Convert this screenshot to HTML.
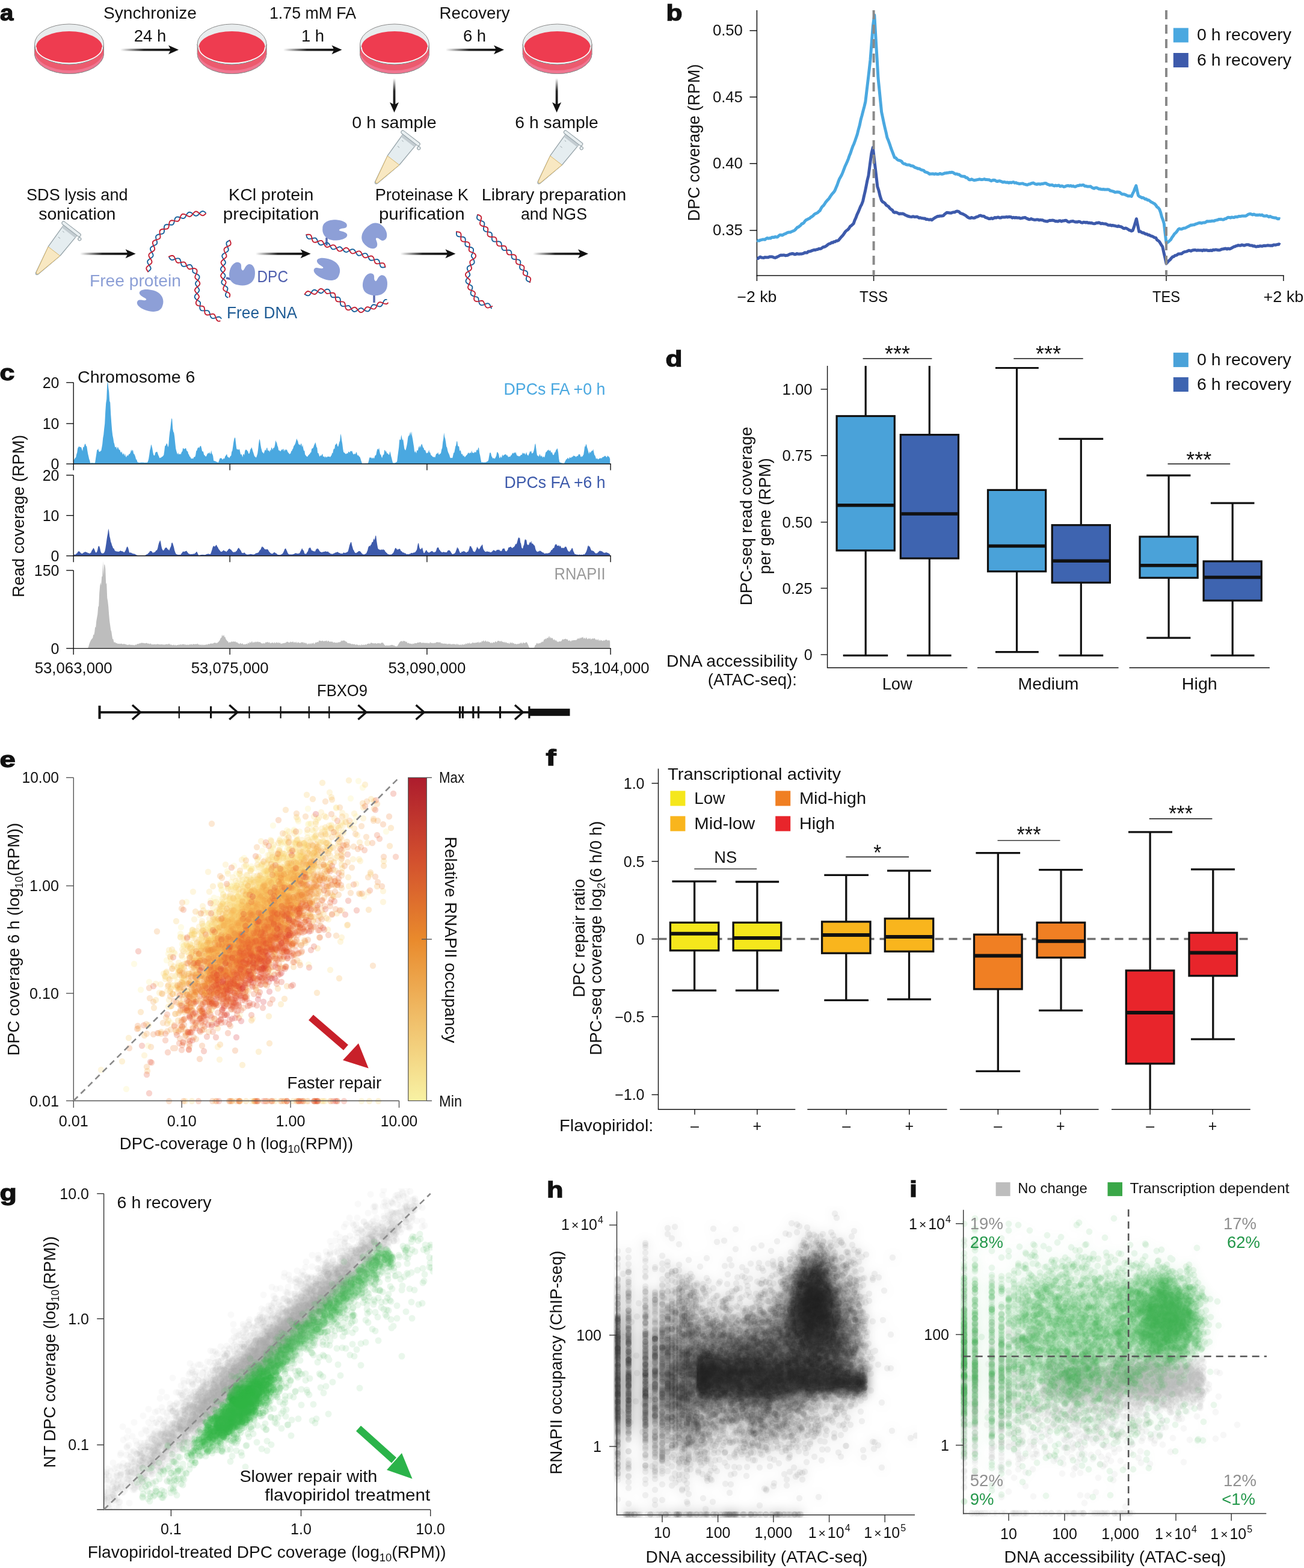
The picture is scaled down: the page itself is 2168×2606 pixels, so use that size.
<!DOCTYPE html>
<html><head><meta charset="utf-8"><title>DPC-seq figure</title>
<style>
html,body{margin:0;padding:0;background:#fff;}
svg{display:block;font-family:"Liberation Sans","DejaVu Sans",sans-serif;font-size:27px;fill:#111;}

</style>
</head><body>
<svg width="2168" height="2606" viewBox="0 0 2168 2606">
<defs>
<linearGradient id="ga" x1="0" x2="1" y1="0" y2="0"><stop offset="0" stop-color="#111" stop-opacity="0"/><stop offset="0.45" stop-color="#111" stop-opacity="0.9"/><stop offset="1" stop-color="#111"/></linearGradient>
<linearGradient id="gv" x1="0" x2="0" y1="0" y2="1"><stop offset="0" stop-color="#111" stop-opacity="0"/><stop offset="0.45" stop-color="#111" stop-opacity="0.9"/><stop offset="1" stop-color="#111"/></linearGradient>
<linearGradient id="cbar" x1="0" x2="0" y1="0" y2="1"><stop offset="0" stop-color="#ad1c2d"/><stop offset="0.25" stop-color="#d24f2e"/><stop offset="0.5" stop-color="#e98a2c"/><stop offset="0.75" stop-color="#f0bf6a"/><stop offset="1" stop-color="#f8f2a4"/></linearGradient>
<clipPath id="clipE"><rect x="115" y="1285" width="556" height="552"/></clipPath>
<clipPath id="clipG"><rect x="173" y="1975" width="546" height="534"/></clipPath>
<clipPath id="clipH"><rect x="1020" y="2005" width="505" height="518"/></clipPath>
<clipPath id="clipI"><rect x="1596" y="2005" width="514" height="516"/></clipPath>
<filter id="blur8" x="-50%" y="-50%" width="200%" height="200%"><feGaussianBlur stdDeviation="9"/></filter>
</defs>
<rect width="2168" height="2606" fill="#fff"/>
<text x="0" y="33.6" font-weight="bold" font-size="37" textLength="22.3" lengthAdjust="spacingAndGlyphs" stroke="#111" stroke-width="1.3">a</text>
<path d="M57.5 73.5 A57.5 33.5 0 0 0 172.5 73.5 L172.5 89 A57.5 33.5 0 0 1 57.5 89 Z" fill="#ec5a6e" stroke="#8a8a8a" stroke-width="1"/>
<path d="M57.5 83.5 A57.5 33.5 0 0 0 172.5 83.5 L172.5 89 A57.5 33.5 0 0 1 57.5 89 Z" fill="#f07590"/>
<path d="M57.5 89 A57.5 33.5 0 0 0 172.5 89" fill="none" stroke="#8a8a8a" stroke-width="1"/>
<ellipse cx="115" cy="73.5" rx="57.5" ry="33.5" fill="#e8eced" stroke="#8a8a8a" stroke-width="1"/>
<ellipse cx="115" cy="78.5" rx="55" ry="26.5" fill="#ee3c50"/>
<path d="M60 78.5 A55 26.5 0 0 0 170 78.5" fill="none" stroke="#fff" stroke-width="1.6"/>
<path d="M328.1 73.5 A57.5 33.5 0 0 0 443.1 73.5 L443.1 89 A57.5 33.5 0 0 1 328.1 89 Z" fill="#ec5a6e" stroke="#8a8a8a" stroke-width="1"/>
<path d="M328.1 83.5 A57.5 33.5 0 0 0 443.1 83.5 L443.1 89 A57.5 33.5 0 0 1 328.1 89 Z" fill="#f07590"/>
<path d="M328.1 89 A57.5 33.5 0 0 0 443.1 89" fill="none" stroke="#8a8a8a" stroke-width="1"/>
<ellipse cx="385.6" cy="73.5" rx="57.5" ry="33.5" fill="#e8eced" stroke="#8a8a8a" stroke-width="1"/>
<ellipse cx="385.6" cy="78.5" rx="55" ry="26.5" fill="#ee3c50"/>
<path d="M330.6 78.5 A55 26.5 0 0 0 440.6 78.5" fill="none" stroke="#fff" stroke-width="1.6"/>
<path d="M598.5 73.5 A57.5 33.5 0 0 0 713.5 73.5 L713.5 89 A57.5 33.5 0 0 1 598.5 89 Z" fill="#ec5a6e" stroke="#8a8a8a" stroke-width="1"/>
<path d="M598.5 83.5 A57.5 33.5 0 0 0 713.5 83.5 L713.5 89 A57.5 33.5 0 0 1 598.5 89 Z" fill="#f07590"/>
<path d="M598.5 89 A57.5 33.5 0 0 0 713.5 89" fill="none" stroke="#8a8a8a" stroke-width="1"/>
<ellipse cx="656" cy="73.5" rx="57.5" ry="33.5" fill="#e8eced" stroke="#8a8a8a" stroke-width="1"/>
<ellipse cx="656" cy="78.5" rx="55" ry="26.5" fill="#ee3c50"/>
<path d="M601 78.5 A55 26.5 0 0 0 711 78.5" fill="none" stroke="#fff" stroke-width="1.6"/>
<path d="M869.1 73.5 A57.5 33.5 0 0 0 984.1 73.5 L984.1 89 A57.5 33.5 0 0 1 869.1 89 Z" fill="#ec5a6e" stroke="#8a8a8a" stroke-width="1"/>
<path d="M869.1 83.5 A57.5 33.5 0 0 0 984.1 83.5 L984.1 89 A57.5 33.5 0 0 1 869.1 89 Z" fill="#f07590"/>
<path d="M869.1 89 A57.5 33.5 0 0 0 984.1 89" fill="none" stroke="#8a8a8a" stroke-width="1"/>
<ellipse cx="926.6" cy="73.5" rx="57.5" ry="33.5" fill="#e8eced" stroke="#8a8a8a" stroke-width="1"/>
<ellipse cx="926.6" cy="78.5" rx="55" ry="26.5" fill="#ee3c50"/>
<path d="M871.6 78.5 A55 26.5 0 0 0 981.6 78.5" fill="none" stroke="#fff" stroke-width="1.6"/>
<rect x="200" y="80.9" width="87" height="3.8" fill="url(#ga)"/><path d="M280 75.3 L297 82.8 L280 90.3 L284 82.8 Z" fill="#111"/>
<rect x="471" y="80.9" width="87.5" height="3.8" fill="url(#ga)"/><path d="M551.5 75.3 L568.5 82.8 L551.5 90.3 L555.5 82.8 Z" fill="#111"/>
<rect x="741" y="80.9" width="87" height="3.8" fill="url(#ga)"/><path d="M821 75.3 L838 82.8 L821 90.3 L825 82.8 Z" fill="#111"/>
<text x="249.5" y="31" text-anchor="middle" font-size="27.5" textLength="155" lengthAdjust="spacingAndGlyphs">Synchronize</text>
<text x="249.5" y="69" text-anchor="middle" font-size="27.5">24 h</text>
<text x="520" y="31" text-anchor="middle" font-size="27.5" textLength="144" lengthAdjust="spacingAndGlyphs">1.75 mM FA</text>
<text x="520" y="69" text-anchor="middle" font-size="27.5">1 h</text>
<text x="789" y="31" text-anchor="middle" font-size="27.5" textLength="117" lengthAdjust="spacingAndGlyphs">Recovery</text>
<text x="789" y="69" text-anchor="middle" font-size="27.5">6 h</text>
<rect x="653.6" y="130" width="3.8" height="47" fill="url(#gv)"/><path d="M648 170 L655.5 187 L663 170 L655.5 174 Z" fill="#111"/>
<rect x="923.7" y="130" width="3.8" height="47" fill="url(#gv)"/><path d="M918.1 170 L925.6 187 L933.1 170 L925.6 174 Z" fill="#111"/>
<text x="655.5" y="213" text-anchor="middle" font-size="27.5" textLength="140.5" lengthAdjust="spacingAndGlyphs">0 h sample</text>
<text x="925.6" y="213" text-anchor="middle" font-size="27.5" textLength="138.5" lengthAdjust="spacingAndGlyphs">6 h sample</text>
<g transform="translate(681.5 231) rotate(37.7)"><path d="M-14 1 L-12.5 44 L-2.2 92 Q0 95.5 2.2 92 L12.5 44 L14 1 Z" fill="#e5edf0" stroke="#96a3a9" stroke-width="1.3"/><path d="M-12.3 45 L12.3 45 L2 91 Q0 93.5 -2 91 Z" fill="#f8e8c2" stroke="#d6b56c" stroke-width="0.9"/><rect x="-14" y="1" width="28" height="5" fill="#c3ccd1"/><rect x="-19" y="-4.5" width="38" height="5.5" rx="2.5" fill="#e9eff1" stroke="#96a3a9" stroke-width="1.1"/><circle cx="21" cy="3" r="2.6" fill="#e9eff1" stroke="#96a3a9" stroke-width="1.1"/><path d="M-9 10 h3 M-9 22 h4" stroke="#8f9aa0" stroke-width="0.8"/></g>
<g transform="translate(952 231) rotate(37.7)"><path d="M-14 1 L-12.5 44 L-2.2 92 Q0 95.5 2.2 92 L12.5 44 L14 1 Z" fill="#e5edf0" stroke="#96a3a9" stroke-width="1.3"/><path d="M-12.3 45 L12.3 45 L2 91 Q0 93.5 -2 91 Z" fill="#f8e8c2" stroke="#d6b56c" stroke-width="0.9"/><rect x="-14" y="1" width="28" height="5" fill="#c3ccd1"/><rect x="-19" y="-4.5" width="38" height="5.5" rx="2.5" fill="#e9eff1" stroke="#96a3a9" stroke-width="1.1"/><circle cx="21" cy="3" r="2.6" fill="#e9eff1" stroke="#96a3a9" stroke-width="1.1"/><path d="M-9 10 h3 M-9 22 h4" stroke="#8f9aa0" stroke-width="0.8"/></g>
<g transform="translate(117.5 382) rotate(37.7)"><path d="M-14 1 L-12.5 44 L-2.2 92 Q0 95.5 2.2 92 L12.5 44 L14 1 Z" fill="#e5edf0" stroke="#96a3a9" stroke-width="1.3"/><path d="M-12.3 45 L12.3 45 L2 91 Q0 93.5 -2 91 Z" fill="#f8e8c2" stroke="#d6b56c" stroke-width="0.9"/><rect x="-14" y="1" width="28" height="5" fill="#c3ccd1"/><rect x="-19" y="-4.5" width="38" height="5.5" rx="2.5" fill="#e9eff1" stroke="#96a3a9" stroke-width="1.1"/><circle cx="21" cy="3" r="2.6" fill="#e9eff1" stroke="#96a3a9" stroke-width="1.1"/><path d="M-9 10 h3 M-9 22 h4" stroke="#8f9aa0" stroke-width="0.8"/></g>
<text x="128.3" y="333" text-anchor="middle" font-size="27.5" textLength="168.5" lengthAdjust="spacingAndGlyphs">SDS lysis and</text>
<text x="128.3" y="364.5" text-anchor="middle" font-size="27.5" textLength="128.3" lengthAdjust="spacingAndGlyphs">sonication</text>
<text x="450.7" y="333" text-anchor="middle" font-size="27.5" textLength="141.2" lengthAdjust="spacingAndGlyphs">KCl protein</text>
<text x="450.7" y="364.5" text-anchor="middle" font-size="27.5" textLength="159.8" lengthAdjust="spacingAndGlyphs">precipitation</text>
<text x="701.3" y="333" text-anchor="middle" font-size="27.5" textLength="155.3" lengthAdjust="spacingAndGlyphs">Proteinase K</text>
<text x="701.3" y="364.5" text-anchor="middle" font-size="27.5" textLength="142.8" lengthAdjust="spacingAndGlyphs">purification</text>
<text x="921" y="333" text-anchor="middle" font-size="27.5" textLength="240.6" lengthAdjust="spacingAndGlyphs">Library preparation</text>
<text x="921" y="364.5" text-anchor="middle" font-size="27.5" textLength="110" lengthAdjust="spacingAndGlyphs">and NGS</text>
<rect x="133" y="419.9" width="82.6" height="3.8" fill="url(#ga)"/><path d="M208.6 414.3 L225.6 421.8 L208.6 429.3 L212.6 421.8 Z" fill="#111"/>
<rect x="425" y="419.9" width="81.6" height="3.8" fill="url(#ga)"/><path d="M499.6 414.3 L516.6 421.8 L499.6 429.3 L503.6 421.8 Z" fill="#111"/>
<rect x="665.5" y="419.9" width="81.9" height="3.8" fill="url(#ga)"/><path d="M740.4 414.3 L757.4 421.8 L740.4 429.3 L744.4 421.8 Z" fill="#111"/>
<rect x="886" y="419.9" width="82" height="3.8" fill="url(#ga)"/><path d="M961 414.3 L978 421.8 L961 429.3 L965 421.8 Z" fill="#111"/>
<path d="M246.0 451.4L247.8 450.2L249.3 448.9L250.3 447.6L250.7 446.1L250.4 444.5L249.5 442.9L248.3 441.1L247.0 439.4L245.9 437.7L245.3 436.0L245.2 434.5L245.8 433.0L247.1 431.7L248.7 430.5L250.5 429.3L252.3 428.1L253.6 426.9L254.5 425.5L254.6 424.1L254.2 422.4L253.3 420.7L252.1 418.9L251.0 417.0L250.2 415.2L249.9 413.6L250.3 412.0L251.3 410.7L252.9 409.6L254.8 408.7L256.8 407.9L258.6 407.0L260.1 406.1L260.9 404.8L261.2 403.4L261.0 401.7L260.4 399.7L259.7 397.6L259.2 395.6L259.1 393.7L259.5 392.1L260.5 390.9L262.1 390.1L264.0 389.5L266.1 389.2L268.3 388.9L270.1 388.5L271.6 387.8L272.5 386.6L272.9 385.2L273.0 383.3L272.9 381.2L272.8 379.0L273.0 377.0L273.5 375.3L274.5 374.0L275.9 373.3L277.8 373.1L279.9 373.2L282.0 373.5L284.1 373.8L285.9 373.7L287.3 373.3L288.4 372.3L289.1 370.7L289.7 368.8L290.1 366.7L290.5 364.6L291.2 362.8L292.2 361.4L293.6 360.6L295.3 360.5L297.2 360.8L299.2 361.4L301.2 362.2L303.1 362.8L304.8 363.0L306.2 362.7L307.3 361.8L308.4 360.3L309.3 358.5L310.3 356.5L311.4 354.8L312.8 353.4L314.3 352.7L315.9 352.7L317.6 353.3L319.3 354.5L320.9 355.9L322.5 357.2L324.1 358.3L325.6 358.8L327.1 358.6L328.5 357.9L330.0 356.6L331.4 355.0L332.8 353.4L334.3 352.0L335.8 351.1L337.2 350.9L338.7 351.3L340.3 352.3L341.8 353.6" fill="none" stroke="#17609a" stroke-width="1.9" stroke-linecap="round"/><path d="M246.0 451.4L244.8 449.6L243.8 448.0L243.3 446.4L243.5 444.9L244.3 443.5L245.6 442.2L247.3 441.0L249.1 439.7L250.8 438.5L251.9 437.2L252.5 435.8L252.4 434.2L251.8 432.6L250.7 430.9L249.4 429.1L248.3 427.3L247.5 425.6L247.3 424.0L247.7 422.6L248.8 421.2L250.4 420.0L252.3 418.9L254.1 417.9L255.7 416.7L256.8 415.5L257.2 414.2L257.1 412.6L256.5 410.9L255.6 409.0L254.7 407.0L254.0 405.1L253.8 403.3L254.2 401.8L255.2 400.5L256.8 399.6L258.8 398.8L260.9 398.3L262.9 397.7L264.5 397.0L265.7 396.1L266.4 394.8L266.5 393.1L266.3 391.1L265.9 389.0L265.6 386.9L265.5 385.0L265.9 383.3L266.9 382.1L268.4 381.2L270.3 380.8L272.4 380.7L274.6 380.7L276.6 380.6L278.2 380.3L279.4 379.5L280.2 378.2L280.7 376.5L280.9 374.5L281.1 372.3L281.5 370.3L282.1 368.5L283.1 367.2L284.5 366.5L286.2 366.3L288.2 366.6L290.3 367.1L292.4 367.6L294.3 367.8L295.9 367.7L297.1 366.9L298.1 365.7L298.8 363.9L299.5 361.9L300.1 359.8L301.0 358.0L302.1 356.6L303.5 355.8L305.2 355.7L307.0 356.1L308.9 357.0L310.7 358.1L312.5 359.1L314.1 359.8L315.6 360.0L317.0 359.5L318.2 358.5L319.5 356.9L320.9 355.2L322.2 353.6L323.6 352.3L325.1 351.5L326.6 351.5L328.2 352.1L329.8 353.2L331.4 354.6L333.0 356.1L334.5 357.4L336.0 358.1L337.6 358.2L339.0 357.7L340.5 356.5L342.0 355.0" fill="none" stroke="#c42235" stroke-width="1.9" stroke-linecap="round"/>
<path d="M281.0 426.7L281.9 428.7L283.0 430.3L284.1 431.5L285.5 432.1L287.0 432.1L288.8 431.5L290.7 430.7L292.7 429.9L294.7 429.4L296.6 429.4L298.2 429.9L299.3 431.1L300.0 432.7L300.5 434.7L300.8 436.9L301.3 439.0L301.9 440.7L303.0 442.0L304.4 442.8L306.2 442.9L308.3 442.5L310.3 441.6L312.2 440.7L314.0 440.1L315.7 439.9L317.3 440.4L318.5 441.6L319.5 443.4L320.1 445.5L320.3 447.6L320.3 449.5L320.3 451.0L320.8 452.3L321.7 453.1L323.2 453.9L325.0 454.6L327.0 455.4L328.9 456.4L330.5 457.6L331.4 459.1L331.6 460.6L331.2 462.4L330.1 464.1L328.8 465.9L327.3 467.4L326.0 468.7L325.2 470.1L325.0 471.5L325.4 473.0L326.3 474.6L327.6 476.3L329.0 477.9L330.2 479.5L331.1 481.0L331.3 482.3L330.9 483.9L329.9 485.4L328.5 486.8L326.8 488.3L325.3 489.7L324.2 491.2L323.7 492.8L323.8 494.4L324.7 496.0L326.1 497.5L327.9 498.8L329.6 499.8L331.2 500.7L332.3 501.6L333.0 502.7L333.1 504.1L332.9 505.9L332.6 507.9L332.3 510.1L332.3 512.1L332.8 513.9L333.6 515.2L335.0 516.1L336.8 516.4L338.9 516.4L341.0 516.3L343.1 516.1L344.9 516.1L346.3 516.5L347.4 517.5L348.1 518.9L348.7 520.8L349.2 522.9L349.7 525.0L350.4 526.8L351.4 528.1L352.6 528.9L354.3 529.2L356.2 528.9L358.3 528.2L360.3 527.4L362.2 526.7L363.9 526.5L365.4 526.8L366.6 527.8L367.7 529.3" fill="none" stroke="#17609a" stroke-width="1.9" stroke-linecap="round"/><path d="M281.0 426.7L282.9 425.7L284.7 425.0L286.4 424.8L287.9 425.2L289.2 426.2L290.2 427.8L291.1 429.8L291.8 431.8L292.5 433.7L293.2 435.2L294.2 436.2L295.6 436.7L297.3 436.7L299.3 436.4L301.5 436.0L303.5 435.6L305.4 435.5L306.8 435.8L308.0 436.7L308.8 438.0L309.5 439.7L310.2 441.7L311.1 443.6L312.1 445.3L313.2 446.6L314.4 447.2L315.9 447.2L317.6 446.8L319.6 446.3L321.7 445.9L323.9 446.2L325.8 447.0L327.0 448.2L327.6 449.9L327.5 451.8L326.9 453.8L326.0 455.8L325.1 457.7L324.4 459.3L324.3 460.8L324.7 462.2L325.7 463.4L327.2 464.6L328.9 465.8L330.5 467.3L331.7 469.0L332.3 470.6L332.2 472.2L331.5 473.7L330.2 475.1L328.5 476.4L326.8 477.7L325.3 479.1L324.3 480.6L323.9 482.3L324.3 483.8L325.2 485.2L326.5 486.8L328.0 488.3L329.5 489.9L330.5 491.4L331.0 492.8L330.9 494.2L330.1 495.6L329.0 497.1L327.7 498.8L326.5 500.7L325.8 502.6L325.9 504.6L326.6 506.2L327.9 507.4L329.8 508.1L331.9 508.4L334.1 508.6L336.0 508.8L337.7 509.2L338.9 510.0L339.6 511.3L340.0 513.0L340.2 515.1L340.2 517.2L340.4 519.3L341.0 521.2L342.1 522.6L343.4 523.3L345.2 523.5L347.2 523.2L349.3 522.7L351.3 522.1L353.2 521.8L354.9 521.9L356.2 522.6L357.1 523.8L357.9 525.5L358.6 527.5L359.3 529.5L360.2 531.4L361.2 532.8L362.5 533.6L364.0 533.9L365.7 533.5" fill="none" stroke="#c42235" stroke-width="1.9" stroke-linecap="round"/>
<path d="M382.0 399.5L380.1 400.4L378.4 401.3L377.1 402.4L376.5 403.8L376.4 405.4L376.9 407.2L377.8 409.1L378.7 411.1L379.4 413.0L379.8 414.7L379.6 416.2L378.8 417.4L377.5 418.5L375.7 419.5L373.7 420.5L371.9 421.5L370.4 422.7L369.5 424.1L369.2 425.6L369.7 427.4L370.6 429.1L371.9 430.9L373.2 432.6L374.3 434.2L374.9 435.7L374.8 437.2L374.1 438.6L372.9 440.0L371.3 441.4L369.7 442.8L368.2 444.2L367.3 445.7L366.9 447.3L367.2 448.8L368.2 450.3L369.6 451.8L371.2 453.3L372.7 454.8L373.9 456.2L374.4 457.6L374.4 459.1L373.7 460.6L372.6 462.2L371.2 463.8L369.8 465.5L368.8 467.2L368.3 468.9L368.5 470.5L369.4 471.9L370.9 473.1L372.7 474.3L374.6 475.3L376.3 476.3L377.6 477.4L378.4 478.7L378.5 480.2L378.1 481.9L377.3 483.8L376.3 485.8L375.5 487.7L375.0 489.5L375.0 491.1L375.7 492.4L376.9 493.5L378.6 494.4" fill="none" stroke="#17609a" stroke-width="1.9" stroke-linecap="round"/><path d="M382.0 399.5L382.9 401.4L383.6 403.3L383.7 405.0L383.3 406.5L382.2 407.7L380.6 408.6L378.7 409.5L376.7 410.3L374.9 411.3L373.5 412.4L372.7 413.7L372.5 415.3L372.9 417.0L373.7 418.9L374.8 420.8L375.8 422.6L376.4 424.3L376.6 425.9L376.1 427.2L375.1 428.4L373.6 429.6L371.8 430.9L370.1 432.2L368.7 433.5L367.8 435.0L367.5 436.5L368.0 438.1L369.0 439.7L370.4 441.3L371.8 442.9L373.1 444.4L374.0 445.9L374.3 447.4L373.9 448.9L373.0 450.3L371.6 451.8L370.0 453.3L368.6 454.9L367.6 456.5L367.1 458.0L367.3 459.5L368.2 461.0L369.6 462.5L371.3 463.8L373.0 465.1L374.4 466.4L375.3 467.7L375.7 469.0L375.4 470.6L374.6 472.2L373.6 474.0L372.5 475.9L371.6 477.7L371.2 479.5L371.4 481.1L372.2 482.4L373.6 483.5L375.5 484.5L377.5 485.3L379.4 486.2L380.9 487.2L381.9 488.5L382.3 489.9L382.1 491.7L381.4 493.6" fill="none" stroke="#c42235" stroke-width="1.9" stroke-linecap="round"/>
<path d="M-18 -3C-18 -15 -7 -19 3 -18C12 -17 19 -12 17 -6C15 -1 8 -4 6 0C5 3 14 2 17 7C20 13 12 19 0 19C-12 19 -19 9 -18 -3Z" fill="#8d9fd7" transform="translate(250 500) rotate(-165) scale(1.2 0.95)"/>
<line x1="376" y1="462" x2="389" y2="465" stroke="#5a6bb0" stroke-width="3.5"/>
<path d="M-18 -3C-18 -15 -7 -19 3 -18C12 -17 19 -12 17 -6C15 -1 8 -4 6 0C5 3 14 2 17 7C20 13 12 19 0 19C-12 19 -19 9 -18 -3Z" fill="#8d9fd7" transform="translate(402 455.5) rotate(-80) scale(1.05 1.15)"/>
<text x="149" y="476" fill="#8c9fd6" font-size="27.5" textLength="152" lengthAdjust="spacingAndGlyphs">Free protein</text>
<text x="427.5" y="469" fill="#4f5fae" font-size="27.5" textLength="51.5" lengthAdjust="spacingAndGlyphs">DPC</text>
<text x="377" y="529" fill="#1f5c95" font-size="27.5" textLength="117" lengthAdjust="spacingAndGlyphs">Free DNA</text>
<line x1="543" y1="395" x2="543" y2="408" stroke="#5a6bb0" stroke-width="3.5"/>
<path d="M-18 -3C-18 -15 -7 -19 3 -18C12 -17 19 -12 17 -6C15 -1 8 -4 6 0C5 3 14 2 17 7C20 13 12 19 0 19C-12 19 -19 9 -18 -3Z" fill="#8d9fd7" transform="translate(557 382) rotate(0) scale(1.15 0.92)"/>
<path d="M-18 -3C-18 -15 -7 -19 3 -18C12 -17 19 -12 17 -6C15 -1 8 -4 6 0C5 3 14 2 17 7C20 13 12 19 0 19C-12 19 -19 9 -18 -3Z" fill="#8d9fd7" transform="translate(622 391) rotate(50) scale(1.0 1.15)"/>
<path d="M-18 -3C-18 -15 -7 -19 3 -18C12 -17 19 -12 17 -6C15 -1 8 -4 6 0C5 3 14 2 17 7C20 13 12 19 0 19C-12 19 -19 9 -18 -3Z" fill="#8d9fd7" transform="translate(544 448) rotate(-160) scale(1.2 0.92)"/>
<line x1="622" y1="488" x2="622" y2="503" stroke="#5a6bb0" stroke-width="3.5"/>
<path d="M-18 -3C-18 -15 -7 -19 3 -18C12 -17 19 -12 17 -6C15 -1 8 -4 6 0C5 3 14 2 17 7C20 13 12 19 0 19C-12 19 -19 9 -18 -3Z" fill="#8d9fd7" transform="translate(623 473) rotate(-80) scale(1.0 1.1)"/>
<path d="M509.4 390.3L509.8 392.4L510.3 394.3L511.2 395.7L512.4 396.7L514.0 397.1L515.9 396.9L517.9 396.5L520.0 396.0L522.0 395.6L523.7 395.5L525.1 395.9L526.2 396.9L527.1 398.4L527.8 400.2L528.6 402.3L529.4 404.2L530.5 405.8L531.8 406.8L533.2 407.2L535.0 407.0L536.8 406.2L538.7 405.3L540.6 404.3L542.5 403.6L544.1 403.4L545.6 403.9L546.8 404.9L547.9 406.5L548.8 408.4L549.7 410.4L550.7 412.2L551.8 413.5L553.1 414.3L554.7 414.4L556.5 413.9L558.4 413.0L560.3 412.0L562.1 411.0L563.8 410.4L565.3 410.3L566.6 410.8L567.8 411.9L569.0 413.4L570.3 415.1L571.6 416.8L573.0 418.1L574.5 418.9L575.9 419.1L577.4 418.7L578.9 417.8L580.7 416.6L582.5 415.4L584.4 414.5L586.1 414.1L587.6 414.3L588.9 415.1L590.1 416.6L591.1 418.4L592.1 420.3L593.1 422.1L594.2 423.6L595.5 424.5L596.9 424.7L598.6 424.4L600.5 423.6L602.4 422.6L604.3 421.7L606.2 421.1L607.8 421.1L609.3 421.6L610.4 422.8L611.4 424.5L612.2 426.5L612.9 428.6L613.7 430.4L614.7 431.7L615.9 432.5L617.3 432.8L619.1 432.6L621.2 432.1L623.3 431.5L625.3 431.1L627.1 431.0L628.6 431.5L629.8 432.6L630.5 434.1L631.1 436.1L631.4 438.3L631.8 440.3L632.4 442.1L633.3 443.5L634.6 444.3L636.3 444.5L638.2 444.3L640.3 443.9" fill="none" stroke="#17609a" stroke-width="1.9" stroke-linecap="round"/><path d="M509.4 390.3L511.5 389.8L513.5 389.6L515.1 389.8L516.4 390.6L517.4 391.9L518.0 393.6L518.5 395.7L518.9 397.8L519.5 399.8L520.4 401.4L521.6 402.4L523.2 402.8L525.0 402.7L527.0 402.0L529.0 401.2L531.0 400.4L532.7 399.9L534.3 399.9L535.6 400.5L536.8 401.8L537.7 403.5L538.7 405.4L539.6 407.4L540.6 409.0L541.8 410.2L543.2 410.7L544.8 410.7L546.6 410.1L548.5 409.2L550.4 408.2L552.3 407.4L554.0 407.1L555.5 407.3L556.8 408.1L557.9 409.5L558.9 411.3L559.9 413.3L560.9 415.1L562.1 416.5L563.5 417.4L565.1 417.6L566.8 417.1L568.6 416.1L570.3 414.7L572.0 413.4L573.6 412.3L575.2 411.8L576.7 411.9L578.2 412.8L579.6 414.2L580.8 416.0L581.9 417.9L583.0 419.5L584.2 420.8L585.5 421.4L587.1 421.4L588.8 420.8L590.7 419.9L592.6 418.8L594.4 417.9L596.2 417.4L597.8 417.4L599.1 418.1L600.3 419.4L601.3 421.2L602.2 423.2L603.1 425.1L604.1 426.7L605.3 427.8L606.6 428.3L608.3 428.3L610.1 427.7L612.0 426.9L614.1 426.1L616.0 425.5L617.8 425.5L619.3 426.0L620.4 427.2L621.3 428.9L621.9 430.9L622.3 433.0L622.9 435.0L623.6 436.6L624.7 437.7L626.0 438.3L627.8 438.4L629.8 438.1L631.9 437.6L634.0 437.2L635.9 437.1L637.5 437.4L638.7 438.3L639.5 439.8L640.0 441.6L640.5 443.7" fill="none" stroke="#c42235" stroke-width="1.9" stroke-linecap="round"/>
<path d="M506.7 489.0L508.5 490.2L510.3 491.0L511.9 491.4L513.4 491.1L514.7 490.2L515.9 488.8L517.1 487.0L518.2 485.1L519.4 483.5L520.7 482.3L522.2 481.7L523.8 481.8L525.5 482.6L527.2 483.7L528.9 485.0L530.7 486.2L532.3 487.0L533.8 487.3L535.2 486.9L536.4 486.0L537.8 484.6L539.3 483.1L541.0 481.7L542.9 480.8L544.9 480.7L546.6 481.3L547.9 482.7L548.7 484.5L549.2 486.6L549.5 488.8L549.8 490.7L550.4 492.3L551.3 493.4L552.7 494.1L554.6 494.3L556.6 494.2L558.8 494.0L560.9 493.8L562.7 494.0L564.2 494.7L565.2 496.0L565.8 497.7L565.9 499.7L565.9 501.9L565.9 504.0L566.2 505.9L566.9 507.4L568.0 508.5L569.7 509.0L571.7 509.1L573.8 508.9L576.0 508.5L577.8 508.1L579.3 508.0L580.6 508.4L581.6 509.3L582.6 510.8L583.6 512.6L584.7 514.5L585.9 516.2L587.3 517.4L588.8 518.0L590.4 517.9L592.1 517.2L593.7 515.9L595.4 514.5L597.0 513.2L598.7 512.3L600.1 511.9L601.3 512.1L602.6 512.8L604.1 513.9L605.8 515.2L607.6 516.3L609.5 517.2L611.2 517.5L612.7 517.1L614.0 516.0L615.1 514.4L616.0 512.5L616.9 510.5L617.8 508.7L618.9 507.3L620.1 506.5L621.7 506.3L623.4 506.6L625.4 507.4L627.4 508.3L629.3 509.1L631.1 509.5L632.7 509.3L634.0 508.6L635.1 507.2L636.0 505.4L636.8 503.4L637.6 501.4L638.5 499.7L639.6 498.5L641.0 497.9L642.7 497.9" fill="none" stroke="#17609a" stroke-width="1.9" stroke-linecap="round"/><path d="M506.7 489.0L507.8 487.2L509.0 485.6L510.2 484.5L511.7 484.0L513.3 484.2L515.0 485.0L516.9 486.1L518.7 487.3L520.4 488.3L522.0 488.9L523.5 489.0L524.9 488.4L526.2 487.2L527.5 485.6L528.7 483.8L529.9 482.0L531.3 480.7L532.8 480.0L534.4 480.0L536.1 480.6L537.8 481.9L539.3 483.4L540.6 485.1L541.7 486.5L542.6 487.5L543.7 488.0L545.0 487.9L546.8 487.6L548.9 487.1L551.0 486.8L553.1 486.7L554.8 487.0L556.2 487.8L557.0 489.2L557.5 491.0L557.7 493.0L557.8 495.2L558.0 497.3L558.5 499.0L559.3 500.2L560.5 501.0L562.2 501.4L564.2 501.5L566.4 501.4L568.5 501.4L570.4 501.6L571.9 502.2L572.9 503.2L573.5 504.7L573.8 506.5L574.0 508.6L574.3 510.8L575.1 512.8L576.2 514.3L577.7 515.1L579.5 515.3L581.3 514.8L583.2 513.8L585.1 512.6L586.8 511.6L588.4 510.9L589.8 510.7L591.2 511.2L592.6 512.3L593.9 513.8L595.3 515.5L596.6 517.2L597.9 518.5L599.5 519.2L601.3 519.1L603.0 518.3L604.5 516.9L605.8 515.1L606.9 513.3L608.0 511.7L609.2 510.6L610.5 510.1L612.1 510.2L613.8 510.8L615.7 511.7L617.7 512.6L619.6 513.4L621.4 513.6L622.9 513.4L624.2 512.4L625.2 510.9L626.1 509.1L626.8 507.0L627.7 505.1L628.7 503.6L629.9 502.5L631.3 502.1L633.0 502.3L634.9 502.9L636.9 503.8L638.9 504.6L640.8 505.1L642.4 505.2L643.8 504.6L644.9 503.5" fill="none" stroke="#c42235" stroke-width="1.9" stroke-linecap="round"/>
<path d="M759.1 385.3L758.9 387.5L759.0 389.4L759.4 391.1L760.4 392.3L761.8 393.0L763.7 393.4L765.8 393.5L768.0 393.6L770.0 393.8L771.7 394.4L772.9 395.3L773.6 396.8L773.8 398.6L773.7 400.6L773.5 402.8L773.3 404.9L773.5 406.7L774.0 408.2L775.1 409.2L776.7 409.8L778.6 410.2L780.7 410.6L782.8 411.0L784.7 411.6L786.1 412.6L786.9 413.9L787.1 415.7L786.8 417.7L786.1 419.7L785.2 421.7L784.3 423.3L783.8 424.8L783.8 425.9L784.3 427.0L785.3 428.4L786.5 430.0L787.6 431.9L788.4 433.9L788.7 435.8L788.3 437.4L787.4 438.6L785.8 439.6L783.9 440.3L781.8 441.0L779.8 441.8L778.2 442.8L777.1 444.1L776.7 445.8L777.0 447.5L777.9 449.4L779.0 451.2L780.1 453.1L780.9 454.8L781.3 456.3L781.1 457.6L780.3 458.9L779.1 460.2L777.6 461.6L776.1 463.3L775.0 465.1L774.5 466.8L774.7 468.5L775.5 469.9L777.0 471.2L778.8 472.2L780.8 473.1L782.7 474.0L784.2 475.0L785.1 476.2L785.4 477.6L785.2 479.4L784.5 481.3L783.7 483.3L783.0 485.3L782.6 487.2L782.8 488.8L783.5 490.1L784.8 491.2L786.7 492.0L788.7 492.6L790.8 493.1L792.7 493.5L794.1 494.2L795.0 495.0L795.5 496.4L795.7 498.1L796.0 500.2L796.4 502.3L797.0 504.3L798.0 505.9L799.3 506.9L800.9 507.2L802.7 506.9L804.7 506.3L806.7 505.4L808.7 504.7L810.4 504.3L812.0 504.4L813.3 505.2L814.4 506.5L815.3 508.3L816.1 510.3L816.9 512.3" fill="none" stroke="#17609a" stroke-width="1.9" stroke-linecap="round"/><path d="M759.1 385.3L761.3 385.4L763.2 385.7L764.8 386.3L765.8 387.4L766.4 388.9L766.6 390.8L766.4 392.9L766.3 395.1L766.2 397.2L766.5 398.9L767.3 400.2L768.6 401.1L770.4 401.5L772.4 401.8L774.6 401.9L776.7 402.1L778.5 402.7L779.8 403.6L780.6 405.0L780.9 406.7L780.7 408.8L780.3 410.9L779.9 413.0L779.7 414.9L780.0 416.5L780.8 417.7L782.1 418.5L783.8 419.2L785.8 419.9L787.8 420.7L789.6 422.0L790.7 423.5L791.1 425.3L790.7 427.2L789.4 428.9L787.7 430.3L785.7 431.3L783.9 432.1L782.5 433.1L781.6 434.2L781.3 435.7L781.5 437.4L782.1 439.4L782.8 441.5L783.5 443.4L784.0 445.2L784.0 446.6L783.4 447.8L782.3 449.0L780.6 450.1L778.7 451.2L776.8 452.2L775.3 453.5L774.2 454.9L773.9 456.6L774.4 458.3L775.5 460.1L777.0 461.6L778.7 463.0L780.2 464.2L781.3 465.4L781.8 466.7L781.7 468.2L781.1 469.8L780.2 471.7L779.2 473.7L778.4 475.6L778.0 477.4L778.3 479.0L779.1 480.3L780.5 481.4L782.4 482.2L784.5 482.9L786.5 483.7L788.2 484.5L789.4 485.7L789.9 487.1L789.9 488.7L789.4 490.6L788.8 492.6L788.2 494.8L788.1 496.8L788.5 498.6L789.6 500.0L791.2 500.8L793.3 501.1L795.4 500.9L797.5 500.4L799.5 500.0L801.2 499.8L802.6 500.2L803.7 501.2L804.6 502.8L805.4 504.7L806.1 506.7L807.0 508.7L808.0 510.2L809.2 511.2L810.7 511.6L812.4 511.4L814.3 510.7L816.3 509.8L818.3 509.1" fill="none" stroke="#c42235" stroke-width="1.9" stroke-linecap="round"/>
<path d="M794.2 356.9L793.5 358.9L793.0 360.8L793.0 362.5L793.6 363.9L794.8 365.0L796.5 365.9L798.5 366.6L800.6 367.2L802.5 367.8L804.0 368.7L805.0 369.9L805.4 371.3L805.3 373.1L804.9 375.1L804.3 377.2L804.0 379.3L803.9 381.1L804.4 382.7L805.4 383.8L806.9 384.6L808.9 385.1L811.1 385.4L813.2 385.6L815.0 386.0L816.5 386.7L817.5 387.8L817.9 389.4L818.0 391.2L817.9 393.4L817.8 395.6L817.9 397.6L818.4 399.3L819.3 400.5L820.8 401.3L822.6 401.6L824.7 401.6L826.9 401.4L828.9 401.3L830.7 401.6L832.1 402.3L833.1 403.4L833.6 405.1L833.9 407.1L834.0 409.3L834.2 411.4L834.5 413.3L835.3 414.7L836.5 415.6L838.1 416.1L840.0 416.1L842.2 415.9L844.3 415.8L846.3 415.8L848.0 416.2L849.2 417.1L850.0 418.6L850.4 420.4L850.5 422.5L850.5 424.7L850.6 426.7L851.0 428.4L851.8 429.7L853.0 430.5L854.7 431.0L856.7 431.1L858.9 431.2L861.0 431.4L862.9 431.9L864.3 432.8L865.1 434.2L865.4 435.9L865.2 437.9L864.8 440.1L864.3 442.2L864.1 444.1L864.3 445.7L865.1 447.0L866.4 448.0L868.2 448.6L870.3 449.1L872.4 449.6L874.3 450.2L875.9 451.1L876.8 452.3L877.2 453.9L877.0 455.7L876.4 457.7L875.7 459.8L875.1 461.8L874.8 463.6L875.1 465.1L876.0 466.4L877.4 467.4L879.3 468.1L881.4 468.8" fill="none" stroke="#17609a" stroke-width="1.9" stroke-linecap="round"/><path d="M794.2 356.9L796.3 357.5L798.1 358.3L799.4 359.4L800.2 360.7L800.3 362.3L800.0 364.1L799.3 366.1L798.6 368.2L798.1 370.2L798.0 372.0L798.5 373.5L799.6 374.6L801.3 375.5L803.3 376.0L805.4 376.5L807.5 376.9L809.2 377.6L810.5 378.5L811.1 379.8L811.3 381.5L811.1 383.5L810.8 385.6L810.5 387.7L810.5 389.7L811.0 391.4L811.9 392.5L813.5 393.3L815.4 393.7L817.5 393.8L819.7 393.8L821.7 393.9L823.3 394.4L824.5 395.3L825.2 396.6L825.6 398.4L825.7 400.5L825.7 402.7L825.9 404.7L826.4 406.5L827.2 407.8L828.6 408.6L830.3 408.9L832.3 408.9L834.5 408.7L836.6 408.5L838.5 408.7L840.0 409.2L841.1 410.2L841.8 411.7L842.2 413.7L842.3 415.8L842.4 418.0L842.7 419.9L843.3 421.5L844.3 422.6L845.8 423.2L847.6 423.4L849.7 423.3L851.9 423.2L854.0 423.3L855.7 423.7L857.1 424.6L857.9 425.9L858.3 427.7L858.3 429.8L858.1 432.0L857.9 434.0L858.0 435.9L858.4 437.3L859.4 438.4L860.9 439.1L862.8 439.6L865.0 439.9L867.1 440.3L869.0 441.0L870.4 441.9L871.2 443.1L871.5 444.7L871.3 446.6L870.9 448.7L870.3 450.8L869.9 452.8L869.8 454.5L870.3 455.9L871.4 457.0L873.0 457.8L875.0 458.5L877.1 459.1L879.0 459.8L880.6 460.7L881.7 461.9L882.2 463.3L882.1 465.1L881.5 467.0L880.8 469.0" fill="none" stroke="#c42235" stroke-width="1.9" stroke-linecap="round"/>
<text x="1107.5" y="33.6" font-weight="bold" font-size="37" textLength="27" lengthAdjust="spacingAndGlyphs" stroke="#111" stroke-width="1.3">b</text>
<line x1="1258.4" y1="17" x2="1258.4" y2="459" stroke="#111" stroke-width="1.5"/>
<line x1="1257.7" y1="458" x2="2134.7" y2="458" stroke="#111" stroke-width="1.5"/>
<line x1="1246.4" y1="50.9" x2="1258.4" y2="50.9" stroke="#111" stroke-width="1.5"/>
<text x="1234.9" y="59.4" text-anchor="end" font-size="25" textLength="50" lengthAdjust="spacingAndGlyphs">0.50</text>
<line x1="1246.4" y1="161.3" x2="1258.4" y2="161.3" stroke="#111" stroke-width="1.5"/>
<text x="1234.9" y="169.8" text-anchor="end" font-size="25" textLength="50" lengthAdjust="spacingAndGlyphs">0.45</text>
<line x1="1246.4" y1="271.8" x2="1258.4" y2="271.8" stroke="#111" stroke-width="1.5"/>
<text x="1234.9" y="280.3" text-anchor="end" font-size="25" textLength="50" lengthAdjust="spacingAndGlyphs">0.40</text>
<line x1="1246.4" y1="382.9" x2="1258.4" y2="382.9" stroke="#111" stroke-width="1.5"/>
<text x="1234.9" y="391.4" text-anchor="end" font-size="25" textLength="50" lengthAdjust="spacingAndGlyphs">0.35</text>
<line x1="1258.4" y1="458" x2="1258.4" y2="467" stroke="#111" stroke-width="1.5"/>
<text x="1258.4" y="502" text-anchor="middle" font-size="25" textLength="66" lengthAdjust="spacingAndGlyphs">−2 kb</text>
<line x1="1452.6" y1="458" x2="1452.6" y2="467" stroke="#111" stroke-width="1.5"/>
<text x="1452.6" y="502" text-anchor="middle" font-size="25" textLength="47" lengthAdjust="spacingAndGlyphs">TSS</text>
<line x1="1939" y1="458" x2="1939" y2="467" stroke="#111" stroke-width="1.5"/>
<text x="1939" y="502" text-anchor="middle" font-size="25" textLength="46" lengthAdjust="spacingAndGlyphs">TES</text>
<line x1="2133.9" y1="458" x2="2133.9" y2="467" stroke="#111" stroke-width="1.5"/>
<text x="2133.9" y="502" text-anchor="middle" font-size="25" textLength="67" lengthAdjust="spacingAndGlyphs">+2 kb</text>
<path d="M1258.4 429.1L1260.3 429.5L1262.2 428L1264.1 427.1L1266 428L1267.9 428.3L1269.8 428.4L1271.7 427.6L1273.6 427.8L1275.5 427.8L1277.4 427.7L1279.3 426.8L1281.2 426.8L1283.1 426.7L1285 427.2L1286.9 428.1L1288.8 428.4L1290.7 427.6L1292.5 426.9L1294.4 425.9L1296.3 424.8L1298.2 424L1300.1 424.3L1302 424.1L1303.9 423.9L1305.8 424.8L1307.7 424.4L1309.5 424.2L1311.4 423.3L1313.3 422.2L1315.2 422.1L1317.1 421.5L1319 421.8L1320.9 422.8L1322.8 422.7L1324.6 421.5L1326.5 422.1L1328.4 422.2L1330.3 422L1332.2 422.1L1334.1 421.6L1336.1 421.1L1338 419.7L1340 420L1341.9 419.9L1343.8 418L1345.8 417.9L1347.7 417.5L1349.7 416.6L1351.6 416L1353.5 415.3L1355.5 415.6L1357.4 414.7L1359.3 414.6L1361.3 413.4L1363.2 413.6L1365.2 413.1L1367.1 411.6L1369 410.5L1371 410.2L1372.9 409.3L1374.9 407.9L1376.8 406.2L1378.7 405.1L1380.7 404.7L1382.6 403.1L1384.6 403.3L1386.5 401.7L1388.4 401.7L1390.4 400.2L1392.3 400.2L1394.3 399.3L1396.2 396.8L1398.1 394.5L1400 392.5L1401.9 390.3L1403.8 387.5L1405.7 384.8L1407.6 383L1409.5 381.8L1411.4 379.7L1413.3 376.4L1415.3 375.1L1417.2 373.3L1419.1 371.6L1421 366.1L1422.9 362.2L1424.9 356.6L1426.8 352.7L1428.8 347.9L1430.7 343.1L1432.6 339.7L1434.6 334.4L1436.4 326.1L1438.3 318.2L1440.2 308.8L1442 299.6L1443.9 292L1446.4 273.1L1448.9 254.9L1451.3 245.1L1454.4 272.4L1456.6 290.6L1458.8 310L1461.1 317.1L1463.3 326.3L1465.6 333.1L1467.6 335.6L1469.6 336.5L1471.5 338.2L1473.5 341L1475.5 342.2L1477.5 343.6L1479.4 346.2L1481.4 347.9L1483.4 348.9L1485.4 352.2L1487.3 353.2L1489.3 352.8L1491.2 353.4L1493.1 354.4L1495.1 355.5L1497 355L1499 355.3L1500.9 355.1L1502.8 355.9L1504.8 357.2L1506.7 358L1508.7 359L1510.6 359.5L1512.5 360.1L1514.5 360.4L1516.4 360.2L1518.4 359.8L1520.3 360.5L1522.2 360.4L1524.2 360.1L1526.1 360.8L1528 362.2L1530 361.7L1531.9 362.5L1533.9 362.7L1535.8 363.2L1537.7 363L1539.7 364.6L1541.6 364.3L1543.6 365L1545.5 365.2L1547.4 364.7L1549.4 365.6L1551.3 364.1L1553.2 362.7L1555.1 361.4L1557 360.5L1558.9 359.5L1560.8 359.5L1562.7 358.9L1564.6 359.1L1566.6 358.8L1568.5 358.3L1570.4 356.1L1572.3 354.8L1574.2 353.3L1576.1 353.5L1577.9 353.7L1579.8 354L1581.6 354L1583.5 353.1L1585.4 352.8L1587.2 352.8L1589.1 351.7L1590.9 351L1592.8 351.3L1594.7 352.1L1596.5 354.1L1598.4 354.8L1600.3 355.4L1602.1 356.3L1604 357.4L1605.8 358.4L1607.7 360.1L1609.6 361.4L1611.4 362.3L1613.3 362.4L1615.1 361.5L1617 362.1L1618.9 362.4L1620.7 362L1622.6 360.9L1624.5 360.3L1626.3 359.9L1628.2 358.4L1630 358.1L1632.1 359.1L1634.2 359.3L1636.2 359.5L1638.3 361.4L1640.4 361.9L1642.5 362.8L1644.4 363.6L1646.3 363.4L1648.3 362.6L1650.2 363.5L1652.1 362.7L1654.1 361.5L1656 362.1L1658 361.2L1659.9 361.1L1661.8 362L1663.8 362.1L1665.7 360.9L1667.7 361L1669.6 360.9L1671.5 360.9L1673.5 360.4L1675.4 361L1677.4 360.3L1679.3 360.4L1681.2 360.7L1683.2 362.1L1685.1 361.2L1687 362.1L1689 361.5L1690.9 362L1692.9 362L1694.8 362.1L1696.7 362.9L1698.7 362.6L1700.6 362L1702.6 361.7L1704.5 361.4L1706.4 362.9L1708.4 363.5L1710.3 364.6L1712.3 364.7L1714.2 363.6L1716.1 364.3L1718.1 365L1720 365.4L1722 365.2L1723.9 364.9L1725.8 365L1727.8 365.9L1729.7 365.4L1731.6 365.7L1733.6 365.8L1735.5 367L1737.5 367.3L1739.4 367.8L1741.3 367.9L1743.3 367L1745.2 366.3L1747.2 366.4L1749.1 366.1L1751 366.2L1753 366.9L1754.9 367.7L1756.9 367.6L1758.8 368.1L1760.7 366.9L1762.7 366.8L1764.6 368L1766.6 367.1L1768.5 367.1L1770.4 366.5L1772.4 366.2L1774.3 367.7L1776.2 368.8L1778.2 368.9L1780.1 367.9L1782.1 367.7L1784 367.5L1785.9 368.3L1787.9 368.9L1789.8 368.8L1791.8 368.9L1793.7 368.2L1795.6 368.7L1797.6 369.9L1799.5 370.2L1801.5 369.2L1803.4 369.4L1805.3 370L1807.3 369.5L1809.2 370.5L1811.2 370.3L1813.1 370.7L1815 370.4L1817 371.4L1818.9 371.7L1820.8 371.5L1822.8 370.5L1824.7 370.6L1826.7 369.9L1828.6 370.6L1830.5 371.8L1832.5 371.3L1834.4 371.7L1836.4 372L1838.3 372.1L1840.2 372.9L1842.2 374L1844.1 374.3L1846.1 374.1L1848 375L1849.9 374.5L1851.9 375.1L1853.8 375.3L1855.7 375.8L1857.7 376.4L1859.6 375.6L1861.6 376.5L1863.6 376.8L1865.5 377.8L1867.5 379.3L1869.5 379.7L1871.4 379L1873.4 379.8L1875.3 381L1877.3 382.4L1879.3 383L1881.2 383.9L1883.2 383.2L1885.3 377.4L1887.3 370.7L1889.4 363.7L1891.6 374.5L1893.8 385L1895.6 384.4L1897.5 385.8L1899.3 386.9L1901.2 386.8L1903.1 388.1L1904.9 388.9L1906.8 388.9L1908.6 390.5L1910.5 390.4L1912.4 391.7L1914.2 392.4L1916.1 392.8L1918 394L1919.8 394.9L1921.7 395.2L1923.5 398.7L1925.4 399.9L1927.3 401.4L1929.1 404.2L1931 407.4L1932.8 410L1934.9 419.6L1937 428.6L1939.1 438.1L1941.2 435.6L1943.3 433.3L1945.4 431.6L1947.5 428.9L1949.6 426.7L1951.5 426.5L1953.3 424.8L1955.2 424.4L1957 423.7L1958.9 422.1L1960.8 421.9L1962.7 421.8L1964.6 421.7L1966.5 420L1968.5 418.9L1970.4 418.4L1972.3 418.1L1974.2 417.4L1976.1 416.3L1978 416.5L1979.9 417.2L1981.8 416.2L1983.7 415.8L1985.7 415.6L1987.6 415.5L1989.5 416.3L1991.5 415.7L1993.4 416L1995.4 415.9L1997.3 415.9L1999.2 416.7L2001.2 415.4L2003.1 416.2L2005.1 415.6L2007 416L2008.9 416.5L2010.9 416.5L2012.8 416L2014.8 416.6L2016.7 415.3L2018.6 415.5L2020.6 415.1L2022.5 415.1L2024.4 415.6L2026.4 415.8L2028.3 415.5L2030.3 414.6L2032.2 413.9L2034.1 413.8L2036.1 413.3L2038 413L2040 414.1L2041.9 413L2043.8 413.7L2045.8 413.2L2047.6 412.3L2049.5 411.3L2051.4 410L2053.2 409.7L2055.1 408.7L2056.9 408.4L2058.8 407.6L2060.7 408L2062.5 408.1L2064.4 406.9L2066.3 407.2L2068.2 408.1L2070.1 407.5L2072 406.8L2073.9 406.8L2075.8 406.7L2077.8 407.8L2079.7 407.9L2081.6 408L2083.5 409.1L2085.4 408.7L2087.3 409.7L2089.2 410L2091.1 409.3L2092.9 409.6L2094.8 408.7L2096.7 409.1L2098.5 409.3L2100.4 408.5L2102.2 408.2L2104.1 408.5L2106 408.1L2107.8 407.7L2109.7 407.9L2111.6 408.2L2113.4 408L2115.3 408.3L2117.1 407.1L2119 407.1L2120.9 407.2L2122.7 406.6L2124.6 406.3L2126.4 405.7L2128.3 406.9" fill="none" stroke="#3d5aab" stroke-width="5" stroke-linejoin="round"/>
<path d="M1258.4 399.5L1260.3 400.1L1262.2 400.1L1264.1 399L1266 398.6L1267.9 398.1L1269.8 398.1L1271.7 398.2L1273.6 396.7L1275.5 395.6L1277.4 396.3L1279.3 395.8L1281.2 396L1283.1 394.5L1285 394.2L1286.9 394.5L1288.8 393.5L1290.7 394L1292.6 394L1294.6 392L1296.5 390.6L1298.5 390.5L1300.4 391.1L1302.3 390L1304.3 388.9L1306.2 388.3L1308.2 387L1310.1 386.3L1312 386.1L1314 385.9L1315.9 385L1317.9 384.2L1319.8 383.5L1321.7 382.2L1323.5 380.3L1325.4 378L1327.2 377.5L1329.1 376L1331 374.6L1332.8 372.1L1334.7 371.5L1336.5 370.2L1338.4 367.3L1340.3 365.6L1342.2 364.8L1344.1 363.7L1346 363L1348 361L1349.9 360L1351.8 358.6L1353.7 356.4L1355.6 355.2L1357.5 354.4L1359.4 353.4L1361.3 351.5L1363.2 350L1365.1 346.3L1367 343.4L1369 341.8L1370.9 339.1L1372.8 336L1374.7 333.8L1376.6 331.8L1378.5 329.6L1380.4 326.6L1382.3 323.9L1384.2 321.5L1386.1 319.5L1388 316.8L1389.9 312.1L1391.8 307.7L1393.6 302.5L1395.5 297.6L1397.4 294.3L1399.2 291.1L1401.1 286.6L1402.9 281.8L1404.8 276.8L1406.7 272.7L1408.5 268.8L1410.4 264.1L1412.2 258.8L1414.1 254.3L1416 248.3L1417.8 243.3L1419.7 239.2L1421.6 234L1423.4 228.7L1425.3 223.1L1427.2 215.4L1429.2 208.3L1431.1 199L1433.1 191.8L1435 184.3L1437 176.8L1438.9 168.8L1440.9 151.8L1443 134.3L1445 117L1447 99.5L1449.2 70.6L1451.3 43.7L1453.8 25.1L1456.3 67.8L1458.2 99L1460 130.1L1461.9 148.5L1463.7 167L1465.6 185.9L1467.5 194.9L1469.3 203.8L1471.2 212.3L1473.1 220L1474.9 228.5L1477 233.5L1479.1 239.3L1481.1 245.5L1483.2 251.1L1485.3 256.5L1487.3 261.9L1489.3 262.4L1491.2 264.6L1493.1 266.1L1495.1 266.5L1497 267.2L1499 268.3L1500.9 271L1502.8 272.2L1504.8 272.3L1506.7 273.6L1508.7 274L1510.6 274L1512.5 274.3L1514.5 275.5L1516.4 275.7L1518.4 276.2L1520.3 277.9L1522.2 278.7L1524.2 279.3L1526.1 280.3L1528 280.3L1530 281.3L1531.9 282.4L1533.9 282.8L1535.8 283.3L1537.7 285.5L1539.7 286.3L1541.6 286.6L1543.6 287.8L1545.5 289.3L1547.4 289L1549.4 289.1L1551.3 288.7L1553.3 289.5L1555.2 288.7L1557.1 289.3L1559.1 289.5L1561 289.2L1562.9 288.4L1564.9 289.2L1566.8 289.3L1568.8 288.7L1570.7 287.7L1572.6 287.8L1574.6 287.3L1576.5 287.2L1578.5 286.6L1580.4 286.8L1582.5 286.3L1584.5 286.6L1586.6 288.3L1588.7 289.3L1590.7 288.9L1592.8 290L1594.7 290.1L1596.5 291.8L1598.4 292.8L1600.3 293.1L1602.1 293.3L1604 293.3L1605.8 295.3L1607.7 295.2L1609.6 297.1L1611.4 298.8L1613.4 298.7L1615.3 297.8L1617.2 298.7L1619.2 299.5L1621.1 299.4L1623.1 299L1625 298.6L1626.9 298.3L1628.9 297.8L1630.8 298.5L1632.8 298.5L1634.7 298.1L1636.6 297.6L1638.6 298.5L1640.5 298.4L1642.5 298.7L1644.4 298.7L1646.3 299.9L1648.3 300.7L1650.2 299.5L1652.1 299.3L1654.1 299.4L1656 300.9L1658 301.5L1659.9 301L1661.8 300.6L1663.8 301.3L1665.7 302.1L1667.7 302.9L1669.6 302.3L1671.5 303L1673.5 303.2L1675.4 303L1677.4 304L1679.3 303.1L1681.2 303.7L1683.2 302.9L1685.1 302.6L1687 304.1L1689 303.6L1690.9 304.5L1692.9 304.9L1694.8 305.6L1696.7 305.2L1698.7 305.1L1700.6 304.9L1702.6 306.1L1704.5 306.4L1706.4 307L1708.4 307.3L1710.3 306L1712.3 306L1714.2 305L1716.1 304.4L1718.1 304L1720 305.3L1722 306L1723.9 306.4L1725.8 305.7L1727.8 305.8L1729.7 306.2L1731.6 305.6L1733.6 305.6L1735.5 304.9L1737.5 304.5L1739.4 304.8L1741.3 306.3L1743.3 306.7L1745.2 307.8L1747.2 307.6L1749.1 307.3L1751 308.3L1753 309L1754.9 308L1756.9 308.8L1758.8 308.3L1760.7 308.1L1762.7 309.7L1764.6 309L1766.6 309.2L1768.5 310.5L1770.4 310.1L1772.4 309.2L1774.3 308.7L1776.2 308.5L1778.2 309.3L1780.1 308.5L1782.1 309.6L1784 309.1L1785.9 310L1787.9 310.3L1789.8 309.3L1791.8 308.5L1793.7 308.4L1795.6 307.6L1797.6 308.1L1799.5 307.6L1801.5 307.4L1803.4 309.3L1805.3 309.2L1807.3 309.9L1809.2 310.1L1811.2 310.1L1813.1 309.7L1815 311.3L1817 312.5L1818.9 313.3L1820.8 312.3L1822.8 311.9L1824.7 312.7L1826.7 314L1828.6 314L1830.5 314.5L1832.5 314.9L1834.4 314.5L1836.4 315L1838.3 315L1840.2 315L1842.2 314.8L1844.1 315.3L1846.1 317.1L1848 317.3L1849.9 317.9L1851.9 318.5L1853.8 319.6L1855.7 319.3L1857.7 319.1L1859.6 319.2L1861.6 319.7L1863.6 321.4L1865.5 322.7L1867.5 322.7L1869.5 323L1871.5 323.9L1873.4 324.8L1875.4 325.7L1877.4 325.8L1879.4 325.7L1881.3 326.4L1883.2 321.7L1885.1 318.1L1886.9 313.2L1888.8 308.6L1890.7 317.3L1892.5 324.9L1894.4 326.6L1896.3 327.3L1898.3 328.8L1900.2 328.6L1902.1 329.5L1904 330.9L1905.9 330.7L1907.8 332.5L1909.7 332.4L1911.6 333.9L1913.6 335.5L1915.5 336.4L1917.5 337.6L1919.6 338.7L1921.7 341L1923.7 344L1925.8 345.4L1927.9 348.3L1929.7 353.4L1931.6 360.6L1933.5 365.6L1935.3 371.6L1937.2 388.2L1939.1 404.2L1940.9 403.1L1942.8 401.7L1944.6 400L1946.5 398.3L1948.6 394.6L1950.6 391.9L1952.7 388.6L1954.8 386.8L1956.8 384.5L1958.9 381.3L1960.8 380L1962.7 380.8L1964.6 380.7L1966.5 379.9L1968.5 379.2L1970.4 379.1L1972.3 378.1L1974.2 377.1L1976.1 376.2L1978 375.2L1979.9 374L1981.8 374.2L1983.7 373.7L1985.7 373.6L1987.6 372.4L1989.5 372L1991.5 371.2L1993.4 370.5L1995.4 370.2L1997.3 371L1999.2 370.4L2001.2 369.9L2003.1 369.9L2005.1 368.9L2007 367.7L2008.9 367.9L2010.9 367.8L2012.8 367.8L2014.8 367.2L2016.7 367.3L2018.6 367.3L2020.6 366.2L2022.5 365.9L2024.4 365.5L2026.4 364.6L2028.3 364.4L2030.3 364.3L2032.2 364.9L2034.1 365.1L2036.1 363.8L2038 363.6L2040 362.2L2041.9 361.2L2043.8 361.4L2045.8 362.1L2047.7 360.9L2049.7 361.3L2051.6 361.6L2053.5 360.5L2055.5 360.5L2057.4 360.6L2059.4 359.6L2061.3 359.6L2063.2 359.4L2065.2 358.9L2067.1 359L2069 359L2071 359L2072.9 358.1L2074.9 356.6L2076.8 355.7L2078.7 355.5L2080.7 356.1L2082.6 356.9L2084.6 356.1L2086.5 356.9L2088.4 357.5L2090.4 357.2L2092.3 357.4L2094.3 356.9L2096.2 357.8L2098.1 357L2100.1 358.5L2102 359.1L2103.9 359.1L2105.9 358.5L2107.8 359.5L2109.7 360.5L2111.6 359.6L2113.4 360.5L2115.3 361.3L2117.1 361.6L2119 362L2120.9 361.9L2122.7 362.9L2124.6 363.8L2126.4 363.3L2128.3 364" fill="none" stroke="#4aa8e0" stroke-width="5" stroke-linejoin="round"/>
<line x1="1452.6" y1="17" x2="1452.6" y2="458" stroke="#8a8a8a" stroke-width="4" stroke-dasharray="15 9"/>
<line x1="1939" y1="17" x2="1939" y2="458" stroke="#8a8a8a" stroke-width="4" stroke-dasharray="15 9"/>
<rect x="1950.8" y="46.5" width="25" height="24" fill="#4aa8e0"/>
<rect x="1950.8" y="88" width="25" height="24" fill="#3d5aab"/>
<text x="1990" y="67" font-size="27.5" textLength="157" lengthAdjust="spacingAndGlyphs">0 h recovery</text>
<text x="1990" y="108.5" font-size="27.5" textLength="157" lengthAdjust="spacingAndGlyphs">6 h recovery</text>
<text x="1163" y="237" text-anchor="middle" font-size="27.5" textLength="261" lengthAdjust="spacingAndGlyphs" transform="rotate(-90 1163 237)">DPC coverage (RPM)</text>
<text x="-0.5" y="631.5" font-weight="bold" font-size="37" textLength="24.8" lengthAdjust="spacingAndGlyphs" stroke="#111" stroke-width="1.3">c</text>
<path d="M122.2 771L122.2 764.8L123.2 764L124.2 762.3L125.2 761.1L126.2 760L127.2 755.1L128.2 752.3L129.2 745.1L130.2 743.5L131.2 741.7L132.2 742.8L133.2 742.7L134.2 743.2L135.2 743.5L136.2 746.8L137.2 750.1L138.2 742.6L139.2 743.8L140.2 740.6L141.2 737.6L142.2 737.9L143.2 741.4L144.2 741.4L145.2 748.4L146.2 754.3L147.2 758.5L148.2 763L149.2 765.6L150.2 769.8L151.2 769.6L152.2 769.2L153.2 769.4L154.2 769.3L155.2 769.4L156.2 769.5L157.2 769.7L158.2 768.5L159.2 761.2L160.2 755.1L161.2 747.9L162.2 747.7L163.2 745.6L164.2 749.4L165.2 751.1L166.2 750.8L167.2 749.3L168.2 749.2L169.2 743.9L170.2 738.2L171.2 728.1L172.2 722.6L173.2 712.6L174.2 704.2L175.2 684.4L176.2 669.9L177.2 663.6L178.2 639.6L179.2 632.8L180.2 644.3L181.2 651L182.2 666.4L183.2 669L184.2 688.4L185.2 702.4L186.2 715L187.2 723.5L188.2 728.3L189.2 735.1L190.2 738L191.2 743L192.2 743.5L193.2 742.1L194.2 747.3L195.2 743.5L196.2 743.3L197.2 746.1L198.2 747.8L199.2 747.2L200.2 750.6L201.2 752.7L202.2 750L203.2 752.9L204.2 756L205.2 753.5L206.2 754L207.2 758.3L208.2 754L209.2 759.3L210.2 759.7L211.2 756.2L212.2 757.8L213.2 757L214.2 754.7L215.2 754.7L216.2 753.4L217.2 751.3L218.2 747.1L219.2 750.5L220.2 747.6L221.2 749L222.2 754.3L223.2 754.4L224.2 756.7L225.2 759.5L226.2 763.8L227.2 763.5L228.2 767.3L229.2 768.6L230.2 768.7L231.2 768.4L232.2 768.9L233.2 768.9L234.2 768.3L235.2 768.4L236.2 768.9L237.2 768.2L238.2 768.5L239.2 769L240.2 768.7L241.2 768.8L242.2 769.1L243.2 768.6L244.2 768.9L245.2 768.2L246.2 766.2L247.2 762.3L248.2 756L249.2 748.5L250.2 745L251.2 738.5L252.2 740.9L253.2 744.9L254.2 751.5L255.2 755.8L256.2 757.2L257.2 756.8L258.2 752.6L259.2 751.3L260.2 751.3L261.2 750.6L262.2 753.3L263.2 756.6L264.2 758.2L265.2 761.6L266.2 760.8L267.2 760.8L268.2 760.2L269.2 759.1L270.2 759.1L271.2 757.5L272.2 756.4L273.2 750L274.2 741.2L275.2 741L276.2 738.8L277.2 736.6L278.2 738.4L279.2 743.2L280.2 740.6L281.2 727.6L282.2 718.4L283.2 712.5L284.2 703.1L285.2 695L286.2 696.7L287.2 712.2L288.2 717.6L289.2 719.2L290.2 726.1L291.2 735.9L292.2 745.3L293.2 749.4L294.2 752.7L295.2 755.4L296.2 752L297.2 755.2L298.2 754.9L299.2 754.1L300.2 755.6L301.2 753.5L302.2 750.8L303.2 750.3L304.2 744.3L305.2 745.6L306.2 746.4L307.2 745.8L308.2 745.1L309.2 745.1L310.2 748.5L311.2 750.1L312.2 750.3L313.2 754.6L314.2 755.6L315.2 758.6L316.2 758.9L317.2 761.2L318.2 762.5L319.2 761.9L320.2 762L321.2 762.4L322.2 760L323.2 759.3L324.2 759.6L325.2 756.2L326.2 749.6L327.2 749.1L328.2 745.7L329.2 743.9L330.2 743.2L331.2 744.8L332.2 742.2L333.2 741.1L334.2 741.5L335.2 745.4L336.2 750.5L337.2 749.8L338.2 751.4L339.2 756.1L340.2 756.4L341.2 758L342.2 758.7L343.2 757.9L344.2 755.3L345.2 754.1L346.2 752.6L347.2 754L348.2 751.3L349.2 753.8L350.2 754.4L351.2 748.3L352.2 753.4L353.2 754.9L354.2 758L355.2 765.8L356.2 765.7L357.2 766.5L358.2 766.3L359.2 767.4L360.2 767.4L361.2 767.9L362.2 768.8L363.2 768.4L364.2 765.5L365.2 762.4L366.2 761.3L367.2 761.8L368.2 761.2L369.2 762.7L370.2 764.3L371.2 762L372.2 762.3L373.2 762.3L374.2 758.7L375.2 757.6L376.2 755.8L377.2 754.7L378.2 759L379.2 759.8L380.2 759.9L381.2 761.4L382.2 759.4L383.2 757.7L384.2 757.5L385.2 750.8L386.2 749.2L387.2 742.8L388.2 735.7L389.2 729.9L390.2 727.1L391.2 728L392.2 736.9L393.2 745.2L394.2 747.2L395.2 746.2L396.2 747.7L397.2 747L398.2 746.5L399.2 751.2L400.2 755.8L401.2 754.5L402.2 756.2L403.2 759.9L404.2 755.5L405.2 753.9L406.2 757L407.2 749.7L408.2 747.2L409.2 747.8L410.2 747.5L411.2 749.6L412.2 749.9L413.2 753.7L414.2 754.3L415.2 751.7L416.2 747L417.2 746.1L418.2 743.2L419.2 745.7L420.2 749.5L421.2 752.3L422.2 755.4L423.2 758.5L424.2 758.7L425.2 760.5L426.2 760.1L427.2 757L428.2 753.8L429.2 746.2L430.2 736.7L431.2 729.4L432.2 731.9L433.2 738.8L434.2 744.7L435.2 748.2L436.2 752.1L437.2 751.4L438.2 754.2L439.2 752.1L440.2 748.8L441.2 747L442.2 749.5L443.2 744.8L444.2 743.7L445.2 748.7L446.2 748.7L447.2 748.8L448.2 751.6L449.2 747.5L450.2 749.2L451.2 743.6L452.2 744.8L453.2 747.7L454.2 744.6L455.2 744.7L456.2 743.2L457.2 738.9L458.2 731.8L459.2 734.6L460.2 735.9L461.2 740.8L462.2 743L463.2 748.5L464.2 748.3L465.2 749.2L466.2 750.3L467.2 748.8L468.2 746.6L469.2 748.6L470.2 746.3L471.2 746L472.2 750.5L473.2 746.7L474.2 749.1L475.2 746.8L476.2 747.6L477.2 747.9L478.2 750.7L479.2 752.3L480.2 753L481.2 755L482.2 754.1L483.2 753.4L484.2 749.8L485.2 749.5L486.2 746.8L487.2 745.6L488.2 741.7L489.2 740.3L490.2 738.7L491.2 736.6L492.2 732.7L493.2 728.7L494.2 731.4L495.2 733.1L496.2 737.7L497.2 739L498.2 738.6L499.2 740.7L500.2 737.5L501.2 737.2L502.2 743.3L503.2 739.2L504.2 745L505.2 749.6L506.2 748.4L507.2 755.2L508.2 756.7L509.2 758.1L510.2 758.8L511.2 759.2L512.2 757L513.2 756.6L514.2 754.8L515.2 754.5L516.2 752L517.2 752.1L518.2 745.9L519.2 745.2L520.2 745L521.2 743.1L522.2 739.8L523.2 738.1L524.2 734.9L525.2 738L526.2 743.1L527.2 744L528.2 753L529.2 752.8L530.2 755.3L531.2 759.1L532.2 757.7L533.2 756.4L534.2 757.7L535.2 755.6L536.2 754.1L537.2 759.1L538.2 758.7L539.2 758.5L540.2 760.9L541.2 758.2L542.2 759.4L543.2 760.5L544.2 758.7L545.2 758.7L546.2 758.9L547.2 758.4L548.2 759.6L549.2 759.5L550.2 757.8L551.2 756.4L552.2 752.8L553.2 753.4L554.2 747.9L555.2 745.2L556.2 746.5L557.2 738.9L558.2 739.2L559.2 736.7L560.2 737.5L561.2 741.7L562.2 742.3L563.2 738.8L564.2 734.8L565.2 732.6L566.2 720.8L567.2 724.5L568.2 731.9L569.2 737.4L570.2 745.9L571.2 751.6L572.2 751.9L573.2 753.1L574.2 754.1L575.2 754.8L576.2 753.8L577.2 753.3L578.2 753.7L579.2 750.7L580.2 750.8L581.2 752.5L582.2 750.3L583.2 749.3L584.2 750.6L585.2 748.9L586.2 752.3L587.2 754.6L588.2 755.6L589.2 753.7L590.2 754.7L591.2 754.6L592.2 751L593.2 752.8L594.2 757.3L595.2 756.3L596.2 757.3L597.2 758.8L598.2 759.3L599.2 761.7L600.2 764.9L601.2 767.9L602.2 770.4L603.2 770.3L604.2 770.3L605.2 770.3L606.2 770.2L607.2 770.1L608.2 770L609.2 770L610.2 770L611.2 769.9L612.2 769.2L613.2 765.3L614.2 760.7L615.2 760L616.2 760.9L617.2 759.9L618.2 762L619.2 761.7L620.2 760L621.2 761.9L622.2 761.5L623.2 757.9L624.2 756.6L625.2 756.4L626.2 751L627.2 747L628.2 745.8L629.2 747.7L630.2 744.1L631.2 750.4L632.2 755.5L633.2 755.2L634.2 758.9L635.2 761.2L636.2 757.4L637.2 755.5L638.2 755.8L639.2 747.8L640.2 748.3L641.2 751L642.2 749.5L643.2 753.8L644.2 753L645.2 754.5L646.2 755.8L647.2 755.5L648.2 750.1L649.2 753L650.2 758.1L651.2 761.5L652.2 765.9L653.2 769.6L654.2 769.3L655.2 769.4L656.2 769.4L657.2 769L658.2 768.6L659.2 768.3L660.2 766.7L661.2 758L662.2 750.6L663.2 742.9L664.2 729.7L665.2 731.6L666.2 730.4L667.2 722.4L668.2 727.7L669.2 731.7L670.2 729.9L671.2 737.7L672.2 745.3L673.2 747.6L674.2 748.4L675.2 745.5L676.2 741.3L677.2 735.8L678.2 727.5L679.2 724.2L680.2 724.3L681.2 721.4L682.2 717.3L683.2 724.7L684.2 716.9L685.2 724.9L686.2 730.3L687.2 736.8L688.2 743L689.2 752.5L690.2 749.4L691.2 751.2L692.2 753.4L693.2 747.8L694.2 749.4L695.2 747.2L696.2 741.3L697.2 745L698.2 740.1L699.2 744L700.2 739.4L701.2 737.4L702.2 739.9L703.2 743.7L704.2 744.1L705.2 747.5L706.2 748.2L707.2 748.2L708.2 751.7L709.2 753.8L710.2 752.3L711.2 752.9L712.2 751L713.2 747.4L714.2 752.3L715.2 752L716.2 755.7L717.2 757L718.2 757.5L719.2 759.1L720.2 759.6L721.2 759.7L722.2 759.2L723.2 760.5L724.2 757.6L725.2 754.2L726.2 754.2L727.2 753.8L728.2 751.6L729.2 754.9L730.2 756L731.2 754.1L732.2 754.5L733.2 752.3L734.2 747L735.2 744.6L736.2 735L737.2 729.3L738.2 719L739.2 726L740.2 728.9L741.2 734.9L742.2 742.2L743.2 743.8L744.2 748.7L745.2 751.9L746.2 754.1L747.2 756.2L748.2 759.9L749.2 761.5L750.2 760.8L751.2 761.1L752.2 761.2L753.2 757L754.2 752.5L755.2 752.5L756.2 747.5L757.2 742L758.2 740.3L759.2 733.5L760.2 733.6L761.2 741L762.2 741.8L763.2 742.3L764.2 750L765.2 748.1L766.2 749.7L767.2 755.2L768.2 753.9L769.2 755.7L770.2 758.6L771.2 756.5L772.2 759.5L773.2 759.6L774.2 758.1L775.2 757L776.2 756.1L777.2 754.7L778.2 752.4L779.2 752.3L780.2 754.2L781.2 752.3L782.2 752.3L783.2 753.4L784.2 748.5L785.2 752.5L786.2 752.3L787.2 753.1L788.2 752.8L789.2 750.8L790.2 751.5L791.2 752.3L792.2 748.6L793.2 747.1L794.2 749L795.2 743.5L796.2 744.8L797.2 752.9L798.2 756.9L799.2 763.1L800.2 767.9L801.2 768.4L802.2 768.1L803.2 768.6L804.2 768.4L805.2 768.4L806.2 768.3L807.2 768.5L808.2 768.1L809.2 767.4L810.2 766.7L811.2 766.4L812.2 764L813.2 758L814.2 752.8L815.2 751.9L816.2 753.5L817.2 758.2L818.2 759.5L819.2 761.9L820.2 761.3L821.2 761.4L822.2 762.4L823.2 761.5L824.2 759.6L825.2 757.4L826.2 751.8L827.2 751.2L828.2 752.9L829.2 755.1L830.2 760.9L831.2 761.6L832.2 758.1L833.2 760.5L834.2 760.2L835.2 755.1L836.2 757.9L837.2 757.1L838.2 755.7L839.2 755.8L840.2 755L841.2 755L842.2 757.2L843.2 756.3L844.2 758L845.2 760.1L846.2 758.7L847.2 759.1L848.2 759.2L849.2 756.8L850.2 756.8L851.2 754.7L852.2 752.2L853.2 753.9L854.2 753L855.2 751.5L856.2 753.5L857.2 751L858.2 753.8L859.2 756.7L860.2 757.5L861.2 757.5L862.2 758.4L863.2 757.9L864.2 758.4L865.2 757.2L866.2 755.7L867.2 756.2L868.2 754.8L869.2 752.1L870.2 753.8L871.2 754L872.2 752.6L873.2 756L874.2 754.3L875.2 751.2L876.2 755.2L877.2 756.4L878.2 757.6L879.2 755.1L880.2 753.1L881.2 749.4L882.2 751.6L883.2 748.7L884.2 754.1L885.2 753.1L886.2 752.7L887.2 749.9L888.2 745.9L889.2 739L890.2 736.9L891.2 744.6L892.2 752L893.2 757.7L894.2 756.6L895.2 758.7L896.2 758.2L897.2 754.4L898.2 756.6L899.2 759.3L900.2 756.9L901.2 758.2L902.2 760.7L903.2 758.7L904.2 759L905.2 760.6L906.2 756.7L907.2 752L908.2 750.9L909.2 750.2L910.2 747.9L911.2 749.1L912.2 746.7L913.2 749.4L914.2 749.2L915.2 747.9L916.2 752.8L917.2 750.8L918.2 753.1L919.2 755.8L920.2 756.4L921.2 755.1L922.2 751.7L923.2 751.7L924.2 748.2L925.2 747.2L926.2 744.9L927.2 746.8L928.2 752.4L929.2 762.2L930.2 768L931.2 768.3L932.2 769.1L933.2 769.2L934.2 769.6L935.2 769.8L936.2 770.1L937.2 770L938.2 769.8L939.2 767.6L940.2 765.7L941.2 763.2L942.2 763.4L943.2 761.8L944.2 760.5L945.2 763L946.2 762L947.2 759.6L948.2 760.8L949.2 761.2L950.2 759.6L951.2 759.6L952.2 759.3L953.2 756.8L954.2 758.2L955.2 757.6L956.2 758L957.2 759.4L958.2 759.2L959.2 757.6L960.2 758.2L961.2 757L962.2 754.7L963.2 755.2L964.2 755L965.2 758.6L966.2 759.7L967.2 758L968.2 759.3L969.2 757.1L970.2 755.4L971.2 749.3L972.2 741.4L973.2 742.6L974.2 738L975.2 739.5L976.2 744.1L977.2 747.1L978.2 750.9L979.2 754.8L980.2 750.1L981.2 752.7L982.2 751.5L983.2 750.1L984.2 749L985.2 749.6L986.2 746.3L987.2 751.2L988.2 755.9L989.2 756.9L990.2 759.6L991.2 763.3L992.2 761.3L993.2 762.3L994.2 763.6L995.2 763L996.2 762L997.2 761.7L998.2 761.7L999.2 761L1000.2 762.3L1001.2 759.9L1002.2 759.9L1003.2 759.3L1004.2 758.9L1005.2 757.7L1006.2 757.5L1007.2 758.5L1008.2 759.9L1009.2 759.4L1010.2 757L1011.2 758.4L1012.2 759.1L1013.2 759.9L1014.2 763L1014.2 771Z" fill="#4aa8e0"/>
<path d="M122.2 923.8L122.2 921.8L123.2 921.8L124.2 921.6L125.2 921.9L126.2 920.8L127.2 920.1L128.2 919.5L129.2 917.4L130.2 916.2L131.2 916.5L132.2 916.6L133.2 917.8L134.2 919L135.2 919.7L136.2 920.1L137.2 920.1L138.2 918.8L139.2 918.6L140.2 917.7L141.2 917.2L142.2 917L143.2 918L144.2 917.7L145.2 918.2L146.2 919.4L147.2 918.8L148.2 919.7L149.2 920L150.2 918.9L151.2 918.4L152.2 916.1L153.2 914L154.2 913.1L155.2 910.4L156.2 911.7L157.2 913.8L158.2 916.6L159.2 918.5L160.2 918.3L161.2 917L162.2 914L163.2 908.8L164.2 907.3L165.2 908.1L166.2 911.3L167.2 916.1L168.2 918.4L169.2 919.6L170.2 919.7L171.2 919.4L172.2 919.5L173.2 918.2L174.2 916.5L175.2 912.1L176.2 905.4L177.2 898.6L178.2 891.8L179.2 886.5L180.2 878.5L181.2 882.7L182.2 891.2L183.2 894.9L184.2 900.6L185.2 902.7L186.2 906.5L187.2 908.4L188.2 911.4L189.2 911.2L190.2 913.5L191.2 915.8L192.2 915.4L193.2 916.7L194.2 916.1L195.2 916.9L196.2 916.6L197.2 917L198.2 916.5L199.2 916L200.2 915.1L201.2 915.8L202.2 916.1L203.2 916.2L204.2 916.5L205.2 917.3L206.2 918.1L207.2 917.2L208.2 915.7L209.2 913.8L210.2 910.7L211.2 908.4L212.2 908.8L213.2 911.1L214.2 915.1L215.2 918.9L216.2 918.1L217.2 918.7L218.2 918.6L219.2 919.5L220.2 919.8L221.2 920.3L222.2 920.2L223.2 920.8L224.2 920.6L225.2 921.4L226.2 922L227.2 922.4L228.2 922.7L229.2 923.1L230.2 923.2L231.2 923.1L232.2 923.3L233.2 923.2L234.2 923.2L235.2 923.3L236.2 923.2L237.2 923.2L238.2 923.3L239.2 923.2L240.2 923.2L241.2 922.9L242.2 922.3L243.2 921.8L244.2 921.2L245.2 921L246.2 919.7L247.2 918.7L248.2 917.9L249.2 915.8L250.2 915.7L251.2 916.1L252.2 916.2L253.2 917.5L254.2 919.2L255.2 918L256.2 918.3L257.2 917.6L258.2 917L259.2 914.9L260.2 914.7L261.2 913.7L262.2 911L263.2 906.2L264.2 902.5L265.2 900.2L266.2 897.7L267.2 900.9L268.2 907.3L269.2 911.4L270.2 913.8L271.2 915.1L272.2 914.5L273.2 913.3L274.2 911.1L275.2 910.3L276.2 910.3L277.2 910.1L278.2 912.1L279.2 913.2L280.2 913.6L281.2 914.9L282.2 912.6L283.2 909.9L284.2 907.9L285.2 902.7L286.2 901.6L287.2 903.3L288.2 906.6L289.2 910L290.2 914.8L291.2 917.5L292.2 919.9L293.2 921.1L294.2 921.6L295.2 921.7L296.2 921.9L297.2 921.9L298.2 921.7L299.2 921.9L300.2 922L301.2 920.6L302.2 919.3L303.2 918.1L304.2 916.3L305.2 917L306.2 916.7L307.2 916.7L308.2 916L309.2 916.1L310.2 915.3L311.2 917.2L312.2 918.3L313.2 919.9L314.2 920.3L315.2 920.7L316.2 921.2L317.2 921.1L318.2 920.8L319.2 921.2L320.2 920.7L321.2 920.4L322.2 920.6L323.2 920.5L324.2 919.5L325.2 919L326.2 917.3L327.2 916.7L328.2 918.8L329.2 921L330.2 922.8L331.2 922.6L332.2 922.5L333.2 922.3L334.2 922L335.2 922.1L336.2 921.7L337.2 922L338.2 921.8L339.2 922.2L340.2 922L341.2 921.9L342.2 921.7L343.2 921.1L344.2 921.1L345.2 920.6L346.2 920.4L347.2 920.6L348.2 920.9L349.2 920.9L350.2 920.5L351.2 917.4L352.2 914.4L353.2 911.1L354.2 908.2L355.2 907L356.2 908.4L357.2 908.1L358.2 907.6L359.2 905.5L360.2 906.1L361.2 908.6L362.2 909.4L363.2 911.9L364.2 913.3L365.2 914.6L366.2 915.8L367.2 917L368.2 916.9L369.2 916.5L370.2 916L371.2 914.6L372.2 914.4L373.2 915.9L374.2 915.4L375.2 916.2L376.2 917.4L377.2 915.7L378.2 915.4L379.2 913.6L380.2 912.7L381.2 911.6L382.2 912.6L383.2 913.2L384.2 913.5L385.2 915L386.2 916.3L387.2 917.3L388.2 918L389.2 917.2L390.2 917.6L391.2 917.4L392.2 916.2L393.2 916.1L394.2 913.9L395.2 912.3L396.2 910.7L397.2 910.6L398.2 912.3L399.2 913.4L400.2 914.7L401.2 916.8L402.2 919.1L403.2 919.1L404.2 919.5L405.2 918.8L406.2 918.2L407.2 918.9L408.2 920.6L409.2 921L410.2 921.6L411.2 921.7L412.2 921.5L413.2 921.4L414.2 921.5L415.2 920.9L416.2 920.8L417.2 921L418.2 921L419.2 921.2L420.2 921.5L421.2 921.6L422.2 921.5L423.2 921L424.2 920.7L425.2 919.3L426.2 919.6L427.2 919.2L428.2 918.7L429.2 918.5L430.2 917.5L431.2 915.4L432.2 914.2L433.2 913.6L434.2 910.9L435.2 908.8L436.2 908.3L437.2 909.8L438.2 909.8L439.2 911.4L440.2 912.9L441.2 912.4L442.2 913.4L443.2 912.8L444.2 912.7L445.2 913.2L446.2 914.4L447.2 916.6L448.2 917.6L449.2 918.8L450.2 919.4L451.2 920.1L452.2 920.2L453.2 920.3L454.2 919.2L455.2 918.3L456.2 918.1L457.2 918.2L458.2 919.4L459.2 919.6L460.2 920.6L461.2 921.4L462.2 922.1L463.2 922L464.2 922.1L465.2 922.2L466.2 921.9L467.2 921.6L468.2 921.3L469.2 920.4L470.2 919.5L471.2 917.8L472.2 915.6L473.2 912.7L474.2 911.8L475.2 911.4L476.2 913.9L477.2 916L478.2 918.7L479.2 920.3L480.2 921.3L481.2 921.2L482.2 921.8L483.2 921.3L484.2 921.2L485.2 921.7L486.2 921.3L487.2 921L488.2 920.9L489.2 920.2L490.2 920.1L491.2 919.5L492.2 919.1L493.2 920.1L494.2 920.2L495.2 919.8L496.2 920.2L497.2 919.6L498.2 919.4L499.2 917L500.2 915.2L501.2 913.2L502.2 910.9L503.2 913.5L504.2 914.4L505.2 916.1L506.2 919.8L507.2 920.6L508.2 920.4L509.2 920.6L510.2 918.3L511.2 917.3L512.2 915.2L513.2 911.6L514.2 911L515.2 909.8L516.2 910.5L517.2 912.4L518.2 915L519.2 914.7L520.2 915.8L521.2 915.9L522.2 916.3L523.2 916.6L524.2 916.2L525.2 913.3L526.2 913.1L527.2 910.9L528.2 912.5L529.2 912L530.2 914L531.2 915.5L532.2 916.9L533.2 916.9L534.2 918.1L535.2 917.8L536.2 917.6L537.2 917.3L538.2 917.1L539.2 916.9L540.2 916.4L541.2 916.3L542.2 916.4L543.2 917L544.2 917L545.2 916.2L546.2 917.8L547.2 918.6L548.2 919L549.2 920.1L550.2 920.4L551.2 920.3L552.2 920.9L553.2 920.6L554.2 920.1L555.2 919.7L556.2 919.2L557.2 918.6L558.2 918.3L559.2 918.3L560.2 917.3L561.2 917.5L562.2 917.7L563.2 918.7L564.2 919L565.2 919.2L566.2 919.9L567.2 919.9L568.2 919.9L569.2 920.2L570.2 919.4L571.2 918L572.2 918.7L573.2 919L574.2 918.7L575.2 918.5L576.2 918.1L577.2 917.5L578.2 917L579.2 914.2L580.2 910.3L581.2 906.1L582.2 903.3L583.2 900.9L584.2 901.3L585.2 906.5L586.2 909.7L587.2 913.5L588.2 914.6L589.2 916.9L590.2 918.6L591.2 919L592.2 919.2L593.2 918.3L594.2 917.7L595.2 917L596.2 915.9L597.2 916.1L598.2 916L599.2 916.7L600.2 917.8L601.2 919.6L602.2 920L603.2 921.2L604.2 921.3L605.2 921.4L606.2 921.3L607.2 920.5L608.2 920.3L609.2 919.2L610.2 916.8L611.2 914.5L612.2 910L613.2 908.1L614.2 906.9L615.2 908L616.2 905.6L617.2 905.3L618.2 901.5L619.2 901.1L620.2 900.3L621.2 894.6L622.2 897.8L623.2 895.4L624.2 890.3L625.2 890.6L626.2 899L627.2 905.5L628.2 911L629.2 912.7L630.2 913L631.2 913.4L632.2 914.3L633.2 913.6L634.2 913L635.2 914.3L636.2 913.3L637.2 912.7L638.2 914.4L639.2 913.6L640.2 916.2L641.2 917.3L642.2 918.6L643.2 918.9L644.2 920.6L645.2 921.2L646.2 921.3L647.2 921.6L648.2 922.1L649.2 921.3L650.2 921.7L651.2 921.3L652.2 920.3L653.2 919.4L654.2 918.2L655.2 915.7L656.2 912.9L657.2 910.7L658.2 910.7L659.2 912.1L660.2 913.6L661.2 913.3L662.2 913.3L663.2 912.3L664.2 912.3L665.2 912.4L666.2 915.2L667.2 916L668.2 916.4L669.2 917.7L670.2 918.4L671.2 917.9L672.2 919.3L673.2 919.6L674.2 919.5L675.2 920.4L676.2 921.4L677.2 920.5L678.2 921.2L679.2 921.3L680.2 920.5L681.2 920.7L682.2 920.2L683.2 919.3L684.2 918.8L685.2 919.5L686.2 919.1L687.2 918.4L688.2 918.5L689.2 917.9L690.2 917.8L691.2 916.5L692.2 915L693.2 913L694.2 907L695.2 902.6L696.2 903.6L697.2 909.6L698.2 912.5L699.2 912.7L700.2 912.4L701.2 910.6L702.2 910.5L703.2 914.8L704.2 918.3L705.2 919.4L706.2 917.9L707.2 916.6L708.2 914.5L709.2 914.3L710.2 916.5L711.2 917.4L712.2 917.9L713.2 918.8L714.2 917.8L715.2 917.4L716.2 916.8L717.2 916.3L718.2 915.8L719.2 916.3L720.2 917.7L721.2 917.5L722.2 917.9L723.2 917.3L724.2 917.3L725.2 915L726.2 911.4L727.2 909.9L728.2 909.7L729.2 910.3L730.2 913.5L731.2 914.1L732.2 916.1L733.2 916.8L734.2 917.5L735.2 918.2L736.2 917.5L737.2 917.2L738.2 917.5L739.2 917.8L740.2 917.7L741.2 917.9L742.2 918.1L743.2 917.2L744.2 915.6L745.2 914.4L746.2 914.8L747.2 914.5L748.2 915.6L749.2 916.7L750.2 918.6L751.2 920.1L752.2 921L753.2 921L754.2 920.3L755.2 920.3L756.2 919.3L757.2 917.9L758.2 915.2L759.2 912.4L760.2 908.9L761.2 911.4L762.2 911.4L763.2 914.8L764.2 917.3L765.2 919.1L766.2 919L767.2 917.4L768.2 916.6L769.2 917.3L770.2 916.3L771.2 915.6L772.2 916.8L773.2 916.7L774.2 917.7L775.2 918.5L776.2 917.4L777.2 916.9L778.2 916.8L779.2 914.5L780.2 911.6L781.2 907.3L782.2 908.1L783.2 908.1L784.2 910.7L785.2 911.7L786.2 915L787.2 916.4L788.2 916.9L789.2 917.4L790.2 916.5L791.2 914.2L792.2 912.2L793.2 908.2L794.2 910.6L795.2 911.5L796.2 913.3L797.2 911.8L798.2 910.4L799.2 907.9L800.2 907.6L801.2 905.6L802.2 905L803.2 911.4L804.2 913.8L805.2 915.2L806.2 916.5L807.2 916.9L808.2 917.3L809.2 916.3L810.2 916.4L811.2 916.7L812.2 917.3L813.2 916.6L814.2 917.7L815.2 917.8L816.2 917.8L817.2 917.6L818.2 916.5L819.2 915.8L820.2 913.8L821.2 914.9L822.2 914.7L823.2 915.4L824.2 916.2L825.2 914.7L826.2 913.7L827.2 913.8L828.2 914L829.2 913.6L830.2 913.8L831.2 915.4L832.2 915.6L833.2 916L834.2 915.4L835.2 912.7L836.2 911.6L837.2 911.9L838.2 911.1L839.2 913L840.2 916.1L841.2 916.1L842.2 916.4L843.2 915L844.2 913.7L845.2 910.2L846.2 909.8L847.2 909.4L848.2 909L849.2 908.4L850.2 909.8L851.2 910.8L852.2 910.7L853.2 909.3L854.2 909.4L855.2 908.1L856.2 906.6L857.2 903.8L858.2 904.8L859.2 903L860.2 899.6L861.2 895.5L862.2 892.7L863.2 894.5L864.2 893.4L865.2 901.6L866.2 903.6L867.2 909.7L868.2 911.5L869.2 911.6L870.2 907.4L871.2 905.3L872.2 898.6L873.2 895.7L874.2 897.7L875.2 897.1L876.2 904.1L877.2 905.7L878.2 905.5L879.2 905.4L880.2 902.6L881.2 900.5L882.2 902.7L883.2 898.8L884.2 903.4L885.2 903.2L886.2 903.7L887.2 905.4L888.2 906.2L889.2 907.5L890.2 912.2L891.2 914.9L892.2 915.9L893.2 917.6L894.2 916.4L895.2 916.4L896.2 916.5L897.2 915.1L898.2 915.8L899.2 915.7L900.2 917L901.2 917.2L902.2 918.5L903.2 918.1L904.2 919.3L905.2 920L906.2 920L907.2 919.5L908.2 919.7L909.2 919.6L910.2 919.7L911.2 919.5L912.2 918.9L913.2 919L914.2 918.1L915.2 917L916.2 914.5L917.2 914.1L918.2 913.6L919.2 911.4L920.2 910.8L921.2 910.4L922.2 907.1L923.2 904.9L924.2 904.5L925.2 904.4L926.2 907L927.2 906.7L928.2 907.6L929.2 905.8L930.2 908.7L931.2 907.1L932.2 907.7L933.2 910.7L934.2 910.7L935.2 910.3L936.2 911L937.2 910.6L938.2 910.8L939.2 908.5L940.2 908.8L941.2 908.6L942.2 910.6L943.2 913.3L944.2 915.3L945.2 916.5L946.2 916.6L947.2 916.9L948.2 915.1L949.2 914L950.2 912.1L951.2 910.6L952.2 911.9L953.2 916.1L954.2 917.8L955.2 920.2L956.2 921.2L957.2 921.1L958.2 921.6L959.2 922L960.2 921.4L961.2 921.9L962.2 922.2L963.2 921.6L964.2 921.8L965.2 922.2L966.2 921.8L967.2 921.7L968.2 922.2L969.2 921.8L970.2 921.1L971.2 921.8L972.2 920.8L973.2 919.4L974.2 917.8L975.2 915.6L976.2 912.3L977.2 907.9L978.2 906.2L979.2 908.4L980.2 907.7L981.2 910L982.2 912.7L983.2 914.6L984.2 915.6L985.2 914.7L986.2 916.3L987.2 915.7L988.2 917.7L989.2 918.4L990.2 919.8L991.2 919.4L992.2 919.4L993.2 919.3L994.2 917.8L995.2 917.6L996.2 915.7L997.2 915.7L998.2 915.3L999.2 916.2L1000.2 916L1001.2 916.5L1002.2 917.6L1003.2 918L1004.2 918.7L1005.2 918.8L1006.2 918.4L1007.2 918.3L1008.2 917.9L1009.2 918.4L1010.2 919.1L1011.2 919L1012.2 920.1L1013.2 920.7L1014.2 920.4L1014.2 923.8Z" fill="#3d5aab"/>
<path d="M122.2 1077.6L122.2 1077.6L123.2 1077.6L124.2 1077.6L125.2 1077.6L126.2 1077.6L127.2 1077.6L128.2 1077.6L129.2 1077.6L130.2 1077.6L131.2 1077.6L132.2 1077.6L133.2 1077.6L134.2 1077.6L135.2 1077.6L136.2 1077.6L137.2 1077.6L138.2 1077.6L139.2 1077.6L140.2 1077.6L141.2 1077.6L142.2 1077.6L143.2 1077.6L144.2 1077.6L145.2 1077.6L146.2 1077.1L147.2 1074.6L148.2 1071L149.2 1068.2L150.2 1065.9L151.2 1063.7L152.2 1062.4L153.2 1061.3L154.2 1060.2L155.2 1054.4L156.2 1055.6L157.2 1050.8L158.2 1042.1L159.2 1043.1L160.2 1032.5L161.2 1026.4L162.2 1021.1L163.2 1008.7L164.2 1007L165.2 985.6L166.2 973.9L167.2 968L168.2 973L169.2 958.2L170.2 957.9L171.2 932.5L172.2 956.1L173.2 938.2L174.2 938.4L175.2 945.1L176.2 970.9L177.2 968.6L178.2 993.5L179.2 999.2L180.2 1007.9L181.2 1021.5L182.2 1032.4L183.2 1039.4L184.2 1047.1L185.2 1049.6L186.2 1056.5L187.2 1062.3L188.2 1062L189.2 1066.8L190.2 1067.9L191.2 1066.9L192.2 1068.2L193.2 1069.3L194.2 1068.8L195.2 1069.5L196.2 1070.2L197.2 1069.7L198.2 1069.4L199.2 1070.4L200.2 1070L201.2 1069.5L202.2 1069.7L203.2 1070.6L204.2 1070.7L205.2 1069.7L206.2 1070.8L207.2 1070.1L208.2 1070.7L209.2 1071.1L210.2 1071.3L211.2 1071.7L212.2 1071.7L213.2 1071.7L214.2 1071.3L215.2 1071.6L216.2 1071L217.2 1071.9L218.2 1072.2L219.2 1071.2L220.2 1072.1L221.2 1072.6L222.2 1071.4L223.2 1072.7L224.2 1072.2L225.2 1071L226.2 1072L227.2 1071.2L228.2 1069.7L229.2 1070.8L230.2 1069.7L231.2 1070L232.2 1068.8L233.2 1069.8L234.2 1068.2L235.2 1068.7L236.2 1068.3L237.2 1068.8L238.2 1068.6L239.2 1069.1L240.2 1069.3L241.2 1069.1L242.2 1069.2L243.2 1068.8L244.2 1068.5L245.2 1069.3L246.2 1070.3L247.2 1068.9L248.2 1070L249.2 1070.7L250.2 1069L251.2 1070L252.2 1071.4L253.2 1070.7L254.2 1070.9L255.2 1071L256.2 1071L257.2 1070.3L258.2 1071.7L259.2 1070.2L260.2 1071.1L261.2 1071.2L262.2 1069.7L263.2 1070.8L264.2 1071.2L265.2 1070.7L266.2 1071.2L267.2 1071.1L268.2 1071.1L269.2 1070.7L270.2 1071.2L271.2 1071.3L272.2 1071.2L273.2 1071.6L274.2 1071.2L275.2 1071L276.2 1071.1L277.2 1070.6L278.2 1070.5L279.2 1071.5L280.2 1069.9L281.2 1069.6L282.2 1071.2L283.2 1071.3L284.2 1071.4L285.2 1071.5L286.2 1072L287.2 1072.5L288.2 1071.6L289.2 1071.6L290.2 1072.9L291.2 1071.3L292.2 1072.5L293.2 1072.8L294.2 1071.9L295.2 1071.8L296.2 1072.3L297.2 1071L298.2 1071.8L299.2 1071.6L300.2 1070.4L301.2 1071.5L302.2 1071.6L303.2 1070.6L304.2 1071.1L305.2 1070.8L306.2 1070.6L307.2 1071.8L308.2 1071.2L309.2 1071.2L310.2 1071.9L311.2 1071.5L312.2 1071.3L313.2 1072.1L314.2 1071.6L315.2 1070.7L316.2 1071.6L317.2 1070.7L318.2 1070.5L319.2 1071.4L320.2 1071L321.2 1070.8L322.2 1070L323.2 1070.9L324.2 1070.9L325.2 1070L326.2 1071.1L327.2 1070.4L328.2 1069.2L329.2 1071.3L330.2 1071.2L331.2 1070.4L332.2 1072.2L333.2 1072.1L334.2 1070.6L335.2 1072.3L336.2 1072.4L337.2 1070.5L338.2 1072.2L339.2 1072.2L340.2 1071.2L341.2 1071.9L342.2 1071.4L343.2 1070.5L344.2 1072.1L345.2 1070.9L346.2 1069.8L347.2 1070.8L348.2 1070.6L349.2 1069.8L350.2 1069.7L351.2 1069L352.2 1070.2L353.2 1069.2L354.2 1069.8L355.2 1068.7L356.2 1068L357.2 1068.3L358.2 1068.7L359.2 1067.9L360.2 1069.4L361.2 1068.2L362.2 1067.7L363.2 1066.8L364.2 1065.5L365.2 1064.4L366.2 1062.1L367.2 1059.9L368.2 1059.9L369.2 1054.6L370.2 1057.4L371.2 1056.7L372.2 1054.8L373.2 1059.2L374.2 1058.1L375.2 1061.6L376.2 1063.2L377.2 1064.5L378.2 1065.8L379.2 1066.1L380.2 1068.7L381.2 1067.2L382.2 1067.1L383.2 1068.3L384.2 1066.2L385.2 1066.3L386.2 1066.8L387.2 1066.4L388.2 1065.7L389.2 1066.8L390.2 1066.4L391.2 1065.8L392.2 1067.4L393.2 1067.7L394.2 1067L395.2 1068.8L396.2 1069.2L397.2 1069.4L398.2 1070.8L399.2 1068.4L400.2 1069L401.2 1070.5L402.2 1069.7L403.2 1069.1L404.2 1070.7L405.2 1071.3L406.2 1070.4L407.2 1070.9L408.2 1071L409.2 1070L410.2 1069.7L411.2 1071.3L412.2 1068.1L413.2 1069.1L414.2 1069.7L415.2 1066.5L416.2 1067.9L417.2 1068.5L418.2 1066.2L419.2 1065.8L420.2 1068.7L421.2 1067.6L422.2 1067L423.2 1068.2L424.2 1066.1L425.2 1067.2L426.2 1067.5L427.2 1065.8L428.2 1067.5L429.2 1065.9L430.2 1067.5L431.2 1066.9L432.2 1067.1L433.2 1067.7L434.2 1068.7L435.2 1069.5L436.2 1069.1L437.2 1069.9L438.2 1068.3L439.2 1069.3L440.2 1069.7L441.2 1067.6L442.2 1067.4L443.2 1068.1L444.2 1066.7L445.2 1066.9L446.2 1068.6L447.2 1067.3L448.2 1067.5L449.2 1069.5L450.2 1068.2L451.2 1069.1L452.2 1068.1L453.2 1067.6L454.2 1069.1L455.2 1069.1L456.2 1066.8L457.2 1068.9L458.2 1068.9L459.2 1066.9L460.2 1067.9L461.2 1068.9L462.2 1067.1L463.2 1068.4L464.2 1069.1L465.2 1067.5L466.2 1069.1L467.2 1070.3L468.2 1069.4L469.2 1069.4L470.2 1069.2L471.2 1068.9L472.2 1068.5L473.2 1069.1L474.2 1068L475.2 1068.5L476.2 1067.1L477.2 1066.4L478.2 1066.5L479.2 1067.4L480.2 1067.7L481.2 1067.7L482.2 1067.7L483.2 1066.1L484.2 1067.1L485.2 1067.5L486.2 1066.7L487.2 1065.8L488.2 1068.4L489.2 1066.9L490.2 1067.4L491.2 1068.5L492.2 1066.1L493.2 1068.2L494.2 1069L495.2 1066.9L496.2 1067.5L497.2 1068.8L498.2 1068.2L499.2 1068.7L500.2 1068.2L501.2 1066.8L502.2 1068L503.2 1067.4L504.2 1067.1L505.2 1069.4L506.2 1067.8L507.2 1068.3L508.2 1069.8L509.2 1068L510.2 1069.9L511.2 1071.6L512.2 1068.9L513.2 1070L514.2 1070.9L515.2 1068.4L516.2 1069.7L517.2 1070.9L518.2 1068.3L519.2 1069.4L520.2 1069.8L521.2 1067.6L522.2 1070.5L523.2 1069.9L524.2 1067.5L525.2 1067.9L526.2 1068L527.2 1066.7L528.2 1067L529.2 1067.8L530.2 1064.6L531.2 1064.8L532.2 1064.8L533.2 1065.3L534.2 1065.2L535.2 1065.5L536.2 1064.6L537.2 1065.1L538.2 1066.3L539.2 1065.5L540.2 1064.9L541.2 1065.2L542.2 1065.8L543.2 1063.8L544.2 1066.8L545.2 1065.4L546.2 1064.4L547.2 1066.2L548.2 1066.7L549.2 1066.6L550.2 1066L551.2 1067.1L552.2 1066L553.2 1066.9L554.2 1068.2L555.2 1067.4L556.2 1067.5L557.2 1068.1L558.2 1068.4L559.2 1067.4L560.2 1068.6L561.2 1068.2L562.2 1066.7L563.2 1068.2L564.2 1067.1L565.2 1067.2L566.2 1067.1L567.2 1064L568.2 1065.8L569.2 1064.5L570.2 1065.1L571.2 1064.2L572.2 1064.6L573.2 1065L574.2 1065.4L575.2 1066.8L576.2 1066.2L577.2 1068L578.2 1069L579.2 1069.2L580.2 1068.5L581.2 1069.5L582.2 1069.4L583.2 1069.6L584.2 1070.5L585.2 1070.7L586.2 1069.8L587.2 1070.9L588.2 1070.8L589.2 1070.3L590.2 1071.3L591.2 1072.1L592.2 1070.8L593.2 1071.6L594.2 1071.6L595.2 1071.5L596.2 1072.5L597.2 1072.4L598.2 1071.2L599.2 1072.4L600.2 1072.7L601.2 1070.6L602.2 1072L603.2 1072.3L604.2 1071.3L605.2 1071.8L606.2 1072.1L607.2 1071L608.2 1070.9L609.2 1071.9L610.2 1070.3L611.2 1069.9L612.2 1070.1L613.2 1069.1L614.2 1069.9L615.2 1070.3L616.2 1068.2L617.2 1068.2L618.2 1068.2L619.2 1069.6L620.2 1068.6L621.2 1069.6L622.2 1069.6L623.2 1069.1L624.2 1068.8L625.2 1069.8L626.2 1069.7L627.2 1069L628.2 1069.3L629.2 1069.3L630.2 1068.5L631.2 1069.3L632.2 1070.3L633.2 1068.5L634.2 1068.2L635.2 1068.5L636.2 1067.7L637.2 1068.8L638.2 1070.5L639.2 1071.7L640.2 1072.7L641.2 1073.1L642.2 1073.1L643.2 1072.2L644.2 1072.9L645.2 1072.9L646.2 1072.5L647.2 1073L648.2 1072.6L649.2 1072.5L650.2 1071.8L651.2 1071.9L652.2 1071.8L653.2 1072L654.2 1073.1L655.2 1072.6L656.2 1073.2L657.2 1073.9L658.2 1074L659.2 1074.5L660.2 1073.7L661.2 1073.2L662.2 1070.9L663.2 1069.3L664.2 1067.8L665.2 1066.6L666.2 1065.7L667.2 1065.7L668.2 1064.9L669.2 1066.9L670.2 1064.7L671.2 1065.4L672.2 1065.3L673.2 1065.5L674.2 1066.3L675.2 1067.6L676.2 1065.8L677.2 1068.8L678.2 1069.2L679.2 1068.1L680.2 1069.5L681.2 1069.4L682.2 1070L683.2 1069.5L684.2 1070.1L685.2 1071.1L686.2 1069.2L687.2 1069.7L688.2 1070.6L689.2 1068.6L690.2 1068.9L691.2 1069.1L692.2 1069.2L693.2 1068.6L694.2 1068.1L695.2 1067.8L696.2 1068.3L697.2 1067.5L698.2 1067.3L699.2 1067.6L700.2 1067.8L701.2 1069L702.2 1068.5L703.2 1067.8L704.2 1068.2L705.2 1069.3L706.2 1068.1L707.2 1068.5L708.2 1069.3L709.2 1068.5L710.2 1068L711.2 1069.4L712.2 1068.9L713.2 1068.3L714.2 1070L715.2 1066.8L716.2 1068.2L717.2 1069L718.2 1068.3L719.2 1068.7L720.2 1069.5L721.2 1068.2L722.2 1068.5L723.2 1069.2L724.2 1068L725.2 1067.9L726.2 1067L727.2 1066.9L728.2 1067.9L729.2 1067.1L730.2 1068L731.2 1067.4L732.2 1067.3L733.2 1069.6L734.2 1069L735.2 1069.1L736.2 1069.9L737.2 1069.4L738.2 1069.8L739.2 1069.6L740.2 1070.1L741.2 1069.8L742.2 1069.5L743.2 1071L744.2 1070.4L745.2 1069.5L746.2 1070.7L747.2 1070L748.2 1069.5L749.2 1070.7L750.2 1071.2L751.2 1070.1L752.2 1071.2L753.2 1070.1L754.2 1070.2L755.2 1071.3L756.2 1070L757.2 1070.7L758.2 1072.2L759.2 1069.8L760.2 1070.1L761.2 1072.3L762.2 1070.3L763.2 1071.6L764.2 1072.3L765.2 1070.9L766.2 1071.5L767.2 1072.5L768.2 1070L769.2 1071.5L770.2 1071.8L771.2 1070.8L772.2 1070.8L773.2 1071.5L774.2 1069.2L775.2 1069.8L776.2 1070.9L777.2 1068.6L778.2 1069.1L779.2 1070.3L780.2 1067.6L781.2 1069.5L782.2 1070L783.2 1069.1L784.2 1069.7L785.2 1068.3L786.2 1067.4L787.2 1068.6L788.2 1069L789.2 1067.8L790.2 1068.8L791.2 1068.1L792.2 1068.1L793.2 1068.1L794.2 1067.5L795.2 1066.3L796.2 1068.9L797.2 1067.7L798.2 1067.1L799.2 1067.9L800.2 1067.4L801.2 1064.8L802.2 1066.8L803.2 1065.2L804.2 1064.1L805.2 1066.7L806.2 1066L807.2 1063.9L808.2 1065.7L809.2 1067.2L810.2 1064.9L811.2 1066.9L812.2 1066.1L813.2 1067.1L814.2 1067.1L815.2 1068.6L816.2 1069L817.2 1067.2L818.2 1068.9L819.2 1068.5L820.2 1067.1L821.2 1067.4L822.2 1068.4L823.2 1066L824.2 1066.1L825.2 1067.6L826.2 1067.1L827.2 1065.3L828.2 1064.8L829.2 1065.6L830.2 1065L831.2 1066.5L832.2 1065.9L833.2 1064.6L834.2 1066.6L835.2 1066.5L836.2 1066.8L837.2 1067.1L838.2 1068.2L839.2 1065.9L840.2 1068.7L841.2 1067.2L842.2 1067.8L843.2 1068.9L844.2 1069.1L845.2 1068L846.2 1069.9L847.2 1069.7L848.2 1066.8L849.2 1068.8L850.2 1069.2L851.2 1066.8L852.2 1069.6L853.2 1068.7L854.2 1068.7L855.2 1070.4L856.2 1069.9L857.2 1070L858.2 1070.5L859.2 1071.1L860.2 1069.8L861.2 1070.6L862.2 1069.9L863.2 1069.4L864.2 1069.8L865.2 1069.3L866.2 1067.5L867.2 1068.7L868.2 1070.4L869.2 1067.9L870.2 1067.6L871.2 1069.3L872.2 1068.4L873.2 1068.8L874.2 1067.8L875.2 1067.1L876.2 1067.9L877.2 1070.1L878.2 1072L879.2 1074.5L880.2 1076.5L881.2 1076.6L882.2 1076.5L883.2 1076.5L884.2 1076.4L885.2 1076.6L886.2 1076.4L887.2 1076.6L888.2 1076.2L889.2 1073.4L890.2 1071.9L891.2 1071.6L892.2 1068.7L893.2 1068.6L894.2 1070.6L895.2 1069.6L896.2 1068.6L897.2 1069.4L898.2 1069L899.2 1067.6L900.2 1068.1L901.2 1066L902.2 1067L903.2 1066.6L904.2 1063.3L905.2 1062.4L906.2 1062.5L907.2 1060.8L908.2 1062.8L909.2 1060.2L910.2 1060.1L911.2 1061L912.2 1058.4L913.2 1056.8L914.2 1061.5L915.2 1058.2L916.2 1060.4L917.2 1060.7L918.2 1060.1L919.2 1061.5L920.2 1064.2L921.2 1062.4L922.2 1062.7L923.2 1065.6L924.2 1063.2L925.2 1064.9L926.2 1066.5L927.2 1066.3L928.2 1067.2L929.2 1066L930.2 1065.9L931.2 1066.1L932.2 1066L933.2 1065.4L934.2 1064L935.2 1062.1L936.2 1062.9L937.2 1062.7L938.2 1062.2L939.2 1062.1L940.2 1061.6L941.2 1062L942.2 1063.1L943.2 1062.1L944.2 1063.8L945.2 1065L946.2 1065.2L947.2 1063.4L948.2 1065.5L949.2 1066.2L950.2 1064.2L951.2 1064.4L952.2 1064.6L953.2 1064.1L954.2 1064.1L955.2 1064.1L956.2 1063.4L957.2 1064.3L958.2 1063.4L959.2 1063.1L960.2 1061.1L961.2 1061.7L962.2 1060.6L963.2 1062.2L964.2 1059.3L965.2 1061.2L966.2 1059.8L967.2 1059.5L968.2 1059.8L969.2 1058L970.2 1061.4L971.2 1061L972.2 1059.3L973.2 1062.3L974.2 1060.4L975.2 1058.9L976.2 1061.7L977.2 1062.5L978.2 1061L979.2 1061.1L980.2 1062.3L981.2 1060.1L982.2 1062.8L983.2 1062.3L984.2 1061.3L985.2 1061L986.2 1062L987.2 1060.8L988.2 1061.1L989.2 1061.1L990.2 1064L991.2 1061.9L992.2 1063.5L993.2 1064.3L994.2 1061.4L995.2 1063.7L996.2 1065.6L997.2 1062.7L998.2 1065.2L999.2 1063.7L1000.2 1064L1001.2 1065.1L1002.2 1065.6L1003.2 1064.1L1004.2 1064.4L1005.2 1065.1L1006.2 1063.1L1007.2 1064.1L1008.2 1062.7L1009.2 1063.5L1010.2 1064.7L1011.2 1064.8L1012.2 1063.8L1013.2 1064.2L1014.2 1066.3L1014.2 1077.6Z" fill="#bdbdbd"/>
<line x1="122.2" y1="635.8" x2="122.2" y2="771" stroke="#111" stroke-width="1.4"/>
<line x1="121.5" y1="771" x2="1015.8" y2="771" stroke="#111" stroke-width="1.4"/>
<line x1="110.2" y1="635.8" x2="122.2" y2="635.8" stroke="#111" stroke-width="1.4"/>
<text x="98.5" y="644.8" text-anchor="end" font-size="25">20</text>
<line x1="110.2" y1="704" x2="122.2" y2="704" stroke="#111" stroke-width="1.4"/>
<text x="98.5" y="713" text-anchor="end" font-size="25">10</text>
<line x1="110.2" y1="771" x2="122.2" y2="771" stroke="#111" stroke-width="1.4"/>
<text x="98.5" y="780" text-anchor="end" font-size="25">0</text>
<line x1="122.2" y1="771" x2="122.2" y2="781.5" stroke="#111" stroke-width="1.4"/>
<line x1="382.2" y1="771" x2="382.2" y2="781.5" stroke="#111" stroke-width="1.4"/>
<line x1="709.9" y1="771" x2="709.9" y2="781.5" stroke="#111" stroke-width="1.4"/>
<line x1="1015.1" y1="771" x2="1015.1" y2="781.5" stroke="#111" stroke-width="1.4"/>
<line x1="122.2" y1="789.7" x2="122.2" y2="923.8" stroke="#111" stroke-width="1.4"/>
<line x1="121.5" y1="923.8" x2="1015.8" y2="923.8" stroke="#111" stroke-width="1.4"/>
<line x1="110.2" y1="789.7" x2="122.2" y2="789.7" stroke="#111" stroke-width="1.4"/>
<text x="98.5" y="798.7" text-anchor="end" font-size="25">20</text>
<line x1="110.2" y1="856.7" x2="122.2" y2="856.7" stroke="#111" stroke-width="1.4"/>
<text x="98.5" y="865.7" text-anchor="end" font-size="25">10</text>
<line x1="110.2" y1="923.8" x2="122.2" y2="923.8" stroke="#111" stroke-width="1.4"/>
<text x="98.5" y="932.8" text-anchor="end" font-size="25">0</text>
<line x1="122.2" y1="923.8" x2="122.2" y2="934.3" stroke="#111" stroke-width="1.4"/>
<line x1="382.2" y1="923.8" x2="382.2" y2="934.3" stroke="#111" stroke-width="1.4"/>
<line x1="709.9" y1="923.8" x2="709.9" y2="934.3" stroke="#111" stroke-width="1.4"/>
<line x1="1015.1" y1="923.8" x2="1015.1" y2="934.3" stroke="#111" stroke-width="1.4"/>
<line x1="122.2" y1="948" x2="122.2" y2="1077.6" stroke="#111" stroke-width="1.4"/>
<line x1="121.5" y1="1077.6" x2="1015.8" y2="1077.6" stroke="#111" stroke-width="1.4"/>
<line x1="110.2" y1="948" x2="122.2" y2="948" stroke="#111" stroke-width="1.4"/>
<text x="98.5" y="957" text-anchor="end" font-size="25">150</text>
<line x1="110.2" y1="1077.6" x2="122.2" y2="1077.6" stroke="#111" stroke-width="1.4"/>
<text x="98.5" y="1086.6" text-anchor="end" font-size="25">0</text>
<line x1="122.2" y1="1077.6" x2="122.2" y2="1088.1" stroke="#111" stroke-width="1.4"/>
<line x1="382.2" y1="1077.6" x2="382.2" y2="1088.1" stroke="#111" stroke-width="1.4"/>
<line x1="709.9" y1="1077.6" x2="709.9" y2="1088.1" stroke="#111" stroke-width="1.4"/>
<line x1="1015.1" y1="1077.6" x2="1015.1" y2="1088.1" stroke="#111" stroke-width="1.4"/>
<text x="122.2" y="1118.6" text-anchor="middle" font-size="25" textLength="129" lengthAdjust="spacingAndGlyphs">53,063,000</text>
<text x="382.2" y="1118.6" text-anchor="middle" font-size="25" textLength="129" lengthAdjust="spacingAndGlyphs">53,075,000</text>
<text x="709.9" y="1118.6" text-anchor="middle" font-size="25" textLength="129" lengthAdjust="spacingAndGlyphs">53,090,000</text>
<text x="1015.1" y="1118.6" text-anchor="middle" font-size="25" textLength="129" lengthAdjust="spacingAndGlyphs">53,104,000</text>
<text x="129" y="636" font-size="27.5" textLength="195.5" lengthAdjust="spacingAndGlyphs">Chromosome 6</text>
<text x="1006.5" y="656.3" text-anchor="end" fill="#4aa8e0" font-size="27.5" textLength="169" lengthAdjust="spacingAndGlyphs">DPCs FA +0 h</text>
<text x="1006.5" y="810.8" text-anchor="end" fill="#3d5aab" font-size="27.5" textLength="168" lengthAdjust="spacingAndGlyphs">DPCs FA +6 h</text>
<text x="1006.5" y="963" text-anchor="end" fill="#9a9a9a" font-size="27.5" textLength="85" lengthAdjust="spacingAndGlyphs">RNAPII</text>
<text x="40.5" y="857.7" text-anchor="middle" font-size="27.5" textLength="270" lengthAdjust="spacingAndGlyphs" transform="rotate(-90 40.5 857.7)">Read coverage (RPM)</text>
<text x="569" y="1157" text-anchor="middle" font-size="27.5" textLength="84" lengthAdjust="spacingAndGlyphs">FBXO9</text>
<line x1="164.4" y1="1183.8" x2="880" y2="1183.8" stroke="#111" stroke-width="3.8"/>
<rect x="880" y="1177.8" width="67.5" height="12" fill="#111"/>
<line x1="165.5" y1="1172.8" x2="165.5" y2="1194.8" stroke="#111" stroke-width="4"/>
<line x1="297.8" y1="1173.8" x2="297.8" y2="1193.8" stroke="#111" stroke-width="2.2"/>
<line x1="350.6" y1="1173.8" x2="350.6" y2="1193.8" stroke="#111" stroke-width="3.2"/>
<line x1="414.5" y1="1173.8" x2="414.5" y2="1193.8" stroke="#111" stroke-width="2.2"/>
<line x1="466.6" y1="1173.8" x2="466.6" y2="1193.8" stroke="#111" stroke-width="2.2"/>
<line x1="513.8" y1="1173.8" x2="513.8" y2="1193.8" stroke="#111" stroke-width="2.2"/>
<line x1="547.3" y1="1173.8" x2="547.3" y2="1193.8" stroke="#111" stroke-width="2.2"/>
<line x1="764.5" y1="1173.8" x2="764.5" y2="1193.8" stroke="#111" stroke-width="3.2"/>
<line x1="769.4" y1="1173.8" x2="769.4" y2="1193.8" stroke="#111" stroke-width="3.2"/>
<line x1="786.8" y1="1173.8" x2="786.8" y2="1193.8" stroke="#111" stroke-width="3.2"/>
<line x1="795.5" y1="1173.8" x2="795.5" y2="1193.8" stroke="#111" stroke-width="3.2"/>
<line x1="831.5" y1="1173.8" x2="831.5" y2="1193.8" stroke="#111" stroke-width="3.2"/>
<line x1="879.9" y1="1173.8" x2="879.9" y2="1193.8" stroke="#111" stroke-width="3.2"/>
<path d="M220 1171.8 L233.5 1183.8 L220 1195.8" fill="none" stroke="#111" stroke-width="3.4"/>
<path d="M381.3 1171.8 L394.8 1183.8 L381.3 1195.8" fill="none" stroke="#111" stroke-width="3.4"/>
<path d="M595.4 1171.8 L608.9 1183.8 L595.4 1195.8" fill="none" stroke="#111" stroke-width="3.4"/>
<path d="M691.6 1171.8 L705.1 1183.8 L691.6 1195.8" fill="none" stroke="#111" stroke-width="3.4"/>
<path d="M856 1171.8 L869.5 1183.8 L856 1195.8" fill="none" stroke="#111" stroke-width="3.4"/>
<text x="1106.5" y="609" font-weight="bold" font-size="37" textLength="28" lengthAdjust="spacingAndGlyphs" stroke="#111" stroke-width="1.3">d</text>
<line x1="1375.6" y1="608.1" x2="1375.6" y2="1109.8" stroke="#111" stroke-width="1.4"/>
<line x1="1374.9" y1="1109.8" x2="1608.3" y2="1109.8" stroke="#111" stroke-width="1.4"/>
<line x1="1625" y1="1109.8" x2="1859.6" y2="1109.8" stroke="#111" stroke-width="1.4"/>
<line x1="1877.5" y1="1109.8" x2="2110.9" y2="1109.8" stroke="#111" stroke-width="1.4"/>
<line x1="1364.6" y1="646.9" x2="1375.6" y2="646.9" stroke="#111" stroke-width="1.4"/>
<text x="1350.6" y="655.9" text-anchor="end" font-size="25" textLength="50" lengthAdjust="spacingAndGlyphs">1.00</text>
<line x1="1364.6" y1="757.3" x2="1375.6" y2="757.3" stroke="#111" stroke-width="1.4"/>
<text x="1350.6" y="766.3" text-anchor="end" font-size="25" textLength="50" lengthAdjust="spacingAndGlyphs">0.75</text>
<line x1="1364.6" y1="867.8" x2="1375.6" y2="867.8" stroke="#111" stroke-width="1.4"/>
<text x="1350.6" y="876.8" text-anchor="end" font-size="25" textLength="50" lengthAdjust="spacingAndGlyphs">0.50</text>
<line x1="1364.6" y1="977.6" x2="1375.6" y2="977.6" stroke="#111" stroke-width="1.4"/>
<text x="1350.6" y="986.6" text-anchor="end" font-size="25" textLength="50" lengthAdjust="spacingAndGlyphs">0.25</text>
<line x1="1364.6" y1="1088" x2="1375.6" y2="1088" stroke="#111" stroke-width="1.4"/>
<text x="1350.6" y="1097" text-anchor="end" font-size="25">0</text>
<line x1="1439.2" y1="608.1" x2="1439.2" y2="691.5" stroke="#111" stroke-width="3.2"/>
<line x1="1439.2" y1="914.9" x2="1439.2" y2="1089.3" stroke="#111" stroke-width="3.2"/>
<line x1="1401.7" y1="1089.3" x2="1476.2" y2="1089.3" stroke="#111" stroke-width="3.2"/>
<rect x="1391.1" y="691.5" width="96.2" height="223.4" fill="#4aa2d9" stroke="#111" stroke-width="3.2"/>
<line x1="1391.1" y1="839.8" x2="1487.3" y2="839.8" stroke="#111" stroke-width="5.5"/>
<line x1="1545.3" y1="608.1" x2="1545.3" y2="722.6" stroke="#111" stroke-width="3.2"/>
<line x1="1545.3" y1="928" x2="1545.3" y2="1089.3" stroke="#111" stroke-width="3.2"/>
<line x1="1507.8" y1="1089.3" x2="1581.6" y2="1089.3" stroke="#111" stroke-width="3.2"/>
<rect x="1497.3" y="722.6" width="96.2" height="205.4" fill="#3e64b0" stroke="#111" stroke-width="3.2"/>
<line x1="1497.3" y1="854.1" x2="1593.4" y2="854.1" stroke="#111" stroke-width="5.5"/>
<line x1="1690.5" y1="611.5" x2="1690.5" y2="814.4" stroke="#111" stroke-width="3.2"/>
<line x1="1690.5" y1="949.7" x2="1690.5" y2="1083.7" stroke="#111" stroke-width="3.2"/>
<line x1="1654.9" y1="611.5" x2="1726.8" y2="611.5" stroke="#111" stroke-width="3.2"/>
<line x1="1654.9" y1="1083.7" x2="1726.8" y2="1083.7" stroke="#111" stroke-width="3.2"/>
<rect x="1642.5" y="814.4" width="96.2" height="135.3" fill="#4aa2d9" stroke="#111" stroke-width="3.2"/>
<line x1="1642.5" y1="907.5" x2="1738.6" y2="907.5" stroke="#111" stroke-width="5.5"/>
<line x1="1797.3" y1="729.4" x2="1797.3" y2="872.7" stroke="#111" stroke-width="3.2"/>
<line x1="1797.3" y1="968.3" x2="1797.3" y2="1089.3" stroke="#111" stroke-width="3.2"/>
<line x1="1760.3" y1="729.4" x2="1834.2" y2="729.4" stroke="#111" stroke-width="3.2"/>
<line x1="1760.3" y1="1089.3" x2="1834.2" y2="1089.3" stroke="#111" stroke-width="3.2"/>
<rect x="1749.2" y="872.7" width="96.2" height="95.6" fill="#3e64b0" stroke="#111" stroke-width="3.2"/>
<line x1="1749.2" y1="932.3" x2="1845.4" y2="932.3" stroke="#111" stroke-width="5.5"/>
<line x1="1943.1" y1="790.2" x2="1943.1" y2="892" stroke="#111" stroke-width="3.2"/>
<line x1="1943.1" y1="960.2" x2="1943.1" y2="1060.1" stroke="#111" stroke-width="3.2"/>
<line x1="1906.2" y1="790.2" x2="1979.4" y2="790.2" stroke="#111" stroke-width="3.2"/>
<line x1="1906.2" y1="1060.1" x2="1979.4" y2="1060.1" stroke="#111" stroke-width="3.2"/>
<rect x="1895" y="892" width="96.2" height="68.3" fill="#4aa2d9" stroke="#111" stroke-width="3.2"/>
<line x1="1895" y1="939.7" x2="1991.2" y2="939.7" stroke="#111" stroke-width="5.5"/>
<line x1="2049.2" y1="836.1" x2="2049.2" y2="932.9" stroke="#111" stroke-width="3.2"/>
<line x1="2049.2" y1="998.1" x2="2049.2" y2="1089.3" stroke="#111" stroke-width="3.2"/>
<line x1="2012.9" y1="836.1" x2="2085.5" y2="836.1" stroke="#111" stroke-width="3.2"/>
<line x1="2012.9" y1="1089.3" x2="2085.5" y2="1089.3" stroke="#111" stroke-width="3.2"/>
<rect x="2001.1" y="932.9" width="96.2" height="65.2" fill="#3e64b0" stroke="#111" stroke-width="3.2"/>
<line x1="2001.1" y1="959.6" x2="2097.3" y2="959.6" stroke="#111" stroke-width="5.5"/>
<line x1="1434.6" y1="596" x2="1549.4" y2="596" stroke="#111" stroke-width="1.4"/>
<text x="1492" y="601.3" text-anchor="middle" font-size="36" textLength="42" lengthAdjust="spacingAndGlyphs">***</text>
<line x1="1685.3" y1="596" x2="1800.7" y2="596" stroke="#111" stroke-width="1.4"/>
<text x="1743" y="601.3" text-anchor="middle" font-size="36" textLength="42" lengthAdjust="spacingAndGlyphs">***</text>
<line x1="1941.5" y1="771" x2="2045.2" y2="771" stroke="#111" stroke-width="1.4"/>
<text x="1993.3" y="777" text-anchor="middle" font-size="36" textLength="42" lengthAdjust="spacingAndGlyphs">***</text>
<rect x="1950.8" y="586.1" width="25" height="24" fill="#4aa2d9"/>
<rect x="1950.8" y="627" width="25" height="24" fill="#3e64b0"/>
<text x="1989.9" y="606.5" font-size="27.5" textLength="157" lengthAdjust="spacingAndGlyphs">0 h recovery</text>
<text x="1989.9" y="647.5" font-size="27.5" textLength="157" lengthAdjust="spacingAndGlyphs">6 h recovery</text>
<text x="1250" y="857.8" text-anchor="middle" font-size="27.5" textLength="297" lengthAdjust="spacingAndGlyphs" transform="rotate(-90 1250 857.8)">DPC-seq read coverage</text>
<text x="1281" y="857.8" text-anchor="middle" font-size="27.5" textLength="193" lengthAdjust="spacingAndGlyphs" transform="rotate(-90 1281 857.8)">per gene (RPM)</text>
<text x="1326" y="1107.9" text-anchor="end" font-size="27.5" textLength="218" lengthAdjust="spacingAndGlyphs">DNA accessibility</text>
<text x="1324.8" y="1138.9" text-anchor="end" font-size="27.5" textLength="148" lengthAdjust="spacingAndGlyphs">(ATAC-seq):</text>
<text x="1491.7" y="1146.4" text-anchor="middle" font-size="27.5" textLength="50" lengthAdjust="spacingAndGlyphs">Low</text>
<text x="1743" y="1146.4" text-anchor="middle" font-size="27.5" textLength="101" lengthAdjust="spacingAndGlyphs">Medium</text>
<text x="1994.3" y="1146.4" text-anchor="middle" font-size="27.5" textLength="59" lengthAdjust="spacingAndGlyphs">High</text>
<text x="-0.5" y="1274.5" font-weight="bold" font-size="37" textLength="26.3" lengthAdjust="spacingAndGlyphs" stroke="#111" stroke-width="1.3">e</text>
<g clip-path="url(#clipE)">
<g fill="none" stroke="#fbeea0" stroke-width="10.4" stroke-linecap="round" stroke-opacity="0.26"><path d="M603 1309h0m-107 56h0m32-3h0m31 17h0m-93 15h0m-9 42h0m-22 0h0m-18 9h0m4 14h0m11 3h0m14-18h0m18 12h0m5 2h0m1-1h0m16 2h0m13 4h0m39-3h0m-45 18h0m-16 4h0m-15-18h0m-1 1h0m-8 3h0m-4-3h0m-17 9h0m-17 5h0m-1-12h0m0 6h0m-21 13h0m-5-8h0m-17 28h0m23-13h0m2 9h0m6-10h0m27 15h0m6-3h0m3-2h0m1-7h0m19-2h0m10 6h0m3 7h0m-16 7h0m-11 1h0m-19 2h0m-19-2h0m-5 21h0m-2-12h0m-11 6h0m-13-9h0m-43 1h0m-1-3h0m17 31h0m7 9h0m3-2h0m35 2h0m2-22h0m31 5h0m-4 19h0m-63 13h0m-11-4h0m-2-5h0m-28 12h0m31 14h0m46 14h0m18-18h0m-26 57h0m54-7h0"/><path d="M498 1382h0m-19 7h0m-25 18h0m23 6h0m17-10h0m13 1h0m5 35h0m-35-1h0m-4-15h0m-59 20h0m26 19h0m8-17h0m24 0h0m4 10h0m1 4h0m8-11h0m23 5h0m-11 24h0m-2-8h0m-25 7h0m-1-3h0m-3 5h0m-1 4h0m-4-11h0m-6 11h0m-8-2h0m-4-16h0m-9 12h0m-3-6h0m-1 17h0m-2-1h0m-8 0h0m-3-2h0m-9 2h0m-52 14h0m30 5h0m20-3h0m2 6h0m7-19h0m0 0h0m24-1h0m53 11h0m-51 19h0m-13 14h0m-6-13h0m-13 6h0m-9 1h0m-25 5h0m-10-3h0m-7-12h0m0 4h0m-34 33h0m50-13h0m12 10h0m2 1h0m2-12h0m2 3h0m21 11h0m38-17h0m-74 24h0m-12 9h0m-16-5h0m-3 19h0m-43-14h0m-80 33h0m88-7h0m3-2h0m5-7h0m2 11h0m18-12h0m174 18h0m-211 5h0m-68 37h0m177 11h0m-127 44h0m159 130h0m80 0h0m25 0h0"/><path d="M559 1343h0m83 39h0m-128-13h0m-46 34h0m21-1h0m33 5h0m3 2h0m-23 13h0m-10 1h0m-47-2h0m-56 18h0m-11 9h0m65 3h0m6-1h0m4-8h0m10-1h0m4 11h0m1-2h0m4 18h0m-13-2h0m-13-1h0m-2 6h0m-11 5h0m-13 11h0m-10-2h0m-2-15h0m-4-1h0m-10-1h0m-3 6h0m-3 0h0m-19 4h0m-3-8h0m-12 32h0m2-10h0m6 2h0m33 0h0m8-5h0m3 10h0m1 4h0m11-3h0m52-8h0m18 11h0m9 5h0m57-18h0m-145 43h0m-20-1h0m-1-13h0m-50 28h0m42 9h0m-3 6h0m-2 11h0m-32-5h0m-22 20h0m4 25h0"/><path d="M553 1383h0m-35 8h0m-41-11h0m16 32h0m5-6h0m25 11h0m-6 5h0m-34 2h0m-29 5h0m-4 7h0m-44-10h0m12 14h0m32 23h0m3-5h0m15 0h0m5-14h0m1 16h0m6-8h0m0-6h0m7-2h0m22 17h0m-17 11h0m-21-7h0m-3 21h0m-11-21h0m-4 17h0m-22-14h0m-28 10h0m-19-12h0m1 30h0m10-6h0m9 2h0m2 17h0m8-18h0m29 19h0m0-22h0m79 1h0m-19 33h0m-51 4h0m-45-11h0m-18 3h0m-35-1h0m-4 23h0m8 2h0m18-6h0m12 5h0m-43 30h0m-25-3h0m-40 17h0m79 0h0m-68 39h0m108 64h0"/><path d="M573 1366h0m-119 44h0m98-3h0m-21 16h0m-34 8h0m-6-5h0m-8-2h0m-6 8h0m-2-1h0m-13-14h0m-3 11h0m-5 1h0m-61 23h0m16-12h0m32 14h0m30 0h0m23 3h0m5-4h0m-58 31h0m-1-6h0m-5-13h0m-28 9h0m-22-1h0m-17 26h0m10-2h0m37 4h0m7-7h0m8-2h0m5 19h0m1-20h0m28 1h0m11 3h0m130-5h0m-184 23h0m-11 6h0m-1-4h0m-3-2h0m-11 0h0m-9 10h0m-12-10h0m-18 14h0m-8 7h0m-48 18h0m19-2h0m47 4h0m0-8h0m1-10h0m11 3h0m21 9h0m61 6h0m73-16h0m-176 41h0m-37 2h0m32 4h0m-106 153h0m-36 72h0m284 20h0"/><path d="M596 1298h0m-75 83h0m-9-11h0m-19 20h0m-4-11h0m-24 31h0m44 1h0m58 19h0m-49 0h0m-22-9h0m-12 3h0m-11-5h0m-38 20h0m-23 23h0m12-19h0m4 1h0m7 10h0m24 1h0m-6 19h0m-9 11h0m0-21h0m-12 7h0m-6 15h0m-11 0h0m-8-10h0m-1-4h0m-10 10h0m-6-10h0m-3 0h0m-37 25h0m19 11h0m25-12h0m21 1h0m2-6h0m31 11h0m-48 28h0m-10-8h0m0 4h0m-20-1h0m-29 14h0m3 20h0m4-14h0m7 0h0m36 12h0m3-21h0m0 18h0m14-13h0m-42 19h0m-7 18h0m-13-12h0m-11 3h0m-32 22h0m11-3h0m41 38h0m-107 6h0m181 16h0m-43 182h0m124 0h0"/><path d="M589 1366h0m3-9h0m-103 24h0m-35-9h0m24 37h0m46-16h0m21 16h0m-4 27h0m-22 0h0m-20-10h0m-3-5h0m-5 7h0m-23-2h0m-11-2h0m-16 13h0m-42 15h0m41-4h0m3 14h0m11-2h0m9-17h0m60-2h0m-43 26h0m-27 16h0m-51-17h0m-8 5h0m-26 8h0m8 21h0m4-5h0m1 7h0m2 3h0m17-9h0m6-2h0m3 13h0m4-2h0m11 6h0m2-8h0m4-7h0m19 13h0m10-11h0m12-6h0m-35 27h0m-18-2h0m-16 5h0m-25 3h0m-1 2h0m-75 14h0m50-2h0m11 4h0m3 11h0m2-2h0m0-15h0m17 37h0m-12-10h0m-18-1h0m-19 16h0m-12-1h0m-32 7h0m32-1h0m4 11h0m16-10h0m-40 40h0"/><path d="M583 1327h0m-71 17h0m39 29h0m-40 11h0m-75 30h0m15 1h0m22-14h0m2-1h0m27 27h0m-16-3h0m-9 7h0m-17-2h0m-32 0h0m-21 32h0m31-15h0m2 17h0m3-5h0m0-11h0m3 0h0m3-6h0m4 0h0m8 4h0m6 10h0m11-14h0m2 20h0m12-9h0m11-6h0m-20 34h0m-8-14h0m-3 19h0m-14-8h0m-2 4h0m-20-13h0m-18 15h0m-39-8h0m-8 12h0m-61 12h0m58 5h0m9 6h0m12-16h0m1 1h0m30 4h0m31-7h0m6-2h0m37 9h0m22 24h0m-179 17h0m3 2h0m6-6h0m1 6h0m16 4h0m1-4h0m17-2h0m27-1h0m9 3h0m-39 22h0m-9-2h0m-64 11h0m-28 23h0m70-9h0m76 29h0"/></g>
<g fill="none" stroke="#fadc85" stroke-width="10.4" stroke-linecap="round" stroke-opacity="0.26"><path d="M556 1360h0m38 28h0m-24-6h0m-19-11h0m-9 18h0m-17-20h0m-36 16h0m-13 10h0m20 0h0m6 1h0m23 18h0m16-6h0m7 4h0m51 19h0m-59-12h0m-14-3h0m-27 13h0m-7 10h0m-39-18h0m-7 7h0m-12 10h0m-33 18h0m18-12h0m22 4h0m0-3h0m4-1h0m2 18h0m1-1h0m7-10h0m3 6h0m2-2h0m6-10h0m1 18h0m14-4h0m1-1h0m4-8h0m1 11h0m1 2h0m5-10h0m5-6h0m3-5h0m-24 33h0m-2-4h0m-1 5h0m-9-5h0m-4 10h0m-7 5h0m-8-19h0m-4 13h0m-2-6h0m-8 13h0m-5-12h0m-6 6h0m-5-8h0m-5 1h0m-3 3h0m-1 8h0m-36 14h0m17-4h0m5-3h0m2 9h0m4-2h0m2 5h0m22-9h0m1-5h0m2 13h0m7 1h0m2-3h0m0-7h0m5-3h0m4 2h0m3 1h0m5 0h0m1 7h0m0-5h0m2-8h0m1 5h0m21 1h0m42 29h0m-42 10h0m-35-7h0m-18-9h0m-10 0h0m-2 14h0m0 4h0m-2-4h0m-3-14h0m-4 13h0m-3-6h0m-2-8h0m-2 19h0m-5-15h0m-2-1h0m-1 16h0m-2-2h0m0-7h0m-8-1h0m-1 5h0m-13-13h0m-5 16h0m-36-5h0m-18 30h0m14-6h0m19-13h0m7 18h0m6-10h0m1 5h0m17 5h0m4-21h0m23 9h0m6-8h0m1-1h0m13 5h0m3 17h0m158-20h0m-179 22h0m-4 8h0m-4 15h0m-1-12h0m-10-1h0m-8 3h0m-6-4h0m-3-1h0m-4 12h0m-2-8h0m-5-9h0m-2 19h0m-15-8h0m-5-6h0m-2 0h0m33 33h0m9-10h0m43 4h0m137 17h0m-148 14h0m-62-5h0m-16 10h0m-27-16h0m-37 20h0m6 15h0m-97 128h0m230 52h0m127 0h0"/><path d="M548 1317h0m-9 39h0m22 33h0m-82 10h0m2 5h0m6-4h0m20 6h0m4-14h0m12 20h0m8-3h0m6-12h0m6 4h0m1 12h0m3 1h0m-40 10h0m-6 9h0m-13-8h0m-1 5h0m-8-9h0m-18 4h0m-52 12h0m-30 15h0m24 10h0m7-8h0m5 5h0m23-10h0m9-8h0m2 17h0m5-4h0m7-1h0m7-1h0m1 0h0m2-7h0m7 17h0m1-4h0m11-14h0m2 6h0m9 10h0m12-11h0m-17 16h0m-25 16h0m-3-7h0m-3-9h0m-4 1h0m-1 0h0m-1 6h0m-2 9h0m-10-11h0m-1-1h0m-1-2h0m0 5h0m-5 12h0m-2-12h0m-6 0h0m-4-7h0m-11 1h0m-6 9h0m-27 3h0m-12 26h0m10-8h0m10 13h0m4-2h0m9-2h0m5-12h0m2-1h0m0 19h0m1-19h0m2 11h0m4-7h0m1-3h0m1 16h0m10 1h0m3-10h0m1 8h0m3-12h0m3-4h0m0 17h0m3-17h0m3 13h0m1-2h0m1-8h0m1-2h0m3 5h0m2-10h0m0 6h0m1-1h0m17 18h0m15-6h0m4-12h0m0-3h0m14 2h0m15 38h0m-13-9h0m-70 0h0m-8-8h0m-14 5h0m-1-6h0m-3 21h0m-2-7h0m-2 9h0m-3-22h0m-2-1h0m-4 2h0m-2 17h0m-12-15h0m-4 2h0m-15-6h0m0 17h0m-12-5h0m-13-7h0m-2 1h0m-20 36h0m16 5h0m20-10h0m1 9h0m2-16h0m5 1h0m0 3h0m30-7h0m7-3h0m8 10h0m3 0h0m2 4h0m3-13h0m11 18h0m32-15h0m4 6h0m32-1h0m-105 20h0m-7 8h0m-1-11h0m-1 14h0m-3 2h0m-9-16h0m-20 6h0m-1-5h0m-5 7h0m-15 10h0m-44 13h0m42 4h0m3-4h0m3 14h0m12-8h0m62-7h0m25 17h0m-58 7h0m-10 9h0m-13 1h0m-47 4h0m8 16h0m23-6h0m-53 22h0m68 20h0m81 148h0m171 0h0"/><path d="M495 1362h0m71 10h0m-40 15h0m-92 11h0m7 6h0m46 8h0m11-11h0m6 12h0m34-14h0m30-4h0m-19 40h0m-49-13h0m-14 1h0m-22-6h0m-1 13h0m-27 6h0m-39 25h0m30 0h0m4-1h0m2 0h0m3 1h0m9-13h0m1 9h0m4 5h0m3-18h0m5 12h0m5-14h0m4 16h0m4-14h0m3 1h0m5 16h0m1 0h0m1 0h0m12-15h0m6 0h0m81 27h0m-92 0h0m-1-9h0m-21 11h0m-4 12h0m-1-2h0m-7-3h0m-2 1h0m-4-8h0m0 3h0m-5 7h0m-4-8h0m-14 7h0m-2 0h0m-3-10h0m-5 12h0m0-17h0m-1 5h0m-20-2h0m-4 1h0m-1 6h0m-30 20h0m21 1h0m1-9h0m20 6h0m3 10h0m2-14h0m13 11h0m4-15h0m8 22h0m1 0h0m1-13h0m0 7h0m2-4h0m1 9h0m2-9h0m11-12h0m8 3h0m8 19h0m10-21h0m6 18h0m156-9h0m-191 21h0m-3-5h0m-15 14h0m-9-13h0m-6 17h0m0-2h0m-1-1h0m-1 1h0m-7-5h0m-2-6h0m-16 3h0m-6-10h0m-3 3h0m-7-2h0m-5 21h0m-1-19h0m-16 1h0m6 28h0m3-8h0m5 15h0m4-2h0m2 1h0m6-2h0m11-5h0m5 3h0m4 2h0m1-3h0m4-9h0m3 6h0m2 9h0m1 4h0m0-4h0m4-9h0m2-3h0m1 1h0m8 4h0m2 10h0m1-3h0m18 1h0m5-7h0m60 16h0m-80 3h0m-12 8h0m-38-11h0m-1 4h0m-18 15h0m-2-19h0m-17 15h0m-28-7h0m65 15h0m16 15h0m26-6h0m37 20h0m-125 2h0m-49 10h0m-6-4h0m4 25h0m4 1h0m13-16h0m43 7h0m46 25h0m-39 0h0m20 97h0m-125-7h0m159 76h0m24 0h0"/><path d="M568 1367h0m3 17h0m-31-2h0m-5 1h0m-18-14h0m-52 46h0m35-13h0m6-1h0m0 9h0m6-2h0m14-14h0m3 4h0m-17 19h0m-7 1h0m-4 9h0m-8-7h0m-1-3h0m-21 6h0m-7-2h0m0-2h0m-6 0h0m-5 6h0m-23-1h0m-28 5h0m-27 8h0m-29 12h0m70-1h0m13 13h0m5-2h0m0-8h0m2 12h0m2-11h0m0 8h0m7-14h0m1 15h0m20-17h0m0 17h0m7-10h0m70-11h0m94 41h0m-131-15h0m-13 16h0m-13-4h0m-14 6h0m-18-15h0m-9 5h0m-2 4h0m-5-3h0m-5 8h0m-8 4h0m-26-5h0m-1 4h0m0-22h0m-5 29h0m8 18h0m1-14h0m6 6h0m12-12h0m1 18h0m0-4h0m6-10h0m7 16h0m1-17h0m1 7h0m6-5h0m10 12h0m9-20h0m7 1h0m12 1h0m14 37h0m-1-3h0m-9 11h0m-1-11h0m-20-6h0m-2 13h0m-11-15h0m-11 3h0m-2-1h0m-3 14h0m-1-5h0m0 8h0m-4-12h0m-4 3h0m-3-14h0m-9 15h0m-2-9h0m-1 10h0m-5-4h0m-8-7h0m-3 3h0m-8 8h0m-2 6h0m-14-4h0m-8 2h0m-8 3h0m-48 23h0m41 0h0m1-13h0m4 9h0m11 3h0m3-12h0m4 14h0m1-18h0m8 11h0m0-3h0m14 4h0m0 3h0m0-16h0m22 6h0m2 2h0m3-9h0m3 12h0m11-11h0m10 6h0m18-5h0m20 40h0m-38-8h0m0-10h0m-37 2h0m-8-4h0m-12 20h0m-2-13h0m-12 7h0m-4-2h0m-2 8h0m-42 2h0m-13-12h0m-2-11h0m-15 23h0m40 12h0m2-8h0m86 8h0m-69 18h0m-73 14h0m-3-9h0m20 23h0m23-8h0m105 60h0"/><path d="M569 1351h0m6 5h0m-28 16h0m-11 17h0m-1-12h0m-80 27h0m18-5h0m18 1h0m7 14h0m22-20h0m9 5h0m9 0h0m-13 40h0m-2-5h0m-3-7h0m-15 3h0m-28-2h0m-13-2h0m-24 4h0m-1 5h0m-9 6h0m4 0h0m7 6h0m8 6h0m5 10h0m0-10h0m14-13h0m8 12h0m3-10h0m5 1h0m1-1h0m8 9h0m20-10h0m10 25h0m-26 4h0m-5 2h0m-9 4h0m-2 3h0m-2-6h0m-3-9h0m-2 15h0m-1-1h0m-10-4h0m-4-6h0m-4-3h0m-9 16h0m-2-17h0m-2 4h0m-2 1h0m-3-1h0m-9 2h0m-5 11h0m-4 4h0m-5 2h0m-1-3h0m-1-12h0m-2 4h0m-3 10h0m-59-4h0m22 20h0m13-12h0m0-1h0m7 7h0m1 12h0m5 0h0m4-7h0m3-9h0m4 19h0m10-1h0m0-8h0m5 8h0m1-14h0m0 12h0m6-2h0m7 0h0m0 2h0m8-8h0m1 5h0m1-9h0m3-8h0m5 1h0m2 8h0m7 5h0m42-14h0m41 40h0m-77-9h0m-23 4h0m-1 6h0m-1-1h0m-8-10h0m-2 7h0m0 0h0m-5-12h0m0 21h0m-6-21h0m0 18h0m-3-13h0m0-6h0m-1 14h0m-10-12h0m0 9h0m-2-8h0m0 1h0m0 17h0m-4-11h0m-7-3h0m-3-1h0m0 5h0m-2 6h0m-2 0h0m-3-16h0m-3 10h0m-7 9h0m-2-6h0m-2 9h0m-7-12h0m-2 3h0m-2-1h0m-11 7h0m-2-5h0m-28 18h0m7 2h0m25 9h0m6-3h0m4-3h0m5-4h0m2 10h0m2-6h0m21 1h0m1 0h0m3 0h0m2 1h0m18 0h0m2-11h0m-36 28h0m-3-1h0m-5 6h0m-1-12h0m-4 14h0m0-11h0m-4 6h0m-5 5h0m0 6h0m-4-7h0m-2-13h0m-3 18h0m-3-20h0m-9 3h0m-5-1h0m-3 11h0m0-6h0m0-5h0m-12 9h0m-38 8h0m36 24h0m52-14h0m8 11h0m44-1h0m70-12h0m7 13h0m-31 10h0m-77 12h0m-18 1h0m-14-15h0m-71 2h0m-20 26h0m27 5h0m28 13h0m24-21h0m5 29h0m-69 11h0m-2 0h0m68 9h0"/><path d="M559 1342h0m-37 15h0m59 15h0m-36 15h0m-1-9h0m-70 8h0m19 11h0m22 17h0m16-10h0m6 7h0m10-13h0m24 17h0m16 13h0m-74 3h0m-4-7h0m-1 14h0m-4 0h0m-9-2h0m-13 0h0m-4-5h0m-8 4h0m0-2h0m-2 4h0m-7-3h0m-3-3h0m-26 28h0m21-6h0m2-7h0m17-5h0m2 5h0m20 17h0m5-20h0m4 11h0m3-8h0m12-1h0m94 38h0m-98-5h0m-3 5h0m-17-7h0m-14 3h0m-4-9h0m-3 7h0m-4 0h0m0 5h0m-6-2h0m-17-16h0m-1 4h0m-7 16h0m-12 3h0m0-10h0m-2 9h0m-6-17h0m-19 8h0m-2 9h0m-43 23h0m7-1h0m22-15h0m4-1h0m3 11h0m3-2h0m7 2h0m4 3h0m14-11h0m6 9h0m2-11h0m2-3h0m0 16h0m0-15h0m1 2h0m14 4h0m3 5h0m3-6h0m29 3h0m25 8h0m-17 14h0m-12 1h0m-10 0h0m0 1h0m-2-5h0m0 7h0m-5 6h0m-4-14h0m-4 0h0m-1 0h0m-14-5h0m-9 4h0m-6 8h0m-14 1h0m-1-1h0m-4 0h0m-5 9h0m0-20h0m-4-1h0m0 10h0m-2 6h0m-7 5h0m-3-17h0m-1 12h0m-11 6h0m-48 20h0m2 0h0m12-4h0m23-11h0m4 2h0m5-4h0m4 1h0m3 0h0m2 17h0m4-12h0m1 8h0m0-10h0m0 1h0m8 1h0m8-1h0m5 0h0m1-3h0m7 0h0m33 8h0m104-2h0m23 13h0m-115 18h0m-61-13h0m-7 7h0m-2-6h0m-20 17h0m0-1h0m0 1h0m-29-16h0m-3 15h0m-17 3h0m-4-15h0m-9 37h0m44-11h0m7-8h0m20 15h0m2-3h0m44-13h0m6 10h0m-46 20h0m-81 1h0m-12 21h0m7 0h0"/><path d="M534 1350h0m70 10h0m-46 22h0m-39-3h0m-39 3h0m-30 30h0m0-16h0m17 4h0m14 12h0m10-1h0m20-14h0m1 8h0m1-9h0m84 32h0m-36-5h0m-28 1h0m-10-2h0m-17 6h0m-3 9h0m0-11h0m0 12h0m-12 0h0m0-13h0m-3 9h0m-28 2h0m-4-2h0m-45 21h0m20 2h0m27-14h0m2 16h0m2-16h0m11 20h0m0-7h0m7-16h0m9 5h0m0 11h0m15-6h0m18-9h0m-52 25h0m0 14h0m-1-4h0m-2 5h0m0 5h0m0-18h0m-20 1h0m-9 13h0m-9 4h0m-8-8h0m-3-10h0m-4 16h0m-10-10h0m0 7h0m-3 5h0m-3-2h0m-20-12h0m-41 34h0m28-3h0m7-12h0m9 18h0m0-15h0m5 6h0m9 6h0m2-11h0m2 4h0m1 0h0m3 7h0m8 1h0m2-7h0m7-11h0m0 20h0m1-15h0m7-5h0m5 5h0m13 16h0m1-20h0m5 5h0m6-7h0m17 3h0m2 4h0m25-7h0m13 12h0m-70 19h0m-13 9h0m-3-7h0m-2 13h0m0-17h0m0 4h0m-3-2h0m-3-5h0m-8 11h0m-4-3h0m-19-6h0m-4-4h0m-2 17h0m-3 3h0m0 1h0m-3-6h0m-9 2h0m-3 1h0m-5-17h0m-3 7h0m-12-3h0m-10 14h0m-5 9h0m5 16h0m10-14h0m9 7h0m6 4h0m10 5h0m3 0h0m1-21h0m16 6h0m4 0h0m4 13h0m4-4h0m3-7h0m1-2h0m1 4h0m1-6h0m9-1h0m6 7h0m1-3h0m59 4h0m82 17h0m-142-2h0m-34 17h0m-9-1h0m-2-10h0m-23 1h0m-2 2h0m-1-11h0m0 21h0m-2-21h0m-1 10h0m-14 3h0m-25 3h0m-8 1h0m-19 24h0m13-2h0m32-14h0m3 7h0m2 10h0m10-19h0m21 5h0m6 3h0m5-1h0m81 2h0m-129 25h0m-26 6h0m0-12h0m-5 0h0m-9 26h0m37 11h0m55-6h0m16 6h0m-96 19h0m62 72h0m56 90h0m116 0h0"/><path d="M589 1352h0m-19 20h0m-30 8h0m-62 23h0m3-5h0m0 13h0m11-3h0m5-3h0m7 2h0m59 0h0m-49 27h0m-10-11h0m-8 8h0m-1-9h0m-5-3h0m-20 5h0m-4-3h0m-1 8h0m-17-8h0m-4 14h0m-16-8h0m-41 31h0m11-6h0m8-12h0m16 16h0m31-4h0m1 8h0m7-7h0m0-5h0m5-4h0m6-3h0m8 9h0m19-6h0m7 12h0m8-7h0m78 20h0m-115 15h0m-10-4h0m-2-5h0m-2 0h0m-1 5h0m-10-10h0m-6 7h0m-6-3h0m-2-4h0m-1 1h0m-7 0h0m-4-6h0m0 20h0m-3-18h0m-7 11h0m-3 6h0m-19-12h0m-23 14h0m-50-4h0m49 11h0m1 17h0m19-12h0m3 13h0m0-9h0m1 0h0m10-7h0m3 11h0m1 5h0m2-17h0m16 11h0m2-8h0m5-5h0m12 2h0m3 1h0m19-2h0m12 4h0m23-7h0m-10 27h0m-32 0h0m-11-4h0m-10 1h0m-6 8h0m-4 3h0m0-8h0m-7 7h0m0 0h0m-2-4h0m-2 4h0m-2-6h0m-1-5h0m-2 19h0m-7 0h0m-8-8h0m-12-6h0m-2 13h0m-9-7h0m-13 4h0m-62 29h0m20 2h0m15-5h0m13-10h0m28 6h0m0-11h0m6 14h0m5-13h0m1 5h0m8 10h0m0-2h0m11-6h0m8-7h0m1-2h0m1-2h0m26 5h0m4 4h0m31-6h0m19 9h0m5 19h0m-87 8h0m-1-3h0m-22 9h0m-1-12h0m-13 10h0m-9 3h0m-12-19h0m-14-1h0m-8 5h0m-2 7h0m-1 9h0m-21-11h0m-1 10h0m-13 23h0m67-2h0m1-18h0m18 16h0m69 22h0m-91-12h0m-21 13h0m-10 12h0m4 5h0m-23 26h0"/></g>
<g fill="none" stroke="#f9cb6a" stroke-width="10.4" stroke-linecap="round" stroke-opacity="0.26"><path d="M622 1331h0m-92 28h0m33 17h0m-12 0h0m-10-1h0m-16 14h0m23 16h0m14-3h0m49-1h0m-89 16h0m-4 18h0m-1-11h0m-3 8h0m-13-8h0m-29-5h0m-37 41h0m21-1h0m2-8h0m11-4h0m22 14h0m23-14h0m35-3h0m30 14h0m-72 19h0m-2-7h0m-4 9h0m-1 6h0m-17-15h0m-5 13h0m-2 4h0m0-13h0m-3 4h0m0 4h0m-1-10h0m0 2h0m-1-3h0m-1 6h0m-11 0h0m0 9h0m-4-3h0m-1 0h0m0-18h0m-2 10h0m-2-7h0m-7 3h0m-4 15h0m-2 1h0m-10-3h0m-5-5h0m-4 2h0m-7 3h0m-1-1h0m-2-15h0m-38 34h0m24 5h0m1 2h0m17-19h0m4 7h0m6 6h0m2 3h0m0-11h0m2 6h0m1-5h0m2-4h0m4 7h0m16 3h0m2-10h0m2 16h0m1-2h0m4-14h0m23-3h0m0 19h0m22-18h0m57 28h0m-22 1h0m-26 4h0m-23 8h0m-4-10h0m-4-2h0m-28 5h0m-16-6h0m-3 0h0m-1 8h0m0-1h0m-6 4h0m-9-14h0m-9 2h0m-6 6h0m0-8h0m-2 20h0m-1-4h0m-29 3h0m-3 3h0m11 2h0m1 6h0m1 14h0m3-4h0m1-17h0m6-1h0m1 6h0m1-4h0m10 13h0m1-14h0m3 10h0m5 0h0m10-7h0m9-3h0m1 16h0m8-13h0m4-5h0m-26 30h0m-4 9h0m-5-4h0m-3-9h0m-5 21h0m-1-10h0m-2-9h0m-6 12h0m-5 7h0m-3-20h0m-1 16h0m-1 2h0m-5-12h0m-1-2h0m-4 1h0m-7 0h0m-17 8h0m-11-1h0m-1 3h0m-11-18h0m-6 31h0m11-6h0m3 11h0m5 3h0m1-8h0m3-2h0m5-1h0m11 4h0m4 10h0m3 5h0m3-17h0m13 8h0m13-7h0m33 6h0m-32 16h0m-18 7h0m-3-9h0m-6 6h0m-7 10h0m-7-19h0m-6 17h0m-36-6h0m-5-7h0m-32 11h0m68 10h0m19 0h0m19 6h0m-64 34h0m-103 52h0"/><path d="M604 1342h0m-110 54h0m6 19h0m6-14h0m6 9h0m46 16h0m-9-4h0m-34 17h0m-31-1h0m-13-12h0m-18-2h0m-7 6h0m-1 22h0m14-3h0m1 3h0m4-9h0m18 18h0m3-8h0m10-10h0m0 8h0m1-11h0m2 19h0m8-17h0m4 5h0m4-4h0m14 2h0m34 20h0m-46 9h0m-11 0h0m-22 13h0m-2-9h0m-11 4h0m-1-8h0m-7 8h0m-7-5h0m0 4h0m-3 0h0m-19 6h0m0-5h0m-3 3h0m-7-8h0m-14 9h0m5 4h0m7 13h0m2-13h0m11 11h0m3-6h0m8 3h0m6 11h0m5-14h0m2 9h0m2-1h0m0-12h0m15 7h0m0 0h0m3 6h0m1-1h0m0-1h0m1-8h0m2 6h0m1 0h0m1 6h0m2-3h0m39 7h0m28-22h0m15 25h0m-76 15h0m-21-10h0m-8 6h0m-1-9h0m-1 15h0m-1-9h0m-27-6h0m-5 19h0m-27-13h0m-2-2h0m-5 4h0m-7-1h0m-3-2h0m-15 9h0m-4-14h0m-13 22h0m5 19h0m1-12h0m22-8h0m3 19h0m8 3h0m4-20h0m2 9h0m10 11h0m8-12h0m19-2h0m5 0h0m8-7h0m5 8h0m16 2h0m-26 15h0m-21 6h0m-8-2h0m-1-6h0m-3 15h0m-2-8h0m-2 5h0m-5-11h0m-1 15h0m-2-12h0m-10 10h0m-1-14h0m-1 7h0m-1 6h0m-11-4h0m-1-6h0m-9 5h0m-2 6h0m-10 4h0m-1-16h0m-3 17h0m-13-7h0m-21 1h0m-7 29h0m26-6h0m6 1h0m6-1h0m4 2h0m16-1h0m19-5h0m36-3h0m6 17h0m24 15h0m-81-3h0m-19 2h0m-65 23h0m21-7h0m22 12h0m28-8h0m23 1h0m89 28h0m-125-10h0m-8 20h0m-5-18h0m-45 11h0m-25-10h0m97 31h0m68 137h0m42 0h0"/><path d="M542 1358h0m47 19h0m-75 37h0m2-15h0m47-5h0m75 37h0m-96 8h0m-12-9h0m-8 7h0m-4-5h0m-37 2h0m-3-9h0m-61 37h0m11-7h0m3 8h0m31-16h0m8-5h0m3 18h0m10-10h0m5 2h0m1 6h0m5-15h0m18-1h0m5 18h0m0-12h0m23 9h0m29-14h0m-55 32h0m-11 12h0m-19-7h0m-13 1h0m-7-17h0m-2 23h0m0-20h0m-5 17h0m-2-9h0m-11 6h0m-1-2h0m-6 5h0m-8-5h0m-11 8h0m-51-15h0m8 18h0m29 9h0m3 3h0m3-4h0m7 7h0m1-13h0m4 13h0m6 1h0m2 2h0m4-5h0m0 0h0m5-7h0m1-3h0m3 3h0m0 3h0m3-3h0m3-4h0m0 7h0m2-2h0m1 8h0m0 5h0m3-18h0m1 1h0m2 12h0m4 3h0m1-4h0m5-1h0m22-9h0m5 9h0m4-11h0m-27 20h0m-10 7h0m-17 14h0m-5-21h0m-4 10h0m0 9h0m-1-16h0m-8 6h0m-5-6h0m-3 3h0m0-1h0m-1 18h0m-4-18h0m0 2h0m-12 11h0m-1 5h0m-1-2h0m-5-3h0m-4-2h0m-2-14h0m-3 17h0m-3 2h0m-5 2h0m-8-2h0m-5-3h0m-6 0h0m-21-17h0m-2 22h0m-12 13h0m33 3h0m13-8h0m0 7h0m7-2h0m2-2h0m2-5h0m4 8h0m3 9h0m0-5h0m2-12h0m10 10h0m7-5h0m17-9h0m10 11h0m1-3h0m6-9h0m12 8h0m22 1h0m33 22h0m-38 0h0m-10-7h0m-40 14h0m-13-4h0m-2 7h0m-1-5h0m-2 3h0m-6 1h0m-7-14h0m-13 1h0m-1 1h0m-9 3h0m-1 13h0m0-2h0m-1-9h0m0-1h0m-7-6h0m-9-1h0m-2 5h0m-11 9h0m-1-6h0m-3 14h0m0-6h0m-6 0h0m-20 4h0m27 3h0m1 8h0m2-7h0m17 5h0m4 8h0m1-4h0m9 11h0m3-9h0m2 1h0m13-5h0m3 0h0m3 8h0m-7 19h0m-22-11h0m-2 16h0m-9-9h0m-6-2h0m-29 5h0m-6 2h0m-14-12h0m13 38h0m33 4h0m7-18h0m4 46h0m-105 26h0m-44 60h0m116 66h0m221 0h0"/><path d="M510 1321h0m-17 37h0m32 8h0m-62 35h0m34 1h0m8 0h0m39-1h0m2 4h0m3 6h0m-25 9h0m-2 1h0m-16 8h0m-7-12h0m-18 18h0m-27 15h0m1 13h0m8-12h0m4-4h0m1 0h0m7 5h0m7-7h0m3 4h0m1-1h0m5-5h0m19 15h0m3-10h0m7-3h0m14-5h0m7 5h0m-17 20h0m-20-1h0m-2 19h0m-16-8h0m-3 1h0m-1 8h0m-2 2h0m-1-13h0m-10 13h0m-4 0h0m-6-16h0m-4 15h0m-1 2h0m-1-1h0m-3-3h0m-1-3h0m-10 2h0m-1-7h0m-23 5h0m0-15h0m-32 21h0m4 20h0m7 4h0m25 1h0m11-19h0m7-1h0m7-3h0m0 4h0m6 1h0m9 6h0m5-2h0m23 7h0m17-13h0m6 6h0m12 1h0m8 24h0m-32 0h0m-36-8h0m-1 10h0m0-10h0m-2 12h0m-15-1h0m-12 9h0m-4-15h0m-4 12h0m0 3h0m0-10h0m-4 6h0m-3-13h0m-1-5h0m-1 3h0m0-3h0m-3 22h0m-5-17h0m-1 4h0m0-9h0m0 19h0m0-12h0m-1-1h0m-8 13h0m-1-8h0m-2 12h0m-8-3h0m-2-13h0m-4 7h0m-1-2h0m-3 0h0m-2 0h0m-3 5h0m-14-1h0m0 5h0m-41 21h0m56-15h0m1 19h0m6-9h0m0-5h0m1-3h0m7 11h0m1-9h0m11 3h0m0 3h0m0 2h0m0-8h0m2 10h0m8-8h0m0-1h0m6-1h0m5-6h0m6 11h0m9-7h0m1-4h0m5 2h0m1-3h0m3 2h0m26 3h0m14 29h0m-37 1h0m-2-10h0m-44 11h0m-13-11h0m-8 6h0m0 7h0m-4-1h0m-1 10h0m-1-23h0m-2 2h0m-2 19h0m-2-7h0m-2-11h0m-8 18h0m-11-10h0m-5 0h0m-26 3h0m-31 4h0m37 17h0m21 8h0m1 0h0m7 0h0m12-19h0m4 2h0m17 18h0m-35 19h0m-10 1h0m-7-4h0m-8 11h0m-29 10h0m15 6h0m4 17h0m88 106h0m-95 60h0m149 0h0m30 0h0m10 0h0m30 0h0m87 0h0"/><path d="M617 1328h0m-66-3h0m-28 66h0m-58 6h0m20 14h0m36-5h0m47 31h0m-19-2h0m-28-12h0m-12 15h0m-11-10h0m-4 6h0m-8 2h0m-22-12h0m-9 35h0m1-4h0m6-1h0m0-13h0m0 22h0m9-12h0m0 9h0m18-20h0m5 21h0m13-17h0m1 16h0m-11 23h0m-9-7h0m-16-7h0m-30 15h0m-2-1h0m-5-2h0m-1 6h0m-4-19h0m-6-3h0m-27 13h0m-43-5h0m23 30h0m24 2h0m0-14h0m5 17h0m1-11h0m6-1h0m5 14h0m18-1h0m0-16h0m1-4h0m3 11h0m6-7h0m1 7h0m6 5h0m2-9h0m2 13h0m5-4h0m6-3h0m3-12h0m12 12h0m2-11h0m23 14h0m7-1h0m1 18h0m-47 5h0m-1-9h0m-14-1h0m-10-1h0m-1 11h0m-10 5h0m-3-5h0m0-15h0m-1 17h0m-12-1h0m-3-12h0m-1 18h0m-1-12h0m-7-6h0m-5 2h0m-5 3h0m0-4h0m-3 15h0m0 2h0m-2 0h0m-2 0h0m-1-7h0m-1 2h0m-9-1h0m-8 3h0m-76 0h0m27 15h0m34 6h0m15-15h0m5 9h0m8 11h0m1-14h0m6-2h0m0 7h0m0 10h0m1-10h0m2-10h0m4 9h0m1 7h0m9-6h0m10-12h0m1 19h0m0-10h0m7 6h0m8-3h0m-12 24h0m-2 9h0m-5-11h0m-1-7h0m-1-3h0m-8 6h0m-2-5h0m-14 12h0m-1-10h0m-1 8h0m-3 10h0m-3-3h0m-7-5h0m-1-7h0m-18 11h0m-21-8h0m-5 5h0m-25 30h0m48-10h0m16 11h0m1-11h0m10 10h0m4-16h0m2-3h0m3 4h0m11 18h0m-43 1h0m-4 1h0m-27 12h0m-25-8h0m-21 2h0m27 34h0m20 5h0m2-20h0m27 4h0m1-5h0m-28 28h0m-5-5h0m-29 29h0m337 145h0"/><path d="M536 1301h0m44-4h0m27 7h0m-82 73h0m-74 21h0m82 2h0m-21 36h0m-7-14h0m-13 12h0m-5-5h0m-24-9h0m-15 10h0m-7 30h0m31-1h0m1-3h0m11-16h0m4 13h0m25 4h0m7 1h0m13 25h0m-27-13h0m-12 17h0m-3-10h0m-3 6h0m-6-19h0m-9 14h0m-1 6h0m-4 3h0m-10-6h0m-12-10h0m-9 2h0m-1 2h0m-5 4h0m-3-2h0m0-4h0m-1 9h0m-5-16h0m-5 16h0m-16-12h0m-22 7h0m-14 34h0m25-5h0m5-16h0m2 11h0m6 8h0m2-1h0m4-2h0m0-2h0m0 2h0m13-1h0m1-13h0m10 0h0m0 8h0m4-1h0m8 9h0m2-10h0m5-10h0m1 14h0m5 6h0m0-11h0m2 10h0m5-14h0m0 15h0m2-8h0m17-7h0m9 13h0m22-7h0m-29 17h0m-23 0h0m-9-4h0m-6 7h0m-4 11h0m-3-9h0m-8 3h0m-1 1h0m-9 10h0m-2-23h0m0 0h0m-6 16h0m-10-8h0m-4 15h0m-1-1h0m-7-16h0m-6-2h0m-1 17h0m-5-4h0m-7-6h0m0-9h0m-23 32h0m6 12h0m10-2h0m3 3h0m4-12h0m16 12h0m1 0h0m1-2h0m5-13h0m1 2h0m3 7h0m3-10h0m0 1h0m5 13h0m7-13h0m7-2h0m9 2h0m12-8h0m2 9h0m9-7h0m3 13h0m42 20h0m-7-7h0m-76 2h0m-15-6h0m-2 3h0m-2 5h0m-18 5h0m0 1h0m-6 7h0m0-17h0m-2-3h0m0 17h0m-1 5h0m-1-3h0m0-18h0m-1 14h0m-1 5h0m-26-10h0m-53 35h0m28-6h0m10 7h0m11-1h0m17-12h0m11-5h0m0-4h0m9 9h0m0 0h0m8 9h0m60-9h0m-34 24h0m-36-7h0m-2 6h0m0 2h0m-7 4h0m-58 3h0m-6-18h0m10 25h0m22 0h0m8 20h0m-60 43h0m167-7h0m-89 141h0m179 0h0"/><path d="M491 1402h0m47 35h0m-9-16h0m-1-1h0m-29 3h0m-71 14h0m-18 25h0m7-15h0m4 15h0m5 1h0m3-1h0m14-15h0m10 16h0m10-3h0m12-8h0m0 0h0m1 4h0m4 5h0m10-5h0m2-1h0m5 3h0m0-4h0m6-7h0m1 4h0m15 8h0m8-3h0m12 4h0m-37 4h0m-7 19h0m-4 2h0m-1-4h0m0-1h0m-23 5h0m-3-8h0m-1-12h0m-7 3h0m0 11h0m-7 7h0m0-22h0m0 19h0m-7 0h0m-4-11h0m-2 7h0m-54 25h0m3 6h0m26-6h0m11 1h0m5 3h0m2-4h0m0-4h0m1 2h0m6 7h0m2-19h0m2 11h0m6-6h0m1 16h0m2-23h0m0 13h0m9-1h0m4-6h0m1-6h0m1 9h0m2 6h0m13-10h0m0-1h0m8 6h0m2-5h0m17 5h0m-26 18h0m-19 9h0m-10 7h0m-11-20h0m-3 0h0m-4 11h0m-5-1h0m0 13h0m-7 0h0m-6-14h0m-1-9h0m-1 22h0m-9-19h0m-2 9h0m-3 10h0m-4-6h0m-2-12h0m-1 19h0m-5-9h0m-3 0h0m-3 7h0m-46 16h0m0 10h0m27-15h0m8 13h0m7 0h0m4-5h0m1 0h0m0-6h0m5 3h0m2-1h0m5 7h0m4-15h0m1 9h0m1-3h0m3 2h0m1-7h0m15 15h0m2-6h0m2-12h0m1 7h0m2 3h0m7-11h0m0 13h0m8-10h0m17 13h0m-1 24h0m-19 0h0m-7-17h0m-5 5h0m-7-2h0m-2 14h0m-14-17h0m-3 22h0m-5-4h0m-2-12h0m-6-4h0m-10 1h0m-3 17h0m-4-15h0m-4-5h0m-5 3h0m0-2h0m-6 12h0m-3-9h0m-4 13h0m-7 0h0m8 12h0m5-4h0m1 2h0m9 9h0m8 2h0m16-9h0m1 1h0m7 3h0m-16 19h0m-2 2h0m-13-2h0m-3-2h0m-13 7h0m-7 2h0m0-5h0m-37 13h0m-7-10h0m-7 5h0m-6 0h0m-9-5h0m72 34h0m47-13h0"/><path d="M582 1372h0m-21 1h0m-52 31h0m89-4h0m-63 29h0m-13 7h0m-8 2h0m-19 0h0m-26-20h0m-24 31h0m1 11h0m12-12h0m2 10h0m2-15h0m18 2h0m12 10h0m0-9h0m1 14h0m11-11h0m28 14h0m26-16h0m58 6h0m-17 33h0m-43-16h0m-12 7h0m-6 2h0m-10-3h0m-23-9h0m-6 1h0m-3-3h0m-3 3h0m0 8h0m-3 5h0m0-1h0m-11-6h0m-6-3h0m-1-4h0m-2 4h0m-2 3h0m-1 5h0m-6-1h0m-3 7h0m-5-20h0m-13 9h0m-1-8h0m-27 13h0m-2 2h0m-18-6h0m8 33h0m10-13h0m2 11h0m6 1h0m14-13h0m11 8h0m12-7h0m1-7h0m9 5h0m1-5h0m7 17h0m0-13h0m13 12h0m6-12h0m-31 27h0m-14-7h0m-8 11h0m-5 12h0m-6-12h0m-5 8h0m-3-9h0m-3 3h0m-3 6h0m-3-3h0m-5-6h0m-5-3h0m-2-7h0m-1 22h0m0 1h0m-15-1h0m-60 18h0m15-5h0m6 12h0m15-11h0m1-7h0m3 4h0m4 7h0m0 1h0m4-15h0m5 11h0m5-11h0m1 1h0m0 6h0m4 10h0m4-19h0m1 18h0m1-1h0m5-5h0m0 2h0m1-3h0m6 1h0m3 9h0m0-21h0m7 7h0m0 9h0m3-2h0m1-1h0m7-13h0m1 7h0m1 11h0m1 2h0m6-19h0m0 12h0m0 1h0m2-8h0m35-5h0m7 14h0m50 25h0m-74 7h0m-47-18h0m-1 8h0m-19-5h0m-4 13h0m-1 0h0m-8 1h0m-1-9h0m-13 7h0m-1-7h0m-11 1h0m-1 8h0m-3-12h0m-28-1h0m2 38h0m1-11h0m12-1h0m1 3h0m17-6h0m3 2h0m5-3h0m6 1h0m10-4h0m1 7h0m12-10h0m39 1h0m46 7h0m-86 25h0m-20-3h0m-5 5h0m-7-10h0m-20 16h0m-4 1h0m-3-9h0m-26 23h0m5-6h0m23 17h0m15-12h0m20 9h0m-43 23h0m31 28h0m79 48h0m47 82h0"/></g>
<g fill="none" stroke="#f6b554" stroke-width="10.4" stroke-linecap="round" stroke-opacity="0.26"><path d="M464 1413h0m54-9h0m7-1h0m29 6h0m94-3h0m-102 12h0m-23-1h0m-11 0h0m-2 7h0m-12 14h0m-6-4h0m-27 17h0m3 11h0m32-12h0m10 12h0m30-13h0m28 1h0m-41 24h0m-17 4h0m-1-1h0m-10 10h0m-21-10h0m-4-7h0m-3-2h0m-8 16h0m-25-13h0m-22 23h0m4 12h0m10-10h0m7-1h0m2 10h0m19 1h0m6-15h0m4-1h0m1-2h0m2 22h0m3-6h0m1-8h0m5 4h0m4-5h0m9 16h0m24-6h0m2-9h0m-38 33h0m-2-15h0m-5 9h0m-7 9h0m-2-5h0m-1-9h0m-5 11h0m-2-5h0m-6 2h0m-9 3h0m-3 5h0m-4-14h0m-2 2h0m-1 7h0m-9-14h0m-1 15h0m-7 2h0m-1-1h0m-8 4h0m-5-4h0m-2-1h0m-10 1h0m-2-18h0m-12 16h0m-2 5h0m2 20h0m1-1h0m4-3h0m1-7h0m3 4h0m10-8h0m2 11h0m0 9h0m1 0h0m3-15h0m0-6h0m0 20h0m2-11h0m3 6h0m4-9h0m2 0h0m1 2h0m3-10h0m15 14h0m16-12h0m9 4h0m4-3h0m19 3h0m-15 32h0m-15-2h0m0-12h0m-12 5h0m-1 2h0m-16 4h0m-17-3h0m-6 4h0m-10-10h0m-2 13h0m-5-9h0m-3 3h0m-1-7h0m-16 21h0m-2-16h0m-4 11h0m-9-1h0m-29 15h0m26 5h0m3-11h0m4 14h0m3 1h0m7 3h0m0-6h0m1 1h0m3-3h0m14 3h0m8-2h0m0 3h0m1-11h0m0 0h0m5 14h0m30-15h0m3 18h0m7-15h0m6 13h0m38 3h0m-91 12h0m0-3h0m-19 8h0m-43-3h0m-39 7h0m-3 11h0m19 2h0m4-4h0m17 11h0m6-7h0m15-3h0m2 4h0m19-4h0m34-5h0m-29 31h0m-31-4h0m-24 11h0m-77 11h0m128 27h0m24 121h0"/><path d="M529 1413h0m49 20h0m-118 23h0m21 3h0m3-7h0m8-6h0m2 5h0m1-7h0m7 0h0m11 10h0m33-13h0m81 32h0m-70-1h0m-9 0h0m-41 4h0m-8 6h0m-7-15h0m-1 7h0m-3-7h0m-2 5h0m-8 15h0m-10-19h0m-3 1h0m-2 18h0m-7-3h0m-16-15h0m-1 4h0m-3 3h0m-7 7h0m-41 10h0m32 11h0m2 2h0m0 3h0m7-5h0m11 3h0m3-4h0m5-4h0m4 10h0m1-1h0m2-4h0m6-16h0m1 20h0m1-2h0m8-17h0m8 14h0m9 5h0m125 4h0m-78 1h0m-54 2h0m-5 18h0m-22-9h0m-5 6h0m-9-14h0m-4 4h0m-4 14h0m-2-15h0m-1 2h0m-4 14h0m-5-13h0m-2-8h0m-2 8h0m-1 0h0m-6 8h0m-8-7h0m-12-10h0m-16 17h0m-32 20h0m20-8h0m13-4h0m9 19h0m3-17h0m14 14h0m5 4h0m2-18h0m5 10h0m3 3h0m0 2h0m6-18h0m0 6h0m15 15h0m10-17h0m0 13h0m7-11h0m2-7h0m0 15h0m6-7h0m12-8h0m-13 42h0m-10-15h0m-10 4h0m-1 1h0m-4 8h0m-6-14h0m-10 12h0m-4-10h0m-6 6h0m-7-9h0m0 15h0m-4 4h0m0-4h0m-2-12h0m-10 19h0m-2-2h0m-1-4h0m-6 1h0m-4 2h0m-23 0h0m-15 16h0m10 11h0m5-10h0m7-3h0m12 13h0m4-2h0m2-7h0m1 7h0m0-19h0m2 7h0m24-5h0m28 2h0m58 17h0m-67 1h0m-31 16h0m-14 6h0m-18-22h0m-7 15h0m-2-11h0m-4-2h0m-41 23h0m0 20h0m12-21h0m6 17h0m84-16h0m67 27h0m-153 48h0m-28 4h0m-62-3h0m218 25h0"/><path d="M475 1346h0m100 20h0m-13 21h0m-10 4h0m-18-4h0m-5 20h0m26 26h0m-32 6h0m-2-6h0m-7-14h0m0 19h0m0-1h0m-115 10h0m70 8h0m15 4h0m29 2h0m-21 23h0m-13-7h0m-1-4h0m-4 10h0m-12 3h0m-14-4h0m-12-1h0m-1 2h0m-3 4h0m-10 13h0m2-7h0m4 17h0m5-7h0m1 5h0m19 3h0m1-17h0m1 14h0m12-10h0m1-7h0m10 6h0m10-6h0m7 14h0m44-13h0m-59 28h0m-11 3h0m-9-10h0m-7 17h0m-13-11h0m-6 8h0m-2 1h0m-1-10h0m-1 17h0m-1-14h0m-5 4h0m-3 4h0m-3-11h0m-2 9h0m-14-4h0m-12-2h0m-4 6h0m-15 6h0m3 21h0m3-12h0m3 15h0m12-17h0m10 9h0m6-1h0m21-8h0m4-4h0m2 0h0m5 4h0m3 0h0m0-1h0m1 4h0m5-2h0m14 1h0m1 15h0m12 2h0m4-12h0m2 15h0m-31 11h0m-33 7h0m-4-20h0m-3 2h0m-4 9h0m-2-6h0m0 8h0m-1-12h0m-3 4h0m-1-3h0m-7 20h0m-2-6h0m-3-14h0m-1 11h0m-3 4h0m-11-7h0m-11-4h0m-1 13h0m-2-3h0m-12-13h0m-9 9h0m-36 16h0m38 1h0m0 5h0m13-9h0m3 16h0m2-2h0m3-10h0m0 12h0m4-4h0m0 4h0m22-5h0m3 1h0m4 3h0m1-3h0m6 9h0m34-16h0m21-4h0m108 40h0m-169-9h0m-22-5h0m-12 17h0m-1-13h0m-14 14h0m-6-15h0m-5 11h0m-55 11h0m7 15h0m35-14h0m9-6h0m7 1h0m3 18h0m34-13h0m14-3h0m-58 42h0m-33-18h0m-42 16h0m80 10h0"/><path d="M621 1361h0m29 15h0m-127 38h0m115 25h0m-69-16h0m-19 7h0m-28 7h0m-3-18h0m0 15h0m-1-4h0m-3 6h0m-2 1h0m-35 3h0m3 17h0m3-6h0m50 0h0m14 9h0m-53 17h0m-2-10h0m-10 8h0m-9 3h0m-1-7h0m-10 13h0m-17 3h0m-3-9h0m-20 4h0m-3-2h0m5 9h0m9 12h0m17 4h0m8-11h0m21 7h0m2-4h0m6 10h0m13-18h0m42 37h0m-51 0h0m-21-3h0m-15-11h0m-1 4h0m-18 10h0m-1 3h0m-11-1h0m-16 5h0m-8-15h0m-1-2h0m-17 17h0m-29-5h0m-17 18h0m37 12h0m6-6h0m0 4h0m4-6h0m11-12h0m1 11h0m4 0h0m12-1h0m3 2h0m8 6h0m2-2h0m14-16h0m9 8h0m1 9h0m3-12h0m6-3h0m2 2h0m9 2h0m2-8h0m-22 27h0m-4 3h0m-16 1h0m-4-1h0m-10 10h0m-4 2h0m0-3h0m-2 0h0m-6-12h0m0 13h0m-11 3h0m-3 2h0m-3-11h0m-13 9h0m-1-18h0m-2 7h0m-1 8h0m-10 1h0m-13 0h0m-18-11h0m-10 20h0m12 20h0m14-15h0m16 2h0m1 4h0m4-2h0m7-7h0m10-1h0m10-3h0m4 8h0m2 12h0m4-10h0m2-9h0m5 2h0m7-1h0m-41 31h0m-8 2h0m-3-11h0m-8 1h0m-7 19h0m-6-13h0m-18-7h0m0 17h0m-5 14h0m15 0h0m6 0h0m2 4h0m5 1h0m2 1h0m3 1h0m38-3h0m6-1h0m-90 40h0m32 29h0m-75 6h0m145 113h0"/><path d="M552 1329h0m-85 131h0m11 0h0m1-2h0m10-14h0m25-2h0m11 21h0m91-13h0m-48 26h0m-80 3h0m-1-2h0m-4 3h0m-5 6h0m-7-12h0m-29 10h0m-10-3h0m-65 25h0m58-8h0m13 9h0m2-8h0m6-3h0m10 6h0m3-13h0m4 17h0m5-4h0m9 0h0m1-5h0m3 6h0m5-9h0m4-1h0m5 10h0m1 7h0m2-12h0m-14 24h0m-20 10h0m-6-20h0m-1 9h0m-7 8h0m-2-16h0m-10 14h0m-16 5h0m-8-17h0m-2 18h0m-1 0h0m-4-2h0m-7-2h0m-16-15h0m-32 35h0m12-1h0m26 4h0m0 7h0m7-22h0m3 0h0m0 22h0m6-19h0m6 15h0m3 3h0m7-1h0m7-4h0m0 0h0m1 0h0m0-2h0m0 0h0m0-9h0m3 6h0m1-3h0m6-8h0m2 2h0m1 6h0m6 4h0m15-3h0m18 15h0m-42 2h0m-4 8h0m-9-9h0m-10 13h0m-10-4h0m-3-3h0m-1 3h0m-3 12h0m-4-12h0m-3-7h0m-5 8h0m-1-11h0m-3 17h0m-1 0h0m-10-2h0m-11-7h0m-6 13h0m-13-19h0m-24 13h0m-3 0h0m6 17h0m24 12h0m0-15h0m2-6h0m0 9h0m5 2h0m0 8h0m3-4h0m6 1h0m6-10h0m9 10h0m11-4h0m1-6h0m14 4h0m2 4h0m3 4h0m2-16h0m16-1h0m3 12h0m37 10h0m-19 4h0m-56 0h0m-10 5h0m-30 1h0m-3 7h0m-2 7h0m-29-1h0m-20 14h0m6 4h0m26-2h0m10 5h0m-41 18h0m-2 27h0m17-16h0m0 0h0m-6 30h0m-8 1h0m-54 69h0m315 50h0"/><path d="M603 1335h0m-92 44h0m15 32h0m16-10h0m-5 25h0m-69 37h0m5-3h0m18-19h0m2 14h0m1 1h0m26-7h0m11 11h0m-1 9h0m-6 13h0m-4-7h0m0 10h0m-11 0h0m-2-5h0m-19 3h0m-4-17h0m-2 10h0m-21 1h0m-13-13h0m-3 3h0m-22 13h0m-20 31h0m21-6h0m6-13h0m2-2h0m5 5h0m15 3h0m2 10h0m0-6h0m4-9h0m1-1h0m2 14h0m4 1h0m3-14h0m8-4h0m5 16h0m4 1h0m3 1h0m2-1h0m3-2h0m13-9h0m13 7h0m8-10h0m-37 25h0m-17 0h0m-10-5h0m-11 12h0m-2-12h0m-1 1h0m-11 1h0m-5 11h0m-5 3h0m-6-9h0m-3 9h0m-1 1h0m0-3h0m-8-5h0m-10 10h0m-30-12h0m-8 40h0m19-9h0m3 9h0m3-14h0m5 10h0m10-5h0m2-4h0m5 10h0m0 1h0m1-13h0m0 12h0m1-12h0m1 11h0m5-2h0m2-14h0m2 10h0m1 2h0m7-5h0m2-6h0m3 2h0m1-1h0m1 7h0m5-3h0m2 3h0m5 3h0m1-6h0m2 8h0m6 5h0m2-11h0m-21 32h0m-1-10h0m-7 3h0m-5-8h0m0 9h0m-4 3h0m-2-14h0m0 14h0m-2-11h0m-5-1h0m0-4h0m-10 10h0m-11 12h0m-1-2h0m-14 1h0m-6-7h0m-1 0h0m-4 2h0m0-15h0m-3 21h0m-9-7h0m-70 15h0m48 0h0m34 8h0m12 2h0m8 6h0m1-10h0m3 10h0m4-12h0m5-4h0m26-6h0m16 3h0m-2 23h0m-25 7h0m-1-3h0m-8 5h0m-6 2h0m-1-8h0m-8 6h0m-27-10h0m-6 22h0m-9-2h0m-3-2h0m-2-9h0m-11 1h0m-48 28h0m11 4h0m1 0h0m47 0h0m4-18h0m8 6h0m56 3h0m-55 31h0m-77 28h0m88 35h0m107 94h0"/><path d="M520 1328h0m57 71h0m-63 38h0m-11-21h0m-4 17h0m-36 24h0m26 3h0m8-2h0m13 0h0m22-18h0m11 11h0m-14 34h0m-8-7h0m-15 7h0m-18-12h0m-3 0h0m-4 14h0m-8-5h0m-2 4h0m-2-13h0m-5 9h0m-1-8h0m-1 3h0m-2-3h0m-32 12h0m15 24h0m11-3h0m2 0h0m5-15h0m1 5h0m9 1h0m10 9h0m8-11h0m5 8h0m2-9h0m13 34h0m-17-7h0m-3-2h0m-7-1h0m-6 0h0m-7 2h0m-3 9h0m-10-14h0m-6 12h0m-5-9h0m-4 6h0m-4 8h0m-1-16h0m-5 15h0m-5-8h0m-2 11h0m0-7h0m-3 0h0m0-4h0m-10-7h0m-1 2h0m-3-4h0m-6 20h0m-3-14h0m-1 4h0m-6 9h0m-6-6h0m-4 30h0m1-17h0m1 10h0m0 6h0m1-8h0m2 9h0m5 1h0m2-21h0m3 7h0m2 1h0m15-3h0m2 13h0m4-1h0m2-4h0m5-7h0m3 4h0m5-12h0m1 6h0m16-4h0m13 13h0m38-10h0m76-4h0m-95 28h0m-36 9h0m-16-6h0m-11-2h0m-2 17h0m-7-21h0m-6 8h0m-1-8h0m-5 13h0m-2-12h0m-14 13h0m-3 1h0m-3-14h0m-10 12h0m-5-5h0m-1-6h0m-21 16h0m-30 21h0m14-3h0m6-12h0m9 2h0m1-1h0m42-2h0m7 17h0m7 4h0m0-11h0m3 10h0m8-12h0m2 6h0m1-4h0m0 4h0m2-13h0m5 1h0m7 2h0m0 7h0m16-4h0m-70 35h0m-9-19h0m-10 4h0m-37 6h0m-9 4h0m-18 30h0m57 2h0m22-5h0m27-14h0m20 12h0m64-8h0m50 11h0m-207 29h0m-18-11h0m-2 13h0m18 1h0m100 14h0m-178 25h0m158 109h0"/><path d="M627 1336h0m-58 21h0m53-13h0m-81 42h0m-28 20h0m31 2h0m17 9h0m-72 15h0m-57 23h0m38-2h0m1-8h0m7 14h0m3-17h0m2 7h0m1 11h0m6 2h0m17 9h0m-35 16h0m-5-12h0m-1 8h0m-13-9h0m-6 5h0m-43 2h0m-2 23h0m9 7h0m8-16h0m14 16h0m23-5h0m2-8h0m7-7h0m4 4h0m1-2h0m8 11h0m1-13h0m0 0h0m3 6h0m0-4h0m2 10h0m11-14h0m27 35h0m-23-12h0m-12 8h0m-5 14h0m-3-22h0m-18 9h0m-11 2h0m-2 6h0m-15-5h0m-4-6h0m0 1h0m-1 11h0m-2 1h0m-1-18h0m-1 20h0m-3-19h0m-6 20h0m0-22h0m-4 20h0m-3 1h0m-23-16h0m-9 1h0m-51-3h0m47 29h0m19 14h0m3-22h0m6 7h0m3 10h0m1 6h0m1-2h0m3-17h0m6 14h0m1-12h0m4-3h0m11 9h0m7 1h0m2-2h0m9-7h0m8 5h0m2 9h0m3-14h0m7 3h0m1-4h0m5 10h0m3-13h0m-24 42h0m-4 0h0m-14 3h0m-11-7h0m-9-13h0m-1 10h0m-6 0h0m-10-11h0m-11 23h0m-3-15h0m-1 2h0m-1-8h0m-5 21h0m-3-11h0m-7-3h0m-1-7h0m-4 15h0m0-7h0m-4-10h0m-38 22h0m-14 25h0m13-3h0m6-8h0m24-5h0m0-6h0m9 4h0m11 9h0m6-1h0m5-13h0m1 10h0m11 1h0m3-4h0m1 9h0m4-7h0m4 12h0m34-14h0m12 17h0m-41 14h0m-24 4h0m-26-9h0m-2 5h0m-3 2h0m-9 6h0m-2-21h0m-9 12h0m-11-3h0m-2-1h0m-1-2h0m-6 16h0m-1-5h0m-43 26h0m54-18h0m11 15h0m16 5h0m18-13h0m93 2h0m-80 18h0m-69-5h0m-8 5h0m23 44h0m-60 10h0"/></g>
<g fill="none" stroke="#f29c41" stroke-width="10.4" stroke-linecap="round" stroke-opacity="0.23"><path d="M564 1399h0m14 9h0m-50 25h0m-20-7h0m-48 0h0m-22 6h0m-69 27h0m121-10h0m29-9h0m66 2h0m-55 39h0m-23 5h0m-4-20h0m-6 20h0m-6-22h0m-7 10h0m-33-7h0m-38 38h0m38-5h0m25 5h0m3-10h0m4 11h0m0-2h0m28 5h0m3-20h0m4 13h0m2 29h0m-16-13h0m-2-1h0m-2 2h0m-16 4h0m-2-3h0m-10-5h0m-3 13h0m0-10h0m-1 1h0m-1 15h0m-5-8h0m-4 0h0m-3-5h0m-1 11h0m-5 1h0m-3-18h0m-1 7h0m-2 2h0m-8-3h0m-72 6h0m4 30h0m18-17h0m12 13h0m18 1h0m10-4h0m0-10h0m3 7h0m25 4h0m8-5h0m6 7h0m34 30h0m-26-19h0m-2 9h0m-25-7h0m-7 1h0m-7 0h0m-2 15h0m-1-20h0m-5 10h0m0 1h0m-1 6h0m-3 4h0m-2-21h0m-11 18h0m-12-1h0m-2-5h0m-2 7h0m-22 2h0m-6-10h0m-24 8h0m-5 26h0m29 0h0m11-7h0m3-7h0m19-7h0m1 19h0m4-14h0m1 7h0m2 6h0m3-14h0m1 5h0m19 4h0m2-6h0m24-8h0m-45 29h0m-9 13h0m-1 1h0m0-12h0m-13-2h0m-3 7h0m-18-4h0m-6 3h0m-14-5h0m-7 11h0m-19-9h0m-21 3h0m19 17h0m11-2h0m14-3h0m9 8h0m12-7h0m15 2h0m3 12h0m3-14h0m9 3h0m-10 42h0m-8-19h0m-18-3h0m-23 15h0m0-2h0m-14-8h0m-66 4h0m47 30h0m-58 23h0m278 112h0"/><path d="M610 1332h0m-60 45h0m-141 53h0m77 32h0m5-2h0m43-6h0m34 1h0m29 30h0m-36-15h0m-17 16h0m-18-1h0m-8 2h0m-57-3h0m-24-10h0m-19 8h0m-9 26h0m2-3h0m29-8h0m1 10h0m3 3h0m4-4h0m4-16h0m13 19h0m9-5h0m5-11h0m8 17h0m6-13h0m3 2h0m20-10h0m0 12h0m0 16h0m-1 2h0m-32-1h0m-3 13h0m-12 1h0m-5 1h0m-17-5h0m-2-12h0m-9 12h0m-10 2h0m-11-10h0m-26 30h0m5 6h0m23 3h0m17-15h0m0 13h0m5-6h0m9 0h0m5 2h0m4-5h0m20-11h0m41 7h0m-60 38h0m-6-19h0m-5-1h0m-5 5h0m-13 8h0m-1-6h0m0-4h0m-11 3h0m-5-4h0m-5 2h0m0 3h0m-3 2h0m-1 6h0m-5-2h0m-6-5h0m-7 8h0m-5-4h0m-4 0h0m0-13h0m-29 17h0m-1-11h0m-34-7h0m43 40h0m1-14h0m11 13h0m4 0h0m6-12h0m21 8h0m1 7h0m2 4h0m2-9h0m2-10h0m13 28h0m-16-1h0m-3 3h0m0-2h0m-4-2h0m-5-5h0m-6 1h0m-3 3h0m-8 1h0m-1 10h0m-12 2h0m-3-15h0m-3 10h0m-2 9h0m-17-16h0m-2 6h0m0-3h0m-30 17h0m17 10h0m1 1h0m1 3h0m7-12h0m12 14h0m14-17h0m3 11h0m5 14h0m-13 3h0m-22 29h0m-49 25h0"/><path d="M621 1364h0m-80 62h0m-36 6h0m-139 24h0m122 2h0m1-2h0m3 6h0m29-7h0m42 32h0m-51-9h0m-2 6h0m-1-4h0m-11 2h0m-44 3h0m-4-8h0m-41 10h0m49 13h0m8-1h0m6-11h0m1 2h0m15 1h0m1 6h0m8-9h0m2 0h0m1 0h0m15 2h0m17 13h0m23-13h0m-3 29h0m-50 6h0m-33-1h0m-1 8h0m-1-5h0m-11 5h0m-2-19h0m-5 7h0m0-7h0m-2 4h0m-4 12h0m-1-17h0m-1 5h0m-2 18h0m-2-1h0m-34-6h0m-38 13h0m18 18h0m1-12h0m15-1h0m4-9h0m3 14h0m8-3h0m1-4h0m5 4h0m2 8h0m8 2h0m2 1h0m1-11h0m3 8h0m5-3h0m2-15h0m6 15h0m4 6h0m0-13h0m1 1h0m9-2h0m8-1h0m6-4h0m9 6h0m-27 27h0m-27 2h0m-1-15h0m-1 3h0m-4 1h0m-3 7h0m-7 4h0m-2-2h0m-12-2h0m-5 6h0m0 5h0m-1-20h0m-1 14h0m-1-2h0m-2-4h0m-26-10h0m-3 16h0m-29 4h0m-8 5h0m7 12h0m13 5h0m5-12h0m3 17h0m13-15h0m6-6h0m4 12h0m7 8h0m0-1h0m1-13h0m20 14h0m34-17h0m-37 21h0m-19 11h0m-4 7h0m-8-13h0m-6 12h0m-1-17h0m-10 15h0m-3-17h0m-4 13h0m-2-11h0m-1 6h0m-22-8h0m-6 45h0m9-6h0m6-5h0m8-4h0m9 10h0m18-1h0m4-7h0m8-6h0m20 12h0m26-7h0m-102 17h0m0 11h0m-15 12h0m-24-23h0m36 32h0m14-8h0m14 35h0m75 115h0m31 0h0"/><path d="M508 1357h0m-81 51h0m139-16h0m1 29h0m-34-5h0m-6 6h0m-43 12h0m3 12h0m18 11h0m38 5h0m4-16h0m9 14h0m-34 14h0m-12 5h0m-9 4h0m-40-2h0m-19-1h0m-65 30h0m51-8h0m27 5h0m7-11h0m3 10h0m4 1h0m2-19h0m1 20h0m7-3h0m8 3h0m2-14h0m1 14h0m17-17h0m21-1h0m-11 23h0m-32 16h0m-3-7h0m-15 1h0m-7 5h0m-2-2h0m0 1h0m-12-10h0m-14 9h0m-6 2h0m-20-3h0m-36 1h0m26 12h0m10 15h0m0 6h0m1-21h0m3 17h0m15-1h0m1-11h0m11 16h0m2-16h0m4 15h0m12-22h0m67 5h0m9 17h0m-72 5h0m-12-3h0m0 7h0m-6 13h0m-10-20h0m-9 11h0m-3-6h0m-20 4h0m0 10h0m-2-17h0m0 8h0m-1 3h0m-5 2h0m0 2h0m-5 1h0m-16-5h0m-24 4h0m-3 1h0m-19 22h0m20 1h0m17 4h0m4-7h0m9 1h0m0-1h0m3 1h0m6-8h0m17 2h0m1-9h0m4 1h0m9 20h0m8 1h0m4-5h0m22 1h0m3-11h0m-14 19h0m-25 4h0m-13 10h0m-7-10h0m0 15h0m-5-2h0m-29-2h0m-2-16h0m-53 8h0m-17-7h0m21 44h0m9-2h0m5-15h0m3 17h0m12-9h0m1 6h0m4-13h0m5-5h0m3 19h0m3-11h0m24 5h0m12-4h0m2-5h0m17 14h0m-28 7h0m-2 11h0m-25-2h0m-30-5h0m-79 40h0m50 14h0m135 114h0m22 0h0"/><path d="M609 1391h0m-8-18h0m-249-4h0m168 36h0m21 10h0m-37 20h0m-53 1h0m10 16h0m18-2h0m68-5h0m-4 29h0m0 2h0m-17-4h0m-1-6h0m-4 0h0m-3 13h0m-15-3h0m-4 2h0m0 9h0m-55 0h0m-41 11h0m24 9h0m7 1h0m1-19h0m2 21h0m5-21h0m2 12h0m41-3h0m10 6h0m5-8h0m3 14h0m30 15h0m-1-3h0m-33-2h0m-6-7h0m-13 6h0m-14-4h0m-2-1h0m-4-1h0m-3 19h0m-6-6h0m-2-9h0m-9 8h0m-9 9h0m-3-2h0m-1-14h0m-4 17h0m-6-13h0m-1 9h0m-6-7h0m0-3h0m-7-6h0m-9 19h0m-7 10h0m11 13h0m7 2h0m25-10h0m0 6h0m1-15h0m11 4h0m6-3h0m7 15h0m6 0h0m17 23h0m-13-19h0m-18 8h0m-4 3h0m-1 8h0m-5-9h0m-3 4h0m-2 0h0m-8-6h0m-13-5h0m-2 0h0m-7 15h0m0-6h0m-2 5h0m-17-7h0m-2 0h0m-12-1h0m-7 11h0m-34 25h0m63-7h0m5 7h0m3-6h0m2-3h0m0-6h0m13 12h0m17-4h0m8-14h0m55 12h0m-32 21h0m-44-5h0m-25-1h0m-13 5h0m0-3h0m-11 0h0m-12 11h0m-51-3h0m0-4h0m-37 34h0m42-16h0m1 18h0m11-9h0m9 0h0m8 4h0m18-2h0m21-13h0m4 9h0m8-2h0m3-5h0m19-1h0m-62 27h0m-5 1h0m-26 4h0m-3 2h0m0-11h0m-46 43h0m51-13h0m-14 29h0m-64 57h0"/><path d="M565 1342h0m-24-10h0m-48 20h0m88 12h0m47 0h0m-133 91h0m12-5h0m21 4h0m11-14h0m-7 35h0m-24-5h0m-5 1h0m-8-3h0m-25 18h0m-168 24h0m1-10h0m124 10h0m15-16h0m11 15h0m40-8h0m4-12h0m29 8h0m-13 20h0m-38 5h0m-2 11h0m-8-10h0m-4 2h0m-6 2h0m-2-5h0m-6 7h0m-12-10h0m-3-1h0m-11 10h0m0-2h0m0-9h0m-4-3h0m-38 17h0m-118 17h0m129 2h0m23-5h0m9 5h0m2-10h0m1 13h0m1-6h0m6 11h0m0-20h0m6 14h0m1-3h0m7 2h0m9-15h0m6 3h0m16 8h0m11 8h0m6-15h0m16 6h0m5-8h0m44 17h0m-73 18h0m-18-4h0m-10-8h0m-10-1h0m-2 13h0m-5-6h0m-2 2h0m0-8h0m-1 2h0m-6 16h0m-11 3h0m-1-22h0m-2 1h0m-1 13h0m-2 5h0m-5-11h0m-1 4h0m-13-12h0m-7 10h0m-1 13h0m-2-7h0m-29 7h0m-3-1h0m-26 22h0m15-6h0m6 0h0m9 2h0m2 6h0m2-22h0m4 12h0m18 9h0m3 2h0m3-7h0m1-10h0m2-3h0m8 7h0m2-3h0m2 2h0m4 4h0m0-1h0m0 10h0m19-13h0m4 18h0m-11 10h0m-5-10h0m-5 4h0m0-2h0m-10 8h0m-23 2h0m-5-12h0m-18 12h0m-8-11h0m-15-1h0m8 24h0m9 8h0m6 8h0m0-19h0m6 18h0m8-10h0m20-5h0m8 17h0m-21 5h0m-17 10h0m-25 2h0m-1-2h0m-22 7h0m-26-2h0m-36-13h0m27 32h0m50 36h0m56 103h0m90 0h0"/><path d="M591 1386h0m-111 6h0m108 15h0m-110 28h0m-26 7h0m79 21h0m4-7h0m77 2h0m-63 26h0m-3-16h0m-7-4h0m-16 11h0m-35-4h0m-20-5h0m-56 6h0m2 29h0m36-5h0m4 13h0m8-14h0m7 9h0m8 1h0m4-14h0m20 17h0m2-7h0m8-8h0m-40 27h0m-1-3h0m-2 16h0m-9 1h0m-2-8h0m-6 9h0m0-16h0m-25 8h0m-7-14h0m-4 19h0m-3 2h0m-10-5h0m-30 9h0m21 16h0m29-2h0m5-12h0m3 19h0m0-21h0m8 17h0m4-9h0m9-4h0m10 2h0m14-5h0m6 14h0m6-14h0m0 29h0m-38-4h0m-5-4h0m-13 9h0m-3 7h0m-2-12h0m-3-3h0m-3 1h0m-5 17h0m-1-18h0m-3 15h0m0-12h0m-11 8h0m0-10h0m-8-2h0m-1 1h0m-8 17h0m-7-11h0m-3 16h0m-25-16h0m-26 39h0m51-4h0m5-15h0m1-3h0m12 14h0m0-7h0m3 14h0m4-1h0m2-1h0m14-18h0m3 11h0m25 7h0m9-7h0m7-6h0m-13 21h0m-36-3h0m-1 1h0m-18 16h0m-4-14h0m-11 9h0m0 0h0m-19-6h0m-7 7h0m-36 1h0m-14 14h0m17 2h0m2 5h0m44 0h0m13 0h0m1 1h0m34 2h0m-91 32h0m-2-4h0m-3-18h0m-23 29h0m18 35h0m-25-9h0"/><path d="M470 1385h0m57 23h0m7 6h0m-25 23h0m-26-20h0m-29 23h0m13 14h0m35 0h0m20-1h0m25 6h0m7-14h0m29 39h0m-143-12h0m-16 29h0m9-10h0m37 1h0m6 2h0m23 2h0m9 4h0m7-1h0m-30 36h0m-10-23h0m-9 22h0m-6-14h0m-4 1h0m0 5h0m-9 2h0m-3 4h0m-21-9h0m-26 11h0m-21 22h0m11 2h0m6-7h0m17-3h0m9-5h0m7-2h0m11 16h0m3 1h0m2-15h0m3 14h0m10-7h0m1 6h0m0-7h0m19 9h0m10-14h0m-28 26h0m-2-4h0m-5 3h0m-7 2h0m-6 9h0m-8-11h0m-14-7h0m0 11h0m-9 9h0m-2-20h0m-4 5h0m-5 4h0m-23 7h0m-37 10h0m38 19h0m4-3h0m15-7h0m5-3h0m0 10h0m2-15h0m11 12h0m13 2h0m14-4h0m8 1h0m175 5h0m-215 13h0m-8 9h0m-35-10h0m-5 9h0m0 2h0m-2-16h0m-1 16h0m-2-10h0m-1 10h0m-4-12h0m-15 7h0m-8 0h0m-25 20h0m36 5h0m16 3h0m19-2h0m1 1h0m1 5h0m7-21h0m46 8h0m-19 15h0m-63 0h0m-46 27h0m18-4h0m1 9h0m9 14h0m-57 15h0m-17 22h0m64-1h0m78 91h0"/></g>
<g fill="none" stroke="#ee7f35" stroke-width="10.4" stroke-linecap="round" stroke-opacity="0.23"><path d="M544 1448h0m12 17h0m-13 8h0m-25 4h0m-6-8h0m-42 11h0m-10 2h0m-11 15h0m1 13h0m6-4h0m2-1h0m48 2h0m-4 14h0m-7 14h0m-7-3h0m-11-5h0m-21 0h0m-1-11h0m-2 10h0m-37-8h0m-15 41h0m34-8h0m16 6h0m15-1h0m6 1h0m1-6h0m0-9h0m1 5h0m10 7h0m9-18h0m-3 29h0m-18 18h0m-13-22h0m-1 17h0m-4-16h0m-2 9h0m-13 12h0m-6-4h0m-10 4h0m-11-7h0m-7 3h0m-7-2h0m-48 2h0m-24 2h0m6 16h0m54 10h0m0-15h0m8 5h0m8-7h0m1 17h0m5-5h0m1 5h0m8-23h0m0 16h0m1 2h0m5-8h0m2 7h0m15-8h0m4 10h0m1-19h0m2 11h0m1-4h0m17-3h0m-35 21h0m-7 16h0m-2-9h0m-39 8h0m-9-6h0m-4 2h0m-38-8h0m-13 11h0m19 16h0m21 3h0m8-5h0m3 10h0m0 7h0m12-20h0m7 0h0m1 16h0m2-9h0m-3 27h0m-12-3h0m-24 1h0m-3 6h0m-9-13h0m-18 6h0m-7-7h0m-3 21h0m22 10h0m-34 15h0m-85 38h0m287 88h0"/><path d="M568 1427h0m-61 25h0m16 10h0m-58 7h0m4 37h0m4 2h0m9 2h0m6-19h0m20 10h0m2 8h0m9-10h0m-14 15h0m-6 1h0m-20 16h0m-24 4h0m-52 19h0m16 5h0m9-13h0m21-6h0m3 2h0m19-1h0m7 3h0m0 2h0m3 4h0m-2 15h0m-30 13h0m-4-13h0m-1 11h0m0 7h0m-2-6h0m-1-15h0m-8 19h0m-2-3h0m-4 0h0m-7-13h0m-3 4h0m-2 13h0m-6-10h0m-35 3h0m-18 2h0m-10 3h0m28 12h0m7-4h0m10 4h0m12 1h0m2-2h0m14-5h0m3 9h0m11-5h0m-30 36h0m-14 3h0m-14-15h0m-7-1h0m-5 13h0m-6-8h0m-13 10h0m-9-6h0m-9 3h0m-2 21h0m11-2h0m0 4h0m13-6h0m12-7h0m12 18h0m34-16h0m-1 38h0m-22-9h0m-23 5h0m-5-7h0m-41 1h0m-8 38h0m18-4h0m12-18h0m88 149h0m69 0h0"/><path d="M498 1404h0m78 0h0m43-3h0m-120 61h0m58 20h0m-38 4h0m-2-11h0m-4 9h0m-16-14h0m-41 10h0m38 8h0m2 5h0m44 13h0m-5 22h0m-12-16h0m0 0h0m-18 21h0m-10-20h0m-13 3h0m-9 14h0m0-8h0m-2-3h0m-9 15h0m-4-10h0m-32 9h0m-16 25h0m17-8h0m9 3h0m3-8h0m3 9h0m3 5h0m1-18h0m7 16h0m4-10h0m8 2h0m2-8h0m2 17h0m30-19h0m-17 42h0m-13 1h0m-4-9h0m-4-12h0m-9 13h0m-1-2h0m0-3h0m-11-8h0m-1 4h0m-5 1h0m-4 17h0m-1-9h0m-17-8h0m-13 9h0m-3-12h0m-9-1h0m-10-2h0m-8 10h0m-1-7h0m-18 41h0m25-19h0m5-1h0m2 3h0m16 3h0m1 8h0m1 1h0m3-3h0m0-7h0m3 2h0m4-4h0m10 1h0m2 8h0m25 4h0m-21 26h0m-6-7h0m0-5h0m-5 1h0m-5 6h0m-1-6h0m-7 5h0m-14-10h0m-2 5h0m-4 3h0m-3-2h0m-12 13h0m-5 0h0m-63-15h0m7 29h0m19 6h0m20-15h0m12 13h0m4-5h0m2 6h0m3 7h0m4-11h0m2 8h0m3-18h0m-65 38h0m-6 6h0m2 16h0m16 30h0m-9 4h0m-32 102h0m242 0h0"/><path d="M573 1439h0m29 46h0m-91-1h0m-12-20h0m-1 47h0m1-2h0m6-19h0m44 16h0m-51 13h0m-44 0h0m-20-1h0m-23 12h0m-2 15h0m11 7h0m0-2h0m3-2h0m8 2h0m12-13h0m8 21h0m16-3h0m2 4h0m3-11h0m8 7h0m1-5h0m8 4h0m3 17h0m-23 9h0m-7-15h0m-5-1h0m-24 5h0m-11 3h0m-8 5h0m-2-10h0m-1 12h0m-23-7h0m-4 2h0m-5-6h0m-24 24h0m13 4h0m8-5h0m28-6h0m9 4h0m7 10h0m2-10h0m20 1h0m45 9h0m-42 17h0m-54 2h0m-14-9h0m-36 16h0m-2 8h0m2 6h0m3 9h0m19-2h0m10-7h0m6 5h0m6-3h0m7 14h0m34-10h0m18-7h0m-94 27h0m-35-9h0m-15 15h0m2 27h0m59 4h0m-48 14h0m-10-9h0m-6 7h0m-69-4h0m277 120h0m7 0h0"/><path d="M463 1363h0m88-10h0m96 4h0m-75 48h0m-121 40h0m16 14h0m38-9h0m45 13h0m85 10h0m-119 9h0m-44 27h0m6-10h0m2-10h0m55 8h0m-28 35h0m-45 3h0m-72 17h0m4 3h0m10-1h0m26 4h0m16-20h0m0 20h0m5-3h0m16-3h0m3-3h0m1-6h0m16 25h0m-22-4h0m-6 13h0m-11-9h0m-4 8h0m-1-10h0m-4 7h0m-1 0h0m-9-6h0m-7-4h0m-6 20h0m-9-17h0m-4 11h0m-20-16h0m-8 4h0m-17 5h0m-1-3h0m-4 11h0m-27 26h0m29 3h0m2-11h0m15-5h0m2 9h0m20 2h0m4 5h0m4-21h0m4 2h0m11-4h0m4 19h0m9-19h0m7 13h0m32-3h0m30 10h0m-91 4h0m-6 5h0m-1 2h0m-3-5h0m-5 20h0m-1-2h0m-17-13h0m-5-3h0m-5 12h0m-5-9h0m-3 10h0m-30 2h0m-1-7h0m-31 18h0m19-3h0m41 18h0m5-20h0m5 5h0m7 16h0m2-18h0m-5 28h0m-62 29h0m4-13h0m72 25h0m-75 17h0m-9 4h0m-9-22h0m-35 15h0m81 19h0m-31 92h0"/><path d="M600 1408h0m38 16h0m-122 9h0m11 24h0m8 2h0m89-2h0m4 9h0m-83 18h0m-82-19h0m13 33h0m82 13h0m-31 1h0m-23 9h0m-5-6h0m-3-2h0m-2 6h0m-5-1h0m0 17h0m-6-23h0m-1 1h0m-2 19h0m-18-8h0m-5-11h0m-4 6h0m-2 13h0m-10 0h0m-8-8h0m-1 6h0m-24 27h0m18-7h0m10-5h0m0 13h0m18-5h0m5-13h0m4-2h0m1 5h0m22 10h0m13-12h0m6 1h0m-29 24h0m-2 0h0m-21 12h0m-12-4h0m-20 8h0m-3-20h0m-3 10h0m-12 5h0m0-5h0m0-5h0m-75 34h0m33 6h0m4-8h0m6-2h0m5-5h0m18-2h0m1 14h0m4-11h0m27 14h0m2-22h0m7 11h0m-17 20h0m-2-2h0m-8-5h0m-6 15h0m-14-11h0m-9 10h0m-3-2h0m-16 6h0m-11-10h0m-38 36h0m13-17h0m2 12h0m32 1h0m3-9h0m0 4h0m1-5h0m9 0h0m6 3h0m1 3h0m11-12h0m5 15h0m14 9h0m-32 6h0m-13-5h0m-17 8h0m-8 0h0m-25-1h0m-20 1h0m8 45h0m4 22h0m76 97h0"/><path d="M568 1413h0m27-2h0m-73 20h0m-50 22h0m59 8h0m36 10h0m-21 2h0m-61 3h0m16 26h0m26 6h0m2 22h0m-35-15h0m-2 20h0m-3-2h0m-8-6h0m-14-13h0m-2 9h0m-5-6h0m-5 17h0m0 0h0m-4-22h0m-10 21h0m0-2h0m-3 2h0m-20-12h0m-56 38h0m6-5h0m32-2h0m9-13h0m25 18h0m6-16h0m1 3h0m6 0h0m7-2h0m13 10h0m7 4h0m2-12h0m3 5h0m-9 33h0m-26-14h0m-1-6h0m-6-1h0m-3 19h0m-3-16h0m-11 16h0m-7-14h0m-22 17h0m-28 5h0m17 16h0m1 2h0m5-13h0m6 3h0m2-11h0m21 16h0m2 3h0m8-20h0m63 4h0m-44 20h0m-5 1h0m-17 17h0m-16-18h0m-19 17h0m-6-8h0m-1-8h0m-3 12h0m-1 2h0m-18 8h0m-2-14h0m-1 7h0m0 7h0m-14 8h0m10 11h0m17-13h0m30 4h0m-71 23h0m-38 0h0m32 32h0m16 8h0m-4 11h0m-104-10h0m170 125h0m105 0h0"/><path d="M637 1370h0m-157 30h0m90 5h0m-38 58h0m-10 5h0m-19 1h0m-34 6h0m6 34h0m6-12h0m27 0h0m-23 20h0m-4 5h0m-8 2h0m-4 4h0m-6-11h0m-8-1h0m-3 19h0m-17-10h0m-15-5h0m-8 36h0m12-2h0m13 3h0m12-5h0m14 5h0m32-3h0m17 8h0m-27 7h0m-10-5h0m-11 7h0m-12 8h0m-3-9h0m-15 0h0m-1-4h0m-3 12h0m-7-18h0m-6 18h0m-1-3h0m-2-5h0m0-1h0m-4 11h0m-10-4h0m-18-4h0m-44 24h0m8 3h0m3 8h0m14 0h0m18-2h0m3-10h0m7-11h0m2 17h0m0 2h0m5-1h0m12-14h0m5 6h0m1 11h0m3-11h0m11-2h0m1 6h0m32 2h0m1 2h0m-22 8h0m-3 16h0m-4 0h0m-28-12h0m-1-1h0m-1 1h0m-15 6h0m-2 11h0m-6-11h0m-3-9h0m-30 10h0m-101 21h0m75 11h0m25-19h0m2 0h0m5 17h0m15-9h0m13 11h0m4-16h0m3 13h0m14-3h0m-58 24h0m-5-4h0m-41 12h0m31 16h0m5-15h0m1 3h0m6 5h0m4-8h0m-59 62h0m3 0h0m100 4h0m-59 14h0m21 70h0m176 0h0"/></g>
<g fill="none" stroke="#e9602e" stroke-width="10.4" stroke-linecap="round" stroke-opacity="0.23"><path d="M504 1457h0m35 3h0m-37 27h0m-9 24h0m18-3h0m40-13h0m-138 33h0m15 8h0m21 20h0m38-16h0m7 8h0m21-9h0m-8 25h0m-15 16h0m-11-8h0m-13-4h0m-18 6h0m-7 9h0m-6-20h0m-4-1h0m-1 2h0m-4 0h0m-5 2h0m-37 32h0m13-1h0m3 10h0m4-23h0m8 4h0m1 12h0m19-2h0m9-8h0m4 2h0m10 1h0m8-3h0m2-1h0m-21 21h0m0 4h0m-8 6h0m-8-5h0m-10 10h0m-18-3h0m-2 4h0m-1-11h0m0 6h0m-10-5h0m0 14h0m-15-8h0m-7-9h0m-1 0h0m-4 0h0m-1 15h0m-10 0h0m-4-2h0m-17 13h0m3 7h0m29 4h0m26-1h0m11-12h0m34 0h0m8-1h0m-26 35h0m-19-4h0m-3 5h0m0-8h0m-6 6h0m-15-10h0m-1 0h0m-18 7h0m-12-1h0m-9 9h0m25 18h0m40-1h0m-45 14h0m-100 60h0m275 64h0"/><path d="M607 1340h0m20 48h0m-180 18h0m15 13h0m90 51h0m-134 29h0m97 2h0m21-5h0m-7 20h0m-15 19h0m-35-16h0m-18 7h0m-52 20h0m30-6h0m1 2h0m0 5h0m41 11h0m5-21h0m9 10h0m1-7h0m1 10h0m9-2h0m18-8h0m5 6h0m3 12h0m-51 10h0m-3 14h0m-4-15h0m-27-1h0m-5 3h0m-5 4h0m-12-9h0m-113 37h0m19-16h0m81 14h0m4-14h0m3 0h0m9 16h0m1 2h0m3-15h0m33 5h0m11 14h0m-35 17h0m-13 3h0m-11-2h0m-1 3h0m-2-7h0m-2-2h0m-3 8h0m-9-16h0m-4 14h0m-16 1h0m-81 28h0m57-2h0m5 2h0m11-3h0m1-5h0m2 2h0m3-15h0m6 6h0m20 11h0m0-2h0m4-11h0m-7 42h0m-32-1h0m-11-9h0m-48 6h0m6 17h0m18 0h0m-13 17h0m-8 9h0m2 17h0m126 95h0"/><path d="M425 1423h0m28 31h0m162 26h0m-27-10h0m-25-3h0m-95 39h0m29 4h0m52-10h0m3 20h0m-42 9h0m-1 1h0m-14-3h0m-26-8h0m-17-2h0m-3 11h0m-3-1h0m-42 0h0m4 12h0m30 16h0m7-14h0m1 1h0m12 16h0m17-6h0m5-7h0m66 9h0m-70 9h0m-1 13h0m-4-10h0m-21-4h0m-24 1h0m-9 17h0m-19-15h0m-1 7h0m2 12h0m6 15h0m2 5h0m0-20h0m4 2h0m5 11h0m8 7h0m9-4h0m4-7h0m1-6h0m9 11h0m12-5h0m30 6h0m-49 23h0m-10-14h0m-13 18h0m-9-4h0m-6 9h0m-4-13h0m-2 7h0m-27-1h0m-10-6h0m-1 8h0m-4-6h0m-15 34h0m32-20h0m0 13h0m13-14h0m24 15h0m21-14h0m31 1h0m-70 43h0m-1-18h0m-79 19h0m28 5h0m16 31h0m-14-9h0m-26 9h0m-35 34h0m24-12h0"/><path d="M561 1364h0m5 47h0m40 2h0m-68 24h0m23 34h0m-108 22h0m54 39h0m-10-14h0m0 17h0m-7-3h0m-148 21h0m80-2h0m19 0h0m20 7h0m19-17h0m23 9h0m0 0h0m4-2h0m-6 23h0m-35 2h0m-11 0h0m-2 3h0m-18 2h0m-4 0h0m-15-8h0m-7 12h0m-3-13h0m-1-1h0m-22 5h0m-54 27h0m21 7h0m29-15h0m53 2h0m29 1h0m14 11h0m3-13h0m-57 16h0m-3 12h0m-2-3h0m-1 6h0m-2 5h0m-1-14h0m-6 13h0m0-20h0m-54 27h0m15 11h0m12-11h0m7 7h0m8 8h0m0-11h0m8 4h0m47 25h0m-126 0h0m-6-1h0m-12 28h0m32-6h0m15 2h0m10-8h0m12 4h0m-99 42h0m275 101h0"/><path d="M658 1424h0m-80-4h0m-29 28h0m8 16h0m-56 4h0m-20 7h0m-25 22h0m26 12h0m32 0h0m-17 20h0m-2-2h0m-4-14h0m-123 14h0m-34-9h0m124 39h0m16-1h0m9-13h0m8 7h0m25-4h0m1 1h0m-39 21h0m-3 8h0m-4-4h0m-4-7h0m-2 11h0m-9-16h0m-18 4h0m-2 18h0m-16-16h0m-7-4h0m-1 18h0m-10-18h0m-38 8h0m-49 28h0m1-7h0m24 7h0m60 1h0m6-10h0m2 5h0m7 8h0m1-2h0m0-9h0m11 4h0m12 7h0m4-14h0m52-3h0m-63 45h0m-4-1h0m-15-3h0m-4-8h0m-53 20h0m9 2h0m7 12h0m11-1h0m19-13h0m10-3h0m10 17h0m-25 20h0m-5-6h0m-16 2h0m-6-7h0m-2-2h0m-13 10h0m-8-12h0m0 20h0m-29 2h0m2 19h0m13-18h0m2 19h0m-19 17h0m-41 2h0m39 27h0m240 85h0"/><path d="M555 1383h0m-170 59h0m178 9h0m-27 19h0m-10 2h0m-16-1h0m-34 40h0m21 0h0m68 2h0m-48 11h0m-42-11h0m-18 4h0m-2 17h0m-150-22h0m158 26h0m34-2h0m0 12h0m3 1h0m31-3h0m-29 35h0m-26-21h0m-14 20h0m-9-17h0m-3 12h0m-12-7h0m-7 15h0m-23-8h0m-21 13h0m3-3h0m3 14h0m2 2h0m2 1h0m1-15h0m4 14h0m6 0h0m8-16h0m0 6h0m10-1h0m4 2h0m5 1h0m0-6h0m51-3h0m-24 25h0m-24-1h0m-1 6h0m-21 6h0m-8 10h0m-14-13h0m-18 4h0m-5-12h0m-15 8h0m5 33h0m1-17h0m5 0h0m10 7h0m6-8h0m2 3h0m14 2h0m54 24h0m-91 9h0m-12-10h0m-34 14h0m-8 2h0m17 9h0m16 13h0m-102 6h0m59 30h0m128 96h0m42 0h0"/><path d="M492 1382h0m-50 18h0m121 60h0m-186 9h0m-27 32h0m134 3h0m11 18h0m-36 37h0m7-19h0m40 1h0m-20 30h0m-12-11h0m-2 21h0m-74 2h0m-16 19h0m13-6h0m7-3h0m20-1h0m4 1h0m8 14h0m0-22h0m6 6h0m2 40h0m-8-12h0m-2-11h0m-1 16h0m-10 1h0m-14-8h0m-2 0h0m-2-7h0m-3 19h0m-5-20h0m-3 10h0m-1 0h0m-4-3h0m-9 10h0m-7-8h0m-11 12h0m-17 12h0m48 13h0m2-17h0m5 4h0m3 13h0m2-19h0m5 5h0m-14 15h0m-21 16h0m-21-4h0m-17 29h0m5-13h0m54 2h0m-75 29h0m-16-9h0m-41 11h0m40 28h0m58 85h0m24 0h0m112 0h0"/><path d="M631 1394h0m-216 93h0m73 22h0m13 1h0m2-10h0m5 25h0m-39-9h0m-38 16h0m-74 17h0m23 8h0m48-13h0m28 7h0m43-9h0m-6 20h0m-1 4h0m-4 2h0m-15 8h0m-9-15h0m-15 17h0m-1-16h0m-6 18h0m-3-18h0m-1 4h0m-7 4h0m-7 2h0m-12-6h0m-4 3h0m-78 31h0m17-7h0m26-2h0m24 16h0m8-18h0m9 9h0m13-4h0m1-6h0m10 9h0m20 4h0m31-15h0m8-2h0m-58 26h0m-2 21h0m-16-20h0m-1-2h0m0 21h0m-9-11h0m0 0h0m-10-1h0m-12 2h0m-6 9h0m-4-3h0m-14-6h0m-14-8h0m-6 31h0m4 11h0m11-8h0m1-4h0m13 9h0m8-13h0m14 1h0m23-1h0m-12 25h0m-20 9h0m-2-12h0m-6 12h0m-7 0h0m-16 0h0m-9-7h0m-11 14h0m-58 7h0m55 7h0m10 1h0m25 6h0m1-19h0m8 4h0m2 32h0m-43-5h0m-46-6h0m40 124h0"/></g>
<g fill="none" stroke="#df432d" stroke-width="10.4" stroke-linecap="round" stroke-opacity="0.23"><path d="M402 1553h0m31 1h0m2-5h0m7 32h0m-74-20h0m60 30h0m12 16h0m6-10h0m17 23h0m-21 9h0m-4-21h0m-3 3h0m-14-3h0m-27 12h0m-11 15h0m1 12h0m9-8h0m94-2h0m-66 32h0m-25 10h0m-3-20h0m-1 10h0m-7 8h0m-13-2h0m-34 2h0m-23 11h0m9-5h0m43 11h0m27-14h0m-50 43h0m-24 6h0m77 101h0m100 0h0m64 0h0"/><path d="M458 1438h0m34 5h0m87 54h0m14 16h0m-113 13h0m-50-9h0m31 26h0m4 11h0m4 4h0m10-12h0m21-9h0m-119 37h0m-151 7h0m58 10h0m34 10h0m82-2h0m7 3h0m24-5h0m10 1h0m8 9h0m5-3h0m19-15h0m-3 21h0m-14 20h0m-23-19h0m-2 15h0m-3-15h0m-84 37h0m15-12h0m37 19h0m20-15h0m12 9h0m-83 19h0m-28 17h0m5 15h0m-9 16h0m-23 4h0m20 24h0m50 86h0m74 0h0m6 0h0"/><path d="M654 1319h0m-188 125h0m7 31h0m44 36h0m-166 7h0m109 36h0m6-5h0m21 2h0m30-11h0m5 33h0m-46 8h0m-20-10h0m-14-3h0m-10 9h0m26 30h0m27-18h0m-14 20h0m-8 0h0m-30 15h0m-6-16h0m-27 3h0m-13 17h0m0 4h0m2 3h0m1 15h0m10-6h0m30 10h0m7 21h0m-22-8h0m-28 7h0m-28-6h0m-6-6h0m-1 2h0m-15 5h0m5 18h0m8-1h0m0 2h0m31 14h0m37-15h0m-106 28h0"/><path d="M486 1414h0m53 66h0m-89 3h0m37 48h0m-176 27h0m166-1h0m60-15h0m-67 34h0m-26-1h0m-15 2h0m-20 19h0m9-8h0m22 9h0m13-8h0m25 3h0m-12 27h0m-23 2h0m-8-4h0m-21 7h0m-43 4h0m-10-8h0m-9 24h0m7-7h0m39 17h0m1-6h0m-9 19h0m-5-6h0m-53-5h0m-30 15h0m37 18h0m7 14h0m27-16h0m9 8h0m118 135h0m25 0h0"/><path d="M625 1330h0m-112 200h0m-52 14h0m22 11h0m-18 15h0m-14 8h0m-10 4h0m-5 0h0m-16 8h0m27 33h0m-16 1h0m-98-11h0m42 23h0m1 6h0m1 10h0m1-3h0m56-13h0m50 3h0m-76 18h0m-17 2h0m-14-1h0m-9 29h0m-9 37h0m93 106h0"/><path d="M624 1346h0m-72 93h0m-67-18h0m-28 54h0m41 42h0m-25 5h0m-12-3h0m-6 17h0m62 43h0m-36 3h0m-9-3h0m-10-4h0m-4 1h0m-58 5h0m-14 11h0m40 9h0m6-7h0m7 13h0m-22 13h0m-46 10h0m-9-1h0m14 15h0m45-10h0m-9 38h0m-9-10h0m-21 9h0m-15 24h0m24-3h0m-65 17h0m-90 29h0m68-6h0m12-2h0m-72 56h0m4 31h0m229 13h0"/><path d="M500 1506h0m9-2h0m65 16h0m-97-2h0m-1 4h0m-25 4h0m-46-7h0m-51 27h0m179-7h0m-56 43h0m-17-3h0m-79 0h0m60 26h0m31-15h0m-45 24h0m-36 16h0m0-3h0m-31-6h0m-105 18h0m124 6h0m39-13h0m29 0h0m21 0h0m-60 27h0m-11 11h0m-18-9h0m-54 4h0m-10 25h0m17 3h0m32 4h0m-32 16h0"/><path d="M456 1489h0m72 16h0m13 6h0m15-13h0m-74 53h0m22-7h0m35 1h0m-87 36h0m-38-6h0m28 26h0m1 4h0m5-11h0m66 14h0m-58 12h0m-15-8h0m-90 13h0m2 16h0m10 2h0m4 11h0m12-5h0m3-6h0m15-4h0m30 32h0m-17-15h0m0 4h0m-9-2h0m-13 8h0m-8-3h0m-1-6h0m-1 6h0m-7 1h0m0 4h0m-28-8h0m-32 3h0m63 36h0m-35 48h0m-89 18h0m227 65h0m95 0h0"/></g>
<g fill="none" stroke="#d22830" stroke-width="10.4" stroke-linecap="round" stroke-opacity="0.23"><path d="M375 1601h0m82 25h0m-87 52h0m31 19h0"/><path d="M421 1600h0m24-12h0m-41 53h0m44 7h0m-96 55h0m34-10h0m172 137h0"/><path d="M481 1529h0m-29 97h0"/><path d="M508 1458h0m-79 73h0m39 86h0m-98 15h0m59 29h0m-69 40h0m68 129h0"/><path d="M525 1353h0m-89 256h0"/><path d="M335 1608h0m187 222h0"/><path d="M420 1490h0m60 64h0m-30 72h0m-34 3h0m-2-15h0m-47-4h0m-7 50h0m17 27h0"/><path d="M514 1548h0m-46 19h0m-65 76h0m5-9h0m30 31h0m-45 59h0m135 106h0"/></g>
</g>
<line x1="122.3" y1="1292.4" x2="122.3" y2="1830.2" stroke="#555" stroke-width="1.4"/>
<line x1="121.6" y1="1829.5" x2="663.5" y2="1829.5" stroke="#555" stroke-width="1.4"/>
<line x1="110" y1="1292.4" x2="122.3" y2="1292.4" stroke="#555" stroke-width="1.4"/>
<text x="98" y="1301.4" text-anchor="end" font-size="25" textLength="61.5" lengthAdjust="spacingAndGlyphs">10.00</text>
<line x1="110" y1="1472.3" x2="122.3" y2="1472.3" stroke="#555" stroke-width="1.4"/>
<text x="98" y="1481.3" text-anchor="end" font-size="25" textLength="49" lengthAdjust="spacingAndGlyphs">1.00</text>
<line x1="110" y1="1650.9" x2="122.3" y2="1650.9" stroke="#555" stroke-width="1.4"/>
<text x="98" y="1659.9" text-anchor="end" font-size="25" textLength="49" lengthAdjust="spacingAndGlyphs">0.10</text>
<line x1="110" y1="1829.5" x2="122.3" y2="1829.5" stroke="#555" stroke-width="1.4"/>
<text x="98" y="1838.5" text-anchor="end" font-size="25" textLength="49" lengthAdjust="spacingAndGlyphs">0.01</text>
<line x1="122.3" y1="1829.5" x2="122.3" y2="1841" stroke="#555" stroke-width="1.4"/>
<text x="122.3" y="1871.5" text-anchor="middle" font-size="25" textLength="49" lengthAdjust="spacingAndGlyphs">0.01</text>
<line x1="302.2" y1="1829.5" x2="302.2" y2="1841" stroke="#555" stroke-width="1.4"/>
<text x="302.2" y="1871.5" text-anchor="middle" font-size="25" textLength="49" lengthAdjust="spacingAndGlyphs">0.10</text>
<line x1="483.1" y1="1829.5" x2="483.1" y2="1841" stroke="#555" stroke-width="1.4"/>
<text x="483.1" y="1871.5" text-anchor="middle" font-size="25" textLength="49" lengthAdjust="spacingAndGlyphs">1.00</text>
<line x1="663.5" y1="1829.5" x2="663.5" y2="1841" stroke="#555" stroke-width="1.4"/>
<text x="663.5" y="1871.5" text-anchor="middle" font-size="25" textLength="61.5" lengthAdjust="spacingAndGlyphs">10.00</text>
<line x1="122.3" y1="1829.5" x2="663.5" y2="1292.4" stroke="#888" stroke-width="2.6" stroke-dasharray="10 7"/>
<path d="M517 1691 L575 1741" stroke="#c8202a" stroke-width="12" fill="none"/>
<path d="M612.7 1775.5 L570 1762 L596 1734 Z" fill="#c8202a"/>
<text x="477.6" y="1809" font-size="27.5" textLength="156.6" lengthAdjust="spacingAndGlyphs">Faster repair</text>
<rect x="678.7" y="1292.4" width="30.6" height="537.1" fill="url(#cbar)" stroke="#555" stroke-width="1.2"/>
<line x1="709.3" y1="1292.4" x2="718" y2="1292.4" stroke="#555" stroke-width="1.4"/>
<line x1="701" y1="1561" x2="718" y2="1561" stroke="#555" stroke-width="1.4"/>
<line x1="709.3" y1="1829.5" x2="718" y2="1829.5" stroke="#555" stroke-width="1.4"/>
<text x="730" y="1301" font-size="25" textLength="42" lengthAdjust="spacingAndGlyphs">Max</text>
<text x="730" y="1838.5" font-size="25" textLength="38" lengthAdjust="spacingAndGlyphs">Min</text>
<text x="740" y="1562" text-anchor="middle" font-size="27.5" textLength="343" lengthAdjust="spacingAndGlyphs" transform="rotate(90 740 1562)">Relative RNAPII occupancy</text>
<text x="32" y="1561" text-anchor="middle" font-size="27.5" transform="rotate(-90 32 1561)">DPC coverage 6 h (log<tspan font-size="18" dy="6">10</tspan><tspan dy="-6">(RPM))</tspan></text>
<text x="393" y="1910" text-anchor="middle" font-size="27.5">DPC-coverage 0 h (log<tspan font-size="18" dy="6">10</tspan><tspan dy="-6">(RPM))</tspan></text>
<text x="907.5" y="1272" font-weight="bold" font-size="37" textLength="17" lengthAdjust="spacingAndGlyphs" stroke="#111" stroke-width="1.3">f</text>
<line x1="1094.5" y1="1277.5" x2="1094.5" y2="1843.7" stroke="#111" stroke-width="1.4"/>
<line x1="1093.8" y1="1843.7" x2="1322.3" y2="1843.7" stroke="#111" stroke-width="1.4"/>
<line x1="1342.3" y1="1843.7" x2="1574.5" y2="1843.7" stroke="#111" stroke-width="1.4"/>
<line x1="1595.9" y1="1843.7" x2="1826.6" y2="1843.7" stroke="#111" stroke-width="1.4"/>
<line x1="1848" y1="1843.7" x2="2078.8" y2="1843.7" stroke="#111" stroke-width="1.4"/>
<line x1="1083.5" y1="1301.8" x2="1094.5" y2="1301.8" stroke="#111" stroke-width="1.4"/>
<text x="1071.5" y="1310.8" text-anchor="end" font-size="25">1.0</text>
<line x1="1083.5" y1="1431.6" x2="1094.5" y2="1431.6" stroke="#111" stroke-width="1.4"/>
<text x="1071.5" y="1440.6" text-anchor="end" font-size="25">0.5</text>
<line x1="1083.5" y1="1560.6" x2="1094.5" y2="1560.6" stroke="#111" stroke-width="1.4"/>
<text x="1071.5" y="1569.6" text-anchor="end" font-size="25">0</text>
<line x1="1083.5" y1="1689.6" x2="1094.5" y2="1689.6" stroke="#111" stroke-width="1.4"/>
<text x="1071.5" y="1698.6" text-anchor="end" font-size="25">−0.5</text>
<line x1="1083.5" y1="1819.4" x2="1094.5" y2="1819.4" stroke="#111" stroke-width="1.4"/>
<text x="1071.5" y="1828.4" text-anchor="end" font-size="25">−1.0</text>
<line x1="1094.5" y1="1560.6" x2="2078.8" y2="1560.6" stroke="#6f6f6f" stroke-width="3.5" stroke-dasharray="14 9"/>
<line x1="1154.6" y1="1464.8" x2="1154.6" y2="1533.3" stroke="#111" stroke-width="3.3"/>
<line x1="1154.6" y1="1579.8" x2="1154.6" y2="1646.1" stroke="#111" stroke-width="3.3"/>
<line x1="1117.4" y1="1464.8" x2="1191.1" y2="1464.8" stroke="#111" stroke-width="3.3"/>
<line x1="1117.4" y1="1646.1" x2="1191.1" y2="1646.1" stroke="#111" stroke-width="3.3"/>
<rect x="1114.4" y="1533.3" width="80.4" height="46.4" fill="#f5e71c" stroke="#111" stroke-width="3.3"/>
<line x1="1114.4" y1="1551.8" x2="1194.8" y2="1551.8" stroke="#111" stroke-width="6"/>
<line x1="1258.9" y1="1465.5" x2="1258.9" y2="1533.3" stroke="#111" stroke-width="3.3"/>
<line x1="1258.9" y1="1579.8" x2="1258.9" y2="1646.1" stroke="#111" stroke-width="3.3"/>
<line x1="1222.8" y1="1465.5" x2="1295.1" y2="1465.5" stroke="#111" stroke-width="3.3"/>
<line x1="1222.8" y1="1646.1" x2="1295.1" y2="1646.1" stroke="#111" stroke-width="3.3"/>
<rect x="1219.1" y="1533.3" width="79.6" height="46.4" fill="#f5e71c" stroke="#111" stroke-width="3.3"/>
<line x1="1219.1" y1="1559.1" x2="1298.8" y2="1559.1" stroke="#111" stroke-width="6"/>
<line x1="1406.8" y1="1454.4" x2="1406.8" y2="1531.9" stroke="#111" stroke-width="3.3"/>
<line x1="1406.8" y1="1584.2" x2="1406.8" y2="1662.3" stroke="#111" stroke-width="3.3"/>
<line x1="1370.3" y1="1454.4" x2="1444" y2="1454.4" stroke="#111" stroke-width="3.3"/>
<line x1="1370.3" y1="1662.3" x2="1444" y2="1662.3" stroke="#111" stroke-width="3.3"/>
<rect x="1366.6" y="1531.9" width="80.4" height="52.3" fill="#f9b51d" stroke="#111" stroke-width="3.3"/>
<line x1="1366.6" y1="1554" x2="1446.9" y2="1554" stroke="#111" stroke-width="6"/>
<line x1="1511.5" y1="1447.1" x2="1511.5" y2="1526.7" stroke="#111" stroke-width="3.3"/>
<line x1="1511.5" y1="1581.3" x2="1511.5" y2="1660.9" stroke="#111" stroke-width="3.3"/>
<line x1="1475" y1="1447.1" x2="1547.9" y2="1447.1" stroke="#111" stroke-width="3.3"/>
<line x1="1475" y1="1660.9" x2="1547.9" y2="1660.9" stroke="#111" stroke-width="3.3"/>
<rect x="1471.3" y="1526.7" width="80.4" height="54.6" fill="#f9b51d" stroke="#111" stroke-width="3.3"/>
<line x1="1471.3" y1="1556.9" x2="1551.6" y2="1556.9" stroke="#111" stroke-width="6"/>
<line x1="1659.3" y1="1417.6" x2="1659.3" y2="1553.2" stroke="#111" stroke-width="3.3"/>
<line x1="1659.3" y1="1643.9" x2="1659.3" y2="1780.3" stroke="#111" stroke-width="3.3"/>
<line x1="1622.4" y1="1417.6" x2="1696.1" y2="1417.6" stroke="#111" stroke-width="3.3"/>
<line x1="1622.4" y1="1780.3" x2="1696.1" y2="1780.3" stroke="#111" stroke-width="3.3"/>
<rect x="1619.5" y="1553.2" width="79.6" height="90.7" fill="#f07f23" stroke="#111" stroke-width="3.3"/>
<line x1="1619.5" y1="1588.6" x2="1699.1" y2="1588.6" stroke="#111" stroke-width="6"/>
<line x1="1764" y1="1445.6" x2="1764" y2="1533.3" stroke="#111" stroke-width="3.3"/>
<line x1="1764" y1="1591.6" x2="1764" y2="1679.3" stroke="#111" stroke-width="3.3"/>
<line x1="1727.1" y1="1445.6" x2="1800.1" y2="1445.6" stroke="#111" stroke-width="3.3"/>
<line x1="1727.1" y1="1679.3" x2="1800.1" y2="1679.3" stroke="#111" stroke-width="3.3"/>
<rect x="1724.1" y="1533.3" width="79.6" height="58.2" fill="#f07f23" stroke="#111" stroke-width="3.3"/>
<line x1="1724.1" y1="1564.3" x2="1803.8" y2="1564.3" stroke="#111" stroke-width="6"/>
<line x1="1912.1" y1="1382.9" x2="1912.1" y2="1613" stroke="#111" stroke-width="3.3"/>
<line x1="1912.1" y1="1767.8" x2="1912.1" y2="1843.7" stroke="#111" stroke-width="3.3"/>
<line x1="1876" y1="1382.9" x2="1949" y2="1382.9" stroke="#111" stroke-width="3.3"/>
<rect x="1872.3" y="1613" width="79.6" height="154.8" fill="#e8252b" stroke="#111" stroke-width="3.3"/>
<line x1="1872.3" y1="1683" x2="1952" y2="1683" stroke="#111" stroke-width="6"/>
<line x1="2016.8" y1="1444.9" x2="2016.8" y2="1550.3" stroke="#111" stroke-width="3.3"/>
<line x1="2016.8" y1="1621.8" x2="2016.8" y2="1727.2" stroke="#111" stroke-width="3.3"/>
<line x1="1980" y1="1444.9" x2="2053" y2="1444.9" stroke="#111" stroke-width="3.3"/>
<line x1="1980" y1="1727.2" x2="2053" y2="1727.2" stroke="#111" stroke-width="3.3"/>
<rect x="1977" y="1550.3" width="79.6" height="71.5" fill="#e8252b" stroke="#111" stroke-width="3.3"/>
<line x1="1977" y1="1583.5" x2="2056.6" y2="1583.5" stroke="#111" stroke-width="6"/>
<line x1="1155" y1="1843.7" x2="1155" y2="1852.6" stroke="#111" stroke-width="1.4"/>
<text x="1155" y="1880" text-anchor="middle" font-size="25">–</text>
<line x1="1258.9" y1="1843.7" x2="1258.9" y2="1852.6" stroke="#111" stroke-width="1.4"/>
<text x="1258.9" y="1880" text-anchor="middle" font-size="25">+</text>
<line x1="1407.1" y1="1843.7" x2="1407.1" y2="1852.6" stroke="#111" stroke-width="1.4"/>
<text x="1407.1" y="1880" text-anchor="middle" font-size="25">–</text>
<line x1="1511.8" y1="1843.7" x2="1511.8" y2="1852.6" stroke="#111" stroke-width="1.4"/>
<text x="1511.8" y="1880" text-anchor="middle" font-size="25">+</text>
<line x1="1659.3" y1="1843.7" x2="1659.3" y2="1852.6" stroke="#111" stroke-width="1.4"/>
<text x="1659.3" y="1880" text-anchor="middle" font-size="25">–</text>
<line x1="1763.2" y1="1843.7" x2="1763.2" y2="1852.6" stroke="#111" stroke-width="1.4"/>
<text x="1763.2" y="1880" text-anchor="middle" font-size="25">+</text>
<line x1="1912.1" y1="1843.7" x2="1912.1" y2="1852.6" stroke="#111" stroke-width="1.4"/>
<text x="1912.1" y="1880" text-anchor="middle" font-size="25">–</text>
<line x1="2016.1" y1="1843.7" x2="2016.1" y2="1852.6" stroke="#111" stroke-width="1.4"/>
<text x="2016.1" y="1880" text-anchor="middle" font-size="25">+</text>
<text x="930" y="1880" font-size="27.5" textLength="156.4" lengthAdjust="spacingAndGlyphs">Flavopiridol:</text>
<line x1="1154.3" y1="1444.1" x2="1258.2" y2="1444.1" stroke="#111" stroke-width="1.4"/>
<text x="1206.2" y="1433.8" text-anchor="middle" textLength="38" lengthAdjust="spacingAndGlyphs">NS</text>
<line x1="1406.4" y1="1424.2" x2="1511.1" y2="1424.2" stroke="#111" stroke-width="1.4"/>
<text x="1458.7" y="1429.5" text-anchor="middle" font-size="36" textLength="13" lengthAdjust="spacingAndGlyphs">*</text>
<line x1="1658.5" y1="1396.9" x2="1762.5" y2="1396.9" stroke="#111" stroke-width="1.4"/>
<text x="1710.5" y="1400" text-anchor="middle" font-size="36" textLength="40" lengthAdjust="spacingAndGlyphs">***</text>
<line x1="1910.7" y1="1360.8" x2="2015.4" y2="1360.8" stroke="#111" stroke-width="1.4"/>
<text x="1963" y="1364.6" text-anchor="middle" font-size="36" textLength="40" lengthAdjust="spacingAndGlyphs">***</text>
<text x="1110" y="1295.9" font-size="27.5" textLength="288" lengthAdjust="spacingAndGlyphs">Transcriptional activity</text>
<rect x="1114.4" y="1314.4" width="25" height="25" fill="#f5e71c"/>
<text x="1154.3" y="1335.7" font-size="27.5" textLength="51" lengthAdjust="spacingAndGlyphs">Low</text>
<rect x="1114.4" y="1356.4" width="25" height="25" fill="#f9b51d"/>
<text x="1154.3" y="1377.8" font-size="27.5" textLength="101" lengthAdjust="spacingAndGlyphs">Mid-low</text>
<rect x="1289.2" y="1314.4" width="25" height="25" fill="#f07f23"/>
<text x="1329" y="1335.7" font-size="27.5" textLength="111" lengthAdjust="spacingAndGlyphs">Mid-high</text>
<rect x="1289.2" y="1356.4" width="25" height="25" fill="#e8252b"/>
<text x="1329" y="1377.8" font-size="27.5" textLength="59" lengthAdjust="spacingAndGlyphs">High</text>
<text x="971.6" y="1559.1" text-anchor="middle" font-size="27.5" textLength="197" lengthAdjust="spacingAndGlyphs" transform="rotate(-90 971.6 1559.1)">DPC repair ratio</text>
<text x="999.6" y="1559.1" text-anchor="middle" font-size="27.5" transform="rotate(-90 999.6 1559.1)">DPC-seq coverage log<tspan font-size="18" dy="6">2</tspan><tspan dy="-6">(6 h/0 h)</tspan></text>
<text x="-0.5" y="1994.5" font-weight="bold" font-size="37" textLength="28.3" lengthAdjust="spacingAndGlyphs" stroke="#111" stroke-width="1.3">g</text>
<g clip-path="url(#clipG)">
<g fill="none" stroke="#8c8c8c" stroke-width="11" stroke-linecap="round" stroke-opacity="0.055"><path d="M686 2005h0m-9 8h0m-68 24h0m51 25h0m-3-16h0m-1 9h0m-11-11h0m-3 11h0m-3-5h0m-2 4h0m-12 0h0m-6-12h0m-2 8h0m-9 5h0m-49-5h0m14 14h0m12 11h0m7 7h0m5-6h0m11 2h0m2-3h0m2 11h0m4-20h0m10 12h0m-2 15h0m-8 0h0m-5-2h0m-8 5h0m-1-2h0m-2 0h0m0 3h0m-3 12h0m-18-8h0m-1-4h0m-3 14h0m-4-8h0m-3 7h0m-2-22h0m-4 22h0m-34-2h0m-27 11h0m42 4h0m1-2h0m15 11h0m2-1h0m2-18h0m6 14h0m1-2h0m3-5h0m3-3h0m4 2h0m8 5h0m5-12h0m-17 33h0m-6-3h0m-13 4h0m-3-7h0m-5 19h0m-4-9h0m-2-6h0m-4 0h0m-2 8h0m-3-8h0m-1 8h0m-1-10h0m-1 10h0m-5 2h0m-9 5h0m-3-15h0m-5 4h0m-5 9h0m-13-2h0m-39 19h0m11 6h0m5 1h0m8 1h0m5-13h0m4 5h0m8 3h0m3-4h0m2-12h0m0 23h0m5-1h0m5-22h0m4 17h0m0 1h0m0-10h0m3-7h0m4 22h0m1-22h0m1 10h0m0 8h0m1 0h0m0-14h0m3 5h0m0 4h0m5-5h0m1 5h0m1 6h0m-8 11h0m-4 8h0m-6-13h0m-5-1h0m-10 9h0m-2 11h0m-1-14h0m-7-4h0m-2 6h0m-4 8h0m-1-11h0m0-2h0m-2 17h0m-1-3h0m-1-7h0m0 12h0m-2-4h0m0 1h0m0-1h0m-1-5h0m-2 3h0m-2 4h0m-56-12h0m10 35h0m9-1h0m1 1h0m5-15h0m0 8h0m4-3h0m4 11h0m2-3h0m9 1h0m0-3h0m3-5h0m3 5h0m0-9h0m5 5h0m4 1h0m0 10h0m1-9h0m0-5h0m1-6h0m2 10h0m3-12h0m0 20h0m1-17h0m-14 25h0m-4-2h0m-13 15h0m-1 2h0m-1-5h0m0-7h0m-1 9h0m-2-16h0m-1 10h0m-1 8h0m-4 1h0m-1-14h0m0 0h0m-2 16h0m-4-11h0m0 12h0m-1-1h0m0-15h0m-4 7h0m-3-14h0m-1 17h0m-5 6h0m-1-12h0m-19-5h0m-9 9h0m-22 29h0m1-20h0m11 15h0m4 7h0m10-8h0m1-8h0m0 6h0m12-2h0m0 7h0m2-17h0m1 20h0m0-6h0m1-5h0m3 1h0m1-6h0m7 6h0m8-1h0m4 1h0m1-8h0m2 6h0m12-2h0m-21 30h0m-7-12h0m-16 0h0m0 16h0m0-16h0m-3 15h0m-2 3h0m-1 1h0m-3 1h0m-4-15h0m-2 16h0m-3-5h0m0-5h0m-2-3h0m0-3h0m-1 14h0m-2-1h0m-5 5h0m-2-7h0m-2 3h0m-3 2h0m-2-20h0m-14 20h0m-10 0h0m-25-4h0m-2 21h0m11 9h0m15 0h0m8-14h0m5-6h0m8 19h0m2-20h0m1-1h0m1 6h0m3 13h0m2 0h0m1-18h0m6-1h0m4 19h0m1-14h0m17-6h0m-34 29h0m-10 13h0m-8-12h0m0 12h0m-3-18h0m-2 8h0m0 10h0m-7-3h0m0-7h0m-4 4h0m-3 4h0m-5-1h0m-3-11h0m-1 8h0m-14-6h0m-13 14h0m-48-6h0m26 19h0m6 12h0m10 1h0m11-5h0m1-2h0m1-15h0m6 5h0m0 16h0m8-12h0m1 11h0m3-5h0m2-6h0m10 6h0m3-5h0m2-4h0m0 7h0m-11 16h0m-3 4h0m-1-4h0m-13-1h0m-3 3h0m-2 9h0m-4-6h0m-2 4h0m-2 1h0m-7 7h0m-1-9h0m-6-2h0m0 10h0m-1-2h0m-5-13h0m-42 16h0m-6 19h0m31-16h0m7 1h0m2 16h0m9-7h0m5-1h0m9-9h0m2 5h0m4 2h0m-31 19h0m-28 5h0m-24 13h0m-32 15h0m34-7h0m8 23h0m-36 8h0m-15-5h0"/><path d="M651 1999h0m-2 26h0m3 7h0m10-16h0m17 12h0m6-4h0m-38 32h0m-10-14h0m-14 19h0m-61 12h0m46 0h0m6 5h0m9-13h0m17 9h0m-31 17h0m-5 20h0m-15-3h0m-2-20h0m-5 3h0m-4 16h0m-1-1h0m-6 4h0m-5-7h0m-16 5h0m-13-7h0m-4 6h0m-8 14h0m1 13h0m0 0h0m9 1h0m6 0h0m5-1h0m1-3h0m6-11h0m3 9h0m3 0h0m4-10h0m5-5h0m7 16h0m1-13h0m2 6h0m1-8h0m-7 21h0m-20 13h0m-1-5h0m-2-6h0m-4 18h0m-1-7h0m-14-8h0m-3 7h0m-1 0h0m-2 3h0m-4-14h0m-1 3h0m-6 16h0m0 2h0m-1-1h0m-2 0h0m-1 0h0m-2 2h0m-23-9h0m13 30h0m5-3h0m2 0h0m2-8h0m1 12h0m1-11h0m2 8h0m2-10h0m3 0h0m2 9h0m0-6h0m0-4h0m0-6h0m1 2h0m9-3h0m3 3h0m3 4h0m1-2h0m1 13h0m0-4h0m4-3h0m9-3h0m1 6h0m11-12h0m-63 22h0m-3 19h0m-5 4h0m-2-11h0m-3-3h0m-1-2h0m-2 12h0m-1 3h0m-3-1h0m-4-9h0m-7 4h0m0 7h0m0-18h0m-12 13h0m0-18h0m-35 22h0m4 12h0m10 2h0m4 11h0m12-15h0m1 6h0m4 3h0m4-16h0m1 17h0m0-7h0m1-2h0m1-6h0m0 6h0m1 11h0m1-17h0m3 8h0m7-6h0m1-5h0m0 6h0m11-6h0m10 14h0m7 0h0m-30 15h0m-4 14h0m-3-15h0m0-4h0m-4 2h0m0-1h0m-1-1h0m0 16h0m-2-2h0m-1-3h0m-1 4h0m-3-4h0m-7 2h0m-1-7h0m0 7h0m-6-5h0m0-6h0m-2 9h0m-2 5h0m-2 5h0m-1-15h0m-1-4h0m-1 12h0m-7-9h0m-1-2h0m-6 19h0m-5-20h0m-38 9h0m6 35h0m0-8h0m3 6h0m6-5h0m0-13h0m4 11h0m1-5h0m0-7h0m7 22h0m1-3h0m1-3h0m1-2h0m1-9h0m0 11h0m2-14h0m1-1h0m2 20h0m2-1h0m1-3h0m3 3h0m1-10h0m2-2h0m0-4h0m4 15h0m0-13h0m2-6h0m2 0h0m7 22h0m1-10h0m3-11h0m2 21h0m22-21h0m-49 26h0m-4 2h0m-4 14h0m-2-13h0m0 8h0m0-8h0m-4-3h0m0 1h0m-2 10h0m-2-1h0m0 5h0m-4-4h0m-1-7h0m-1 12h0m-4-1h0m0 2h0m-2-3h0m0 5h0m-1 0h0m-5-1h0m-1-13h0m-7 3h0m0-10h0m-5 2h0m-2 5h0m-16 8h0m-41 22h0m22-2h0m10 8h0m0 1h0m2-6h0m5-7h0m12 10h0m0-19h0m3 4h0m5 9h0m0 7h0m1-13h0m3-7h0m5 6h0m0 4h0m1 5h0m0-1h0m3-4h0m3-6h0m0 18h0m6-7h0m2-14h0m3 1h0m6 0h0m0 4h0m7-5h0m-30 23h0m-1 13h0m-10-4h0m-4-3h0m-4 6h0m-4 6h0m-4-10h0m-1-5h0m0-2h0m-3 15h0m-6 4h0m-7-13h0m-1-1h0m-1 10h0m-1 5h0m-3-10h0m-6 8h0m-2-9h0m-2 10h0m-1-6h0m-2 7h0m-18 7h0m2 11h0m5-5h0m1-3h0m2 11h0m1-6h0m0-2h0m19-6h0m0-4h0m3 1h0m1 11h0m3 9h0m3-15h0m8-6h0m5 1h0m-30 25h0m-4 6h0m-3-8h0m-1 9h0m-8-7h0m-11 15h0m-1 1h0m-2 1h0m-4-8h0m-1 8h0m-1-7h0m-25-5h0m-7 1h0m-6-8h0m-6 7h0m-30 10h0m5 25h0m46-10h0m32-4h0m9 0h0m5 3h0m-44 20h0m-5 0h0m-35-2h0m-23 23h0m2 11h0m4 12h0m10-7h0m22-10h0m7 4h0m-33 20h0m-2 2h0m-19 8h0"/><path d="M668 1976h0m22 20h0m-98 39h0m46-14h0m17-5h0m2 26h0m-3 2h0m-9 14h0m-4-9h0m-1-3h0m-3-6h0m-4 1h0m-1 14h0m-15 2h0m-9 2h0m-7-13h0m-25 41h0m16-6h0m0-2h0m7 5h0m7-1h0m0-15h0m9 10h0m19-7h0m-24 32h0m-4-2h0m-2-13h0m-13 16h0m-11-11h0m-2 11h0m-8-9h0m-8 11h0m-5 5h0m-15-9h0m-34 4h0m0 28h0m9-12h0m8 13h0m5 0h0m6-5h0m4-16h0m5 6h0m7 15h0m1-5h0m1-4h0m7 5h0m14 2h0m1-19h0m3-2h0m-26 28h0m0 16h0m-10-12h0m-1-2h0m-9 10h0m-4 0h0m-2 6h0m-8-4h0m-2-5h0m-3-13h0m-5 20h0m-4-14h0m-4 14h0m-7-16h0m-59 35h0m21-10h0m26 14h0m1-7h0m1 7h0m3 1h0m1-4h0m8 7h0m1-13h0m1 1h0m1 9h0m9 0h0m0 3h0m1-7h0m2-3h0m1-9h0m3 12h0m7-13h0m4-2h0m7 19h0m10-12h0m-29 16h0m0 10h0m-5 1h0m-5-6h0m0 1h0m-1-6h0m0 10h0m-2-9h0m-1 2h0m-2 11h0m0-1h0m-4 4h0m-2-8h0m-3-1h0m-2-6h0m0 19h0m-9 1h0m-2 0h0m-3-5h0m-3 6h0m-3-21h0m-7 12h0m0-12h0m-4 2h0m-12 3h0m0 16h0m-16-12h0m-40 6h0m37 26h0m15-1h0m0-9h0m3 13h0m2-6h0m8-13h0m5 9h0m4 7h0m1-9h0m2 11h0m1-19h0m1-1h0m0 15h0m0-13h0m6-2h0m1 2h0m1 9h0m3-9h0m3 13h0m8-13h0m5 7h0m-18 17h0m-9 3h0m-9 5h0m-7 4h0m-2 6h0m-3-13h0m-4-2h0m-2 5h0m0-1h0m-2 9h0m-4-7h0m-8-2h0m-3-8h0m-1 16h0m-1-8h0m0-6h0m-1 16h0m-2-7h0m-2 1h0m-2 8h0m-1-9h0m-5 9h0m-1-4h0m-12-1h0m-1-11h0m-6 12h0m-13 3h0m-17-7h0m-18 27h0m17-8h0m1 13h0m7-2h0m13-6h0m1-5h0m4 1h0m2 6h0m5-4h0m0 9h0m3-11h0m1 13h0m4-14h0m3-1h0m2 12h0m0-1h0m2 3h0m4-9h0m1-1h0m0-1h0m1 4h0m1-6h0m5 13h0m1-2h0m0-20h0m1 4h0m1-4h0m1 13h0m6 4h0m1-4h0m1-10h0m5 6h0m2 2h0m2 1h0m1-8h0m1 10h0m8-9h0m-27 28h0m-8-3h0m-4-4h0m-5 6h0m-6 14h0m-2-22h0m-4 10h0m-2 12h0m-1-15h0m0 14h0m-3-3h0m-1-13h0m0 13h0m0-3h0m-1 8h0m-4-2h0m-1-2h0m-5 2h0m0-3h0m-2-12h0m-3-1h0m-6 14h0m-16 1h0m-6 2h0m-16 24h0m6-9h0m6-1h0m14 11h0m1-8h0m2-7h0m2 13h0m5-1h0m2-11h0m0 4h0m6-10h0m0 17h0m1-18h0m1 10h0m2-4h0m2 0h0m1-8h0m3 2h0m2-1h0m5 6h0m9-5h0m-34 35h0m-8-5h0m-7-5h0m-4-2h0m0 6h0m-1-4h0m-1 6h0m0 1h0m-7 10h0m-1-16h0m0 3h0m-5 7h0m-1 0h0m-3-1h0m-2 10h0m-9-23h0m0 16h0m-4 7h0m-4-8h0m-7 3h0m-7 26h0m16-13h0m6-3h0m0 10h0m2-2h0m0 8h0m3-13h0m1 5h0m7 2h0m5-8h0m2-1h0m1-1h0m1 12h0m5-11h0m23 9h0m-50 13h0m-26 3h0m-9 17h0m-5-16h0m0 15h0m-1-12h0m-3 12h0m0-6h0m-118 30h0m83 0h0m1 1h0m0-7h0m22-4h0m4 8h0m2-3h0m21-7h0m1-6h0m1 20h0m-35 20h0m-17-16h0m-21 13h0m-7-9h0m-24 21h0m14 1h0m6-4h0m-25 36h0m-6-4h0"/><path d="M638 1978h0m33 10h0m11-8h0m-5 24h0m-1 1h0m-23-5h0m-11-5h0m10 37h0m9-1h0m1-5h0m11-1h0m-17 28h0m-2-2h0m0-10h0m-5 2h0m-6 12h0m-6-2h0m0-9h0m-1 14h0m-19-15h0m-15 11h0m-27 4h0m24 28h0m2-9h0m7-3h0m3 2h0m4 3h0m7-8h0m2-4h0m2 8h0m-3 15h0m-8 1h0m-12 19h0m-2-3h0m0 1h0m-6-1h0m-17-8h0m-3 5h0m-6-4h0m-39-9h0m-19 31h0m8 8h0m22-3h0m8 5h0m3-3h0m2-13h0m2 19h0m2-23h0m0 20h0m4-8h0m2-3h0m6 5h0m2 7h0m2-10h0m8 15h0m-8 1h0m-5 12h0m-6-14h0m-5 6h0m-8-3h0m0 13h0m-1-6h0m-10 10h0m-2-8h0m-6-6h0m-11 16h0m0-16h0m-5 2h0m-22-6h0m-14 1h0m0-1h0m-1 12h0m10 23h0m2-4h0m4 12h0m6-6h0m2-6h0m1-9h0m1 21h0m0-10h0m1-3h0m4-8h0m2 17h0m1-9h0m1 2h0m2 0h0m2 5h0m0-15h0m0 6h0m1-3h0m1 15h0m1-2h0m5-7h0m4-10h0m4 17h0m8-9h0m2 2h0m-29 33h0m-1-16h0m-5 0h0m-1 7h0m-1-9h0m-1 2h0m0 1h0m0 7h0m-1 2h0m-7-2h0m-1-8h0m-1 4h0m0-7h0m-3 11h0m-4 10h0m-1-19h0m-1 21h0m-1-18h0m-4 16h0m-1-12h0m-7 4h0m-1 10h0m-14 0h0m-6-17h0m-4 11h0m-8-6h0m-2 3h0m-10 4h0m-19 8h0m16 19h0m12-2h0m7-7h0m6 0h0m2 5h0m2-1h0m3 4h0m1-11h0m2-7h0m6 4h0m1 13h0m3 4h0m1-22h0m1 3h0m6 11h0m0-3h0m1-7h0m2 3h0m9-3h0m0 18h0m-9 10h0m-24-8h0m-7 5h0m-1 11h0m0-11h0m-1 7h0m-1-7h0m0 3h0m0-8h0m-3 11h0m-2 8h0m-1-3h0m-1-10h0m0 8h0m-3 0h0m-3-12h0m-1 10h0m-1 7h0m-3 1h0m-4-7h0m0 5h0m-1-6h0m0 8h0m-5-5h0m-4 7h0m-3-4h0m0-3h0m-5-14h0m-13 8h0m-12 0h0m-22 9h0m-11 13h0m9 10h0m25-16h0m5 4h0m1 11h0m0 0h0m3 0h0m1 5h0m5-13h0m4-6h0m0 20h0m10-10h0m0 6h0m11-15h0m2 10h0m5-10h0m1 4h0m3 3h0m22-11h0m-37 25h0m-6 0h0m-2 7h0m0 0h0m-3 3h0m-1-11h0m-2 5h0m-2 12h0m-11-6h0m-3 10h0m-4-18h0m-1 9h0m0 7h0m-3-11h0m0 6h0m-5 2h0m-1-2h0m-4 7h0m-8-16h0m-33 35h0m13 1h0m6 6h0m1-4h0m1-5h0m1-11h0m0 10h0m3-2h0m4-9h0m14 17h0m0-13h0m1 12h0m12-8h0m8 10h0m23-13h0m-31 21h0m-15-2h0m-12 5h0m0 10h0m-3-14h0m-1 10h0m-2-1h0m-10-6h0m-11 10h0m-8-13h0m-2 18h0m-6-1h0m-11-5h0m-12 6h0m-6-4h0m-29 2h0m27 20h0m0 4h0m4 3h0m4 0h0m19-11h0m0-3h0m4 4h0m0 0h0m3-5h0m10-7h0m11 0h0m2 2h0m11 3h0m-29 21h0m-11 0h0m-7-2h0m-4 16h0m-12-11h0m-2 1h0m-15 4h0m-7 3h0m0-6h0m-6 8h0m-9-2h0m-20 21h0m23 0h0m2-9h0m2 4h0m5 7h0m2-11h0m2 9h0m3-3h0m-8 30h0m-1-3h0m-5-7h0m-14 4h0m-2 0h0m-6-3h0m-37 10h0m-3 1h0m-15 2h0m42 19h0m3-12h0m30 14h0m-44 11h0m-58 13h0m21 17h0m6-3h0"/><path d="M691 2004h0m-5 8h0m-11 0h0m0-14h0m-2 9h0m-23 7h0m-4-10h0m-60 29h0m47 6h0m11-4h0m1-6h0m0-9h0m61 17h0m-51 8h0m-12 10h0m-2 2h0m-4-15h0m-1 13h0m-3 1h0m-11 3h0m-28-3h0m-75 30h0m10 0h0m61-8h0m11-13h0m27 1h0m-25 38h0m-9-9h0m-5 3h0m-5 0h0m-1-2h0m-1-5h0m-25 15h0m-11-3h0m0 6h0m-53 17h0m18-1h0m14 8h0m14-1h0m0-16h0m2 4h0m3 14h0m2-9h0m8 10h0m6-18h0m2 0h0m2 1h0m4 1h0m0 14h0m6-5h0m2-3h0m1-10h0m0 10h0m1-6h0m18-7h0m-38 36h0m-3-3h0m-5 6h0m-6-3h0m-2-8h0m-1 17h0m-4-7h0m-4 1h0m0 6h0m-14-4h0m-1-9h0m-1 14h0m-1-3h0m-1-10h0m-5 8h0m-15-2h0m-38 7h0m20 19h0m10-1h0m2 4h0m5-15h0m0 11h0m3 0h0m4 2h0m1-9h0m3-1h0m2 3h0m1-11h0m3 4h0m2 3h0m1 10h0m0-17h0m1 13h0m0-4h0m5 12h0m3-21h0m0 5h0m1 16h0m0-11h0m0-9h0m5 14h0m9-3h0m-5 26h0m-8-14h0m-12 19h0m-2-1h0m-4 0h0m-2-4h0m-2-6h0m0-7h0m-4 0h0m0 8h0m-1 14h0m0-5h0m-1-16h0m-4 11h0m-1-7h0m-1 1h0m-1 2h0m-2-7h0m-1 9h0m0 5h0m-4-1h0m-1-12h0m0 17h0m-2-5h0m-1-8h0m-1 10h0m0 2h0m-2-13h0m-3 8h0m-2 6h0m0 2h0m-13-4h0m-23-9h0m-7 3h0m-8 11h0m6 22h0m7 0h0m4 2h0m4-6h0m2-13h0m5 10h0m5-4h0m2-3h0m1 7h0m1-3h0m3 2h0m1 1h0m1 9h0m1-3h0m1-16h0m0 13h0m4-10h0m6-2h0m19-4h0m8-1h0m31 24h0m-64 8h0m-14 2h0m0-1h0m0-7h0m-2 5h0m-5 10h0m-2-9h0m0-1h0m-7 4h0m-1 7h0m-1 1h0m0 2h0m-3-10h0m-1 1h0m0-10h0m0 12h0m-2 7h0m-1 1h0m-6-6h0m0-4h0m-2-4h0m-1-8h0m-1 20h0m-5 3h0m-1-4h0m-8-14h0m-72 31h0m27 7h0m3-3h0m5-10h0m8 14h0m0 2h0m8-5h0m1-5h0m1-6h0m1 5h0m5 10h0m3-11h0m4-6h0m2 6h0m3-1h0m2 7h0m3 3h0m1-16h0m1 20h0m4-16h0m4 9h0m1 6h0m0-18h0m2 4h0m2 9h0m13-17h0m6 21h0m1-12h0m4 4h0m-21 14h0m-3 7h0m-9-10h0m-3 2h0m-5 0h0m-5-1h0m-2 0h0m-3 7h0m-2-8h0m-2 4h0m-1-1h0m0 18h0m0-7h0m0 4h0m-1-11h0m-1-4h0m-1 18h0m0-20h0m-1 22h0m-2-14h0m-5-3h0m0 12h0m-1 4h0m-2 0h0m-7 1h0m-5-10h0m-2-6h0m-6 13h0m-4-8h0m-4-7h0m-13-1h0m0-3h0m-13 6h0m-31 27h0m18-2h0m16 13h0m3-8h0m4 8h0m4-21h0m3 11h0m4 10h0m2-5h0m2 7h0m4-16h0m1-5h0m0 17h0m1-18h0m1 22h0m1-15h0m8 5h0m2 7h0m3-1h0m4-17h0m4 0h0m1 15h0m7-14h0m12 0h0m-39 28h0m-2 3h0m-3 3h0m-1 5h0m-5 4h0m-3-22h0m-2 14h0m-2 8h0m-2-21h0m0 16h0m-3-10h0m0 6h0m0 0h0m-3-2h0m-8 0h0m-1 0h0m-3 12h0m-1-12h0m-1-4h0m-7 8h0m-29-3h0m17 25h0m0 10h0m2-11h0m10-10h0m2 2h0m4 18h0m1-15h0m2 2h0m2-7h0m4 16h0m0-10h0m2 3h0m3 0h0m5 11h0m-20 25h0m-10-6h0m-2 3h0m-2-6h0m-2-1h0m0-6h0m-3-4h0m0 8h0m-2-8h0m-2 2h0m-3 16h0m-3-17h0m-13 15h0m0 1h0m-1 0h0m-3-5h0m-4 6h0m-6-10h0m-18-9h0m-42 37h0m15 7h0m24 1h0m4-21h0m31 15h0m28-8h0m-35 30h0m-14-2h0m-1-6h0m-2 4h0m0 0h0m-28 7h0m-2-17h0m-14 15h0m-8-4h0m-61 26h0m16-3h0m69-6h0m7 6h0m6 2h0m17 20h0m-53-6h0m-35 6h0m13 33h0m6-2h0"/><path d="M649 2019h0m10 13h0m3 6h0m-17 5h0m-8 4h0m-7 7h0m-7-11h0m-75 43h0m30-2h0m19 1h0m2-4h0m4-4h0m14 1h0m5-10h0m0 6h0m1-1h0m2-9h0m4 7h0m8 2h0m2-4h0m-23 19h0m-3 5h0m-19-2h0m-3 9h0m-3 2h0m0-11h0m-5 9h0m0-1h0m-3 1h0m-4 7h0m0-4h0m-13 3h0m-12-4h0m0 5h0m-5 2h0m-6-3h0m-15 19h0m13 8h0m11-5h0m9 6h0m5-19h0m2 0h0m0 9h0m0-3h0m6 13h0m3-17h0m1 3h0m11 5h0m13-8h0m9-3h0m-43 22h0m-2 14h0m-4 0h0m-5-1h0m-4-10h0m0-2h0m-2 20h0m-3-4h0m0-14h0m-2 0h0m-2-3h0m0 10h0m0-8h0m-1 11h0m0-5h0m0 15h0m-1-15h0m-3 1h0m-4 3h0m0 1h0m-6 4h0m-3-7h0m-23 10h0m-10 2h0m-1 11h0m2-3h0m5 0h0m0 4h0m4 10h0m1-11h0m2 13h0m5-7h0m3-3h0m1 6h0m2 1h0m1 3h0m1-5h0m2 6h0m0-19h0m3 7h0m6 8h0m1-12h0m4-5h0m2 5h0m0 2h0m5-5h0m-14 33h0m-12-4h0m-1-4h0m-3 16h0m-1-14h0m0 4h0m-4-4h0m-6-5h0m-1 18h0m-1 2h0m-4-14h0m-4 2h0m-1 1h0m-1 9h0m-1-5h0m-8-8h0m-2 15h0m-2-1h0m-1-11h0m-7 8h0m-1-11h0m0 9h0m-7 2h0m-1 1h0m-3 3h0m-16-17h0m-32 15h0m12 25h0m17-2h0m3 2h0m8-4h0m0-5h0m1-6h0m3 17h0m2-11h0m1-11h0m2 8h0m3-8h0m4 0h0m1 6h0m1 12h0m1-8h0m0-7h0m3 16h0m1-18h0m1-1h0m0 22h0m1-20h0m1-1h0m2 10h0m0-3h0m11 6h0m2-1h0m18-1h0m-48 13h0m-2 4h0m-1 13h0m-9-11h0m-4 4h0m0-6h0m-1 14h0m-4-10h0m-1 10h0m-1-3h0m-5-15h0m-1 21h0m-1-11h0m-2 9h0m-4-2h0m-66 27h0m23-4h0m4 3h0m5-7h0m4 5h0m2-16h0m3 11h0m1 8h0m0-4h0m2-5h0m0-5h0m2 11h0m1-2h0m4-17h0m1 20h0m1-17h0m3 6h0m5 2h0m2 4h0m3-14h0m2 16h0m2 0h0m3 4h0m1-6h0m1 5h0m4-11h0m12-3h0m1-3h0m1 4h0m-25 26h0m-2-5h0m-4 2h0m-3-5h0m-5 10h0m-8 12h0m-3-1h0m-10-4h0m-1-5h0m-10-2h0m-3-9h0m0 19h0m-1-1h0m-24 0h0m-22 21h0m12 6h0m11-5h0m4 5h0m3-20h0m0 11h0m4 2h0m0-1h0m3-12h0m3 8h0m4-7h0m2 4h0m3-6h0m6-2h0m0 5h0m0 9h0m4-8h0m2-4h0m26 5h0m-49 23h0m-1 3h0m0-7h0m-4 9h0m-6 4h0m-5 1h0m-4 5h0m-1-9h0m-5 6h0m-1-3h0m-3-13h0m-1 9h0m-45 6h0m-9 28h0m15 2h0m1-20h0m3 5h0m19 7h0m6-6h0m5-5h0m4-1h0m1 8h0m4 3h0m16-13h0m4 0h0m-28 28h0m-27 9h0m-3 8h0m-1-1h0m-4-7h0m-2-4h0m-6-6h0m-4 3h0m-3 13h0m-3 2h0m-20-14h0m-23 31h0m21-9h0m16 17h0m4-8h0m0-6h0m8 6h0m16-3h0m1-6h0m-25 28h0m-7-10h0m-15 0h0m-22 19h0m-12 1h0m0-9h0m-29 30h0m35 2h0m8 4h0m-40 7h0m-10 11h0m-10-6h0"/><path d="M686 1995h0m-1 17h0m-65 26h0m21-5h0m6-10h0m2 29h0m-2-5h0m-25 14h0m-1-14h0m-6 5h0m-21-11h0m-8 19h0m6 22h0m11-7h0m8-7h0m4 7h0m12 0h0m10-8h0m1 5h0m-26 17h0m-21 18h0m-6-1h0m-2-7h0m-11-4h0m-7 13h0m-92 8h0m38 7h0m20 11h0m7-8h0m3 8h0m3-17h0m0 11h0m1-8h0m1-2h0m10 17h0m2-6h0m0 3h0m4-10h0m2 7h0m3 5h0m2-2h0m4-17h0m4 11h0m3-10h0m9 8h0m-27 26h0m-8 6h0m-2-10h0m0 7h0m0-8h0m-1-6h0m-3 0h0m-10-3h0m-4 10h0m-1 1h0m-3-11h0m-16 12h0m-10-7h0m-11 16h0m-16 17h0m2 4h0m5 5h0m10-7h0m2 4h0m6 0h0m0 2h0m5-17h0m8 1h0m4 0h0m4 9h0m4-13h0m1 16h0m7-8h0m-9 18h0m-27 4h0m-2 2h0m-2-5h0m-3 0h0m-4-1h0m0 8h0m-2 7h0m-2 2h0m0-1h0m0-17h0m-1 3h0m-4-3h0m0-2h0m-7 14h0m-1-4h0m-11-1h0m0-3h0m-71 21h0m12 15h0m10 0h0m8-3h0m2 2h0m1 2h0m3-13h0m2 16h0m16-8h0m2-10h0m1 4h0m0 13h0m2-14h0m0-3h0m2 10h0m4 4h0m1 4h0m3-3h0m4-14h0m1 10h0m0-9h0m0 14h0m6-2h0m0-5h0m1-10h0m3 5h0m0 12h0m2-20h0m3 13h0m5 5h0m7-18h0m3 5h0m3 5h0m0-4h0m1 0h0m0-7h0m-13 26h0m-8 2h0m-13 0h0m-1-1h0m-1 8h0m-3-2h0m0 12h0m-2-12h0m0 10h0m-1-8h0m-4-3h0m0-3h0m-3 1h0m-6 16h0m-2-14h0m0-8h0m0 13h0m0 8h0m-1-8h0m-1-11h0m-4 9h0m-8 0h0m0 3h0m-1-3h0m-3-9h0m-2 20h0m0 0h0m-1 0h0m-41-5h0m-5 28h0m11-3h0m6-2h0m4 6h0m2-4h0m1-3h0m1 2h0m3 5h0m0-5h0m0 0h0m1-2h0m0-3h0m1 7h0m5-9h0m0-3h0m1 2h0m1-3h0m3-5h0m6-1h0m0 13h0m1 0h0m1 3h0m0-4h0m1-3h0m3-7h0m0 7h0m7 2h0m0-8h0m9 4h0m1-5h0m6-2h0m3 20h0m-26 8h0m-6 15h0m-15-11h0m-6 2h0m-5-7h0m0 9h0m-3-8h0m-1 12h0m-2 1h0m-1-6h0m-1-9h0m0 5h0m-1-4h0m-2 3h0m-5 6h0m-4 6h0m-3 4h0m-4-11h0m-3 0h0m-7 10h0m-30-4h0m-49 25h0m36 1h0m6 0h0m6-2h0m6 3h0m2-10h0m6 3h0m0-5h0m4-7h0m1 17h0m0-2h0m1-12h0m1 4h0m2-2h0m2 10h0m0 5h0m0-7h0m1 1h0m1 4h0m0-2h0m1-11h0m3-4h0m1 21h0m4-22h0m0 16h0m1-3h0m3 6h0m1-11h0m1 13h0m3-3h0m0-19h0m5 14h0m0-13h0m0 3h0m1 7h0m1-5h0m0 11h0m3 4h0m1-14h0m1-1h0m14-2h0m0-2h0m8 7h0m15-8h0m-47 38h0m-13 1h0m-1 5h0m0-12h0m-2 7h0m-1-9h0m-1 10h0m-3-9h0m-2 2h0m0 7h0m-5-1h0m-4-2h0m-2-13h0m-1 13h0m-1-2h0m0 3h0m-2-15h0m-4 22h0m-2-2h0m-1 2h0m-6-12h0m-13-8h0m-25 3h0m-12 42h0m28-11h0m11 2h0m0 9h0m2-3h0m1-1h0m2-8h0m8 6h0m2-5h0m1-6h0m3 0h0m0 0h0m2 1h0m3-4h0m0-2h0m-26 29h0m-12-2h0m-9 15h0m-1-5h0m-1 6h0m0-15h0m-17 4h0m-4-3h0m-11 10h0m-13 6h0m-12 3h0m11 21h0m7-11h0m11 7h0m15 3h0m1-7h0m-12 29h0m-2-19h0m-2 6h0m-67 60h0"/><path d="M671 2014h0m-5-1h0m-42-7h0m-49 28h0m82-17h0m18 0h0m-20 28h0m-15 8h0m-2 1h0m-35 7h0m-59 25h0m27 0h0m11-3h0m7 4h0m5-7h0m5 4h0m1-1h0m6-9h0m2 3h0m1 8h0m0 2h0m3-23h0m0 16h0m6-15h0m2 21h0m4 2h0m-11 6h0m-1 7h0m-2-5h0m-5 5h0m-8-12h0m-3 8h0m-1-7h0m-1 5h0m-3-2h0m-1 13h0m-2-16h0m-16 13h0m-26-6h0m-51 34h0m4-2h0m27 4h0m1 0h0m8-18h0m8 11h0m1 1h0m3 2h0m0-12h0m15-2h0m2 13h0m6-13h0m0 19h0m3-11h0m10-8h0m9-2h0m6 21h0m-10 4h0m-17 8h0m-8-10h0m-11 11h0m-1-3h0m-4 3h0m0 6h0m0 3h0m0 3h0m-6-15h0m-1 0h0m-2 9h0m-2-11h0m0 10h0m0 0h0m-9 6h0m-3-7h0m-3 7h0m0-1h0m-7-16h0m-1 14h0m-6 1h0m-7-4h0m-32-11h0m-7 17h0m-8 12h0m40-6h0m0 14h0m2-1h0m3-6h0m9 4h0m3-5h0m2 4h0m0 9h0m1-1h0m2-2h0m3-4h0m0 4h0m3-7h0m4 5h0m1-12h0m6 14h0m5-12h0m2-2h0m5 7h0m-28 22h0m-2-9h0m-3 13h0m-5 4h0m0-14h0m-1 5h0m-2 11h0m0-18h0m-4 9h0m-1-5h0m-1 5h0m-1 11h0m-3-13h0m-1 4h0m-3 2h0m0-9h0m-4 6h0m-3-2h0m0 4h0m-1 7h0m-5-5h0m-1-6h0m-1 8h0m-3-11h0m-1 6h0m-3 9h0m-9-23h0m-9 22h0m-1-21h0m-8 14h0m-2 1h0m-31 22h0m4-7h0m13 0h0m14 9h0m1-7h0m0 3h0m4 7h0m4-10h0m1 7h0m0-15h0m7 14h0m1-4h0m1-1h0m2 11h0m0-11h0m3 12h0m0-10h0m1 5h0m1-6h0m2-3h0m0 6h0m5 4h0m1-16h0m2 18h0m10-17h0m3 1h0m3 5h0m-1 25h0m-16 1h0m-9-2h0m0-8h0m-4 14h0m-6 6h0m-1-15h0m-2 9h0m-2-15h0m-1 19h0m-3 1h0m-5-8h0m-2-6h0m-2 9h0m0-7h0m-2 2h0m0 9h0m-1-18h0m-2 10h0m-1 2h0m0 0h0m-4 7h0m-1-7h0m-8 8h0m-6 1h0m-9-4h0m-34 20h0m7 9h0m17-20h0m1 9h0m0 11h0m5-10h0m5 10h0m1-7h0m1-1h0m5-10h0m1 5h0m0-3h0m1 5h0m0-7h0m3 16h0m2-9h0m9-12h0m3 5h0m2 11h0m1-4h0m9-9h0m4 1h0m1 4h0m20 31h0m-30-14h0m-1 1h0m-8 2h0m-5 4h0m-7-4h0m-11 7h0m0-9h0m-1 1h0m-1 7h0m-3-1h0m-1-5h0m-2-3h0m-1 15h0m0-8h0m-2 11h0m-1-17h0m0 3h0m-1 0h0m-1 6h0m0 5h0m-1 2h0m-4-2h0m-4-11h0m-1 1h0m-4-3h0m-5 17h0m-2-5h0m-1-8h0m-2 13h0m-4-15h0m-2 10h0m0 8h0m-4-18h0m-16 15h0m-2-5h0m-33 29h0m11 0h0m20-15h0m2 13h0m17-12h0m2 10h0m2-7h0m0-1h0m1 0h0m7 14h0m0 0h0m5-7h0m3-2h0m4 1h0m7-13h0m0 8h0m3-6h0m2 20h0m-15 1h0m-3 0h0m-6 4h0m-5 3h0m-6 2h0m0-6h0m-1 4h0m-3 6h0m-2 1h0m-11-12h0m-11 14h0m-5-2h0m-6-7h0m-21-4h0m-2 16h0m-15 1h0m-5 21h0m28-2h0m1-7h0m4 10h0m4 0h0m4-5h0m10 2h0m6-10h0m1 6h0m7-2h0m-18 30h0m-9-1h0m-2-2h0m-12 7h0m-6-4h0m-10-2h0m-54 6h0m-12 7h0m25 13h0m3-10h0m7 15h0m0-15h0m5 14h0m9-1h0m0-4h0m1-8h0m13 5h0m0 3h0m1 2h0m5-1h0m-14 19h0m-2 10h0m-10 0h0m-2-12h0m-18 7h0m-7-6h0m-5 9h0m-53 18h0m41-7h0m14-1h0m-31 22h0"/><path d="M648 1969h0m11 46h0m-10 14h0m14 8h0m18 4h0m-26 22h0m-2-16h0m-10 15h0m-11-9h0m-2 3h0m-4 3h0m-8 3h0m-5-7h0m-12-12h0m-16 36h0m22-13h0m21 2h0m16 2h0m-18 23h0m-16-4h0m-12 1h0m-9 1h0m-8 12h0m-1 8h0m-5-1h0m0-17h0m-2 11h0m-4 2h0m-4 2h0m-6 2h0m-67 15h0m43 4h0m5 3h0m6-15h0m7 16h0m7-8h0m1 1h0m1-7h0m3 10h0m1 6h0m1-3h0m0-9h0m1 3h0m1-2h0m4-12h0m5 6h0m2 9h0m7-10h0m1 0h0m-43 22h0m-1 14h0m0 0h0m0-16h0m-1 7h0m-2-6h0m-1 5h0m-1 10h0m-3-9h0m-2 5h0m0-6h0m-2 16h0m-2-10h0m-3 5h0m-1-11h0m-1-5h0m0 0h0m-3 10h0m-1 11h0m-12-9h0m-39 31h0m10 0h0m8-4h0m2-13h0m0 3h0m0 6h0m4-4h0m1 11h0m2-6h0m0-10h0m4 9h0m2 5h0m1 2h0m3 0h0m1-18h0m1-2h0m4 16h0m0-2h0m2-11h0m3 15h0m3-8h0m1 3h0m5-13h0m4 2h0m2 4h0m5 3h0m-5 35h0m-9-20h0m-2 9h0m-6-7h0m-9 8h0m-3-8h0m-3 10h0m-4-3h0m-1-6h0m0 13h0m0 4h0m-1 2h0m0-3h0m-1-14h0m0 11h0m-3 4h0m-1-17h0m-1 5h0m0 8h0m-1 2h0m-1-18h0m0 2h0m-3 12h0m-1-11h0m-9 19h0m-1-7h0m-7-4h0m-4 9h0m-33-11h0m-23 33h0m2-2h0m1-6h0m1 10h0m15 3h0m18-5h0m1-13h0m4 3h0m0-3h0m2 4h0m2 3h0m2-5h0m5 2h0m1 13h0m1-17h0m0 0h0m1 17h0m0 1h0m2-14h0m2 8h0m2 6h0m0-17h0m0-2h0m0-1h0m5 10h0m0-4h0m3-5h0m2 16h0m0-17h0m7 11h0m8 4h0m9-9h0m-15 18h0m-27-2h0m-3 2h0m-4 5h0m-3-2h0m-1 6h0m-1-7h0m-1 5h0m0 6h0m-1-5h0m-1-4h0m-1-6h0m-2 4h0m-1 7h0m-1 0h0m0-2h0m-1 3h0m-4 6h0m0-2h0m-2 1h0m-8-10h0m0-2h0m-2 12h0m0-5h0m-1-9h0m-2 9h0m-3 7h0m-2-9h0m-1 4h0m-6 0h0m-2-8h0m-5 12h0m-42 25h0m19-11h0m2 5h0m0 9h0m6-18h0m4-1h0m0 14h0m1 1h0m1 0h0m0-9h0m7 1h0m2 5h0m0 2h0m1-13h0m3 12h0m4 5h0m0-12h0m0 5h0m2 0h0m2 1h0m1-15h0m6 5h0m0-6h0m1 5h0m1 2h0m5 3h0m0-4h0m1 10h0m1-8h0m3-2h0m3-2h0m13-4h0m2 6h0m17-2h0m-68 32h0m-5 1h0m-1 2h0m-1-8h0m0 0h0m-1 1h0m-1 6h0m0-9h0m-2 0h0m-3 10h0m-1 4h0m-4 1h0m-5-5h0m-2-3h0m-1 9h0m-4-16h0m0 2h0m-4 15h0m-1 1h0m-11-4h0m-1-5h0m-1 4h0m-12-1h0m-35 21h0m31 2h0m2 0h0m1-8h0m3 1h0m2 11h0m4-18h0m1 9h0m3 10h0m2-2h0m5 4h0m6-11h0m1-7h0m0 13h0m0-3h0m0 8h0m2-3h0m4-18h0m0 5h0m1-6h0m2 4h0m0-3h0m3 9h0m1-1h0m0-3h0m2 15h0m10-10h0m-21 28h0m-7-13h0m-6 19h0m0 0h0m-6-2h0m-1 1h0m-3-19h0m-1 11h0m-1 9h0m0-6h0m-1 6h0m-1-3h0m-1-13h0m-1 7h0m0 10h0m-10-2h0m-5-11h0m0 0h0m0 8h0m-5 1h0m-4-15h0m-6 7h0m-1 11h0m-22 15h0m14 9h0m3 0h0m6-3h0m4 0h0m3-7h0m2 0h0m1 2h0m1 3h0m4-2h0m0-4h0m18-1h0m-33 24h0m-1 6h0m-1-5h0m-24 10h0m-3-14h0m-6 12h0m-1-12h0m-7 2h0m-29 31h0m4-8h0m14 8h0m8-11h0m12 15h0m8-16h0m5 9h0m-21 11h0m-3 0h0m-7 1h0m-2 3h0m-12 4h0m-6-5h0m-5 9h0m-19-2h0m2 26h0m14 10h0m3-6h0m10 6h0m11-19h0m-62 31h0m0 10h0m-12 5h0"/><path d="M636 1986h0m15 11h0m-41 40h0m2-21h0m10 19h0m1 4h0m30-22h0m2 45h0m-39-22h0m-13 8h0m-30 39h0m5-16h0m8 16h0m7-10h0m7 7h0m2-7h0m0-12h0m11 7h0m5-5h0m5 7h0m-7 18h0m-14-2h0m-14 10h0m-1 3h0m-5-15h0m-6 23h0m-5-1h0m-26-1h0m-1-3h0m-4-11h0m-12-3h0m-9 13h0m-9 27h0m6-8h0m3 6h0m1-6h0m13 4h0m3-10h0m4 14h0m3-20h0m5 14h0m7 8h0m0-11h0m1-2h0m4-3h0m2 9h0m3 1h0m3-6h0m1 4h0m1-4h0m3 1h0m2 8h0m-15 28h0m-1-9h0m-12-8h0m-4 3h0m-11-1h0m-3 7h0m-1-14h0m-1 7h0m-1 7h0m-6 6h0m-4-6h0m-2 7h0m-8-14h0m-5 10h0m-31 5h0m-10 15h0m16 7h0m1-2h0m4-18h0m18 0h0m2 21h0m4-11h0m3-1h0m0-1h0m10 6h0m6-8h0m0-7h0m8 19h0m14-18h0m22-1h0m-53 34h0m-3-6h0m-10 3h0m-1 4h0m0-4h0m-2 11h0m-2-11h0m-2 14h0m-4-6h0m-1 7h0m-4-17h0m-1-4h0m-1 16h0m-5-3h0m-2 0h0m-8 7h0m-20 0h0m-22-13h0m18 37h0m2-13h0m1 14h0m4-3h0m1-15h0m1 16h0m2-16h0m3 0h0m0 13h0m3-14h0m3 20h0m4-6h0m6-10h0m2-7h0m1 7h0m3 11h0m3-17h0m1 0h0m1 8h0m2 0h0m5 2h0m12-8h0m-30 25h0m-1-4h0m-12 9h0m-2 0h0m-5 8h0m-2-16h0m-5 17h0m-3-11h0m-1 4h0m-1-5h0m-1 5h0m-1-10h0m-1 7h0m0-6h0m0 10h0m-3 7h0m0-12h0m0 15h0m0-5h0m-2-9h0m0 1h0m-1 9h0m-2-18h0m-2 16h0m-1 4h0m0 1h0m0-13h0m-1 4h0m0 9h0m0-4h0m-1-2h0m-2 3h0m-5 0h0m-1 2h0m0 1h0m-2-4h0m-1-6h0m-2 3h0m-6 9h0m-10-8h0m-8 7h0m-17 22h0m8-16h0m1 19h0m3-1h0m8 0h0m1-18h0m3 0h0m0 2h0m3 10h0m0-11h0m2 8h0m2-8h0m0-2h0m2-2h0m2 11h0m1 11h0m2-6h0m1 5h0m0-15h0m4 11h0m2 1h0m0 4h0m0-13h0m1 7h0m6-4h0m1 5h0m3-7h0m1 2h0m2-7h0m1-6h0m2 18h0m3-5h0m2 1h0m2-8h0m6 2h0m6-5h0m-15 25h0m-20 3h0m-7-1h0m-8 7h0m-2 2h0m-3 4h0m-1 3h0m-2-1h0m0-9h0m-1 10h0m-5-9h0m0-2h0m-3 10h0m0-20h0m-1 10h0m-2-2h0m-2 2h0m0 8h0m0-13h0m-3 8h0m0-13h0m-1 8h0m-8-5h0m0 10h0m-13 4h0m-38 5h0m-53 21h0m35-9h0m34-2h0m10 10h0m6-13h0m2-4h0m9 2h0m2 9h0m2-7h0m3 14h0m1-4h0m6-16h0m1 0h0m1 10h0m30-7h0m-4 41h0m-8-17h0m-14-1h0m-3-1h0m-2 5h0m-8-3h0m-15 18h0m-1-11h0m-4 4h0m0-5h0m-8 13h0m0-6h0m-2-12h0m-1 5h0m-2 13h0m-3-2h0m-2-14h0m-2 5h0m-3 3h0m-7 7h0m-4-2h0m0-1h0m-2-5h0m-3-12h0m-1 16h0m-9 4h0m-9-8h0m-20 5h0m10 12h0m7 8h0m10 4h0m0-13h0m8 1h0m6 14h0m4-19h0m4 5h0m3-3h0m1 0h0m0 5h0m2 14h0m6-16h0m6 2h0m5 4h0m4-8h0m-15 23h0m0 12h0m-10-9h0m-10-4h0m-18 15h0m-9-6h0m0 12h0m-21-1h0m-5-3h0m-2-6h0m-4 2h0m-7 5h0m7 26h0m4-12h0m13 13h0m8-18h0m-13 25h0m-15 3h0m-26-5h0m-12 19h0m-24 16h0m35 11h0m-29-2h0"/><path d="M690 1992h0m-4 11h0m-5-1h0m0 2h0m-16-9h0m-13 20h0m-13-17h0m-20 33h0m32-4h0m16 9h0m26-7h0m-35 23h0m-39-5h0m-10-3h0m-16 5h0m-36 13h0m-8 1h0m43 18h0m1-8h0m1 12h0m10-13h0m4 5h0m13-10h0m5 4h0m2 5h0m12 1h0m8-12h0m-32 23h0m-7 1h0m-10 8h0m-9 5h0m-11 9h0m0-8h0m-9 4h0m-1-17h0m-23 14h0m-5 6h0m-27 21h0m5-6h0m10 9h0m0-11h0m17-7h0m1 19h0m1-4h0m0-14h0m7 16h0m5-20h0m3 3h0m5 13h0m1-4h0m2 5h0m0-16h0m2 10h0m2 0h0m0 1h0m6-2h0m0 4h0m3-6h0m8 6h0m29 3h0m-42 11h0m-1-5h0m-18 2h0m-2 11h0m-1-2h0m-7 10h0m-1-18h0m-2 10h0m0-3h0m-1-7h0m0 0h0m-1 14h0m-1-2h0m-2 0h0m-1 2h0m-1-11h0m-8 15h0m-6-3h0m-9-17h0m-5 16h0m-7 3h0m-5-1h0m-61 22h0m24-1h0m15-13h0m3-2h0m1 16h0m0 0h0m5 6h0m2-2h0m0 0h0m1-13h0m2 6h0m9 7h0m5 1h0m5-9h0m2 10h0m1-2h0m1-12h0m0 2h0m1-1h0m2 13h0m1-6h0m5-17h0m1 9h0m3 9h0m1-12h0m7-2h0m9-3h0m-16 32h0m-7 0h0m-11-7h0m-5 14h0m0-7h0m-2 7h0m-7 2h0m-1 1h0m0 3h0m-1-17h0m-5-1h0m-1 17h0m0-19h0m-1 8h0m0-1h0m-1 8h0m-3-6h0m-2 2h0m-1 10h0m0-6h0m-8-7h0m0-1h0m-1 7h0m-3 4h0m-4 2h0m-3-1h0m-7-5h0m-1 7h0m-15-2h0m-4-19h0m-31 15h0m33 23h0m4 5h0m2-1h0m2 3h0m2-8h0m2-5h0m6 10h0m4-14h0m1 0h0m2 14h0m5-15h0m12-4h0m5 4h0m4 10h0m-2 10h0m-4-1h0m-10 20h0m-7-6h0m-4-7h0m-2-6h0m-2 3h0m-2 8h0m-5-10h0m-1 12h0m0-2h0m-1-5h0m-2 13h0m-3-4h0m-3 2h0m-1-6h0m-2 7h0m-5-8h0m-1 0h0m-4 3h0m-11-2h0m-3-4h0m-1 8h0m-6 0h0m-3-6h0m-4 4h0m-9-11h0m-36 43h0m3-1h0m2-13h0m11 6h0m0 1h0m12-8h0m6 2h0m1 13h0m5 1h0m4-20h0m2 19h0m3-5h0m2 5h0m8-11h0m1 8h0m2 4h0m0-5h0m3-1h0m1-11h0m2 7h0m4 6h0m2-18h0m3-1h0m5 9h0m0-9h0m5 1h0m1 14h0m-33 10h0m-14-1h0m-5 3h0m-3 18h0m-2 2h0m-1-15h0m0-3h0m-1-4h0m-2 0h0m-7 11h0m-2 2h0m-6-3h0m-23 8h0m-19-15h0m-10 0h0m-45 29h0m64-4h0m0 6h0m12 6h0m1-5h0m6 9h0m2-11h0m1-1h0m2 3h0m0 10h0m1 0h0m7-10h0m2 10h0m1-20h0m3 18h0m0-20h0m2 13h0m2 1h0m1 2h0m0-9h0m2-6h0m3 8h0m2-7h0m3-1h0m4 0h0m2 5h0m10-6h0m0 14h0m-29 29h0m-1-19h0m-5 5h0m-14-2h0m-4 8h0m-1-2h0m-1 7h0m-6-3h0m-4-1h0m-7 4h0m0 0h0m-1 5h0m-6-4h0m-35-9h0m-1 1h0m-8 38h0m6 0h0m6-10h0m25 2h0m1-4h0m5-3h0m9-6h0m-22 33h0m-6 9h0m-3-20h0m-3 15h0m0 4h0m-13-1h0m-4-17h0m-4 20h0m-9-14h0m-56 23h0m6 7h0m18 7h0m5-10h0m42-10h0m11 8h0m9-2h0m-47 24h0m-7 4h0m-5 6h0m-7 1h0m-1-11h0m-4 2h0m-6-6h0m-6 21h0m-29-6h0m39 26h0m-41 8h0m-1 0h0m-15 12h0m13 13h0m4 15h0"/><path d="M696 2005h0m-36 10h0m-4-22h0m-33 20h0m-35 23h0m27-2h0m13 2h0m10-11h0m17 1h0m7 12h0m4-15h0m9 8h0m-25 11h0m-32 18h0m-52 4h0m6 3h0m8 4h0m7 15h0m4-9h0m3 3h0m3 6h0m1-1h0m12-21h0m0 2h0m0 3h0m28-5h0m-31 32h0m-3 13h0m-2-14h0m-2-7h0m-7 13h0m-1-1h0m-1-7h0m-9-3h0m-1 17h0m-2 3h0m-5-1h0m-1-4h0m0-7h0m-5 13h0m-6-3h0m-6-2h0m0 5h0m-27-3h0m-15 17h0m29 9h0m1-14h0m5-4h0m0 16h0m3 1h0m4-20h0m2 7h0m6 10h0m1-11h0m16-2h0m1-5h0m3 6h0m1 2h0m1-4h0m-16 22h0m-5-2h0m-12 9h0m-5 1h0m-4 8h0m-2-13h0m-1 9h0m-4-10h0m-1 18h0m-3-8h0m-1 7h0m-1-7h0m-12-5h0m-4-5h0m-3 8h0m-3 1h0m-55 5h0m-7 24h0m7-13h0m8-1h0m8 19h0m11-20h0m4 14h0m3-1h0m4 4h0m1 0h0m5-10h0m3 12h0m1-6h0m3-4h0m2-2h0m2-4h0m2 8h0m7-3h0m1-9h0m1-2h0m2 9h0m6-7h0m20 1h0m9-1h0m-41 22h0m-9 16h0m-6-14h0m-3 8h0m-1-1h0m-2-4h0m-4 12h0m-1-4h0m0-1h0m-4 4h0m-2 7h0m-2-1h0m0-4h0m-1-17h0m0 6h0m-2 13h0m0-7h0m-5 8h0m-4 0h0m-1 2h0m-5 0h0m-4 0h0m-7-13h0m-4-1h0m-1 10h0m-9 2h0m-14 0h0m-42-20h0m46 44h0m0-3h0m0 4h0m5 0h0m2-1h0m7 1h0m1-9h0m10-3h0m1-1h0m1 6h0m1-1h0m4-14h0m1 21h0m6-18h0m2-1h0m2 5h0m3-2h0m0 8h0m3-8h0m1-4h0m2 5h0m2-3h0m10-2h0m6 12h0m-18 16h0m-18-5h0m-2 15h0m-3-14h0m-2 15h0m-2-11h0m-3 1h0m-1 1h0m-5 13h0m-2-8h0m-1 5h0m-1-17h0m-2 12h0m0 11h0m-1-6h0m-2 6h0m-5-1h0m0-21h0m-4 21h0m-3 0h0m0-8h0m-1 8h0m-5-15h0m-7 7h0m-1 3h0m-5-10h0m-2 16h0m-41 8h0m3 14h0m6 0h0m14-16h0m3 12h0m2 4h0m1-2h0m0-1h0m3 5h0m1-1h0m8-3h0m5-7h0m1-1h0m2 11h0m1-10h0m2 6h0m1-14h0m0-1h0m1-3h0m2 13h0m4-13h0m2 16h0m6-15h0m2 20h0m3-3h0m1-16h0m7 5h0m-14 22h0m-13-4h0m-9 9h0m-4 1h0m-1-2h0m-2 13h0m-2-11h0m-1 7h0m-4-7h0m0-2h0m-2 9h0m-2-1h0m-1-9h0m-3 12h0m-4 3h0m-1-3h0m-6-11h0m-4 11h0m-2-17h0m-12 7h0m-2 5h0m-6-12h0m-20 10h0m-3-13h0m-6 20h0m5 13h0m7-7h0m8 20h0m0-3h0m13 4h0m1-17h0m2 9h0m2-6h0m2-2h0m1 5h0m2-3h0m8 9h0m0-11h0m3-1h0m0 15h0m6-20h0m1 15h0m4-15h0m23 2h0m-28 22h0m-10 1h0m-5-1h0m-1 2h0m-3 18h0m-3-14h0m-6 14h0m-4-6h0m0-15h0m-1 3h0m-1 20h0m-5-16h0m-5 4h0m-2-5h0m-1 8h0m-1-12h0m-4 6h0m-1-7h0m-2 1h0m-32 21h0m-6-4h0m1 27h0m3-22h0m7 19h0m2 3h0m8-5h0m1 1h0m1-11h0m3 8h0m8 3h0m6-2h0m4 7h0m1-7h0m4-8h0m1 4h0m3-12h0m13 20h0m-25 4h0m-30 3h0m-6 11h0m-9 1h0m-27 7h0m-45-9h0m48 26h0m4-1h0m28-4h0m12-9h0m-33 40h0m-11-12h0m-2 0h0m-2 4h0m-22-6h0m-2 14h0m-47 4h0m4 8h0m50 1h0m2-6h0m-50 39h0m-12 3h0m-11-2h0"/><path d="M689 2010h0m-13-4h0m3 33h0m-15 5h0m-3-4h0m-2 10h0m-8-9h0m-3 5h0m-4 10h0m-4 2h0m-18 5h0m-5-10h0m-5-2h0m-10 6h0m-6-8h0m-40 32h0m12-2h0m20 3h0m10-6h0m3-6h0m6 16h0m22-20h0m9 0h0m-26 31h0m-1-8h0m-1 9h0m-1-1h0m-13 1h0m-10 4h0m-7-5h0m-2 9h0m-3 4h0m-3-18h0m-6 5h0m-62 24h0m21 4h0m19 5h0m7-11h0m11-2h0m3 9h0m7-2h0m6-6h0m0 5h0m6 7h0m0-17h0m0 4h0m1-4h0m1 2h0m-18 21h0m-8 4h0m-3 17h0m-5-19h0m-10 0h0m0 7h0m-1-2h0m-1 10h0m-5-13h0m-7 15h0m-1-19h0m-1 21h0m-3-3h0m0-15h0m-4 4h0m-2 3h0m-4-8h0m-17 21h0m0-4h0m-32 28h0m23-22h0m3 5h0m0 13h0m1 1h0m7-7h0m0-9h0m3 14h0m0 1h0m4-3h0m3-6h0m5 1h0m0 0h0m10-5h0m3-1h0m4 14h0m8-5h0m5-11h0m4 1h0m-28 26h0m0 1h0m-7 2h0m-4-7h0m-2 18h0m0-15h0m-2 0h0m-2 12h0m-9 0h0m-4 3h0m-2 1h0m0-7h0m-1-4h0m0 12h0m-3 0h0m-1-13h0m-1-6h0m-1 14h0m-1-17h0m0 16h0m-1-13h0m-2 18h0m-7-8h0m-2-3h0m-5-4h0m0 11h0m-2 2h0m-5 2h0m-56 13h0m22 4h0m0-6h0m5 0h0m4 3h0m2-5h0m1 1h0m0 5h0m2 7h0m2-18h0m5 4h0m1 18h0m1-14h0m1-2h0m5 8h0m0-2h0m2-6h0m1 3h0m0-4h0m2-5h0m3 3h0m0 6h0m1 3h0m2 1h0m3-1h0m1 6h0m2-19h0m3 19h0m0-15h0m0-1h0m1 15h0m3-4h0m2-10h0m1 8h0m4-4h0m1 7h0m10 0h0m0 1h0m12-15h0m-25 23h0m-8 12h0m0-8h0m-7 2h0m-2 8h0m-2-5h0m-1 0h0m-6 0h0m-1 3h0m-1-1h0m-1 0h0m-3-3h0m-1 13h0m0-10h0m-1 6h0m-1 3h0m-7-17h0m-1 10h0m0-1h0m-2 1h0m0-4h0m-1 11h0m0-11h0m0-7h0m-3 4h0m0 15h0m-1-8h0m0-7h0m-5 10h0m0 2h0m-2 5h0m-1-18h0m0 5h0m-3-3h0m-2 14h0m-3 0h0m-6 1h0m-29-5h0m-58 28h0m26-14h0m13 16h0m4-5h0m1-6h0m28 7h0m2-1h0m1-2h0m1 4h0m3-5h0m1 1h0m2 0h0m2 3h0m3 4h0m1-13h0m2 11h0m1 1h0m3-8h0m1-13h0m0 4h0m2 1h0m3 7h0m3 8h0m3-19h0m2 14h0m2 0h0m0-6h0m4 2h0m1 6h0m3-17h0m-11 24h0m-7 5h0m-6 11h0m-4-17h0m-7 3h0m-1 8h0m-4-8h0m-1 8h0m0-8h0m-2 6h0m-1 2h0m0 0h0m-3-2h0m-4 9h0m-1 1h0m-1-19h0m-1 23h0m-1-4h0m-3-2h0m-2-2h0m-4 2h0m-2 1h0m-3 4h0m-38-8h0m-29 9h0m21 11h0m15 7h0m8 1h0m4-8h0m5 6h0m1 0h0m0-4h0m2-10h0m1 13h0m3-7h0m0-7h0m2 4h0m1 8h0m1-2h0m2 12h0m0-2h0m2-13h0m1 15h0m0-4h0m2-8h0m1-10h0m0 1h0m1 19h0m5-6h0m10-4h0m0-2h0m1-8h0m22-1h0m-54 35h0m-3-1h0m-5-4h0m-6-1h0m-1-3h0m-4 6h0m0 2h0m-3 4h0m-1 4h0m0-9h0m-1 1h0m0-9h0m-8 14h0m-3-4h0m-1-5h0m-1 15h0m-4-10h0m-1 3h0m-2-8h0m-25 41h0m1-10h0m3-11h0m7 9h0m2 9h0m4 2h0m13-16h0m1-3h0m14 8h0m10-11h0m-32 28h0m-6 19h0m-4-15h0m0 10h0m-2 5h0m-3-1h0m-7-10h0m-1 8h0m-5-19h0m-7 5h0m-44 36h0m2-12h0m4 17h0m3 0h0m11-9h0m1-4h0m4 6h0m1-5h0m2 4h0m5-15h0m2 23h0m4-4h0m23 8h0m-2 0h0m-40 2h0m-5-2h0m-16 1h0m-4 4h0m-16 14h0m-22 16h0m5 6h0m24-4h0m10-14h0m-32 27h0m-6-1h0m-10 12h0m-12 10h0m11 4h0m14 3h0"/><path d="M658 1987h0m7-2h0m37 22h0m-26 3h0m-32 3h0m9 25h0m21-7h0m4-14h0m6 13h0m-27 19h0m-15 6h0m-15-7h0m-2-1h0m-7 13h0m-6-2h0m-38 0h0m-25 23h0m35-2h0m10 8h0m5-7h0m1-8h0m4-7h0m4 10h0m2-2h0m5 5h0m1-9h0m9 9h0m2-13h0m-13 28h0m-7 0h0m-5 2h0m-11-2h0m0 3h0m-7-3h0m-1 11h0m-1-6h0m-9 11h0m-6-18h0m-2 0h0m-2 20h0m-10-14h0m-5 5h0m-52 26h0m3 2h0m30-2h0m4 2h0m2-7h0m6-2h0m6-4h0m7 18h0m1-2h0m4 2h0m3-16h0m5-1h0m2 17h0m39-20h0m-39 34h0m-10-6h0m-6-4h0m-3 3h0m-1 16h0m0-15h0m-8 3h0m-6 7h0m-1 0h0m0-8h0m-1 7h0m-4 7h0m-7-13h0m-1 3h0m-4 8h0m-5-7h0m-4-2h0m-7-10h0m-8 20h0m-23 17h0m15 6h0m11-14h0m3-4h0m1-2h0m1 1h0m3 20h0m5-22h0m0 0h0m0 0h0m1 22h0m3-11h0m5 3h0m0-1h0m9 1h0m5-6h0m5 4h0m-11 25h0m-19 4h0m0-13h0m-2 10h0m0-12h0m-3 1h0m-1-3h0m-1 3h0m-1 8h0m-1 5h0m0-4h0m0 9h0m-1-7h0m0-3h0m0-5h0m-1-6h0m-2 18h0m-3 4h0m-1-10h0m-5-3h0m0 5h0m-3-3h0m-2 12h0m-1-6h0m-1 6h0m-16-16h0m-2 14h0m-2-1h0m-2 1h0m-3-19h0m-15 10h0m-24 5h0m-3 7h0m17 20h0m0-11h0m4 12h0m3 0h0m9 0h0m5-10h0m1 0h0m8 1h0m0 7h0m1 1h0m2-3h0m3-2h0m3 2h0m1-15h0m1-1h0m0 12h0m1-7h0m1 15h0m3-13h0m2-7h0m11 9h0m13-4h0m4-5h0m7 3h0m-33 22h0m-3 11h0m-3-10h0m-8 3h0m-7 17h0m-1-19h0m-1 2h0m-2-1h0m0 8h0m-5-5h0m-5-4h0m0 8h0m-4 6h0m0 3h0m-2-18h0m-3-2h0m-4 7h0m-2-6h0m0 18h0m-2-3h0m-14 3h0m-7-4h0m-10 2h0m-23 0h0m3 18h0m2 11h0m14-1h0m0-11h0m3 4h0m0 5h0m2-1h0m0 3h0m0-16h0m2 16h0m2-2h0m0-5h0m1-14h0m1 20h0m1-11h0m3-6h0m2 5h0m1 2h0m1-10h0m1 3h0m1 9h0m4-8h0m2 13h0m1 2h0m0-17h0m2-3h0m1 7h0m4-3h0m5 17h0m4-11h0m0 4h0m6-4h0m1 9h0m6-19h0m4 15h0m10-10h0m-46 22h0m-4 1h0m-1 7h0m-2-8h0m0 1h0m-6 7h0m-3-9h0m-2 7h0m-1 0h0m-4 13h0m-1-7h0m0-8h0m-1 1h0m-2 1h0m-1 2h0m-1 10h0m0-3h0m-1-3h0m-1 7h0m-2-22h0m-4 19h0m0 1h0m-9 0h0m-6-16h0m-2 18h0m-4-9h0m-21 9h0m-26-7h0m-6-1h0m2 19h0m8 10h0m10 3h0m1-4h0m2 2h0m12-16h0m1 17h0m7-6h0m12 0h0m9-15h0m6 0h0m11 13h0m2-9h0m3-2h0m3 2h0m11-4h0m-44 25h0m-20 11h0m-1-8h0m-4 3h0m0 4h0m-2-4h0m-2 9h0m-2-15h0m-3 1h0m0 11h0m-1-3h0m-5 13h0m-4-6h0m-1 2h0m0-5h0m-1-1h0m-7 4h0m-85 19h0m44-5h0m5 6h0m19 2h0m11 4h0m2-5h0m2 9h0m0-13h0m7 11h0m0-4h0m8 1h0m4-16h0m3 7h0m8-5h0m1-3h0m-4 27h0m-14 12h0m-11-4h0m0 7h0m-8-19h0m-12 9h0m-7-3h0m-3-3h0m-4 15h0m-12-15h0m0 3h0m-4-1h0m-12 17h0m1 10h0m4 0h0m5 8h0m2-2h0m7-1h0m2 25h0m-9-3h0m-8 0h0m-5-8h0m-6-3h0m0 11h0m-121 11h0m51 22h0m8-17h0m24 20h0m11-13h0m11 7h0m10-16h0m4 14h0m4-13h0m-50 23h0m-5 11h0m-5-5h0m0 31h0m17-13h0"/><path d="M616 1985h0m60-2h0m12 21h0m-2 5h0m-16 5h0m-75-13h0m-1 23h0m63 12h0m25 2h0m-40 6h0m0 4h0m-6 7h0m-1-5h0m-16 5h0m-10-4h0m-2-5h0m-17-2h0m-48 36h0m57-11h0m14 14h0m5-12h0m12 4h0m10-9h0m0-2h0m1 4h0m-33 24h0m-1 17h0m-6 0h0m-1-4h0m-31 3h0m-1-2h0m-10 3h0m-8-1h0m-1 2h0m-3-14h0m-6 10h0m-57 23h0m11-17h0m4 22h0m31-3h0m17-11h0m4 2h0m8 2h0m1 8h0m3-18h0m3 17h0m1-7h0m9 8h0m8-1h0m-14 21h0m-7-14h0m-6 2h0m-3 10h0m-2-3h0m-1-11h0m-10 13h0m-1-5h0m0 5h0m0-5h0m-8 15h0m0 0h0m-5-7h0m-13 5h0m-7-9h0m-33 33h0m6-18h0m3 19h0m1-4h0m0 4h0m16-3h0m2-14h0m7 10h0m4-5h0m3-9h0m0 4h0m13-5h0m9 15h0m2-7h0m4-8h0m1 4h0m-30 27h0m0-1h0m-1 6h0m-12 4h0m-1-7h0m0 9h0m-5-13h0m-1 8h0m-2-13h0m-1 6h0m-1 7h0m0-2h0m-4 6h0m-4-16h0m0 2h0m-2 14h0m-2-9h0m-12 4h0m-14 11h0m-20-22h0m0 7h0m-19 5h0m-28 31h0m36 1h0m9-4h0m6-10h0m2 15h0m6-1h0m2-21h0m1 20h0m0 2h0m1-21h0m0 18h0m3-7h0m8 4h0m0-16h0m0 22h0m6-17h0m1 7h0m2 6h0m4-7h0m2 9h0m0-3h0m1 4h0m0-16h0m1 5h0m3 1h0m6-9h0m10 0h0m7 5h0m2 0h0m9-7h0m39 10h0m-71 16h0m-20 0h0m-5-1h0m-3 4h0m-3 15h0m-3-15h0m-1 12h0m-2-14h0m-1-1h0m-1 3h0m-3 12h0m-3 6h0m-9-1h0m-1-11h0m-2-2h0m0-2h0m-2 6h0m-8-13h0m-1 23h0m-6-16h0m-6-6h0m-11 12h0m-13-8h0m-23 20h0m13 5h0m0 13h0m6-17h0m6 8h0m4-1h0m4 3h0m7 9h0m1-8h0m8-3h0m9 12h0m0-13h0m0 2h0m1 10h0m0-16h0m2 3h0m2 12h0m1-16h0m0 16h0m5-18h0m3 11h0m0-8h0m1 11h0m2 0h0m2-5h0m1 11h0m4-21h0m6 3h0m0 14h0m7-4h0m10-11h0m-27 24h0m-6 3h0m-10 8h0m-5-12h0m-8 4h0m-6 10h0m0-11h0m-2 2h0m-1 14h0m-8-4h0m-4-8h0m-5-1h0m-1 3h0m-3 2h0m0-5h0m-1 6h0m-8 8h0m-6-13h0m-3 4h0m-17-12h0m-6 5h0m-11 15h0m-1-20h0m2 45h0m19-21h0m8 14h0m1 0h0m1 8h0m6-18h0m1 13h0m9-8h0m1-3h0m2 11h0m0-17h0m1 20h0m1-20h0m0 2h0m7 16h0m15-10h0m2-8h0m-24 31h0m-2-3h0m-4 18h0m-4-20h0m-1-1h0m0-1h0m-1 2h0m-4 19h0m-3 0h0m-1-15h0m-4 16h0m-7-20h0m0 15h0m0 0h0m-2-3h0m-1-5h0m-1 11h0m-2-1h0m-1-17h0m0 6h0m-17-3h0m-23-1h0m-29 25h0m10 7h0m11 7h0m6 3h0m1-15h0m1 15h0m7-1h0m0-3h0m3-14h0m4 18h0m0 0h0m1-7h0m0-3h0m4 10h0m2-7h0m3-15h0m13 7h0m12 0h0m12-3h0m18 1h0m-51 25h0m-1-5h0m-8 13h0m-6-11h0m-8 17h0m-12-10h0m-1 5h0m-7 3h0m-5-8h0m-41 26h0m5-10h0m10 6h0m13-6h0m1 15h0m7 4h0m9-11h0m3-7h0m11 17h0m-39 7h0m-3-2h0m0 5h0m-13 8h0m-7 0h0m-7 4h0m-20-5h0m-46 22h0m37-8h0m10 9h0m1-11h0m4 5h0m1-7h0m3 13h0m20-2h0m5-4h0m-65 36h0m42 7h0"/><path d="M637 2005h0m-14-1h0m-42 20h0m54 9h0m38-10h0m29 6h0m-43 30h0m-5-19h0m-14 11h0m-12-8h0m-2 10h0m-6 4h0m-2-5h0m-53 4h0m-5 24h0m7-6h0m36 6h0m16 0h0m-13 28h0m-5-1h0m-3-15h0m-2-2h0m-4 19h0m-15-8h0m-6-1h0m-14 2h0m-56 31h0m33-17h0m1 7h0m6 9h0m3-6h0m3-12h0m2 18h0m8-10h0m1 4h0m2 3h0m3-13h0m2 13h0m1-14h0m5 11h0m4-7h0m1-4h0m8 0h0m11 2h0m5-4h0m-26 23h0m-8 6h0m-19-5h0m-1 16h0m0 4h0m-7-8h0m-2 3h0m0-1h0m-12-14h0m-2 16h0m0 4h0m-4-5h0m-3-10h0m-10 16h0m-16 1h0m-12-11h0m1 26h0m9 8h0m2-4h0m8-8h0m5-6h0m5 9h0m5 1h0m1-4h0m1 2h0m0-9h0m0-3h0m0 12h0m2 5h0m0-5h0m11-5h0m5 11h0m8-16h0m4-2h0m-26 25h0m-10 1h0m0 7h0m-2 6h0m-2-9h0m-1-5h0m0 22h0m-2-6h0m-1-9h0m-4-8h0m-6 16h0m0-11h0m-2 14h0m-3-1h0m0-1h0m0 4h0m-3-11h0m-3 1h0m-2-3h0m-2-7h0m-2 14h0m-1-4h0m-2-2h0m-3 13h0m-2-11h0m-11 10h0m-19-15h0m-43 31h0m41-1h0m9-12h0m2 4h0m3 13h0m5-1h0m1 1h0m3 0h0m0-16h0m5 10h0m0-3h0m2 2h0m2 4h0m6-4h0m3-8h0m1 2h0m0-3h0m3 3h0m8-4h0m8 9h0m4-5h0m-35 26h0m-2-2h0m-4 10h0m-5-11h0m-2 14h0m-1-12h0m-1 2h0m-2 13h0m0-14h0m-1 1h0m-2-6h0m-7 17h0m-3-18h0m-1 17h0m0-13h0m-4 4h0m-3 11h0m0-5h0m-3 3h0m-7 6h0m-1-10h0m-93 26h0m22 6h0m18 2h0m1-17h0m15 3h0m11 9h0m2 1h0m2 1h0m8-5h0m0-11h0m1 4h0m0 10h0m5-6h0m1 7h0m1-14h0m1 11h0m3-8h0m4 0h0m1 2h0m1 0h0m3-1h0m0 14h0m2-3h0m1-7h0m7-7h0m3 7h0m2 11h0m-9 4h0m-15 5h0m-9 11h0m-4-11h0m-1 13h0m-1-15h0m-6 12h0m-2-7h0m0 7h0m-4-1h0m-2 4h0m-2-2h0m-4-16h0m-1 15h0m-5-16h0m0 5h0m-3 9h0m-9 2h0m-1-6h0m-15-6h0m-27 26h0m15-2h0m3 4h0m1 12h0m2-2h0m0-21h0m2 10h0m1-1h0m0 4h0m7 10h0m1-15h0m1 9h0m2-8h0m1 13h0m1-15h0m2 8h0m6-15h0m2 14h0m0-12h0m6 9h0m2-11h0m0 10h0m1-4h0m1 0h0m0-3h0m1 10h0m4-4h0m0 10h0m1-16h0m3 7h0m0-6h0m4 1h0m1 18h0m1-4h0m1-16h0m1-3h0m8 8h0m15-5h0m-44 26h0m-5 17h0m-6-19h0m-3 9h0m-1-12h0m-3 21h0m-4-5h0m-2-7h0m-1 5h0m-1 0h0m-3-12h0m-2 5h0m-3 0h0m0 15h0m-4-11h0m-6 0h0m-6 11h0m-17-6h0m-13-8h0m-28 9h0m-9 13h0m22 17h0m23-5h0m2 4h0m4 1h0m9-21h0m3 10h0m0 5h0m7-9h0m8-2h0m2-6h0m4 5h0m11-4h0m-15 23h0m-10 19h0m-4 1h0m-6 1h0m-7-14h0m-3 16h0m-1-12h0m-4 3h0m-3-4h0m-7-6h0m-5 1h0m-1 13h0m-1-12h0m-5 8h0m0-13h0m-3 15h0m-41 12h0m47 1h0m8 4h0m33-8h0m-55 43h0m-12-18h0m-7 19h0m-6 2h0m-29-11h0m-17 32h0m1-1h0m52-19h0m-73 44h0m-2-11h0m17 30h0"/><path d="M678 1972h0m-37 32h0m-12 34h0m32-7h0m3 5h0m3-15h0m-12 30h0m-1 7h0m-17 0h0m-2-8h0m-13 12h0m-2-8h0m-4-3h0m-34 3h0m-33 30h0m2-13h0m38 12h0m6-13h0m6 7h0m9 9h0m2-17h0m1 14h0m6-13h0m1-4h0m13 19h0m-11 4h0m-18 0h0m-4 17h0m-3 3h0m-1-12h0m-1 2h0m-2 6h0m-8 6h0m-2-15h0m-4 11h0m-2-18h0m-10 21h0m-58-13h0m0 35h0m29-1h0m0-16h0m17 20h0m3-20h0m2 5h0m1-7h0m0 17h0m0-15h0m1 9h0m1 5h0m1-2h0m0-12h0m0 20h0m0-23h0m4 8h0m7-6h0m25 18h0m-25 5h0m-7 10h0m-12-3h0m-9-4h0m-8 16h0m0-12h0m-2-3h0m0 18h0m-3-1h0m-2-9h0m-12-13h0m-2 2h0m-16 19h0m0-3h0m-11-4h0m-46 26h0m25-7h0m5 9h0m7-11h0m3-1h0m3 14h0m4-8h0m0-8h0m10 5h0m4 7h0m5-9h0m1-2h0m7 9h0m1-13h0m4 1h0m3 9h0m0-1h0m2-4h0m9 2h0m-8 20h0m-4 5h0m-8 8h0m-11-15h0m-1 8h0m-3-4h0m0-1h0m-3 17h0m-1 1h0m-2-3h0m0-17h0m-2 15h0m-2-8h0m-2-3h0m0 8h0m-2 1h0m-2 2h0m-3-14h0m-5 2h0m0-4h0m-2 14h0m0-3h0m-1 7h0m-5 3h0m-3-2h0m-1-1h0m-8 1h0m-37-1h0m-26 16h0m11 2h0m8-2h0m17 1h0m3 5h0m7-6h0m0 2h0m1 6h0m6 2h0m0-4h0m0 4h0m5-12h0m1 9h0m5-11h0m5 4h0m0 9h0m1-6h0m5 0h0m2 8h0m0-21h0m1 3h0m0 16h0m0-2h0m0-8h0m3-10h0m2 4h0m11 13h0m1-16h0m3 0h0m2 0h0m1 0h0m-25 34h0m-5 3h0m-1-15h0m-2 6h0m-1 0h0m-8-4h0m0 7h0m-3-1h0m0-8h0m-3 18h0m0-16h0m-3 21h0m-1-8h0m-3-12h0m-1 8h0m-1 6h0m0-14h0m-2-2h0m0 17h0m-4 0h0m-2 2h0m-9-7h0m-2 8h0m-8-15h0m-1 8h0m-1-5h0m-2 13h0m-4-2h0m-3-18h0m-4 21h0m-17 3h0m4 21h0m10 0h0m3-10h0m0 8h0m2-8h0m3-7h0m2 8h0m0-3h0m0 4h0m4-13h0m0 18h0m0-6h0m0-14h0m2 11h0m1-6h0m1-4h0m1 3h0m1 1h0m1-4h0m2 3h0m0 7h0m0 3h0m2-9h0m1 8h0m1 3h0m0-8h0m1-4h0m1 1h0m1 1h0m4 13h0m1-19h0m8 11h0m6-10h0m1-1h0m5 4h0m-24 21h0m-7 17h0m-5-14h0m-4 2h0m-1 6h0m-1-3h0m-6-8h0m-5 14h0m-1-12h0m0 4h0m-4 6h0m-3 2h0m-6-7h0m-3 12h0m-2-5h0m0-4h0m0 0h0m-2 2h0m-1-6h0m-12 11h0m-9-5h0m-12 0h0m-26-12h0m-6 41h0m20-9h0m1 13h0m7-5h0m5-9h0m1-2h0m1 17h0m13-7h0m2-3h0m1 4h0m1 3h0m2-13h0m4 4h0m1 10h0m1-5h0m9-6h0m0-4h0m1 2h0m0-5h0m6 7h0m2-10h0m2 8h0m-24 33h0m-4-11h0m-2 3h0m-6-7h0m0 11h0m-6 6h0m-1-12h0m0 5h0m-5-11h0m-2 4h0m-1 4h0m0 7h0m-2 6h0m-1-11h0m-2 1h0m-5 9h0m-4 1h0m-5-13h0m-13 12h0m0-9h0m-1-3h0m-59 27h0m13 0h0m36-2h0m7-1h0m15-2h0m2-7h0m9 14h0m2-3h0m0-8h0m5 7h0m-8 19h0m-9-3h0m-43 16h0m-1-9h0m-4 8h0m-5 3h0m-9 3h0m-35 12h0m8 4h0m4-6h0m3 14h0m6-3h0m5-16h0m10 15h0m3-16h0m2 7h0m0 13h0m3-16h0m9-1h0m1-6h0m2 25h0m-26 21h0m-3-5h0m-6-11h0m-4 16h0m-1-7h0m-1 8h0m-49-16h0m-11 16h0m2 16h0m1 4h0m21-16h0m12 0h0m17 1h0m6 0h0m3 2h0m-18 22h0m-53 12h0m14 19h0m17-11h0"/><path d="M689 2012h0m-2-19h0m-9 0h0m-17 9h0m-15 32h0m14-9h0m15 2h0m27 12h0m-63 4h0m-3 12h0m0 0h0m0-10h0m-12 5h0m-6 4h0m-29 19h0m13 10h0m4-7h0m2-7h0m3 14h0m6-15h0m9-3h0m14 8h0m6 0h0m-31 25h0m-19 6h0m-6-5h0m-3-4h0m-10 7h0m-2-7h0m-3 12h0m-15 3h0m-27-16h0m-49 32h0m45 3h0m4-2h0m3-3h0m9 10h0m1-20h0m1 5h0m7 1h0m12 15h0m4-14h0m1 7h0m3-7h0m5-6h0m3-1h0m4 14h0m9-12h0m-19 34h0m-17-5h0m-4 6h0m-4 0h0m0-3h0m-3-11h0m-2 7h0m-2 1h0m-2 4h0m-5 7h0m-1-6h0m-1-7h0m-2 2h0m-6 0h0m-1 0h0m-3 13h0m-1 0h0m-8-19h0m0 3h0m-6 16h0m-41 10h0m10 14h0m12-9h0m2 9h0m9-6h0m5-9h0m0 16h0m2-11h0m0 8h0m0-9h0m1-6h0m0 9h0m2 8h0m1-11h0m4 5h0m0-3h0m2-4h0m2 12h0m1-7h0m1-4h0m3-5h0m5 4h0m5-8h0m0 20h0m1-17h0m0 18h0m6-21h0m1-1h0m45 2h0m-63 27h0m-8 8h0m-3-7h0m0 1h0m-1-4h0m-2-1h0m0 12h0m-5-7h0m-2-3h0m-10 8h0m-1-4h0m-2-2h0m-1 3h0m-2-1h0m-1 8h0m-4-7h0m-1-6h0m-2 19h0m-1-19h0m-1 7h0m-4 6h0m-2 3h0m-5-17h0m-25 11h0m-24 34h0m3-12h0m8 9h0m14 2h0m4-6h0m1-3h0m3 5h0m4-7h0m0-7h0m3 3h0m0 9h0m1 7h0m2-5h0m0 3h0m1 1h0m2-4h0m0-2h0m1-4h0m1-10h0m1 8h0m1 9h0m2-5h0m4 4h0m0-18h0m3 3h0m2 1h0m2 16h0m6-5h0m2-8h0m4 0h0m16 3h0m-17 37h0m-3-23h0m-17 6h0m-4-5h0m-6 18h0m-1-12h0m0 15h0m-4-17h0m-1 6h0m-2 6h0m-2 4h0m-7-17h0m0-3h0m0 10h0m-1 12h0m-3-6h0m-2-16h0m-1 11h0m-1 8h0m-1-18h0m-2 14h0m0 7h0m-1-5h0m-1 3h0m-1-18h0m-1 20h0m-3-6h0m-4-4h0m-1 7h0m0 3h0m-4 0h0m-28-17h0m-12 15h0m-58 13h0m54 12h0m18 1h0m2 0h0m1-22h0m5 19h0m4-3h0m1-17h0m4 3h0m0 4h0m2-7h0m5 21h0m2-15h0m3 14h0m2-5h0m1-4h0m3-7h0m7 7h0m9-7h0m4 10h0m1-14h0m0 10h0m1 11h0m13-15h0m-28 36h0m-2-17h0m-22 9h0m-1-9h0m-6 7h0m-3 7h0m-3-8h0m-1 14h0m-2-17h0m-2 4h0m-3 6h0m-2 7h0m-5-3h0m-2 4h0m-5-6h0m-9-16h0m-1 16h0m-1 2h0m-1-15h0m-8 15h0m-31 22h0m7 0h0m1-13h0m2 7h0m12-7h0m5 9h0m3-9h0m2 6h0m2 12h0m1-5h0m1-12h0m0 14h0m2-4h0m2 4h0m1-15h0m0 11h0m0-14h0m1 0h0m2 7h0m3-3h0m1-1h0m0-1h0m4 9h0m7-3h0m3 0h0m1-4h0m8 0h0m19 2h0m2-4h0m-17 25h0m-28-3h0m-1 10h0m-5-9h0m-3 11h0m-1-2h0m-2 13h0m-11-16h0m0-3h0m-1 3h0m-6 11h0m-7 4h0m-8-13h0m-6 0h0m-3 14h0m-1-5h0m-7-8h0m-21 8h0m-15-7h0m19 26h0m12 7h0m1 0h0m9-16h0m2 9h0m6 2h0m8-4h0m0-11h0m0 18h0m9-5h0m13-13h0m-35 40h0m-24-7h0m0 0h0m-17 3h0m-4-3h0m-32 35h0m13-2h0m15-4h0m12-8h0m6-2h0m4 17h0m4-20h0m27 9h0m4-8h0m-38 37h0m-23-4h0m-23-9h0m-4 7h0m0 2h0m-61 11h0m69 6h0m-47 42h0m-3-20h0m-3 10h0m-7-7h0m-1-1h0m-1 17h0m-7 10h0"/><path d="M662 1990h0m-90 49h0m33-9h0m16-1h0m10 3h0m17 0h0m32-6h0m4-5h0m-22 19h0m-16 7h0m-19 3h0m-14-10h0m-1 18h0m-11 3h0m-14 17h0m10-14h0m8 12h0m1 6h0m6-3h0m2-5h0m16-6h0m2 12h0m14-15h0m-29 28h0m-2-5h0m-5 12h0m-6-7h0m-6-5h0m-11 17h0m-2 2h0m-1-8h0m0 6h0m-4-16h0m0 4h0m0-5h0m-1 20h0m-2-11h0m-7-7h0m-3 16h0m-8-2h0m-4 7h0m-1-16h0m0 8h0m-54 27h0m6-11h0m25 2h0m1 14h0m12-17h0m6-1h0m2 6h0m9-1h0m1 8h0m1-7h0m5-3h0m8 15h0m20-18h0m-28 28h0m-9-9h0m-1 5h0m-2-4h0m-4 7h0m-4 8h0m-1 2h0m-4-16h0m-1 17h0m-4-6h0m-1-1h0m-3-3h0m-3-3h0m0 8h0m-3 7h0m-2 1h0m-1-21h0m-2 20h0m0-12h0m-6 6h0m-42 7h0m-3 1h0m-13-17h0m-6 33h0m16 8h0m8-4h0m2-14h0m10 9h0m12 7h0m2-1h0m2-6h0m11-7h0m11 16h0m3-6h0m2-11h0m0 3h0m0-2h0m0-5h0m5 3h0m12 0h0m-19 32h0m-11-6h0m-4 4h0m-4-9h0m-8 2h0m0 13h0m-3-14h0m0 14h0m0-13h0m-3 12h0m-1-14h0m0 5h0m0 5h0m-3-9h0m-3 8h0m0 2h0m-1 7h0m-2-14h0m-4 6h0m-2 4h0m-2-14h0m-4 12h0m0 4h0m-2-15h0m-1 15h0m-4 0h0m-1 5h0m-1 0h0m-18-6h0m-14-2h0m1 27h0m11 4h0m4-16h0m0 10h0m3-1h0m1 0h0m0-11h0m4 2h0m0 5h0m2 2h0m2 4h0m2-9h0m4 0h0m1-8h0m0 23h0m1-5h0m1-17h0m6 12h0m-8 20h0m-7 6h0m-2-12h0m0 7h0m-4-8h0m-1 0h0m-2 1h0m-4 12h0m-1-3h0m-2-5h0m-2 16h0m0-12h0m-1 1h0m-1 10h0m-1-19h0m-2 14h0m-1-16h0m-3 14h0m-2-4h0m0 10h0m-2-2h0m-1-15h0m-3 2h0m-3 7h0m-1-12h0m-1 14h0m0-11h0m-1 15h0m-6-7h0m-5 3h0m-5-8h0m-24 2h0m-19 8h0m-9 25h0m1-4h0m21 8h0m11 1h0m1-3h0m2 3h0m2 0h0m12-5h0m2-15h0m3 20h0m6-18h0m2 1h0m0 10h0m0 1h0m3-4h0m2-8h0m0-3h0m3 8h0m0 0h0m8-9h0m6 19h0m7-19h0m16-1h0m26 18h0m-59 13h0m0 15h0m-14-14h0m-7 7h0m-2-5h0m-1-5h0m-3-1h0m-2 1h0m-5 4h0m-4 5h0m-2 7h0m0 1h0m-1-11h0m-1-8h0m-3-3h0m0 12h0m-1-5h0m-2 13h0m0-12h0m-5 1h0m-1-3h0m0-1h0m-6 17h0m-2-9h0m-11 7h0m-68-10h0m37 22h0m14-3h0m1 3h0m11 14h0m4-13h0m3 8h0m2 6h0m2-12h0m1-1h0m2-5h0m1 9h0m1-14h0m2 3h0m1 6h0m2-7h0m12 0h0m6 8h0m0-1h0m4-5h0m-20 23h0m-10 3h0m-2-1h0m0 17h0m0-5h0m-3-10h0m-3-7h0m-13 20h0m-2-17h0m0 0h0m-3 13h0m-1 1h0m-6-3h0m-2-8h0m-12 1h0m-10 8h0m-10 30h0m2 1h0m20-14h0m8 2h0m1 5h0m1-14h0m4 1h0m6 7h0m9-9h0m2 4h0m-44 43h0m-14-22h0m-2 5h0m-1 8h0m-7 8h0m-8 0h0m-16-5h0m-13 16h0m3 6h0m6 1h0m5-14h0m0 5h0m0-5h0m8 18h0m4-18h0m43 0h0m-43 26h0m-10-4h0m-7 6h0m-2-2h0m0 0h0m-3 14h0m-2-7h0m-5-1h0m-40 31h0m0-17h0m5 11h0m17-10h0m6 10h0m11-3h0m10-6h0m-52 55h0"/><path d="M661 1986h0m26 26h0m-7 1h0m-75 18h0m21-7h0m10 15h0m17-17h0m-5 23h0m0 4h0m-1 14h0m-2-6h0m-21-11h0m-48 32h0m20-1h0m6-6h0m5 8h0m8-5h0m2-6h0m4 1h0m-4 21h0m-14 5h0m-1 0h0m-13-7h0m-4 10h0m-4-9h0m-4 13h0m-3 8h0m-10-9h0m-2 4h0m-5-3h0m-1-1h0m-16 7h0m-49 23h0m47-19h0m10 23h0m1-8h0m5-9h0m1 15h0m2-4h0m3-14h0m1 7h0m7 9h0m1-17h0m2 5h0m12 2h0m1-6h0m-37 28h0m-5-1h0m-2 5h0m-1 2h0m-2 6h0m-3-11h0m0 0h0m-3-7h0m-3 10h0m-1-7h0m-4 13h0m0-4h0m-4 8h0m-2-10h0m-1 5h0m-1 7h0m-6-1h0m-71-6h0m29 29h0m10-20h0m15 21h0m1-15h0m1 16h0m1-4h0m4-1h0m2-5h0m3-1h0m0-8h0m3 13h0m2-10h0m3 7h0m5 2h0m2 7h0m1-16h0m0 2h0m4-9h0m4 22h0m1-10h0m11-6h0m15 3h0m-27 24h0m-4-9h0m-7 11h0m-11-10h0m-6 17h0m-3-11h0m-1 0h0m-2 10h0m0 5h0m-1-5h0m-2-5h0m0 10h0m-1-3h0m-9-9h0m-3-2h0m-14 5h0m-11-3h0m-1 0h0m-7-1h0m-1 4h0m-15 6h0m-15-1h0m18 28h0m4-19h0m3 16h0m2 3h0m3-6h0m11-7h0m1 12h0m1 2h0m0-3h0m0-11h0m3 8h0m0 2h0m2-19h0m0 22h0m1-20h0m3 8h0m3 5h0m1-14h0m2 12h0m1 6h0m1-15h0m0-3h0m1 5h0m0-1h0m5 4h0m2-3h0m0-6h0m2 8h0m10-2h0m0-6h0m-21 44h0m-13-3h0m-2-8h0m-5-8h0m-3 11h0m0-1h0m-2-3h0m-1 1h0m-3 7h0m0 2h0m-1-18h0m-2 8h0m0 12h0m-3-13h0m-1 4h0m-1 11h0m-2-22h0m0 18h0m0-14h0m-2 5h0m-1 12h0m-1-15h0m-6 9h0m-5-3h0m-5 4h0m0 7h0m-1-8h0m-1 6h0m-2-15h0m-11 1h0m-24 15h0m-2 1h0m-13 15h0m11 4h0m10-3h0m9 7h0m8-8h0m4 6h0m0-13h0m2 13h0m1-10h0m2 10h0m0-13h0m5 9h0m0-5h0m2 11h0m1-5h0m0-12h0m2-2h0m5 2h0m4 2h0m1 13h0m1-18h0m1-1h0m7 5h0m8-1h0m8 0h0m10 3h0m-29 20h0m-17 17h0m-1-19h0m-2 10h0m-2-2h0m-8 12h0m-1-15h0m-1 8h0m0-6h0m-4 13h0m-3-1h0m0-18h0m-8 2h0m0 15h0m-2-10h0m0 7h0m0 4h0m-3-11h0m-2 8h0m-1-15h0m-5-2h0m-4 6h0m-5 8h0m-7 7h0m0-13h0m-1 11h0m-19-4h0m-40 18h0m33 7h0m0-3h0m6 7h0m8-1h0m2-8h0m8-7h0m5 0h0m0 7h0m4-3h0m2 4h0m8-8h0m0-1h0m2 0h0m2-2h0m3 0h0m2 21h0m2-13h0m1-6h0m-19 24h0m-1 3h0m-2 3h0m-3-7h0m-1 5h0m-1 4h0m-3 1h0m-8-9h0m0 15h0m-1 0h0m-2-15h0m-3 6h0m-5 5h0m-3-3h0m-1-8h0m-2 16h0m0-10h0m-5-6h0m-1 14h0m-1-12h0m0 16h0m-10-11h0m-8 10h0m-3-18h0m-2 13h0m-2 1h0m0-11h0m-11 11h0m-30 20h0m21-11h0m16 12h0m4-6h0m10-6h0m4 21h0m3-9h0m0 6h0m3-9h0m3 12h0m7 0h0m5-7h0m1-7h0m6 17h0m-1 5h0m-30 13h0m-8-8h0m-3-12h0m-2 13h0m-13 7h0m-1 0h0m-4-14h0m-9-5h0m-2 14h0m0-6h0m-40 31h0m23 3h0m4-6h0m6-5h0m10 13h0m6-11h0m7-10h0m3 17h0m-38 23h0m-17 2h0m-2-3h0m-9-2h0m-47 17h0m26-2h0m10 18h0m-24 23h0m-10-5h0m-11-7h0"/><path d="M677 2012h0m-26 22h0m22-14h0m1 1h0m1 10h0m-7 12h0m-14 19h0m-6-15h0m-49-3h0m-1 35h0m25-4h0m4-6h0m4 7h0m-32 16h0m0 0h0m-14 19h0m-11-21h0m-5 5h0m-97 27h0m31-9h0m30 15h0m8-7h0m6 9h0m2 0h0m0-2h0m1-5h0m2 1h0m3 9h0m0-17h0m0 0h0m1 5h0m7 5h0m1 1h0m1 2h0m5 1h0m9 4h0m9-11h0m-11 13h0m-22 11h0m-11-8h0m-2 18h0m-1-21h0m-1 1h0m-2-1h0m-3 10h0m0-4h0m-1 17h0m-2-8h0m-5 1h0m-1 4h0m-4-7h0m-1 8h0m-5-15h0m-8-4h0m-7 21h0m-28-1h0m-26 12h0m18 11h0m5-6h0m4 3h0m2 1h0m3-2h0m2-14h0m15 10h0m2 7h0m1-9h0m4-1h0m4 8h0m1-10h0m4 5h0m5 5h0m3-12h0m4 9h0m1 7h0m1-17h0m5-1h0m11-2h0m-23 31h0m-2-9h0m-4 18h0m-13 0h0m-1-15h0m-2 12h0m-2 1h0m0-11h0m-2 4h0m-5-7h0m-2 6h0m-8 4h0m-14 1h0m-1-10h0m-18 1h0m-33 42h0m10-1h0m6-7h0m4 7h0m8-8h0m1 2h0m4-4h0m6-2h0m2-6h0m2 11h0m1 8h0m4-9h0m0 0h0m1-13h0m4 14h0m0-10h0m0 8h0m5-3h0m3 3h0m1 4h0m3-5h0m1 4h0m0-13h0m1 6h0m6 8h0m21-13h0m-31 25h0m-2-1h0m-10 8h0m-2 0h0m-10-1h0m0-5h0m0 12h0m-4-8h0m0-5h0m-1 4h0m-1 0h0m0 9h0m-1-14h0m-1 17h0m-2-15h0m-1 11h0m-2-11h0m-2 3h0m-1 8h0m-1-3h0m-2-5h0m0 4h0m-2-2h0m0 1h0m0 3h0m-3-10h0m0 15h0m0-16h0m-2 15h0m-4 0h0m0-1h0m-2-14h0m0 20h0m0-17h0m-2 2h0m-44 36h0m6 1h0m1-4h0m8-1h0m3-2h0m0 2h0m2 3h0m0-10h0m1-9h0m5 23h0m2-2h0m1 0h0m1-15h0m2-1h0m0 15h0m1-16h0m3-3h0m0 5h0m0 0h0m4 3h0m7-3h0m4 12h0m1-11h0m1 4h0m6-1h0m2-6h0m2-3h0m3 12h0m7-12h0m9 11h0m10-12h0m-39 26h0m-9 0h0m-2 0h0m-4-1h0m-4 10h0m-1-11h0m0 5h0m-2 5h0m0-7h0m-3 4h0m0 8h0m-2-5h0m-2-9h0m0 20h0m-9-17h0m0 9h0m-3-11h0m0-2h0m-4 12h0m-3-5h0m-1 15h0m-2-16h0m-2-1h0m0 3h0m-1-6h0m-4 8h0m-3 13h0m-5-2h0m-25 26h0m6-12h0m5 11h0m6 0h0m4-2h0m7 3h0m7-12h0m9 0h0m4 1h0m16-10h0m2-1h0m3 6h0m-25 19h0m-12 13h0m0-15h0m-3 15h0m-7 7h0m-4-21h0m0 5h0m-5 0h0m-4 16h0m-1 1h0m-8-11h0m-4-2h0m-4-4h0m-19 8h0m-1 7h0m-57 24h0m45-2h0m2 3h0m2-7h0m4 0h0m3 7h0m1-4h0m6-6h0m2 9h0m1-11h0m6 5h0m3-13h0m0 19h0m17-9h0m4 8h0m-23 6h0m-16-1h0m-1 14h0m-5-11h0m0-3h0m-5 2h0m-4 5h0m-12 11h0m-1-11h0m-4-4h0m-3 15h0m-7 3h0m0-4h0m-6-16h0m-2 0h0m-44 0h0m-2 26h0m33 13h0m3-13h0m3 14h0m8-7h0m4-10h0m8 17h0m6-10h0m38-1h0m-37 17h0m-13 8h0m-40 5h0m-9 9h0m-2-10h0m-5 34h0m12 0h0m11-4h0m-7 6h0"/><path d="M668 2008h0m-2-2h0m-45 0h0m19 18h0m18 11h0m4-1h0m7-9h0m7 14h0m10-17h0m-48 38h0m-4 1h0m-12-1h0m-49 14h0m0-8h0m11 10h0m12 7h0m1-8h0m7 9h0m7-9h0m1-2h0m4-8h0m13 31h0m-23-7h0m-17 19h0m-1-13h0m0 14h0m-6 1h0m-3 0h0m-11-2h0m-2-17h0m-2 16h0m-4 1h0m-6-14h0m-4 11h0m-8-6h0m-1 11h0m-61 9h0m28 11h0m5 4h0m20-10h0m1 8h0m7-2h0m6-2h0m4-15h0m1 20h0m2-3h0m5 1h0m11-10h0m13-3h0m2 3h0m9-5h0m-33 35h0m0-4h0m-11 0h0m-3-5h0m-3 13h0m-1-9h0m-7-10h0m-2 14h0m-13-5h0m-2-6h0m-1 10h0m0-7h0m-10 2h0m-2 5h0m-4-2h0m-27 0h0m-25 32h0m22-5h0m5 7h0m11-4h0m7 0h0m0 2h0m1 2h0m9-11h0m5-1h0m6-2h0m7 0h0m1 8h0m1-9h0m1 10h0m3 2h0m1-3h0m0-6h0m11-6h0m5 1h0m10 1h0m-42 31h0m-5 5h0m-8-2h0m0 1h0m-1 6h0m0-20h0m0 6h0m-3 4h0m-2-1h0m-1-5h0m-1 14h0m-5 3h0m-1 0h0m0-15h0m-1 6h0m-1-11h0m-5 11h0m-2 4h0m0 0h0m-2 3h0m0-13h0m0-1h0m-1 12h0m-1-2h0m-2 4h0m-2 2h0m-5-11h0m0 7h0m-3-15h0m-2 15h0m-8 3h0m-2-1h0m-8-6h0m-4 6h0m-6-16h0m-43 34h0m10-11h0m27 15h0m13 0h0m1-16h0m2 14h0m4-6h0m2-4h0m1 5h0m1-5h0m1 7h0m5 5h0m0-13h0m0 14h0m9-19h0m0 7h0m2 13h0m3-1h0m1-14h0m1 9h0m3-4h0m5-8h0m5 3h0m37-4h0m-1 22h0m-43 1h0m-10 1h0m-5 4h0m-1-5h0m0 17h0m-6-12h0m-1 1h0m-6-5h0m-3 10h0m0-11h0m0 2h0m-1 5h0m-2-8h0m0 3h0m-1 5h0m-3 1h0m-3 14h0m-3-19h0m-8 3h0m-4 6h0m-7 10h0m-3-3h0m-1-6h0m-2 3h0m-5-11h0m-36 0h0m23 32h0m4 7h0m2-5h0m4-3h0m5 8h0m2-13h0m1-1h0m1 3h0m1 6h0m4-7h0m2 13h0m0-2h0m2-18h0m0 16h0m9-8h0m1-8h0m1 8h0m0-10h0m0 0h0m7 1h0m1 8h0m0-7h0m4 3h0m2 6h0m-19 33h0m-11-2h0m-2-17h0m-1 1h0m0 14h0m-4-3h0m-3-4h0m-2 8h0m-2 0h0m-4-13h0m0 10h0m-3-14h0m-5 8h0m-1-4h0m-1 14h0m-1-18h0m0 7h0m-2 2h0m-9 2h0m-1 8h0m0 1h0m-8-4h0m-12-3h0m-1-4h0m-2 14h0m-1-2h0m-6-5h0m-20-3h0m-8 3h0m-14 23h0m19 3h0m8 0h0m15 1h0m5 0h0m0-8h0m1 5h0m2-3h0m1 1h0m0 8h0m1-4h0m2-1h0m2 1h0m5-9h0m6 4h0m3 3h0m2-12h0m0 17h0m1 1h0m1-8h0m0-6h0m0-2h0m10 4h0m4-4h0m1 9h0m0-13h0m17 1h0m-39 21h0m-6 9h0m-8 1h0m-2-5h0m-3-2h0m-2 14h0m-5 3h0m-3-13h0m-2 11h0m-12 1h0m-7-10h0m-2 0h0m-2 9h0m-2-10h0m-6-3h0m0-5h0m-33 40h0m5 4h0m21-17h0m1 11h0m4-11h0m1 8h0m1-1h0m3 9h0m10-17h0m3 4h0m2 5h0m7 2h0m2-6h0m15 12h0m-31 5h0m-2 10h0m-8-8h0m-4-2h0m-25 3h0m-7 1h0m-10 18h0m-2-7h0m-3-5h0m-1 11h0m-2-5h0m-52 26h0m27-2h0m39-13h0m16 3h0m5-5h0m0 4h0m27-1h0m-27 30h0m-3-6h0m-6 0h0m-5 3h0m-22-3h0m-8 2h0m-2 17h0m-5-12h0m-5 10h0m-12-15h0m-42 29h0m41 2h0m36-12h0m23 11h0m-104 35h0"/><path d="M669 1982h0m1 4h0m24 14h0m-11 6h0m-9-2h0m-9 11h0m-56 20h0m51 12h0m-11-5h0m-10 19h0m-13-19h0m-7 18h0m0-5h0m-5 3h0m-13 5h0m-24 18h0m22-4h0m4-12h0m4 6h0m7 3h0m8 3h0m-8 16h0m-16-3h0m-9-1h0m-8 11h0m-10-3h0m-6 1h0m-22 13h0m-18 20h0m26-8h0m9-7h0m16 2h0m2-4h0m1 8h0m3-3h0m5 1h0m4-7h0m-19 24h0m-1 5h0m-13 1h0m0 4h0m-3 5h0m0-10h0m0-4h0m-2-1h0m-4 0h0m-1 8h0m-1-6h0m-2 15h0m-4 1h0m-2-8h0m-3 9h0m0-2h0m-2-15h0m-1 4h0m-2-2h0m-4-2h0m-5 2h0m0-5h0m-10 11h0m-11 2h0m-12 1h0m3 21h0m3 5h0m2-14h0m0 0h0m1 2h0m2 13h0m2-12h0m4 10h0m0-3h0m0 9h0m1 1h0m0-16h0m8 9h0m1 4h0m1-11h0m4-8h0m4 2h0m2-2h0m3 16h0m2-13h0m16-2h0m-9 26h0m-31 13h0m-4-11h0m-8-4h0m0 7h0m-1 8h0m0-11h0m-1 15h0m-2-6h0m-2 3h0m-1 2h0m0-9h0m-1-9h0m-2 22h0m0-16h0m-4 14h0m-5-1h0m-5-2h0m-2-1h0m0 0h0m0-5h0m-1 11h0m-2-9h0m-2 5h0m0-4h0m-1-5h0m-1 13h0m0-5h0m-5-7h0m-3 0h0m-3-3h0m-48 23h0m4-7h0m21 21h0m17-16h0m1 16h0m1-4h0m0-7h0m2-3h0m3 16h0m0-11h0m2-7h0m2 14h0m1-5h0m1-5h0m2 13h0m2 0h0m0-2h0m4-14h0m1-4h0m0 14h0m1 4h0m1-20h0m1 17h0m2-4h0m0-1h0m3-4h0m1-7h0m2 20h0m2-12h0m1-9h0m0 5h0m1 0h0m1 7h0m9-4h0m13-1h0m-34 17h0m-2 0h0m-7 1h0m-2 3h0m-3 1h0m-2 3h0m-2 12h0m0-12h0m-3 1h0m-1-5h0m-2 3h0m-1 15h0m0 1h0m-2-7h0m0-3h0m0-4h0m-1-1h0m0 15h0m-3-7h0m0-13h0m0 3h0m-1 17h0m-1-11h0m-1-9h0m-9 16h0m0-5h0m-7 9h0m-2-2h0m-3-13h0m-22 8h0m-17 4h0m-24-6h0m20 26h0m6-4h0m8 6h0m6 2h0m0 0h0m1-4h0m3-3h0m0 9h0m2-21h0m1 3h0m1 8h0m3-6h0m1 5h0m2 2h0m3-5h0m1-2h0m1 8h0m1-7h0m1-5h0m0 14h0m3-6h0m3-9h0m5 14h0m2-11h0m0 7h0m3-1h0m7-6h0m1 6h0m22-7h0m-36 31h0m-3-10h0m-14 2h0m-1 7h0m-7 8h0m-8-16h0m-2 10h0m-1-5h0m-2-6h0m-3 5h0m-2 5h0m-3-1h0m-1-6h0m-10 13h0m-6-6h0m-5 13h0m-5-9h0m-2 6h0m-44-1h0m1 9h0m26 13h0m2-15h0m5 14h0m1 0h0m3 2h0m9-7h0m2 7h0m2-5h0m0 10h0m1-8h0m2-9h0m2 14h0m2 1h0m5-2h0m4-10h0m1 3h0m0-12h0m1 17h0m1-15h0m4 17h0m4-5h0m3 6h0m-13 12h0m-16-7h0m-16 22h0m-3-21h0m-16 13h0m-3 0h0m-4-4h0m-53 28h0m23 2h0m13 2h0m3-12h0m1 11h0m1 2h0m7-11h0m2-3h0m3 2h0m4 2h0m1 5h0m0 5h0m2-10h0m3-9h0m6 19h0m11-10h0m4-6h0m-41 25h0m-20 1h0m0 6h0m-2 8h0m-10-8h0m-17 5h0m0 25h0m0-1h0m4-8h0m5-6h0m8 5h0m2 4h0m12 3h0m1-13h0m-37 42h0m-1-12h0m-5 7h0m-4-14h0m-19 5h0m-27 31h0m5 6h0m16 3h0m2-18h0m-29 42h0m-8-13h0m-4-8h0m-9 18h0"/><path d="M676 2007h0m-10 41h0m-11-4h0m-4 7h0m-5 6h0m-2-3h0m-7 9h0m-1-15h0m-1 6h0m-7-5h0m-10 14h0m-56 20h0m9-4h0m7 1h0m13 5h0m16-12h0m8 4h0m16-13h0m5 7h0m-11 23h0m-18 8h0m-12-12h0m-3 2h0m-4 17h0m-1-18h0m-13 12h0m-7 6h0m-31 2h0m-7 23h0m1-22h0m5 23h0m6-21h0m4 20h0m2-12h0m4-7h0m5 0h0m3 20h0m2-16h0m1-5h0m9 20h0m6-18h0m10 2h0m-16 23h0m-1 0h0m-5-1h0m-5 0h0m-3 2h0m-9-6h0m-5 2h0m-1 16h0m-4 2h0m-1-1h0m-1 1h0m-2-4h0m-3-11h0m-2 18h0m0-4h0m-3-17h0m-2 8h0m-14 1h0m0 8h0m-1 0h0m-2-4h0m-4-6h0m-51-6h0m15 31h0m10 9h0m6-4h0m9-1h0m4-3h0m1 5h0m5 3h0m1-5h0m3-7h0m5 10h0m4-9h0m1-7h0m5 7h0m1 6h0m0 1h0m0-13h0m3 12h0m12 0h0m2-7h0m8-3h0m-12 25h0m-12 13h0m-6-12h0m-6 2h0m-5-5h0m0-2h0m-9 14h0m-2-15h0m-2 13h0m-1-9h0m-3-1h0m-1-2h0m-5 20h0m0-8h0m-2 9h0m0-9h0m0 5h0m-4-17h0m-1 6h0m-1 6h0m-3 0h0m-3 3h0m-1-7h0m-1 0h0m-1 1h0m-8-2h0m-9 14h0m-13 0h0m-44 24h0m35-6h0m2-14h0m7 17h0m1-15h0m1 18h0m6-10h0m14 2h0m1-14h0m7 8h0m1-6h0m0 3h0m0 5h0m4 9h0m0 3h0m5-20h0m5 1h0m3 0h0m2 13h0m-11 19h0m-1-6h0m-11 4h0m-1 0h0m-2-5h0m-2 4h0m-3-7h0m-1-1h0m0 12h0m-2-7h0m-1 9h0m-1-4h0m-1 5h0m-4-1h0m-2-7h0m-9-1h0m0-1h0m-1 3h0m0-8h0m0 14h0m-1-11h0m-2 5h0m-2 8h0m0 6h0m-4 0h0m-6-12h0m-1-1h0m-4 2h0m-2 6h0m-3-3h0m-2-4h0m-1 6h0m-27 2h0m-28-5h0m-20 23h0m36 4h0m11 5h0m3-14h0m6 8h0m3 0h0m12 1h0m5-10h0m2 11h0m1 4h0m0-13h0m2 10h0m0-12h0m4-3h0m1 15h0m3-4h0m1 4h0m4 2h0m2-20h0m5 3h0m5 8h0m6-11h0m5 8h0m1-4h0m7 10h0m27-14h0m-48 31h0m-14-5h0m-10 4h0m-2 7h0m0-1h0m-6 0h0m0-8h0m-13 12h0m-2-13h0m-7 7h0m0 1h0m-2-8h0m-6 14h0m-2 3h0m-2-12h0m-10 6h0m-14-4h0m-20 34h0m1 2h0m6-3h0m4-13h0m5 5h0m8 0h0m5 12h0m0-12h0m8 5h0m1-4h0m0-6h0m1 12h0m3-2h0m5-15h0m2 4h0m1 6h0m1-7h0m7 0h0m2-2h0m1 0h0m0 9h0m0-8h0m-6 23h0m-9 13h0m-8-15h0m-2 0h0m-4 16h0m-5 0h0m-3-12h0m0 6h0m-4-8h0m-4 12h0m-5 0h0m-1 3h0m-4-12h0m-1 7h0m-4 10h0m-43-9h0m-78 30h0m34-18h0m44 15h0m8-14h0m7 21h0m7-16h0m3-7h0m4 12h0m0-2h0m3 13h0m4-2h0m1-21h0m5 4h0m13 6h0m9-6h0m-35 24h0m-5-3h0m-1 4h0m-7 15h0m-14-5h0m-9 3h0m-6 5h0m0-16h0m-4 9h0m-4 6h0m-5-6h0m-8-1h0m-28-4h0m-2 32h0m5-6h0m28-7h0m17 8h0m2-3h0m30-6h0m-38 33h0m-10-2h0m-5-12h0m-8 17h0m-21 5h0m-54 4h0m12 0h0m11 21h0m44-17h0m7 6h0m-34 20h0m-9 10h0"/></g>
<g fill="none" stroke="#2eb446" stroke-width="11" stroke-linecap="round" stroke-opacity="0.1"><path d="M687 2060h0m-74 24h0m16-13h0m13 16h0m2-1h0m35-3h0m2 1h0m3-20h0m-7 36h0m-32 0h0m-3-7h0m-1 0h0m-2-2h0m-1 6h0m-3-8h0m-5 16h0m-1 2h0m-1 0h0m-2-1h0m-2-11h0m-9 4h0m-39 31h0m15 3h0m3-10h0m6-4h0m1-6h0m1 11h0m3 5h0m1-15h0m0 6h0m11 9h0m3-14h0m4 4h0m-22 18h0m-9 3h0m-4 5h0m-4 2h0m-3-4h0m-3 15h0m-1 0h0m-7-16h0m-15 11h0m-9 5h0m-14-1h0m6 24h0m5-9h0m7-3h0m1 13h0m4-16h0m2 15h0m90-20h0m27 19h0m-85 15h0m-50-3h0m0 1h0m0 14h0m-5-10h0m-1 6h0m-5-2h0m-6 1h0m-2-11h0m-4 9h0m-1-14h0m-2 13h0m-2 4h0m-8-2h0m-3 0h0m-7 3h0m-1-1h0m-13 22h0m6 5h0m11-3h0m4 0h0m4-6h0m3 0h0m49-9h0m62-3h0m-37 43h0m-7-11h0m-76-8h0m0 6h0m-9-1h0m-12 5h0m-2 0h0m-6 1h0m-7 1h0m0 7h0m-5-12h0m-8 1h0m-28 29h0m19 4h0m1-14h0m3 9h0m2 4h0m11-11h0m1-6h0m2 5h0m7-4h0m0 11h0m4-4h0m4-6h0m77 39h0m-45-3h0m-59-12h0m-1 18h0m-9 1h0m0-21h0m-5 20h0m-1 3h0m-1-3h0m-2-14h0m-7 11h0m-21-1h0m-20 26h0m2 3h0m0 0h0m2 1h0m2 0h0m3-1h0m5 2h0m1-9h0m5-3h0m1 7h0m2-2h0m1-3h0m2-2h0m1 5h0m2-2h0m2-11h0m1 10h0m6-3h0m23 1h0m71 3h0m-117 16h0m-47 25h0m37-3h0m16 7h0m54-6h0m-43 31h0m-33-3h0m-2 7h0m-25 0h0m-75 12h0m79 6h0m-116 60h0m43-22h0m0 16h0m3 13h0m-19 12h0m-14-2h0"/><path d="M628 2086h0m13-1h0m4-6h0m62-10h0m4 1h0m4 29h0m-41-10h0m-29 5h0m-2-4h0m-12 11h0m-6-12h0m-16 4h0m-1 17h0m-9-4h0m-10 20h0m5-12h0m12 20h0m26 11h0m-25 0h0m-7-3h0m-8 6h0m-1-5h0m-6-7h0m-7 1h0m-1 17h0m-4-10h0m0 4h0m-5 3h0m-56 29h0m5 2h0m23-7h0m2-4h0m17 7h0m4-6h0m1-2h0m8-7h0m51 0h0m18 0h0m-63 29h0m-16 11h0m-13-2h0m-8-3h0m-11-2h0m-8-11h0m-1 13h0m-4 0h0m-1-10h0m-7 13h0m-1-6h0m-9 17h0m2 12h0m0 1h0m7 0h0m27-13h0m10 0h0m-53 40h0m-4-7h0m-16-5h0m-7 4h0m-2 0h0m0 6h0m-3 5h0m-44 22h0m17-1h0m9-11h0m16 9h0m0-5h0m3-8h0m3 9h0m3-6h0m61 0h0m38 22h0m-108-6h0m-2 13h0m-6-3h0m-8 2h0m-6-5h0m-1-2h0m-3 18h0m-3-20h0m-8-2h0m-3 10h0m-2 8h0m-2-10h0m-1-5h0m-3 16h0m-26 6h0m2 4h0m2 14h0m1-6h0m3 2h0m1 7h0m8-5h0m1-3h0m6 5h0m7-5h0m0 0h0m2 0h0m6-14h0m9 14h0m50 1h0m-33 22h0m-29 6h0m-2-17h0m-17 7h0m-6-5h0m-1-2h0m-2-1h0m-3 17h0m-1-19h0m44 25h0m6 19h0m-45 27h0m-31 0h0m-18-23h0m-38 21h0m-7 25h0m109 16h0m-104 0h0m0-5h0m-8 8h0m-29 5h0m15 16h0m15-4h0"/><path d="M622 2078h0m3-8h0m5 12h0m7 2h0m33-13h0m24 40h0m-91-21h0m-2 15h0m-31 24h0m8-7h0m1 8h0m18-6h0m1-11h0m3 16h0m2-11h0m0 17h0m4-15h0m1 4h0m6 0h0m11 0h0m20 2h0m27-4h0m5-6h0m63-2h0m-135 42h0m-21-8h0m-4-1h0m-20 2h0m-40 32h0m12 0h0m2-2h0m13-11h0m2 7h0m5-8h0m3 16h0m0-5h0m7-4h0m2-8h0m1 8h0m0-6h0m4-3h0m3-4h0m12 27h0m-21-1h0m-32 0h0m-4-3h0m0 8h0m-8 9h0m-7 3h0m-1-13h0m0 6h0m-10 21h0m11 4h0m2 7h0m10-20h0m44 12h0m-27 14h0m-53 17h0m-12-13h0m-2 3h0m-2 7h0m-61 25h0m11-5h0m9 7h0m4 2h0m13-19h0m1 13h0m7-13h0m4 9h0m8-2h0m-24 16h0m-1-1h0m-17 15h0m-5 4h0m-4-1h0m-4 4h0m-15-4h0m-4 1h0m-7 26h0m3 1h0m5-6h0m4-11h0m1 11h0m2-8h0m0 5h0m0-7h0m2-5h0m1 9h0m1-11h0m12 0h0m15 3h0m39 19h0m-32 20h0m-16-6h0m-4 5h0m-8-15h0m-8 19h0m-3-14h0m-2 1h0m-1-4h0m-6-3h0m-4 2h0m-3-3h0m-45 24h0m47 37h0m-13-12h0m-53 21h0m-1 17h0m3 2h0m28-13h0m9 6h0m31 1h0m-100 21h0m-56 31h0m27-11h0m1 6h0m36 8h0m9-17h0m-64 42h0"/><path d="M633 2083h0m8 1h0m7 1h0m27-7h0m42-5h0m11 23h0m-6 15h0m-70-22h0m-2 2h0m-18 6h0m-10-9h0m-5 13h0m-10-1h0m-19 35h0m0-4h0m5-8h0m2-1h0m14 1h0m5 4h0m3 4h0m8-7h0m95-11h0m-84 34h0m-48 5h0m-15-2h0m-14 4h0m-2 3h0m-21 6h0m4 6h0m8 4h0m0 2h0m3 6h0m4-6h0m5-9h0m5 3h0m14 2h0m81-1h0m42-4h0m-48 38h0m-3 3h0m-10-22h0m-83 8h0m-2-7h0m-25 16h0m-30 3h0m-5 0h0m-10-4h0m-7 24h0m4-12h0m1 5h0m3 10h0m2-6h0m1 0h0m5 7h0m3-12h0m0 6h0m5 3h0m6-11h0m15 6h0m3-12h0m13 5h0m28-5h0m-8 32h0m-54-8h0m-23 4h0m-6 5h0m-5 8h0m-23-8h0m-26 30h0m17 4h0m13-3h0m0-8h0m2 4h0m9 1h0m2 1h0m2-8h0m21 3h0m-26 26h0m-9-1h0m-4-6h0m-2-5h0m-1 20h0m-8-18h0m-4 13h0m-2-3h0m-3-1h0m-1-2h0m-3 3h0m-1-2h0m-13 9h0m0-11h0m-6 13h0m-14-11h0m-8 33h0m7-11h0m3-3h0m3-2h0m4 13h0m1 6h0m0-12h0m3-6h0m1 9h0m2 3h0m2-13h0m4-3h0m6 5h0m3 9h0m5 0h0m7-7h0m23 10h0m53-7h0m-103 19h0m-5-2h0m-5-1h0m-7-1h0m-2 1h0m-3 3h0m-2 25h0m27 6h0m7 11h0m67-15h0m-106 19h0m-55 40h0m0-12h0m86-5h0"/><path d="M630 2074h0m2-2h0m2 5h0m19 23h0m-1-1h0m-2-10h0m-10 4h0m-12-5h0m-1 7h0m-2-4h0m-8 17h0m-3-4h0m-2 6h0m-27 17h0m8-2h0m1 2h0m5 3h0m7 5h0m14-17h0m119 15h0m-108 10h0m-3 1h0m-28-6h0m-10 1h0m-5 8h0m-3-3h0m-3 1h0m-1 1h0m-1 0h0m-1 12h0m-4-6h0m0-13h0m0 20h0m-14-11h0m-17 29h0m2-3h0m2 3h0m1-6h0m10 6h0m2-15h0m7 20h0m0-2h0m8-4h0m0-8h0m16-4h0m25 16h0m32-2h0m4 15h0m-95 1h0m-3 3h0m-6-4h0m-1 5h0m-1-12h0m-4 0h0m-3 15h0m-7 5h0m-8-11h0m-27 3h0m-18 19h0m1 9h0m5-12h0m0 12h0m2 2h0m6 2h0m0-9h0m2 1h0m1 1h0m12-13h0m11 5h0m16-1h0m91-2h0m-118 26h0m-1-4h0m-3 6h0m-3 10h0m-4-16h0m-6 1h0m-2 3h0m0 4h0m-7-6h0m-1 7h0m-2 0h0m-2-4h0m0 16h0m-1-5h0m-3-6h0m-47 34h0m10-3h0m4-2h0m1-14h0m3 13h0m1 5h0m2-4h0m2-10h0m3 8h0m11-2h0m9-7h0m1-3h0m0 17h0m4-13h0m-10 18h0m-7 10h0m-6 2h0m-2-8h0m-1-1h0m-10 5h0m-3-3h0m-2 7h0m-2-4h0m-6 6h0m-5 2h0m-5-7h0m-2 0h0m-4 2h0m-1 10h0m-2-7h0m-1 5h0m-25 22h0m5 3h0m1 2h0m1-2h0m4 1h0m3 1h0m0-7h0m1 0h0m1-2h0m5 5h0m4-16h0m10 5h0m122 3h0m-70 34h0m-20-17h0m-36 8h0m-4-3h0m-3-9h0m-9 6h0m-1-5h0m-2 0h0m-18 9h0m-16 29h0m-55 41h0m31-4h0m-45 26h0m-31 32h0m31-2h0m-31 14h0"/><path d="M627 2082h0m63-2h0m-12 11h0m-14-2h0m-10 0h0m-3 3h0m0 12h0m-1-2h0m-11 0h0m-1-4h0m-8 11h0m-4-13h0m-4 2h0m-8 24h0m0 11h0m21-20h0m10 0h0m36 29h0m-52 15h0m-25-1h0m-9-20h0m-8 4h0m-4 6h0m-12 12h0m-3-5h0m-23 0h0m-20 14h0m1 10h0m16-11h0m6 1h0m10 5h0m14-1h0m4 14h0m-23 10h0m-4-9h0m-10 16h0m-1-11h0m-9 6h0m-1 1h0m-7 0h0m-6 5h0m-42 27h0m14-15h0m5 5h0m1 8h0m3-8h0m4 10h0m6-5h0m7-10h0m1-2h0m1 9h0m0 5h0m6-19h0m6 1h0m-8 40h0m-35-17h0m0 5h0m-1 6h0m-4 4h0m0 7h0m-1-5h0m-1-15h0m-2 1h0m-10-3h0m-16 18h0m-24 14h0m2 2h0m3 6h0m14-13h0m6 10h0m8 6h0m0-1h0m0-2h0m3-14h0m13-2h0m1 9h0m2-7h0m2-2h0m-20 25h0m-2 5h0m-17-6h0m-3 1h0m-5 22h0m-3-19h0m-3 10h0m-1-8h0m-2 1h0m-1 15h0m-2-9h0m-1-2h0m-10-11h0m-23 38h0m1 5h0m2-1h0m3 0h0m12 0h0m3-8h0m4 2h0m4 11h0m1-16h0m3-5h0m3 10h0m2 3h0m-18 16h0m-3-3h0m-2 1h0m-1-5h0m-1 22h0m-4-17h0m-2 1h0m-38 9h0m-1 30h0m30-17h0m0 3h0m67-3h0m-39 27h0m-17 12h0m-56-11h0m5 24h0m-20 19h0m-10-3h0m-63 16h0m-4 1h0m47 20h0m6-3h0m-12 16h0m-28 5h0"/><path d="M622 2064h0m8 21h0m16 2h0m28-6h0m-31 10h0m-7-2h0m-1 2h0m-2 7h0m-1-5h0m-5-2h0m-3 12h0m0-9h0m-7 0h0m-5 4h0m-16 13h0m-20 16h0m13 4h0m6-8h0m4 1h0m5 4h0m14-12h0m5 19h0m2-8h0m3-13h0m17 6h0m13 0h0m5-2h0m26 26h0m-98 5h0m-5 9h0m-7-2h0m0-6h0m-2 4h0m-13-3h0m-2 7h0m-24 24h0m11-22h0m3 13h0m0 8h0m8-16h0m4-1h0m7-3h0m33 4h0m7 18h0m13-2h0m19 7h0m-84 12h0m-3-15h0m-16 1h0m-9 16h0m-3 2h0m-2-12h0m-4 14h0m-3-20h0m0 17h0m-1-18h0m0 17h0m-13 5h0m-13-3h0m-30 18h0m10-5h0m6 14h0m1-1h0m14-15h0m36-6h0m44 5h0m-90 29h0m-4 2h0m0 9h0m-2-18h0m-6 15h0m-2-1h0m-4 1h0m-1-15h0m-14 14h0m-17 17h0m1 11h0m5-15h0m4 8h0m2-2h0m2 2h0m0-5h0m4-6h0m0 13h0m8-11h0m1 4h0m14 13h0m-16 3h0m-15 5h0m-17 2h0m-2 4h0m-7-6h0m-1 0h0m-29 40h0m2-16h0m0 14h0m2-6h0m2 3h0m0-18h0m5 9h0m2 6h0m2 1h0m0 6h0m1-17h0m1 10h0m1-7h0m1 15h0m2-17h0m4 5h0m9-3h0m30 4h0m-48 23h0m-4 1h0m-5-12h0m0 6h0m-4-5h0m-2-1h0m-1 0h0m-26 37h0m42-3h0m11 12h0m7-5h0m47 5h0m-79 19h0m-17-4h0m-1-10h0m-10 2h0m-35 27h0m118 3h0m-145 33h0m-27-1h0m-44 21h0m56-16h0m20 1h0m-38 34h0m-21-5h0m-8 11h0"/><path d="M663 2086h0m9-11h0m5-3h0m-24 22h0m-1-4h0m-3 11h0m-9-12h0m-11-1h0m-9 19h0m-7-4h0m-13 3h0m-17 27h0m3 0h0m11-16h0m3 16h0m3-18h0m6 3h0m8-6h0m5 1h0m14 2h0m21 6h0m12 16h0m-1 7h0m-66 5h0m-9 6h0m-7-1h0m-3-13h0m-13 9h0m-4 7h0m0-17h0m-8 18h0m-4-11h0m-17 32h0m4-13h0m2 3h0m1 0h0m3 9h0m2-12h0m7 11h0m2 3h0m8-18h0m1 0h0m20 24h0m-37 2h0m-11 6h0m-2 1h0m-1 0h0m-1-2h0m-7 4h0m0-6h0m-25 15h0m-10-7h0m-29 28h0m18 1h0m10 2h0m4-3h0m3-7h0m0-1h0m1 0h0m0-8h0m1 13h0m3 5h0m2-7h0m1-3h0m16-7h0m28-2h0m5 10h0m-67 35h0m0-19h0m-4-2h0m-1 3h0m-13 15h0m-3-9h0m0 7h0m-24 0h0m-10 20h0m16 8h0m1-5h0m1-12h0m9 0h0m10 7h0m5 7h0m2-15h0m-23 20h0m-8 8h0m-4 13h0m0-18h0m-12 19h0m-11-5h0m-2 4h0m-6-1h0m-5-12h0m-5 4h0m-17-5h0m-8 22h0m11 9h0m25-2h0m9-4h0m3-2h0m9-4h0m4 8h0m4-6h0m14 10h0m142-11h0m-97 28h0m-88-2h0m-10-4h0m-5 5h0m-6-4h0m-3 11h0m-24 32h0m7 1h0m23-20h0m83 14h0m6 18h0m-90 2h0m-6-6h0m-52 14h0m-50 21h0m24-11h0m20 10h0m2 2h0m13-6h0m38-3h0m3 11h0m65-19h0m-133 30h0m-2 3h0m-27 11h0m0-16h0m-8 8h0m-7 8h0m-30 15h0m10 5h0m55-17h0m-52 37h0"/><path d="M686 2055h0m-56 20h0m8 11h0m3-2h0m63-7h0m31 9h0m-18 21h0m-55-5h0m-12-5h0m-3-7h0m-11 15h0m-19-13h0m0 5h0m-11 4h0m-41 33h0m3 1h0m15-6h0m1 1h0m1-2h0m12-3h0m25-6h0m-9 31h0m-7-9h0m-1-1h0m-8-3h0m-8 17h0m-19-9h0m-4 8h0m-32 17h0m3 6h0m7 6h0m4-19h0m14 0h0m0 17h0m3-16h0m12 13h0m10-4h0m8-4h0m17-7h0m9 6h0m-9 30h0m-60-12h0m-12 9h0m-1-8h0m-1 13h0m0-11h0m-4 8h0m-6-1h0m-2-2h0m-12 7h0m-3-4h0m-9 7h0m-5-2h0m-22 19h0m14-1h0m1-2h0m2-8h0m4 1h0m0 11h0m2-4h0m4-7h0m16 0h0m1 12h0m58-10h0m9 2h0m-49 20h0m0 17h0m-17-16h0m-11-3h0m-14 0h0m-9 21h0m-4-16h0m-2 17h0m-4-18h0m-1 7h0m-3 10h0m-1-17h0m0 7h0m-43 27h0m0 1h0m3-2h0m14 5h0m6-9h0m1 4h0m2-7h0m14-2h0m2 2h0m1-1h0m2-6h0m0 20h0m10-20h0m-4 34h0m-21-2h0m-10 11h0m-2-13h0m-11 8h0m0-11h0m-2 14h0m-5-5h0m-9-8h0m-2 10h0m-18-2h0m-18 23h0m7 11h0m8 0h0m3 0h0m3-11h0m3 6h0m2-11h0m0-5h0m1 9h0m1-1h0m3 3h0m1-10h0m34 2h0m18 1h0m-49 22h0m-9 5h0m-8-6h0m-9 0h0m-27 43h0m16-5h0m36-8h0m13 9h0m13-3h0m-87 24h0m-22-2h0m-20 9h0m58 16h0m-138 41h0m52 20h0m-19 10h0m-15 3h0"/><path d="M699 2059h0m-72 23h0m20 1h0m2 13h0m-22-3h0m-3 11h0m-10 2h0m0-5h0m-1 0h0m-9 4h0m-25 21h0m0-5h0m9-2h0m1 6h0m1 10h0m6-11h0m4 8h0m6-11h0m18 13h0m81-5h0m-56 9h0m-61 0h0m-8 3h0m-4 18h0m-9-9h0m-16 4h0m-1 9h0m0 12h0m3-6h0m5-6h0m2 6h0m1 8h0m2-9h0m8 5h0m14 8h0m37-21h0m-61 37h0m-19-9h0m-2-4h0m-5 22h0m-14-12h0m-2-1h0m-2 14h0m-8-1h0m-1 1h0m-5-23h0m-8 20h0m-10 26h0m1-7h0m2 8h0m22-21h0m5 0h0m1 6h0m0 6h0m9-3h0m3 1h0m101 8h0m-29 5h0m-106 13h0m-4-2h0m-22 10h0m-3-6h0m0 1h0m-1-13h0m-7-1h0m-14 13h0m-27 10h0m17 14h0m10 6h0m7-16h0m6 12h0m0-3h0m5-1h0m5-14h0m5 5h0m5 2h0m10-5h0m59-2h0m2 4h0m-64 36h0m-3 6h0m-31-13h0m-3 4h0m-1 7h0m-2-9h0m-2-5h0m-1-1h0m-3 4h0m0 1h0m-1 12h0m-16-19h0m-38 37h0m2 3h0m3 4h0m4-5h0m1-8h0m1 2h0m2-7h0m3 6h0m1 2h0m2-5h0m1 7h0m2-13h0m1 9h0m3-8h0m1 1h0m6-3h0m1 2h0m0-3h0m2 2h0m10-1h0m82 5h0m11 24h0m-50 11h0m-66-3h0m-1-10h0m-1 5h0m-7-3h0m-3 0h0m-10 29h0m74 1h0m69-6h0m-177 25h0m-9 15h0m-6 6h0m12-3h0m7 14h0m-57 30h0m-3 4h0"/><path d="M695 2062h0m-59 20h0m2 2h0m7-2h0m3 1h0m3 3h0m1 16h0m-14-8h0m-7 10h0m-2-1h0m-1-6h0m-3 3h0m-1-8h0m-6 16h0m0-5h0m-39 28h0m6-13h0m0 16h0m19-22h0m2 16h0m25 3h0m-23 8h0m-13 7h0m-9-4h0m0-1h0m-8 15h0m-3-13h0m-3 7h0m-6 8h0m0-12h0m-7 13h0m-29 21h0m29-7h0m22-9h0m26-4h0m43 3h0m-64 24h0m-30 5h0m-8-7h0m-8 13h0m-13-13h0m-4 16h0m-3 5h0m-6 0h0m-3-5h0m-38 24h0m21-8h0m4 12h0m12-2h0m9-3h0m5 1h0m9-3h0m-34 11h0m-16 12h0m-6-6h0m-2-3h0m-7 13h0m-11 1h0m-15 4h0m-11 15h0m6-5h0m2 15h0m4-2h0m2 0h0m1-17h0m2-2h0m3 20h0m2-11h0m7 7h0m1-11h0m0 2h0m1-5h0m3 10h0m1-6h0m2 9h0m10-5h0m7-7h0m11 17h0m-32 24h0m-9-22h0m-1 22h0m-13-9h0m-3 3h0m-7-10h0m-1 7h0m-1-11h0m-1 9h0m-3 11h0m-9-2h0m-1 1h0m-5-14h0m-16 15h0m-2 1h0m-6 24h0m2-2h0m2-5h0m3 4h0m3 3h0m2-3h0m2-19h0m3 8h0m8 7h0m0-8h0m6 5h0m10 3h0m38-8h0m-59 22h0m-4 7h0m-2 2h0m0-5h0m-2-7h0m-2-1h0m-2 1h0m-2 1h0m-3-4h0m-28 26h0m19 4h0m18-5h0m52 2h0m-23 42h0m-107 23h0m4-10h0m8 1h0m14 2h0m89-5h0m-131 49h0"/><path d="M684 2059h0m30 31h0m-65-2h0m-4 4h0m-4 1h0m-18 10h0m-9 6h0m-16 2h0m-23 22h0m6 0h0m9 1h0m9-11h0m8-3h0m10-2h0m5-3h0m0 19h0m-20 9h0m-15-5h0m-2 1h0m-1 0h0m-8 18h0m-1-7h0m-4 8h0m-4 1h0m-45 9h0m4 7h0m8-13h0m10 15h0m2-6h0m2-5h0m1 17h0m5-4h0m7-15h0m5-2h0m4 1h0m64 1h0m50 0h0m-24 27h0m-76 8h0m-46-9h0m-11 15h0m-5-3h0m-2-8h0m-1 7h0m-7-2h0m-23 31h0m16-2h0m1-2h0m4-3h0m9-4h0m2 12h0m4-21h0m9 4h0m11 6h0m4 8h0m44 15h0m-71-11h0m-8 8h0m-29 7h0m-5-8h0m-5 12h0m-8-1h0m0 2h0m-2 2h0m-3 0h0m-34 22h0m5-2h0m10-8h0m13 0h0m16-10h0m19 23h0m8-18h0m-41 36h0m0-17h0m-14 0h0m-1 12h0m-13-4h0m-1-2h0m0 13h0m-1-14h0m-5 15h0m0-17h0m-25 14h0m-15 22h0m1 1h0m4-2h0m2 2h0m0-11h0m1 3h0m2-2h0m2-4h0m1 15h0m5 4h0m15-17h0m4 3h0m1-1h0m1 0h0m111-4h0m-78 35h0m-18 7h0m-24-2h0m-14-11h0m-2-1h0m-2-5h0m-4 3h0m-5 14h0m-28 3h0m28 15h0m9 9h0m48 3h0m-147 45h0m72-9h0m6-7h0m4 4h0m-100 53h0m-5 17h0"/><path d="M698 2051h0m-8 5h0m-60 13h0m12 18h0m6-2h0m68-16h0m5 22h0m-72 3h0m-2 11h0m-5 3h0m-6-18h0m0 18h0m-8-10h0m-8-8h0m0 21h0m-48-14h0m-1 36h0m28-19h0m0-2h0m11 5h0m16 10h0m0-9h0m-2 26h0m-10 12h0m-24-3h0m-7-16h0m-2 11h0m0-10h0m-6 9h0m0-4h0m-3 12h0m-4-9h0m0-4h0m-3 11h0m-6-10h0m-1 13h0m-40 25h0m23-20h0m1 5h0m13 12h0m5-10h0m0-7h0m3 1h0m8 20h0m0-8h0m4-4h0m3-3h0m32 1h0m0 8h0m24-3h0m9 4h0m-35 17h0m-28 9h0m-8 4h0m-24-19h0m-12-2h0m-8 14h0m-40 6h0m-2 7h0m13 8h0m2-4h0m3-5h0m7-3h0m7 13h0m1-10h0m25 1h0m64 18h0m-87 21h0m-5-9h0m-18-10h0m-8 15h0m0-9h0m-5-1h0m-11 13h0m-6-2h0m-1 4h0m-2 0h0m-2-6h0m-7 32h0m1-7h0m1 4h0m4-8h0m0 1h0m9-5h0m31 20h0m-59 3h0m-1-5h0m-4 1h0m-3 3h0m-2 12h0m-4 4h0m0-6h0m-1 3h0m-2-5h0m-1 5h0m-1-13h0m-1 13h0m-2-19h0m-11 10h0m-4 5h0m-3-3h0m-1-12h0m-19 37h0m4 0h0m1 6h0m2-6h0m0-12h0m1 8h0m0 7h0m0 3h0m1 3h0m4-22h0m0 12h0m4-2h0m1 11h0m0-4h0m2 0h0m4-4h0m1 0h0m1-6h0m1-2h0m0 3h0m3 0h0m2 10h0m9-1h0m50-1h0m68-16h0m-117 43h0m-31-16h0m-3 18h0m24 10h0m-28 36h0m-81 14h0m64-1h0m-46 23h0m-87 9h0m67 28h0"/><path d="M645 2080h0m5 26h0m-11-12h0m-6-3h0m-5 3h0m-3 4h0m0 5h0m-2 5h0m-9-13h0m-1 9h0m-2 4h0m-5-4h0m-11 24h0m8-5h0m3 0h0m1-9h0m0 16h0m3-9h0m21-3h0m35 8h0m-55 22h0m-9-1h0m-16-2h0m-3-7h0m-2 14h0m-4-12h0m-6 18h0m-1-22h0m-8 10h0m-3 9h0m-4-2h0m0-4h0m-2-3h0m-3 5h0m-8 5h0m-1 17h0m12-2h0m2 6h0m8-8h0m1-6h0m-3 22h0m-10 4h0m-11-2h0m-4 5h0m-13 6h0m-30 3h0m-17 28h0m10-4h0m8-1h0m6-12h0m14 17h0m5-14h0m5 0h0m9-1h0m4 16h0m131 24h0m-158-11h0m-19 3h0m-1-9h0m-1 8h0m-4-11h0m-3 4h0m-3 3h0m0 5h0m-5 3h0m-2 4h0m-1-4h0m-1-15h0m-2 16h0m-1-8h0m-13 0h0m-1 5h0m-36 26h0m27 4h0m3-6h0m3 4h0m1-6h0m7 3h0m0-4h0m4-11h0m7 9h0m12-10h0m4 3h0m1 6h0m11 14h0m103-10h0m-67 16h0m-18 6h0m-75-4h0m-4 2h0m-1 11h0m-4-7h0m-6 2h0m-27-8h0m-12 35h0m0-9h0m2 8h0m6-5h0m1-4h0m3-6h0m3 9h0m4 10h0m0 0h0m6-1h0m2-15h0m2 18h0m2-15h0m2-4h0m1 7h0m23-9h0m4 1h0m24 27h0m-25 4h0m-24-10h0m-8 6h0m-11 14h0m0-13h0m-10-3h0m-2-4h0m-1 1h0m-7 11h0m-12 1h0m-9 20h0m13-4h0m2 4h0m3 13h0m20-16h0m119 3h0m-188 31h0m-33 10h0m111 1h0m-87 32h0m-22 6h0m-5 5h0m-49 21h0m60-8h0m-12 26h0m-25-8h0m-31 6h0"/><path d="M634 2086h0m8-9h0m11 15h0m-6 14h0m-1-12h0m-3 2h0m-7-4h0m-3 8h0m-6-12h0m-4 3h0m0 16h0m-1-11h0m-2 10h0m-2 1h0m-14-19h0m-3 23h0m-5 0h0m-13 21h0m2 2h0m12-3h0m1-2h0m0 1h0m1-17h0m47 38h0m-44-2h0m-4-1h0m-3-6h0m-16 5h0m-9-5h0m0 6h0m-7 8h0m-3-17h0m-27 41h0m10 2h0m0 0h0m1-11h0m5-2h0m13 7h0m2 1h0m1-14h0m8-2h0m65 15h0m-10 13h0m-54 1h0m-27-5h0m-15-1h0m-13 5h0m-10 13h0m-4 5h0m-7-1h0m-28 18h0m11 7h0m6-2h0m0-3h0m4 3h0m2-7h0m1 9h0m7-5h0m0-8h0m2-6h0m5 3h0m0 10h0m2-4h0m8-8h0m8-3h0m3 5h0m9 0h0m48 19h0m-63 2h0m-5 12h0m-6-7h0m-5-8h0m-16 9h0m-8-1h0m-3-5h0m-5 12h0m-2-2h0m-2 0h0m-3-4h0m-1 1h0m-3-7h0m-5 18h0m-7-2h0m-32 23h0m17-9h0m2 11h0m3-3h0m2-16h0m9 3h0m6 9h0m4-14h0m3 4h0m2-2h0m2 8h0m92 2h0m-63 15h0m-23 16h0m-27-12h0m-14-5h0m-6 1h0m-4-3h0m-13 19h0m-21 4h0m-9 19h0m1-12h0m1 5h0m2 4h0m6-1h0m1-6h0m0-2h0m2-3h0m4 17h0m3-13h0m4-5h0m0-2h0m0 16h0m0-8h0m1 2h0m0-8h0m3 0h0m4 4h0m21 0h0m56 3h0m10-4h0m-57 23h0m-100 31h0m10-5h0m14 11h0m66-15h0m41 0h0m21 4h0m-54 18h0m-123 43h0m23 1h0m-93 75h0"/><path d="M630 2083h0m7 0h0m4 3h0m4-3h0m58 25h0m-48-1h0m-8-18h0m-1 7h0m-14 6h0m-5 3h0m-4-3h0m-1 8h0m-9-9h0m-61 33h0m15-9h0m9 10h0m13-13h0m12 5h0m7-13h0m7 10h0m9 1h0m55-7h0m5-3h0m-86 23h0m-2 9h0m0 5h0m-5-16h0m-7 22h0m-14-1h0m-8 2h0m-1 0h0m-34 21h0m5-12h0m19 10h0m2-8h0m4 4h0m8-14h0m0 21h0m22-7h0m98 17h0m-96-5h0m-37 6h0m-1 1h0m-8 7h0m-3-16h0m-6 19h0m-17 0h0m-10-4h0m-2 2h0m-19 30h0m2 0h0m1-8h0m7-9h0m3 5h0m1 9h0m0-2h0m3-4h0m4 2h0m4-11h0m6 0h0m8-1h0m3-2h0m36-1h0m27 0h0m-73 23h0m-10 3h0m-11 4h0m-14 7h0m-1-3h0m-1-8h0m-7 5h0m0 3h0m-7 1h0m-6 10h0m-8-13h0m-8 37h0m2-6h0m4 2h0m0-2h0m1-4h0m4 1h0m16 3h0m5-13h0m-23 27h0m-7 5h0m-3 3h0m-5-13h0m-11 1h0m0 3h0m-3 11h0m-4-5h0m-1 1h0m-1 11h0m-1-3h0m0-20h0m-4 8h0m-21 13h0m-9 16h0m1 7h0m5-9h0m0-4h0m2 15h0m10-20h0m3 1h0m2 19h0m2-18h0m2 6h0m2-6h0m19 0h0m59 4h0m-74 22h0m-5 6h0m-17-2h0m-10 7h0m4 7h0m14 0h0m-14 32h0m-37-5h0m-29 31h0m12 9h0m67 0h0m-19 10h0m-96 0h0m-8 12h0m11 38h0m-6 2h0"/><path d="M617 2081h0m21 3h0m36-6h0m35-3h0m5 31h0m-68-7h0m-6-5h0m-13 5h0m-8-3h0m-9 12h0m-12 17h0m0-9h0m3 15h0m7-6h0m6-10h0m7 3h0m2 4h0m83-4h0m-75 27h0m-30 6h0m-5-8h0m-15 12h0m-3-11h0m-1-2h0m-1 0h0m-5 11h0m-2-12h0m-6-2h0m-32 27h0m0 14h0m12-12h0m2 8h0m3-14h0m3 9h0m12-5h0m2 16h0m2 8h0m-14 14h0m-3-14h0m-1-3h0m-18 10h0m-5 9h0m-4-2h0m-6-10h0m0 12h0m-1-5h0m0-9h0m-2 13h0m-1 0h0m-7 0h0m-23-10h0m3 29h0m4 5h0m17-18h0m3-2h0m2 6h0m4 0h0m7 6h0m0-8h0m2 2h0m45 25h0m-75-8h0m-2 6h0m-10 7h0m-1-12h0m-2 14h0m-1 8h0m-3-4h0m0-14h0m-7 6h0m-9 5h0m-6 2h0m-20 27h0m8-16h0m2 18h0m1-11h0m6 10h0m0 1h0m2-6h0m1-12h0m1-5h0m4 12h0m3-3h0m2 1h0m30 20h0m-35-5h0m-18 12h0m-9-13h0m-4 9h0m-1 12h0m-1-11h0m-1 0h0m-3 5h0m-2 5h0m-1-6h0m-5 8h0m-2-11h0m-9 8h0m-9 4h0m-8 21h0m2 3h0m2 0h0m0-8h0m5-12h0m0 10h0m3 9h0m1-3h0m0-12h0m1 3h0m3 5h0m2-12h0m1 18h0m3-21h0m7 16h0m3-15h0m4 0h0m5 20h0m61-3h0m-12 21h0m-65-12h0m-3 3h0m-14 0h0m-51 37h0m117-5h0m2-10h0m62 9h0m-134 32h0m-19-11h0m-47 3h0m-45 13h0m39 13h0m49-12h0m-52 39h0m-19 2h0m-32-13h0m-12 8h0m30 18h0m8 11h0m-19 21h0m-12-11h0"/><path d="M624 2086h0m11-10h0m75 4h0m-59 10h0m-1 1h0m-5 1h0m-3 7h0m-15-8h0m-1 0h0m-2 16h0m-5 4h0m0-17h0m-1 7h0m-12 6h0m-19 27h0m2-7h0m2 0h0m8 1h0m2-5h0m7 3h0m3-14h0m115 0h0m-150 45h0m-3-12h0m-1 0h0m-1 10h0m0-7h0m-49 34h0m22-4h0m6-13h0m0 15h0m3-13h0m1 6h0m2 10h0m4-15h0m136 0h0m-138 20h0m-3 5h0m-11-7h0m0 9h0m-1-3h0m-18 14h0m-3-13h0m-1 2h0m-16 0h0m-7 11h0m-16 17h0m6-10h0m3 12h0m13-11h0m0 7h0m5-9h0m18 1h0m3-3h0m0-2h0m9 46h0m-38-21h0m-1 8h0m-2-8h0m-10 7h0m-5 14h0m0-11h0m-1 2h0m-1 2h0m-4-8h0m-18 12h0m-1 1h0m-32 15h0m11 9h0m3 3h0m2-2h0m0-14h0m4 6h0m2 6h0m0 1h0m0 3h0m0-5h0m5-14h0m3 6h0m4 7h0m3-14h0m5-1h0m9 2h0m6 14h0m54 14h0m-42 1h0m-43-8h0m-3 9h0m-6 6h0m-4-2h0m-6-12h0m-2 12h0m0-10h0m-3 2h0m-1 12h0m-2 3h0m-4-16h0m-1 11h0m-3 0h0m-11 0h0m-5 4h0m-16 12h0m6-1h0m0 5h0m0-6h0m4 1h0m1-1h0m1 3h0m1-4h0m7 16h0m2-6h0m0-2h0m1 7h0m6-20h0m8 9h0m43 17h0m-47 2h0m-21 6h0m-4-7h0m-1-1h0m-5-2h0m-3 37h0m38-7h0m15-6h0m42 16h0m-35 27h0m-23-12h0m-34 8h0m-59 2h0m-10 24h0m-26 41h0m-19 27h0"/><path d="M643 2076h0m42 1h0m-37 20h0m-4 3h0m-11 4h0m-4 0h0m0 1h0m-2-15h0m-47 37h0m9-2h0m6 3h0m1-6h0m0-8h0m1 6h0m0 9h0m0-16h0m3 1h0m3 0h0m7 3h0m17 1h0m28-6h0m48 20h0m-106 12h0m-3 10h0m-1 1h0m-1-5h0m-7-8h0m0 6h0m-6-11h0m-3 8h0m-2 4h0m-4 8h0m-40 22h0m8-6h0m12 0h0m2-1h0m2-3h0m2-7h0m12 20h0m1-1h0m18 4h0m-48 12h0m-1-1h0m0-1h0m-1-9h0m-6 19h0m-13-16h0m-8 15h0m-43 18h0m4 9h0m11-2h0m10-2h0m2-7h0m3-4h0m2 7h0m2 6h0m2-13h0m9 6h0m1-5h0m29 7h0m-37 17h0m-12 12h0m-1-12h0m-6-6h0m-7 8h0m-3-7h0m0 10h0m-1-1h0m-3 8h0m-3-16h0m-6 18h0m-6 0h0m-32 23h0m17-2h0m6-2h0m2-18h0m2 3h0m1 19h0m5-14h0m1 12h0m2 2h0m4-12h0m1-5h0m2-5h0m21 4h0m42-4h0m-23 27h0m-39 20h0m-19-14h0m-13-1h0m-12 11h0m-4-6h0m-4-8h0m-1 0h0m0 13h0m-4-5h0m-17-5h0m-22 24h0m10 7h0m2-12h0m4 11h0m0-10h0m0 12h0m4-14h0m1 9h0m4 10h0m2-1h0m3 0h0m1-9h0m5-10h0m4 12h0m0-8h0m12 6h0m0-2h0m121 37h0m-109-6h0m-25-14h0m-9 7h0m-1 25h0m-40 28h0m-2-7h0m-13 11h0m-3-1h0m-10 14h0m-99 50h0m13 11h0m41-14h0m-39 28h0m-14-8h0"/><path d="M641 2084h0m1 0h0m35-10h0m-41 32h0m-9-8h0m-3-1h0m-4 2h0m-3 7h0m-23 3h0m-10 16h0m0 7h0m12-3h0m9-14h0m3 17h0m3-1h0m6-11h0m1-7h0m10 12h0m24 17h0m-8 15h0m-23-15h0m-2-4h0m-28 11h0m-5 0h0m-5 7h0m-4-7h0m-15 8h0m-30 18h0m1 8h0m4-7h0m2 5h0m0-8h0m11 1h0m1-14h0m6 13h0m8 4h0m8-2h0m10-12h0m3 33h0m-15 2h0m-2 5h0m-6-1h0m-21-6h0m-2-5h0m-3 11h0m-1-6h0m-13-6h0m-3 13h0m-2 1h0m-6-1h0m-2-4h0m-5 7h0m-46 20h0m9-11h0m11 15h0m22-19h0m1 8h0m2 6h0m20 2h0m1-16h0m4-2h0m12 5h0m48 40h0m-41-18h0m-49-4h0m-15 17h0m-14-10h0m-2 16h0m-3-1h0m-3 0h0m-1-7h0m-5 4h0m-24 23h0m5 1h0m7-2h0m4 2h0m1-6h0m2-9h0m1 4h0m2-4h0m0 10h0m3-10h0m3 10h0m4-7h0m5-2h0m8 1h0m54 21h0m-64 16h0m-21-17h0m-2 2h0m-1 9h0m-4-5h0m-5 1h0m-2 11h0m-5-12h0m-2 5h0m-3 7h0m0-4h0m0-8h0m-1 11h0m-2-4h0m-36 27h0m1-2h0m4-6h0m1 11h0m1-11h0m1 1h0m4-7h0m0 11h0m2 6h0m0-6h0m1 7h0m0-18h0m3 17h0m1-18h0m3 18h0m6-5h0m3-12h0m15-4h0m1 4h0m30 11h0m14 12h0m-24-3h0m-12 20h0m-42-19h0m0 1h0m-2-2h0m-3 1h0m-4-1h0m-39 37h0m35 7h0m2 27h0m-20-22h0m-2 7h0m-41 15h0m79 15h0m-129 31h0m-1 0h0m0 5h0m-34 37h0"/></g>
<g fill="none" stroke="#2eb446" stroke-width="11" stroke-linecap="round" stroke-opacity="0.15"><path d="M446 2286h0m0 1h0m-2-4h0m-8 12h0m-1 1h0m-3 4h0m-3 2h0m-8-1h0m-33 26h0m10-4h0m1-6h0m3 5h0m7 5h0m1-6h0m1-14h0m0-3h0m2 22h0m3-2h0m0 1h0m1-9h0m3 3h0m2 2h0m0 4h0m2-9h0m1-4h0m4 4h0m1-12h0m0 18h0m0-2h0m2-15h0m1 6h0m1 12h0m2-3h0m7 0h0m7-6h0m5-6h0m-29 27h0m-1-5h0m-1 7h0m-7-3h0m0-2h0m-1 1h0m0 4h0m-1-7h0m-3 8h0m0 3h0m0 4h0m-2-15h0m0 12h0m0-12h0m-4 7h0m-1 11h0m-2-9h0m-2 8h0m0-5h0m-3-13h0m0 8h0m0-5h0m-3 1h0m-1 18h0m0-13h0m0 5h0m-1-4h0m-1 4h0m-1-6h0m-1-1h0m-1 10h0m-3 0h0m-1-7h0m-3 9h0m0 2h0m-3-17h0m-2 16h0m0-15h0m0 8h0m-1-13h0m-6 22h0m-2-2h0m-20 15h0m10-2h0m3-4h0m7 5h0m2 6h0m0-15h0m2 1h0m0 13h0m1 4h0m0-17h0m1-3h0m1 8h0m0-1h0m3 14h0m1-16h0m0 2h0m1 5h0m2 8h0m0-1h0m0-3h0m2-16h0m1 10h0m1 5h0m0-1h0m0 1h0m1-11h0m4 10h0m2 1h0m0-2h0m3-13h0m9 1h0m1 12h0m1-12h0m-31 37h0m0-4h0m-4-9h0m-4 0h0m-5 0h0m-1 1h0m-4 9h0m-20 2h0m-7 1h0m1 15h0m0 15h0m5-17h0"/><path d="M437 2278h0m11-5h0m14 6h0m1-10h0m-18 27h0m-7-9h0m-5 9h0m-11-7h0m-4 7h0m-20 18h0m5 13h0m0-7h0m1 3h0m1-7h0m9-5h0m4 7h0m3 4h0m4 2h0m0 3h0m2-22h0m2 1h0m2 19h0m2-12h0m2 0h0m7 10h0m12-9h0m4-1h0m8-6h0m-24 28h0m-15-6h0m-1 0h0m-1 9h0m-5-10h0m-4 5h0m-2-5h0m-1 18h0m0-8h0m-1 3h0m-1 6h0m-3-16h0m0 9h0m-4 1h0m-1 0h0m-1-8h0m0 0h0m-4 18h0m-1-6h0m-2-1h0m-2 1h0m0-12h0m-2 16h0m-1-19h0m-2 21h0m0-23h0m-1 0h0m-1 6h0m-1 3h0m-1-3h0m-1 11h0m-1-11h0m-1 6h0m-5 0h0m-2-2h0m-6 13h0m-4-5h0m-12 29h0m1-13h0m2-2h0m3-6h0m1 17h0m3-14h0m3 16h0m1 1h0m2-3h0m1 0h0m0-3h0m2-1h0m2-6h0m1 0h0m0 13h0m1-10h0m1-1h0m0 12h0m1-21h0m1 15h0m0-9h0m0 5h0m2-2h0m1-5h0m0 12h0m0-11h0m0 5h0m0-9h0m1 5h0m0-2h0m1-2h0m2 18h0m0-21h0m2 8h0m0 6h0m0 4h0m5-13h0m2 1h0m2 8h0m3-11h0m-21 31h0m-12-2h0m-3 0h0m-1-5h0m-5 3h0m0 3h0m-1-10h0m-4 10h0m-2 10h0m0-20h0m-7 14h0m-5 6h0m-14 1h0m-1 8h0"/><path d="M464 2291h0m-8 2h0m-9-8h0m-4 16h0m-2-7h0m0 6h0m-1-1h0m-3-3h0m-4 6h0m-4-9h0m-4 9h0m-30 12h0m2-5h0m1 6h0m3 8h0m0-10h0m2 11h0m0-6h0m8-5h0m1-4h0m2 16h0m0-13h0m0 8h0m0 6h0m0-16h0m4 0h0m2 15h0m0-11h0m1 10h0m3-5h0m2 4h0m2-15h0m3 8h0m2-3h0m5-2h0m0-5h0m1 3h0m-6 27h0m-9-8h0m-3 1h0m-3 8h0m0-9h0m0 10h0m-4-5h0m-2 0h0m-1 4h0m-1-8h0m0 19h0m-1-11h0m-3 4h0m0-1h0m-1-8h0m-1 4h0m-4-3h0m-1 15h0m-1-6h0m0-6h0m-2 0h0m-1 14h0m-1-16h0m0 6h0m-1-5h0m0-2h0m-2 16h0m0-5h0m0 7h0m-1-20h0m-1 18h0m0-1h0m-3-4h0m-1-8h0m0 11h0m-1 0h0m-5-1h0m-2-5h0m-4 4h0m-6 1h0m-20 26h0m14-17h0m1 12h0m0-1h0m2 7h0m4-15h0m0 11h0m2-14h0m0 11h0m1 8h0m0-16h0m0 5h0m0 12h0m7-2h0m7-20h0m0 18h0m0-14h0m1 13h0m2-12h0m1 13h0m0-15h0m1 3h0m3-5h0m1 17h0m7-16h0m5-2h0m4 0h0m-34 24h0m-2 4h0m-4 8h0m-2-6h0m-2 14h0m-7-8h0m-1-4h0m-1 1h0m-1 5h0m-6-5h0m-1 4h0m-23 9h0m18 15h0m4-5h0"/><path d="M451 2300h0m-1-10h0m-2 0h0m-3 13h0m-9-1h0m-4-20h0m-24 14h0m-24 26h0m6 0h0m2 4h0m1-5h0m4-7h0m9 10h0m1-12h0m0-7h0m1 11h0m1-12h0m2 0h0m3 9h0m1 11h0m2-17h0m0 20h0m0-5h0m1-2h0m0-7h0m2 11h0m3-7h0m2-2h0m2 5h0m7-14h0m2 4h0m10 0h0m11-1h0m6 4h0m2-7h0m-36 28h0m-1-3h0m-2 0h0m-5 1h0m-2 11h0m-3-13h0m-1 9h0m-2-6h0m-1-3h0m0 7h0m0-2h0m0-5h0m-1 3h0m-1-2h0m0 18h0m0-21h0m-4 3h0m-1 5h0m-1 4h0m-1-5h0m-4 0h0m-1 13h0m0-2h0m0 5h0m-1-3h0m-2 1h0m0-16h0m-1 11h0m-1 1h0m0 4h0m0-16h0m-2 13h0m-1-17h0m-1-1h0m-1 20h0m-2 3h0m0-10h0m-3-4h0m-1 14h0m-3-2h0m-1-7h0m-1 2h0m0 5h0m-1 0h0m0 1h0m-3-13h0m-3-1h0m0 15h0m-1-8h0m-24 29h0m0-3h0m1 5h0m7-8h0m4 1h0m2-2h0m3 3h0m1-9h0m2 14h0m0 2h0m2-12h0m2 12h0m2-22h0m1 14h0m1 3h0m1-3h0m1-2h0m1 6h0m0-3h0m1-13h0m0 2h0m0 5h0m1-6h0m1 10h0m0 0h0m0-9h0m0 8h0m1 9h0m1-4h0m0-9h0m0-3h0m1-6h0m0 4h0m0 0h0m2 18h0m0-21h0m1 16h0m3 2h0m0 3h0m2-14h0m2-4h0m0-3h0m1-1h0m1 16h0m3-14h0m3-1h0m2 13h0m2-5h0m1-7h0m18 6h0m-23 21h0m-14-3h0m-7 2h0m-7 8h0m-1-5h0m-4 2h0m-12-5h0m-2-2h0m-14 14h0m-7 9h0"/><path d="M439 2302h0m-18-8h0m-39 29h0m20 0h0m3 3h0m2-8h0m1 8h0m0-3h0m0 0h0m2-4h0m0 1h0m5 2h0m3-2h0m1-9h0m2-4h0m0 16h0m0-4h0m5 5h0m3-19h0m0 10h0m2-2h0m9-1h0m5-2h0m5 13h0m-9 22h0m-7-12h0m-3 16h0m-6-21h0m-6 4h0m-1 14h0m-1-16h0m-2-2h0m-3 18h0m-5-5h0m0 0h0m-1-12h0m-1 22h0m0-2h0m-3-18h0m0 10h0m0 5h0m-1-6h0m-1 6h0m0 3h0m-1-2h0m-1-11h0m-1 1h0m0-8h0m-1 18h0m-1-13h0m0 7h0m-2 6h0m-1-12h0m-1 5h0m-2-2h0m0 12h0m-1-20h0m-1 17h0m-1 1h0m-2-5h0m-4 8h0m0-6h0m-1-8h0m-9 10h0m-2 3h0m-7-1h0m-2-1h0m-16 17h0m5 3h0m10 0h0m0 5h0m1-3h0m0 3h0m2-15h0m2-2h0m3 17h0m0 1h0m2-1h0m0-10h0m0-7h0m5 7h0m5-7h0m0 14h0m1-7h0m5 5h0m1-10h0m2 5h0m2 0h0m0-1h0m6 1h0m7-7h0m7-4h0m2 4h0m6 2h0m-37 21h0m-6 3h0m-4-6h0m-2 12h0m-1-11h0m-1 14h0m-8-13h0m-3 0h0m-2 15h0m-8-9h0m-9 14h0m-3-22h0"/><path d="M474 2283h0m-22 11h0m-5 6h0m-18-3h0m-1 4h0m-1-4h0m-8-7h0m-27 34h0m0 0h0m7-3h0m3 2h0m3-6h0m0 4h0m8 1h0m0 3h0m1-16h0m2 15h0m1-2h0m0 0h0m0-12h0m3 7h0m1-5h0m1 12h0m0-3h0m2-7h0m0 2h0m0-4h0m2 12h0m1-6h0m5 0h0m3 1h0m1 2h0m1-8h0m5-8h0m2 8h0m3-1h0m-25 27h0m-5-1h0m0-8h0m-1 5h0m-1 10h0m-1-13h0m0-1h0m-1 11h0m0-12h0m-1 8h0m-1 13h0m-2-6h0m-1-11h0m-3 5h0m0-6h0m-1-2h0m0-2h0m-1 12h0m-1 8h0m0-14h0m-1-7h0m-1 4h0m0 6h0m-1-2h0m-4 6h0m0-2h0m0 5h0m-1-3h0m-2 8h0m0-4h0m-1-12h0m-1 16h0m-1-8h0m-2 0h0m0 7h0m0-3h0m-5-9h0m-1 7h0m-1 5h0m-4-8h0m0 7h0m-2-3h0m-3-6h0m-1 0h0m-29 24h0m5 7h0m3-4h0m11 3h0m1-17h0m1 21h0m0-9h0m1 5h0m0-1h0m3 3h0m2-16h0m1-3h0m2 21h0m2-6h0m2-7h0m1 9h0m1 3h0m1-19h0m2 7h0m5 4h0m0-5h0m2-6h0m0 6h0m2-6h0m1-1h0m1 12h0m2-6h0m1 1h0m0-5h0m1-1h0m0 13h0m0-13h0m1 20h0m2-18h0m1-1h0m0 17h0m1-16h0m0 1h0m2 0h0m0 5h0m1-4h0m5 3h0m-19 24h0m-1-6h0m-11 11h0m0-13h0m-2 18h0m-3-17h0m-1 17h0m-10 2h0m-13-13h0m-7 2h0m-2 3h0m7 23h0"/><path d="M463 2290h0m-25 11h0m-1-17h0m-46 40h0m1-17h0m1 3h0m14 16h0m1-8h0m1 2h0m2-3h0m1-10h0m0 16h0m0-1h0m1-7h0m1-8h0m1 14h0m1-10h0m2 11h0m1-7h0m1 5h0m1-13h0m4 11h0m0-4h0m1 9h0m4-6h0m2 2h0m1 5h0m3-7h0m1 5h0m2-2h0m4 0h0m2 7h0m1-19h0m4-4h0m1 6h0m-11 22h0m-18-4h0m-1 10h0m0 8h0m-3 3h0m-2-21h0m-1 12h0m-1 7h0m-1-7h0m-1-6h0m0 12h0m0-8h0m-2 7h0m-2 3h0m-1-15h0m-2 7h0m0-6h0m0 17h0m0-7h0m-1-15h0m-1 14h0m-2-10h0m-1 5h0m-1 4h0m0 6h0m-1-15h0m0 9h0m0-14h0m-1 17h0m0-8h0m-1 13h0m-2-16h0m-2 16h0m0-5h0m-3 4h0m-1-9h0m0-4h0m0-4h0m0-4h0m-4 15h0m-2-13h0m-1 21h0m-1-3h0m-1-10h0m-2 9h0m0-5h0m-2 1h0m-7-9h0m-17 26h0m11 13h0m1-12h0m2 5h0m4 8h0m0-21h0m1 21h0m8-3h0m0-2h0m2 1h0m0-15h0m1 16h0m0-4h0m0-13h0m1 12h0m1 2h0m1-12h0m0 4h0m0 4h0m2 9h0m0-18h0m0 6h0m3 0h0m1 12h0m0-16h0m1-4h0m0 2h0m1 3h0m2-3h0m1 3h0m1 2h0m3-8h0m2 7h0m0-4h0m2 8h0m2-11h0m0 4h0m3 4h0m0-4h0m1 8h0m-17 26h0m-8 4h0m-15-10h0m-2 15h0m-11-20h0m-10 7h0m-3 3h0m-2-7h0m-23 36h0m25-9h0m10-4h0m-34 22h0"/><path d="M442 2292h0m-18 8h0m-8-1h0m-2-3h0m-11 11h0m3 8h0m3 7h0m0 5h0m1-17h0m0-3h0m1 16h0m3-6h0m10 2h0m3-3h0m4 4h0m1-16h0m7 1h0m3 2h0m13-1h0m20 0h0m-34 30h0m-12-8h0m-4 23h0m-2-9h0m-2-6h0m-6-8h0m-1 2h0m0 4h0m0 5h0m-1 11h0m0-15h0m-1 5h0m-1-7h0m-1-4h0m-4 3h0m0 11h0m0-6h0m-2 1h0m-1-4h0m-1 8h0m-1 2h0m-2-7h0m-1 1h0m-2 9h0m0-1h0m-1-13h0m-2 9h0m-1-14h0m0 21h0m0 1h0m-1-5h0m0-6h0m0 5h0m0 7h0m0-13h0m-1 9h0m0-11h0m-1 12h0m-1-11h0m-1 11h0m-1 1h0m-1 1h0m0-15h0m-1 5h0m-2 3h0m0 1h0m-1 1h0m-1 4h0m-1-20h0m0 21h0m-1-14h0m-2 15h0m-3-1h0m-4-2h0m-17 10h0m6 4h0m3 6h0m1-3h0m2-9h0m2 13h0m3-8h0m1 12h0m3-9h0m0 4h0m0-4h0m0-12h0m1 5h0m1 6h0m1 3h0m0-2h0m1 9h0m0 2h0m0-10h0m1 7h0m0-14h0m2 4h0m0-5h0m0 7h0m1-6h0m0 15h0m0-13h0m1 4h0m0-9h0m7 0h0m3 14h0m6 1h0m4-7h0m0-1h0m1-7h0m10-3h0m-34 28h0m-3-2h0m-8 4h0m-3-5h0m-11 5h0m-5-1h0m-1 8h0m-1-5h0m-16 9h0m5 21h0m2-5h0m2-8h0m2-1h0m-17 31h0"/><path d="M459 2284h0m-3 2h0m-4-2h0m-7 17h0m-11-3h0m-1-1h0m-48 28h0m9-16h0m7 13h0m3-16h0m7 13h0m2-5h0m0 9h0m3-12h0m0 7h0m2-11h0m0 9h0m1-3h0m1 8h0m3 4h0m3-17h0m1 19h0m1-10h0m1-4h0m2-4h0m7 17h0m4-16h0m3-1h0m5 4h0m-19 28h0m-1-11h0m-3 1h0m-1 3h0m-1 13h0m-2-9h0m-3-4h0m-2 1h0m-1-5h0m0 3h0m-1 12h0m-2-12h0m0 11h0m-1 4h0m0-11h0m0 3h0m-1 4h0m-1 0h0m-1-5h0m-3 4h0m-3 2h0m-1-5h0m0 2h0m-1 4h0m-5-2h0m0 0h0m0 0h0m-1-8h0m0 1h0m0-9h0m-3 12h0m-1 6h0m0 5h0m-2-14h0m0 12h0m0-11h0m-1 11h0m-4 0h0m-2 0h0m-12 0h0m0-3h0m-17 22h0m2-10h0m3 15h0m1-8h0m0 10h0m5-4h0m2-13h0m1 14h0m2-15h0m1 4h0m1 12h0m5-17h0m0 2h0m1 13h0m1-11h0m0 4h0m1 1h0m1-11h0m1 10h0m0 0h0m0-4h0m1-8h0m2 13h0m3 3h0m3-14h0m0 1h0m1 4h0m4-2h0m0-4h0m2 10h0m13-4h0m-36 17h0m-3 12h0m-2-11h0m-8 3h0m-1-3h0m-10-1h0m-3 8h0m-7-3h0m-7 0h0m-1 17h0m-4-1h0m2 8h0"/><path d="M463 2277h0m6-7h0m-9 11h0m-5 12h0m-6 6h0m-2-5h0m-8 1h0m-1 4h0m-4 3h0m-7-5h0m-2-6h0m-40 34h0m14-10h0m1 10h0m2-3h0m1-13h0m0 6h0m2 3h0m1 9h0m0-8h0m3-7h0m2 15h0m0-16h0m5 10h0m0 4h0m0-17h0m3 1h0m0 10h0m1 5h0m5-16h0m0 1h0m1 10h0m4-8h0m1-3h0m1 0h0m1 5h0m5-6h0m1-2h0m4 8h0m-14 32h0m-3-16h0m-5 11h0m-2-7h0m0 8h0m0 3h0m-2-7h0m-1 2h0m0 2h0m-3-3h0m-4-10h0m0 18h0m-3 1h0m-1-18h0m0 6h0m0 15h0m-1-21h0m-2 14h0m0-14h0m-1 3h0m0 4h0m0 11h0m0-4h0m-1 4h0m0-15h0m-2 0h0m-1 15h0m0 2h0m0-11h0m-1 10h0m0-8h0m-1 5h0m0 6h0m0-5h0m-1-5h0m-2 4h0m-2 1h0m0 5h0m0-22h0m0 9h0m-2 11h0m0-18h0m-2 10h0m0 5h0m-2 3h0m0-7h0m0-8h0m-1 8h0m-3 1h0m0-6h0m-1-2h0m-28 39h0m8-3h0m1-18h0m8 4h0m2 8h0m0-11h0m0 1h0m1-3h0m1 13h0m2-4h0m0-8h0m1 14h0m0 6h0m2-21h0m1 21h0m3 2h0m1-11h0m0 1h0m1-12h0m2 15h0m2-12h0m2 6h0m2 10h0m3-20h0m3 0h0m3 12h0m7 0h0m15-10h0m-40 26h0m-17 0h0m-4-3h0m-3 7h0m-4-8h0m-1 4h0m-2 2h0m0 0h0m-2 7h0m14 13h0"/><path d="M464 2245h0m-10 48h0m-4 2h0m0 6h0m-8-10h0m-8-4h0m-1 16h0m-5-3h0m-12-5h0m-1 0h0m-35 32h0m7-7h0m18 7h0m2-14h0m5 5h0m1 9h0m1 0h0m1-6h0m0-9h0m1 1h0m1 10h0m1-11h0m3-8h0m1 11h0m0-4h0m1 0h0m1 1h0m2-4h0m2 11h0m1-3h0m4-9h0m5 2h0m0 8h0m23 5h0m-14 7h0m-8 2h0m-1 4h0m-16-1h0m-4 4h0m-4 6h0m0-12h0m-1 3h0m-1-2h0m-1 7h0m-1-9h0m-2 5h0m0 10h0m-1-12h0m-1 8h0m0-7h0m0-4h0m-2 14h0m0 0h0m-1-6h0m0 9h0m-1 0h0m-2-3h0m0-15h0m0 8h0m-3 0h0m0 8h0m-2-17h0m0 19h0m0 1h0m-4-9h0m0-5h0m0-5h0m0-2h0m-2 23h0m0 0h0m0-22h0m-2 7h0m0 8h0m-3-2h0m-3 5h0m0-2h0m-1 6h0m-2-1h0m-35 25h0m8-5h0m1 3h0m4-2h0m2-15h0m0-1h0m0 4h0m2 12h0m1-1h0m2 2h0m2 2h0m0-10h0m1-6h0m2 3h0m1 8h0m1-11h0m0 6h0m1-10h0m2 4h0m0-2h0m3 12h0m0-8h0m1 3h0m0-4h0m2 13h0m1-11h0m0-3h0m2-1h0m0 2h0m1 3h0m1-5h0m0 0h0m2-5h0m1 2h0m0 10h0m1 7h0m2-1h0m2-12h0m0-2h0m1 8h0m4-3h0m5 13h0m3-13h0m1-6h0m2 10h0m-10 12h0m-2 14h0m-16-12h0m-4 0h0m0 0h0m-15 3h0m-1-3h0m-1 5h0m-1 10h0m-6-3h0m-1-7h0m-4-4h0m0 4h0m-7 12h0m-11 16h0"/><path d="M483 2294h0m-15-2h0m-26 11h0m-2-1h0m-1-7h0m-6 6h0m-4-1h0m-48 27h0m17-5h0m1 3h0m2-3h0m1 1h0m4-8h0m5-3h0m3 8h0m1-4h0m1 11h0m0-3h0m1-15h0m2 10h0m2 8h0m2-2h0m7-1h0m1-2h0m4 4h0m7-3h0m-3 6h0m-7 20h0m-7-18h0m-1 20h0m0-8h0m-1-9h0m-4 4h0m0-1h0m-1 2h0m0-5h0m-1-2h0m-1 14h0m-1 0h0m0 2h0m-3 1h0m0-12h0m-2-8h0m-1 12h0m0 9h0m-1-3h0m0-11h0m-1 11h0m-1-1h0m-1-6h0m0 11h0m-1-4h0m0 2h0m-1-10h0m0-9h0m-2 14h0m-1 5h0m-1 1h0m0-14h0m-1 7h0m0 1h0m-1-13h0m-2 20h0m-2-15h0m-1 10h0m-2-18h0m0 5h0m0-4h0m-1 8h0m-2 5h0m0 7h0m0-13h0m-1 12h0m0-3h0m0 5h0m0-19h0m-3 4h0m-1 2h0m-2 9h0m0-1h0m0 6h0m-1-5h0m-10-4h0m-19 16h0m6 9h0m2 5h0m0-7h0m2-5h0m1 13h0m2-3h0m1 1h0m4-13h0m2 12h0m1-8h0m1 10h0m1 2h0m2-9h0m1-5h0m5 10h0m0-9h0m1 13h0m0-15h0m1-5h0m0 19h0m1-18h0m0 6h0m2-2h0m1 8h0m0 0h0m0-2h0m2-11h0m3 5h0m0-7h0m1 9h0m1 9h0m1-1h0m0-14h0m1-2h0m0 3h0m1 2h0m1-6h0m0 4h0m4-4h0m0 0h0m6 2h0m1 13h0m3-10h0m-39 21h0m-3 0h0m-4 1h0m-1 4h0m0-1h0m-6 4h0m-6 11h0m-2-21h0m-2 13h0m-11 8h0m-8-18h0m-14 35h0m26-11h0m2 7h0m5-3h0"/><path d="M435 2279h0m25 23h0m-16-1h0m-8-9h0m-2-11h0m-7 16h0m-5 6h0m-23 24h0m3 0h0m9-8h0m0 3h0m2-13h0m0 16h0m3-13h0m2 13h0m0-4h0m2-8h0m0-2h0m0 14h0m1-16h0m0 16h0m0-10h0m1 3h0m0 2h0m0-5h0m1 7h0m0-4h0m0-7h0m4 2h0m0 1h0m3 0h0m3 1h0m3-4h0m6 5h0m3-9h0m1 3h0m0-5h0m0 4h0m1 12h0m3-16h0m10 4h0m-29 23h0m-6-3h0m-3 15h0m-3-16h0m-1 4h0m-3 1h0m0-3h0m-1 16h0m-4-10h0m-1-1h0m0 7h0m-1-3h0m-1 2h0m0-5h0m0 5h0m-1-12h0m0 22h0m0-7h0m-1 2h0m-1 3h0m0-16h0m-3 9h0m-1 1h0m-1-7h0m0 15h0m0-13h0m-1-6h0m-2 8h0m0 3h0m-1-1h0m0 2h0m-3 6h0m0-11h0m0-5h0m-1-3h0m-1 10h0m-1-3h0m-1 0h0m0-5h0m0 9h0m0 4h0m-2-17h0m-2 22h0m-3-13h0m-6 13h0m0-9h0m-2 3h0m-14-2h0m-14 26h0m15 4h0m11-3h0m0-13h0m1 2h0m1 1h0m1 6h0m2 0h0m1 7h0m2-13h0m2 9h0m1-8h0m0 6h0m1-11h0m2 3h0m2 10h0m1 0h0m1-6h0m0-2h0m2-9h0m0 4h0m2-1h0m1 4h0m2 3h0m0-9h0m1 6h0m2-2h0m1-2h0m2 3h0m9 2h0m-25 16h0m-1 1h0m-8 3h0m-10-4h0m-8 9h0m-1-2h0m-3-3h0m-2 9h0m-3-11h0m-2 11h0m0 1h0m-5-13h0m-4 4h0"/><path d="M432 2279h0m47-16h0m-19 22h0m-5 6h0m-5-1h0m-7 11h0m-29-1h0m0 3h0m-24 21h0m7-3h0m1 2h0m2 1h0m2-5h0m2 6h0m4-8h0m3 2h0m1-3h0m1 8h0m1 2h0m3-8h0m3-6h0m1 9h0m1-3h0m1-2h0m5 3h0m2 0h0m0-2h0m0-6h0m6 3h0m2 5h0m8-9h0m-19 18h0m-3 13h0m-1-2h0m-1-10h0m-1 17h0m-5-12h0m-1 14h0m-6-12h0m-1 8h0m0-3h0m0 2h0m-1 4h0m-2-13h0m-1 13h0m-1-1h0m0-9h0m-1 2h0m-1 9h0m-2-12h0m-1-3h0m0 8h0m-1 1h0m0-2h0m-1-3h0m0 5h0m0-7h0m-3 10h0m-1-4h0m0-6h0m0 1h0m0-6h0m-1 4h0m0-2h0m-1-1h0m0 15h0m0-13h0m-3 1h0m0 11h0m-2-2h0m0-9h0m-6 14h0m-1 1h0m-18-20h0m-6 32h0m1 14h0m7-14h0m0 8h0m1 2h0m1-1h0m1 5h0m1-14h0m1 3h0m0-6h0m4-3h0m2-2h0m0 9h0m3-2h0m0 9h0m2-16h0m0-1h0m0 0h0m0 14h0m1-11h0m1 6h0m1 1h0m1 7h0m1-13h0m2 4h0m1 2h0m1-4h0m0-2h0m1-4h0m1 14h0m1-13h0m1-1h0m1 4h0m3 9h0m2-12h0m2 6h0m2-7h0m0 11h0m4-3h0m1-5h0m3 5h0m8 12h0m-44 11h0m-3 7h0m0-8h0m-1 10h0m-3-14h0m-6 8h0m-3-9h0m0 2h0m-1 8h0m-7-6h0m-4 0h0m-3 12h0m-8-1h0m-13 20h0m48-1h0"/><path d="M449 2264h0m7 11h0m-3 28h0m-2-19h0m-6 6h0m-1-3h0m-1 14h0m-4 2h0m-4-9h0m0 6h0m-6-1h0m-4-5h0m-3 6h0m-33 27h0m7-1h0m4 1h0m2-10h0m1 5h0m0-3h0m1-9h0m0 5h0m3 12h0m1-2h0m4 0h0m4-10h0m2 1h0m1 7h0m1-2h0m1 3h0m3-16h0m0-1h0m1 20h0m5-6h0m0-14h0m0-3h0m1 11h0m13 0h0m-8 15h0m-11 4h0m-2-5h0m-1 6h0m0 5h0m-1-11h0m-2 20h0m-1-4h0m0-6h0m-2-8h0m0 0h0m-1 7h0m-2-9h0m-1 10h0m-2-5h0m0 3h0m-1 8h0m-2-2h0m-2-5h0m0-1h0m-2 10h0m0-15h0m0 7h0m-1-8h0m0 8h0m0-3h0m0-4h0m0-2h0m-1 19h0m-2-15h0m-1 16h0m0-21h0m-1 13h0m0 4h0m-1-14h0m-2 1h0m-1 13h0m-4 0h0m-7-2h0m-1 3h0m0 1h0m-3 2h0m-7-15h0m0 16h0m-6 18h0m0-5h0m0-7h0m4 7h0m1-4h0m3-8h0m0 22h0m0-9h0m2-11h0m2 18h0m2-14h0m1 17h0m0-8h0m0-14h0m1 0h0m0 12h0m1 6h0m0-8h0m4-9h0m4 4h0m0 1h0m0 5h0m1 0h0m2-4h0m2-2h0m1-3h0m1-2h0m1-1h0m0 6h0m2-4h0m1 5h0m9-5h0m0 1h0m4 1h0m-37 20h0m-3 4h0m-8-3h0m0 4h0m-7-4h0m0 11h0m-2-9h0m-7 6h0m0-4h0m-4 4h0m0-9h0m-3 8h0m-3 11h0m8 5h0"/><path d="M466 2275h0m0-7h0m-28 31h0m-4-7h0m-2 10h0m-4 0h0m0-8h0m-1 9h0m-8-2h0m-28 24h0m6 1h0m3-12h0m4 5h0m5 5h0m1 1h0m4-4h0m2-7h0m1 12h0m2-8h0m3-5h0m2 2h0m0 11h0m6-16h0m0 11h0m0-6h0m1-1h0m2 0h0m0 10h0m1-8h0m1 2h0m0-3h0m2-9h0m5 5h0m13-1h0m-25 19h0m-3 3h0m-3 17h0m0-5h0m-7-12h0m0 2h0m-2 12h0m0 1h0m0 0h0m-1-16h0m-1 14h0m-4-12h0m0 6h0m-2 7h0m0-18h0m-2 14h0m0 2h0m0-2h0m0 9h0m-3-14h0m0 2h0m-1 6h0m0-13h0m0 14h0m-3 1h0m-1-11h0m-1 2h0m-1-4h0m-1 2h0m0-8h0m-1 21h0m-1 1h0m0-4h0m-3-8h0m-3 9h0m-1-2h0m-2-11h0m-1 16h0m0-6h0m-1 1h0m-1-8h0m-12 7h0m-19 11h0m0 18h0m10 1h0m2-7h0m0-10h0m2 6h0m2 1h0m3 1h0m0 4h0m1-2h0m0 7h0m4-9h0m0 5h0m0 1h0m0-11h0m4-7h0m1 19h0m0-5h0m0-7h0m1-4h0m0 8h0m1 0h0m0-1h0m1-8h0m1 3h0m2 10h0m3 6h0m0-21h0m0 0h0m1 18h0m0-10h0m4 1h0m2-2h0m1-2h0m2 3h0m1 1h0m5-8h0m0 9h0m6-11h0m6 10h0m2-10h0m-33 26h0m-1 3h0m-5-2h0m-6 7h0m-2-1h0m-3-2h0m0 3h0m0-5h0m-3-2h0m-1 1h0m-8-1h0m-8 0h0m-1 13h0m-3-12h0m-16 18h0m-15 17h0m14-4h0m15-9h0"/><path d="M456 2299h0m-4-3h0m-2-7h0m-14 4h0m-40 21h0m1 10h0m0 2h0m1-9h0m4-5h0m6 3h0m0 5h0m2 6h0m0-8h0m2 5h0m2 1h0m2-1h0m1-15h0m1 13h0m2-12h0m0 17h0m1-1h0m0-19h0m0 17h0m1-9h0m2-9h0m0 17h0m1-17h0m3 18h0m0-5h0m2 7h0m3-18h0m3 1h0m1-2h0m5 3h0m13 1h0m-29 23h0m-2-3h0m-2 8h0m-3 0h0m0-5h0m0 8h0m-1-7h0m-1 1h0m-1-6h0m-3 20h0m-1-10h0m-2 8h0m-3-11h0m-2 0h0m-1-6h0m-2 6h0m0 6h0m-1 5h0m0-1h0m-1-1h0m0 0h0m-1-8h0m0 4h0m-1-9h0m-1 6h0m-1 8h0m0-4h0m0 5h0m-1-2h0m-1-8h0m-2-1h0m-2-1h0m-1 9h0m-1-2h0m-4 5h0m0-6h0m0-4h0m-1 13h0m-1-2h0m-1 3h0m-8-5h0m-9 0h0m-18 23h0m6-11h0m9 11h0m1 1h0m1 2h0m1-1h0m0-7h0m2 4h0m3-10h0m1 9h0m0-4h0m2 10h0m1-10h0m0 2h0m3-12h0m2 22h0m1-19h0m1 15h0m0-12h0m1 2h0m1 8h0m2-4h0m1-11h0m2-1h0m0 7h0m0-7h0m2-1h0m1 7h0m0-5h0m0 6h0m0-5h0m4-3h0m1 0h0m0 6h0m2 5h0m0-10h0m2 4h0m2-3h0m0 5h0m1-4h0m2 2h0m1 16h0m1-21h0m1 3h0m-9 22h0m-16-1h0m-7 7h0m-6 5h0m-1-6h0m-2 5h0m-1 0h0m-1-8h0m-2-2h0m0-1h0m-6 15h0m-4-4h0"/><path d="M445 2277h0m20 17h0m-15 0h0m-12-3h0m-9 0h0m-2 12h0m-4-20h0m-24 19h0m-7 24h0m7 1h0m1-2h0m1 2h0m2-12h0m1 9h0m1 1h0m0-9h0m1-1h0m1 12h0m2-1h0m4-7h0m1-2h0m2 10h0m0-4h0m2-4h0m1-4h0m4-10h0m2 16h0m0 1h0m1-4h0m1-3h0m1 1h0m4-3h0m4-6h0m7 11h0m0 9h0m7-14h0m-18 17h0m-4-2h0m-2 10h0m-3-5h0m-1-4h0m-2 4h0m-2 14h0m-3-12h0m-1 10h0m-2-17h0m-1 9h0m-1 1h0m-3-7h0m0 15h0m0-15h0m-1 1h0m-2 6h0m-1 8h0m0-5h0m-1 2h0m-1-9h0m0 14h0m0-15h0m-3 2h0m0 0h0m-1 7h0m0-6h0m-2 13h0m-2-2h0m0-14h0m-2 14h0m-2-8h0m-2 11h0m-1-17h0m-5 12h0m-1 3h0m-3 0h0m-1-2h0m-33 18h0m6-4h0m6 2h0m3 11h0m2-17h0m0 10h0m0 6h0m2-7h0m2-8h0m1 6h0m0 12h0m1-10h0m3-10h0m0 15h0m3 0h0m2-4h0m1-9h0m0 10h0m2-12h0m3-2h0m1 13h0m3-11h0m0 9h0m1-10h0m2-1h0m0 0h0m4 12h0m0-12h0m0 7h0m0-6h0m3 10h0m1 7h0m2-6h0m2-7h0m0-1h0m1 4h0m0 7h0m2 2h0m1-2h0m-9 16h0m-23-3h0m-3-5h0m-3 6h0m-8 3h0m-2-6h0m-4 19h0m-3-6h0m-3 1h0m-4-12h0m0 18h0m-1-10h0m-4 2h0m-1 1h0m-12 0h0"/><path d="M452 2282h0m-5 15h0m-2-2h0m-3-6h0m-3 9h0m-2-13h0m-7-5h0m-35 47h0m3 0h0m7-2h0m1-1h0m0 1h0m1 1h0m4-19h0m1 20h0m4-4h0m0-4h0m0-6h0m1 2h0m1 3h0m4 7h0m0-7h0m0-3h0m0 9h0m1-1h0m0 0h0m4-12h0m4 5h0m2-4h0m1 1h0m1-6h0m0 6h0m7 10h0m-23 17h0m-1 5h0m-1 3h0m-1-16h0m-1 3h0m-6 7h0m-1-10h0m0 18h0m-1-2h0m-1-20h0m-1 17h0m0-4h0m-1 3h0m0-16h0m0 20h0m-3-7h0m0-6h0m-1-3h0m0 0h0m-1 8h0m0-4h0m-3 11h0m-2-12h0m-1-4h0m-2 15h0m0-2h0m0-1h0m0 7h0m-1-9h0m-1-8h0m0 4h0m-2 4h0m0-9h0m-1 3h0m-3 7h0m0-2h0m-4 5h0m0-7h0m-3 3h0m-1 7h0m-1-3h0m-32 28h0m16-17h0m1 4h0m1 6h0m0 7h0m1-16h0m2 3h0m1 0h0m1-1h0m2 9h0m3-12h0m1 11h0m2 5h0m0-12h0m1 11h0m1-5h0m0-5h0m1-7h0m2 17h0m1-4h0m0-6h0m1-9h0m3 9h0m1 8h0m0-12h0m0-2h0m1 6h0m1-6h0m0 9h0m0-7h0m1 13h0m3-1h0m0-16h0m1 12h0m3-11h0m1 2h0m3 4h0m3 4h0m1-6h0m6-3h0m0-2h0m5 3h0m-28 26h0m-8 1h0m-9 2h0m-1-8h0m-2 4h0m-3-2h0m-1 16h0m-6-3h0m-5-11h0m-4 12h0m-9-5h0m-26 32h0m25-18h0m18 0h0"/><path d="M448 2296h0m-1-1h0m0-7h0m-7 15h0m-9-8h0m-3-1h0m-9 4h0m-10 2h0m-15 18h0m5 8h0m1-6h0m1-11h0m2 10h0m5 6h0m3-4h0m7 6h0m1-7h0m4-1h0m1-9h0m1 0h0m1 14h0m1-6h0m1-2h0m1 8h0m1-6h0m1-11h0m1 16h0m1-1h0m14-3h0m-14 13h0m-4-3h0m-1 3h0m-8-4h0m-3 11h0m-1-2h0m-2 1h0m-1 4h0m-1 1h0m-1-6h0m0-8h0m-1 12h0m-1 2h0m-2 6h0m-1-9h0m0-3h0m-2-3h0m-2 7h0m-1-10h0m0 2h0m-4 4h0m-1 2h0m-1 7h0m-1-13h0m-1 4h0m0 2h0m-2 0h0m-1-2h0m0-9h0m-2 16h0m0 7h0m-1-22h0m-6 20h0m0-4h0m-2 6h0m-2 0h0m-1-5h0m-31 27h0m4 0h0m8-17h0m3 17h0m4-9h0m1-3h0m1 8h0m3-3h0m2-8h0m0 7h0m2 2h0m1-4h0m1-10h0m1 20h0m1-13h0m0 14h0m0-19h0m3 8h0m1 9h0m1-20h0m2 2h0m0-1h0m1 16h0m3 4h0m1-19h0m4 3h0m0 2h0m6-5h0m17 2h0m-35 23h0m-11 7h0m-3 4h0m-4 6h0m-5-6h0m-6-14h0m-1 13h0m-2-6h0m-4-7h0m-3 18h0m-15 12h0m19-6h0m2 11h0m5 0h0m3-9h0m0-2h0m5 5h0"/></g>
</g>
<line x1="172.6" y1="1983.8" x2="172.6" y2="2509.7" stroke="#333" stroke-width="1.4"/>
<line x1="161.2" y1="2509" x2="715.7" y2="2509" stroke="#333" stroke-width="1.4"/>
<line x1="161.2" y1="1983.8" x2="172.6" y2="1983.8" stroke="#333" stroke-width="1.4"/>
<text x="148" y="1992.8" text-anchor="end" font-size="25">10.0</text>
<line x1="161.2" y1="2191.7" x2="172.6" y2="2191.7" stroke="#333" stroke-width="1.4"/>
<text x="148" y="2200.7" text-anchor="end" font-size="25">1.0</text>
<line x1="161.2" y1="2401.4" x2="172.6" y2="2401.4" stroke="#333" stroke-width="1.4"/>
<text x="148" y="2410.4" text-anchor="end" font-size="25">0.1</text>
<line x1="284.4" y1="2509" x2="284.4" y2="2520" stroke="#333" stroke-width="1.4"/>
<text x="284.4" y="2550" text-anchor="middle" font-size="25">0.1</text>
<line x1="500.5" y1="2509" x2="500.5" y2="2520" stroke="#333" stroke-width="1.4"/>
<text x="500.5" y="2550" text-anchor="middle" font-size="25">1.0</text>
<line x1="715.7" y1="2509" x2="715.7" y2="2520" stroke="#333" stroke-width="1.4"/>
<text x="715.7" y="2550" text-anchor="middle" font-size="25">10.0</text>
<line x1="172.6" y1="2509" x2="715.7" y2="1983.8" stroke="#8a8a8a" stroke-width="2.6" stroke-dasharray="10 7"/>
<text x="194.6" y="2007.6" font-size="27.5" textLength="157" lengthAdjust="spacingAndGlyphs">6 h recovery</text>
<path d="M596 2374 L655 2427" stroke="#2bb34a" stroke-width="12" fill="none"/>
<path d="M685.5 2457.8 L643 2443 L668 2415 Z" fill="#2bb34a"/>
<text x="627.4" y="2463" text-anchor="end" font-size="27.5" textLength="229" lengthAdjust="spacingAndGlyphs">Slower repair with</text>
<text x="715.3" y="2494" text-anchor="end" font-size="27.5" textLength="275" lengthAdjust="spacingAndGlyphs">flavopiridol treatment</text>
<text x="443.7" y="2589" text-anchor="middle" font-size="27.5" textLength="596" lengthAdjust="spacingAndGlyphs">Flavopiridol-treated DPC coverage (log<tspan font-size="18" dy="6">10</tspan><tspan dy="-6">(RPM))</tspan></text>
<text x="92" y="2247" text-anchor="middle" font-size="27.5" transform="rotate(-90 92 2247)">NT DPC coverage (log<tspan font-size="18" dy="6">10</tspan><tspan dy="-6">(RPM))</tspan></text>
<text x="909" y="1990" font-weight="bold" font-size="37" textLength="27.5" lengthAdjust="spacingAndGlyphs" stroke="#111" stroke-width="1.3">h</text>
<g clip-path="url(#clipH)">
<g fill="none" stroke="#1a1a1a" stroke-width="10.4" stroke-linecap="round" stroke-opacity="0.058" id="hd"><path d="M1416 2055h0m-70-3h0m12 35h0m24 5h0m-14 8h0m-6 7h0m-10-1h0m-5 1h0m-3-7h0m-4 11h0m-13-1h0m-198 12h0m5 7h0m139 2h0m57-12h0m11-2h0m7 6h0m6-2h0m6 9h0m2-18h0m3 2h0m8 5h0m12 1h0m13 15h0m3-15h0m2 12h0m21 5h0m0 18h0m-29-11h0m-7 15h0m-18-12h0m0-2h0m-1-5h0m-2 9h0m-11-3h0m-3-5h0m0 9h0m-1 4h0m-20-15h0m-9 8h0m-278 7h0m84 9h0m28-2h0m28 16h0m103 5h0m14-5h0m17-11h0m4 4h0m9-3h0m7 9h0m0 5h0m2-10h0m4 6h0m0 1h0m4-8h0m2-4h0m7 9h0m1 6h0m1 0h0m1-16h0m1 9h0m2-7h0m1 3h0m0 0h0m3-8h0m2 16h0m1-13h0m4 2h0m19-6h0m0 5h0m47 22h0m-18 10h0m-3 7h0m-9-1h0m-4-7h0m-14 6h0m-17-19h0m-4 3h0m-4-2h0m-1 4h0m0 8h0m-4-13h0m0 12h0m-1 1h0m-1 7h0m-2-20h0m-1 20h0m-2 0h0m-3 1h0m-1-2h0m0 0h0m-5-18h0m-4 8h0m-2 1h0m-4-6h0m-4-2h0m0 15h0m-4-16h0m-3 2h0m-2-1h0m-1 9h0m-2-7h0m-14-1h0m-2 15h0m-37-18h0m-5 15h0m-67-14h0m-8 20h0m-13-16h0m-52 16h0m-13-17h0m-9 11h0m-28 6h0m-46 1h0m0 16h0m18-14h0m56 14h0m9-11h0m0-1h0m13 12h0m28-7h0m17 2h0m5 3h0m9 7h0m5-12h0m24 4h0m29-2h0m7 6h0m3 4h0m50-12h0m29 5h0m8-2h0m2 3h0m14 1h0m4-14h0m0 3h0m2 16h0m2-16h0m4 7h0m4-3h0m4-5h0m3 2h0m39 1h0m16 20h0m-8 4h0m-33 10h0m-3-1h0m-11 2h0m-9-4h0m-7-7h0m-5 10h0m0-10h0m-8-2h0m-9 17h0m-10-10h0m-6 2h0m-1 7h0m-8-17h0m-26 5h0m-2 3h0m-11-7h0m-12 3h0m0 11h0m-8 4h0m-11-14h0m-28-3h0m-5-2h0m0 2h0m-18-1h0m-1 16h0m-19-5h0m-13-3h0m-5 7h0m0-7h0m-9 7h0m-44-4h0m-74-14h0m0 10h0m0 7h0m18 27h0m28-2h0m0-11h0m0 8h0m28-1h0m0-11h0m16 14h0m12-16h0m19 19h0m0 3h0m9-23h0m4 4h0m2 14h0m1-9h0m2-2h0m0-5h0m17 4h0m4 16h0m14-10h0m2-7h0m23 17h0m2-6h0m9 2h0m1-12h0m6 2h0m6 14h0m9-17h0m2 0h0m5 12h0m0 6h0m1-3h0m6 2h0m7-4h0m6 3h0m11-6h0m1-3h0m8-12h0m4 16h0m18 6h0m6 1h0m1-22h0m0 14h0m2-4h0m5-1h0m0-8h0m5 18h0m2-9h0m2 9h0m3-4h0m8 4h0m10-11h0m3-9h0m4 7h0m4 1h0m6 10h0m8-2h0m1-12h0m0 17h0m10-21h0m19 21h0m10 19h0m-4-11h0m-2 5h0m-6 3h0m-8 6h0m-7-18h0m-1 6h0m0-7h0m-2 6h0m-7 0h0m0 12h0m-2 4h0m-6-12h0m0 11h0m-5 2h0m-2-6h0m-6-13h0m-1-1h0m-1 10h0m-10-10h0m-3 2h0m-5 9h0m-1 1h0m-2-3h0m-6 3h0m-7-14h0m-1 4h0m-14 0h0m-6 4h0m-6 5h0m-3-11h0m-7 2h0m-6 5h0m-9-5h0m-4-3h0m-5 7h0m-3 4h0m0-13h0m-3 13h0m-15-6h0m-2 11h0m-19 1h0m-2-19h0m-8 22h0m-1-14h0m-2 5h0m-1-3h0m0-9h0m-4 19h0m-5-9h0m-1 2h0m-1-10h0m-7-2h0m-3 1h0m-7 7h0m-4 14h0m0-6h0m-4 6h0m-3 0h0m-1-22h0m-6 6h0m-2 1h0m-3 7h0m-2-7h0m-4-6h0m-2 15h0m0-1h0m-4-10h0m-40 8h0m0-12h0m-22 2h0m-28 16h0m0-15h0m-46 41h0m0-3h0m18-19h0m0 3h0m56 1h0m0 4h0m0 1h0m9-5h0m7 10h0m12-10h0m5 0h0m8 17h0m9-4h0m3 2h0m13-17h0m4 1h0m0 8h0m1-1h0m20 7h0m15-4h0m9-10h0m6 4h0m1 15h0m4-11h0m4-3h0m13 9h0m8-2h0m12 4h0m1-8h0m2-2h0m3 0h0m0 8h0m5-12h0m19-3h0m12 6h0m43-6h0m12 4h0m19-6h0m0 3h0m4 2h0m1-3h0m25 2h0m7 13h0m1-14h0m21-1h0m-24 31h0m-49-1h0m-14-6h0m-24 7h0m-22 10h0m-27-16h0m-2 7h0m-44-9h0m-13 19h0m-66-20h0m-9 4h0m-11 10h0m-17-13h0m-28 13h0m-62 4h0m83 12h0m24-1h0m11 9h0m58-4h0m39-10h0m172 16h0m-62 20h0m-87 3h0m-9-9h0m-66-6h0m-3 5h0m-6 14h0m-80-5h0m0-2h0m-56-6h0m28 41h0m69-22h0m17 12h0m16-4h0m179 12h0m-74 3h0m-235 10h0m84 25h0m-86 58h0m98 0h0m36 0h0m138 0h0"/><path d="M1316 2033h0m104 13h0m-56 9h0m-14 27h0m10-17h0m60 12h0m-55 24h0m-9 8h0m-8-20h0m-247 11h0m16 14h0m7 5h0m191-4h0m21 6h0m6 12h0m2-15h0m2-5h0m4 10h0m9 7h0m3-11h0m5-1h0m3 7h0m23 22h0m-4 4h0m-10-10h0m-5 13h0m-2-9h0m-2 3h0m-3 9h0m-7-12h0m-1-3h0m-6 8h0m0 1h0m-3 0h0m-2-7h0m-7 10h0m-1-2h0m-2 6h0m0-4h0m-10-6h0m-2 9h0m-7-19h0m-32 11h0m-119 10h0m-23-4h0m-11-10h0m-107-4h0m0 39h0m90-13h0m0 14h0m160-18h0m15 4h0m10-2h0m30 2h0m7 15h0m2-1h0m3-10h0m11 3h0m0-10h0m1-2h0m0 5h0m1 14h0m3 0h0m1 0h0m1-15h0m2-6h0m2 10h0m1-9h0m1 5h0m4 0h0m2 8h0m9-11h0m15 1h0m-16 28h0m-10-5h0m-5 10h0m-2 7h0m-6-9h0m-9-2h0m-4 0h0m0-3h0m-2 7h0m-1 5h0m-4-10h0m-1 15h0m-1-19h0m-6 9h0m-1-5h0m-1-8h0m-5 23h0m-14-8h0m-8 7h0m-3-13h0m-2 4h0m-28-12h0m-76 16h0m-22 4h0m-29-3h0m-4-14h0m-93 19h0m-18-10h0m0-10h0m18 31h0m28 12h0m16-5h0m0 5h0m56-7h0m12 0h0m4 8h0m24-13h0m34 5h0m9 6h0m0-2h0m27-3h0m6 6h0m15-18h0m4 19h0m18-19h0m13 0h0m5 16h0m6-9h0m1 7h0m4-5h0m13 10h0m0-12h0m5 6h0m0-11h0m3-1h0m1 4h0m0-3h0m0-3h0m5 16h0m1-7h0m4 4h0m16-13h0m3 14h0m3-12h0m9 6h0m3 12h0m4-22h0m7 14h0m7 4h0m5-12h0m26-1h0m-42 27h0m-5-1h0m-3-6h0m-6 0h0m-5 17h0m-2-19h0m-7 8h0m-5 15h0m-2-10h0m-5 9h0m-3-3h0m-10-4h0m-1 1h0m-16-10h0m-7-1h0m-3-5h0m-5 12h0m-9 4h0m-1-10h0m-24 16h0m-26-17h0m-4 12h0m-1 4h0m-5-18h0m-13 18h0m-8-2h0m-5-5h0m-12-9h0m-10 7h0m-4-12h0m-18 3h0m-7 19h0m-20-9h0m-10 3h0m-28-9h0m0-2h0m-9 8h0m0-10h0m-74 31h0m0-1h0m18 1h0m28 2h0m16 9h0m0-12h0m0 1h0m21 11h0m7 1h0m12 1h0m9-7h0m10-3h0m6 2h0m9-15h0m5 21h0m1-1h0m0-7h0m8 3h0m2-15h0m0 0h0m14 15h0m3-4h0m7-6h0m5 0h0m3 5h0m3 10h0m1-3h0m5 4h0m4-9h0m7-11h0m0 14h0m3-5h0m1 7h0m1-16h0m7 20h0m1-7h0m1-6h0m2 6h0m6-9h0m2 2h0m12 14h0m3-16h0m9 13h0m2 1h0m17-4h0m12-12h0m12 19h0m11-1h0m1-15h0m1-2h0m4 5h0m2-5h0m8 0h0m0 7h0m8 5h0m2 0h0m5-9h0m2 10h0m4-9h0m2-9h0m6 12h0m8-2h0m4 11h0m6-4h0m2-11h0m18 14h0m2-10h0m3 12h0m17 11h0m-8-8h0m-7 22h0m-5-10h0m0 2h0m-3-6h0m-15 11h0m-8-2h0m-7-6h0m-4 10h0m-7-19h0m-15 2h0m-2 10h0m-5-12h0m-5 0h0m-8 19h0m0-3h0m-4-8h0m-3-5h0m-4-5h0m-3 1h0m-7 9h0m-5 7h0m0-1h0m-4 1h0m-2-13h0m-1 5h0m-4 3h0m-6-8h0m-1 8h0m-12-12h0m-1 20h0m-8-3h0m-2-5h0m0 2h0m-2-7h0m-6 5h0m0-11h0m-5 7h0m-3 1h0m-10 7h0m-11-16h0m-19-1h0m-3 13h0m-2 5h0m-5 0h0m-2-9h0m0-8h0m-2 0h0m-5 17h0m-10-12h0m-11 0h0m-2 14h0m-1-9h0m-1-11h0m-4 10h0m-1 8h0m-3-12h0m0 10h0m-7-3h0m0 1h0m-9-1h0m-3-1h0m-7 0h0m-37-3h0m-12 11h0m-44-9h0m0-5h0m0 4h0m-18 0h0m0 6h0m0-7h0m0 27h0m0-10h0m18 15h0m0-16h0m28 16h0m16-5h0m0-10h0m12 4h0m22 12h0m11-13h0m0 4h0m8-2h0m0 6h0m20-13h0m1 23h0m3-23h0m11 4h0m3-2h0m1 12h0m1-3h0m3-9h0m6 8h0m2-10h0m3 7h0m3 4h0m0-4h0m5 0h0m4 9h0m4-14h0m1 15h0m4-14h0m11 7h0m3-5h0m0-4h0m1 21h0m2-10h0m0 2h0m2-7h0m9 5h0m9-11h0m20 16h0m9 1h0m5-18h0m14 0h0m1 1h0m3 14h0m3-10h0m27 3h0m4 1h0m28-5h0m2 4h0m4-7h0m2 11h0m7-9h0m1-1h0m8-2h0m11 18h0m15 5h0m10-16h0m2-7h0m1 15h0m-159 13h0m-25-2h0m-6 8h0m-34 4h0m-6 1h0m-37-5h0m-22 0h0m-32-3h0m-21 3h0m-16 4h0m-46-8h0m0 16h0m0-13h0m0 18h0m0 18h0m0-20h0m0 2h0m18 7h0m28-3h0m0 12h0m37-16h0m7 7h0m25 10h0m12 3h0m70-14h0m1-6h0m7 1h0m10-4h0m2 7h0m21 7h0m42 4h0m24 3h0m52-12h0m-153 23h0m-51-4h0m-37 19h0m0-20h0m-69-3h0m16 46h0m82-2h0m0-7h0m106-1h0m8-5h0m-79 59h0m7 15h0m-124 12h0m123 24h0m62 0h0"/><path d="M1368 2081h0m31-16h0m-36 42h0m-3 4h0m-2-5h0m-248 13h0m32 14h0m148-15h0m39 12h0m11-16h0m6 10h0m1-12h0m3 7h0m3 2h0m8 2h0m6-4h0m55 9h0m-35 25h0m-9-7h0m-1 8h0m-9-5h0m-4 8h0m-1-3h0m-1-14h0m-2 11h0m-1-1h0m-4 6h0m-12-9h0m-4 11h0m-1-7h0m-8-9h0m0 13h0m-3 4h0m-14-20h0m-16 19h0m-36-2h0m-31-15h0m-61 3h0m-52 7h0m-72 5h0m44 4h0m12 2h0m0 3h0m33-2h0m0 11h0m73-9h0m112 17h0m0-3h0m0-7h0m8-3h0m0 5h0m1-12h0m11 4h0m1 11h0m7-8h0m0 4h0m1-5h0m1 12h0m5-3h0m4-7h0m2 13h0m4-5h0m15 2h0m45 24h0m-2-11h0m-8-3h0m-16 6h0m-14 7h0m-4-1h0m-7-6h0m-7 3h0m-1-7h0m-3 11h0m-1-10h0m0 3h0m-2-11h0m-2-1h0m-1 8h0m0 5h0m-1-8h0m-3 17h0m-1-21h0m-4 19h0m-1-20h0m-1 21h0m-3-18h0m-4 13h0m-14-9h0m0-6h0m-2 3h0m-1 19h0m-3-6h0m0-13h0m-4 3h0m-1 12h0m-3-1h0m-2 2h0m-2-15h0m-2 7h0m-44 1h0m-8-11h0m-7 20h0m-8-10h0m-15 9h0m-15-12h0m-43 14h0m-26-11h0m-93-4h0m-18 32h0m0-11h0m0 17h0m46 0h0m28-2h0m0-11h0m47-4h0m21 8h0m23 0h0m20 8h0m12-2h0m11-9h0m7-2h0m5 13h0m11-5h0m4-15h0m15 21h0m2-13h0m8 2h0m6 8h0m9-3h0m14-9h0m1-2h0m5 11h0m4-7h0m4 2h0m4-4h0m1-1h0m0 15h0m3-20h0m1 10h0m3-10h0m8 14h0m9-1h0m10 5h0m7-16h0m2 1h0m8 11h0m25-1h0m15 26h0m-18 5h0m-14-12h0m-6-5h0m-8 11h0m-1 0h0m0-15h0m-6 0h0m-16 13h0m-2-1h0m-1 6h0m-7-1h0m-9-14h0m-4 1h0m-13-1h0m-13-3h0m-8 23h0m-30-16h0m-7 6h0m-19 5h0m-10-8h0m-5-7h0m-10 19h0m-1-1h0m-20-19h0m-2 21h0m-8 0h0m-7-9h0m-1 5h0m-9 0h0m-1-11h0m-1 15h0m-27-10h0m-4-4h0m-4 4h0m-11 8h0m-6-18h0m-7 7h0m-21 4h0m-16-2h0m-28 2h0m-18-2h0m18 15h0m28 15h0m22 5h0m6-21h0m9 0h0m0 11h0m7 4h0m17-4h0m8-9h0m12 0h0m3 6h0m7-10h0m2 22h0m0-14h0m10-8h0m1 14h0m1-2h0m2 8h0m5-11h0m1 2h0m2 10h0m2-2h0m5-7h0m6 5h0m9-9h0m5 10h0m14 0h0m3-14h0m8 1h0m12 0h0m9 8h0m4-12h0m3 9h0m13-8h0m6 17h0m2 0h0m1 0h0m1-15h0m5 14h0m3 1h0m0 2h0m3-10h0m13-2h0m23 10h0m10-15h0m1 10h0m10 7h0m9-4h0m11-8h0m1 3h0m9-12h0m1 21h0m8-17h0m36 18h0m1-16h0m-6 40h0m-3-17h0m-9 2h0m0 11h0m-4-8h0m-7 8h0m-9 5h0m-3-17h0m-5 6h0m-4 0h0m-1 6h0m-7-9h0m-5 0h0m-2 3h0m-2 8h0m-7-2h0m-5-12h0m0 8h0m-4-6h0m-2 9h0m-7-8h0m0 10h0m0 4h0m-5-9h0m-3-2h0m-1-8h0m0 4h0m-2 7h0m-3 1h0m-2-9h0m-3-6h0m-2 6h0m-5 15h0m-4-2h0m-4-14h0m-2 5h0m-2 7h0m-3-2h0m-5 3h0m-1-17h0m-8 5h0m-1 9h0m-6 7h0m-5-10h0m-1-8h0m-5 12h0m-6-9h0m-8 1h0m-5-7h0m-2 12h0m-7-12h0m-25 18h0m-1-17h0m-5 3h0m-3-4h0m0-2h0m0 3h0m-2 1h0m-5-3h0m-7-1h0m-2 13h0m-3 2h0m-20-7h0m-1 3h0m-2 7h0m0-8h0m0-9h0m-1 17h0m-2-15h0m-6 20h0m0-13h0m-3-7h0m-3 0h0m-6 0h0m-35 2h0m0 15h0m-37-14h0m0 0h0m0 9h0m-28-11h0m0 1h0m-18 10h0m0-1h0m0 8h0m0 2h0m0 4h0m18 15h0m28-6h0m16 10h0m0-1h0m12-20h0m0 21h0m0-12h0m9-3h0m7 2h0m6-6h0m4-2h0m7 17h0m7 1h0m4-6h0m9-13h0m10 2h0m5-1h0m4-1h0m4 19h0m19-1h0m3-10h0m1 1h0m5-1h0m1 1h0m17 5h0m3-10h0m5 14h0m1-10h0m5 3h0m14 1h0m2-2h0m3 4h0m4-13h0m7-1h0m3 12h0m9-3h0m2-7h0m18 9h0m2-10h0m20-1h0m7 1h0m16 1h0m2 11h0m6-8h0m7-5h0m1-1h0m4 5h0m5-2h0m23 10h0m6-3h0m27-4h0m3-3h0m9 0h0m-113 22h0m-5 6h0m-28-5h0m-20 18h0m-25-16h0m0 0h0m-3-1h0m-19 20h0m-10-16h0m-34 10h0m-10-1h0m-6-5h0m-5 9h0m-11-15h0m-10 11h0m-4 7h0m-42-14h0m-3-1h0m0 1h0m-16 8h0m0-9h0m-28 10h0m-18-13h0m18 33h0m28-9h0m56 13h0m25-4h0m14 2h0m13-5h0m0-4h0m9 14h0m17-16h0m64-5h0m10 9h0m104 3h0m-80 23h0m-68-2h0m-32 5h0m-24 3h0m-1-8h0m-79 1h0m0-10h0m-12 19h0m-62 20h0m46 4h0m50-13h0m6 13h0m123-17h0m-104 40h0m-108 75h0m9 0h0m43 0h0m29 0h0m4 0h0m48 0h0m131 0h0m7 0h0"/><path d="M1331 2082h0m21-7h0m74 6h0m58 9h0m-77 12h0m-26-7h0m-12 6h0m0 10h0m-11-6h0m-19-5h0m-4 10h0m-308-9h0m232 29h0m70 4h0m18-2h0m10-3h0m3 0h0m0 5h0m1-7h0m4 8h0m4-14h0m1 13h0m9-19h0m3 18h0m2-3h0m8 2h0m53 18h0m-43-1h0m-18 8h0m-3 0h0m-1-15h0m-4 9h0m-9-2h0m-4-7h0m-2 17h0m0-4h0m-3-2h0m-3-13h0m-6 15h0m-2-3h0m0 6h0m-1-14h0m-5-2h0m-12 15h0m-5-3h0m-5-2h0m-6-13h0m-15 14h0m-144-8h0m-81 8h0m16 7h0m28 17h0m25 5h0m9-16h0m140 17h0m3-15h0m20 6h0m16-3h0m5 5h0m1-11h0m1-1h0m1 1h0m2-5h0m2 20h0m1-12h0m0 11h0m0-9h0m4-4h0m2 5h0m2-6h0m2-4h0m1-1h0m0 9h0m3 3h0m4-7h0m3 15h0m31 2h0m23-7h0m-18 27h0m-7-3h0m-5 0h0m-8-1h0m-1-12h0m-1-2h0m-3 10h0m-3 2h0m-1 5h0m-4-10h0m-1 8h0m-3-14h0m-4 1h0m-1 6h0m-6-1h0m-3-5h0m-3 17h0m-2-1h0m-3-5h0m0 7h0m0-7h0m-3 4h0m-2-6h0m0-3h0m-3 0h0m-13 3h0m-14 8h0m-12-18h0m-40 14h0m-30 0h0m-49-8h0m-24-2h0m-41 5h0m0-2h0m-9 7h0m0 0h0m-28-11h0m-14 0h0m-32 35h0m18 3h0m28-9h0m16 13h0m40-17h0m76 17h0m23-20h0m3 8h0m7 2h0m2-5h0m1-1h0m6 8h0m9 3h0m3 6h0m12-21h0m3 19h0m10-16h0m30 9h0m18 8h0m3-20h0m0 7h0m11 11h0m4-19h0m16 13h0m7-14h0m11 13h0m5 8h0m-7 18h0m-4 3h0m0-15h0m-15-3h0m-10 3h0m0 17h0m-22 0h0m-6-19h0m-2 16h0m-3-2h0m-7-7h0m-7-4h0m-23 16h0m-4-17h0m-4 18h0m-13-19h0m-10 10h0m0-3h0m-24 6h0m-5 4h0m-7-9h0m-19 0h0m-4 12h0m-17-5h0m-4 2h0m-1-4h0m-3 7h0m-4-19h0m0 5h0m-13-7h0m-28 6h0m0 9h0m-6 4h0m-7-12h0m-9-2h0m0 13h0m-12-11h0m-62 12h0m18 22h0m44 1h0m12 3h0m0-19h0m0-2h0m9 12h0m35-7h0m26 15h0m5-17h0m7 11h0m4 3h0m3 3h0m2-17h0m2-1h0m1 15h0m6 2h0m15-3h0m6-1h0m4 6h0m0-21h0m1 7h0m0 1h0m0 10h0m3-13h0m1 1h0m13-3h0m1-1h0m1 18h0m0-6h0m3-6h0m5-5h0m3 5h0m2-5h0m14 19h0m7-5h0m8-8h0m5 6h0m1 7h0m1-6h0m10 5h0m11-6h0m10-2h0m7 3h0m0 3h0m0-16h0m8 12h0m5-1h0m4 1h0m4 6h0m4-3h0m26-1h0m8-18h0m4 22h0m5-18h0m13 13h0m16-12h0m5 25h0m-9 12h0m-2-11h0m-1 3h0m-8 2h0m-6-10h0m-1 17h0m-4 4h0m-12-6h0m0-4h0m-7 1h0m-4 0h0m-8 1h0m-1 8h0m-7-14h0m0 12h0m0-1h0m-4-6h0m0-2h0m-3 3h0m-4-14h0m-7 15h0m-1-1h0m-3-7h0m-6-1h0m-2 10h0m-4 2h0m-4-3h0m-3-10h0m-1-4h0m-12 1h0m-2-1h0m-6 20h0m-5-8h0m-4-2h0m-3-9h0m-1 11h0m-6-11h0m-1 4h0m-17 11h0m-1 4h0m-9-4h0m-6-6h0m-6-9h0m-11-1h0m-1 6h0m0 10h0m-5 3h0m-13-16h0m-1 13h0m0-16h0m-8 12h0m-6 0h0m-5 0h0m-14 7h0m-1 2h0m0-17h0m-1 12h0m-5-4h0m-3-13h0m-6 2h0m-15 7h0m-4 11h0m-3-17h0m-4 19h0m-9-17h0m-28-4h0m0 15h0m-28-12h0m0 11h0m-28-8h0m0 12h0m-18-16h0m0 1h0m0 30h0m18-10h0m28 10h0m16 11h0m0-21h0m28 10h0m6 5h0m11-5h0m23-5h0m14 11h0m3-17h0m2 0h0m4 17h0m25-8h0m1-8h0m11 19h0m17-18h0m17-1h0m32 20h0m4-6h0m5 2h0m3-5h0m8 3h0m7-6h0m5 0h0m29-3h0m0 3h0m0-5h0m25 0h0m19 3h0m30-3h0m7-1h0m23 4h0m-55 28h0m-104 11h0m-10-7h0m-30 6h0m-15-17h0m-17 14h0m-25 1h0m-35-15h0m-9 8h0m-14-9h0m-33 18h0m-12-7h0m-16-6h0m-46 5h0m18 31h0m0 0h0m0-13h0m78 3h0m15-10h0m13 11h0m33 4h0m38-6h0m11 7h0m14-13h0m12 4h0m47 2h0m35-2h0m32 26h0m-97 0h0m-13-4h0m-4 8h0m-121 2h0m-49-1h0m0-6h0m-16 33h0m28 5h0m16-19h0m116 10h0m80 9h0m-131 22h0m-53-12h0m-28-7h0m-28 41h0m261-7h0m-200 16h0m-92 42h0m60 0h0m5 0h0m112 0h0"/><path d="M1385 2091h0m-1 14h0m-13-9h0m-9 11h0m-1-16h0m-5-3h0m-6 23h0m-8-14h0m-5 13h0m-27-1h0m-135-18h0m-102 1h0m0 14h0m-28-5h0m114 32h0m50 1h0m115-3h0m14 0h0m3-10h0m9 12h0m7-17h0m4 1h0m3 13h0m1 3h0m13-4h0m27-14h0m18 19h0m7 5h0m-41 10h0m0 10h0m-1-14h0m-3 5h0m-2 9h0m-18-14h0m-7 0h0m0 4h0m-1 9h0m-7-6h0m0-16h0m-4 11h0m-2 9h0m-1-6h0m-1 4h0m0-18h0m-4 23h0m-2-20h0m-2 20h0m-6-17h0m0 6h0m-205-1h0m-19 10h0m-15-10h0m-62-11h0m0 19h0m74 23h0m22 0h0m6-13h0m9 7h0m0 1h0m7 1h0m12 0h0m122 1h0m15 6h0m18 1h0m16-11h0m2 9h0m1 3h0m1-12h0m3-2h0m2 13h0m0-9h0m0 1h0m2-1h0m3-11h0m2 14h0m8-13h0m3 12h0m2-1h0m0 4h0m1-16h0m5 18h0m4-9h0m1-2h0m2 9h0m3-7h0m10-4h0m1-5h0m2 5h0m1-1h0m3 1h0m13 27h0m-7 3h0m-11-8h0m-5-3h0m-1-1h0m-4 17h0m-3 4h0m-6-2h0m-1-17h0m-9-3h0m0 16h0m-9 2h0m-3-9h0m-1 10h0m-2-9h0m-5-6h0m0-4h0m-11 14h0m-3 4h0m-6 2h0m-1-14h0m-6 12h0m-14 3h0m-10-18h0m-7 11h0m-75-10h0m-22 17h0m-66-8h0m-14-8h0m-28-4h0m0 13h0m0-11h0m-46 8h0m0 33h0m46 2h0m16 1h0m21-5h0m7-14h0m12 0h0m5 9h0m17-9h0m32 18h0m54-9h0m15 10h0m2-4h0m3-11h0m4 14h0m36-7h0m1-13h0m2 14h0m6 7h0m14-16h0m3 0h0m8 15h0m10-20h0m18 4h0m9 0h0m8-4h0m8 16h0m1 4h0m37 1h0m4-15h0m-7 33h0m-8-8h0m-14 3h0m-14-1h0m-9 12h0m-2-23h0m-11 20h0m-17-18h0m-5 2h0m-2 9h0m-6 1h0m-21 7h0m-9-9h0m-3 8h0m-1-14h0m-17 2h0m-6 9h0m-2 3h0m-33-7h0m-8-6h0m-9-7h0m-1 4h0m-10 18h0m-10-1h0m-27 0h0m-6-4h0m0-2h0m-6-7h0m-1 14h0m-13 0h0m-6-3h0m-25-19h0m0 22h0m-28 1h0m-44-7h0m-18-7h0m18 20h0m28 14h0m0-2h0m65 4h0m0-12h0m0 11h0m7-4h0m3-13h0m1 5h0m3 14h0m10-6h0m3 6h0m1-18h0m0 11h0m2 4h0m0 0h0m4-4h0m1-10h0m4 10h0m5-5h0m4 5h0m2-1h0m4-14h0m6 8h0m0 12h0m1-2h0m5-1h0m2-2h0m4-2h0m17 5h0m2-7h0m1 12h0m5-18h0m1-2h0m0 15h0m0-9h0m10-3h0m14 15h0m2 0h0m9-4h0m7-3h0m13-8h0m3 9h0m1-5h0m2 3h0m13 2h0m1-6h0m9-7h0m1 2h0m1-2h0m5 18h0m9-3h0m9 6h0m2-4h0m10-2h0m6-16h0m5 16h0m3-16h0m12 7h0m6-8h0m10 20h0m12-9h0m2 1h0m7 2h0m14 22h0m-1-8h0m-1 9h0m-1 1h0m-1 9h0m-1-8h0m-16 6h0m0-6h0m-10-2h0m-4-5h0m-2 13h0m-19-9h0m0 10h0m-4-11h0m-5-5h0m-10 13h0m-7-1h0m-2-16h0m-1 6h0m0-6h0m-3 8h0m-6 2h0m-2-7h0m-4-2h0m-2 17h0m-8-2h0m-7-10h0m-3-6h0m-5 6h0m-16-1h0m-5 1h0m-16 9h0m-1 4h0m-5-7h0m-1 7h0m0-14h0m-3 12h0m0 0h0m-12-17h0m-2 3h0m-2-1h0m-1 16h0m0 0h0m-5 2h0m-8-22h0m-2 9h0m-4 12h0m-2-20h0m-2 20h0m0-5h0m-10-6h0m-2 3h0m-1 6h0m-2-4h0m-4-6h0m-1-4h0m-1 7h0m-7-7h0m0 7h0m0 7h0m-7-11h0m-2 9h0m-8 3h0m-1-20h0m-3 12h0m0 0h0m-1 8h0m-1-19h0m-4 7h0m-3 12h0m-1-5h0m-9-11h0m-20 16h0m-17-12h0m-7 10h0m-9-7h0m-56-7h0m-18-2h0m0 20h0m0 0h0m0-10h0m0-5h0m0 25h0m0-3h0m18 5h0m28 5h0m16-14h0m0 4h0m28 11h0m12-2h0m0-7h0m5 13h0m8-6h0m15-9h0m4-1h0m7 18h0m18-6h0m5-7h0m3 12h0m5-10h0m2-7h0m1-2h0m5 5h0m20-5h0m7 1h0m17-3h0m0 8h0m3 3h0m11-3h0m2 2h0m13-8h0m2 2h0m10 0h0m6 8h0m4 7h0m13-13h0m3-4h0m20 15h0m11-9h0m4-8h0m8 8h0m22-4h0m22 4h0m5-5h0m2 1h0m25 2h0m-110 36h0m-23 2h0m-3-16h0m-13 17h0m-9-9h0m-3-4h0m-2 11h0m-19-8h0m-4 7h0m-10-9h0m-44-4h0m-4-4h0m-17 1h0m-7 8h0m-21 0h0m-4 2h0m-21 1h0m-13-6h0m0 13h0m-9-5h0m0 5h0m0 2h0m-4-5h0m-8-5h0m-62 5h0m0 5h0m62 24h0m0-14h0m12 8h0m9 7h0m7-6h0m42-17h0m0 12h0m15 2h0m20-5h0m10 9h0m15-6h0m17-10h0m18 11h0m26-7h0m50 12h0m-49 11h0m-45 12h0m-17 3h0m-16 2h0m-34-11h0m-46 1h0m-6 6h0m-7-17h0m-65 15h0m28 26h0m28-18h0m0 15h0m22-12h0m83 10h0m32-1h0m86-7h0m16 10h0m-313 23h0m54 79h0m32 0h0m35 0h0m66 0h0m23 0h0"/><path d="M1341 2072h0m34 15h0m17 24h0m-9-18h0m-14-5h0m-1 2h0m-5 3h0m-13 12h0m-10-13h0m-295 39h0m28-8h0m61 8h0m193-5h0m1-1h0m0-6h0m10 13h0m1-6h0m22 7h0m1-21h0m6 11h0m9-10h0m40 25h0m-12 5h0m-28 9h0m-1-5h0m-2 3h0m-9-5h0m-3 1h0m-1 2h0m-2 7h0m-1 3h0m-14-12h0m-7 7h0m-15-10h0m-13-6h0m-3 4h0m-147 12h0m-30 1h0m0-9h0m-28 1h0m-74 10h0m0-1h0m46 18h0m16-7h0m21 10h0m35-11h0m33 12h0m49-4h0m31-8h0m33 8h0m13 2h0m17-1h0m6-10h0m1 11h0m12-8h0m0 15h0m4-10h0m2-11h0m1 2h0m2 17h0m0 1h0m4-4h0m0-13h0m5-4h0m6 8h0m0 14h0m3-19h0m2 1h0m2 3h0m2 4h0m2-9h0m3 20h0m0-13h0m15 9h0m18 3h0m28 11h0m-6-2h0m-1 5h0m-20-4h0m-20-2h0m-1 17h0m-7-13h0m-4 12h0m-2-9h0m-4-8h0m-1 1h0m-7 16h0m-3-9h0m-2-4h0m-3 13h0m-2-16h0m-4 7h0m-2 2h0m-3-12h0m-3 1h0m-1 13h0m-4 6h0m-8-21h0m-2 13h0m-10 1h0m-40-3h0m-20 9h0m-15-8h0m-127-3h0m-44-5h0m0-1h0m-46 34h0m46-1h0m16 4h0m34 6h0m15-7h0m7 2h0m29-4h0m53 9h0m9-16h0m46-4h0m5 4h0m7-6h0m8 11h0m6-3h0m4-5h0m10-1h0m5 0h0m2 15h0m9-12h0m0-2h0m5 9h0m7-3h0m7 2h0m3-3h0m2-8h0m4 21h0m1-22h0m2 16h0m5-9h0m4 7h0m4-8h0m9 5h0m27 9h0m23-7h0m-11 15h0m-8 7h0m-12-8h0m-19 20h0m-6-3h0m-1-7h0m-1 1h0m-3-11h0m-1 0h0m-14 11h0m-7-6h0m-2 8h0m-3 1h0m-1-10h0m-6-2h0m-10 10h0m0-14h0m-1 15h0m-8 3h0m-6-4h0m-10-9h0m0 13h0m-3 0h0m0-2h0m-8 0h0m-5-10h0m-6-6h0m-10 15h0m-19-2h0m-8-6h0m-13-7h0m-1 6h0m-24 6h0m-13 8h0m-3-9h0m-16 6h0m-155-13h0m0 13h0m0 19h0m18-9h0m0 0h0m0 4h0m0 6h0m28-4h0m0-10h0m16 1h0m0 0h0m34 8h0m0 11h0m19-15h0m20-4h0m0 15h0m2 5h0m0 2h0m1-6h0m5-3h0m1-12h0m2 7h0m11 7h0m7 1h0m6-7h0m0-1h0m7 9h0m1 3h0m5-7h0m2-7h0m11 11h0m2-6h0m1-2h0m2-8h0m2 6h0m11-6h0m0 0h0m0 1h0m1 0h0m4 14h0m9-16h0m2 13h0m26 6h0m5 0h0m8 2h0m1-1h0m4-15h0m0-6h0m13 23h0m4-19h0m1 17h0m4-15h0m1 17h0m3-14h0m4 11h0m11 3h0m7-21h0m1 6h0m2-3h0m11 1h0m6 5h0m3-6h0m19 15h0m4-1h0m0-6h0m0-5h0m9 7h0m9-3h0m21 29h0m-1 1h0m-2 0h0m-4-5h0m-1 10h0m0-21h0m-6 8h0m-6 9h0m-12-14h0m-2 9h0m-2 8h0m-4-4h0m-2-9h0m-3 14h0m-2-4h0m0 3h0m-1-15h0m-11 13h0m-4 2h0m-3-5h0m-2-16h0m-11 15h0m-2-11h0m-10 15h0m-4-7h0m0-6h0m-2 11h0m-7-13h0m-11 3h0m-5 9h0m-1 2h0m-1-11h0m0 14h0m0-21h0m-6 15h0m-14-7h0m-5-7h0m-9 6h0m0-5h0m-2 9h0m-1 9h0m-7-16h0m0 14h0m-7 2h0m-6-20h0m-1 8h0m-7 7h0m0-13h0m-2 1h0m-4 6h0m-6-8h0m0 12h0m-4 9h0m-5-7h0m-1 0h0m-4-11h0m0 9h0m-9 0h0m-14 6h0m-4-5h0m-2-13h0m-3 13h0m-14-5h0m-5-10h0m-7 23h0m-4-17h0m-2-1h0m-9 0h0m-3-1h0m-56 0h0m0-1h0m0 18h0m-16-1h0m-46 5h0m0 8h0m18 3h0m55 6h0m1-4h0m9-13h0m7-1h0m0 10h0m12 13h0m9 0h0m4-22h0m6 8h0m17 0h0m0 0h0m0 13h0m7-14h0m3 14h0m2-16h0m4-5h0m2 4h0m2 18h0m11-16h0m22 6h0m10 6h0m3-17h0m2 12h0m2-4h0m8 9h0m11-18h0m7 0h0m12 13h0m5-11h0m0 13h0m25 3h0m10-7h0m0-8h0m57 1h0m7-1h0m9 0h0m1 0h0m25 6h0m17-6h0m4-4h0m5 2h0m-66 37h0m-5 3h0m-52-13h0m-25 18h0m-12-8h0m-1 2h0m-13 5h0m-29-16h0m-90 17h0m-44-5h0m-28-18h0m0 5h0m-28 7h0m0 5h0m0 7h0m30 16h0m14-14h0m0 4h0m28 4h0m12-9h0m5 14h0m54-3h0m7-3h0m51-7h0m1 20h0m9-22h0m40 23h0m64-6h0m-6 9h0m-81 15h0m-104-1h0m-3-8h0m0 10h0m-18-14h0m-3 12h0m0-2h0m-16-2h0m0 9h0m-102 19h0m62-13h0m45 5h0m0 1h0m11 12h0m12-5h0m150-10h0m8-1h0m92-2h0m-120 23h0m-121 9h0m-12-10h0m-109 16h0m289 7h0m-290 69h0"/><path d="M1122 2039h0m266-22h0m-6 31h0m-5 54h0m-7-10h0m-16 7h0m-56 2h0m-12 1h0m-241 13h0m229 15h0m46 4h0m30-10h0m0 4h0m6-8h0m8-5h0m8 20h0m24-15h0m20 1h0m5-9h0m-27 26h0m-15 0h0m-4 7h0m-8 2h0m-12 4h0m-3-1h0m-2-4h0m0 10h0m-1-10h0m-1 9h0m-179-13h0m-15-6h0m-6 16h0m-14 3h0m-45-3h0m174 22h0m54-1h0m10 0h0m1 5h0m1-9h0m3 2h0m4-10h0m3 22h0m3-5h0m3 4h0m1-5h0m1 1h0m9-16h0m0 14h0m7-5h0m0-4h0m1-5h0m14 17h0m0-12h0m3 0h0m1 4h0m0-9h0m54 34h0m-9-1h0m-17 3h0m-11-5h0m-5-9h0m-13 1h0m-4 17h0m-1-13h0m-1 12h0m-2-6h0m-4 7h0m-6-15h0m0 13h0m-4 1h0m-2-13h0m-1-4h0m-5 12h0m0 2h0m-1 7h0m-1-21h0m-1 2h0m-7 0h0m-2 3h0m-7 5h0m-3 9h0m-1-14h0m-9 2h0m-1 1h0m-5-5h0m-3 13h0m-1-3h0m-19 9h0m-41 0h0m-11-18h0m-7 17h0m-27-7h0m-8 6h0m-11-1h0m-37-13h0m-14 0h0m-17 1h0m0 2h0m-16 1h0m-74 37h0m0-3h0m18-19h0m0-1h0m44 17h0m21-14h0m32 4h0m54 11h0m5-6h0m2-12h0m7 22h0m4-1h0m26-12h0m13 13h0m4-19h0m14 19h0m3-19h0m8 16h0m19-12h0m6 10h0m4-14h0m4 10h0m5-10h0m16 17h0m2-20h0m19 9h0m15-1h0m0 13h0m5-8h0m12-2h0m18-8h0m26 43h0m-18-11h0m-12 2h0m-6 8h0m-1-12h0m-14 2h0m-5 2h0m-1-4h0m-16-3h0m-1 17h0m-2-6h0m-7 0h0m-12-14h0m-4 7h0m-2-7h0m-1 7h0m-45 11h0m-1-20h0m-10 0h0m-2 12h0m-2 8h0m-24-16h0m-1 0h0m-1-2h0m-3 5h0m-5-3h0m-14 9h0m-9-7h0m-39 4h0m-27-3h0m-3 4h0m0 5h0m-2 3h0m-9 0h0m-33 1h0m-12-7h0m-16-12h0m-28 21h0m0-9h0m0-4h0m-18 16h0m18 7h0m65-3h0m13 11h0m6 0h0m5-9h0m25-2h0m3 15h0m5-2h0m9-18h0m10 12h0m4-6h0m9 3h0m4-1h0m16 6h0m1-14h0m7 1h0m5 7h0m3 12h0m1-9h0m4 0h0m0-11h0m2 20h0m9-15h0m8 14h0m2-5h0m1 1h0m10 1h0m1 6h0m1-14h0m3 13h0m6 0h0m8-12h0m1-4h0m10 11h0m3 4h0m6-21h0m9 1h0m3 9h0m3 12h0m3-7h0m4-3h0m9-8h0m9 2h0m1 10h0m6-9h0m0 8h0m7-2h0m7-12h0m5 18h0m3-8h0m8 7h0m10-9h0m40 32h0m0-2h0m-7-11h0m-4 14h0m-3-3h0m0-2h0m-11 9h0m-4-20h0m-2 20h0m-3-8h0m-1 9h0m-2-1h0m-4-12h0m-2-7h0m-4-1h0m-3-2h0m-4 4h0m-2-3h0m0 2h0m-1 7h0m-7 1h0m-1-5h0m-3-1h0m-3 4h0m-8-9h0m-2 1h0m-2 1h0m-1 21h0m-4-21h0m-6 15h0m-4-17h0m-7 11h0m-3-9h0m0 20h0m-6-16h0m-2 9h0m-1-9h0m-3 5h0m-10-10h0m-14 13h0m-13-1h0m-3-5h0m-10 11h0m-5 3h0m-5-20h0m-7 18h0m-6-17h0m-1-2h0m0 8h0m-2-6h0m-7 12h0m-8 0h0m-1 2h0m-3-4h0m-2 9h0m-3-18h0m-3 0h0m-1 8h0m-2-3h0m-10 0h0m-2-9h0m-2 19h0m-8-6h0m-2-1h0m-1-3h0m-3-4h0m-1 4h0m-4 0h0m-4-6h0m0 16h0m-3-7h0m-4-6h0m-1 3h0m-3 5h0m0-8h0m0 13h0m-10-7h0m-12-6h0m-8 12h0m0-16h0m-45 4h0m-16 12h0m-46 6h0m0 0h0m0 14h0m53 9h0m9-16h0m0 16h0m49-16h0m0-7h0m7 20h0m17-11h0m2 3h0m3-6h0m4-6h0m12 10h0m1-10h0m14 23h0m2-21h0m3 3h0m1 5h0m17-4h0m4 15h0m10-17h0m7-1h0m8 10h0m2 0h0m4 9h0m3-22h0m5 14h0m1-5h0m10 2h0m0 5h0m1-12h0m4-2h0m0 7h0m2 0h0m14-5h0m0 0h0m2 2h0m3-4h0m6 21h0m19-23h0m2 1h0m14-1h0m7 11h0m7-8h0m3 4h0m8 4h0m5-10h0m40 2h0m5 1h0m2 0h0m0-2h0m-68 37h0m-15 8h0m-22 0h0m-18-5h0m-26-3h0m-13 8h0m-8-22h0m-13 9h0m-5-1h0m-15-9h0m-32 1h0m-8 16h0m-5-10h0m-3-2h0m-45 4h0m-6-4h0m-28-1h0m-16-1h0m-46 9h0m0-10h0m0 22h0m18 22h0m56-18h0m16 13h0m6-17h0m19 10h0m0 6h0m15-2h0m57-7h0m36-7h0m6 5h0m37 18h0m0-21h0m11 1h0m7 0h0m45 14h0m-14 17h0m-56 2h0m-241-6h0m0 8h0m-18 30h0m118 3h0m46-23h0m42 17h0m40-7h0m2-8h0m92 7h0m-104 30h0m-118-14h0m-118 15h0m84 77h0m182 0h0"/><path d="M1292 2063h0m44 2h0m27 29h0m-3 7h0m-11 9h0m-17-8h0m-2 5h0m-44-2h0m-185 5h0m0 0h0m-74-18h0m0 34h0m298 9h0m0-6h0m8-8h0m0 14h0m12-11h0m74 8h0m1-5h0m5 21h0m-36-4h0m-13 6h0m-5 6h0m-5-13h0m-2 2h0m-4-4h0m-10 3h0m0 2h0m-4 0h0m-7 2h0m-7 10h0m-5-7h0m-5 3h0m-50-9h0m-27 3h0m-2-4h0m-18-2h0m-9 16h0m-171-20h0m-18 37h0m46 2h0m0 0h0m65-10h0m4-5h0m46 21h0m20-6h0m38 6h0m10-23h0m30 16h0m7 1h0m0 2h0m1-8h0m43 10h0m2-16h0m1 7h0m0 6h0m6 4h0m3-9h0m2 10h0m5-18h0m3 8h0m2-4h0m1-9h0m5 23h0m2-16h0m3 11h0m8 3h0m5-16h0m8 7h0m36-2h0m4 37h0m-15-2h0m-14-5h0m-20-15h0m-10 14h0m-3 3h0m-2-18h0m-1 0h0m-1 0h0m-1 18h0m-10-11h0m-3-5h0m-3 11h0m-1-10h0m-25 12h0m-3-4h0m-10 10h0m-3-1h0m-8 0h0m-10-19h0m-14 12h0m-4 1h0m-1-14h0m-98 19h0m-1-9h0m-15 13h0m-6-4h0m-9-11h0m-97 3h0m-18 26h0m0 7h0m0-3h0m18-5h0m65 7h0m0-16h0m7 14h0m44-9h0m19 9h0m70-1h0m5 0h0m3-13h0m22 12h0m30-4h0m13-3h0m18 10h0m2-8h0m3-5h0m1-1h0m3 14h0m2-8h0m1 6h0m6-6h0m4-8h0m7-1h0m1 22h0m1-9h0m5-11h0m2-1h0m6 17h0m0-3h0m14 3h0m5 3h0m10-20h0m12 20h0m1 15h0m-12-2h0m0 10h0m-6-7h0m-2 0h0m-14-5h0m-7 2h0m-3-5h0m-9 17h0m-7-9h0m-9-13h0m-8 6h0m-3 7h0m-1-12h0m-11 17h0m-3-18h0m0 8h0m-2-1h0m-3 9h0m-10-9h0m-12-7h0m-13 19h0m-9 1h0m-1-11h0m-20 11h0m-5-2h0m0 4h0m-12-1h0m0-14h0m-9 2h0m-5 5h0m-12-5h0m0 5h0m-6-6h0m-1 9h0m-10-7h0m-16 0h0m-20-9h0m-12 16h0m-3-4h0m-9-8h0m0 7h0m-4-10h0m-21 15h0m-7-3h0m0-11h0m-21 17h0m-62-18h0m0 18h0m0 19h0m18-2h0m0-7h0m0-2h0m28 18h0m0-10h0m16-13h0m28 13h0m0 0h0m21 1h0m0-4h0m4 7h0m6-6h0m16-9h0m0 17h0m17-5h0m2 2h0m2-14h0m15 20h0m4-14h0m3 8h0m0 3h0m1-4h0m3-5h0m1 8h0m2-13h0m9-1h0m3-2h0m0 7h0m9 14h0m4-22h0m10 4h0m8-2h0m2 13h0m5 4h0m0-4h0m7-9h0m1 15h0m2 1h0m10-18h0m10 12h0m5-4h0m10-5h0m5-7h0m1 17h0m5 4h0m4 1h0m22-22h0m1 1h0m0 13h0m7-12h0m8 19h0m0-10h0m2 11h0m1-11h0m4 3h0m14 4h0m3-14h0m9 10h0m15-4h0m4 2h0m2 10h0m22 15h0m-1-2h0m-7-3h0m-1 6h0m-9-3h0m-14 9h0m-6-4h0m-6 2h0m0-8h0m-9-4h0m-1 12h0m0 3h0m-2-17h0m-4 18h0m-2-22h0m-6 17h0m-1-5h0m-1-7h0m-7-4h0m0-2h0m-2 22h0m-1-14h0m-5 7h0m-7-11h0m0 9h0m-4 9h0m0-22h0m-17 11h0m-3 12h0m0-23h0m-4 5h0m0-2h0m-3 7h0m-1-6h0m-1 11h0m0-14h0m-3 13h0m-14-7h0m-6 12h0m-3-18h0m-1 7h0m-2-2h0m-2 0h0m-1-1h0m-3 12h0m-3-6h0m-4 7h0m0-15h0m0 17h0m-9-10h0m-15-6h0m0 7h0m-5 1h0m-6 11h0m-4-12h0m-5-8h0m-2 15h0m-4-18h0m-9 10h0m0-10h0m-4 9h0m0 5h0m-1-10h0m-6 0h0m-2 18h0m-3-1h0m-2-19h0m-3 10h0m-5-7h0m-4 1h0m-2 7h0m-2 4h0m0 6h0m0-4h0m-2-17h0m0 9h0m-1 0h0m0 0h0m0-4h0m-3 5h0m-4 0h0m0 10h0m-3-14h0m0 7h0m0-11h0m-2 11h0m0-5h0m-12 13h0m-17-17h0m-14-3h0m-3-2h0m0 17h0m-16-12h0m-12 0h0m-16 8h0m0-10h0m-28 9h0m0-2h0m-18 6h0m0 12h0m18-4h0m56 11h0m0 1h0m9-2h0m7-7h0m0 12h0m6-1h0m11 4h0m4-15h0m0 16h0m12-9h0m12-10h0m1 6h0m1-5h0m1 2h0m4-2h0m2 1h0m2 0h0m6 13h0m2-14h0m1 8h0m10 5h0m10-5h0m11-3h0m3 1h0m9 5h0m6 0h0m2-8h0m7-4h0m23 0h0m2 14h0m14-4h0m7-10h0m30 11h0m3 0h0m12 2h0m8-9h0m6 13h0m1-18h0m3 18h0m2-17h0m20 8h0m0-4h0m3 17h0m30-11h0m15-10h0m5 0h0m3 1h0m1 6h0m5-7h0m-36 29h0m-75 0h0m-42-5h0m0 7h0m-6 8h0m-20 1h0m-16 2h0m-3-4h0m-32 4h0m-10-17h0m-29 13h0m-10-15h0m-3 11h0m-17-6h0m-17 4h0m-7 1h0m-65-10h0m-18 20h0m0 16h0m46-1h0m16-1h0m65 7h0m13-8h0m12 8h0m42-11h0m47 5h0m12-11h0m76 15h0m2-9h0m156 32h0m-139-12h0m-32 7h0m-25 8h0m-2-7h0m-62-9h0m-57 10h0m-26-4h0m-17-4h0m-127 22h0m167 13h0m19 8h0m10 0h0m41-6h0m-76 24h0m-78-8h0m-83 2h0m0 20h0m266 63h0"/><path d="M1306 2050h0m-233 23h0m286 14h0m10-23h0m9 21h0m24-16h0m8 13h0m-42 27h0m-15-12h0m-11 9h0m-42 4h0m-33-2h0m-194 13h0m44-8h0m31 4h0m131 15h0m40-9h0m1 10h0m21-12h0m2-6h0m18 7h0m0-10h0m2 18h0m30 16h0m-12-6h0m-13 17h0m-2 1h0m-1 1h0m-3-10h0m-1 10h0m-5 0h0m-1-23h0m-4 3h0m-12-3h0m-2 17h0m-3-9h0m-1 12h0m-2-10h0m-4 4h0m-1-14h0m0 13h0m-3-2h0m-3-11h0m-5 13h0m-14 5h0m-77-11h0m-114 3h0m-65 22h0m17-2h0m76 0h0m0-6h0m7 18h0m6 4h0m3-22h0m26 8h0m19 3h0m5 2h0m77 3h0m34 5h0m4-15h0m2 14h0m7 0h0m0-14h0m7-3h0m0 0h0m6 17h0m0-15h0m4 16h0m7-12h0m4 6h0m3-9h0m3 16h0m3-16h0m0-5h0m4 11h0m5-8h0m6 3h0m21-7h0m1 21h0m4-2h0m1-8h0m7 3h0m15-14h0m-5 26h0m-2 6h0m-44 9h0m-5-7h0m-7 4h0m0-10h0m-1-4h0m-2 5h0m-11-1h0m-8-2h0m-2 7h0m-3-9h0m-3 9h0m-12 3h0m-7 3h0m-1 3h0m0-18h0m-6 10h0m-2 3h0m-66-6h0m-19-2h0m-18 12h0m-19-9h0m-11-1h0m-27 5h0m-3 2h0m-7-5h0m-4-5h0m-89 7h0m0 28h0m44 2h0m12-15h0m9-1h0m28 10h0m44 0h0m7-10h0m2 19h0m4-6h0m17 7h0m34-5h0m21 7h0m21-11h0m4 4h0m4-8h0m18 6h0m12-6h0m1 2h0m4-2h0m6 7h0m1 5h0m1-17h0m1 14h0m4-4h0m3-11h0m2-1h0m1 20h0m0 0h0m7-9h0m2 11h0m0-1h0m2-13h0m1-8h0m2 10h0m3 9h0m7-20h0m9 20h0m10-2h0m8-7h0m1 11h0m4-7h0m3-3h0m1 35h0m-15-19h0m-1 18h0m-6-20h0m-1 6h0m-11 9h0m-15-4h0m-3-10h0m-2-1h0m-6 8h0m-2 2h0m-15 0h0m0-11h0m-1 11h0m-3 10h0m-1-3h0m-11-5h0m-4 5h0m-1 2h0m-11-1h0m-5-6h0m-13-1h0m-5-5h0m-2 12h0m-3-9h0m-10-8h0m-2 0h0m-33 10h0m-17 7h0m-3-3h0m-39-14h0m-27 4h0m-8 1h0m-17-3h0m-2 1h0m-5 13h0m-37-15h0m-46 0h0m0 3h0m0-3h0m0 32h0m18-8h0m44-1h0m0 5h0m0 0h0m21-3h0m32 10h0m12-8h0m10-2h0m0 11h0m3-12h0m5 6h0m4 8h0m2 1h0m2-6h0m2-3h0m1 9h0m7-16h0m1 5h0m8 14h0m1-15h0m0 13h0m14-3h0m0 0h0m6 3h0m2 1h0m3-17h0m5 0h0m1 19h0m6-19h0m2 16h0m5-2h0m1 1h0m7 1h0m5-8h0m1-3h0m4 12h0m1-15h0m16 9h0m3-4h0m2 10h0m8-21h0m1 16h0m8-13h0m9 12h0m8-7h0m4 11h0m2 2h0m2-15h0m2 0h0m14 15h0m7-7h0m0-14h0m26 21h0m4-15h0m10-3h0m8 9h0m3 10h0m14-8h0m25 24h0m-2-3h0m-8 8h0m-2 0h0m-6 1h0m-1-20h0m-4 9h0m-3 2h0m-2-1h0m-1 9h0m-5 1h0m-2 2h0m-3-16h0m-14 0h0m0-2h0m-1 4h0m-2 11h0m-4-10h0m-6-5h0m-2 13h0m0-13h0m-6 12h0m-3-12h0m0-1h0m-5-1h0m-2 12h0m-1-12h0m0 7h0m-1 1h0m-9-8h0m-5 0h0m-4 16h0m-4-14h0m-7 18h0m-5-17h0m-2 0h0m-4-5h0m-10 1h0m-10 14h0m-15-2h0m0-11h0m0 9h0m-1 9h0m-6-4h0m-1-3h0m-4-10h0m-8 12h0m-8 1h0m0-2h0m-4 5h0m-13-13h0m0-3h0m-2 13h0m-12 5h0m-2 0h0m-2-13h0m-3-6h0m-18 7h0m-9-8h0m-13 10h0m-3-8h0m0 16h0m-1 2h0m-11 2h0m-12-4h0m-11 3h0m-17-19h0m-28-3h0m-62 19h0m0-8h0m0 29h0m0 6h0m46-14h0m0-2h0m28 13h0m9-16h0m13 7h0m11 3h0m0-2h0m14 12h0m1-15h0m17-5h0m3 5h0m12 6h0m5-2h0m3 8h0m23-1h0m3 4h0m10-2h0m6-9h0m14 5h0m4-12h0m1 4h0m4 12h0m3-20h0m7 0h0m16 16h0m8 2h0m19-8h0m2-6h0m7 5h0m2-9h0m9 5h0m2 10h0m13-6h0m5 5h0m1-5h0m29-9h0m4 7h0m8-6h0m26 2h0m10 0h0m10 0h0m-4 38h0m-46-8h0m-26 1h0m-48 1h0m-33 7h0m-33 1h0m-10-14h0m-1-4h0m-38 14h0m-8-5h0m-7-5h0m-10 11h0m-12 3h0m-11-2h0m-5 0h0m-14-10h0m-12 5h0m-72-13h0m-18 16h0m83 12h0m80 11h0m20-15h0m28 5h0m10 12h0m55 1h0m35-7h0m8-4h0m-31 29h0m-81-9h0m-133-2h0m-12 20h0m0-17h0m-16 4h0m-46 10h0m18 18h0m44 5h0m12 3h0m0-9h0m37 2h0m37 15h0m-58 41h0m6-5h0m52-7h0m27 60h0"/><path d="M1368 2051h0m-15 1h0m-280 17h0m266-2h0m22 8h0m3-2h0m31 22h0m-14 8h0m-5-1h0m-13 1h0m-253 25h0m223 4h0m4-20h0m17 18h0m0-17h0m13 7h0m2 14h0m17-6h0m49 8h0m-21 4h0m-35-4h0m-6 17h0m-2-11h0m-8 12h0m-11 3h0m-10-6h0m0 6h0m-1-9h0m-1 10h0m-4 0h0m-12-8h0m-7-4h0m0 3h0m-2 5h0m-29 4h0m-2-11h0m-23 7h0m-132-3h0m-56-9h0m-28 41h0m78-10h0m139-12h0m50 22h0m8-1h0m9-20h0m9 19h0m1-18h0m1 2h0m1 13h0m0 2h0m1 0h0m1 1h0m1-6h0m1-9h0m6 5h0m4 11h0m1-9h0m0-11h0m0 3h0m1 11h0m4 6h0m1-9h0m4 5h0m0-4h0m1 5h0m3-3h0m3-10h0m7 0h0m2 10h0m6 7h0m6-16h0m25 38h0m-39-12h0m-2-8h0m-8 13h0m-2-11h0m-1 19h0m-7-16h0m-1 10h0m-1-11h0m-5 0h0m-6 8h0m-4-13h0m-2 2h0m-1 21h0m-4-14h0m-3-2h0m-9-1h0m-3 6h0m-32 2h0m-11-5h0m-109 0h0m-3 2h0m-7 5h0m-17 6h0m0-2h0m-32 1h0m-83 0h0m0-19h0m0 8h0m0 4h0m74 30h0m16-13h0m50 0h0m1-7h0m5 17h0m32-10h0m7 5h0m6 1h0m13 2h0m57 2h0m9-13h0m18-4h0m11 8h0m13-4h0m2 4h0m1-4h0m3-1h0m1 17h0m0-16h0m4 0h0m0 14h0m2 2h0m17-1h0m5 1h0m0-13h0m0 4h0m3 2h0m6-3h0m2 11h0m16-14h0m0 9h0m9-2h0m9-11h0m1 11h0m35 23h0m-4 2h0m-47-1h0m-7-14h0m-3 23h0m-7-8h0m-8-3h0m-14 0h0m0-6h0m-9 5h0m-4 9h0m-6 2h0m0-15h0m-4 14h0m-1-9h0m-7-7h0m-7 12h0m-6 5h0m-15-22h0m-21 23h0m-5-1h0m-1-20h0m-11 6h0m-25 12h0m-6-2h0m-5-8h0m-2 7h0m-6 4h0m-4 1h0m-20-17h0m-9 2h0m-9-2h0m-25 12h0m-6 5h0m-6-22h0m0 9h0m-35-1h0m-9-2h0m-12 3h0m-44 6h0m-18 1h0m0 27h0m0-6h0m18 1h0m56-7h0m22 13h0m6-7h0m9 2h0m13 2h0m17-5h0m2 0h0m0 3h0m4 3h0m1 5h0m1-18h0m3 4h0m4 10h0m2-13h0m0 3h0m0-8h0m3 1h0m1 8h0m2-9h0m2 17h0m3-10h0m3 12h0m1-5h0m2 6h0m0-13h0m20 4h0m3 2h0m2 7h0m8-16h0m5 18h0m2-2h0m5-9h0m10-6h0m6 10h0m1-5h0m15 4h0m8 8h0m5-20h0m11 5h0m14 13h0m12 2h0m7-4h0m5-1h0m0-12h0m0-1h0m8 12h0m8-14h0m2 2h0m3 6h0m17 4h0m6 5h0m1-20h0m3 3h0m3 12h0m7-8h0m0 8h0m1-6h0m32 9h0m4 24h0m0-7h0m-7 2h0m-6 4h0m-2-11h0m-1 13h0m-5-4h0m-3 2h0m-4-8h0m-5 3h0m-1 3h0m-6-14h0m-4 1h0m0 20h0m-1-2h0m-2-4h0m-7-7h0m-9-2h0m-6 6h0m-14-3h0m-2 2h0m-2 7h0m-4 3h0m-6-6h0m-1 6h0m-7 1h0m-3-4h0m-5 2h0m-4-15h0m-13 15h0m-3-18h0m-5-2h0m-13 5h0m-6 17h0m-2 0h0m-16-9h0m0-12h0m-1 20h0m-5-15h0m-11 6h0m0-3h0m0-2h0m-7 12h0m0-19h0m-2 9h0m-7 9h0m-3-12h0m-1 6h0m-8 7h0m-9-17h0m-1 4h0m0-7h0m0 16h0m-17 4h0m-8 2h0m0-16h0m-6-1h0m0 2h0m-6 2h0m-2-4h0m-3 0h0m-1 5h0m-2 4h0m-16 5h0m0-14h0m-7 18h0m0-11h0m-21-4h0m-7-4h0m-9-4h0m0 2h0m-12 9h0m-16 5h0m0-14h0m-28 1h0m-18 18h0m0 14h0m0 0h0m18-2h0m0 8h0m28-6h0m37 4h0m0 6h0m13-16h0m15 13h0m10-17h0m13 4h0m5 6h0m2-1h0m1 6h0m0-1h0m0-7h0m13-8h0m5 3h0m4 16h0m2-16h0m9 4h0m6 11h0m2-13h0m0 12h0m7 4h0m14-17h0m20 5h0m0 0h0m4-1h0m5 14h0m5-22h0m3 12h0m5-3h0m4-2h0m2-7h0m8 20h0m2-12h0m2-4h0m3 14h0m6-15h0m5-2h0m19 11h0m7-7h0m11-4h0m2 5h0m3 7h0m7-12h0m0 21h0m28-1h0m48-16h0m-97 19h0m-9 4h0m-10 2h0m-21 17h0m-19-12h0m-12 10h0m-22-15h0m-1 8h0m-3 6h0m-82-7h0m0-5h0m-20 1h0m-5 14h0m-6-20h0m-78 0h0m0 7h0m-18-8h0m74 33h0m9-4h0m7 13h0m6-16h0m36 8h0m12 9h0m60-1h0m25-17h0m8 20h0m1-14h0m7 10h0m94-4h0m-62 12h0m-29 14h0m-20 5h0m-22-21h0m-67 17h0m-37-4h0m-102 12h0m46 3h0m0 2h0m165-7h0m29 5h0m-78 22h0m-100 31h0m53 7h0m162-15h0m-133 67h0m111 0h0"/><path d="M1345 2071h0m4 14h0m13 17h0m-15 8h0m-14-13h0m-6-7h0m-117 28h0m31 12h0m6-5h0m78-9h0m4 3h0m3 11h0m6-15h0m3 5h0m7 5h0m4-12h0m0-1h0m5 20h0m15-20h0m0 15h0m4-15h0m9 4h0m25 20h0m-36 22h0m-10-8h0m-2 8h0m-10-15h0m-1 1h0m-1-8h0m-4 5h0m-2 9h0m0-14h0m-1 21h0m-3-18h0m-8 17h0m-2 3h0m-4-3h0m-5-14h0m-5 8h0m-289 27h0m0-10h0m132 14h0m47-21h0m103 12h0m9-3h0m3-8h0m1 18h0m0-9h0m4-7h0m5 20h0m5-6h0m3 5h0m2-1h0m3-13h0m2-8h0m2 6h0m3 16h0m4-8h0m0 3h0m12 5h0m0-19h0m3 5h0m0 11h0m3-11h0m6-4h0m23-1h0m14 41h0m-6-9h0m-18 1h0m-1 10h0m-4-2h0m-10-3h0m0-16h0m-9-1h0m-3 13h0m0 1h0m-5-5h0m-8-6h0m0 10h0m-3-13h0m-4 20h0m-2 0h0m0-8h0m-2-10h0m0 15h0m-7-6h0m-1 4h0m-2-7h0m-1-1h0m-2 13h0m-9 0h0m-2-9h0m-1-9h0m-5 4h0m-43 7h0m-26-8h0m-5 11h0m-34 4h0m-52 1h0m-106-21h0m-18 16h0m62 23h0m21-2h0m44 5h0m5-16h0m3 8h0m7 2h0m32 5h0m25 4h0m14 0h0m32 0h0m1-10h0m13-3h0m25 6h0m14-4h0m2 4h0m2 7h0m11-1h0m1-19h0m3 4h0m4 14h0m1-13h0m5 7h0m1 1h0m3 7h0m1-14h0m3 2h0m2 14h0m2-15h0m6 7h0m10-11h0m4 0h0m0 1h0m13 7h0m18-6h0m4 2h0m1-2h0m17 1h0m-9 24h0m-8 2h0m-5 6h0m-7-12h0m-9 9h0m-2-11h0m-6 12h0m-2-8h0m-5 13h0m-9-9h0m-6 2h0m-13 2h0m-10-8h0m0 12h0m-2 2h0m-7-14h0m-3 17h0m-3-8h0m-19 1h0m-5-6h0m-11 9h0m-18 2h0m-17-3h0m-9-13h0m-2 13h0m0 4h0m-5 1h0m-1-1h0m-1-9h0m-14 9h0m-2-21h0m-10 4h0m-8-1h0m-18 18h0m-2-4h0m-2-3h0m-17-12h0m-5 21h0m0-9h0m-22 3h0m-22-9h0m0 0h0m-22-2h0m-12 8h0m-62-9h0m0 23h0m0 0h0m18-1h0m72 12h0m6 3h0m11-8h0m0-8h0m4 21h0m4-4h0m6-6h0m6-3h0m14 4h0m6 8h0m9-1h0m1-15h0m11 15h0m8-21h0m8 15h0m0 2h0m0-15h0m1 20h0m2-7h0m4 2h0m9-11h0m7-3h0m10 20h0m10-14h0m1-9h0m4 13h0m2-9h0m2 18h0m7-12h0m11 6h0m6-11h0m1 15h0m5-3h0m6-10h0m2 9h0m1-12h0m0 15h0m1 3h0m5-6h0m8-13h0m1 8h0m23-5h0m1-4h0m19 7h0m5-3h0m6 9h0m7-13h0m6 20h0m9-12h0m2-6h0m5 18h0m0-7h0m19 7h0m19 3h0m-1 16h0m-2-11h0m-1 11h0m-5 5h0m-6-10h0m0 8h0m-1 2h0m-9-12h0m-1-8h0m-3 15h0m0-15h0m-3 14h0m-1-1h0m-4 0h0m-7 1h0m0 2h0m-15 5h0m-1-9h0m-3 5h0m-17-10h0m-2 4h0m-5-2h0m-13-11h0m-2 16h0m0 4h0m-2-10h0m-1 12h0m-5-6h0m-1-4h0m-4 9h0m0-15h0m-2 5h0m-4 9h0m-2-9h0m-10-11h0m-4 21h0m-1-9h0m-1 11h0m-1-1h0m-1-13h0m0 9h0m-1-5h0m-8-13h0m-2 0h0m-2 15h0m-1-12h0m-4-2h0m-1 6h0m-7 16h0m-11-7h0m-4-1h0m-7-2h0m-1-8h0m-6-5h0m-3 11h0m-15 0h0m-1 0h0m-1-11h0m0 4h0m0 9h0m-2 5h0m-5-2h0m-7 7h0m-1-12h0m-3 3h0m-3-12h0m-3 4h0m-1-2h0m-4-2h0m-3-1h0m0 2h0m-1 5h0m-7-6h0m-2 4h0m-8-6h0m-6 12h0m-3 4h0m-1 2h0m-24-14h0m-4-2h0m-5 17h0m0-7h0m-1 11h0m-5-13h0m-50-8h0m0 17h0m-28-8h0m-18-1h0m0 15h0m0 2h0m0 17h0m0-2h0m18-12h0m0 17h0m28-18h0m37 12h0m7 1h0m25-10h0m9 5h0m0-8h0m0-3h0m17 5h0m7-3h0m3 19h0m1-16h0m2 12h0m8-15h0m12 16h0m8 0h0m4-3h0m11-4h0m1-11h0m7 8h0m2 8h0m5-4h0m1-10h0m8 17h0m6-13h0m2 7h0m9 6h0m2-19h0m5 15h0m1-10h0m3 7h0m13-12h0m3 8h0m42-9h0m10 2h0m9 3h0m5 9h0m0 5h0m7-17h0m6-2h0m51 0h0m0 10h0m-100 13h0m-47 21h0m-9-1h0m-1-1h0m-16-17h0m-1-1h0m-12 20h0m-1-18h0m-14-3h0m-5 15h0m-15 3h0m-1 2h0m-13 2h0m-5-14h0m-8 10h0m-17 2h0m0-20h0m-28 10h0m-12 1h0m0 6h0m-28 3h0m-62 12h0m46-8h0m50 0h0m90 4h0m35 8h0m2-2h0m77-1h0m81 0h0m-37 35h0m-7-1h0m-191-9h0m-20 7h0m-30 4h0m-13-11h0m-9 1h0m-28 3h0m-46-14h0m62 30h0m56 9h0m21-3h0m22-2h0m118 1h0m-101 20h0m-76 8h0m-12-2h0m-16-11h0m-56 6h0m77 17h0m1 4h0m46 37h0m-114 27h0m118-9h0m18 9h0m44 0h0m3 0h0m11 0h0m78 0h0"/><path d="M1186 2042h0m168 45h0m32 23h0m-11-3h0m-24-18h0m-3 6h0m-13 16h0m-246-5h0m179 21h0m48 3h0m7 2h0m14-6h0m1-6h0m7-8h0m0 19h0m13-9h0m8 4h0m30 8h0m-11 8h0m-11 1h0m-4 3h0m-2 13h0m-6-18h0m0 12h0m0 2h0m-4-1h0m-1-6h0m-9-4h0m-1 6h0m-1 7h0m-1-21h0m-4 13h0m0-3h0m-9 13h0m0-20h0m0 9h0m-2-7h0m-3-4h0m-7 5h0m-110 16h0m-62-5h0m-19-11h0m-6 1h0m-50 3h0m16 16h0m12 6h0m56 3h0m7-11h0m77 14h0m24-4h0m30 3h0m24-4h0m0-1h0m3 13h0m6-2h0m4-15h0m3 13h0m11 6h0m0-20h0m5 18h0m1-14h0m3 8h0m0 5h0m6-9h0m7-6h0m2-5h0m3 7h0m0 4h0m2 1h0m0-7h0m3 8h0m19 6h0m13-3h0m3-16h0m18 19h0m-30 19h0m-4 9h0m-3-1h0m-12-15h0m-12-3h0m0 15h0m-9-19h0m-3 2h0m-2-1h0m-1 19h0m-6-10h0m-7 7h0m-3-1h0m-5-9h0m-7 12h0m-3-17h0m-6 13h0m-76-3h0m-15-10h0m-20 10h0m-22 1h0m-9 4h0m-12-3h0m-30-12h0m-17 1h0m-7 6h0m-83 12h0m0 15h0m0-2h0m18 12h0m28-18h0m16 10h0m56-4h0m6 10h0m10-18h0m23 10h0m15-2h0m15-7h0m9 3h0m8 12h0m11-4h0m1-8h0m6 8h0m3-8h0m0-2h0m13 14h0m13-11h0m22 12h0m33 3h0m8-4h0m2-3h0m1 3h0m27 5h0m1-5h0m2 3h0m11-7h0m1-9h0m6 9h0m11-2h0m9-11h0m6 22h0m29 24h0m-37-17h0m-16 9h0m-2 0h0m-23 1h0m-4 0h0m-9-1h0m-2 8h0m-3-18h0m-4 0h0m-1 3h0m-1-2h0m-6-6h0m-9 3h0m-10-1h0m-33 6h0m-2 10h0m-9 1h0m-27 0h0m-5 4h0m-29-2h0m-11-17h0m-15-1h0m-12 18h0m-14 2h0m-6-9h0m-6-14h0m-3 6h0m-6 13h0m-13-12h0m-12-3h0m-72 2h0m-18 4h0m0 20h0m0-2h0m0 13h0m0-3h0m0-11h0m18 3h0m28 7h0m44-3h0m34 12h0m3-11h0m9 11h0m1-14h0m2 3h0m10 1h0m2 1h0m4-9h0m37 18h0m21-21h0m0 20h0m0-11h0m4 7h0m3-17h0m6 21h0m5-6h0m2-13h0m4 15h0m9 3h0m8-12h0m2 8h0m5-15h0m4 12h0m1 4h0m4-6h0m2-7h0m2 15h0m1 4h0m2-1h0m5-15h0m0-1h0m4 16h0m8-5h0m7 2h0m7-2h0m4 3h0m6-15h0m3 2h0m7 11h0m6-5h0m2-12h0m4 22h0m5-4h0m19-1h0m13-3h0m33 2h0m6 3h0m-10 26h0m-1-14h0m-2 7h0m-1-3h0m-2-3h0m-1 11h0m-10-1h0m0-4h0m-2-2h0m-1-5h0m-1-7h0m-3 7h0m-23 0h0m-9 13h0m-4-7h0m-1 5h0m-5-4h0m-7-8h0m-2 2h0m-4 5h0m-2 0h0m-6-5h0m0-9h0m-4 21h0m-1 1h0m-3-13h0m-1 14h0m-7-5h0m-2 3h0m-1-2h0m-3-9h0m-3-8h0m-1 10h0m-2 2h0m-2-7h0m-1 4h0m-1-5h0m-6 10h0m-9-1h0m-1-8h0m-18 12h0m-3-2h0m-1 3h0m-1-6h0m-7 1h0m0-1h0m-4-11h0m-1 3h0m-5 1h0m-3 10h0m0-11h0m-4-6h0m-5 2h0m0 13h0m-2 0h0m-8-15h0m-20 12h0m-1-3h0m-2-1h0m-7 7h0m-7-14h0m0 0h0m-1 14h0m-1-3h0m-2 4h0m-6 7h0m-1-21h0m-4 11h0m-1 2h0m-1-4h0m-10-4h0m-1 8h0m-3-9h0m-2 14h0m0-1h0m-3-11h0m0 15h0m-1-4h0m-5-9h0m-9-7h0m-14 11h0m-17 2h0m-7-6h0m0 5h0m-6 3h0m-59-11h0m0 15h0m-18-21h0m0 7h0m0-8h0m0 41h0m0-2h0m46 3h0m16-11h0m28-2h0m0 2h0m6 0h0m15 14h0m26-4h0m0-15h0m2 6h0m7 1h0m5 1h0m14-9h0m7 17h0m5-6h0m14 4h0m7-9h0m2-3h0m22 2h0m9-6h0m0 21h0m13-7h0m1-2h0m7 5h0m7-10h0m3-2h0m1 14h0m2-8h0m4 10h0m2 2h0m6-6h0m6-15h0m2 5h0m10-5h0m6 5h0m10 6h0m40 2h0m17-1h0m29-2h0m1-5h0m13-6h0m-134 43h0m-3-1h0m0 3h0m-15-2h0m-8-6h0m-24-7h0m-1-4h0m-22 7h0m-1 1h0m-14 5h0m-41 0h0m-30 2h0m0-18h0m-7 0h0m-28 11h0m-65 4h0m-18 5h0m0 11h0m18-7h0m0 10h0m0-10h0m3 12h0m41-12h0m40 7h0m5 11h0m10-14h0m27 15h0m40-9h0m39 3h0m17 2h0m10 5h0m1-4h0m11 3h0m26-16h0m95 1h0m-97 31h0m-155-11h0m-7 12h0m-3-10h0m-31 11h0m17 24h0m65-4h0m199 12h0m-371 18h0m62 13h0m185 23h0m-185 1h0m36 41h0m25 0h0m146 0h0"/><path d="M1335 2069h0m73 37h0m-55-10h0m-7-1h0m-11-5h0m-12 8h0m-110-5h0m-140 3h0m153 27h0m126-9h0m4 10h0m4-3h0m1 3h0m9 9h0m14 2h0m33 22h0m-17-11h0m-13-9h0m-5 19h0m-5-8h0m-1-2h0m-4 2h0m0 5h0m-17-14h0m-3 18h0m-4-13h0m-2-8h0m-6 18h0m-3-14h0m-9-1h0m-10 14h0m-22 0h0m-165-13h0m-8 9h0m-50-2h0m-28 31h0m44-6h0m21 9h0m32 2h0m9-5h0m100-5h0m33-5h0m4 3h0m0 11h0m24-10h0m1 3h0m6 4h0m4-2h0m4-11h0m9-5h0m0 7h0m1 5h0m2-11h0m1 17h0m3-11h0m2 15h0m0-23h0m2 12h0m1-1h0m3 11h0m4-19h0m2 19h0m0-2h0m2-8h0m1 4h0m0-10h0m2-2h0m1 7h0m5-1h0m2 10h0m0 1h0m8 0h0m2-20h0m15 21h0m11-2h0m6-2h0m9 4h0m11 7h0m-9 16h0m-2-14h0m-16-3h0m-6 0h0m-1 6h0m-4 2h0m-2 0h0m-4-11h0m-2 19h0m-3-4h0m-7-4h0m-8-9h0m-9 18h0m-6-6h0m-6-10h0m0 11h0m-9-6h0m0 13h0m-2-1h0m-8-9h0m-8-9h0m-2 2h0m-2-2h0m-6 4h0m-9 5h0m-58-9h0m-86 0h0m-68 19h0m0-7h0m-16-9h0m-46 3h0m0 3h0m124 31h0m19-7h0m12 10h0m5-3h0m10-17h0m1 11h0m3 7h0m1-14h0m12 4h0m1-7h0m2 5h0m1 10h0m11-1h0m43-3h0m0-10h0m22-5h0m1 13h0m10-1h0m6 11h0m8-20h0m4 0h0m2 10h0m6-5h0m12 14h0m2-11h0m2-10h0m8-1h0m10 0h0m0 6h0m7 0h0m1 15h0m4-10h0m3-6h0m0 12h0m3-11h0m1 8h0m10-9h0m2-1h0m25 28h0m-3 3h0m-27 3h0m-26-12h0m-3 2h0m-5-3h0m-37 10h0m-1-5h0m-2-4h0m-2 3h0m-8 14h0m-17-8h0m-14 2h0m-2-2h0m-9 5h0m-5-13h0m-2 7h0m-4 12h0m-9-7h0m0-10h0m-14-4h0m-12 12h0m-7 6h0m-4-2h0m-14 3h0m-15 2h0m-1-22h0m-19 6h0m-14 13h0m-3-18h0m-13 13h0m-19 2h0m-9-9h0m0 2h0m-12-1h0m-44 11h0m0-4h0m-18 0h0m0 2h0m0 29h0m0-1h0m0-21h0m0 0h0m18 17h0m0-6h0m0 11h0m56-11h0m0-8h0m9 5h0m13 12h0m0-19h0m6 7h0m0 11h0m10-11h0m24-3h0m6 14h0m2-8h0m0-7h0m4 18h0m3-11h0m0 3h0m1 9h0m1-23h0m6 12h0m5 9h0m4-14h0m2 13h0m0-6h0m1-14h0m2 14h0m4-5h0m2-4h0m1 13h0m1 4h0m7-12h0m19 12h0m1-6h0m5-8h0m6-4h0m2 17h0m3-1h0m9-14h0m7 17h0m16 0h0m5 0h0m2-12h0m11-11h0m14 23h0m3-14h0m4 2h0m7 7h0m6-10h0m3-8h0m1 4h0m2 14h0m2-13h0m1 15h0m3-1h0m4-3h0m1-4h0m7-11h0m9 15h0m1 7h0m6 0h0m4-9h0m4 4h0m7 2h0m3-5h0m4-15h0m3 22h0m0-15h0m8-3h0m1 19h0m22-8h0m8 6h0m-2 12h0m-1 8h0m-3 2h0m0 2h0m-6-2h0m-9 2h0m-12-14h0m-12 9h0m-3 4h0m0-1h0m-4 2h0m0-3h0m-10-11h0m-4-4h0m-2 8h0m0-7h0m-12 16h0m-11-16h0m-1 1h0m-3 15h0m-9 1h0m0-19h0m-6 17h0m0 3h0m0-15h0m-1 10h0m0-4h0m0-9h0m-5 8h0m0 3h0m-17 5h0m-5-6h0m-1 2h0m-1-4h0m-1-9h0m-4 0h0m-2 3h0m-3 9h0m-1 2h0m-4-17h0m-2 19h0m-4-10h0m-3-9h0m-1 4h0m-5 11h0m-2-10h0m-1 10h0m-3-7h0m-7 14h0m-3-1h0m-5-15h0m-4 4h0m-5-7h0m-2 9h0m-3-7h0m-4 13h0m-3 0h0m-2-14h0m-3 9h0m0-13h0m-3 22h0m-9-22h0m-1 22h0m-2-19h0m-3 20h0m-1-4h0m-4-1h0m-1 3h0m-3 2h0m-9-22h0m-1 14h0m-2-1h0m-1-7h0m0 12h0m-1-11h0m0 15h0m-1-3h0m-8-15h0m-2 10h0m-3-13h0m-1 0h0m-1 7h0m-1 8h0m-1 6h0m0-19h0m-15 5h0m-31-8h0m-16 22h0m-74-12h0m18 13h0m0 23h0m28-18h0m0 11h0m17 6h0m11-22h0m16 23h0m25-11h0m3-6h0m0-6h0m3 9h0m18-7h0m1 13h0m5-14h0m7-1h0m8 18h0m4 0h0m7-18h0m8 8h0m2 3h0m6 7h0m3-16h0m26 7h0m2-2h0m1 9h0m8-15h0m1 11h0m3-6h0m13 10h0m4-5h0m8 0h0m42-3h0m2 8h0m26-3h0m3 7h0m20-19h0m8 0h0m3 0h0m7-1h0m8 15h0m9-9h0m4 24h0m-79 15h0m-3-11h0m-6 7h0m-13-5h0m-64 11h0m-10-20h0m-18 13h0m-5-11h0m-9-5h0m-13 15h0m-4-2h0m-5 1h0m-6 6h0m-33-2h0m-5-17h0m-8 22h0m-24-18h0m-9-2h0m0 8h0m0-2h0m-12 7h0m-44-6h0m-18-9h0m0 29h0m0 4h0m18 5h0m100-3h0m10-10h0m6 7h0m8 5h0m10-10h0m40 4h0m13-3h0m29 1h0m24 7h0m19-2h0m11 3h0m7 4h0m2 3h0m25-2h0m174 15h0m-332-3h0m-23 10h0m-79 1h0m-62-15h0m0 29h0m96-7h0m101 12h0m-15 24h0m-108 8h0m-74-4h0m0-9h0m18 22h0m100 29h0m-63 34h0m82 0h0m44 0h0"/><path d="M1363 2074h0m12 8h0m-90 14h0m-240 15h0m124 23h0m151-7h0m15 7h0m2-3h0m1-15h0m11 4h0m3 10h0m1 4h0m0 0h0m10-5h0m4 3h0m5-4h0m7-14h0m34 10h0m16 3h0m-6 9h0m-46 10h0m-2 10h0m-1-8h0m-2 7h0m-3-18h0m-2 0h0m-9 3h0m-3 5h0m-2 11h0m-1-18h0m-6 10h0m-2 8h0m-1-19h0m-6 16h0m-9 2h0m0-13h0m-4 1h0m-3-1h0m-100 4h0m-5 8h0m-74-3h0m-69 10h0m0 2h0m65 11h0m16-3h0m56 12h0m109-23h0m9 19h0m2-9h0m0-4h0m6-5h0m2 3h0m3 1h0m5 15h0m1 1h0m0 1h0m3-9h0m2 2h0m1 7h0m1-11h0m5-6h0m0-4h0m2 22h0m6-23h0m8 10h0m4-10h0m2 10h0m13 0h0m5 0h0m1 6h0m4 1h0m19 17h0m-14 11h0m-10-21h0m-4 23h0m-7-11h0m-1 10h0m-1-8h0m0 1h0m-5-13h0m-5 12h0m-2-3h0m-3 3h0m-1 5h0m-1-18h0m-6 11h0m-1-7h0m-1 0h0m-1-2h0m-5-2h0m-1 19h0m0 0h0m-5-14h0m-4-4h0m-1 0h0m-1 5h0m0-7h0m-1 13h0m0-11h0m-1 20h0m-7-2h0m-8-20h0m-2 10h0m-2-9h0m-2 13h0m-12 7h0m-4-19h0m-21 13h0m-17 4h0m0-9h0m-60-4h0m-30 8h0m-47 9h0m-40-8h0m-13-11h0m-49 32h0m0 2h0m0 7h0m18 1h0m28-14h0m37 15h0m19-11h0m0 11h0m16-19h0m91 16h0m9-3h0m4-7h0m20 0h0m10-8h0m4 2h0m3 19h0m0-23h0m25 21h0m13-4h0m1-14h0m6 7h0m3 12h0m0-20h0m6 15h0m2-12h0m1 6h0m3 6h0m1-2h0m2-6h0m1-2h0m7 4h0m2 3h0m2 9h0m3-5h0m1-5h0m5-5h0m3 4h0m2-2h0m3 2h0m10 7h0m2-3h0m7 2h0m1 2h0m10 1h0m1-15h0m31 24h0m-20 11h0m-3-2h0m-5 7h0m-36-9h0m-6-6h0m-8-1h0m-5 8h0m-2-4h0m-10 5h0m-7-3h0m-19-12h0m-8 3h0m-5 19h0m-1-15h0m-4 5h0m-3-10h0m-6 9h0m-12-8h0m-24 1h0m-39 2h0m-9 16h0m-13-13h0m-9 2h0m-5 11h0m-13-5h0m0-12h0m-4 6h0m-3-4h0m-7 12h0m-16-9h0m-4 2h0m-5-5h0m-19 14h0m-9-13h0m-28 8h0m-28-16h0m-18 15h0m0 11h0m46 0h0m0 20h0m28-6h0m0-9h0m0-2h0m16 15h0m0-12h0m0 7h0m25-14h0m15 22h0m0-19h0m11 12h0m6 7h0m0-23h0m6 23h0m3-13h0m6 5h0m4-9h0m2 12h0m2 4h0m1-2h0m21-7h0m6-7h0m3 2h0m5 13h0m22-9h0m9 11h0m5-6h0m0 6h0m0-21h0m1-1h0m1 3h0m18 16h0m11-9h0m1 7h0m2 0h0m0 5h0m0-23h0m5 23h0m1-8h0m2 5h0m13-11h0m20-6h0m7 6h0m6-8h0m4 15h0m1-14h0m1 0h0m23 19h0m20-12h0m10 14h0m9-18h0m-14 29h0m-1-10h0m-2 3h0m-1 12h0m-2-8h0m-1-6h0m-7 1h0m-6 9h0m-17-2h0m0 11h0m-5-11h0m-3 7h0m-1-7h0m-2 2h0m-2 12h0m-6-13h0m-7 10h0m-2-2h0m-7-3h0m-1-4h0m-6-10h0m-4 4h0m-9 7h0m-2 11h0m-1-4h0m-4-8h0m-6-11h0m-3 15h0m-8-10h0m0 9h0m-7 8h0m-4-9h0m-3-12h0m-6 18h0m-1-5h0m-2-11h0m-1 14h0m-13-10h0m0-6h0m-2 3h0m-3 14h0m-11-6h0m0 7h0m-3 3h0m-6-5h0m-9-17h0m-1 15h0m-6-15h0m-4 22h0m-8-20h0m-4-1h0m-8 21h0m-2-17h0m-2 1h0m-6 17h0m-16-8h0m-3 1h0m-1-8h0m-15-5h0m-25 16h0m0-19h0m0 18h0m0-15h0m-8-2h0m-5 18h0m0 1h0m-21-5h0m-16-13h0m-28 14h0m-18 5h0m0 21h0m0-9h0m18-1h0m28 15h0m0-7h0m0 1h0m9-16h0m7 16h0m12-11h0m9 16h0m7-9h0m6-6h0m6 10h0m16 0h0m2 1h0m15-16h0m5 9h0m7 10h0m1-10h0m1 7h0m6-8h0m12 13h0m1-6h0m3-12h0m0 1h0m9 2h0m5 1h0m0 1h0m3-3h0m9-4h0m0-1h0m9 19h0m4-11h0m2-10h0m0 16h0m6-6h0m0-6h0m12-4h0m19 1h0m18 7h0m7 3h0m0-10h0m5 3h0m2-2h0m13 12h0m7-10h0m4 4h0m6-6h0m0 0h0m5-2h0m6 16h0m29-8h0m21 2h0m28-2h0m3-4h0m-68 29h0m-23 3h0m-8-11h0m-6 2h0m-18 8h0m-13 2h0m-13-10h0m-27 1h0m-32 12h0m-4-11h0m-11-5h0m-4 5h0m-2 4h0m-10 10h0m-11-7h0m-51-1h0m-6-3h0m-6-5h0m-16-2h0m0 1h0m-28 10h0m-46 2h0m0 24h0m0-12h0m18 8h0m28 6h0m16-15h0m12 5h0m36-6h0m20 12h0m9-7h0m98 5h0m69 2h0m62 5h0m-144 30h0m-162-9h0m-16 3h0m274 7h0m-6 30h0m-180-4h0m-116 73h0m203 18h0m73 0h0"/><path d="M1312 2052h0m25 29h0m103 4h0m-71 17h0m-8 7h0m-1 0h0m-1 1h0m-1-20h0m-30-1h0m-211 39h0m6-16h0m190 11h0m4 1h0m18-3h0m7-7h0m1 20h0m1-16h0m2 12h0m1-18h0m7 8h0m8 14h0m7-14h0m9 14h0m13-12h0m33 7h0m-27 25h0m-16-12h0m-6 0h0m-2-1h0m0 5h0m-1 13h0m-1-9h0m0 1h0m0 7h0m-1-11h0m-6-3h0m-4 4h0m-3-9h0m-1 10h0m0-13h0m-6 1h0m-1 22h0m-2-3h0m-14-6h0m-7-12h0m-7 14h0m-3 4h0m-28-4h0m-17-5h0m-41 11h0m-88-19h0m-8 8h0m-6 21h0m1-5h0m73 5h0m0 4h0m115-10h0m3 21h0m6-23h0m5 7h0m1 6h0m1-1h0m5 10h0m0-21h0m3 3h0m1 16h0m1 3h0m1-7h0m1 3h0m0-3h0m2 0h0m0-15h0m0 1h0m2 18h0m1-8h0m2 3h0m1 4h0m7-15h0m1 17h0m1-7h0m4 5h0m5-4h0m3-9h0m3 15h0m1-7h0m5 7h0m2-7h0m0 1h0m6-15h0m15 7h0m9 10h0m10-16h0m26 35h0m-54 0h0m-6-11h0m-6 20h0m-4-11h0m0 2h0m-10 11h0m-5-16h0m0-3h0m-1 8h0m0 0h0m-3-4h0m-1 0h0m-7 7h0m-1-5h0m-2 0h0m0-10h0m-2 5h0m-1 3h0m-9 13h0m0-7h0m0-2h0m-3-7h0m-8 7h0m-3-1h0m-2 4h0m-4-4h0m-12 2h0m-2 5h0m-2-6h0m0 7h0m-17-11h0m-74 9h0m-16 3h0m-11-5h0m-43-4h0m0-8h0m-115-1h0m0 28h0m46 15h0m16 0h0m0-4h0m49-9h0m7-1h0m6-4h0m32 10h0m4-6h0m7 6h0m12 0h0m11 0h0m3-6h0m14 6h0m9-2h0m16 11h0m19-17h0m3-1h0m28 9h0m11-8h0m1 3h0m4 9h0m1 5h0m4-13h0m14 1h0m6-6h0m16 7h0m2 6h0m9 6h0m1-9h0m28 2h0m23 2h0m6 6h0m-17 20h0m-18-10h0m0-7h0m-3 4h0m-3-2h0m-15-1h0m-7 18h0m-3-22h0m-1 12h0m-24-2h0m-28 4h0m-1 2h0m-35 4h0m-8-12h0m-26 15h0m-2-20h0m-1 11h0m-6-14h0m-9 17h0m-21-3h0m-10 1h0m-1 8h0m-23-23h0m-1 13h0m-4-4h0m-3 10h0m-4-11h0m-23-2h0m0-4h0m-4 11h0m-17 10h0m-7-6h0m-21 4h0m0-18h0m-44 7h0m0-9h0m28 34h0m37 7h0m19 0h0m0-11h0m0 1h0m28 1h0m6 8h0m2 6h0m5-11h0m6 4h0m2-9h0m3 9h0m1-12h0m0 10h0m2-8h0m4 12h0m2 5h0m12-5h0m1-17h0m4 21h0m2-16h0m2 11h0m2-14h0m37 18h0m9-5h0m10-10h0m1-4h0m1-2h0m7 16h0m2 1h0m9-11h0m4 11h0m9-7h0m7-7h0m7 2h0m1 2h0m7-1h0m3-6h0m1 0h0m9 3h0m3 11h0m2 7h0m2-9h0m8-5h0m1 16h0m14-4h0m12-13h0m1 6h0m29 10h0m1-21h0m12 14h0m12 26h0m-1-11h0m-8 5h0m-3-5h0m-21 7h0m-1-9h0m0 6h0m-3 0h0m-9 12h0m-25-4h0m-2-10h0m0-6h0m-1 10h0m0 7h0m-9-16h0m-2 5h0m-1-5h0m-9 4h0m-1 15h0m-2-11h0m0 9h0m-12-5h0m-2 2h0m0 5h0m-8-8h0m-11-1h0m-10-10h0m-1 13h0m-7 0h0m-5 3h0m-2-8h0m-7-10h0m-6 17h0m-12 3h0m-14-5h0m-1-13h0m-3-1h0m-2 15h0m-2 0h0m-2-14h0m-6 15h0m-2-10h0m-3 11h0m-3-4h0m-2-13h0m-2 7h0m-3 8h0m-5-5h0m0-11h0m-19 9h0m-1-7h0m0 16h0m-1-16h0m-7 19h0m-6-9h0m-1 3h0m-1-4h0m-2-12h0m0 7h0m-3 8h0m-1-14h0m-15 20h0m-17 1h0m-40-2h0m-44 2h0m-18-10h0m0 2h0m0 24h0m18 8h0m28-1h0m0-12h0m0 10h0m16-19h0m21 12h0m7 6h0m0-18h0m12 19h0m5-12h0m10 3h0m7 3h0m15-7h0m6 2h0m10-7h0m15-1h0m8 11h0m2-6h0m11-3h0m3-1h0m7 1h0m1 12h0m0 0h0m20-4h0m2-7h0m1 9h0m6-5h0m1-6h0m4 0h0m7 2h0m0 0h0m1 17h0m9-16h0m5 6h0m9 0h0m7-7h0m5-3h0m20 23h0m16-20h0m17 13h0m2-15h0m8 4h0m0 8h0m7-10h0m5 2h0m26-4h0m15 10h0m4-11h0m-101 39h0m-16-6h0m-31 8h0m-4-2h0m-42-13h0m-17 5h0m-7-2h0m-33 1h0m-21 13h0m-44-8h0m0 0h0m-9 12h0m-28-22h0m-3 4h0m-43 0h0m0-1h0m0 21h0m0 6h0m46 2h0m0 4h0m0-13h0m37 20h0m7-16h0m6 4h0m25-4h0m55 18h0m2-10h0m49-1h0m35-4h0m3 14h0m8-18h0m4 4h0m100-7h0m-114 43h0m-25-5h0m-9-8h0m-127 8h0m-6-8h0m15 26h0m19-3h0m72 34h0m-95-15h0m-107 9h0m149 28h0m132 8h0m-263 48h0m9 0h0m5 0h0"/><path d="M1358 2084h0m20-9h0m25 28h0m-24 2h0m-4-10h0m-22 10h0m-10-1h0m-45-11h0m-209 16h0m-62-18h0m9 26h0m87 14h0m0-19h0m158 12h0m17 6h0m28-1h0m3-14h0m3 18h0m15 2h0m4-17h0m0 7h0m1-10h0m5 17h0m4 0h0m23-1h0m4-15h0m11-3h0m5 22h0m47-8h0m-30 18h0m-26-3h0m-3 6h0m-5-6h0m-4 4h0m-10-4h0m-4 6h0m-1 2h0m-3 0h0m-2 3h0m-8 6h0m-1-5h0m-17-18h0m-6 4h0m-3 9h0m0-3h0m-12 6h0m-99-6h0m-11 13h0m-77-18h0m-102-4h0m90 26h0m17 1h0m62 11h0m69 7h0m37-10h0m12 6h0m7-12h0m7 8h0m2 3h0m3 5h0m4-17h0m2-5h0m3 6h0m3 14h0m6-11h0m5 13h0m2-12h0m2 1h0m2-4h0m1 2h0m6 13h0m1-12h0m1-7h0m3 16h0m6-2h0m0-6h0m1-2h0m6-1h0m26 9h0m6 5h0m7 15h0m-24 2h0m-6 1h0m-7-16h0m-8 9h0m-3 13h0m-2-19h0m0 10h0m-10-2h0m-2-11h0m0 9h0m-4-6h0m-1 4h0m0 16h0m0-23h0m-3 7h0m-1 0h0m-2 13h0m-3-12h0m0 4h0m-1 1h0m-7 6h0m-7-8h0m-1 5h0m-2-10h0m-6 1h0m-11-6h0m-5 13h0m-3-6h0m-4-5h0m-9-2h0m-113 14h0m-20 7h0m-116-12h0m-18 32h0m46-9h0m28 3h0m9-1h0m0 12h0m19-17h0m9 3h0m4-8h0m12 22h0m31-14h0m21-1h0m5 2h0m13-2h0m14 15h0m5-17h0m27 11h0m2-10h0m7 2h0m1 6h0m14-13h0m40 3h0m2 10h0m7-5h0m9-7h0m1 3h0m6 5h0m11-1h0m8-1h0m18 13h0m18-1h0m3-8h0m3-12h0m5 29h0m-1 0h0m-5 6h0m-17 11h0m-3-10h0m-17-3h0m-8-6h0m-14 19h0m0-23h0m-15 23h0m-17-2h0m-7-1h0m-9-3h0m-2-1h0m-7 5h0m-7-13h0m-4 2h0m-9-4h0m-16-2h0m-11 10h0m0-6h0m-3 15h0m-10-18h0m-1 2h0m-17 15h0m-4-22h0m-2 17h0m-4 4h0m-6-11h0m-8-6h0m-4 16h0m-22-14h0m-27 6h0m-2 5h0m-23-8h0m0 8h0m-6-10h0m-11-2h0m-61 15h0m-18-7h0m18 23h0m72-9h0m0 6h0m0-4h0m21 17h0m0-17h0m4 5h0m12 12h0m5-8h0m5 7h0m4-1h0m3-3h0m1-4h0m3 7h0m7-8h0m0 2h0m4-14h0m3 18h0m0-13h0m11-2h0m0 3h0m10 14h0m5-16h0m6 19h0m17-7h0m4 4h0m15-5h0m1 7h0m7-11h0m3 5h0m2-9h0m0 3h0m9-3h0m9 3h0m1-10h0m8 13h0m8 3h0m17-11h0m1 13h0m17 5h0m9-2h0m8 2h0m11-13h0m1 6h0m2-5h0m8 3h0m28-14h0m1 5h0m7 6h0m23 12h0m-7 18h0m-4 0h0m-3-4h0m-1 10h0m0-11h0m-15 11h0m-6-5h0m-5 2h0m-1-4h0m-1 6h0m-7-4h0m-6-5h0m-1-10h0m-3 10h0m-20 9h0m-4-15h0m-2 0h0m-16-5h0m-4 13h0m-1-10h0m-3-4h0m-8 14h0m-1 4h0m-2-10h0m-3-7h0m0-2h0m0 8h0m-19 7h0m-1 3h0m-1-5h0m-6 4h0m-2-4h0m-2-4h0m-3 7h0m-14 1h0m-5-15h0m-8 16h0m-9-9h0m0-2h0m-1 15h0m-2-13h0m-10-1h0m-2 11h0m-11-18h0m-6 8h0m-2-9h0m-2 7h0m-8 8h0m-5-9h0m0 2h0m-4 5h0m-6 9h0m-2-1h0m-6-12h0m-2 3h0m-7 7h0m-2-12h0m-1 0h0m0 1h0m-4 0h0m0 10h0m-23-3h0m-4-9h0m-17 3h0m-28 11h0m0 3h0m-44-2h0m0-14h0m-18 7h0m0 22h0m18-8h0m28-2h0m44 9h0m0-8h0m12 16h0m5-4h0m8 6h0m20-21h0m0 4h0m1 3h0m3 8h0m5-2h0m2 2h0m13-4h0m11-7h0m6 14h0m0 5h0m2-12h0m16 9h0m2-17h0m5 12h0m3-14h0m4 1h0m2 2h0m5 11h0m2-13h0m8 10h0m3 1h0m3-10h0m1-1h0m2 0h0m2 14h0m6-15h0m1-1h0m4 10h0m0-10h0m2 11h0m2-1h0m5 2h0m1 0h0m2-11h0m3 5h0m3 5h0m1-2h0m4 0h0m10-3h0m10 6h0m6-8h0m6 0h0m8 0h0m2 0h0m13 7h0m2 3h0m1-13h0m0 2h0m9 6h0m20-9h0m2 6h0m9-2h0m27-1h0m-17 34h0m-49 3h0m-25-11h0m-12 7h0m-15-1h0m-1 5h0m-3-1h0m-6-7h0m-16 3h0m-2 3h0m-21-12h0m-8 16h0m-14-4h0m-19-6h0m-1-8h0m-59 9h0m-16-5h0m-7 5h0m-2 1h0m-40-2h0m-62 0h0m0 11h0m0-4h0m0 14h0m74 13h0m0 3h0m22-8h0m19-2h0m3-8h0m9 6h0m7 8h0m12-4h0m36-6h0m30-1h0m5 5h0m24-5h0m25 2h0m16-8h0m2 2h0m17 8h0m0 6h0m0-4h0m-11 22h0m-37-7h0m-26 3h0m-7-2h0m-34 18h0m-45-8h0m-26 8h0m-25-22h0m-16 25h0m147 14h0m212-13h0m-205 25h0m-59-1h0m-73 0h0m-22 3h0m-74-4h0m73 92h0m31 0h0m54-21h0m24 21h0m82 0h0"/><path d="M1389 2087h0m19 23h0m-22-1h0m-28-6h0m-2-6h0m-2 10h0m-5-6h0m-2-7h0m-109 29h0m87 6h0m8-6h0m2 11h0m3-20h0m8 14h0m0 3h0m1 2h0m3-17h0m3-2h0m1 6h0m7 11h0m6-16h0m0 8h0m6-11h0m2 14h0m35 22h0m-27-6h0m-2 10h0m-4-15h0m-8 20h0m-5-12h0m-6-3h0m-1 11h0m0-2h0m-1-10h0m-1-4h0m-4 5h0m0-4h0m0 8h0m-3 8h0m-1-12h0m-2 3h0m0 11h0m-1 2h0m-6-13h0m-1-9h0m-29 6h0m-198 5h0m-65 1h0m0 31h0m44-14h0m40 17h0m55-5h0m4-16h0m119 12h0m6-4h0m5-8h0m5 9h0m2 6h0m18-1h0m3-11h0m5-3h0m2 9h0m14 7h0m2-6h0m2 3h0m0-5h0m4 14h0m3-14h0m5-3h0m3 12h0m4-7h0m3-10h0m31 3h0m-12 37h0m-5-14h0m-10-1h0m-4 19h0m-3-1h0m-4-6h0m-1-10h0m-7 12h0m-1-1h0m-5-9h0m-6 1h0m-3 9h0m-1 7h0m-14-1h0m-1-17h0m-2 10h0m-10-3h0m-2-7h0m-9 8h0m-1 5h0m-2-1h0m-5-17h0m-6 13h0m-18 2h0m-41-10h0m-3 10h0m-29-11h0m-2 9h0m-1 3h0m-2-3h0m-66 5h0m-14-6h0m0-8h0m-11 5h0m-13 2h0m-9-11h0m-74 8h0m0 37h0m0-6h0m0-12h0m62 9h0m12-9h0m0 10h0m0-13h0m44 8h0m6-2h0m35 17h0m41 0h0m27-22h0m4 2h0m1 18h0m9-1h0m30-1h0m6-1h0m8-10h0m0 5h0m12 4h0m2-12h0m8 1h0m13 14h0m4-7h0m11-6h0m7 12h0m3-11h0m2 6h0m2-5h0m9 11h0m0-8h0m15 2h0m2-14h0m21 5h0m58 5h0m-63 37h0m-8-19h0m-8 14h0m-8-14h0m-1 15h0m-13-15h0m-7 9h0m-3 3h0m-7-14h0m-14 13h0m-15-3h0m-24 9h0m-9-1h0m-39-7h0m-2-12h0m-33 14h0m-3-9h0m-1 13h0m-32 1h0m-1-10h0m-48 10h0m-4 0h0m-4-4h0m-45-8h0m-16-5h0m-46 17h0m0-10h0m0 12h0m0 16h0m0 8h0m46-19h0m16 17h0m12 0h0m9-17h0m24-2h0m14 11h0m11 5h0m4 6h0m0-16h0m6 13h0m0-15h0m2 13h0m0 1h0m0-6h0m10 6h0m4-9h0m1-3h0m0 9h0m1-13h0m11 14h0m1-16h0m0 16h0m2-8h0m9 8h0m9 1h0m20-1h0m1-4h0m10 3h0m4-10h0m2 2h0m1 8h0m14 7h0m5-15h0m13 14h0m25-12h0m2 11h0m11-8h0m0 5h0m6-18h0m5 22h0m9-13h0m0 0h0m3 10h0m5-6h0m2-1h0m6 8h0m2-17h0m0 18h0m4-7h0m2-14h0m2 5h0m0-4h0m2 18h0m3 2h0m34-20h0m23 30h0m-2 12h0m-3-5h0m-1 5h0m0-13h0m-7 7h0m-10 9h0m-3-20h0m-5 13h0m0-10h0m-4 6h0m-2 10h0m-7-10h0m-6 8h0m0-12h0m-4-6h0m-1-1h0m-7 20h0m-13-4h0m-1 7h0m-5-5h0m-6-14h0m-3 16h0m-3-17h0m-3 17h0m-4 1h0m-5-11h0m-5-9h0m-5 5h0m-2-3h0m-2 20h0m-3-4h0m-3-9h0m-12 3h0m-2 1h0m-8 3h0m-2-7h0m-5 13h0m-9-8h0m-3 4h0m-5-4h0m-2 7h0m-7-9h0m-3-2h0m-1-10h0m-1 0h0m-1 0h0m-6 2h0m-2-3h0m-8 0h0m-1 0h0m-1 13h0m-3-6h0m-2 8h0m-2 0h0m-6-7h0m-3 6h0m-3 4h0m-5-3h0m0-11h0m-1 0h0m0-3h0m-3 7h0m-3 2h0m-9-1h0m-1 2h0m0-3h0m-1 6h0m-3-13h0m-6 15h0m-1-5h0m-1 6h0m-2-16h0m-1 8h0m0 2h0m-1-6h0m-2 12h0m-4-16h0m0-1h0m0 10h0m-3 0h0m-2 12h0m-53-15h0m0 3h0m-37-3h0m-46-4h0m0-2h0m0 10h0m18 22h0m0 9h0m0-7h0m28-1h0m0-1h0m16-5h0m12 8h0m16-12h0m6 14h0m6-12h0m0-1h0m19-1h0m3 14h0m11-10h0m14 2h0m6 9h0m6 4h0m11-6h0m14-9h0m3 9h0m3-4h0m8 12h0m4-11h0m23 3h0m3-9h0m2 0h0m3-3h0m3 9h0m21 10h0m3-13h0m6 12h0m9-12h0m0 0h0m11-2h0m3 14h0m16-5h0m1-13h0m2 1h0m14 14h0m7-13h0m22 8h0m1-7h0m4 3h0m3-6h0m11 2h0m0 4h0m0 1h0m18 11h0m7-10h0m-25 25h0m-77 3h0m-4-7h0m-38 5h0m-36-5h0m-10 9h0m-5-6h0m-4 5h0m-8-5h0m-15 7h0m-68-16h0m-24 19h0m-65-13h0m44 30h0m2 7h0m32-6h0m15 10h0m0-3h0m7-3h0m111-11h0m5 2h0m11 11h0m33-18h0m6 20h0m14-18h0m8 20h0m31-6h0m-54 19h0m-14-5h0m-2 4h0m-71-9h0m-57 3h0m-5-4h0m-32 21h0m0-16h0m-28 16h0m-28-2h0m0 8h0m36 9h0m1 32h0m-9-18h0m-74 19h0m0 4h0m156 10h0m-8 57h0m36 0h0m78 0h0"/><path d="M1110 2041h0m172 38h0m119 26h0m-10 1h0m-8-9h0m-9 14h0m-39-17h0m-119 9h0m-68 22h0m161-9h0m20 16h0m5 3h0m14-8h0m4 3h0m6 5h0m3-9h0m3-4h0m3 4h0m3 7h0m43 0h0m41-16h0m-31 34h0m-10-1h0m-4-2h0m-5 5h0m-18-5h0m-7 8h0m-7 0h0m-3-2h0m-4 4h0m-10-11h0m-5-7h0m-3 8h0m-1 10h0m-1-3h0m-2-5h0m-1 3h0m-4-10h0m-2-1h0m-1 1h0m0 7h0m0-14h0m-1 20h0m-10 2h0m-2-4h0m-2-16h0m-15 3h0m-119 17h0m-32-3h0m-3-10h0m-22-3h0m106 37h0m53-5h0m27 6h0m15-9h0m0-4h0m0-6h0m4 2h0m1 7h0m4 12h0m2-1h0m0-1h0m22-3h0m1-3h0m1 0h0m0-3h0m0 0h0m0 5h0m1-9h0m3 2h0m1 1h0m1 10h0m6-10h0m3 2h0m2-3h0m1 1h0m1-4h0m2 3h0m7 1h0m3-4h0m42 37h0m-37 0h0m-22-3h0m-3-1h0m-2-13h0m-11 4h0m-2 14h0m-2-6h0m-2 7h0m-3-7h0m-5-13h0m-1 10h0m-1-6h0m0 15h0m0-2h0m-9-9h0m-5 13h0m-48-10h0m-3-6h0m-8 2h0m-99 6h0m-14 7h0m-7-18h0m-25 19h0m-19-18h0m-83 4h0m0 39h0m0-13h0m0 0h0m18-9h0m28 22h0m28-23h0m16 1h0m0 19h0m6-5h0m11-7h0m23 2h0m12 3h0m29-9h0m16 17h0m42-8h0m17 5h0m3 3h0m6 1h0m44-14h0m4 5h0m5 0h0m0-8h0m6 15h0m2-16h0m1 0h0m3 1h0m2-4h0m14 18h0m2-1h0m13-15h0m8 12h0m10 5h0m18-9h0m15-8h0m14 36h0m-33-15h0m-18 5h0m-9 6h0m-5-10h0m-4 22h0m-15-19h0m-6 15h0m-4-6h0m-1-1h0m-22 11h0m-8-8h0m-23-4h0m-10-6h0m-4 11h0m-1 3h0m-10 3h0m-37-19h0m-24 0h0m-7 4h0m-12 12h0m-6-12h0m-17 5h0m-57 1h0m-21-5h0m0 14h0m-16-16h0m-46 2h0m0 21h0m0-4h0m0 16h0m0-13h0m18 5h0m28-9h0m37 22h0m7-4h0m12 4h0m11-17h0m21 7h0m5 11h0m2-15h0m4-8h0m11 22h0m7-10h0m0 10h0m7-6h0m12-8h0m0 14h0m2 0h0m4 1h0m8 0h0m0-15h0m1 9h0m7-1h0m3 2h0m2-8h0m2 0h0m8 0h0m1 5h0m17-1h0m3-1h0m2-1h0m11-8h0m32 18h0m2-13h0m3-3h0m7-6h0m0 14h0m2 3h0m8 2h0m1-9h0m2-10h0m7 7h0m7 0h0m7 5h0m2-10h0m41 13h0m2 4h0m23 22h0m-1-9h0m0 8h0m-1-3h0m-4-4h0m-12-9h0m-15 21h0m-1-10h0m-1 8h0m-3-8h0m-1 6h0m-10-15h0m-5 13h0m-2 4h0m-1-18h0m-2 20h0m-2-6h0m-11-7h0m-10 10h0m-1 2h0m0-19h0m-5 9h0m-1 6h0m-5-7h0m0 3h0m-1-5h0m-13 5h0m-2 7h0m-5-11h0m-9 12h0m-1-12h0m-3-2h0m-4 0h0m-6 9h0m0-14h0m-2 9h0m-12 4h0m-7 3h0m-1-2h0m-2-3h0m-4 11h0m-1-1h0m-1-9h0m-9 2h0m-7 3h0m0-18h0m-1 0h0m-3 6h0m-3-2h0m-13-2h0m-1 14h0m-4-5h0m-19 4h0m-6 0h0m-1-5h0m-8 6h0m-1 2h0m-5-17h0m-4 12h0m-10 1h0m0-13h0m-4 8h0m-21-2h0m-9 6h0m0 10h0m-6-14h0m-6-9h0m-7 20h0m0-18h0m-9 7h0m-56 6h0m-18 0h0m0-2h0m0 18h0m18 4h0m0 5h0m28-9h0m16 4h0m12 12h0m0-11h0m0-4h0m9 13h0m13-7h0m6 5h0m16-5h0m3-10h0m3 10h0m13 3h0m9-15h0m1 14h0m1-12h0m1 18h0m22-8h0m19-5h0m9-9h0m4 6h0m0-2h0m1 5h0m7-6h0m11 4h0m6-7h0m4 8h0m8 5h0m10 7h0m12-18h0m0 21h0m34-13h0m15 6h0m5-13h0m7 6h0m2-8h0m30 3h0m3-2h0m1 20h0m9-21h0m-20 29h0m-40 16h0m-46 0h0m-12 1h0m-3-20h0m-10-1h0m-13 13h0m-2-2h0m-10 4h0m-49 5h0m-9-14h0m-13 4h0m-39 9h0m0-12h0m-12 6h0m-28 4h0m0-2h0m0-5h0m-44 9h0m-18-19h0m0 9h0m74 25h0m22 11h0m22-16h0m24-1h0m62 1h0m34-5h0m10 16h0m11-17h0m33 12h0m68 25h0m-136-12h0m-20 16h0m-6-17h0m-18 19h0m-48-14h0m-21 13h0m-37-12h0m-28 9h0m-46-8h0m90 23h0m70 8h0m80 3h0m31-17h0m-150 33h0m-6-4h0m-69 10h0m95 10h0m-128 67h0m128 0h0m37 0h0m8 0h0m11 0h0m89 0h0m17 0h0"/><path d="M1377 2108h0m-12-11h0m-6-5h0m-9 3h0m-7-4h0m-82 16h0m-216 28h0m97-6h0m188 6h0m1-6h0m4 5h0m4-15h0m11 8h0m2 6h0m0-14h0m8 3h0m2 9h0m1-14h0m1-3h0m0 6h0m6 10h0m1-16h0m5 17h0m32 3h0m26-9h0m-13 34h0m-26-19h0m-3 10h0m-11 1h0m-3 2h0m0-14h0m-1 13h0m-3-2h0m-1 8h0m-1-10h0m-5 9h0m-5-9h0m0 0h0m-2-5h0m-1 16h0m0-4h0m-5 2h0m-2-20h0m0 17h0m-1-2h0m-4-13h0m-1 8h0m0-6h0m-14 4h0m-1 2h0m-2 12h0m-1-11h0m0 6h0m-19 4h0m-3-14h0m-8 6h0m-197-2h0m37 28h0m19-13h0m60 11h0m96 3h0m15 4h0m2 1h0m8-11h0m2 10h0m2 0h0m8-17h0m0 5h0m2-2h0m1 10h0m1-4h0m0-11h0m1 2h0m1 13h0m4 4h0m1-11h0m3 7h0m3-10h0m2 5h0m0 3h0m9 5h0m2-19h0m13 20h0m23-17h0m5 17h0m7-10h0m-22 18h0m-15 6h0m-1 1h0m-3-9h0m-1 19h0m-8-15h0m-1-3h0m-3 5h0m-2 11h0m-17-15h0m-2 4h0m0 10h0m-2-18h0m-4 1h0m-8 19h0m-2-8h0m-4 7h0m0 0h0m-1 1h0m-9-19h0m-5 20h0m-34 1h0m-103-6h0m-8-16h0m-16 4h0m-6 1h0m-9 12h0m-19-15h0m-22 14h0m-56-15h0m0 15h0m0 4h0m-18 11h0m0-4h0m62 3h0m0 6h0m0 3h0m12 2h0m16-2h0m6-2h0m6 2h0m1-14h0m4 16h0m67-4h0m42 2h0m17-6h0m32 4h0m4-3h0m12-11h0m3 9h0m4 3h0m7-10h0m15 12h0m1-11h0m2 0h0m5 0h0m2 12h0m3-7h0m6 14h0m7-8h0m20-14h0m3 1h0m6 18h0m16 0h0m4-5h0m26 18h0m-16 0h0m-11 10h0m-7 3h0m-1-19h0m-11-2h0m-3 19h0m-9-12h0m-4-1h0m-9 15h0m-5-20h0m-10 10h0m-6-11h0m-1 3h0m-16 9h0m-1 10h0m-2-18h0m-5-1h0m-1-2h0m-19 3h0m-8 19h0m-9-8h0m-4 8h0m-18-5h0m-11-8h0m-13 3h0m-4-5h0m-9 10h0m-16-2h0m-12 5h0m-1 2h0m-1-2h0m-5-1h0m-4 0h0m-11 0h0m0-14h0m-16-3h0m-2 17h0m-12-1h0m-11 0h0m-45 1h0m0-15h0m0 17h0m-44-2h0m-18-10h0m0 33h0m0-11h0m0 5h0m62-9h0m34 12h0m15 1h0m24-5h0m1-1h0m2-5h0m3 2h0m1 4h0m1 7h0m5-3h0m7 7h0m6-18h0m2 7h0m6-10h0m3 1h0m2 16h0m4-2h0m1-1h0m2-11h0m4 8h0m1 8h0m7-13h0m2 9h0m7-9h0m1 15h0m6-12h0m8 0h0m1 0h0m2 11h0m5-11h0m3-7h0m6-4h0m6 1h0m2 17h0m1 3h0m5 2h0m7-17h0m12 13h0m7-10h0m1-4h0m4 3h0m6 6h0m4-13h0m1 5h0m1 17h0m5-2h0m3-18h0m1 17h0m3-19h0m2 4h0m3 10h0m8-7h0m2 2h0m33 13h0m1-13h0m5 6h0m6-8h0m19-1h0m3 2h0m2-1h0m13 12h0m7-15h0m-4 40h0m-3-11h0m-15 7h0m-5 3h0m-6-4h0m-3-6h0m-11 10h0m-5-6h0m-14-5h0m-7 9h0m-1 2h0m-5 2h0m-1-5h0m-1-16h0m-12 2h0m0-1h0m-1 21h0m0-9h0m0 9h0m-3-23h0m0 21h0m-3-10h0m-6-11h0m-3 9h0m-2 4h0m-7-2h0m-1-1h0m-2-7h0m-3 7h0m-5-10h0m-5 17h0m-4-9h0m-5 0h0m-3 15h0m-4-9h0m-2 8h0m-4-18h0m0-2h0m-4 19h0m-2-8h0m-1 3h0m-4 2h0m0-14h0m-9 14h0m-6-15h0m-1 8h0m-14 8h0m-1-16h0m-2 3h0m-1-3h0m-4 5h0m-6-5h0m0 11h0m-1-13h0m-1 16h0m-10-3h0m-4-10h0m-6 12h0m-4-9h0m-5 10h0m-1 5h0m-6-1h0m-5-20h0m-3 0h0m-2 4h0m-5 2h0m-2 3h0m-1-9h0m0 9h0m-1 3h0m-1 1h0m-1-13h0m-1 8h0m0 14h0m-21-17h0m-32 14h0m-9-4h0m-12-10h0m-16 5h0m-28 8h0m0-5h0m-18-4h0m0-2h0m0 20h0m18 8h0m28-7h0m44 11h0m28 3h0m6-18h0m5 4h0m12 2h0m0 9h0m7-12h0m1 11h0m15-8h0m2-3h0m2-1h0m8 0h0m7-1h0m18-2h0m1 7h0m5-6h0m11 11h0m4 8h0m2-8h0m10 7h0m3-19h0m0 8h0m4 6h0m3 4h0m1-13h0m5 12h0m3-12h0m1 18h0m5 0h0m1-16h0m0-1h0m8 6h0m1 3h0m5-5h0m3-9h0m4 11h0m6 7h0m3-7h0m13-12h0m55 6h0m6 1h0m-1 39h0m-56-20h0m-6 14h0m-23-12h0m-4 3h0m-2 15h0m-6-6h0m-1 7h0m-1-20h0m-18 5h0m-16-6h0m-6 4h0m-10 11h0m-1-8h0m-10 13h0m-22-4h0m-15-12h0m-76 7h0m-28-7h0m-44-1h0m-18 7h0m0 23h0m46 7h0m56-12h0m13 11h0m6-17h0m3 7h0m51-1h0m24 0h0m38 10h0m69 4h0m45-12h0m27 15h0m-156 5h0m-88-1h0m-134 0h0m0 7h0m107 19h0m30 1h0m2 10h0m129 16h0m-15 5h0m28 22h0m-37 15h0m-142 43h0m173 0h0"/><path d="M1362 2069h0m38 21h0m-34 4h0m-12-1h0m-15 12h0m-197 16h0m173 0h0m10-5h0m3 4h0m6-8h0m2 20h0m5 3h0m9-1h0m0-2h0m1 2h0m0-20h0m10 18h0m0-7h0m2-8h0m10-2h0m78 9h0m-73 22h0m-10 4h0m-7 0h0m-4 4h0m0-8h0m-7 9h0m-1-10h0m-3 5h0m-2 8h0m-3-2h0m-3-10h0m-12 8h0m-7-2h0m-1-2h0m-54 6h0m-105-20h0m-2 21h0m-3-2h0m-65-2h0m-62 6h0m90 17h0m6 3h0m19-9h0m145-10h0m37 23h0m4-22h0m7 11h0m1-7h0m6 17h0m5-7h0m1-3h0m2 8h0m0-16h0m5 3h0m1-6h0m3 11h0m2 7h0m6-7h0m3 7h0m0-8h0m0-10h0m2 19h0m11-4h0m8-16h0m4 6h0m9 8h0m16 8h0m3 8h0m-17 4h0m-8 10h0m-8-10h0m-1 4h0m-3-3h0m-9-10h0m0 1h0m-1 13h0m-2 6h0m-1-15h0m-3 14h0m-7-7h0m-2 2h0m-6 0h0m-3-14h0m-2 5h0m-2 3h0m0 12h0m-1-1h0m-5-16h0m-7 8h0m-8 9h0m-26-18h0m-8 7h0m-1 10h0m0-14h0m-7 9h0m-27-14h0m-68 2h0m-52 14h0m-15 4h0m-78-1h0m0 24h0m44-2h0m34-11h0m11 7h0m14-5h0m26 8h0m38-4h0m27-9h0m14 17h0m11-19h0m39 12h0m2 6h0m20-7h0m8-6h0m9 3h0m6-10h0m0 5h0m9 10h0m4 3h0m1-2h0m16-6h0m3 4h0m1-7h0m0-2h0m5 3h0m5 12h0m1-3h0m19 4h0m14 0h0m18 4h0m-27 14h0m-13 4h0m-2-8h0m-2 4h0m-3 3h0m-4-17h0m-4 3h0m-15 12h0m-6-9h0m-15-7h0m0 22h0m-4-16h0m-1 4h0m-9-3h0m-7-3h0m-10 0h0m-1-1h0m-4 9h0m0 6h0m-5 1h0m-2 3h0m-8-15h0m-3-2h0m-9-2h0m-15 11h0m-10 8h0m-9-8h0m-2 1h0m-13-4h0m0 2h0m0 3h0m-4-6h0m-2-4h0m-12 0h0m-13-2h0m-4-3h0m-3 16h0m-31-4h0m-21-4h0m0 12h0m-34-11h0m-7 10h0m-9-12h0m-56 6h0m-18-10h0m0 9h0m18 18h0m28 13h0m28-12h0m0 0h0m9-8h0m14 12h0m40-1h0m1 12h0m11-1h0m13-7h0m2 4h0m19 0h0m3 2h0m5-17h0m7 10h0m9-7h0m3 4h0m3-2h0m1-1h0m9 9h0m6-5h0m4 7h0m0 2h0m23-16h0m9-5h0m0 13h0m4-6h0m14 4h0m3 12h0m5-18h0m2 13h0m3-1h0m4-16h0m2 20h0m16 2h0m2-14h0m5 10h0m2-16h0m8 7h0m1-8h0m2 2h0m11 2h0m9 7h0m2-4h0m1 11h0m13-18h0m7 8h0m4 9h0m21 7h0m-1 17h0m-5 3h0m-4 0h0m-8-8h0m-12-1h0m-2-5h0m-1 15h0m-1-9h0m0 7h0m-2-9h0m-6 4h0m-5-2h0m0-3h0m0-6h0m-11-3h0m-8 15h0m-3 5h0m-5-12h0m0 7h0m-1-17h0m-10 1h0m-3 16h0m-3-15h0m-5 9h0m-1-10h0m-5-1h0m-8 1h0m-3 15h0m-4-2h0m-2-13h0m-13 8h0m-4-2h0m-8-1h0m-2 0h0m-6 11h0m-5-7h0m-7-4h0m-6 3h0m0 0h0m-4-7h0m0 17h0m-3 0h0m-8 3h0m0-10h0m-3 3h0m-1-9h0m-3-5h0m-3 10h0m-2-3h0m-5-5h0m-10-2h0m-8 12h0m-1 6h0m-4-14h0m-5-3h0m0 11h0m0-13h0m-4 20h0m-2 0h0m-2-5h0m-2-13h0m-6 15h0m-16-17h0m-1 1h0m0 14h0m0-5h0m-1 10h0m-2-2h0m-3-3h0m-7-11h0m-9 8h0m-6-2h0m-25 1h0m0-3h0m-7 8h0m-65-5h0m-18 0h0m0 3h0m0 18h0m90-5h0m0 19h0m12-13h0m5 7h0m23-15h0m0 14h0m12-14h0m0 6h0m1-7h0m6 3h0m0 20h0m3-7h0m12 3h0m2-2h0m2-16h0m5-1h0m3 1h0m10 2h0m5 13h0m17-7h0m5 4h0m0-3h0m5-7h0m5 14h0m2-11h0m7-4h0m1 13h0m15-1h0m4 2h0m5-12h0m0 8h0m6-6h0m2 4h0m6 0h0m6-5h0m2-4h0m16 2h0m2 0h0m20 2h0m1 8h0m0 5h0m1-11h0m1 1h0m4-5h0m2 3h0m2 14h0m10-14h0m12 3h0m4-3h0m10 3h0m5 5h0m1-11h0m13 13h0m4-9h0m13-2h0m1-2h0m8 0h0m-159 32h0m-19-8h0m-1 6h0m-26 0h0m-7 4h0m-13-10h0m-9 6h0m-9-3h0m-8 11h0m-5-17h0m-9 8h0m-14 2h0m0-3h0m-12 7h0m-7-4h0m-4 7h0m-11-12h0m-13-4h0m0 3h0m-21 18h0m-16-11h0m-28 11h0m0-22h0m-18 27h0m0 2h0m18 5h0m78 10h0m0-19h0m15 0h0m4 13h0m0-9h0m9 12h0m6 4h0m7-19h0m19-1h0m3 13h0m3-14h0m5 21h0m2-10h0m16 1h0m4-8h0m27 4h0m2 0h0m47-5h0m25 9h0m-51 30h0m-5-15h0m-36 2h0m-28-4h0m-38 13h0m-5 5h0m0-10h0m-3-3h0m-8 16h0m-5-4h0m-15-15h0m-50 18h0m-28-16h0m203 33h0m16-4h0m202 29h0m-324-7h0m-4 2h0m-49 13h0m-44-10h0m176 12h0m-132 52h0m53-5h0m94 21h0m13 0h0m0 0h0m5 0h0m30 0h0"/><path d="M1223 2076h0m148 11h0m5 16h0m-3 6h0m-6-6h0m-4 3h0m-6-7h0m-3 4h0m-6-11h0m-45 18h0m-276-3h0m274 28h0m29 0h0m2-11h0m0-10h0m1 3h0m7 7h0m11-5h0m4-4h0m5 9h0m27-3h0m6 22h0m-14 8h0m-4-4h0m-2 5h0m-8-6h0m-1 8h0m-1-1h0m-1-1h0m-4-1h0m-3-15h0m-1 3h0m-2 6h0m0 4h0m0 0h0m-2 4h0m0 2h0m-1-16h0m-2 4h0m-1 12h0m-1-18h0m-5 11h0m-3-12h0m-7 20h0m-19 1h0m-54-7h0m-45 8h0m-64-9h0m-9-11h0m-112 21h0m274 21h0m13-3h0m4 1h0m0-3h0m8-6h0m10 3h0m1-8h0m0 8h0m1-6h0m1 6h0m0-12h0m16 9h0m5 0h0m2-7h0m5-2h0m17 6h0m44 4h0m17-8h0m-15 36h0m-32-10h0m-2 0h0m-6 14h0m-10-17h0m0 1h0m-4 16h0m-4-16h0m-2 14h0m-1-10h0m-1 3h0m-6 0h0m-5 14h0m-5-17h0m-3 8h0m-4-8h0m-2 4h0m0 10h0m-1 2h0m-6-8h0m-2-9h0m-1 6h0m-1-9h0m-9 14h0m-8-12h0m-1 18h0m-1-10h0m-5 6h0m-45-9h0m-19-4h0m-106 15h0m-15-20h0m-78 7h0m0 16h0m0-16h0m-18 0h0m0 30h0m46-3h0m3-2h0m13 4h0m12-5h0m9 9h0m32-3h0m48-3h0m5 1h0m61-6h0m3 17h0m25-1h0m5 1h0m1-22h0m19 23h0m1-11h0m14 1h0m1-1h0m4-1h0m2-7h0m10 10h0m0 0h0m8-8h0m1-6h0m0 20h0m3 2h0m1-5h0m2-1h0m1-10h0m3-3h0m2 19h0m2-2h0m0-11h0m4-9h0m5 12h0m1 1h0m6 10h0m8-1h0m2-10h0m4 8h0m18-12h0m24-5h0m-14 36h0m-3 6h0m-31-4h0m-1-7h0m-18-5h0m-3 15h0m-4-8h0m-12-4h0m-14 0h0m-4-7h0m-10 20h0m-2-19h0m-1 1h0m-1 10h0m-29-1h0m-22 3h0m-6 2h0m-5 1h0m-4 2h0m0 2h0m-4-22h0m-6 2h0m-15 9h0m-2-7h0m-5 19h0m-14-3h0m-14-1h0m-10-17h0m-1 19h0m-4-4h0m-1 6h0m-1-12h0m-5 0h0m-28 11h0m0-5h0m-32-9h0m-21 8h0m-16-4h0m-28-12h0m-18 15h0m0 26h0m90-11h0m0 1h0m0-1h0m12 7h0m0-5h0m0-8h0m5 14h0m11 0h0m6 7h0m11 0h0m2-20h0m1 19h0m1-4h0m1 1h0m2-9h0m2 5h0m15 4h0m4-8h0m6-5h0m1 9h0m11 2h0m1-12h0m0 13h0m9 1h0m10 3h0m15-11h0m6 14h0m3-18h0m5 14h0m2-18h0m3 6h0m5-2h0m1 9h0m2 6h0m2-4h0m4-3h0m0-6h0m21 8h0m9-14h0m4 3h0m3 14h0m12-5h0m2 0h0m2-11h0m10 16h0m0-16h0m3 4h0m2 6h0m10 0h0m2 4h0m1-1h0m10-11h0m6 15h0m13 4h0m0-11h0m1-5h0m3 15h0m0-18h0m32-4h0m10 15h0m7-5h0m-5 29h0m-5-3h0m-2 6h0m-2-13h0m-13 9h0m-2 6h0m-7-17h0m-11-1h0m-5 0h0m-1 6h0m-1 10h0m-5-16h0m0 21h0m-2-13h0m-2 2h0m-12 11h0m-4-10h0m-2-13h0m-18 22h0m-1-2h0m0-1h0m-1-13h0m-1-3h0m-4 17h0m-4-8h0m-2 0h0m-7-3h0m-1-8h0m-5 1h0m0 1h0m-3 7h0m0 12h0m-3 0h0m-7-19h0m-8 20h0m-10-19h0m0 11h0m-6 2h0m0-17h0m-2 10h0m-4-10h0m-11 2h0m-6 16h0m-1-16h0m-1 5h0m-3 12h0m-1-14h0m-4 9h0m-3-1h0m-7-11h0m-3 4h0m-1-3h0m-1 16h0m-3-17h0m-5 5h0m-9 11h0m0-7h0m-4-10h0m-5 9h0m-5-9h0m-2 7h0m-1 5h0m0-6h0m-3 5h0m-6-5h0m0 13h0m-3-9h0m-4 12h0m-2-21h0m0-2h0m-2 19h0m0 0h0m-1-3h0m-2-4h0m-2 5h0m-5-7h0m-1-10h0m0 4h0m-19 1h0m-3 3h0m-13-3h0m-6 7h0m-22-11h0m0 15h0m-56-16h0m-18 22h0m0 20h0m46-10h0m16-4h0m43 15h0m10-8h0m0 11h0m33-22h0m3 8h0m7 8h0m1 0h0m1-9h0m12 11h0m6-5h0m5-2h0m5-9h0m3 3h0m10 8h0m8 4h0m1 1h0m4-7h0m16 0h0m8-11h0m12 22h0m6-19h0m1 15h0m3-17h0m1 8h0m2-2h0m17-6h0m1-1h0m4 6h0m34-6h0m7 9h0m10-6h0m8 16h0m2-14h0m7-5h0m5 0h0m12 1h0m13 0h0m26 3h0m-45 42h0m-43-8h0m-13-8h0m-17 12h0m-42-11h0m-8 9h0m-22-3h0m-2-5h0m-4 6h0m-7-6h0m-10-3h0m-4 11h0m-3-15h0m-19 7h0m-36-3h0m-10 17h0m-28-20h0m-6 7h0m-8-9h0m-23 12h0m-41-6h0m0 8h0m0-9h0m-18 2h0m18 21h0m0 5h0m28-1h0m28 5h0m9-10h0m7-1h0m6 19h0m6-9h0m9-7h0m13 16h0m28-21h0m71 3h0m1 7h0m20 7h0m6-2h0m25 1h0m7-4h0m9-7h0m43 17h0m90 22h0m-93-17h0m-24 0h0m-33 3h0m-10 14h0m-72-12h0m-74-8h0m-44 10h0m-12-6h0m0-2h0m-44 0h0m-18 35h0m74-3h0m16 12h0m124-16h0m31-1h0m-138 46h0m4 9h0m148 10h0m-205 47h0m47 0h0m18 0h0m71 0h0m44 0h0m2-15h0m41 15h0m16 0h0"/><path d="M1428 2079h0m-14 24h0m-38-12h0m-1 8h0m-9-7h0m0 8h0m-17 0h0m-18 3h0m-54-3h0m-232-10h0m56 36h0m50-4h0m150 12h0m23-11h0m8 12h0m0-14h0m1-6h0m1 14h0m6 0h0m9 1h0m9-17h0m1 15h0m8 4h0m46-8h0m7 24h0m-3-4h0m-42-3h0m-3 12h0m0 0h0m-3-4h0m-5-10h0m-2 10h0m-2 1h0m-3 7h0m-5-15h0m-5 9h0m-2-3h0m-3-9h0m-4 15h0m-2-5h0m-5-12h0m-8 12h0m-2-6h0m-9 5h0m-69-11h0m-52 17h0m-20-6h0m-23 11h0m-38-2h0m-37 22h0m37-5h0m24 2h0m78 4h0m52-2h0m34-6h0m4-11h0m10 7h0m3 0h0m5 14h0m3-6h0m2 1h0m0-3h0m6-3h0m1 4h0m0 7h0m2-19h0m2 5h0m3 8h0m2-12h0m5 11h0m3-7h0m7 14h0m7-10h0m4-9h0m1 7h0m2-8h0m1 15h0m1-6h0m2 3h0m14 5h0m3-7h0m3 5h0m7-16h0m2 18h0m14-11h0m-30 21h0m-2 8h0m-15 0h0m-12-8h0m-3 10h0m-6 7h0m-6-9h0m-2 6h0m-1-5h0m-1 5h0m-1-4h0m-8 5h0m-12-8h0m-3 9h0m-14-18h0m-32 15h0m-4 3h0m-16-9h0m-39-3h0m-2-4h0m-29 2h0m-13 2h0m-5 9h0m-44 3h0m-7-15h0m-37 15h0m-28-8h0m0 5h0m-18 1h0m9 19h0m9 4h0m56-1h0m16 3h0m6 1h0m6-14h0m0 5h0m13-8h0m12-3h0m22 20h0m12-7h0m10-3h0m10 1h0m7 0h0m19 9h0m27-14h0m12 14h0m27-12h0m11-4h0m5 15h0m6-20h0m11 20h0m7-19h0m1 5h0m2 6h0m1 8h0m1-8h0m17-10h0m0 8h0m3-6h0m5 1h0m14 11h0m0-8h0m2 6h0m13-7h0m20 13h0m18-20h0m-1 39h0m-28-1h0m-5 2h0m-7 0h0m-11-9h0m-6 9h0m-4 1h0m-4 4h0m-1-3h0m0-11h0m-1 2h0m-29 3h0m-4-7h0m-1 11h0m-7 5h0m-3-10h0m-1 4h0m-17 0h0m-19-2h0m-29-12h0m-1 22h0m-11-8h0m-14-6h0m-14-8h0m-21 11h0m-23 7h0m-5 2h0m-19-11h0m0 13h0m-78-4h0m-46 5h0m62 15h0m53-11h0m6 17h0m16-7h0m11 2h0m3-2h0m0-6h0m0-3h0m5 2h0m2 6h0m5-10h0m0 18h0m1-8h0m8 9h0m1-10h0m0 10h0m3-17h0m7 13h0m0-14h0m2 8h0m5-12h0m3 19h0m1-9h0m14 2h0m0 8h0m11 3h0m0-2h0m3-14h0m10-5h0m21 7h0m2-1h0m11-7h0m4 11h0m3 1h0m3 9h0m0-4h0m9-5h0m11 8h0m1-8h0m2 4h0m9-6h0m6 8h0m17 2h0m9-2h0m5-5h0m7-6h0m8-2h0m3 1h0m8 1h0m6 1h0m8 0h0m4-3h0m22 12h0m-3 19h0m-11 3h0m0-4h0m-8 6h0m-1-12h0m-13 8h0m-1 8h0m-1-13h0m-3 2h0m0 6h0m0-8h0m-1-2h0m-2 0h0m-2 2h0m-8-2h0m-3 3h0m-4 8h0m-5-7h0m-12 11h0m-3-13h0m0 3h0m0 8h0m-1-5h0m-3 2h0m0-11h0m-3 1h0m0 7h0m-2 1h0m0 0h0m-1-5h0m-8 9h0m-5-16h0m-2 7h0m0 12h0m-5-17h0m0 3h0m-1 12h0m-9 0h0m-1-4h0m-2-4h0m-6 2h0m-1 3h0m-1-7h0m-1 8h0m-1-5h0m-14 3h0m-15 0h0m-21-15h0m-3 2h0m-3 16h0m-2-17h0m-4 6h0m0 15h0m-3-14h0m0 14h0m-11-3h0m-2-2h0m-10-14h0m-4 3h0m-3 7h0m-11-1h0m-2-10h0m-7-3h0m-5 9h0m-5-9h0m0 7h0m-3 15h0m-3-4h0m-6 0h0m-1-15h0m-1-3h0m-2 7h0m-1 4h0m-1 10h0m-38 0h0m0-13h0m-6-1h0m-28 15h0m-44-6h0m0-5h0m0-2h0m0 13h0m-18-6h0m0 0h0m0 20h0m0 3h0m18 2h0m0-1h0m28-5h0m0-11h0m16 21h0m21-15h0m28-4h0m25 13h0m6-13h0m1 7h0m32 6h0m5-12h0m1 11h0m3-3h0m6-7h0m16-3h0m2 20h0m4-8h0m1 4h0m3-6h0m1-9h0m4 14h0m4-10h0m4-5h0m2 2h0m6 0h0m12 5h0m3 9h0m1 5h0m14-18h0m0 6h0m40-7h0m6-1h0m28 4h0m0-4h0m27 0h0m1 1h0m18 1h0m0 4h0m-81 27h0m-1 8h0m-61-19h0m-25 3h0m-2 2h0m-29 0h0m-30 6h0m-19-11h0m-3 4h0m-6 2h0m-28-6h0m-28 9h0m-12 6h0m-16-14h0m0 15h0m-46-9h0m0 0h0m0 17h0m18 5h0m0 16h0m56-1h0m0-7h0m4-6h0m5-2h0m32 8h0m12-5h0m34-8h0m62 0h0m45 18h0m82-13h0m56 5h0m50 16h0m-129 9h0m-31-11h0m-51 9h0m-135-4h0m-3 11h0m-24-12h0m-65-2h0m123 23h0m152 38h0m-99-1h0m-76-13h0m-56 14h0m18 78h0m16 0h0m35 0h0m69 0h0m46 0h0"/><path d="M1315 2081h0m45-12h0m31 0h0m28 25h0m-12 7h0m-52 1h0m-18-5h0m-24-4h0m-168 1h0m-16 8h0m-102 25h0m90-10h0m182-2h0m3 13h0m27-6h0m2 8h0m10-7h0m6 12h0m1-18h0m5 14h0m14 3h0m1-15h0m0 4h0m0-4h0m6 9h0m3 1h0m0 1h0m31-2h0m5 6h0m8 10h0m-46 1h0m0 6h0m0-7h0m-2 4h0m-3 3h0m-5 0h0m0-13h0m-2 12h0m-1-8h0m-2 11h0m-6-1h0m-2 2h0m-5-10h0m-1-8h0m0 7h0m-4 4h0m-2-1h0m-5 8h0m-2-16h0m-4 11h0m-96 7h0m-59-2h0m-32 1h0m-8 1h0m-89 4h0m28 13h0m3 7h0m13-5h0m98-6h0m61 6h0m47-3h0m13-7h0m0 9h0m5 0h0m6-5h0m20-2h0m1 15h0m3-4h0m5-17h0m4 9h0m2 7h0m2-2h0m3-14h0m1 15h0m1-3h0m3-13h0m10 13h0m3 1h0m0 8h0m1-13h0m7-9h0m1 9h0m3 13h0m18-16h0m9-3h0m1 16h0m22 17h0m-28 3h0m-15-8h0m-4 6h0m-4 0h0m-2 6h0m-14-17h0m-9 5h0m0 5h0m-2 5h0m-2-1h0m-4 4h0m-5-20h0m-3 14h0m-5 1h0m-3-3h0m0 3h0m-1 1h0m-2-6h0m-3-8h0m-4 18h0m-3-7h0m-1 5h0m-4 3h0m0-2h0m-4-18h0m0 22h0m-5-1h0m-3 1h0m-17-10h0m-15-8h0m-21 14h0m-30-8h0m-78 9h0m-59-10h0m-16 28h0m0-8h0m16-4h0m12 6h0m9 11h0m28-3h0m19-13h0m110 8h0m3 12h0m15-1h0m1-2h0m1-14h0m6-1h0m1 1h0m4 10h0m12-3h0m9-10h0m3 20h0m12-18h0m1 1h0m2 10h0m6-16h0m1 16h0m4-11h0m1 18h0m0-10h0m1 9h0m4-10h0m2 9h0m3-17h0m4 11h0m3-7h0m7 1h0m2 6h0m7-7h0m7-5h0m9 16h0m4-13h0m1 15h0m6-9h0m13 17h0m-2-1h0m-29 9h0m0-6h0m-9 3h0m-2 4h0m-2 0h0m-7-1h0m-4-2h0m0 0h0m-11-4h0m-2 0h0m-5 15h0m-3-16h0m-13 14h0m-7-3h0m-16-10h0m-1 13h0m-6-20h0m-4 20h0m-11-12h0m-14-6h0m-1 10h0m-3-8h0m-25 15h0m-16-3h0m-7-2h0m-9 1h0m-5 8h0m-11-6h0m-21 0h0m-10-2h0m-4 1h0m-3 4h0m-2 0h0m-6-17h0m-3 4h0m0-3h0m-3 7h0m-11 10h0m-5-10h0m-40 12h0m-16-2h0m-46-7h0m0 23h0m0-8h0m18 18h0m78-14h0m15 13h0m0-12h0m4-8h0m3 14h0m9-11h0m13 17h0m1 0h0m14-8h0m7 9h0m5-8h0m13-6h0m6-6h0m5 14h0m2 0h0m4 0h0m2-10h0m1 8h0m6-3h0m1 11h0m3-6h0m17-5h0m1 11h0m3 0h0m3 0h0m0-19h0m3 7h0m9-9h0m3 9h0m4 6h0m0-6h0m2 11h0m5-1h0m10 1h0m12-15h0m16-4h0m2 4h0m14 5h0m1-11h0m0 7h0m1-6h0m15 20h0m2-13h0m5-4h0m30 16h0m5-3h0m5-3h0m1-11h0m33 37h0m-12 2h0m-1 1h0m-25 3h0m-1-7h0m-6-4h0m-1 9h0m-1-5h0m-1 4h0m-3-19h0m-10 15h0m-7 0h0m-4-10h0m0 14h0m-2-4h0m0 7h0m-1-11h0m0 7h0m-17-13h0m-14 7h0m-6-3h0m-9-7h0m-3 0h0m-4 5h0m-1 2h0m-9 6h0m0 6h0m-2-20h0m-1-2h0m-2 16h0m-8 5h0m-3-13h0m-6 6h0m-9-7h0m-1 16h0m-17-9h0m0-12h0m-2 21h0m0-4h0m-8 3h0m-15-4h0m-3 5h0m-1-4h0m-10-17h0m-1 10h0m-9 5h0m-1-6h0m-1-1h0m-3 4h0m-1-13h0m0 17h0m-5 4h0m-2-17h0m-4 16h0m-3-8h0m-2-10h0m-10 4h0m-2 13h0m0-9h0m-1 5h0m0-3h0m-2 9h0m-2-13h0m0-7h0m-2 16h0m-8-9h0m-3 12h0m-9 2h0m-8-21h0m-5-2h0m-6 17h0m-6-2h0m-7 8h0m0-14h0m0 7h0m0-2h0m-9 7h0m-74-12h0m0-4h0m0 31h0m0-10h0m46 4h0m28-4h0m0 16h0m33-9h0m4 0h0m3 0h0m1 12h0m26-14h0m1 0h0m1-3h0m1 14h0m3-17h0m9 2h0m4 4h0m6-7h0m6 14h0m2-3h0m7 11h0m11-17h0m2 18h0m2-23h0m1 3h0m0 8h0m3-3h0m35-3h0m9-4h0m5 2h0m0 20h0m1-21h0m5 0h0m9 2h0m7-2h0m9 2h0m15 5h0m2 6h0m5-7h0m22 0h0m1-5h0m7 0h0m14 19h0m4-16h0m12-6h0m4 3h0m11 4h0m0 15h0m6-12h0m14-5h0m10-4h0m-144 37h0m-6 1h0m-4 0h0m-10-15h0m-13 7h0m-2-4h0m-36 16h0m-3-14h0m-8 10h0m-5-11h0m-5 5h0m-27 5h0m-20-5h0m-4 11h0m-5-18h0m0 4h0m-13 0h0m-56 17h0m-46-22h0m0 1h0m0 17h0m0 17h0m46 3h0m0 3h0m61-13h0m14 9h0m3 4h0m6-3h0m24-1h0m5 6h0m17-4h0m51-1h0m14-12h0m16 10h0m8 3h0m2-5h0m5 10h0m1-3h0m49-12h0m38 24h0m-60 1h0m-84 3h0m-21-5h0m-11 9h0m-5-8h0m0 2h0m-13 12h0m-104-10h0m-62-10h0m93 42h0m110-11h0m83 11h0m63-9h0m-215 38h0m-19-16h0m-13-6h0m0 4h0m-40 16h0m12 22h0m28-16h0m13 3h0m37-4h0m-45 27h0m12 40h0m51 0h0m98 0h0m1 0h0m13 0h0"/><path d="M1325 2035h0m4 46h0m26 1h0m10 4h0m1 19h0m-32 5h0m-11-8h0m-8 1h0m-1-5h0m-16 7h0m-188 15h0m124 1h0m7-9h0m83 2h0m5 12h0m1 8h0m3-21h0m13 0h0m5 18h0m5 1h0m8 1h0m5-9h0m1-5h0m1 8h0m2 7h0m7-4h0m5-2h0m0 4h0m19-16h0m-8 21h0m-7 15h0m-8 7h0m-2 0h0m-6-16h0m-3 7h0m-3 8h0m-3 1h0m-8-7h0m-4-4h0m-1 1h0m-1-6h0m-1 3h0m-2 11h0m-4 0h0m-2-4h0m-15-1h0m-31-1h0m-29-2h0m-115 0h0m-106 0h0m28 21h0m37 3h0m13 9h0m6-13h0m155 10h0m29-2h0m2-15h0m10 10h0m7 6h0m9-2h0m2-15h0m4 17h0m8-11h0m3 6h0m2 2h0m1 3h0m3-8h0m5 12h0m4-8h0m7-5h0m0-3h0m10 12h0m9 1h0m35 1h0m0 17h0m-13-3h0m-18 1h0m-2 8h0m-14-2h0m-3-11h0m-4 1h0m-2 10h0m-3-1h0m-3-11h0m-2 4h0m-7 2h0m-2-5h0m0-4h0m-6 0h0m0 21h0m-4-3h0m-1 1h0m-2-13h0m-7 10h0m-3-18h0m-7 21h0m-1-11h0m-4-6h0m-1 0h0m-3 4h0m-11 0h0m-3-2h0m-32 6h0m-21-6h0m-9 10h0m-1-7h0m-60 7h0m-47-13h0m-65 12h0m0-9h0m-46 10h0m0-6h0m18 16h0m89 7h0m0 4h0m14 3h0m3-12h0m3 1h0m18-1h0m3 13h0m15-1h0m33-2h0m29-2h0m14 9h0m11-8h0m30-12h0m6 9h0m7-5h0m9 4h0m2-2h0m12 0h0m4 6h0m3-2h0m3 0h0m2-11h0m10 10h0m3-4h0m7 0h0m2 11h0m9 0h0m11-3h0m4 6h0m22-13h0m7 6h0m-10 34h0m-5-21h0m-9 14h0m-10-12h0m-2-1h0m-1 14h0m0-15h0m-4 13h0m-26-6h0m-9 6h0m-1-14h0m-3 6h0m-2 7h0m-1-13h0m-4 19h0m-8-12h0m-12 1h0m-8-5h0m-14 17h0m-18-16h0m-4 6h0m-17 10h0m-6-20h0m-15 20h0m-10-19h0m0 7h0m-1 1h0m-4 11h0m0-18h0m-3 4h0m-38 15h0m-4-1h0m-3 2h0m-11-3h0m-38-3h0m-12-14h0m-7 19h0m-21-4h0m-16-4h0m-28-12h0m-18 14h0m0-2h0m0-7h0m46 26h0m16-2h0m0 2h0m56 3h0m6-3h0m14 12h0m4-9h0m4 10h0m0-2h0m2-14h0m4 16h0m0-15h0m2-3h0m5 8h0m6 10h0m2-2h0m19-15h0m1 12h0m3 3h0m2 2h0m2-8h0m1 4h0m1-6h0m10-1h0m5 11h0m20 1h0m1-22h0m10 18h0m13-1h0m2-4h0m8 3h0m5 2h0m1 4h0m2-20h0m7 6h0m35-2h0m5 15h0m1-4h0m3 2h0m9 1h0m0-20h0m0 11h0m1-6h0m7 7h0m8-6h0m0 13h0m4-11h0m7-5h0m1 13h0m1-7h0m3-9h0m0 16h0m9-12h0m16 8h0m14-10h0m44 15h0m-27 9h0m-16-1h0m-4 19h0m-2-16h0m0 17h0m0-13h0m-3 12h0m-2-12h0m-3-7h0m-3 9h0m0 5h0m-2 1h0m-9-4h0m-5 7h0m-5-1h0m0-4h0m0-2h0m-6 7h0m-15-2h0m-1-10h0m-1-2h0m-4-5h0m-2 4h0m-13 8h0m-5 7h0m-1-3h0m-3-4h0m-3-10h0m-3 0h0m-7 4h0m-15-3h0m-3 19h0m0-8h0m-2 5h0m-11-14h0m-1 11h0m-4-2h0m-4-7h0m-3 4h0m-3-10h0m-2-1h0m0 3h0m-2-3h0m-4 16h0m-3-9h0m-3 5h0m-3 10h0m-11-21h0m-12 5h0m-1 14h0m-2-11h0m-2-4h0m-2-3h0m-3-1h0m-3 8h0m0-4h0m-3 16h0m-3-15h0m-14-3h0m-2 4h0m-1-4h0m-8 6h0m-3-2h0m-3 10h0m-4-16h0m-2 16h0m-1 5h0m-4-17h0m-3 15h0m-3-5h0m-6-6h0m-7 8h0m-1-18h0m-6 20h0m-12-11h0m-3 8h0m-4-8h0m0 3h0m-15 5h0m-13-13h0m-21 6h0m0-1h0m-16-7h0m0 0h0m-28 5h0m0 5h0m-18-6h0m0 21h0m0 4h0m18 14h0m0-13h0m0 6h0m28 5h0m0-3h0m16 5h0m12-16h0m0-1h0m22-1h0m0-1h0m6 19h0m5-7h0m27 7h0m5-5h0m2-8h0m1-6h0m0 3h0m1-5h0m1 0h0m5 1h0m1 6h0m8 2h0m7 6h0m7-2h0m1-13h0m29 3h0m4-1h0m7 13h0m12-10h0m3 10h0m3 5h0m6-16h0m1 1h0m2-5h0m2 7h0m3-1h0m5 0h0m9-6h0m2 15h0m4-9h0m0 16h0m10-19h0m2 6h0m6-1h0m8 3h0m2-3h0m2 9h0m41-10h0m5 12h0m38-19h0m5 10h0m4-5h0m-162 30h0m-28-3h0m-10-5h0m-49 6h0m-1 6h0m-6-11h0m-5-1h0m-12 15h0m-8-7h0m-11 4h0m-34 5h0m-16-11h0m0 8h0m-28 0h0m-18-15h0m0 14h0m0-1h0m0 13h0m62-2h0m34 20h0m31-21h0m12 17h0m34-10h0m38-7h0m31 22h0m7-23h0m16 0h0m50 4h0m-14 21h0m-9 4h0m-3-2h0m-12 9h0m-3-12h0m-48 8h0m-20-1h0m-37 9h0m-21-15h0m-6 12h0m-12-2h0m-13 2h0m-36 5h0m-19-14h0m-16 10h0m0-2h0m0-7h0m-46 13h0m0-2h0m111 11h0m136 3h0m132-3h0m-305 21h0m0 4h0m47 89h0m72 0h0m72 0h0"/><path d="M1369 2063h0m-324 15h0m325-5h0m2 22h0m-30-5h0m-232 7h0m205 30h0m11-12h0m21 14h0m2-5h0m3-3h0m2-6h0m2 14h0m2 0h0m3-12h0m2 11h0m1 3h0m14-10h0m1 11h0m0-7h0m12-4h0m27 34h0m-9 4h0m-38 0h0m-3-17h0m-5 13h0m-1-5h0m-12-1h0m-3 10h0m-1-14h0m-1 14h0m-2-9h0m-3-14h0m-1 18h0m-3 4h0m-59-4h0m-30 1h0m-130-10h0m-16-8h0m-28 21h0m-46-3h0m141 27h0m40-13h0m31 10h0m13-5h0m56-5h0m4-2h0m13 8h0m6-11h0m3 9h0m15 5h0m1-1h0m7-17h0m2 13h0m1 3h0m1-12h0m7 17h0m13-19h0m9 6h0m4 10h0m39-13h0m-34 31h0m-1 10h0m-7-9h0m-3-9h0m-2 13h0m-6 1h0m-6-5h0m-3-7h0m-1-5h0m-3 4h0m-14 18h0m-2-2h0m-4-2h0m-1 1h0m-1-7h0m-3 8h0m-4-18h0m-2 6h0m0-1h0m-3-7h0m-1 22h0m-4-15h0m-1 9h0m-2-13h0m-6 11h0m-19-3h0m-31 2h0m-15-2h0m-27 7h0m-2-3h0m-28-1h0m-49 2h0m-14 2h0m-24-12h0m-9-2h0m-12-5h0m-62 7h0m18 38h0m56-2h0m0-10h0m16 6h0m6-2h0m0 8h0m6-1h0m5-12h0m11-4h0m28 5h0m0 4h0m42 4h0m14-9h0m4 6h0m32 4h0m7-10h0m6-3h0m4 11h0m1 4h0m23-9h0m9 9h0m16-11h0m11 11h0m3-18h0m8 21h0m4-2h0m0-19h0m3 14h0m4-8h0m3 1h0m11 9h0m10-9h0m5 2h0m13 9h0m19-11h0m-15 26h0m-11 0h0m-1-3h0m-6 5h0m-13-13h0m-1 21h0m0-12h0m-4-1h0m-4 6h0m-1 0h0m-7 6h0m-3-6h0m-18-12h0m-2 13h0m-7-13h0m-8 7h0m-3-7h0m-30 14h0m-3 6h0m0-17h0m-12 12h0m-24 3h0m-5-10h0m-2 5h0m-5-4h0m-4 2h0m-1 6h0m-31-5h0m-13 8h0m-15-4h0m-13 5h0m-2-5h0m-4-18h0m-6 5h0m-15 15h0m-47-16h0m-44-2h0m-18 15h0m0-14h0m0 31h0m0 12h0m0-14h0m18 2h0m0-6h0m78 3h0m22 2h0m0 1h0m0-6h0m9-4h0m10 15h0m10 3h0m7 5h0m14-14h0m2 13h0m1-14h0m10 5h0m16-6h0m2 16h0m8-17h0m16 8h0m2 0h0m6-4h0m4 9h0m15-10h0m2 2h0m7 3h0m5-7h0m8 4h0m11 2h0m6 4h0m5-9h0m14 4h0m3 6h0m10-2h0m2-2h0m0-13h0m4 10h0m11-6h0m2 18h0m1-23h0m7 12h0m0-1h0m11 7h0m8-4h0m40 2h0m-2 24h0m0 6h0m-4-6h0m-2-16h0m-8 22h0m-6-2h0m-2 0h0m0 3h0m-1-1h0m-4-13h0m-25 12h0m-7-3h0m-4 1h0m-4-12h0m-2-2h0m-2 17h0m-11-1h0m-1 2h0m-10-10h0m-1 5h0m-15-9h0m-13 10h0m-12-3h0m-5-4h0m-3-8h0m-8 19h0m-3-13h0m-8 9h0m-4-3h0m-2-1h0m-14 4h0m-7-6h0m-2 10h0m-3-4h0m-9-14h0m0 16h0m-2-12h0m-19-3h0m0 16h0m0-7h0m-1 5h0m-5-19h0m-3 15h0m-5 4h0m-1 1h0m-5-5h0m0-9h0m-1-7h0m-4 14h0m-1-10h0m-1 13h0m-1-6h0m-1 11h0m-5-6h0m-5-7h0m0 12h0m-2-3h0m-2-17h0m-1 12h0m0 0h0m0-11h0m-3-2h0m-3 22h0m-21-3h0m-4-13h0m-5 17h0m-12-17h0m-7-2h0m0-2h0m-9 3h0m-12 15h0m0-19h0m-16 9h0m-28-8h0m0 20h0m-18 5h0m0 16h0m46-4h0m28 5h0m9-14h0m0 6h0m7 1h0m12-4h0m19 12h0m23-11h0m5 13h0m4-23h0m4 12h0m4-9h0m1-3h0m3 2h0m7 4h0m1 13h0m9-13h0m9-6h0m3 8h0m4-6h0m2 11h0m9-2h0m6 2h0m1-4h0m2 4h0m10-7h0m1 16h0m2-8h0m9-3h0m3-11h0m8 0h0m2 17h0m23 5h0m0-22h0m5 20h0m2-14h0m33 2h0m11-5h0m17 3h0m12-5h0m6 9h0m2-1h0m15-7h0m3-2h0m9 2h0m3 17h0m8-7h0m8-5h0m-47 28h0m-37-6h0m-5 7h0m-7-11h0m-17 13h0m-11 1h0m-17-7h0m-2 1h0m-16-5h0m-7 16h0m-9-11h0m-21 14h0m-19-7h0m-26-7h0m-11-1h0m-19 3h0m-15-8h0m-13 9h0m-9 0h0m-12 10h0m-16-2h0m-28-7h0m0 3h0m0 3h0m0-11h0m0 9h0m-16-16h0m-12 22h0m28 10h0m16 5h0m12-3h0m0 5h0m58-6h0m30 12h0m75-1h0m2 1h0m53 20h0m-73-17h0m-101 11h0m-118-9h0m74 28h0m147-3h0m80 8h0m2 35h0m-78-20h0m-110 18h0m-58-8h0m-57 12h0m149 5h0m-34 20h0m-41 19h0m-74-1h0m98 25h0m74 0h0m123 0h0m9 0h0"/><path d="M1396 2062h0m-130 8h0m144 18h0m-23 0h0m-18 3h0m-3 9h0m-3 9h0m-2-2h0m-2 4h0m-5 0h0m-179 13h0m141-2h0m27 11h0m4-7h0m8-2h0m1-1h0m0-5h0m3 0h0m1 14h0m2-16h0m10-1h0m31 8h0m10 7h0m-34 18h0m-14 5h0m-2 6h0m-2-15h0m-11 4h0m-4 3h0m0-7h0m-3 1h0m-4-9h0m-1 0h0m-7 7h0m-3-1h0m-180 12h0m-47-5h0m-28-1h0m-28 14h0m28 10h0m16 10h0m12-14h0m60 4h0m135 11h0m6-4h0m23-3h0m4-2h0m4 9h0m2-18h0m0 13h0m3 0h0m0-4h0m3-7h0m1 6h0m1-2h0m6-10h0m6 17h0m3-7h0m0-11h0m2 7h0m1-2h0m4 14h0m3-5h0m3 7h0m1-11h0m1 0h0m11 0h0m3-8h0m1 15h0m9-12h0m27 40h0m-31-16h0m-12 15h0m-4-15h0m-2 5h0m-1 10h0m-7-16h0m-1 4h0m-2-7h0m-5 19h0m0-17h0m-5 8h0m-2-10h0m-3 7h0m0-4h0m-5 3h0m0-1h0m-1 11h0m-1-6h0m-2-11h0m-9 11h0m-10 6h0m-2 6h0m-16-3h0m-18-1h0m-25-11h0m-12-8h0m-45 18h0m-25 0h0m-40-15h0m-4 8h0m-107-3h0m0 36h0m74-17h0m50 6h0m6 0h0m4-6h0m22 14h0m3 1h0m34 0h0m14 1h0m32-1h0m1-13h0m9 15h0m2 0h0m0-15h0m4-4h0m7 6h0m23 16h0m5 0h0m4-10h0m13 6h0m10-3h0m5 2h0m3-12h0m0-6h0m4 15h0m4-5h0m2 10h0m2 0h0m7-5h0m0-4h0m2-11h0m19 7h0m37 8h0m-29 20h0m-15-4h0m-1 7h0m-10 4h0m-17-6h0m-3 10h0m-3-21h0m0 21h0m-2-22h0m-9 14h0m-3-13h0m0 20h0m-1-21h0m-6 14h0m-3 0h0m-3-5h0m-7 4h0m-21 4h0m-3-6h0m-1 0h0m-16 3h0m-6 2h0m-4 7h0m-4-10h0m-9-7h0m-12 15h0m-17-11h0m-5-6h0m0 18h0m-7-3h0m-1-1h0m-9-11h0m-8 1h0m-13 1h0m-6 14h0m-1-2h0m-8-5h0m-3 3h0m-12-12h0m-6 1h0m-7 11h0m-9-11h0m-12 5h0m-7 2h0m-9 3h0m-12 3h0m-44-11h0m-18-1h0m0 6h0m0 9h0m18 14h0m28-10h0m0 15h0m0-17h0m28 10h0m41 10h0m3-1h0m18-1h0m1 3h0m0-2h0m4-7h0m1 1h0m8-10h0m8-5h0m3 19h0m0-13h0m7 5h0m0 6h0m4-10h0m1-5h0m3 16h0m3 1h0m4-9h0m2 13h0m2-6h0m2-15h0m8 10h0m2 8h0m0 3h0m16-11h0m1 7h0m6-4h0m4 4h0m1 0h0m4-10h0m1 14h0m9-12h0m0 5h0m0-12h0m20 5h0m19 2h0m5-8h0m10 2h0m2 0h0m2 12h0m12-7h0m6 11h0m8-19h0m4 21h0m13-6h0m24 4h0m19-5h0m11 25h0m-13-16h0m-2 17h0m-16-4h0m-5 8h0m-3-20h0m-6 7h0m-7-6h0m-4-2h0m-31 8h0m0 13h0m-7-2h0m-4 3h0m-7-17h0m-18 12h0m-3-13h0m-2-5h0m-7 18h0m-6 5h0m-5-2h0m-2-15h0m-10 15h0m-1-12h0m-33-8h0m-1 0h0m-1 9h0m-4-4h0m-1 3h0m-10 0h0m0 6h0m-4 4h0m-1-16h0m-5-1h0m-4 8h0m-3 6h0m-2 6h0m-1-7h0m-17 4h0m-1-16h0m-6 3h0m-6 17h0m-1-19h0m-25 12h0m-4-9h0m-45-3h0m-16 2h0m-28 17h0m-18 1h0m46 17h0m0-7h0m50 8h0m0-16h0m0 7h0m47 8h0m6 0h0m3-9h0m1-6h0m7 7h0m8 10h0m11-3h0m7-11h0m3 6h0m11 3h0m5-9h0m30 1h0m2 1h0m12-2h0m7 15h0m9-17h0m5 6h0m0-1h0m3-1h0m4 0h0m0 13h0m1-11h0m8-8h0m1 1h0m1 13h0m10-15h0m15 0h0m17 10h0m5-1h0m17 0h0m26-7h0m28 4h0m1 1h0m0-2h0m2-1h0m2 8h0m-35 31h0m-87-2h0m-54-11h0m-10 0h0m-55-1h0m-16 5h0m-15-7h0m-56 4h0m-21 9h0m-16 5h0m-46-20h0m0 19h0m0 20h0m0-14h0m46 13h0m37 8h0m0-12h0m28-10h0m6 4h0m56 7h0m65-6h0m3 15h0m104-14h0m14-5h0m-25 23h0m-91 1h0m-4 3h0m-64 3h0m-23 5h0m-18-9h0m-10 14h0m-6-4h0m-72-4h0m-46 30h0m175-14h0m103 4h0m2 4h0m-132 15h0m148 29h0m-277 63h0m189 0h0"/><path d="M1358 2062h0m-241-4h0m223 16h0m82 27h0m-23-11h0m-39 18h0m-31 2h0m21 10h0m3 10h0m5-1h0m16 5h0m13-10h0m36-10h0m-17 45h0m-8-1h0m-1-14h0m-9 13h0m0-14h0m0 6h0m-2-13h0m-1 22h0m-19-14h0m-3 9h0m0-17h0m-2 12h0m-1-1h0m-11-3h0m-3-7h0m0-1h0m-4 14h0m-1 8h0m-6-6h0m-2-13h0m0 18h0m-3-21h0m-11 23h0m-3-15h0m-1-5h0m-35 6h0m-107-6h0m-128 6h0m28 17h0m0 0h0m44 18h0m12-3h0m85 0h0m56 5h0m18-22h0m19 22h0m6-7h0m4-7h0m5 1h0m9-3h0m4-4h0m3 5h0m2 11h0m8-13h0m0 0h0m5 1h0m4 1h0m1-4h0m2-2h0m7 12h0m4 5h0m1-1h0m5-16h0m35 12h0m15 32h0m-17-10h0m-3-10h0m-11 5h0m-1 14h0m-2-2h0m-1-11h0m-1 15h0m-9-7h0m0-8h0m-9-5h0m-1 1h0m-2 2h0m-11 17h0m-1-21h0m-3 21h0m-1-12h0m-3-2h0m-1 6h0m-4 6h0m-1-8h0m-2 0h0m-2-4h0m-3 4h0m-1-11h0m0 6h0m-1-2h0m-4 5h0m-7-8h0m-43 18h0m-16-6h0m-23-9h0m-82 5h0m-88-9h0m-46 20h0m0 19h0m18 5h0m44-3h0m62 3h0m15-12h0m5-8h0m24 20h0m18-1h0m12 0h0m31 3h0m1-4h0m3-9h0m27-9h0m7 22h0m5-7h0m1-4h0m7 6h0m3-11h0m11-7h0m14 22h0m6 0h0m9-22h0m6 7h0m2-7h0m7 22h0m1-20h0m6 18h0m0-13h0m1 14h0m3-10h0m1-9h0m3 14h0m1 0h0m1-5h0m8-5h0m2 16h0m7-17h0m0 12h0m25 17h0m0 1h0m-15-4h0m-3-5h0m-19 0h0m-20 11h0m-1-1h0m-12 11h0m-7-4h0m-1-13h0m-5 2h0m-1 1h0m-4-6h0m-7 15h0m-13-11h0m-20 16h0m-1-22h0m-3 15h0m-1-10h0m-6 6h0m-4 6h0m-1-18h0m-6 10h0m-1 10h0m-3-19h0m-6 22h0m-11-4h0m-12-12h0m-3 0h0m-6 14h0m-16 0h0m-3-14h0m-12 4h0m-18-8h0m-41 10h0m0 7h0m0-10h0m-25 5h0m-7 1h0m-9-13h0m0 7h0m-12 6h0m-44 2h0m-18 0h0m0 8h0m0 6h0m0 13h0m0 2h0m0-14h0m62-5h0m0 3h0m40 10h0m33 0h0m2 3h0m2 3h0m2-11h0m18 11h0m0-3h0m1 0h0m29 3h0m10-14h0m2-4h0m1 0h0m3 4h0m3 7h0m5 7h0m0-11h0m4-9h0m9 8h0m4 9h0m11 2h0m9-7h0m3-8h0m9 5h0m4 2h0m6-9h0m2 8h0m5 10h0m10 0h0m2-21h0m8 5h0m1-5h0m1 21h0m1-2h0m1-6h0m10 2h0m8 2h0m0-10h0m1 0h0m3 13h0m2-13h0m19-3h0m5 3h0m6 7h0m12-13h0m46 0h0m-6 37h0m-7 7h0m-19-14h0m-2 11h0m-4-2h0m-8-17h0m-4 17h0m-2 4h0m-1-2h0m-11-12h0m-1 0h0m-4 8h0m-4-4h0m-4 7h0m-4-11h0m0 0h0m-1-7h0m-2 17h0m-7 4h0m-3-9h0m-5-5h0m-6 8h0m0-1h0m-4-7h0m-6 7h0m-5-3h0m0-11h0m0 13h0m-5 1h0m-15 2h0m-4-15h0m-3 17h0m-3-6h0m-2 9h0m-1-19h0m-13 8h0m-7 9h0m-1-4h0m-1-8h0m-1-1h0m-3 0h0m-1 12h0m-1 0h0m-5-13h0m-3-6h0m0 22h0m-4-21h0m-2 17h0m-1-1h0m-3-4h0m-1 2h0m0-14h0m-1 22h0m-3-19h0m-4 19h0m-5-23h0m-15 3h0m0 3h0m-5 14h0m-2-17h0m-6 15h0m-3-9h0m-4 14h0m0-19h0m-1 6h0m-6-8h0m-9 15h0m0-6h0m-1 10h0m0-7h0m-2 5h0m-1-17h0m-3 13h0m-3-10h0m0-2h0m0 9h0m-2 5h0m-3-4h0m-4 5h0m-26 5h0m-23-4h0m-9-18h0m0 11h0m-12-10h0m-16 15h0m0-13h0m-46 9h0m0-12h0m0 40h0m46-15h0m28 10h0m0 5h0m9-14h0m0 6h0m6-2h0m13 8h0m0 2h0m5-6h0m4-1h0m26 4h0m0-4h0m2 0h0m1-2h0m2-3h0m9-4h0m1 15h0m9-11h0m6 10h0m1-8h0m6-3h0m13 8h0m13 9h0m16-6h0m8-10h0m3 15h0m1-10h0m0 0h0m5-4h0m1-1h0m5 0h0m2 8h0m4-9h0m3 0h0m0 16h0m4-11h0m18-9h0m22 11h0m3-5h0m8 5h0m9 11h0m2-3h0m15-9h0m5-2h0m12 10h0m0-5h0m2-7h0m24 11h0m8-8h0m30-7h0m-24 31h0m-14 5h0m-39-14h0m-28 8h0m-4-4h0m-58-1h0m-16 8h0m-27 6h0m-10-2h0m-35 5h0m-9-11h0m-31-4h0m-8 18h0m-5-18h0m0-4h0m-28 10h0m-12 0h0m-16-6h0m-28 13h0m0-11h0m0-5h0m-18 16h0m0 21h0m18-14h0m0 13h0m44-14h0m21 17h0m32-3h0m19-2h0m5-8h0m14 16h0m3-19h0m28 9h0m8-6h0m5 7h0m1-4h0m4-6h0m32 14h0m45-10h0m18 10h0m77 2h0m-52 11h0m-66 4h0m-32 14h0m-72-12h0m-28 11h0m-41-20h0m-21 12h0m0 13h0m12 19h0m0 0h0m9 2h0m0-10h0m28 9h0m7-4h0m37-13h0m94 4h0m-32 15h0m-101 75h0m72 18h0m7 0h0m34 0h0"/><path d="M1344 2049h0m-1 6h0m-270 11h0m277 1h0m19 15h0m9 20h0m0 5h0m-38 1h0m0-3h0m0 6h0m-195 16h0m153 4h0m21 1h0m18-10h0m10 3h0m1 2h0m2-8h0m4-5h0m4 2h0m3 8h0m4 9h0m1-3h0m7-13h0m15 12h0m82 16h0m-32 11h0m-64-19h0m0 21h0m-5-2h0m-3 0h0m-6 3h0m-1-18h0m-7 10h0m0 0h0m-1 3h0m-8-18h0m-2 10h0m-26 1h0m-33-3h0m-109 6h0m-44 7h0m-102-5h0m46 18h0m37 11h0m7-1h0m90-7h0m62 7h0m12-1h0m12-15h0m11 2h0m6 1h0m4 13h0m1-3h0m15 6h0m1-4h0m3-1h0m3-15h0m7-1h0m2 15h0m1-14h0m2 7h0m2 2h0m2-10h0m1 8h0m6-7h0m6 2h0m2 16h0m0-6h0m2 6h0m1-18h0m1 13h0m3-15h0m29 18h0m-16 22h0m-2 6h0m-11-1h0m-3-15h0m-8 6h0m0 4h0m-3 4h0m-1 1h0m-2-16h0m0 10h0m-4-4h0m-1-9h0m-3 9h0m-1 8h0m-3-7h0m-2 3h0m-6-6h0m-26-8h0m-23 1h0m-12 15h0m-25-14h0m-11 3h0m-8 7h0m-95-3h0m-65-6h0m-46-1h0m0 23h0m0 15h0m0 0h0m18-9h0m0 2h0m0-8h0m44 1h0m21 11h0m28-4h0m13 3h0m28-7h0m34 12h0m40-4h0m20 6h0m21-1h0m15-19h0m1 22h0m0-14h0m9 8h0m14-4h0m1 7h0m6-16h0m14 18h0m5-19h0m5 11h0m3 3h0m1-17h0m6 21h0m6-1h0m2-13h0m9 12h0m5-8h0m3 2h0m22-2h0m-6 30h0m-1-7h0m-1-1h0m-4 8h0m-2-15h0m-12 4h0m-5-5h0m-2 2h0m-2 13h0m-6-11h0m-12 9h0m-11-9h0m-2 14h0m-36 4h0m-35-14h0m-16 12h0m-17-10h0m-53-5h0m-15 11h0m-1-4h0m-21-13h0m-4 5h0m-3 3h0m-12 6h0m-13 3h0m-6-7h0m0 13h0m-6-7h0m-7-3h0m-21 9h0m-44-21h0m-18 7h0m0 34h0m0 1h0m46 3h0m16 1h0m12-14h0m9 13h0m35-15h0m17 7h0m1 0h0m2-7h0m1 14h0m0-3h0m1-9h0m1 8h0m8-16h0m1 2h0m1 4h0m8 9h0m3 7h0m9-18h0m10 12h0m2-4h0m1 4h0m14-16h0m3 0h0m14 14h0m2 5h0m10-11h0m9 7h0m1-1h0m1 0h0m0 1h0m4-3h0m7 4h0m7 4h0m5-4h0m1-12h0m12 11h0m7 1h0m9-16h0m2 18h0m4 0h0m2 4h0m0-3h0m1-4h0m2-13h0m1 16h0m5 1h0m2-10h0m1-8h0m7 2h0m9 4h0m8-2h0m6 8h0m0-6h0m3-5h0m0-1h0m9 12h0m1-4h0m7 1h0m23 7h0m6-13h0m10 31h0m-3 11h0m-3-1h0m0-13h0m-9 6h0m-2-7h0m-4-4h0m-1 17h0m-4-11h0m-7-3h0m-2 6h0m-6-6h0m-6 12h0m-5-8h0m-3-11h0m-15 2h0m-1 6h0m-6 8h0m-2 3h0m-12-7h0m-4 5h0m-2 6h0m-4-11h0m-6-4h0m-3 1h0m-1 1h0m-3-4h0m-2 2h0m-5 7h0m-1 1h0m-1-1h0m-4 6h0m-1-17h0m-3 2h0m-3 6h0m-1 7h0m-4 3h0m-1-18h0m0 9h0m-6-3h0m-1 2h0m-3 10h0m-15-14h0m-10 9h0m-3-5h0m-16-10h0m-4 1h0m-1 15h0m-8-5h0m-1 8h0m-2-18h0m-2 8h0m-3-3h0m-13 9h0m-1-11h0m-4-3h0m-3 16h0m-2 4h0m-5-7h0m-1-15h0m-3 1h0m0 4h0m-1 15h0m0-17h0m-1 4h0m-1 5h0m0 1h0m-5-4h0m-20-6h0m-41-4h0m-37 6h0m0 15h0m-28-6h0m0 2h0m-18 16h0m46 12h0m28-8h0m0-2h0m9-11h0m0 4h0m24-2h0m4 14h0m19 3h0m8-16h0m5-2h0m19 4h0m2-1h0m5 0h0m0 5h0m8-1h0m2-8h0m4 1h0m2 1h0m6 3h0m3-5h0m2 12h0m6 5h0m1 5h0m0-20h0m21 8h0m15-10h0m7 8h0m15 1h0m6-2h0m6-7h0m5 20h0m3-3h0m1 4h0m37-6h0m4-15h0m7 0h0m6 0h0m30 12h0m3-12h0m10 14h0m2-9h0m11-3h0m6 7h0m2 5h0m-23 12h0m-3 3h0m-91-2h0m-31 1h0m-22-4h0m-35 0h0m-25 11h0m-2 6h0m-21-4h0m-4-8h0m-11 0h0m-30 13h0m-6-13h0m-22 1h0m-28 3h0m-46-7h0m0 28h0m18 13h0m28-16h0m16 11h0m70 3h0m7-14h0m12 0h0m1 1h0m65-2h0m57 14h0m153 29h0m-107 0h0m-34-17h0m-60 3h0m-16 13h0m-14-3h0m-9 4h0m-66-12h0m-75-8h0m-46 20h0m0 22h0m62-8h0m0-6h0m12 12h0m16-15h0m31-1h0m77 9h0m68-3h0m-129 18h0m-5 92h0m15 0h0"/><path d="M1398 2061h0m-41-6h0m-10 3h0m20 12h0m32-5h0m29 32h0m-91 1h0m-1 9h0m-15-18h0m-59 10h0m-133 12h0m175 17h0m31 1h0m4-4h0m12-5h0m12-7h0m13 21h0m1-10h0m21 1h0m2-6h0m-9 35h0m-4-4h0m-7-2h0m-3-2h0m-18 9h0m-2-6h0m-3-6h0m-2 5h0m-1-7h0m0 1h0m0 14h0m-3-9h0m-1-9h0m-2 21h0m-1-8h0m-1-8h0m0 1h0m-1-6h0m0 21h0m-7-9h0m-5 0h0m-30-12h0m-35 14h0m-54-2h0m-43-9h0m-123 15h0m65 15h0m56 10h0m34-18h0m112-1h0m11 13h0m5-1h0m10-6h0m2 4h0m1-4h0m1-2h0m1-3h0m5 15h0m0-4h0m2-13h0m5 12h0m5-11h0m4 3h0m20 7h0m11 0h0m20-12h0m12 40h0m-9 0h0m-12-11h0m-6 15h0m0 3h0m-4-18h0m-16-2h0m-2 19h0m-3-1h0m-4-8h0m-1 6h0m-1-16h0m-1 20h0m-6-3h0m-10-5h0m-2 1h0m-2-2h0m-14 4h0m-2 5h0m-1-2h0m-15-17h0m-5 7h0m-5-1h0m-47 5h0m-81 0h0m-36-7h0m-8 11h0m-89-15h0m-18-1h0m0 26h0m0 17h0m0-8h0m18-7h0m0 7h0m28 2h0m28-10h0m16-5h0m34 10h0m46-1h0m19 1h0m5 2h0m2 2h0m8-11h0m15 17h0m0-2h0m27-7h0m10 4h0m4-4h0m1 4h0m1-16h0m1 16h0m14 5h0m0 1h0m11-19h0m2 17h0m12-16h0m2 7h0m10-7h0m5 9h0m0-11h0m2 4h0m11-1h0m3 1h0m1 3h0m3 9h0m1-18h0m3 5h0m0 13h0m0-7h0m2 1h0m0-4h0m3 1h0m1 7h0m3-5h0m11-4h0m4-5h0m8 3h0m2 7h0m1-11h0m6 11h0m4-10h0m-11 34h0m-1 3h0m-5-11h0m0 1h0m-4-5h0m-13 21h0m-6 0h0m-10-17h0m-27 2h0m-9 3h0m-14 3h0m-1-6h0m-26-3h0m-9 20h0m-17 0h0m-4-6h0m-15-3h0m0 3h0m-3-10h0m-1 15h0m-7-10h0m-9-10h0m-4 11h0m-15 5h0m-18-2h0m-3-10h0m-7 8h0m0 0h0m-15-2h0m-13 3h0m0 0h0m-19-7h0m-6-8h0m-13 11h0m-9 8h0m-28 1h0m0 2h0m-15-1h0m-13-10h0m0 3h0m-18-5h0m0-4h0m0 15h0m0 12h0m62 10h0m12-1h0m0-3h0m0 2h0m16 4h0m6-2h0m6-18h0m5 22h0m17-7h0m3 8h0m3-12h0m4 4h0m1-1h0m1-10h0m0-1h0m5-1h0m1 16h0m9 4h0m1-12h0m1 7h0m4-15h0m0 18h0m8-2h0m18-17h0m6 8h0m3 9h0m2 2h0m0-2h0m8-15h0m2 13h0m1 4h0m1 0h0m1-4h0m0-9h0m12-1h0m3 1h0m10 8h0m1 3h0m2-12h0m6 14h0m5-14h0m2 4h0m20 6h0m3 5h0m12-12h0m13-7h0m26 15h0m13 5h0m15-9h0m9-11h0m1 1h0m1 17h0m11-6h0m4 9h0m28 0h0m50-5h0m-59 9h0m-3 10h0m-6-13h0m-7 16h0m0-16h0m-4 13h0m-2-9h0m-2 18h0m-4-1h0m-1-21h0m-7 12h0m-3-12h0m-6 15h0m-8-10h0m-5 6h0m-5 9h0m0-3h0m0-17h0m-16 12h0m-1-9h0m-1 7h0m-3 13h0m-1-11h0m-4 0h0m-6 3h0m-1 7h0m-8-11h0m-3-3h0m0 2h0m-1-9h0m-19 14h0m-1 2h0m-7-8h0m-1 12h0m-5-5h0m-10-15h0m-2 6h0m0 9h0m0-14h0m-3 8h0m-6 4h0m-2-9h0m-4-3h0m-3 2h0m-22 11h0m-3-8h0m-5 4h0m-6 12h0m-6-21h0m-15 5h0m-7 11h0m-7-15h0m-3 0h0m-2 13h0m-4-16h0m-2 14h0m-1-13h0m-4 15h0m-12-11h0m-4 10h0m-10-2h0m-4-12h0m-17 0h0m-7 6h0m-21-5h0m0 11h0m-16-8h0m0 15h0m-28-7h0m-18-9h0m0-2h0m0 22h0m0 14h0m0-5h0m46 2h0m28 6h0m9-14h0m0 1h0m7-2h0m6 16h0m6 0h0m1-13h0m4 2h0m4 8h0m24-4h0m9-9h0m5 12h0m2-5h0m14 5h0m13 1h0m13-14h0m12 0h0m0 18h0m3 0h0m2 0h0m6-2h0m3 6h0m1-22h0m0 10h0m2 9h0m1-20h0m0 16h0m12-12h0m4 14h0m5-16h0m11 15h0m1-14h0m4 19h0m7-20h0m9 6h0m2-4h0m7 9h0m1 1h0m1-3h0m1-6h0m16-5h0m10 0h0m3 4h0m0 8h0m0-11h0m23 3h0m22 6h0m5 5h0m2-15h0m13 12h0m24-3h0m6-9h0m-49 35h0m-31 12h0m-15-13h0m-59-1h0m-4-4h0m-2-3h0m-6 10h0m-8-10h0m-9 4h0m-10-4h0m-10 12h0m-66-11h0m-4-1h0m-26-2h0m-21 1h0m-16 10h0m-56-5h0m0 9h0m-13 3h0m-5-2h0m0-5h0m0 2h0m0 21h0m0 8h0m0-11h0m18 4h0m28-10h0m16 3h0m21 3h0m7-3h0m25 9h0m15-10h0m2 13h0m27 1h0m21-13h0m44 6h0m3-8h0m10 6h0m37 6h0m13 9h0m43 7h0m-20 6h0m-70 8h0m-4-15h0m-18 0h0m-74 16h0m-26-9h0m-72 7h0m-46 8h0m62 12h0m21-8h0m133 11h0m123 9h0m-55-3h0m-238 11h0m-28 5h0m28 19h0m44-2h0m212 33h0m-256-5h0m103 32h0m30 0h0m17 0h0m74 0h0"/><path d="M1129 2068h0m208 3h0m43-6h0m-5 31h0m0 15h0m-9-10h0m-11 8h0m-19-3h0m-4-2h0m-198 19h0m0 12h0m173-1h0m15-13h0m3 13h0m28-3h0m2-8h0m1 12h0m4-4h0m4 0h0m7-14h0m12 3h0m37 28h0m-47-9h0m0 1h0m-1 4h0m-11 7h0m-3-7h0m-11-2h0m-3 2h0m-17 12h0m-2-13h0m-8-1h0m-45 9h0m-171 2h0m-74 13h0m74 10h0m56-8h0m46-6h0m27 3h0m37 16h0m42-19h0m9 3h0m2 11h0m1-8h0m10 8h0m6-5h0m1 12h0m2-22h0m2 20h0m2 1h0m1-10h0m4-10h0m2 17h0m0-10h0m2 10h0m1 4h0m0-19h0m1 0h0m1-1h0m2-1h0m3 10h0m6 2h0m2-14h0m1 22h0m1 1h0m1-15h0m3-5h0m9 7h0m9 13h0m30-3h0m6 10h0m-10-1h0m-46 17h0m-1-20h0m-2 14h0m0-11h0m-1-2h0m-5 13h0m-2 5h0m0 1h0m0-3h0m-4-10h0m-1-4h0m-3 7h0m-26-10h0m-2 7h0m-13 9h0m-1-9h0m-3 9h0m-1-2h0m-6-16h0m-15 22h0m-18-10h0m-2 9h0m-39-11h0m-13 7h0m-58 5h0m-9-5h0m-3-8h0m-11 0h0m-45 4h0m-16 3h0m-23-3h0m-5-6h0m-18 27h0m46 1h0m56 12h0m13-13h0m3 0h0m12-9h0m2 5h0m2-2h0m12 18h0m35-10h0m22 4h0m29-3h0m4 9h0m6-15h0m14 3h0m10-10h0m5 6h0m18-6h0m2 17h0m15-13h0m1 13h0m5 0h0m4-7h0m2-1h0m1 1h0m1-8h0m14 5h0m0 7h0m0-11h0m6 7h0m4 13h0m0-15h0m3-8h0m0 12h0m3-11h0m1 2h0m27-3h0m9 4h0m-23 20h0m-27 23h0m0-16h0m-3 12h0m-4-16h0m-1 15h0m-2 2h0m-9-17h0m-8 1h0m-1-1h0m-6 3h0m-10 8h0m-10 7h0m-18-14h0m-10 8h0m-6-8h0m-38 4h0m-3-5h0m-4 14h0m-4-11h0m-33 2h0m-7-8h0m-4 16h0m-1-7h0m-11 10h0m0-14h0m-26 14h0m-11 1h0m0-7h0m-17-8h0m-7 9h0m-5-12h0m-4-5h0m-28 13h0m0-1h0m0-7h0m0-4h0m-28 8h0m0 20h0m44 7h0m45 7h0m11-1h0m19 3h0m5-10h0m4-5h0m5 8h0m7 4h0m2-4h0m8 7h0m15-4h0m1 6h0m11-15h0m4-2h0m8 9h0m1-9h0m1 10h0m4-11h0m1 6h0m5-5h0m7 8h0m6 6h0m2-12h0m6 11h0m1 4h0m0 0h0m1-16h0m1 14h0m0-14h0m3 14h0m1-18h0m5 8h0m8-8h0m11 20h0m5-10h0m6 1h0m4-5h0m10 14h0m3-12h0m8-7h0m1 5h0m0 9h0m1 0h0m7-5h0m6 10h0m0-21h0m9 7h0m6 11h0m10 2h0m17-17h0m11 8h0m1 7h0m1-2h0m5-8h0m8 13h0m24-13h0m-2 35h0m-8-3h0m-3-1h0m-13 1h0m-2-8h0m-4 8h0m-3 0h0m-6-1h0m-6-9h0m0 7h0m-8 4h0m-2-11h0m-1 15h0m-14-10h0m-1-12h0m-3 17h0m-11 0h0m-5-3h0m-10 4h0m-10-15h0m-2 17h0m-2-9h0m-3 4h0m0-15h0m-5 14h0m-2-10h0m0-3h0m-1 4h0m-1 6h0m0 6h0m-9-2h0m-3-4h0m-33-9h0m-9 3h0m-1-6h0m-1 0h0m0 22h0m-3-22h0m-7 20h0m-1-8h0m-1-10h0m-4-2h0m-4 19h0m-2-9h0m0 2h0m-2-4h0m-4-7h0m-9 11h0m-4-6h0m-7 2h0m0 8h0m-4 2h0m-1 1h0m-4 2h0m-1-12h0m-5 2h0m-5-7h0m-2-3h0m-1 3h0m-3 3h0m-9 5h0m-2-3h0m-1-8h0m-1 1h0m-4 16h0m0-6h0m-1-5h0m-2-4h0m-4 8h0m-11-6h0m-3 8h0m-11 7h0m-11 3h0m-6-10h0m-7 5h0m-9-2h0m-56-4h0m0-8h0m-18 1h0m0 2h0m18 30h0m28-1h0m0-3h0m0 0h0m0 0h0m0-7h0m16 1h0m12 11h0m16-12h0m0 3h0m6-2h0m31 3h0m10 9h0m4-13h0m4 7h0m0-8h0m3 6h0m1-5h0m1 3h0m11 16h0m7-21h0m4 5h0m8 2h0m13 10h0m1-2h0m3-1h0m17-4h0m1-3h0m9-6h0m5 13h0m5-1h0m1-3h0m2-8h0m3-1h0m4 4h0m2-1h0m7 3h0m7 2h0m6-9h0m2 0h0m5 2h0m18-1h0m4-1h0m12 1h0m5 2h0m5-2h0m7 4h0m2-4h0m1 5h0m23 8h0m3 8h0m15-14h0m18-5h0m9 6h0m9 15h0m-42 2h0m-34 8h0m-18-5h0m-1 16h0m-9-3h0m-11-17h0m-44 1h0m-9 1h0m-77 20h0m-11-22h0m-6 6h0m-31 4h0m-15-6h0m0 7h0m-96 10h0m0-17h0m74 21h0m16 2h0m37 8h0m63-4h0m74 0h0m47-1h0m33-2h0m-185 38h0m-41-4h0m-56-4h0m-62 9h0m96 5h0m35 3h0m93 1h0m67-5h0m20 46h0m-174-16h0m-119-3h0m99 90h0m61 0h0m85 0h0"/><path d="M1386 2105h0m-25-5h0m-23-2h0m-5 12h0m-20-17h0m-44 19h0m17 21h0m14-17h0m1-4h0m9 12h0m13 6h0m7-14h0m5 15h0m3-6h0m20 4h0m0-1h0m5-3h0m29-3h0m-13 18h0m-2 4h0m-1 13h0m0-19h0m-1 17h0m-7-11h0m0-7h0m-2 10h0m-2-6h0m-2 8h0m-1 2h0m-2-10h0m-1 17h0m-1-15h0m-2 1h0m-3 14h0m0-5h0m-9-15h0m-1 15h0m-3-13h0m0 4h0m-1-6h0m0 10h0m-4-7h0m-2 7h0m-3-7h0m-2 7h0m-193-2h0m0 0h0m-107-7h0m0 33h0m0-3h0m96-3h0m15 9h0m0 5h0m144-4h0m12-15h0m22 12h0m15-10h0m1 17h0m0-9h0m5-10h0m1 15h0m1-10h0m3-4h0m15 2h0m0-3h0m0 5h0m2 1h0m6 12h0m10 0h0m1-18h0m7 15h0m2-6h0m5 7h0m5-4h0m35 5h0m-38 14h0m-10 1h0m-1 4h0m0 4h0m-5-12h0m-3-4h0m-9 4h0m-5 13h0m-5-7h0m-6-6h0m-9 1h0m-2 3h0m-1 7h0m0-12h0m-6 0h0m-7 9h0m-73-13h0m-12 15h0m-20-10h0m-1 13h0m-1-10h0m-2 6h0m-23-4h0m-49 8h0m-41 2h0m0-7h0m-28-1h0m-46 4h0m0 13h0m0 8h0m0 1h0m46 3h0m0-10h0m16 11h0m21-18h0m0 12h0m7-10h0m17 19h0m25-6h0m27-3h0m1-6h0m12 17h0m3-5h0m1-8h0m27-7h0m39-1h0m5 5h0m1-3h0m10-2h0m11-1h0m2 16h0m5-1h0m22-11h0m12 6h0m1 6h0m1-5h0m0-8h0m7-4h0m1 9h0m12-8h0m0 20h0m14-3h0m11-1h0m9-2h0m4-2h0m-8 32h0m-8-19h0m-15 20h0m-5-12h0m-13 8h0m-2-14h0m-1 5h0m-3-6h0m-16 16h0m-9-11h0m-1 13h0m-34-17h0m-3 17h0m-12-5h0m-14-4h0m-1 5h0m-16-4h0m-10 10h0m-9-22h0m-11 14h0m-25 7h0m-5-5h0m-7 4h0m-3-3h0m-3 3h0m0-9h0m-29-1h0m-11 2h0m-5-11h0m-1-2h0m-44 6h0m-46-6h0m0 0h0m0 26h0m18 3h0m0 2h0m28 5h0m0 9h0m16 2h0m12-8h0m22 6h0m6-11h0m5-4h0m0 9h0m8 4h0m21-15h0m3 10h0m3 2h0m3 6h0m0-10h0m3 4h0m4 0h0m3 4h0m3-13h0m3 7h0m4 3h0m3-5h0m3 8h0m8-4h0m1-8h0m0 0h0m2-2h0m1 1h0m1 10h0m1-3h0m2 2h0m5-6h0m3 2h0m7 9h0m0-9h0m3 4h0m10 7h0m5-7h0m5 2h0m3-7h0m7 12h0m3-3h0m7-14h0m1 10h0m1 6h0m5 0h0m0-7h0m1 4h0m21 2h0m9-2h0m5 4h0m4-11h0m4-3h0m18-5h0m16-2h0m18 12h0m1-11h0m1 3h0m5 17h0m43-17h0m35 6h0m-23 18h0m0 9h0m-6 1h0m-4 3h0m-7-7h0m-12 8h0m-1-5h0m-4 0h0m-3-1h0m-1 6h0m-1 3h0m-2-2h0m-4-6h0m-1-5h0m-3 13h0m-2-4h0m0-9h0m-1 11h0m-7-21h0m-8 15h0m-1 4h0m-2-4h0m-3 2h0m-8 0h0m-7-15h0m-1 1h0m-3 7h0m-5 13h0m-2 0h0m-1-6h0m0-4h0m-7 8h0m-5 0h0m-6-3h0m-3-5h0m0 5h0m-1-15h0m0 10h0m-16-5h0m-2 11h0m-20-11h0m-3-2h0m-3 9h0m-1-4h0m-7-2h0m-2 4h0m-7-4h0m-3-9h0m-2 3h0m-5-3h0m-9 15h0m0-8h0m-1 9h0m-1-1h0m-7-2h0m-2 1h0m-1 3h0m-1 1h0m0 4h0m0-17h0m-6-4h0m-1 13h0m0-12h0m-3 4h0m-25 13h0m-14-12h0m-1 13h0m-7-16h0m-1 1h0m-2 18h0m0-13h0m-1-5h0m-4 3h0m-3 12h0m-12-19h0m-9 19h0m-16-5h0m-1-15h0m-6 12h0m-37-8h0m-28 4h0m-18-8h0m0 15h0m0-12h0m0 36h0m18 1h0m0 3h0m0-15h0m0 10h0m28 3h0m61-13h0m14 7h0m1 10h0m13-21h0m2 6h0m8 2h0m5-8h0m14 11h0m2-10h0m6 0h0m7 6h0m0-7h0m10 14h0m6 3h0m9-13h0m1 18h0m1-16h0m0 7h0m29 6h0m1-16h0m29 4h0m1-5h0m0 16h0m8-4h0m1-11h0m8-3h0m2 2h0m1 1h0m8 4h0m7-7h0m4 4h0m2 1h0m1 14h0m7-13h0m18-4h0m27 6h0m29-6h0m3 8h0m19 9h0m-50 22h0m-39 1h0m-56-7h0m-11-8h0m-8 8h0m-11 2h0m-8-13h0m-5 12h0m-7-8h0m-51 8h0m-5-11h0m-21 7h0m-2-1h0m-19 5h0m-11 5h0m-11-11h0m0 9h0m-6 2h0m-44 5h0m-46 21h0m0-10h0m46 2h0m0 0h0m16-10h0m22-1h0m6 2h0m12 19h0m32-2h0m32-18h0m24 8h0m75 10h0m3 3h0m59-15h0m5-4h0m39 30h0m-54-6h0m-193 17h0m-106-3h0m-18-11h0m90 20h0m277 12h0m-305 29h0m185 34h0m-209 40h0m11 0h0m110 0h0m140 0h0"/><path d="M1388 2060h0m-165-17h0m-150 39h0m246 4h0m45-7h0m68 31h0m-38-5h0m-39-3h0m-177 27h0m88 4h0m55-20h0m9 22h0m9-1h0m3-12h0m0 1h0m4 12h0m0-9h0m5-5h0m5-2h0m0 14h0m2-13h0m2 9h0m6 2h0m12-7h0m83-1h0m-58 27h0m-11 1h0m-10 7h0m-1-11h0m0 2h0m-9-4h0m-4 7h0m-2-6h0m-10 3h0m0 10h0m-4-2h0m-1-18h0m-2 2h0m0 7h0m0 11h0m-5-9h0m-2-2h0m-14-10h0m-24 12h0m-23-12h0m-192 41h0m0-11h0m28 3h0m6 10h0m27-12h0m140 9h0m5-13h0m28-4h0m2 14h0m5 6h0m0-20h0m13 3h0m1 18h0m0 1h0m4-15h0m0 8h0m1-5h0m1-4h0m1 7h0m0-9h0m0 6h0m1 10h0m5 1h0m5-7h0m4 7h0m1-19h0m3 19h0m5-19h0m3 19h0m5-13h0m7-9h0m3 21h0m14-17h0m6 19h0m22-1h0m-28 23h0m-16-11h0m-18 7h0m0-11h0m-2 14h0m-3 1h0m-3-18h0m-3 8h0m-1-1h0m-10-10h0m-2 11h0m-2 7h0m-3-14h0m-55 2h0m-17 4h0m-5-3h0m-32 4h0m-106 5h0m-6 4h0m-13-16h0m-65 2h0m-18 6h0m0 22h0m0-1h0m18 2h0m0 1h0m56-7h0m9 14h0m35-18h0m12 7h0m9 13h0m22-18h0m25 18h0m3-21h0m37 12h0m1 6h0m29 3h0m12-3h0m0-12h0m11 16h0m17-9h0m1-3h0m6-9h0m1 4h0m7 0h0m5 9h0m3 3h0m4-6h0m0 10h0m1-19h0m0 13h0m5 1h0m13-3h0m3 0h0m0-9h0m2 9h0m11-2h0m1-11h0m17 9h0m15 2h0m0 12h0m0-21h0m8 14h0m8-1h0m-2 29h0m-13-20h0m-3 23h0m-5-4h0m-18-16h0m-4 7h0m-1 2h0m-3 8h0m-5-19h0m-4 20h0m-2-12h0m0-2h0m-6-6h0m-40 17h0m-2-2h0m-4-4h0m-2 2h0m-5-4h0m-14-2h0m-12-5h0m-19 3h0m-8-6h0m-7 3h0m-3 11h0m0-10h0m-3 1h0m-7 7h0m-17 7h0m-15-5h0m-26 1h0m-13 3h0m-3-2h0m-51-6h0m-7 13h0m0-5h0m-9-6h0m-12 6h0m-44-18h0m-18 21h0m0 3h0m0 4h0m46 4h0m0-5h0m16 19h0m0-13h0m12-9h0m6 13h0m10 2h0m21 8h0m21-15h0m2 15h0m2-12h0m1-8h0m2 19h0m2-7h0m6 0h0m1-5h0m12 0h0m7-6h0m5 5h0m16 13h0m1-13h0m2 3h0m2-3h0m1 6h0m7-9h0m11 3h0m2-4h0m0 14h0m17 4h0m3-6h0m5 2h0m3-2h0m5 2h0m13-4h0m5 5h0m2-4h0m14-11h0m2 2h0m2 10h0m1 4h0m38-4h0m3 4h0m1-8h0m1-6h0m18 13h0m3-6h0m6-2h0m6-5h0m5 8h0m2 0h0m10 8h0m24 15h0m-4-10h0m-1 17h0m-16-17h0m-5 11h0m-7 1h0m-2-12h0m-5 16h0m-1-12h0m-3 8h0m-6 5h0m-2-21h0m-1 17h0m-17-15h0m-2 9h0m-14-7h0m-1 5h0m-11 6h0m-1-2h0m-2-2h0m-2 3h0m-4-5h0m-5-6h0m-13 11h0m-3-7h0m-8 10h0m-2-10h0m-5 3h0m0-3h0m-4-3h0m-1-3h0m-6 1h0m-1 21h0m0-6h0m-14 2h0m-6-6h0m-6 4h0m-3-14h0m-10 6h0m-8-6h0m-10 8h0m-4-11h0m-2 2h0m-5-2h0m-1 20h0m-8-13h0m-11 3h0m-9-1h0m-1 2h0m0-3h0m-2 11h0m0 4h0m-1-21h0m0 1h0m-2 12h0m-4 8h0m0-23h0m-1 2h0m-1-1h0m-1 2h0m0 6h0m-1 4h0m-10-7h0m-20 7h0m-11-5h0m-6-4h0m-7 12h0m0-15h0m-37 8h0m-28 13h0m0-21h0m0 0h0m-18 13h0m0-13h0m0 0h0m0 19h0m0 18h0m0-1h0m18-13h0m0 12h0m65-6h0m28 3h0m7 4h0m14 6h0m6-18h0m1 0h0m2 13h0m2-3h0m3-11h0m16 4h0m2 17h0m7-1h0m0-2h0m2-14h0m2 13h0m34-15h0m5 5h0m6-2h0m7 10h0m5-11h0m13-1h0m8 18h0m1-18h0m3 7h0m4 5h0m4-15h0m3 16h0m3 0h0m11-11h0m1 1h0m30 7h0m2 1h0m2-4h0m8-7h0m17 14h0m14-13h0m2 7h0m25 4h0m0-15h0m25 9h0m31 18h0m-70 13h0m-82-8h0m-4 9h0m-39-12h0m-5 2h0m-31 6h0m-2-12h0m-30 4h0m-1-5h0m-13 23h0m-10-15h0m-31-6h0m-19 3h0m-19 10h0m-9 5h0m-12-19h0m-44 39h0m28 1h0m44-14h0m40 0h0m18 12h0m33-15h0m16 0h0m46 3h0m46 0h0m34-1h0m-1 23h0m-16-1h0m-46 6h0m-37 0h0m-7 8h0m-4 5h0m-116-1h0m-22 4h0m-12-10h0m-16-2h0m-46 9h0m0-14h0m111 20h0m190 1h0m10 5h0m-167 17h0m-33 6h0m43 28h0m34 9h0m26-14h0m-187 64h0m2 0h0m29 0h0m10 0h0m96 0h0m31 0h0"/><path d="M1337 2061h0m-227-10h0m-83 28h0m315 2h0m28 3h0m39-4h0m10 19h0m-30-6h0m-1 16h0m-16 1h0m-18-2h0m-15-4h0m-2-3h0m-103 5h0m-161 7h0m151 20h0m60-13h0m21 14h0m40-20h0m3 9h0m0-1h0m12-3h0m4 5h0m2-3h0m4 10h0m1 3h0m9-18h0m51 39h0m-35 0h0m-9-7h0m-6 7h0m-6-17h0m-11 15h0m0 5h0m-2-19h0m-4-1h0m0 4h0m-1 16h0m-1-21h0m-4 0h0m-4 15h0m-3 0h0m0-1h0m0-1h0m-4 2h0m-1 7h0m0-2h0m-13 2h0m-148-14h0m-25 2h0m-53 20h0m9 3h0m96 6h0m19-5h0m37 8h0m3-1h0m4 3h0m29-3h0m4 0h0m14-13h0m3 13h0m0 3h0m3-14h0m5-2h0m7-3h0m1 18h0m1-10h0m3-3h0m1 0h0m2 1h0m2 10h0m2 5h0m5-13h0m7 13h0m5-12h0m2-11h0m4 11h0m7 0h0m4 6h0m0 1h0m4-2h0m0-3h0m13-2h0m24-2h0m6-1h0m-37 37h0m-8-9h0m-5 3h0m-1 5h0m0 1h0m0-17h0m-3 16h0m-1 2h0m-6-14h0m-6 0h0m-1 2h0m0 3h0m-2-12h0m-1 13h0m0 2h0m-1-14h0m-3 20h0m0-17h0m-7 8h0m-2-9h0m-2 18h0m-17-2h0m-6 2h0m-1-15h0m-19-6h0m0 21h0m-1-20h0m-6 16h0m-13-7h0m-19 7h0m-1-13h0m-58 10h0m-4 6h0m-1 1h0m-61-20h0m0 19h0m-107 1h0m0-8h0m0 30h0m0-3h0m18-8h0m78 9h0m25 0h0m36-6h0m9-8h0m13 12h0m11-4h0m3 2h0m32-13h0m14 8h0m14 4h0m3 6h0m7 0h0m4-11h0m0 4h0m1 11h0m13-8h0m15-10h0m5-2h0m1 4h0m2 16h0m5-22h0m4 5h0m0-5h0m4 10h0m1-3h0m1 10h0m2 1h0m3-5h0m13 5h0m0-12h0m3 11h0m0-16h0m4 14h0m10 0h0m5 2h0m2-9h0m17-2h0m22 18h0m-14 21h0m-1-7h0m-9-10h0m-32-2h0m-3 1h0m-10 7h0m-9 1h0m-2-7h0m-15 18h0m-2-13h0m-8 13h0m-1-2h0m-17-8h0m-4 0h0m-7-10h0m-6 15h0m-4-8h0m-7 5h0m-6-6h0m-5 6h0m-2-13h0m-9 14h0m-3-1h0m-2 4h0m-7-18h0m-4 18h0m-8-11h0m-13 11h0m-30-13h0m-3 2h0m-32 2h0m-4 3h0m-10 3h0m-15-13h0m-96-2h0m0 39h0m0 1h0m18-14h0m28 9h0m37-2h0m13-2h0m19 3h0m6-5h0m6 7h0m5 1h0m2 9h0m6-20h0m1 11h0m8 7h0m1-1h0m1-1h0m9 3h0m1-18h0m0 2h0m4 9h0m2 7h0m3 0h0m9-17h0m9 12h0m0 5h0m20-7h0m1 6h0m1-10h0m3 10h0m0-20h0m2 7h0m2 12h0m1 1h0m1-13h0m5-6h0m5 11h0m2 7h0m5-2h0m6-4h0m0 6h0m0-17h0m4 8h0m3 10h0m2-7h0m15-3h0m1 8h0m1-13h0m6 13h0m12 0h0m4-6h0m1-3h0m6-1h0m0 6h0m2 8h0m2-16h0m1 14h0m6-2h0m5-14h0m5-3h0m5 14h0m4-4h0m5-2h0m2-2h0m12 1h0m1 10h0m0-13h0m5 2h0m14 13h0m1-9h0m44 23h0m-1 5h0m-5-1h0m-15 3h0m-1 0h0m-1-6h0m-15 9h0m-2-4h0m-3 3h0m-1-4h0m-14-9h0m-4 16h0m-9-23h0m-2 19h0m-3-14h0m-17-5h0m-5 17h0m-12-6h0m-4 3h0m-2 8h0m-1-6h0m-11-5h0m-1-9h0m-8 16h0m-1-11h0m-2 8h0m-1 6h0m-1-14h0m-2 7h0m-3 0h0m-3-12h0m-1 9h0m-6-2h0m-4 7h0m-36-11h0m-16 5h0m-5-4h0m-24 1h0m-8-5h0m-1 8h0m-4-2h0m-1 0h0m0-2h0m-1-5h0m0 12h0m-2-1h0m-1 11h0m-2-2h0m-5-12h0m-3 4h0m-2 4h0m-9-12h0m-12 11h0m-16-15h0m-6 4h0m-6 16h0m-28-1h0m-16-4h0m-28 0h0m0-11h0m-18 34h0m0 6h0m18 2h0m28-10h0m0 1h0m16-13h0m12 19h0m22-17h0m0 10h0m44-13h0m1 4h0m5 9h0m4-13h0m1 1h0m17 12h0m5-7h0m0 4h0m4 6h0m1-7h0m29-8h0m2 22h0m2-22h0m7 1h0m11 1h0m6 0h0m5 12h0m8-9h0m7 2h0m11 10h0m3 3h0m1-6h0m1 6h0m2-6h0m2-1h0m7-3h0m5 5h0m2 5h0m4-14h0m4-7h0m12 0h0m1 22h0m4-2h0m5-16h0m26 13h0m50-5h0m-111 20h0m-46 12h0m-37 2h0m-2-18h0m0 2h0m-59-6h0m-22 0h0m-35 5h0m-37 15h0m-46-13h0m0 40h0m0 0h0m18-18h0m28 7h0m37-3h0m19 2h0m19-11h0m3 7h0m3 13h0m7-1h0m15-17h0m26 3h0m12 8h0m14 3h0m25-1h0m43-1h0m8 0h0m61-6h0m-4 22h0m-58 8h0m-13-3h0m-8-11h0m0 13h0m-43 10h0m-8-1h0m-60 1h0m0-2h0m-33-21h0m-7 0h0m-2 9h0m-12 9h0m-7 0h0m-37-16h0m28 40h0m44-18h0m19 17h0m57 2h0m39-19h0m-187 36h0m-46 13h0m28 68h0m85 0h0m124 0h0"/><path d="M1329 2038h0m62-14h0m-34 41h0m-1 33h0m-1 13h0m-4-2h0m-6-11h0m-4 8h0m-1-9h0m-11-4h0m-30 8h0m-189 2h0m-9 32h0m165-1h0m39-12h0m35 12h0m17-22h0m3 16h0m10-16h0m4 7h0m4 2h0m17-3h0m42 6h0m-47 20h0m-8 13h0m-6-20h0m-2 15h0m-5 2h0m-3-16h0m-2 16h0m-1 4h0m-2-2h0m-4 2h0m-2-15h0m0 10h0m-8 3h0m0-1h0m-2-6h0m0 2h0m-1 6h0m-3-16h0m-1 7h0m-9 2h0m-2 5h0m-4 2h0m-17-9h0m-263 2h0m0 13h0m0 15h0m124 2h0m120 2h0m32-5h0m9-6h0m0-1h0m6 2h0m2 6h0m8-2h0m3-15h0m0 4h0m12 12h0m1-9h0m13 6h0m2-7h0m3-2h0m24 7h0m8-2h0m-3 15h0m-4 21h0m-2-14h0m-6 0h0m-7 14h0m-12-14h0m-2 9h0m-10-5h0m-8-5h0m-2 10h0m-4-13h0m-2 9h0m-4 4h0m-5-3h0m-9-8h0m-4 3h0m-18-8h0m-54 15h0m-15 2h0m-35 3h0m-19 0h0m-8-18h0m-50-2h0m-102 4h0m0 14h0m46 15h0m56-9h0m19 12h0m31 2h0m4-6h0m14 0h0m3 2h0m17-8h0m14-3h0m10 1h0m36 15h0m29-7h0m2-8h0m1 7h0m11 11h0m6-7h0m1-9h0m4-2h0m10 10h0m0 6h0m2-3h0m5-5h0m1 3h0m10-1h0m2-1h0m17 5h0m4-6h0m50 15h0m-26 10h0m-15 9h0m-3-7h0m-12 11h0m-8-11h0m-6 11h0m-16-22h0m-7 6h0m-22 13h0m-5-14h0m-5-4h0m-9 6h0m-14 5h0m-3-9h0m-6-3h0m-2 4h0m0 15h0m-46-19h0m-8 3h0m-2 10h0m-13-11h0m-10 20h0m-15-1h0m-1 0h0m-9-17h0m-5 0h0m-10 8h0m-3 10h0m-22-3h0m-19-20h0m0 6h0m-21 5h0m0 7h0m-16-1h0m0-11h0m-46 12h0m0-6h0m0-3h0m0 2h0m18 35h0m0-22h0m28 18h0m0-15h0m16 14h0m12-2h0m0-4h0m11 6h0m17-2h0m16 0h0m0-7h0m3 13h0m16-3h0m3 4h0m3 1h0m5-1h0m4-1h0m0-17h0m5 10h0m12 3h0m12-6h0m20-1h0m5-8h0m0 17h0m4-5h0m0 8h0m4-12h0m0 4h0m4-10h0m3 18h0m13-16h0m11 4h0m13-4h0m2 0h0m1-2h0m1 10h0m0-10h0m5 16h0m0-7h0m5 7h0m3-15h0m0 9h0m4-9h0m2 1h0m0 1h0m9 5h0m14 4h0m5 6h0m18-20h0m4 1h0m4-1h0m13 13h0m7-5h0m35 8h0m-8 18h0m0-3h0m-4-5h0m-1 15h0m0-16h0m-1 16h0m-6-4h0m-8-8h0m-1 12h0m-6-18h0m-12 18h0m-1-1h0m-10-16h0m-1 11h0m-6-9h0m-4 10h0m-2 6h0m-6-10h0m-8 12h0m-18-4h0m-3-9h0m-3 6h0m-2-5h0m-1-5h0m0 17h0m-2-9h0m-15-9h0m-4 3h0m-1-7h0m-13 17h0m-4 4h0m-3-2h0m-3-7h0m-1-4h0m-6-3h0m-6 12h0m-3-3h0m-5-13h0m-1 0h0m-6 3h0m-5 15h0m-2 2h0m-2-21h0m-4 18h0m-8-15h0m-3 13h0m-3-10h0m-4 17h0m0-12h0m-2 6h0m-1-13h0m-4 19h0m-5-18h0m-4-1h0m-2 14h0m-5-17h0m-12 12h0m-2-8h0m-1 6h0m-14 8h0m-7-3h0m-13-16h0m-6 20h0m-22-16h0m-12 11h0m0-15h0m0 15h0m-16-5h0m-46-9h0m0-1h0m0 37h0m0 2h0m0-13h0m74 7h0m37-5h0m0 10h0m33-11h0m12 15h0m6-1h0m16-12h0m4-5h0m2 3h0m1 1h0m3-4h0m15 8h0m29-1h0m0-3h0m3 10h0m1-13h0m8 6h0m3-2h0m0 1h0m1 11h0m2-10h0m7-1h0m1-5h0m8 1h0m7 11h0m7-4h0m16 0h0m12 0h0m6 8h0m1 3h0m2-12h0m8 12h0m6-12h0m36-2h0m5-4h0m10 9h0m24-10h0m-120 38h0m-44-8h0m-79-1h0m-5 16h0m-28-7h0m-15-13h0m-8 12h0m-33-9h0m-12 0h0m-44-3h0m0 15h0m0-6h0m-18 15h0m62 1h0m12-1h0m16 8h0m0-7h0m6 3h0m22-3h0m16 19h0m0-17h0m4-2h0m13 6h0m4 3h0m35 8h0m29-14h0m25 2h0m19-1h0m1 12h0m48-18h0m-12 39h0m-36-7h0m-51-9h0m-11 1h0m-12 21h0m-56-15h0m-116 29h0m44 2h0m56-13h0m16 17h0m0-18h0m28 3h0m16 11h0m57-10h0m31 0h0m142 6h0m-362 36h0m145 71h0m55 0h0"/><path d="M1385 2053h0m-132 22h0m100 8h0m54-2h0m8 16h0m-26-2h0m-20 3h0m-36-6h0m-128 12h0m-160 26h0m218 3h0m59-1h0m9-10h0m3 9h0m8-2h0m7-11h0m0-1h0m5 4h0m0 13h0m1-1h0m1-3h0m1-8h0m1 5h0m4 4h0m6-19h0m38 30h0m-6 2h0m-12 8h0m-10 7h0m-5-1h0m-2-9h0m-1 7h0m-1 3h0m-3-11h0m-1 10h0m-2-19h0m-3 8h0m-1 5h0m-2 6h0m-1-17h0m-1 0h0m-1 3h0m-1 0h0m-5-1h0m-4 15h0m-2-1h0m-6-21h0m-32 10h0m-35 5h0m-76 2h0m-36-6h0m-9-6h0m-47 15h0m-12 0h0m-62 11h0m18 12h0m0-5h0m56 7h0m41-19h0m22 13h0m12 3h0m26-15h0m36 19h0m62-10h0m7 9h0m13-17h0m13 15h0m7-1h0m3-17h0m2 15h0m0 2h0m4-3h0m1-15h0m7 20h0m0-3h0m1-2h0m2 1h0m2-15h0m3 15h0m0-14h0m7 17h0m4-4h0m2 2h0m3-8h0m1 14h0m9-15h0m8-1h0m12-1h0m3 13h0m18 23h0m-10-8h0m-36 13h0m-1-13h0m0 10h0m-8 0h0m-1-2h0m-2-11h0m-4-6h0m-2 11h0m-4-5h0m-6 2h0m-2-1h0m-1 4h0m-4 7h0m-2-8h0m-1 2h0m-8 5h0m0-5h0m-3-2h0m-7 4h0m0-10h0m-2 13h0m-3-18h0m-2 21h0m-9-1h0m-27-8h0m-39 2h0m-24 0h0m-24 4h0m-15-6h0m-47-10h0m-15 10h0m-13 9h0m-9-19h0m-74 30h0m0 6h0m0 7h0m107-21h0m4 10h0m27 12h0m17-16h0m10-4h0m11 10h0m21 9h0m25-4h0m2-16h0m4 6h0m45 8h0m1-11h0m3 16h0m6-14h0m9 9h0m0-6h0m11 8h0m1-1h0m7 1h0m1-10h0m19 1h0m3 11h0m3-9h0m3-2h0m1 6h0m5-3h0m0-7h0m16-1h0m15 9h0m35 16h0m-3 1h0m-16 11h0m-13 1h0m-8 0h0m-1-10h0m-17 1h0m-17-2h0m0 8h0m-7-6h0m-1 14h0m0 1h0m-7-16h0m-1-7h0m-2 6h0m-7 12h0m-6 2h0m-5-15h0m-16 7h0m-12 1h0m-5-8h0m-3 16h0m-2-15h0m0-4h0m-4 9h0m-5 8h0m-5-10h0m-6 2h0m-2 1h0m-3-11h0m-4 11h0m-5-5h0m-10-5h0m0 7h0m-4 12h0m-10-12h0m-19 13h0m-7-6h0m-7 2h0m-15-3h0m-27 7h0m-23-19h0m-33 6h0m-28 0h0m-28-5h0m0 16h0m-18 1h0m0-19h0m0 35h0m74 5h0m16-4h0m6-3h0m11-4h0m0-4h0m0-3h0m7 6h0m1-1h0m6 14h0m3 0h0m1-8h0m6 12h0m3-13h0m3-4h0m1 1h0m1-2h0m2 14h0m1-18h0m16 14h0m0 4h0m6-13h0m11-3h0m12 15h0m2-15h0m2 1h0m5 18h0m9-15h0m7 1h0m3-6h0m6 20h0m11-21h0m4 12h0m3-4h0m0-4h0m1 18h0m2-4h0m3-2h0m2 2h0m4-8h0m4 4h0m2 4h0m3-18h0m2 16h0m2 0h0m23 4h0m0-16h0m6 16h0m6-19h0m7 13h0m8-7h0m10 3h0m8-6h0m7 12h0m2 1h0m2-8h0m4-7h0m7 17h0m2 1h0m4-4h0m25 1h0m6-6h0m17 19h0m-2 13h0m-7-8h0m0 4h0m-4-13h0m-1-2h0m-5 3h0m-2 11h0m-21-2h0m-8-11h0m-2 20h0m-4-10h0m-11-8h0m-3 19h0m-2-16h0m0-6h0m-2 2h0m-7 8h0m-2 4h0m-2 7h0m-2-1h0m-3-20h0m-4 1h0m-10 21h0m-2-5h0m-10 0h0m-4-16h0m-3 7h0m-2 11h0m-13-20h0m-1 7h0m-1 1h0m-3 8h0m0 3h0m-2-6h0m-14-11h0m-7 9h0m-2-11h0m-3 2h0m-5 1h0m-5 19h0m-3-11h0m-5-2h0m-4 0h0m-6 11h0m-9-7h0m-3-13h0m-1 12h0m-7-8h0m-3 9h0m-2 4h0m-4 6h0m-2-17h0m-2 2h0m-2 15h0m-1-15h0m-9 6h0m-7-9h0m-3-3h0m0 9h0m-3-3h0m-2 14h0m0-14h0m-4-6h0m-1 14h0m-2 1h0m-5-7h0m0 9h0m0-3h0m-13-9h0m0 15h0m-13-15h0m-4 16h0m-24-18h0m-9 8h0m-12-4h0m-16 1h0m-28-9h0m-18 4h0m0 0h0m0 32h0m61-5h0m46-5h0m6 2h0m2 5h0m3 1h0m3-7h0m16 9h0m2-6h0m6 2h0m7-8h0m4 6h0m1 4h0m9-7h0m15 7h0m5 2h0m1-6h0m6-4h0m0 0h0m7 2h0m4 13h0m5-2h0m3-16h0m0 8h0m3-5h0m34 8h0m5 1h0m3 10h0m7-10h0m5-2h0m2-5h0m5-2h0m11 2h0m2 17h0m5-14h0m1 0h0m3-5h0m5-1h0m28 1h0m19 1h0m8-3h0m5-1h0m23 8h0m8 8h0m1-12h0m2 6h0m15-8h0m-118 25h0m-17 2h0m-38 3h0m-23-5h0m-2 6h0m-38 7h0m-32-16h0m-33 10h0m-37-3h0m0 12h0m-28-9h0m0 7h0m-28-4h0m-18 0h0m18 25h0m28-11h0m56 11h0m65 6h0m7-10h0m47-5h0m15 2h0m46 7h0m46 9h0m32 13h0m-129 1h0m-4-13h0m-17 5h0m-55-5h0m-3 4h0m-31 18h0m-6-12h0m-4-10h0m-65 9h0m-46 26h0m62 10h0m56-17h0m76 12h0m15-10h0m107 0h0m110 2h0m-271 25h0m-4-8h0m-133 38h0m17 54h0m37 0h0m7 0h0m19 0h0m32 0h0m52 0h0m75 0h0"/><path d="M1332 2070h0m9 2h0m24 15h0m16-15h0m46 13h0m6 4h0m-22 8h0m-5 11h0m-23-8h0m-45 10h0m-174-5h0m-119 9h0m275 7h0m8 0h0m4 13h0m2-18h0m11 4h0m4 0h0m7 15h0m5-20h0m13 9h0m35 22h0m-4-9h0m-15 21h0m-11-10h0m-3-9h0m-1 2h0m0 14h0m-1-10h0m-2 13h0m-13-10h0m0 10h0m-1-3h0m-1-6h0m-7 5h0m-1 4h0m0-22h0m-3 5h0m-3-1h0m-1 18h0m-3 0h0m-2-3h0m-3-16h0m-2 18h0m-8-11h0m-297 30h0m0-10h0m90-5h0m17 14h0m34-1h0m68 0h0m20-3h0m22 12h0m42-23h0m21 10h0m1-6h0m1 10h0m0 2h0m0-2h0m4-5h0m6 3h0m2 5h0m2 5h0m6-2h0m18-16h0m10 16h0m2-1h0m17 1h0m10 13h0m-26-4h0m0 6h0m-24 2h0m-2-8h0m-1 5h0m-6-1h0m-9 10h0m-9-14h0m-1 9h0m-1-7h0m-2 1h0m-14 13h0m-5 1h0m0-8h0m-4 8h0m0 1h0m-2-22h0m-3 3h0m-17 2h0m-16 8h0m0-14h0m0 18h0m-16 4h0m-19-15h0m-38 1h0m-13 1h0m-11 14h0m-52-11h0m-6-1h0m-50 3h0m-28-11h0m0 16h0m-18-10h0m0-3h0m0 19h0m18 6h0m0 7h0m72 0h0m0 1h0m6-12h0m42 9h0m11-4h0m65 7h0m29-6h0m12 11h0m15-8h0m7-9h0m10 20h0m1-12h0m4-11h0m10 11h0m0-11h0m1 21h0m11-16h0m5-5h0m6 4h0m4 8h0m1-2h0m1 0h0m3-10h0m4 7h0m6-4h0m5 15h0m1 5h0m4-23h0m3 23h0m2-18h0m0 3h0m15 4h0m6 0h0m0 10h0m0 2h0m-2 18h0m0-3h0m-8-14h0m-1 15h0m-6-3h0m-7 2h0m-23-4h0m-10-9h0m-11 2h0m-11 6h0m-5 7h0m0-15h0m-25 20h0m-50-15h0m-6 3h0m0 4h0m0-2h0m-7-4h0m-2 11h0m-27-7h0m-5-3h0m-1-9h0m-13 0h0m-7 17h0m-57-8h0m-22 3h0m-12-5h0m0 1h0m0 13h0m-62-14h0m0 31h0m46-14h0m16 23h0m0-21h0m12 8h0m37 3h0m0 6h0m10 2h0m16-8h0m2-4h0m8 11h0m8-5h0m9 5h0m6-13h0m1 7h0m9 1h0m15-2h0m11-10h0m3 1h0m10 14h0m1 4h0m10 0h0m0-5h0m0-3h0m4 0h0m8 1h0m2 8h0m18-15h0m0 9h0m9-8h0m11 5h0m6 6h0m4-19h0m5 7h0m0 6h0m1-4h0m23 0h0m7 2h0m5 2h0m1-1h0m1-10h0m21 0h0m4-2h0m4 0h0m31 17h0m15-4h0m10 2h0m3-14h0m-14 41h0m-8 0h0m-1 2h0m-2-4h0m-6-5h0m-9 10h0m-1-3h0m-1-10h0m-8 6h0m-9 3h0m-4-4h0m0-11h0m-2 9h0m-4 0h0m-2 4h0m-5-8h0m-5-1h0m-3 12h0m-2-15h0m-9 19h0m-2-1h0m-6-4h0m-6-3h0m-1-13h0m-3 18h0m-2-18h0m-1 2h0m-2 9h0m-3 9h0m0-5h0m0-15h0m-1 7h0m-18-5h0m-1 3h0m-4 6h0m-9 1h0m0-12h0m-12 5h0m-1 1h0m0-5h0m-1 14h0m-1 0h0m-6-8h0m-5 13h0m-5-18h0m-7 1h0m-2 5h0m-7-8h0m-7 1h0m-6 19h0m-5-14h0m-2-3h0m-3-4h0m-7 15h0m-4-15h0m-2 5h0m-7 9h0m-1 7h0m-2-9h0m-2-11h0m-9 11h0m-2 10h0m-1-4h0m-3 3h0m-1-20h0m-4 19h0m-9-16h0m-2 9h0m-7 9h0m-6-20h0m-47 0h0m-9 10h0m-42-11h0m-14 21h0m0-14h0m0 8h0m-18 3h0m0 12h0m46 8h0m0 4h0m28-6h0m22-9h0m16-4h0m23 6h0m0 2h0m1-4h0m12 9h0m23-11h0m0 11h0m10-13h0m2 15h0m5-14h0m16-2h0m3 3h0m6 9h0m1 8h0m5-7h0m3-8h0m1 2h0m2-5h0m20 6h0m11-2h0m2 3h0m12 7h0m11-8h0m3 11h0m7 4h0m42-21h0m10 9h0m1-7h0m6 6h0m25-8h0m4 15h0m3-17h0m5 3h0m6 7h0m0-8h0m13 3h0m-72 22h0m-16 4h0m0 0h0m-4 4h0m-3 0h0m-20-4h0m-31 14h0m-1-17h0m-16 14h0m-6-13h0m-56 14h0m-19-19h0m-33 0h0m-11 16h0m-12 5h0m-4-2h0m-12-1h0m0-11h0m-7 2h0m-37 11h0m-46-17h0m0 43h0m0-5h0m74-12h0m33 13h0m8-3h0m30-6h0m17-5h0m0 0h0m66 12h0m13 0h0m2 0h0m110-14h0m-95 24h0m-11 12h0m-103-7h0m-12 13h0m-2 2h0m-23-13h0m-17 4h0m-7-3h0m-9 6h0m-56-9h0m-18 20h0m145 11h0m81 0h0m59-7h0m1 39h0m-142-15h0m-26-4h0m-44 22h0m52 68h0m93 0h0m9 0h0m74 0h0m3 0h0"/><path d="M1101 2087h0m256-4h0m15-5h0m10-8h0m6 12h0m21 25h0m-4-3h0m-18-13h0m-20 9h0m-4-8h0m-5 2h0m-1 12h0m-17-11h0m-4-3h0m-23 14h0m-286 25h0m0-6h0m18-11h0m0 12h0m261-1h0m0 7h0m31-17h0m4 17h0m3-7h0m2 3h0m9-4h0m4 2h0m12 1h0m0-2h0m2-5h0m4-4h0m0 13h0m1-13h0m16-1h0m14 38h0m-2 5h0m-15-11h0m-4 10h0m-11-7h0m-3-9h0m-5 17h0m-1 1h0m-5-21h0m-6 19h0m-2-1h0m-2-14h0m-3 12h0m-3-14h0m-6 6h0m-1 13h0m-3-13h0m-2 11h0m-7-4h0m-3 3h0m-2-5h0m-18 5h0m-156-20h0m-19 22h0m-19-21h0m-37 1h0m-28 16h0m-18-7h0m0 25h0m62-12h0m84 19h0m90-2h0m13-15h0m31 13h0m14-15h0m5 6h0m0 4h0m3-1h0m5-4h0m3 5h0m0-7h0m3 7h0m3 8h0m3-16h0m1 18h0m3 1h0m3 1h0m1-9h0m0 1h0m9-6h0m0 12h0m0-14h0m6-5h0m2 22h0m4-19h0m2 17h0m4-7h0m58-9h0m29 29h0m-62 3h0m-13 4h0m-2-1h0m-6-13h0m-1 0h0m-1 13h0m-2-5h0m-2 9h0m-2 0h0m-2-4h0m0-11h0m-4 10h0m-3 2h0m-2-13h0m-2 4h0m-1 1h0m0 6h0m-2-5h0m-6-10h0m-1 21h0m-1 2h0m-4-3h0m-6-4h0m-9-11h0m-1-5h0m0 10h0m-2 12h0m-7-19h0m-3 0h0m0 9h0m-6-1h0m-10 1h0m-54-1h0m-63 0h0m-2 10h0m-29-9h0m-6-12h0m-3 8h0m-3 3h0m-35 11h0m-65 19h0m0-9h0m44-7h0m40 7h0m19 3h0m13 8h0m41-13h0m24 11h0m16 2h0m12-15h0m1 12h0m2-1h0m37 8h0m9-12h0m11 6h0m7-15h0m4-1h0m5-1h0m5 4h0m1 7h0m3 7h0m2-18h0m2 18h0m8-6h0m2-4h0m6 0h0m6 10h0m11 5h0m3 0h0m4 0h0m20-4h0m2 3h0m4-3h0m8 22h0m0-8h0m-13 9h0m-3-17h0m-21 2h0m-8 2h0m-8 7h0m-7-12h0m-15 20h0m-2-2h0m0-10h0m-15 5h0m-11 0h0m-1 5h0m-2-16h0m-14 16h0m-21 1h0m-38-17h0m-9 1h0m-1 6h0m-10-4h0m-20 8h0m-3 8h0m0-7h0m-10-7h0m-7 11h0m-5-4h0m-12-7h0m-23 11h0m0-4h0m0 1h0m-5 1h0m-4 2h0m-28-10h0m-28 11h0m-28-5h0m0-13h0m-18 8h0m0 5h0m18 14h0m28 6h0m0-9h0m16-1h0m34 18h0m6-17h0m9 14h0m19 6h0m5-12h0m1 13h0m1 0h0m1-3h0m2-3h0m1-8h0m3 4h0m4-9h0m1 20h0m1-4h0m2-9h0m3 4h0m2-4h0m6 6h0m2 2h0m2-16h0m10 21h0m3-18h0m3 15h0m12-2h0m4-9h0m1-1h0m7-3h0m2 18h0m5-11h0m2-1h0m0 2h0m9 6h0m2 2h0m6-2h0m4 1h0m1-9h0m13-10h0m0 15h0m3 6h0m8-15h0m8 0h0m1 2h0m8 9h0m1 3h0m1-13h0m18 8h0m1-8h0m3-8h0m5 10h0m0 4h0m4-2h0m0-9h0m5 9h0m1-6h0m1 17h0m18-21h0m24 12h0m4 1h0m12-5h0m27 7h0m8 15h0m-1-3h0m-10 6h0m0-5h0m-3 12h0m-6-1h0m-2-8h0m-2 9h0m-2 1h0m-2-4h0m-2 8h0m-1-16h0m-3-5h0m0 16h0m-2-10h0m-15-5h0m-2 12h0m-3-3h0m0 2h0m-7 8h0m0-17h0m-10 9h0m-2 6h0m-3-4h0m-4-14h0m-6 12h0m-4-14h0m0 2h0m-10 6h0m-3 4h0m-2 4h0m-1-2h0m-3-8h0m-4-2h0m-1-1h0m-5-2h0m-6 21h0m-1-5h0m-2-1h0m-8-8h0m-4-8h0m-3 10h0m-4 8h0m-12-10h0m-5-8h0m-3 11h0m-1 10h0m-1 2h0m-2-18h0m-3 5h0m-7-4h0m-4 10h0m-7-3h0m-10-9h0m-1 17h0m-4-17h0m-2 6h0m-8 8h0m-4 0h0m-8-15h0m-1-3h0m0 5h0m-2 12h0m-26-11h0m-3 16h0m-1-22h0m-9 20h0m-1-20h0m-1 11h0m0 9h0m-2-6h0m-45-2h0m0-2h0m-28-5h0m-16-3h0m0 0h0m-28 6h0m-18 21h0m0-5h0m74 23h0m9-22h0m13 22h0m22-11h0m6 0h0m6 11h0m6-21h0m13-2h0m16 2h0m2 15h0m10-3h0m8-13h0m19 13h0m2-14h0m14 17h0m0 2h0m2-19h0m8 3h0m4 14h0m2-15h0m4 9h0m0 12h0m5-14h0m4 6h0m4 1h0m1-3h0m3 3h0m15 7h0m1-23h0m16 3h0m35 4h0m21-4h0m9-2h0m8 9h0m1 0h0m6 5h0m19-13h0m5 9h0m6-3h0m6-3h0m1-5h0m3 3h0m-110 22h0m-17 4h0m-11 2h0m-14 4h0m-1 6h0m-96-13h0m-49 12h0m-9-12h0m-28 0h0m-56 0h0m0 5h0m-18 0h0m18 30h0m0-6h0m26-5h0m30 3h0m0 9h0m16-7h0m6 1h0m11-1h0m0-1h0m11-1h0m6 1h0m8 6h0m41-4h0m12-10h0m18 23h0m1-22h0m52 9h0m25 9h0m35-3h0m16-6h0m-40 22h0m-30 0h0m-13-6h0m-23 6h0m-226-3h0m0 8h0m46 20h0m28-1h0m16-2h0m21 17h0m16-17h0m146 7h0m136 9h0m-302 2h0m-45 9h0m-16 3h0m253 15h0m-276 66h0m57 0h0m21 0h0m93 0h0m4 0h0m23 0h0m74 0h0"/><path d="M1342 2040h0m-10 37h0m33-1h0m22 32h0m-28-4h0m-1-13h0m-1 19h0m-8-2h0m-16-10h0m-85 2h0m-51 30h0m124-9h0m2-4h0m25 5h0m1-10h0m3 7h0m5-1h0m9 11h0m0-16h0m0 9h0m4-4h0m0 14h0m4-12h0m15 4h0m36 1h0m-40 33h0m-1-17h0m-1 14h0m-3 4h0m-3-11h0m-3-6h0m-1 17h0m0-19h0m-2 19h0m-7-10h0m-1 0h0m-1 3h0m-6-10h0m-3-2h0m-5 18h0m0-13h0m-2-4h0m-1 13h0m-4-2h0m0-14h0m-10 0h0m-17 3h0m-21 15h0m-155-16h0m-21 28h0m63-5h0m82 7h0m5-6h0m19 17h0m33-21h0m0 20h0m7-6h0m5-13h0m0 18h0m3-14h0m6 4h0m3-5h0m0 1h0m1 3h0m1 4h0m1-3h0m0 8h0m2 4h0m0-2h0m1-10h0m3 9h0m0-16h0m1 7h0m2-8h0m3 19h0m0-7h0m0 8h0m4-3h0m0 4h0m2-6h0m1-16h0m1 22h0m3-10h0m4 4h0m5 4h0m11-4h0m26-15h0m3 31h0m-16 5h0m-9-9h0m-4 13h0m-9-3h0m-7-11h0m-1 18h0m-1-3h0m0 0h0m-4-1h0m-1 2h0m-6-11h0m0 15h0m-3-18h0m-7-2h0m-1 14h0m0 6h0m-2-6h0m-6-2h0m-8-10h0m-2 13h0m-1 1h0m-4-13h0m-3 8h0m-3-9h0m-24 11h0m-16 5h0m-25-5h0m-27-5h0m-11-5h0m-13 17h0m-26 0h0m-24-6h0m-6 1h0m-14-1h0m-61-14h0m-46 8h0m0 1h0m102 32h0m13 0h0m12-9h0m17 7h0m2 3h0m8-11h0m2-10h0m2 16h0m7 5h0m32-20h0m20 2h0m2-2h0m4 13h0m3 3h0m13-15h0m2 4h0m28 1h0m13 3h0m11 8h0m8 3h0m10-10h0m2 2h0m3 8h0m3-18h0m5 1h0m5-2h0m5 9h0m7 3h0m10 1h0m1-12h0m1-1h0m4-2h0m9 2h0m6 0h0m20 45h0m-2-7h0m-2-3h0m-6 6h0m-7-14h0m-14 16h0m-16-5h0m-10 6h0m-2-10h0m-4 4h0m-12 2h0m0-5h0m-3 7h0m-2-7h0m-26-13h0m-1 3h0m-12 3h0m-6 11h0m-26-8h0m-1-7h0m-8 13h0m-2 7h0m-15-15h0m-20 16h0m-1 0h0m-12-15h0m-1 11h0m-5-19h0m-14 4h0m-7 13h0m-6-3h0m-19-14h0m-23 0h0m-11 8h0m-13 12h0m0-3h0m-9 6h0m-74-23h0m18 24h0m0 12h0m65-11h0m47 6h0m10 14h0m1 1h0m0 1h0m2-8h0m2 1h0m1 6h0m2 0h0m1-18h0m1 9h0m2 2h0m1 3h0m1-11h0m1 1h0m0 4h0m4 10h0m6-8h0m12-2h0m15-9h0m5 4h0m14 14h0m4-1h0m5-7h0m1 4h0m11-2h0m4-7h0m1-8h0m1 0h0m15 0h0m9 19h0m4-3h0m0 1h0m18-1h0m0-5h0m1 9h0m5-16h0m4 17h0m0-17h0m7 16h0m9-4h0m1-12h0m18 17h0m1 1h0m3-6h0m19-8h0m5-5h0m12 15h0m18-4h0m18-6h0m5 22h0m-4 14h0m-5-7h0m-3 1h0m-1 3h0m-2-2h0m-9 7h0m-7-7h0m-2-15h0m-11 12h0m0-2h0m-2 11h0m-1-4h0m-3-12h0m-6 13h0m-2-2h0m-5-3h0m0 2h0m-5 8h0m-4-14h0m-2 1h0m-4 7h0m-1-6h0m-7 6h0m-12-7h0m-4 0h0m-2 0h0m-1-6h0m-10-1h0m-1-1h0m-11 15h0m-1-5h0m-15 6h0m-2 2h0m-3 1h0m-15 2h0m-4-8h0m-1-14h0m-5 1h0m-7 7h0m0 12h0m-9-3h0m-1-16h0m-10-2h0m-1 13h0m0-5h0m-4 0h0m0 0h0m-8 6h0m-1 6h0m-1-1h0m-1-17h0m-3 15h0m0 6h0m-3-14h0m0-7h0m-1 9h0m-1 2h0m-18-2h0m-3 0h0m-1 3h0m-7-14h0m-2 10h0m-1 13h0m0-12h0m-5 10h0m0-5h0m-5-5h0m-3-5h0m-1 5h0m-1 4h0m-1-2h0m-1-10h0m-2 15h0m-1-9h0m-16 10h0m0-15h0m-22 12h0m-6 7h0m-7-1h0m0-8h0m-21 4h0m0-5h0m0-1h0m-44 7h0m-18 0h0m0-4h0m0 4h0m0 28h0m54-7h0m20-8h0m9-4h0m19-2h0m0 20h0m9-4h0m4-8h0m3-2h0m5-1h0m5 0h0m17-2h0m12 6h0m4 1h0m4-4h0m18 8h0m23-15h0m1 19h0m3-9h0m1 4h0m14-12h0m3-2h0m12 9h0m9 6h0m12-14h0m2 10h0m12-3h0m6 13h0m1-9h0m4-9h0m1-1h0m11 5h0m7-3h0m3 17h0m2 1h0m5-23h0m0 4h0m7 3h0m0 12h0m5-5h0m0-14h0m10 2h0m2 5h0m0-3h0m10 0h0m6-4h0m21 7h0m2-7h0m14 1h0m3 29h0m-93 3h0m-33 2h0m-13 12h0m-11 0h0m-9-19h0m-28 3h0m-1 6h0m-11 9h0m-53-17h0m-11 0h0m-5 14h0m-16 0h0m-111-5h0m18 13h0m0 4h0m28 0h0m16-6h0m21 2h0m0 8h0m19 11h0m16-16h0m3 16h0m9-20h0m4 12h0m56-4h0m8-1h0m23 9h0m125 5h0m-49 19h0m-40-14h0m-31 1h0m-58 11h0m-47 5h0m-25-8h0m-96 8h0m0-12h0m62 22h0m157-5h0m15 0h0m-234 58h0m260 5h0m-153 52h0m31 0h0m0 0h0m21 0h0m4 0h0"/><path d="M1325 2048h0m-133 16h0m193 14h0m32-9h0m-15 34h0m-40 4h0m-10-11h0m-1 2h0m-3 6h0m-12-11h0m-14 17h0m-27-2h0m-166 24h0m180-3h0m14-8h0m8 9h0m1-7h0m2 3h0m4 1h0m0-10h0m9 13h0m11-9h0m5 4h0m7 10h0m2-20h0m41 19h0m-10 7h0m-24 15h0m-1-6h0m-5-12h0m-7 4h0m-2 11h0m-1-11h0m-5 2h0m0 10h0m-2-13h0m-1 18h0m-1-9h0m-1-6h0m-1 10h0m-4 1h0m-4-13h0m0 14h0m-2-10h0m-3-5h0m-2 0h0m-2 7h0m-4 2h0m0-10h0m-2 0h0m-12 8h0m-6-7h0m-70 11h0m-140 2h0m-12-5h0m-44 2h0m0-4h0m-18-3h0m0 18h0m115 21h0m9-8h0m128-12h0m9 7h0m3 6h0m22 2h0m4-18h0m2 1h0m1 8h0m3 11h0m1-2h0m5-3h0m2-12h0m0 7h0m4 4h0m1-9h0m2 8h0m5-6h0m1 9h0m1-12h0m6 9h0m8-4h0m2-5h0m8 8h0m3-12h0m2 15h0m32-4h0m8 4h0m10 8h0m-13 16h0m-4-14h0m-14 5h0m-6 8h0m-6-7h0m0 4h0m-4-9h0m-1 7h0m-5 2h0m-7-7h0m-12-3h0m-10 22h0m-1-23h0m0 3h0m-2 0h0m-2-1h0m-6 1h0m-4 12h0m-1-6h0m0-8h0m-5 18h0m-4-19h0m-16 3h0m-6 9h0m-21-9h0m-37 7h0m-44 3h0m-24-11h0m-24 18h0m-7-9h0m-21 2h0m-90-3h0m0 21h0m0 3h0m18 12h0m0-11h0m28 6h0m0 6h0m0-18h0m16 12h0m12-15h0m9 5h0m0 8h0m28-3h0m0 8h0m10-7h0m9 1h0m2-5h0m5 7h0m29 4h0m10-10h0m13 3h0m15 3h0m14-11h0m8 6h0m17-6h0m5 6h0m39 3h0m0-9h0m5-1h0m2-2h0m1 7h0m6-1h0m2-6h0m3 21h0m4-18h0m1 0h0m14 12h0m1 5h0m5-4h0m10-17h0m9 10h0m2-9h0m5-2h0m11 20h0m25-14h0m7 1h0m8 21h0m-12 5h0m-4 6h0m-3-6h0m-25 8h0m-3 4h0m-14-6h0m-5-12h0m-5-3h0m-2 9h0m-6 12h0m-20-2h0m0-3h0m-1-14h0m-9 15h0m-7-7h0m-13-5h0m-10 10h0m-5-9h0m-1-4h0m-2-1h0m-4 10h0m-3-10h0m-15 6h0m-3 10h0m-3-9h0m-5-1h0m-7 16h0m-19-8h0m-31-2h0m-14-5h0m-2 3h0m-11 8h0m-29 1h0m-19-7h0m-6 9h0m-7 0h0m-9-14h0m-28 15h0m0-6h0m0-7h0m-46-3h0m0 5h0m0 23h0m46 2h0m16 9h0m34-19h0m6 8h0m5 9h0m8-14h0m0 3h0m12 5h0m7 1h0m7 4h0m9-15h0m3 19h0m2-20h0m6 7h0m3 6h0m6-1h0m8-2h0m7-9h0m2 13h0m4 6h0m0-3h0m7-6h0m1 1h0m1-10h0m11 15h0m1-12h0m2 12h0m0 1h0m3-12h0m21-6h0m23 20h0m17-15h0m0 7h0m8-7h0m2 11h0m3-15h0m10 14h0m18 1h0m0-18h0m11 19h0m5-18h0m8 21h0m4-1h0m14-5h0m19-12h0m5 0h0m17 3h0m6 31h0m-2 0h0m-1-4h0m-5 2h0m0-7h0m-1 9h0m-7-1h0m-5 1h0m-5 2h0m-2-3h0m-3-7h0m-5 2h0m-10 8h0m-1 5h0m-4-22h0m-5 23h0m0-17h0m-5-1h0m-11 18h0m-4-16h0m-2 5h0m0 3h0m-5 4h0m-6-8h0m0 1h0m-1 6h0m-4-14h0m-2 12h0m-2-4h0m-10 5h0m-3-6h0m-1-3h0m-2 9h0m-5-16h0m-11 5h0m-4 0h0m-3-4h0m-7 1h0m-5 0h0m-1 11h0m-7 9h0m0-1h0m-12-12h0m-8 2h0m-4-12h0m-7 15h0m-11-14h0m-2 18h0m-2-7h0m-1 0h0m-1 10h0m-24-15h0m-4 0h0m-3 11h0m0-14h0m-2 1h0m-1 10h0m-6-2h0m-11-5h0m0-2h0m-1-5h0m-4 14h0m0 2h0m-1-9h0m-4 5h0m-2 9h0m-1 1h0m-3-13h0m-34-7h0m0 7h0m-6 0h0m-6 4h0m0 5h0m0-9h0m-7-1h0m0-8h0m-9 2h0m-12 19h0m-16-22h0m-46 22h0m0-16h0m0 41h0m18 0h0m28-22h0m0 16h0m16-2h0m0-12h0m0 3h0m12 12h0m9 0h0m0-18h0m0 22h0m13-17h0m11 15h0m19-10h0m1 5h0m4-12h0m1 7h0m7 3h0m1-10h0m6 3h0m1-4h0m2 15h0m3-1h0m4-11h0m8-4h0m3 2h0m25 2h0m4 0h0m2 16h0m1-18h0m18 1h0m26 4h0m3 14h0m0-10h0m17-9h0m5 7h0m0 8h0m3 3h0m1-19h0m8 3h0m11 4h0m20 3h0m8-8h0m3-3h0m1 4h0m2 0h0m0 0h0m19-2h0m35 2h0m2-4h0m12-1h0m8 14h0m2-3h0m7 3h0m-48 23h0m-14-4h0m-45 3h0m-53-11h0m-13 11h0m-10-10h0m-32 3h0m-28-3h0m-105 10h0m-16 7h0m0-17h0m-28 20h0m0-14h0m0 21h0m28 2h0m0 10h0m50-15h0m6 13h0m0-10h0m5 7h0m23-9h0m4 20h0m105-3h0m43-10h0m34 7h0m-5 30h0m-84-8h0m-2-13h0m-8 18h0m-21-1h0m-10-1h0m-14-17h0m-21 7h0m-5 15h0m-5-16h0m-100-3h0m-41 21h0m0 14h0m0 8h0m111-16h0m28-6h0m10 14h0m9-14h0m20 14h0m37 23h0m-100 4h0m-13-12h0m-102 2h0m188 19h0m-166 66h0m137 0h0m27 0h0m52 0h0"/><path d="M1204 2062h0m163 8h0m-19 36h0m-18 1h0m-7 3h0m-128 23h0m101-21h0m26 20h0m2-11h0m5 6h0m8-11h0m3 7h0m3 11h0m9-18h0m5 2h0m4 14h0m68 23h0m-39-11h0m-8 4h0m-15 6h0m-8 2h0m-2-19h0m0 0h0m-2 22h0m-8-21h0m-1 16h0m-1-3h0m-5-7h0m-3 7h0m-15 5h0m-56 1h0m-80-16h0m-141 36h0m78 5h0m22 0h0m57-9h0m4 1h0m34 3h0m7 5h0m52-11h0m18-8h0m2 15h0m2-15h0m4 8h0m2 0h0m0 8h0m8-11h0m1-7h0m0 20h0m1-5h0m2-5h0m2-3h0m3-6h0m2 16h0m2-5h0m1-9h0m1 4h0m2 0h0m0-3h0m3 9h0m2-3h0m2 4h0m0-8h0m7 4h0m5-5h0m5-5h0m16 9h0m2-5h0m32 2h0m6 15h0m-22 24h0m-3-3h0m-17-5h0m-3-6h0m-3 13h0m-3-9h0m-4-7h0m-11 1h0m-1-3h0m-3 3h0m-3 11h0m0-9h0m0 6h0m-2-8h0m-13 6h0m-3 0h0m-1-9h0m-1 15h0m-6-12h0m-35 14h0m-6-18h0m-8 17h0m-30-7h0m-5 4h0m-29 5h0m-72-20h0m-38 7h0m-21 0h0m-16 7h0m-46 11h0m0 16h0m18-1h0m28-4h0m44-13h0m12 20h0m22-13h0m42-6h0m4 16h0m2-1h0m4 3h0m1-10h0m3 14h0m5-19h0m40 16h0m34-14h0m5 5h0m1 5h0m3-5h0m1-10h0m34 6h0m10-6h0m0 15h0m3-8h0m2 2h0m7-3h0m5 12h0m11 2h0m1-11h0m8-2h0m5 14h0m2-13h0m16-2h0m6 11h0m3-18h0m13 30h0m-10 9h0m-21-12h0m-7 18h0m-8-12h0m0 9h0m-3 5h0m-19-20h0m-2 3h0m-2 14h0m-1-16h0m-5-2h0m-1 4h0m-7-2h0m-4 7h0m-9-11h0m-10 2h0m-3 12h0m-10 3h0m-10-3h0m-16-2h0m-2 0h0m-3-4h0m-8-1h0m-16-3h0m-25 5h0m-43 8h0m-9-10h0m-11-1h0m0-6h0m-15 15h0m0 2h0m-4 4h0m-9-18h0m-40 8h0m0-1h0m-16 4h0m-46-5h0m0 14h0m0 24h0m0-10h0m18-3h0m56 8h0m9-1h0m13-16h0m11 22h0m4-8h0m10 1h0m15 2h0m3-18h0m0 7h0m0-6h0m1 19h0m8 1h0m1-17h0m5 9h0m3-7h0m2 14h0m8 1h0m2-1h0m1 1h0m3 2h0m16-1h0m3-5h0m1-8h0m0 13h0m0-2h0m5-20h0m1 13h0m6-5h0m1-2h0m4 13h0m1-4h0m1 7h0m6-22h0m2 14h0m5-11h0m1 1h0m6 13h0m2 2h0m1 4h0m1-12h0m4 4h0m5-15h0m11 7h0m6 7h0m2 7h0m2 0h0m2 2h0m1-6h0m7-5h0m0-5h0m3 3h0m2-5h0m3 9h0m5 7h0m0-5h0m3 5h0m6-6h0m0-13h0m8 6h0m3 12h0m17 2h0m17-2h0m0-5h0m5-2h0m9 3h0m2 3h0m8-2h0m1-3h0m7-1h0m24 8h0m4-4h0m15 2h0m-11 22h0m-22-14h0m-1 14h0m0-6h0m-3-9h0m-7 0h0m-1 6h0m0 13h0m-1-5h0m-4 0h0m-1 5h0m-1-9h0m-3 6h0m0-16h0m-5 4h0m-1 7h0m-6 6h0m-8-13h0m-5-2h0m-1-1h0m-3 3h0m-4-5h0m-2 10h0m-2-9h0m-8 11h0m0-12h0m-6 0h0m0 4h0m-4 6h0m-3-1h0m0-1h0m-3 10h0m-7-15h0m-6 4h0m-2 14h0m0-5h0m0-14h0m-4-3h0m-1 3h0m-3 3h0m-2 7h0m-3-5h0m-1-6h0m-2 15h0m-13 1h0m-3-16h0m-1 19h0m-8-12h0m-6 4h0m-1 7h0m-9 1h0m-6-7h0m-2 9h0m-6-10h0m-10 10h0m-3-16h0m-3 6h0m-1 0h0m-1 9h0m-10-6h0m-10 0h0m-5-11h0m-1-1h0m-4 8h0m-1 1h0m-3 7h0m-5 0h0m-1-10h0m-1-4h0m-2 12h0m-1-7h0m-1 2h0m-3-4h0m0-3h0m-2-1h0m-6 14h0m0-7h0m-5 11h0m-16-20h0m-6-3h0m-19 1h0m0 0h0m0 11h0m0-9h0m-6 14h0m-7-15h0m-21 4h0m-44 8h0m-18 32h0m18-7h0m28-10h0m37 9h0m19 3h0m5 1h0m4 3h0m28-5h0m0-15h0m0 5h0m2 9h0m5 2h0m7-7h0m1-8h0m1-1h0m8 11h0m6-2h0m0 3h0m22-9h0m0 13h0m6-8h0m41-6h0m1 9h0m2 4h0m7-7h0m1 2h0m11-10h0m10 3h0m2 0h0m3 18h0m7-14h0m4 10h0m0-12h0m12-5h0m5 18h0m1-15h0m4-1h0m8 6h0m23 2h0m2 6h0m8-15h0m2 3h0m3-2h0m16 10h0m-46 13h0m-28 3h0m-1 11h0m-18-4h0m-37-3h0m-10-3h0m0 11h0m-38-17h0m-5 11h0m-30-11h0m-30 14h0m-31-7h0m-6 0h0m-7 4h0m0 2h0m0-2h0m-37-6h0m-28 12h0m0-8h0m-18 3h0m46 33h0m37-2h0m0-2h0m7-7h0m28-8h0m0 4h0m16 15h0m99-18h0m24 15h0m49 3h0m70-6h0m-120 20h0m-1 10h0m-13-15h0m-67-4h0m-57 20h0m-11-20h0m-7 7h0m-26-3h0m0 32h0m0 3h0m0 4h0m135-15h0m24-3h0m52-3h0m-120 45h0m-31-1h0m-60-4h0m-74-15h0m18 28h0m316 35h0m-316-15h0m84 44h0"/></g>
<use href="#hd" filter="url(#blur8)"/>
</g>
<line x1="1025.5" y1="2013.3" x2="1025.5" y2="2518.5" stroke="#333" stroke-width="1.4"/>
<line x1="1025" y1="2517.8" x2="1521" y2="2517.8" stroke="#333" stroke-width="1.4"/>
<line x1="1013" y1="2036" x2="1025.5" y2="2036" stroke="#333" stroke-width="1.4"/>
<text x="968" y="2043.5" text-anchor="middle" font-size="25">1<tspan font-size="21" dx="3" dy="-1">×</tspan><tspan dx="3" dy="1">10</tspan><tspan font-size="16" dx="1" dy="-11">4</tspan></text>
<line x1="1013" y1="2219" x2="1025.5" y2="2219" stroke="#333" stroke-width="1.4"/>
<text x="1000" y="2228" text-anchor="end" font-size="25">100</text>
<line x1="1013" y1="2404" x2="1025.5" y2="2404" stroke="#333" stroke-width="1.4"/>
<text x="1000" y="2413" text-anchor="end" font-size="25">1</text>
<line x1="1101" y1="2517.8" x2="1101" y2="2530" stroke="#333" stroke-width="1.4"/>
<text x="1101" y="2555.8" text-anchor="middle" font-size="25">10</text>
<line x1="1193.6" y1="2517.8" x2="1193.6" y2="2530" stroke="#333" stroke-width="1.4"/>
<text x="1193.6" y="2555.8" text-anchor="middle" font-size="25">100</text>
<line x1="1285.9" y1="2517.8" x2="1285.9" y2="2530" stroke="#333" stroke-width="1.4"/>
<text x="1285.9" y="2555.8" text-anchor="middle" font-size="25">1,000</text>
<line x1="1378.6" y1="2517.8" x2="1378.6" y2="2530" stroke="#333" stroke-width="1.4"/>
<text x="1378.6" y="2555.8" text-anchor="middle" font-size="25">1<tspan font-size="21" dx="3" dy="-1">×</tspan><tspan dx="3" dy="1">10</tspan><tspan font-size="16" dx="1" dy="-11">4</tspan></text>
<line x1="1471.2" y1="2517.8" x2="1471.2" y2="2530" stroke="#333" stroke-width="1.4"/>
<text x="1471.2" y="2555.8" text-anchor="middle" font-size="25">1<tspan font-size="21" dx="3" dy="-1">×</tspan><tspan dx="3" dy="1">10</tspan><tspan font-size="16" dx="1" dy="-11">5</tspan></text>
<text x="1258" y="2596.7" text-anchor="middle" font-size="27.5" textLength="369" lengthAdjust="spacingAndGlyphs">DNA accessibility (ATAC-seq)</text>
<text x="934" y="2264.6" text-anchor="middle" font-size="27.5" textLength="372" lengthAdjust="spacingAndGlyphs" transform="rotate(-90 934 2264.6)">RNAPII occupancy (ChIP-seq)</text>
<text x="1512" y="1989" font-weight="bold" font-size="37" textLength="13" lengthAdjust="spacingAndGlyphs" stroke="#111" stroke-width="1.3">i</text>
<g clip-path="url(#clipI)">
<g fill="none" stroke="#b4b4b4" stroke-width="10.8" stroke-linecap="round" stroke-opacity="0.1"><path d="M1603 2178h0m243 24h0m-181 4h0m-44-6h0m0 0h0m-18-3h0m0 34h0m18-14h0m72-4h0m35 15h0m25-8h0m237 35h0m-26-7h0m-78 5h0m-10-4h0m-31 4h0m-38-4h0m-57 3h0m-50-14h0m-7 7h0m-16-11h0m-56-1h0m-18 21h0m0 19h0m18-12h0m0 10h0m54 1h0m2-15h0m9 5h0m8 14h0m11-17h0m40 19h0m8 0h0m2-9h0m29-3h0m1-9h0m2 20h0m1 1h0m0-2h0m16-5h0m0 7h0m1-7h0m14 6h0m6-3h0m21-5h0m5 1h0m29 3h0m9-15h0m14 13h0m3 0h0m3-7h0m5-7h0m3 10h0m2 8h0m1-1h0m10 0h0m8-6h0m1 6h0m1 1h0m2-11h0m16 2h0m0 5h0m2-1h0m2 1h0m5-5h0m3 6h0m11 4h0m9-12h0m1 15h0m10-15h0m-4 31h0m0 0h0m-2-15h0m-3 21h0m-2-21h0m-11 4h0m0-3h0m-4 8h0m0 11h0m0 3h0m-2-9h0m-5-6h0m-1 14h0m-1-2h0m-5-10h0m0-9h0m-2 18h0m-1-3h0m-1-4h0m0-2h0m-5 12h0m0-19h0m-1 7h0m0 1h0m-7 4h0m-2 2h0m-2-2h0m-4 3h0m-5-10h0m-3 14h0m-1-15h0m-2 2h0m-1-5h0m-2-4h0m-2 19h0m-4-14h0m0 17h0m-8-15h0m-5 3h0m0-9h0m-1 18h0m0-13h0m-5-1h0m-1 12h0m-3-3h0m-1 2h0m0 6h0m-2-17h0m-1 12h0m-1-15h0m0-1h0m-1 4h0m-4 6h0m-6-1h0m-3-10h0m-8 16h0m-1-10h0m-4 0h0m-5 10h0m-3-3h0m-1-11h0m-2 7h0m-1 12h0m-2-12h0m-2-6h0m-6 3h0m-2 13h0m-8-9h0m-10 5h0m-4 5h0m-7-1h0m-5-14h0m-1 6h0m-1 10h0m-2-20h0m-2 2h0m-8 0h0m-9-2h0m-1 17h0m-5-18h0m0 11h0m-12-1h0m-3 0h0m-1 0h0m-17 4h0m-41 9h0m-51-2h0m0-7h0m0-2h0m-28-2h0m-18 36h0m0-4h0m0-13h0m0 5h0m18 4h0m0-14h0m28 9h0m0 11h0m16-18h0m12 15h0m23 3h0m74 2h0m3-13h0m15 5h0m1 8h0m5-20h0m2 17h0m5-14h0m10 6h0m2-1h0m3 9h0m1-19h0m4 0h0m2 11h0m5-3h0m7 6h0m2-9h0m15 4h0m3-6h0m1 10h0m2-12h0m6 1h0m5 3h0m3 0h0m4 12h0m0-14h0m2 10h0m6-13h0m5 6h0m1 12h0m3-2h0m2-2h0m0-3h0m2 4h0m1-6h0m4 1h0m2 7h0m1-14h0m2 6h0m2 10h0m6-3h0m5-8h0m2 5h0m2-11h0m4 6h0m1-8h0m6 5h0m4 5h0m3-6h0m0 7h0m4-4h0m2 10h0m0-3h0m2-13h0m4 6h0m5 3h0m2 6h0m6-12h0m1 14h0m4-7h0m8 11h0m4-15h0m4 1h0m1 10h0m2 15h0m-32 1h0m-27-1h0m-65-8h0m-2 7h0m-6-7h0m-4 0h0m-2 17h0m-21 1h0m-3-5h0m-7 8h0m-4-4h0m-4-2h0m-1-14h0m-3 2h0m-28 12h0m-16-11h0m-29 6h0m-21 3h0m-2-1h0m-3 0h0m-5 8h0m-17-12h0m-28 5h0m-16 4h0m-28 0h0m0-16h0m0 3h0m-18 38h0m0 0h0m46-18h0m16 6h0m0-1h0m73 0h0m4 15h0m25-17h0m5-2h0m76 1h0m6-2h0m16 1h0m50 40h0m-20-4h0m-41-4h0m-37-10h0m-53 16h0m-76-3h0m-44-4h0m-28 6h0m0-5h0m-18 37h0m46-13h0m69 12h0m1-18h0m95 14h0m58 20h0m-167 9h0m-81 68h0m60 0h0m117 0h0m28 0h0m3 0h0"/><path d="M1621 2161h0m-18 58h0m0 12h0m46-19h0m160 16h0m147-16h0m-6 34h0m-1-9h0m-16 16h0m-77-20h0m-4 18h0m-85 3h0m-43-13h0m-35 14h0m-68-9h0m-18-2h0m0-3h0m0 13h0m0 19h0m0-2h0m62-10h0m49 3h0m35 10h0m7-4h0m21-5h0m12-4h0m3 18h0m25-5h0m5 0h0m2-3h0m2 8h0m1-6h0m1-17h0m3 20h0m5-20h0m4 20h0m6-4h0m8-7h0m8-9h0m11 23h0m2-11h0m2-3h0m2 8h0m3-2h0m3 5h0m3-3h0m10 0h0m1-2h0m8-3h0m1 0h0m3 7h0m1 1h0m0 1h0m3-8h0m7 1h0m2 8h0m1-16h0m7 12h0m6-6h0m1 10h0m0-1h0m2-14h0m12 15h0m1-3h0m3-17h0m4 16h0m1 0h0m1-10h0m0 3h0m14 4h0m0-8h0m1 13h0m3 1h0m0-5h0m11 6h0m0 0h0m6-1h0m2 12h0m0 3h0m-10-5h0m0 6h0m-2-10h0m0 12h0m-1-6h0m-2 14h0m-2-21h0m-2 16h0m0-12h0m-11-2h0m-1 13h0m-3 1h0m0-14h0m0 2h0m-2 4h0m0 2h0m-3-4h0m-1-5h0m0 18h0m-5-6h0m-1 0h0m-1-7h0m-2 14h0m-3-15h0m-6 10h0m0-16h0m0 3h0m-1 2h0m-2 5h0m-2 1h0m-2 7h0m-2-15h0m-4 16h0m-1-11h0m-5 1h0m-2 3h0m-1-2h0m-5-1h0m-2 8h0m0-12h0m-3 10h0m0-15h0m-2 18h0m-1-8h0m0 2h0m-2 5h0m-3-9h0m-1-5h0m-9 9h0m-8 0h0m0-6h0m-1 4h0m-7 12h0m-2-17h0m-2 0h0m-5 9h0m-2-1h0m-2 4h0m-1-8h0m0-6h0m-4 19h0m-2-7h0m-2-7h0m-6 9h0m-2-14h0m-2 10h0m-11 0h0m-6 1h0m-1 0h0m0-7h0m-3 12h0m-1 1h0m-1-4h0m-1-16h0m-7 16h0m-1-10h0m-9 6h0m-11 9h0m-2-22h0m-17 1h0m-1 21h0m-5-9h0m-5-8h0m-4 18h0m0-18h0m-3-3h0m-4 8h0m-7 7h0m-11-1h0m-23 4h0m-24-1h0m-37-8h0m-46 20h0m0 14h0m0-10h0m0-1h0m0-3h0m0 9h0m46-16h0m0 22h0m28-17h0m0 1h0m0-1h0m57 2h0m8 1h0m11 12h0m1-18h0m2 2h0m16 3h0m9 10h0m0-12h0m1 4h0m19 1h0m3 12h0m1-13h0m1-4h0m10 3h0m2-4h0m5 5h0m6 12h0m7-7h0m2 9h0m1-8h0m2-1h0m3-9h0m0 3h0m3-4h0m4-2h0m4 2h0m8-3h0m12 22h0m5-23h0m1 0h0m4 20h0m10-11h0m3-2h0m1 10h0m2-7h0m2-3h0m1-1h0m0 14h0m12-12h0m7 15h0m2-22h0m6 5h0m3 9h0m4-3h0m3-4h0m2-7h0m1 9h0m6-4h0m3 2h0m5 6h0m4-3h0m5-9h0m4 9h0m0-8h0m9 3h0m1-4h0m2 6h0m4 10h0m2-15h0m5-3h0m7 11h0m-79 15h0m-4 14h0m-24 7h0m-3-14h0m-1 1h0m-11 13h0m-23-23h0m-15 18h0m-6-9h0m-8 12h0m-6-9h0m-29 10h0m-4-7h0m-33 1h0m-14 7h0m-20-6h0m-100-9h0m0-4h0m0 13h0m-18-14h0m0 1h0m0 39h0m72-15h0m11 7h0m23-9h0m21 2h0m33 5h0m7 8h0m1-11h0m13 9h0m23-3h0m4-3h0m7-4h0m11 13h0m3-8h0m2 0h0m16 2h0m28 3h0m28-1h0m8 23h0m-49-11h0m-5-2h0m-2 7h0m-52 4h0m-141 6h0m-62-3h0m0-10h0m0 25h0m0 7h0m18 0h0m32-8h0m24 1h0m33 3h0m4-5h0m90-1h0m27 19h0m115-8h0m-253 20h0m-90 21h0m0 17h0m102-1h0m79-19h0m-119 37h0m-34 27h0m117 0h0m24 0h0m80 0h0m23 0h0"/><path d="M1603 2132h0m0 19h0m46 9h0m16 41h0m-16-4h0m-46-4h0m0 38h0m18-20h0m56 5h0m16 7h0m22-15h0m96 16h0m67-10h0m-74 32h0m-19 8h0m-83-14h0m-9-8h0m-14 19h0m-30-16h0m-28 16h0m-18 0h0m0 19h0m0 1h0m0 8h0m0-12h0m18 10h0m28-7h0m0 9h0m0-3h0m28-4h0m0-5h0m0 12h0m0-11h0m21 8h0m16-19h0m13 5h0m42 16h0m17-2h0m2 3h0m5-17h0m12 12h0m5-6h0m12 11h0m3-10h0m13 5h0m5 5h0m13-3h0m7-1h0m15-3h0m11 5h0m2 2h0m3-9h0m4 0h0m1-2h0m3 4h0m0 2h0m1-8h0m1 4h0m1-5h0m5 1h0m4 9h0m7-5h0m2-12h0m12 19h0m10-10h0m0 8h0m7-4h0m2-11h0m1 2h0m3 0h0m2-4h0m1 16h0m5 0h0m8-4h0m22-5h0m2-3h0m8 37h0m-4-6h0m-2-2h0m-10-1h0m-2 1h0m-1 7h0m-1-13h0m-8 12h0m-2 2h0m-8 4h0m-4-22h0m-2 16h0m-2-12h0m-1 5h0m-4-3h0m-3 13h0m0-3h0m-1-5h0m-3 9h0m-1-5h0m-5-9h0m-2 5h0m-4-7h0m-3 9h0m-1 7h0m-1-16h0m-1 10h0m0-10h0m0 10h0m0 1h0m-7-16h0m-1 21h0m-3-5h0m-3 5h0m-1-20h0m-4 3h0m-4 17h0m-2-8h0m-2 4h0m0-5h0m-1 3h0m-1-2h0m-2 8h0m-12-5h0m0-10h0m0 7h0m-1-12h0m-1 21h0m-5-20h0m-1 13h0m0-9h0m-1 14h0m-5-10h0m0 1h0m-1-10h0m-2 12h0m-3-13h0m-5 11h0m-1-2h0m-6 13h0m0-21h0m0 4h0m-10 11h0m0 3h0m-2 1h0m-13-1h0m-4 2h0m-3-19h0m-1 1h0m-3 6h0m-2-9h0m-1 10h0m-12 2h0m-1 11h0m-3-7h0m-5 0h0m-4 2h0m0 3h0m-2-2h0m-7-5h0m-5-1h0m-13-2h0m-11 11h0m-17-20h0m-36 8h0m0 4h0m-23 9h0m0-10h0m-56-2h0m0 7h0m0 3h0m-18-14h0m0 6h0m0-4h0m0 23h0m18 9h0m0-6h0m0-3h0m28 8h0m0-6h0m16 0h0m21-2h0m7-8h0m17 19h0m4-16h0m1 7h0m15 5h0m7-15h0m10 11h0m1-7h0m3-3h0m0 17h0m7-8h0m3-6h0m12 19h0m0-21h0m13 6h0m7 13h0m3-21h0m9 1h0m1 1h0m1 10h0m1-4h0m13 13h0m5-19h0m18 0h0m2 0h0m2 4h0m4 7h0m11-3h0m1-2h0m0 9h0m20-14h0m3 4h0m2-5h0m2 1h0m2 3h0m0-5h0m0 18h0m6-16h0m3 3h0m0 1h0m5-5h0m1 15h0m0-13h0m1 12h0m3-10h0m2-4h0m1-1h0m5 5h0m3 1h0m8-4h0m6 4h0m0-7h0m2 4h0m2 13h0m1 2h0m10-14h0m3 0h0m1 18h0m2-9h0m11-12h0m6-2h0m2 3h0m5 3h0m3 2h0m0 6h0m8-12h0m1-1h0m2 12h0m1-11h0m-3 33h0m-16-8h0m-10-2h0m-13 1h0m-12 8h0m-12-8h0m-20-2h0m-41 11h0m-7-2h0m-2 6h0m-1-14h0m-7 3h0m0-1h0m-12-3h0m-30 16h0m0-8h0m-34-1h0m0 8h0m-3-10h0m-21-5h0m-10 18h0m-34-7h0m-60-7h0m-28 0h0m0 18h0m0-10h0m-18 7h0m0-14h0m0 19h0m0 13h0m0-6h0m0 0h0m0-7h0m0 2h0m62 21h0m4-22h0m8 0h0m6 22h0m17-20h0m65 16h0m9 3h0m11-11h0m19-10h0m52 7h0m4-8h0m51 12h0m146 4h0m-159 27h0m-46-9h0m-25-3h0m-88 1h0m-9-8h0m-15 2h0m-112 30h0m18 14h0m72-4h0m76-12h0m29 15h0m84-20h0m-35 27h0m-51-4h0m-103 18h0m-30-4h0m-43 77h0m63 0h0m118 0h0m40 0h0m16 0h0m6 0h0"/><path d="M1603 2116h0m74 34h0m-74 5h0m46 42h0m-46 16h0m0 12h0m18-9h0m72 13h0m145-2h0m11-3h0m67-14h0m20 35h0m-15 9h0m-10-6h0m-61 5h0m-53-14h0m-56-6h0m-1 22h0m-16-13h0m-31-5h0m-28-2h0m-62 12h0m0 27h0m0-2h0m46-16h0m65 4h0m36-1h0m11 2h0m45-1h0m19-2h0m1 17h0m7-11h0m2-1h0m10 4h0m5 2h0m12 6h0m2-2h0m30-12h0m3 16h0m11-9h0m0 10h0m0 1h0m8-4h0m8 3h0m8-4h0m7-2h0m1 4h0m2-17h0m3-1h0m9 1h0m3 16h0m6 2h0m1-7h0m2 1h0m6 7h0m4-10h0m3 10h0m1-3h0m16 19h0m-1-10h0m-4 1h0m-2 16h0m0-18h0m-1 4h0m0 15h0m-2-3h0m-5-4h0m-2-15h0m-4 23h0m-3-17h0m-2-5h0m-7 8h0m-1 11h0m-1-7h0m-4-9h0m0 16h0m0-11h0m-1 12h0m-1-10h0m-7 7h0m-1 5h0m0-1h0m-4-21h0m-1 7h0m0 15h0m-3-21h0m-5 5h0m-2 8h0m-2 3h0m-2-10h0m-1 6h0m-2-9h0m-1 9h0m-1 5h0m-1-4h0m-7-2h0m-1 1h0m-2-4h0m-3 1h0m-2 5h0m0-4h0m-2 7h0m-1-17h0m0 11h0m-2 1h0m-1-6h0m-1 1h0m0-1h0m-2 13h0m-3-5h0m-1-3h0m-4-10h0m-2 2h0m-3 10h0m-3-4h0m-2 11h0m-1-14h0m-2 15h0m-2-20h0m-1 0h0m-1 0h0m-3 5h0m-2-2h0m-1 10h0m-5-9h0m-1 6h0m-8-8h0m-1 6h0m-1 5h0m-1-1h0m-12-6h0m0 4h0m-13 9h0m-8-3h0m-10 0h0m0-11h0m-6-6h0m-5 9h0m-3 3h0m-18-11h0m-1 2h0m-4-1h0m-4 15h0m-6-4h0m-2 5h0m-6-12h0m-3 12h0m-9-14h0m-3 16h0m-60 1h0m-12-17h0m-16 8h0m0-2h0m-28 0h0m0 8h0m-18 22h0m0-7h0m0 5h0m0-12h0m18 16h0m0-10h0m56 4h0m70 0h0m5-10h0m2-2h0m8 6h0m2 5h0m1-12h0m0 1h0m1 6h0m7-7h0m8 16h0m3-17h0m1 22h0m2 0h0m24-19h0m2 6h0m6 9h0m3-10h0m6-7h0m2 5h0m9 12h0m5-8h0m3 3h0m11-6h0m4 13h0m4-19h0m2 5h0m2 5h0m10 9h0m5-20h0m6 18h0m1-11h0m9 2h0m3-4h0m0 4h0m3 7h0m5-1h0m5-15h0m2 4h0m4 9h0m3 4h0m1-15h0m2 9h0m1 2h0m0-10h0m2 6h0m2-6h0m30 9h0m4-8h0m1 4h0m3-8h0m2 19h0m0-1h0m6-17h0m4 7h0m5-5h0m11 11h0m-16 14h0m-23-3h0m-24 5h0m-19-4h0m-19-1h0m-1 4h0m-1-3h0m-16-1h0m-26 4h0m-9-2h0m-51 13h0m-17 4h0m-4-16h0m0 18h0m-20-9h0m-1-3h0m-9-4h0m-4 7h0m-15 1h0m-19-2h0m-41 5h0m0 2h0m0-8h0m-44 1h0m0-3h0m-18 11h0m0 22h0m18 4h0m0-10h0m28 7h0m80-5h0m26 5h0m46-10h0m34-1h0m3-8h0m3 14h0m4 9h0m22-6h0m16-13h0m151 29h0m-115 14h0m-60-10h0m0-10h0m-76 5h0m-62 5h0m-3 0h0m-32-6h0m-9 2h0m-12 12h0m0-17h0m-16 18h0m-28-16h0m0-2h0m-18 22h0m18 1h0m0 12h0m28 0h0m0-1h0m44-8h0m51 13h0m28-13h0m-169 40h0m12 69h0m9 0h0m134 0h0m3 0h0m37 0h0m73-11h0"/><path d="M1621 2216h0m56-8h0m0 6h0m37 15h0m234 19h0m-4-6h0m-8 10h0m-7 0h0m-23-1h0m-4-5h0m-14 8h0m-27-12h0m-52 7h0m-160 2h0m0-5h0m-46 2h0m0 17h0m46 7h0m0-13h0m28 8h0m68-1h0m0-6h0m1 15h0m19 4h0m2-15h0m4 4h0m2 0h0m9-5h0m40 6h0m9 8h0m27-17h0m5 12h0m9-3h0m12 2h0m0 7h0m6-6h0m1-14h0m2 21h0m1-7h0m5-1h0m5 3h0m4-11h0m5 8h0m1 5h0m7-6h0m1 5h0m1 2h0m5-1h0m2 3h0m1-4h0m3-2h0m0 4h0m1-11h0m1 13h0m9-7h0m3 0h0m0 5h0m1-3h0m2 1h0m0-12h0m1 5h0m12 1h0m0-1h0m9 6h0m6-1h0m1-10h0m21 10h0m-5 12h0m-6 1h0m-3 1h0m0 5h0m-4-10h0m0 13h0m-1-8h0m0 5h0m-1 9h0m-2-14h0m-2 12h0m-10 1h0m-4-20h0m-6 16h0m-7-6h0m-1 11h0m-4-21h0m-1 21h0m-3 0h0m0-20h0m-4 9h0m-1-2h0m-1 10h0m-4-15h0m-1 10h0m-1 6h0m-6-12h0m-1 2h0m-4 8h0m-4-13h0m0-3h0m0 0h0m-1 2h0m-1 13h0m-1-5h0m-1 7h0m-1-5h0m-1-10h0m0-1h0m-1 13h0m-2 3h0m-1-14h0m-1 9h0m-1-8h0m-1 6h0m-1 2h0m-2 0h0m-1 1h0m-1 4h0m-1 3h0m-2 0h0m0 0h0m-1-10h0m-3-5h0m-1 16h0m-2 1h0m-1-20h0m-4 15h0m0-7h0m-2 9h0m0-16h0m-4 2h0m-2-5h0m-5 7h0m-17 4h0m-4 11h0m-3-2h0m-5-3h0m-1 2h0m-3-19h0m-1 21h0m-9-6h0m-5 0h0m0 0h0m-2-6h0m-23-5h0m-6-5h0m-11 10h0m-7-4h0m-13 11h0m-1 5h0m-2-2h0m-11-12h0m-1 1h0m-6 1h0m0 10h0m-5 2h0m-14-11h0m-15 8h0m-10-18h0m-7 11h0m-21-7h0m-44 10h0m-18-14h0m0 10h0m0 34h0m0 0h0m0-18h0m18 3h0m0-6h0m28 4h0m28 9h0m41 1h0m6-7h0m10-3h0m0 8h0m2-5h0m1 5h0m23-4h0m3 4h0m8 3h0m2-5h0m8 11h0m3-3h0m2-4h0m7 2h0m6-1h0m17 6h0m4-9h0m6-7h0m4-3h0m11 4h0m1 8h0m5 9h0m4-20h0m3 3h0m2 6h0m4 2h0m0-12h0m4 11h0m5-3h0m5-3h0m12-1h0m1-4h0m3 6h0m3 9h0m0-8h0m4 2h0m2-10h0m3 3h0m4 17h0m0-18h0m4-1h0m2 19h0m0-18h0m4 8h0m1 10h0m0-13h0m4 2h0m2-4h0m2 9h0m3-12h0m6 2h0m2-5h0m0 0h0m4 0h0m1 18h0m2-9h0m5 13h0m5-22h0m3 0h0m1 1h0m17 4h0m1 0h0m0 8h0m1 4h0m2-3h0m1-14h0m0 14h0m10-14h0m9 8h0m-2 28h0m0-3h0m-41-9h0m-10 15h0m-11-14h0m-14 0h0m-25 12h0m-7-7h0m-1 9h0m-2-11h0m-2-2h0m-1 0h0m-7 14h0m-23-11h0m-7 12h0m-20-13h0m-27 16h0m-30-19h0m-38 20h0m-6-14h0m-47 8h0m-12-13h0m0-2h0m-16 5h0m-28 6h0m-18-11h0m0 22h0m0 4h0m18 9h0m0-6h0m40 9h0m4-1h0m49 6h0m45-12h0m25-6h0m2 0h0m4-1h0m14 21h0m7 2h0m74-15h0m136 31h0m-115-12h0m-33 16h0m-9-8h0m-33 3h0m-47 9h0m-63-18h0m-23 17h0m-95 19h0m46 5h0m44-7h0m1-15h0m141 2h0m2 32h0m-216 15h0m44 21h0m188-20h0m-31 30h0m-219-7h0m83 42h0m178 0h0m14 0h0"/><path d="M1603 2109h0m18 97h0m-18-19h0m18 43h0m44-1h0m49 1h0m0-12h0m203 37h0m-6-3h0m-64 3h0m-53-17h0m-1 0h0m-128 6h0m-16 9h0m-46 20h0m0-5h0m18 5h0m0 6h0m0-14h0m44 12h0m0-1h0m12-20h0m0 1h0m56 15h0m4 1h0m4 1h0m2 0h0m31-11h0m0 12h0m6 0h0m7 2h0m8-11h0m9 3h0m1 1h0m5-13h0m5 20h0m1-1h0m3-1h0m4-5h0m21 3h0m8-4h0m3-5h0m9 1h0m2 8h0m0-15h0m5 1h0m5 14h0m4 6h0m8-4h0m0 1h0m9-8h0m3 10h0m3-11h0m4 7h0m9-11h0m9 12h0m2-7h0m3 6h0m7 0h0m6-7h0m11-4h0m0 13h0m5-8h0m42 20h0m-3-1h0m-1 6h0m0 7h0m-6-19h0m-10 9h0m-3 0h0m-1-4h0m-7 9h0m-6-14h0m-3 9h0m-1 6h0m0 4h0m-1-6h0m-3 6h0m-1-19h0m-2 3h0m-1 19h0m-1-13h0m-2-3h0m-1-4h0m0 4h0m-4 11h0m0-8h0m-1 0h0m-4 3h0m-1-2h0m-7-5h0m-2 13h0m-9-7h0m-4-7h0m0 14h0m-1-14h0m-6 16h0m-2 2h0m-1-12h0m-1-4h0m-1 4h0m0-3h0m-3-2h0m-10-6h0m0 18h0m-1-3h0m-1-15h0m-2 16h0m-1 1h0m-1-14h0m-7 7h0m-5 0h0m0 1h0m-1 8h0m-3-18h0m-2 21h0m-3-3h0m0 0h0m-1 3h0m-1-11h0m-5 11h0m-2-7h0m-4-11h0m-7 19h0m-5-12h0m-1 2h0m-9 1h0m-1-6h0m0 14h0m-1-15h0m-3-1h0m0 17h0m-2-22h0m0 1h0m-1 14h0m-6-12h0m0 13h0m-20-17h0m-1 6h0m-14 4h0m-1-8h0m0 10h0m-4 1h0m-1-9h0m-8 3h0m-2 10h0m-6-10h0m-3 4h0m-14 6h0m-8 5h0m-28-21h0m-19 3h0m-65 10h0m0-8h0m0 17h0m-18-14h0m0 22h0m18 1h0m0-8h0m44 21h0m0-18h0m68 2h0m3 14h0m4-1h0m5-7h0m3 3h0m3-10h0m3 5h0m2 7h0m6 6h0m4-20h0m22 14h0m0-6h0m12-2h0m1 9h0m6 1h0m13-5h0m4-1h0m9 8h0m6-12h0m2 13h0m2-17h0m4-1h0m0 6h0m13 7h0m7-7h0m12-8h0m4 6h0m1-4h0m2-1h0m7 12h0m5-11h0m4 5h0m9-2h0m2 8h0m1 0h0m3-14h0m3 1h0m1 21h0m4-9h0m1 0h0m7-8h0m9 0h0m5-3h0m0 17h0m5-6h0m4-4h0m7 6h0m1-15h0m3 3h0m3 10h0m7-11h0m14 20h0m4 1h0m2-10h0m-34 19h0m-14 10h0m-1-13h0m-1 2h0m-14 1h0m-16-8h0m-27 14h0m-1-11h0m-9 2h0m-30-3h0m-1 17h0m-7-13h0m-21 4h0m-18-1h0m-5-3h0m-1-5h0m-1 20h0m-46 2h0m-45-9h0m-12-11h0m-7-3h0m-21 11h0m-44-4h0m-18 5h0m0 1h0m18 15h0m0 12h0m0-13h0m28 8h0m16-8h0m28 6h0m34 4h0m22-1h0m10-5h0m76 10h0m8-17h0m3 20h0m112-19h0m-30 35h0m-95 1h0m-87 5h0m-81-18h0m-62 4h0m0-1h0m171 35h0m69 5h0m40-19h0m-66 25h0m-100 17h0m-52-15h0m-44 18h0m-18-12h0m193 52h0m-147 30h0m3 0h0m86 0h0m10 0h0m84 0h0"/><path d="M1649 2129h0m-28 41h0m72-9h0m-72 37h0m-18 33h0m97-1h0m21-18h0m229 41h0m-34 1h0m-2-22h0m-22 9h0m-16 14h0m-4-7h0m-9-12h0m-27 15h0m-33 4h0m-30-6h0m-7 2h0m-42 3h0m-103-10h0m0 9h0m-18 13h0m18 13h0m0-19h0m44 6h0m12 11h0m112-21h0m11 14h0m5 7h0m0-11h0m1-7h0m2 17h0m2-19h0m4 20h0m4-18h0m11 18h0m5 1h0m5-1h0m5-6h0m1 8h0m11-7h0m7-15h0m7 14h0m4-1h0m1-3h0m4-4h0m1 1h0m3 11h0m4-2h0m7-5h0m5 11h0m9-1h0m1-8h0m4 9h0m1 0h0m2-8h0m6 5h0m1-6h0m13 1h0m0-4h0m7 9h0m4-6h0m15-2h0m2 1h0m4 10h0m7-10h0m1 9h0m19 0h0m4-19h0m2 36h0m-1-13h0m-2 19h0m-5-4h0m-3 3h0m-8-7h0m-5-5h0m-8 2h0m-3-10h0m-2 19h0m0-10h0m-2 4h0m-2-3h0m-4 9h0m-1 3h0m-5-16h0m-2 1h0m0 13h0m0-14h0m-3 2h0m0 12h0m0-7h0m0-1h0m-2 6h0m-1-16h0m-1 4h0m-3 12h0m-3-4h0m-5-8h0m-3 17h0m0-9h0m-1-14h0m-2 6h0m-2 5h0m0 1h0m-2-11h0m-6 5h0m-1 15h0m0-10h0m-1-6h0m0 4h0m-3 2h0m0 7h0m-2 3h0m0-17h0m-5 9h0m-1 6h0m-1-18h0m0 0h0m0 5h0m-1-2h0m0 19h0m-1-18h0m-1 1h0m-5 13h0m0-7h0m-1 9h0m-2-9h0m-4-3h0m-2-2h0m-2 10h0m-2-16h0m0 7h0m-3 7h0m0-13h0m-1-1h0m0 22h0m-2 0h0m-1-15h0m0 5h0m-1 3h0m-4 6h0m-11-7h0m-2-1h0m0 8h0m-16-7h0m0-2h0m-1 6h0m-7-6h0m-7-4h0m-6 5h0m-18-11h0m-8 11h0m-11 7h0m-5-15h0m-4 5h0m-4 4h0m0 7h0m-1-16h0m-6 7h0m-26 2h0m-13 3h0m-13-10h0m-5 2h0m-38 7h0m-16-11h0m0-3h0m0 1h0m-28 5h0m0-9h0m-18 18h0m0 3h0m0 1h0m0-15h0m0 9h0m0 25h0m0-7h0m0-8h0m0-1h0m18 2h0m0 5h0m0-4h0m0 1h0m28 13h0m16-12h0m0-1h0m12 14h0m16-7h0m12-4h0m1-1h0m28 0h0m2 13h0m12-7h0m6 0h0m4-3h0m2-3h0m2 6h0m6 2h0m14-12h0m22 0h0m0 0h0m20 8h0m2-7h0m5 0h0m5 18h0m6-13h0m3-5h0m2 15h0m1-5h0m7-9h0m3-4h0m0 12h0m6-4h0m3-7h0m13 14h0m3-9h0m3 10h0m0-10h0m1-7h0m2 20h0m12-9h0m4 5h0m2-11h0m0-3h0m11 6h0m6 8h0m3-13h0m3-2h0m2 5h0m1-1h0m1 10h0m8-5h0m1 1h0m2-9h0m1 8h0m3 4h0m5-14h0m8 11h0m3 2h0m13-8h0m5 0h0m1 2h0m6 1h0m8 0h0m-1 17h0m-38 17h0m-17-18h0m-8 1h0m-10 11h0m-45 2h0m-20-12h0m-18 13h0m-8-13h0m-20 2h0m-15 6h0m-11-7h0m-17 19h0m-8-1h0m-3-1h0m-17 1h0m-8-17h0m-3 5h0m-1-8h0m-11 18h0m-26 4h0m-16 0h0m-12-4h0m-44 3h0m-18-1h0m0 14h0m46-2h0m131-5h0m8 0h0m5 6h0m28 10h0m5 1h0m1 2h0m15-20h0m126 19h0m-154 18h0m-102 4h0m-11-10h0m-38-7h0m-14-3h0m-46 24h0m0 23h0m0-9h0m18-13h0m28 6h0m16-3h0m0 11h0m71-8h0m102-2h0m6-2h0m89-2h0m-99 36h0m-5-4h0m-40 6h0m7 9h0m55 12h0m-111 55h0m97 0h0m16 0h0m16 0h0m14 0h0"/><path d="M1603 2162h0m97 10h0m-97 32h0m0 20h0m46-2h0m16 1h0m0 4h0m12-1h0m9-8h0m40-1h0m9 6h0m127 7h0m112 9h0m-19 12h0m-27-1h0m-55-16h0m-4 7h0m-45 14h0m-5-19h0m-3 0h0m-41 13h0m-10 4h0m-72-1h0m-44-16h0m0 19h0m-46-16h0m0-3h0m0 18h0m0 22h0m62-17h0m40 10h0m68 10h0m19-5h0m3 0h0m8-4h0m6 4h0m7 2h0m3-9h0m3-10h0m9 18h0m7 0h0m18-13h0m15 9h0m14-5h0m2 11h0m4-5h0m2-4h0m1 8h0m0-2h0m4 1h0m4 0h0m12-11h0m0-2h0m1 13h0m2-19h0m4 20h0m3-10h0m0 12h0m11-10h0m2-6h0m0 16h0m1-2h0m7-19h0m4 16h0m1-3h0m13-12h0m5 0h0m4 14h0m4-10h0m2 10h0m5-1h0m7-10h0m2 1h0m7-5h0m2 15h0m-7 15h0m-3-1h0m0 3h0m-3 3h0m-2 4h0m-2 4h0m0-14h0m-3 12h0m-1-9h0m-3-3h0m-4-3h0m-3 16h0m-5-12h0m-1 10h0m-1 0h0m-2 4h0m-3-14h0m0 3h0m-1 13h0m-7-6h0m-1 1h0m-2-2h0m-7-2h0m-3 3h0m-1 6h0m-2-1h0m-2-10h0m-1-5h0m0-4h0m-4 11h0m0 5h0m0 4h0m-6-9h0m-1-2h0m-1-12h0m0 12h0m0-2h0m-2-5h0m-7 16h0m-3-13h0m0 3h0m-1 0h0m-3-1h0m0 8h0m-4-16h0m-6 14h0m-3-15h0m-3 20h0m-3-11h0m-1-5h0m-5 15h0m-3-12h0m0 8h0m-5-15h0m0 11h0m-5-9h0m-1 13h0m-1 7h0m-2-22h0m0 3h0m-1 4h0m-1-6h0m-16 1h0m0 18h0m-1-1h0m-3-19h0m-1 0h0m0 4h0m-10 0h0m-6 4h0m-3-5h0m-8 8h0m-1-10h0m-5 11h0m-7 7h0m-4-11h0m-5 12h0m-1 0h0m-12-7h0m-10-2h0m0 3h0m-5 1h0m-2 2h0m-4 0h0m-8 1h0m-1-10h0m-17-6h0m-7 9h0m-6-9h0m-30 0h0m0-3h0m-21 11h0m0-8h0m-44-1h0m-18 12h0m0 7h0m0 2h0m0-12h0m0 19h0m0-5h0m18 21h0m28-4h0m28-9h0m0 6h0m0-10h0m23-4h0m4 17h0m1-7h0m41-1h0m36 9h0m1-1h0m0-11h0m4-3h0m5 8h0m5 1h0m0 8h0m0-4h0m3-14h0m4 11h0m2-14h0m8 23h0m6-20h0m7 14h0m2 4h0m4-6h0m3-4h0m4-8h0m21 2h0m1 10h0m10 3h0m2-14h0m1 14h0m7-9h0m14 2h0m4 3h0m0 2h0m1-11h0m9 6h0m1-9h0m0 12h0m1-4h0m1-7h0m3 6h0m7 6h0m1-9h0m0-1h0m2 11h0m1-14h0m8 14h0m2-4h0m6-8h0m1-2h0m2 9h0m1-5h0m4 8h0m4-10h0m1 0h0m2 7h0m6-3h0m2 4h0m4-2h0m3-2h0m5-5h0m5 17h0m3-17h0m6 6h0m7 12h0m0-12h0m22 34h0m-26-14h0m-36 6h0m-8-9h0m-4-1h0m-21 7h0m-9-2h0m-12 6h0m-3-5h0m-5 5h0m-2-9h0m-8 4h0m-30 5h0m-12 11h0m-16-19h0m-4-4h0m-2 4h0m-4-1h0m-40 13h0m-19-2h0m-6-1h0m-1-6h0m-1-5h0m-10 3h0m-18 9h0m-11-11h0m-23-3h0m-13 5h0m-74 8h0m0-4h0m0-5h0m0 28h0m0 10h0m0 5h0m0-14h0m62 3h0m12 1h0m23-5h0m10 4h0m41 4h0m30-8h0m12 9h0m19-9h0m13 12h0m48-19h0m14 16h0m26 22h0m-68-10h0m-71 8h0m-88-8h0m-65 16h0m-18-5h0m0 29h0m0-4h0m46-11h0m37-6h0m14 0h0m5 20h0m89-3h0m32-3h0m54 1h0m-94 26h0m-165-10h0m-18 33h0m18-10h0m68 61h0m17 0h0m79 0h0m39 0h0m44 0h0"/><path d="M1603 2157h0m18 28h0m-18 42h0m0-2h0m255-1h0m52 24h0m-20 5h0m-34-8h0m-26 0h0m-68 0h0m-20 10h0m-77-12h0m-16 8h0m0 2h0m-28-19h0m0 4h0m-18 2h0m18 26h0m28-3h0m37 3h0m53 11h0m4-6h0m5-1h0m15 7h0m0-21h0m8 1h0m7 17h0m1-16h0m31 4h0m41-2h0m14 13h0m10-4h0m1 6h0m0-12h0m8 12h0m2-11h0m6 15h0m4-12h0m0 8h0m3 3h0m2 1h0m1-3h0m3-4h0m12-12h0m6 5h0m1 10h0m1-8h0m1 9h0m1-3h0m2 4h0m1-2h0m12 1h0m12 2h0m28 0h0m10-9h0m36 13h0m-31 6h0m-1 11h0m-4-14h0m-4 4h0m-5-1h0m-4 7h0m-1 2h0m0 1h0m-1-8h0m-2-8h0m-6 6h0m-4 15h0m-7-16h0m-1-2h0m-1 16h0m-1-2h0m-4-12h0m-2 16h0m-2-3h0m-1-1h0m-1-14h0m-1 17h0m0 1h0m-2-9h0m0-9h0m-1 18h0m0-6h0m0-12h0m-1-1h0m-1 13h0m-4-9h0m0 13h0m-1-12h0m-1 14h0m0-15h0m-4 8h0m-4-6h0m0 6h0m-2 0h0m-1 4h0m-1 2h0m-4-15h0m-2-7h0m-3 18h0m-2 4h0m0-8h0m-1 6h0m-2-4h0m0-15h0m-3 8h0m0 9h0m-3-2h0m-5 7h0m-9-8h0m0-4h0m0-6h0m-1 15h0m-1 1h0m-1 1h0m-1-13h0m-1 1h0m-4-1h0m-1 8h0m-3-14h0m-3 4h0m-2 11h0m0-10h0m-2 13h0m-4 2h0m-1-15h0m-1 1h0m-2-4h0m-2 9h0m-8-10h0m-5 14h0m-7-11h0m-1 3h0m-8 2h0m-9 6h0m-2-16h0m-2 17h0m-12-2h0m-6-16h0m-1 15h0m-2-5h0m-5 10h0m-1-4h0m-1-2h0m0 8h0m-8-5h0m-2-13h0m-5 11h0m-7-8h0m-4-8h0m-5 6h0m-1 3h0m-7 2h0m0-7h0m-45 17h0m-10-20h0m0 11h0m0 11h0m-28-6h0m-16 5h0m0-5h0m0-10h0m-46 4h0m0 11h0m0 24h0m46-9h0m0-3h0m0 11h0m28 1h0m0-21h0m23 8h0m37-9h0m3 9h0m6 5h0m14-5h0m1 8h0m9-6h0m7 9h0m3-3h0m5-15h0m1 9h0m6-1h0m3 11h0m6-14h0m5 6h0m4 7h0m5-8h0m4 10h0m2-14h0m1 3h0m3-11h0m7 21h0m4-9h0m1 11h0m2-9h0m1-5h0m3 2h0m0 7h0m7-13h0m1 8h0m15 4h0m0-10h0m4-4h0m1 13h0m4-6h0m2-7h0m2 13h0m5-7h0m8-6h0m2 15h0m5 3h0m1-11h0m3-1h0m2-3h0m1 1h0m2 4h0m5-2h0m5 1h0m5-7h0m2 1h0m5-2h0m7 10h0m5-1h0m5 11h0m1-16h0m4 3h0m12-4h0m2-5h0m5 0h0m3 3h0m1 3h0m4 15h0m16-3h0m2-1h0m2-10h0m-15 19h0m-15 5h0m-69-2h0m-5-4h0m-8 3h0m-37-3h0m-7 12h0m0 2h0m-13 0h0m-8-5h0m-24-9h0m-4 6h0m-8 7h0m-3-1h0m-17 9h0m-9-12h0m-12-9h0m-2 6h0m-13 5h0m-22 1h0m-22-7h0m-37-3h0m0 5h0m-28-1h0m0-6h0m0 17h0m-6-13h0m6 28h0m0 12h0m44-4h0m81 4h0m5-14h0m80 3h0m7 2h0m15 0h0m26-8h0m1 15h0m1 4h0m11-4h0m11-10h0m6-1h0m23 13h0m1-12h0m57-7h0m-61 30h0m-38-4h0m-67 14h0m-131-18h0m-44 14h0m0-13h0m0 16h0m-46 1h0m0-10h0m46 18h0m75 15h0m61-11h0m12 1h0m38-5h0m17 6h0m-159 17h0m-28 17h0m-62 1h0m62 16h0"/><path d="M1603 2154h0m90 36h0m-16 11h0m-74 8h0m18 4h0m28 16h0m312 18h0m-6 8h0m-100-2h0m-58-17h0m-1 19h0m-10-15h0m-137 8h0m-28-9h0m-18 3h0m0 1h0m0 8h0m0 2h0m0 9h0m18 14h0m0-2h0m0 4h0m22-11h0m52 1h0m48-1h0m9-4h0m10 7h0m11 7h0m19-5h0m13 0h0m11-11h0m21 18h0m5 0h0m6-2h0m4-7h0m9 7h0m0-9h0m7-8h0m15 0h0m2 13h0m33 0h0m5-5h0m12-7h0m5 6h0m3-9h0m6 21h0m8-3h0m2 3h0m3-1h0m2-19h0m0 16h0m9 0h0m10-6h0m5 8h0m7-3h0m5 18h0m-1 7h0m-4-18h0m-5 21h0m0-12h0m-3 2h0m-5-6h0m-1 11h0m-2 5h0m-2 1h0m0-9h0m0 0h0m0 0h0m-1 4h0m-3-1h0m-2 2h0m-6-3h0m-1-10h0m-1 7h0m-3-13h0m-3 1h0m-1 20h0m-3 1h0m-1-7h0m-4-10h0m-1 2h0m-11-6h0m-1 15h0m-3 3h0m-1-7h0m-1 10h0m-2-13h0m-1 2h0m-2 10h0m0-6h0m-1-1h0m-1 0h0m-3-8h0m-1-2h0m0 8h0m-1-9h0m-7 16h0m-1-5h0m0 9h0m-2 0h0m0-18h0m-1 6h0m-3 9h0m-2-15h0m-2-1h0m0 12h0m-2 7h0m0-3h0m-1-2h0m-2-8h0m-1 5h0m0 1h0m-1-6h0m-9 1h0m-1 7h0m0-17h0m-3 3h0m0 16h0m0-14h0m-2 2h0m-3-1h0m0 10h0m-2-12h0m0 2h0m-1 11h0m-1-12h0m-1 16h0m0-17h0m-1 13h0m-1-15h0m-4 12h0m-5-12h0m-6 15h0m-2-16h0m-2 19h0m-7-8h0m-6-11h0m-5 20h0m-17-15h0m0 6h0m0-7h0m-2-2h0m-6 8h0m-9 11h0m-2-3h0m-1 1h0m-10-7h0m-3-3h0m0 11h0m-2-2h0m-1-20h0m-4 4h0m-1-4h0m-1 6h0m-2 13h0m-15-19h0m-1 12h0m-2 6h0m-42-1h0m-33 0h0m-56-7h0m-18 2h0m0-1h0m0 13h0m18 19h0m0 2h0m0-2h0m129-7h0m7-9h0m19 0h0m6-3h0m12 23h0m17-16h0m12 1h0m9 15h0m1-1h0m7-21h0m9-1h0m1 9h0m0-9h0m2 23h0m6-16h0m7 12h0m0-11h0m0-3h0m2 0h0m7 1h0m6 10h0m1-3h0m4-12h0m1 7h0m0 11h0m8-6h0m3-13h0m7 4h0m7 10h0m2-13h0m3 15h0m2-15h0m6 6h0m2-3h0m2-4h0m3 2h0m2 9h0m10 9h0m0-3h0m9-4h0m1-11h0m9 13h0m4-8h0m1-1h0m1 14h0m2-19h0m5 20h0m7-12h0m1-7h0m7 12h0m4-14h0m1 3h0m-48 41h0m-1-19h0m-10 6h0m-17-6h0m-6 4h0m-8 18h0m-4-20h0m-31 2h0m-8 9h0m-5-10h0m-2-1h0m-3 11h0m-10-11h0m-4 7h0m-22 0h0m-28-10h0m-52 21h0m-15-8h0m-21 8h0m-35-15h0m-23 12h0m-39-2h0m0 16h0m0 2h0m62-9h0m77 7h0m31-6h0m15 12h0m35-4h0m28 13h0m29-6h0m5 0h0m5-7h0m3 3h0m45 7h0m18-15h0m9 1h0m-96 25h0m-62-7h0m-1 13h0m-108-10h0m-21 18h0m-12 0h0m-62 20h0m18-2h0m28 3h0m16 4h0m0-3h0m87 9h0m-66 28h0m32 31h0m-91 28h0m159 0h0m4 0h0m29 0h0m7 0h0"/><path d="M1665 2142h0m-62 2h0m0 17h0m0 16h0m46-4h0m16 0h0m62 33h0m-124 15h0m0 0h0m0-3h0m0 3h0m0-13h0m83 14h0m52 9h0m193-1h0m-129 24h0m-16-7h0m-17 5h0m-31-3h0m-139 24h0m22-15h0m0 21h0m28-20h0m16 4h0m35-2h0m48 6h0m2 7h0m14-10h0m15 13h0m3-8h0m4-8h0m8 6h0m18 8h0m5-7h0m14 11h0m0-4h0m19-16h0m10 15h0m9-17h0m3 3h0m8 6h0m0-9h0m2 1h0m2 10h0m4-2h0m1 11h0m5-6h0m8 8h0m3-2h0m4-11h0m1-6h0m4 9h0m2-4h0m2 11h0m7-12h0m0 7h0m5-10h0m1 9h0m2 6h0m8 1h0m0-21h0m0 14h0m2 9h0m7-17h0m22 10h0m7-5h0m11 8h0m7 20h0m-7-7h0m-3 5h0m-7 2h0m-4-6h0m-1 9h0m-6 5h0m-2-4h0m-3-12h0m-1-5h0m-3 14h0m-5-5h0m0 5h0m-3 1h0m0-6h0m-1-6h0m-1 8h0m-1 2h0m-6-7h0m0 0h0m0 13h0m-2 1h0m-4-15h0m-2 3h0m0 4h0m-4-1h0m-2-5h0m-3 0h0m-3 0h0m-5-6h0m-1 5h0m-2 6h0m-1 5h0m-3-1h0m-4-12h0m-2 10h0m-7-12h0m-2 19h0m-6-9h0m-1-9h0m-1 18h0m0-14h0m0 13h0m-1-9h0m-1-4h0m-1 7h0m-1 6h0m0-12h0m-6 0h0m-3 6h0m-2-12h0m-1 3h0m0-3h0m0 5h0m-2 15h0m0-21h0m-2-1h0m-6 21h0m0-8h0m-13-4h0m-3-6h0m-1 11h0m-2 2h0m-13-7h0m-1-10h0m-3 10h0m-12 1h0m-10 9h0m-5-14h0m-3 4h0m0-4h0m-2-4h0m-2 15h0m-6 2h0m0 0h0m-5 2h0m-3-8h0m-2 9h0m-35-21h0m-64 22h0m-12-4h0m-16-4h0m0-6h0m0 11h0m-28-5h0m0-10h0m-18 24h0m0 3h0m18 0h0m0-8h0m28 14h0m0-9h0m16 13h0m0 5h0m12-5h0m0 4h0m9 1h0m16-21h0m9 5h0m19 4h0m26-8h0m1 2h0m3-1h0m10 14h0m2-7h0m9-8h0m3 18h0m9-6h0m3-2h0m12 3h0m6 7h0m1-22h0m5 3h0m4 1h0m1 1h0m8-2h0m2 5h0m7 4h0m13-10h0m3 17h0m0-1h0m5 0h0m6-16h0m4 4h0m5-5h0m3 2h0m2-1h0m1 12h0m7-8h0m5 5h0m10-9h0m1 16h0m1-1h0m3-6h0m1-1h0m3 5h0m5-7h0m7-4h0m1 14h0m1 1h0m0-12h0m5-1h0m5 4h0m5 5h0m2-6h0m0-8h0m1-2h0m9 11h0m5-4h0m1-3h0m2 10h0m6-12h0m20 18h0m1-17h0m19 1h0m-92 22h0m-13 20h0m-8-12h0m-6 13h0m-10-16h0m-1 8h0m-9-11h0m-14 5h0m-15-5h0m-3 9h0m-33 0h0m-6-1h0m-23 10h0m-6-12h0m-18-1h0m-25 5h0m-35 3h0m-7-9h0m-21 9h0m0-2h0m-44-7h0m-18 2h0m0 34h0m0-12h0m18 14h0m44-1h0m35-21h0m5 4h0m11-1h0m41-3h0m36 18h0m1-7h0m34-8h0m14 16h0m51 3h0m-74 17h0m-1 7h0m-1-6h0m-23 0h0m-1-14h0m-18-1h0m-45 5h0m-49 2h0m-78 12h0m0 5h0m18 8h0m65-9h0m51 2h0m66 14h0m72-10h0m-35 19h0m-49 5h0m-114 0h0m-74 2h0m223 24h0m-149 23h0m10 36h0m3 0h0m12 0h0m15 0h0m68 0h0m11 0h0m25 0h0"/><path d="M1603 2141h0m46 64h0m-28-12h0m-18 10h0m18 24h0m0-7h0m28 11h0m0-7h0m44 4h0m5 2h0m2-1h0m5 2h0m5-19h0m144 5h0m85 28h0m-45 2h0m-28 5h0m-5-7h0m-48 9h0m-8-1h0m-87-10h0m-32-11h0m-21 1h0m-62 21h0m0 13h0m0 1h0m18 1h0m0-8h0m28 6h0m85 1h0m31-1h0m6 10h0m0-9h0m7 9h0m4 1h0m5-7h0m4-8h0m9-4h0m1 18h0m6-15h0m10 3h0m2-7h0m1 21h0m16-23h0m4 23h0m18-12h0m1-2h0m5 4h0m15 6h0m1-4h0m0-2h0m2 2h0m1-2h0m1 8h0m8 2h0m4-3h0m0-14h0m3 17h0m3-15h0m5 7h0m4 0h0m4-10h0m2 5h0m5 9h0m6 4h0m3-19h0m0 14h0m3-1h0m4 2h0m0-6h0m2-6h0m3 16h0m0-8h0m3 1h0m5 7h0m6-2h0m16-1h0m8-5h0m3-12h0m1 19h0m6-7h0m10 8h0m-2 10h0m0 1h0m-7-3h0m-3-4h0m0 14h0m-1-5h0m0 5h0m-1-4h0m0-5h0m-5-5h0m0 7h0m-2-2h0m-10 6h0m0 2h0m-5-16h0m-1 21h0m0-4h0m-5 2h0m-3-12h0m0-7h0m-1 17h0m-6-11h0m-3-3h0m-5 6h0m-1-7h0m0 17h0m-1-12h0m0 0h0m-4-5h0m-3 20h0m-4-15h0m0 6h0m-1 7h0m-1-4h0m0-12h0m-1 0h0m-2 10h0m-1-4h0m-1-4h0m-1 0h0m0-5h0m-1 15h0m-2 7h0m-3-3h0m-1 0h0m-1-5h0m-3-5h0m-1 1h0m-3 10h0m-1-11h0m0-4h0m-4 11h0m0-8h0m-1-1h0m-1 2h0m-1 4h0m-2-7h0m-1 12h0m0-3h0m-1-10h0m-2-1h0m-3 16h0m0-15h0m-6 14h0m-2-3h0m-1-10h0m-3 0h0m-2 6h0m-1 6h0m-2-16h0m-5 9h0m-1-4h0m-2 6h0m-6-11h0m-1 18h0m-3-6h0m-5-3h0m-1-10h0m-8 14h0m-5-3h0m-7 10h0m-8-17h0m-3 6h0m-7-2h0m-6 3h0m-3 9h0m-5-5h0m-6 3h0m-11-13h0m-6 3h0m-5 11h0m-1 1h0m0-4h0m-4 0h0m-11-2h0m-3-2h0m-1-3h0m-18-1h0m-26 6h0m-38-9h0m-44 4h0m-18 4h0m0-9h0m0 30h0m0-10h0m18 19h0m28-11h0m88 5h0m0-3h0m3-11h0m6 4h0m20 2h0m1-5h0m3 5h0m21 10h0m7-2h0m5-8h0m5 6h0m6-10h0m7 7h0m4 1h0m8-4h0m3 0h0m4 11h0m2-10h0m4-6h0m1 10h0m1 3h0m0-9h0m6 4h0m8-2h0m1-6h0m1 8h0m4-10h0m9 9h0m4 13h0m1-16h0m14 6h0m0-6h0m4-3h0m5 0h0m1 11h0m2 2h0m5-7h0m3-6h0m1 2h0m5 14h0m1-18h0m0 12h0m2-12h0m0 0h0m6 17h0m8-13h0m1 0h0m2 6h0m1-7h0m5 8h0m2-5h0m5-4h0m6 5h0m6 12h0m8-11h0m9-5h0m16 11h0m-46 12h0m-9 16h0m-2-10h0m-5-7h0m-5 4h0m-39-6h0m-9 5h0m-4-5h0m-1 15h0m-6-11h0m-12 15h0m-12-10h0m-2-4h0m-1-1h0m-62 5h0m-3 8h0m-19-3h0m-6 4h0m-39-3h0m-25-9h0m-44 8h0m-28-2h0m0-12h0m0 19h0m-18-19h0m0 11h0m0 22h0m62 12h0m94-16h0m30-1h0m135 16h0m8-11h0m46 32h0m-28-3h0m-30-7h0m-21-3h0m-44 14h0m-16-6h0m-16 3h0m-25-8h0m-19 9h0m-8 2h0m-28-8h0m-43 8h0m-51-6h0m-28 0h0m-18 14h0m46 20h0m28-18h0m9 7h0m96 11h0m-117 22h0m-33 71h0m6 0h0m19 0h0m42 0h0m4 0h0m23 0h0m76 0h0m40 0h0m32 0h0"/><path d="M1603 2178h0m159 18h0m-113 6h0m-46 11h0m46-2h0m56 10h0m84-8h0m109 11h0m97 12h0m-39 8h0m-33 9h0m-18 0h0m-15 2h0m-41-11h0m-20-1h0m-15 12h0m-26-1h0m-139-12h0m-46 6h0m0 4h0m0 10h0m18-6h0m44 3h0m81 8h0m18 5h0m17-7h0m31 4h0m7 4h0m29 2h0m5 2h0m2-16h0m3 8h0m3 5h0m5-10h0m10 11h0m3 3h0m6 0h0m4-16h0m13 7h0m0 7h0m5-2h0m0-9h0m2 7h0m5-2h0m1 6h0m4-4h0m0 7h0m0-5h0m2-3h0m1 8h0m3-5h0m5-15h0m4 19h0m9-9h0m1-8h0m2 15h0m7-17h0m9 20h0m3 0h0m4-2h0m22 3h0m-3 21h0m-4-21h0m-2 19h0m-3 4h0m-7 0h0m-2 0h0m-2-5h0m-8-1h0m-1 0h0m-3-5h0m-3 6h0m-4-8h0m-1 2h0m-6 8h0m-2-2h0m-2 0h0m0-16h0m-1 13h0m-1-1h0m-2-4h0m-1 13h0m-3-12h0m-1-1h0m-1-10h0m-2 3h0m-2 2h0m-1 14h0m0-10h0m-1-9h0m-1 10h0m-1 10h0m-1 0h0m-1-2h0m-1-11h0m0-3h0m0 9h0m0-12h0m-2 17h0m-2-4h0m-1-12h0m-3 11h0m-2 1h0m0 4h0m-2-11h0m-2-2h0m-1-5h0m-2 11h0m-3-11h0m-1 22h0m0-4h0m-5-6h0m-1 8h0m-1-9h0m-3 5h0m-1-13h0m-1 15h0m-1-3h0m0 0h0m-1-9h0m-2-2h0m-1 9h0m-3 5h0m-2-15h0m-3 7h0m-1 11h0m-3-6h0m-8-10h0m-2 9h0m-3 5h0m-1-17h0m-3 8h0m-7-6h0m0 1h0m-1 5h0m-5 4h0m-3-11h0m-7 14h0m-7-4h0m-5 6h0m-1-6h0m0-6h0m-8 14h0m-13-4h0m-5-12h0m-6 5h0m-2-4h0m-2 7h0m-14 4h0m-6 5h0m-3-1h0m-8 1h0m-4-17h0m-50 11h0m-28 0h0m-16 2h0m0 0h0m-26-3h0m-2 3h0m0 0h0m-18 28h0m0-6h0m18-15h0m0 2h0m55 19h0m10-11h0m7-10h0m0 1h0m12 20h0m47-5h0m2-17h0m2 9h0m1 14h0m3-17h0m6 0h0m3 9h0m10 2h0m2-13h0m6 10h0m1-2h0m1 7h0m6-19h0m10 23h0m8-8h0m0-8h0m1 0h0m1-6h0m1 21h0m0-18h0m4-1h0m2-2h0m7 20h0m5-15h0m3 13h0m3-6h0m2 1h0m6-9h0m3-5h0m1 5h0m9 12h0m3-6h0m13 11h0m4-13h0m3 5h0m0-1h0m0-5h0m1 4h0m2-4h0m3 1h0m5 13h0m4-17h0m10 0h0m1 0h0m1-3h0m1 1h0m1 5h0m2 1h0m3 0h0m1 14h0m2-22h0m4 11h0m0 2h0m0 0h0m3-5h0m8 14h0m3-2h0m2-9h0m3 11h0m3-21h0m1 18h0m3-7h0m1-6h0m7 2h0m3-5h0m16 8h0m15-11h0m0 0h0m2 13h0m-34 32h0m-12-14h0m-8-1h0m-12-4h0m0 13h0m-20-16h0m-5 6h0m-3 16h0m-8-19h0m-24 10h0m-1-8h0m-9 14h0m-7 3h0m-4-6h0m-10 2h0m-19-3h0m-12 1h0m-27-16h0m-13 3h0m-18 17h0m-6-5h0m-78 4h0m0-16h0m-16 8h0m0 3h0m-28-5h0m-18 30h0m18 3h0m20-2h0m24 2h0m0-17h0m40 0h0m17 8h0m34 7h0m33-7h0m61 10h0m17-9h0m1-8h0m31 18h0m-25 13h0m-67 5h0m-10 6h0m-10-10h0m-57 10h0m-65 1h0m-44-14h0m0-1h0m-18 4h0m173 15h0m192 29h0m-56 3h0m-216-9h0m-31 11h0m-16-11h0m-28 34h0m28 7h0m159 21h0m-113 29h0m37 0h0m71-17h0m11 17h0m44 0h0"/><path d="M1621 2148h0m0 78h0m0 0h0m56-10h0m0-3h0m9 14h0m7-10h0m286 28h0m-57 3h0m0-4h0m-23 11h0m-30-18h0m-42-4h0m-1 13h0m-19 0h0m-130 6h0m-56-20h0m-18 20h0m18 26h0m0 1h0m44-9h0m87-7h0m1 6h0m5 9h0m7-3h0m23-1h0m11 3h0m4-16h0m10 12h0m19-14h0m5 4h0m3 15h0m17-7h0m4 1h0m3-14h0m2 15h0m3-3h0m25 0h0m2 4h0m3-7h0m11 4h0m0 3h0m2 1h0m2-8h0m10-7h0m7 16h0m3-8h0m1 9h0m7-12h0m1-8h0m19 19h0m10-3h0m3 4h0m16 2h0m19 22h0m-14-15h0m-1 1h0m-4 15h0m-4-18h0m-10 4h0m-4 0h0m-1 2h0m-4-1h0m-3 2h0m-2-9h0m0 1h0m-4 9h0m-3-8h0m-4 4h0m-2 4h0m0-7h0m-2 12h0m-2 0h0m0-12h0m-5 4h0m-3 3h0m-1 2h0m-2-6h0m-1-6h0m-3 2h0m-3 18h0m-3-3h0m0-19h0m-3 11h0m0-1h0m0-8h0m-2 7h0m-2-8h0m-1 8h0m0 8h0m0-10h0m-2-6h0m-1 11h0m-3 5h0m-1-10h0m-3 1h0m-3 14h0m0-21h0m-5 11h0m-12 4h0m-2-3h0m-5-9h0m-1 5h0m-3-5h0m0-1h0m-3 11h0m0-12h0m-3 3h0m-3 0h0m0 10h0m-1 0h0m-1 3h0m-6-4h0m-3-8h0m-1 5h0m-3 5h0m-3 5h0m-7-17h0m-16 2h0m-3 2h0m-7 4h0m0-1h0m-1-4h0m-1 9h0m-4-5h0m-1 1h0m-2 3h0m-4-6h0m-1 0h0m-3-2h0m-1 13h0m-5-17h0m-1 10h0m-9-5h0m-10-8h0m-1 15h0m-5-12h0m-12 18h0m-6-8h0m-2 1h0m-61-9h0m0-2h0m-21-2h0m-16 14h0m-28 0h0m0-14h0m-18 20h0m0-10h0m0 21h0m0 3h0m0-1h0m46-1h0m0-2h0m16 0h0m69 13h0m1-12h0m5 6h0m8 1h0m16 7h0m6-15h0m1-2h0m1-1h0m9 13h0m5-16h0m2 1h0m7 3h0m5 4h0m1 5h0m1 4h0m3-12h0m2-5h0m8 2h0m26 5h0m4-7h0m3 2h0m7 2h0m2-3h0m2-2h0m3 13h0m25 1h0m4 2h0m8-4h0m5-5h0m1 11h0m2-17h0m3 6h0m1 11h0m2-16h0m3 17h0m2-9h0m5 12h0m3-4h0m4-7h0m1-1h0m8 4h0m1-13h0m7 2h0m2 5h0m3-3h0m3 13h0m4-9h0m2 5h0m0 0h0m6 8h0m2-4h0m15-9h0m3-1h0m5-8h0m7 9h0m7-1h0m-26 26h0m-7-6h0m-34 9h0m-5-12h0m-7 10h0m-83-11h0m-2 21h0m-7-6h0m-2-15h0m-29 2h0m-11 4h0m-7-3h0m-5 15h0m-6-8h0m-43 1h0m-12 5h0m-5-3h0m-66-6h0m0-3h0m-28 11h0m0 3h0m0-3h0m-18 7h0m0 15h0m18 1h0m0-8h0m44 9h0m89-11h0m45 6h0m7 14h0m-27 9h0m-58 9h0m-72-12h0m0-3h0m74 33h0m48-6h0m11 3h0m71 5h0m8-6h0m36 23h0m-140-6h0m-57-1h0m-79 3h0m-18 30h0m163-8h0m-100 66h0m27 0h0m80 0h0m9 0h0m97 0h0"/><path d="M1621 2138h0m-18 37h0m124-2h0m-41 26h0m-83 28h0m81 0h0m16-3h0m14-8h0m252 38h0m-6-15h0m-9 1h0m-71 13h0m-32 1h0m-7 1h0m-53-13h0m-1 9h0m-110-13h0m-12-6h0m-16 12h0m-28 0h0m-18-10h0m0 17h0m18 22h0m0-5h0m0 11h0m0-8h0m28 1h0m16-15h0m12 15h0m9-2h0m0-7h0m19 4h0m46-3h0m3 14h0m11-8h0m7-8h0m0-1h0m9 5h0m23 10h0m0-18h0m14 4h0m8 16h0m4-2h0m19-13h0m5 2h0m2 5h0m0 3h0m1 1h0m14-11h0m9 16h0m4-19h0m4 8h0m5 7h0m8-12h0m0 0h0m3 13h0m0-15h0m3 10h0m1-2h0m11 7h0m0-4h0m2 3h0m6 2h0m11-4h0m4 5h0m1-3h0m4 0h0m3-3h0m8 4h0m12-3h0m8 0h0m8-10h0m3 9h0m34 8h0m-24 17h0m-3-1h0m-1-4h0m-4-7h0m-4 15h0m-3-12h0m-2-5h0m-2 13h0m-1 7h0m0-8h0m-3 0h0m-3 6h0m-1-8h0m-19-7h0m-5 3h0m-3 3h0m0 9h0m-1-6h0m-6-9h0m0 0h0m-3 1h0m-3 4h0m-6 8h0m-4 2h0m-3-20h0m-2-1h0m-13 0h0m-4 14h0m-3-10h0m-10 1h0m-1 7h0m-1 11h0m-8-4h0m-5-11h0m-1 13h0m-2-5h0m0-14h0m-1 2h0m-2 12h0m-4-2h0m0-3h0m-1 3h0m-6-14h0m0 21h0m-4-3h0m-4 4h0m-5-17h0m-8-1h0m-16 1h0m-4 0h0m-22 9h0m0-7h0m-3 0h0m-2 3h0m-8-5h0m-2 0h0m-3-5h0m0 12h0m-3-10h0m-3 8h0m-8-8h0m-6 16h0m-1 0h0m-8-7h0m-5-8h0m-1 5h0m-39-6h0m-51 1h0m-28 2h0m0 15h0m-18-17h0m0 20h0m0 9h0m0 0h0m62 5h0m45-10h0m1 3h0m8-6h0m18 7h0m6 1h0m3-7h0m5 8h0m5 3h0m9 0h0m14-4h0m7 8h0m9-5h0m3 3h0m3-8h0m11 13h0m4 1h0m3 0h0m1-1h0m9-16h0m7 3h0m3 14h0m5-9h0m10-3h0m1 1h0m4 7h0m0 0h0m9-16h0m0 17h0m3 1h0m5-2h0m0 4h0m1-11h0m1 5h0m5-5h0m3-5h0m2 10h0m1-2h0m3-9h0m2 9h0m4 0h0m5-12h0m1 22h0m7-14h0m3 0h0m3 8h0m3-13h0m1 4h0m1 1h0m1 5h0m3-1h0m8-8h0m3 3h0m1-4h0m3 6h0m0 0h0m0-2h0m4 8h0m0-11h0m1 5h0m0-8h0m8 0h0m2 6h0m3 15h0m2-9h0m1-5h0m6-4h0m1-4h0m6 12h0m0-8h0m7 8h0m4-10h0m1 9h0m5 4h0m2-8h0m32 10h0m-71 17h0m-24-5h0m-8 15h0m-27-6h0m-1-14h0m-2 5h0m-4 14h0m-20-12h0m-19 12h0m-4-19h0m-17 12h0m-7 6h0m-7-13h0m-1 10h0m-4-13h0m-2 2h0m-16 8h0m-6 10h0m-1-12h0m-2 5h0m-8 8h0m-4-16h0m-10 10h0m0-1h0m-47-12h0m-9 3h0m-10-2h0m-46-5h0m-28 18h0m0-3h0m-18 3h0m0-9h0m0 29h0m0-13h0m62 12h0m143-12h0m1 21h0m67-2h0m6-20h0m78 7h0m-165 37h0m-6-16h0m-22-2h0m-102 10h0m-62 35h0m62-23h0m123 1h0m10 6h0m98 5h0m-33 16h0m-95 5h0m-1-9h0m-146 28h0m-18 62h0m13 1h0m55 0h0m116 0h0m66 0h0m13 0h0"/><path d="M1603 2064h0m102 99h0m-40 22h0m-44 19h0m-18 23h0m171-10h0m159 13h0m-55 18h0m-9 2h0m-16-15h0m-68 18h0m-75 1h0m-107-1h0m0-8h0m0 21h0m0 3h0m0-1h0m0 1h0m18 5h0m28-17h0m0 4h0m16 12h0m12 3h0m23 2h0m40-2h0m3-16h0m2 15h0m13-5h0m2-1h0m6 2h0m12-11h0m11 14h0m11 3h0m3-7h0m1 8h0m41-12h0m3 8h0m1-1h0m9 1h0m1-1h0m6-6h0m2 10h0m5-12h0m23 14h0m9-5h0m3 5h0m2-19h0m0 10h0m3 3h0m2-9h0m3 13h0m2 2h0m5-22h0m7 13h0m7 0h0m7-3h0m0 7h0m2 0h0m10-2h0m1 3h0m8-3h0m6 5h0m6 2h0m3-2h0m16 23h0m-4-7h0m-6-3h0m-2 0h0m-3 0h0m-2 10h0m-1-18h0m-5 2h0m-9 2h0m-2 14h0m-8-13h0m-2 10h0m-1 4h0m-2-11h0m-5 0h0m0 10h0m-1-3h0m-1-4h0m-4-9h0m-6 13h0m-8-8h0m-1 4h0m-1 1h0m-4 3h0m0-12h0m-1 13h0m-1-9h0m-1 9h0m-1 3h0m-1 1h0m0-3h0m-2 2h0m-5 1h0m-5-11h0m-2-10h0m0 16h0m-2-1h0m-3-11h0m-2 0h0m-1-2h0m-1-2h0m-5 10h0m-2-7h0m-2 18h0m-2-20h0m-1 11h0m-1 4h0m-3-6h0m-6-10h0m-9 21h0m-5-21h0m-1 5h0m-9 13h0m-1 4h0m-1-9h0m-5 0h0m0-7h0m-1 11h0m-1-1h0m-2 1h0m0-2h0m-3-10h0m0 11h0m0-14h0m-1 12h0m-1-6h0m-22-9h0m-2 17h0m-1-13h0m-4 8h0m-6-10h0m0 1h0m-1 8h0m-2 5h0m-5-4h0m-12-1h0m-11-11h0m-2 12h0m-1 9h0m0-4h0m-5 3h0m-4-19h0m-85 8h0m-17-2h0m0 21h0m28 15h0m9-5h0m29-12h0m5 21h0m27-20h0m25 14h0m1-8h0m1-5h0m9 18h0m5-17h0m2 10h0m1-12h0m0 8h0m11-1h0m2 2h0m9-12h0m10 1h0m16 13h0m8-8h0m6 13h0m9-4h0m3-14h0m15 13h0m1-5h0m7 3h0m7-3h0m2 10h0m13-15h0m5 19h0m3-3h0m1-19h0m3 3h0m5 2h0m2 16h0m1-15h0m0 14h0m4-5h0m4-2h0m2-10h0m4 10h0m1 0h0m2 0h0m6-2h0m4-9h0m1 8h0m1 7h0m2 2h0m1-8h0m8-8h0m10-2h0m4 20h0m2-22h0m2 22h0m13-21h0m3 5h0m-31 36h0m-26-7h0m-3-9h0m-11 4h0m-13 6h0m0 6h0m-21-14h0m-25 2h0m-16-1h0m-8 8h0m-8-9h0m-1 1h0m-18 6h0m-14 6h0m-5-17h0m-15 5h0m-25 12h0m-78-8h0m-8 11h0m-1-16h0m-28 7h0m0-2h0m-28 8h0m0-16h0m0 19h0m-18-16h0m0 15h0m0 9h0m18 9h0m0-12h0m28 6h0m16 15h0m0-12h0m12-8h0m9 3h0m5 16h0m9-9h0m41 11h0m7-23h0m30 8h0m5 12h0m38-15h0m3 16h0m8-7h0m51 13h0m-3 17h0m-57-12h0m-6-3h0m-5 4h0m-10 2h0m-137-9h0m-44 13h0m0-9h0m-18 30h0m62-6h0m0-6h0m51 17h0m3-16h0m2 15h0m18-2h0m154 9h0m-216 24h0m-56-6h0m-18 4h0m33 70h0m6 0h0m65 0h0m55 0h0m15 0h0m58 0h0"/></g>
<g fill="none" stroke="#3cb44a" stroke-width="10.8" stroke-linecap="round" stroke-opacity="0.1" id="idg"><path d="M1603 2034h0m74 11h0m-56 27h0m356 37h0m-81-5h0m-15 4h0m-56-4h0m-49-10h0m-173 10h0m0 20h0m74-4h0m67-7h0m11 13h0m33 0h0m9 8h0m2-6h0m22 3h0m84-8h0m2 4h0m27 8h0m16-12h0m55 36h0m-7-6h0m-19 1h0m-11-1h0m-8-2h0m-1 1h0m-11 0h0m-5 0h0m-3 1h0m-1-13h0m-8 11h0m-1-4h0m-6-1h0m-1 7h0m-21-7h0m-6 1h0m-4 7h0m-11-3h0m-18 3h0m-9-3h0m-6-2h0m-37 4h0m-4-16h0m-7 11h0m-5 5h0m-2-1h0m-55-3h0m-135 1h0m0 18h0m97 10h0m13-17h0m13 4h0m4-4h0m33 18h0m16-17h0m15 6h0m1 3h0m19-11h0m5 12h0m30-1h0m16-6h0m12 13h0m9-6h0m1-12h0m9 14h0m13 1h0m0 2h0m6 1h0m14-8h0m2 9h0m0-3h0m1-10h0m3 17h0m6-21h0m3-1h0m2 3h0m2 11h0m0 8h0m1-15h0m2 7h0m1-4h0m2 6h0m7-2h0m4 2h0m11 3h0m2-7h0m11 31h0m-20-6h0m-2-9h0m-8 12h0m-1 1h0m-2 1h0m-2-13h0m-4-5h0m-2 0h0m-6 8h0m-1-9h0m0 17h0m-1 3h0m-1-2h0m-3 2h0m-2-2h0m-1-2h0m0 1h0m-1-5h0m0-6h0m-3 2h0m-1-8h0m0 14h0m-4-13h0m-1 17h0m-2-16h0m-6 5h0m-3 13h0m-5-8h0m-6-1h0m-7 7h0m-11 3h0m-3-20h0m-3 0h0m-1 1h0m-15 8h0m-21 8h0m-17-3h0m0-12h0m-31 20h0m-5-1h0m-5-13h0m-5 0h0m-10-7h0m-8 19h0m-3 0h0m-9-10h0m-24 9h0m-12-8h0m-6 6h0m-40-17h0m-16 17h0m-28-12h0m0-4h0m-18 20h0m0 19h0m0 2h0m18-17h0m28 5h0m49 12h0m7-2h0m19-6h0m16 2h0m0-2h0m3 1h0m8-9h0m28 10h0m9-12h0m0 9h0m4 8h0m14 3h0m4-4h0m0-1h0m7-7h0m6-8h0m14 10h0m23-2h0m6-5h0m9 13h0m5-3h0m6-1h0m0-3h0m1 7h0m3-17h0m5 6h0m2 9h0m1 8h0m17-10h0m1 2h0m3-7h0m14-7h0m1 0h0m3 22h0m4-12h0m5-5h0m1 14h0m4-10h0m1-6h0m1 11h0m12-12h0m3 10h0m15 5h0m20 4h0m-32 8h0m-28 15h0m-3-12h0m-6-3h0m0 4h0m-3-9h0m-4 3h0m-5-3h0m-5 14h0m-1-1h0m-5-8h0m-12 7h0m-10-4h0m-16-4h0m-14-4h0m-30 18h0m-15 3h0m-10-7h0m-13-5h0m-4 2h0m-7 4h0m-20 2h0m-10-10h0m-7-8h0m-27 21h0m-1-6h0m-2-8h0m-17 13h0m-19-13h0m-74 11h0m18 20h0m56 5h0m9-15h0m7 8h0m27 1h0m25 3h0m20-15h0m18 19h0m5 3h0m9-14h0m5-8h0m4 19h0m7-8h0m42-3h0m74 1h0m5 0h0m10-10h0m28 14h0m-83 31h0m-11-11h0m-27-7h0m-37 9h0m-21 3h0m-43-15h0m-12 15h0m-5-14h0m-3 13h0m-81-12h0m-46 17h0m0-18h0m0 34h0m0 9h0m0-16h0m46 12h0m16-11h0m0 11h0m0-4h0m12-4h0m33 0h0m33 14h0m184-21h0m-97 37h0m-165-3h0m-16 10h0m-28-15h0m-15-1h0m15 29h0m169-3h0m19 4h0m79 7h0m-38 14h0m-93-6h0m-108 5h0m-28 7h0m135 22h0"/><path d="M1852 2025h0m-231 38h0m269 43h0m-7-3h0m-41-5h0m-49-10h0m-28 17h0m-17-8h0m-127 13h0m132 20h0m10 0h0m9-14h0m45 19h0m28-14h0m30 12h0m17-3h0m30-4h0m11 2h0m4 0h0m0 1h0m47 14h0m-26-1h0m0-1h0m-12 7h0m-11 10h0m-6-10h0m-2 7h0m-5 1h0m-24-16h0m-20 0h0m-13 4h0m-27-8h0m-19 16h0m-68-16h0m-11 11h0m-2-9h0m-8 11h0m-13-12h0m-9 0h0m-31 19h0m0 0h0m-28-19h0m-46 14h0m0-12h0m18 43h0m0-15h0m74 15h0m29-11h0m30 0h0m2-11h0m12 20h0m39-6h0m15-1h0m45 3h0m1-10h0m6-3h0m31 5h0m4 3h0m1 3h0m5 2h0m8-5h0m4 6h0m3 2h0m2-9h0m1-3h0m11 0h0m1 4h0m13 3h0m0 4h0m0 1h0m2-2h0m6 0h0m2-8h0m0-2h0m6 9h0m30-14h0m-5 40h0m-14-6h0m-9-4h0m-3-8h0m-2 20h0m0-12h0m-8 0h0m-1 8h0m-1-3h0m-4-4h0m-4 7h0m-1 5h0m-6-11h0m-1-9h0m-2 2h0m-1 2h0m-5 11h0m-2 6h0m0-4h0m-2-14h0m0-1h0m-5 14h0m-4-17h0m-1 18h0m-4-6h0m-3-8h0m-5 14h0m0-15h0m-1-2h0m0 12h0m0 7h0m-1-16h0m-4 13h0m-3 6h0m-4-7h0m-19-1h0m-13-8h0m-10 6h0m-2-6h0m-2 9h0m-17-15h0m-15 21h0m-7 1h0m-3-10h0m0 1h0m-13 9h0m-18-4h0m-15-1h0m-161-13h0m0 30h0m18-2h0m28 13h0m16-3h0m28-13h0m0 0h0m46 7h0m31 2h0m5-13h0m15 7h0m27-9h0m14 15h0m3-13h0m3 17h0m8-7h0m41 10h0m8-16h0m10-3h0m1 7h0m4 1h0m6 1h0m1 0h0m3 9h0m3-1h0m2-10h0m5 1h0m2 3h0m0-9h0m8 5h0m1 3h0m2-5h0m0 5h0m3 6h0m9-14h0m6 18h0m3-7h0m2-13h0m2 17h0m4-18h0m8 16h0m10 9h0m-11 0h0m-5 0h0m-11 5h0m-7-7h0m-3 15h0m-8 3h0m-18-4h0m-6-7h0m-4 0h0m0 4h0m-6 4h0m-37-12h0m-4 7h0m-5-7h0m-29 10h0m-3 4h0m-10-8h0m-12 4h0m-7-4h0m-9-1h0m-46 11h0m0-2h0m0-3h0m-26-4h0m-4 6h0m-10-7h0m-22 9h0m-37-6h0m-28 34h0m65-4h0m5-12h0m9 9h0m24-10h0m7 16h0m23-16h0m13 9h0m20-13h0m2-2h0m12 7h0m4-1h0m15-3h0m13 16h0m31-8h0m7 12h0m12-7h0m38-14h0m2 10h0m33-8h0m-108 33h0m-85-4h0m-65-7h0m-21 17h0m-7-4h0m-49-7h0m-18 8h0m0-10h0m0 22h0m0 13h0m0 2h0m0-9h0m18 6h0m0 2h0m0-3h0m28 3h0m28-4h0m32 0h0m13-2h0m21-2h0m87 10h0m-60 8h0m-167-1h0m46 27h0m28 14h0m64-11h0m71-2h0m45 26h0m-192 3h0m0 17h0m-16 64h0"/><path d="M1693 2036h0m-72 37h0m160 0h0m23-4h0m170 41h0m-34-8h0m-137-6h0m-182 30h0m65 8h0m80-16h0m35 3h0m2-7h0m27 11h0m22-5h0m50 15h0m27-5h0m1-7h0m10-4h0m4 8h0m8 1h0m2-12h0m1 1h0m14 15h0m-12 5h0m-1 21h0m-11-6h0m-1-11h0m-7 11h0m-1-6h0m-2 9h0m-5 4h0m-1-13h0m-8 9h0m-8 2h0m-5-3h0m-7 1h0m-16-12h0m-7 4h0m-84-10h0m-19 8h0m-6 12h0m-60-3h0m-31 4h0m-56-15h0m-18 21h0m18-1h0m0-3h0m28 16h0m62-14h0m25 13h0m42-2h0m11 8h0m4-3h0m6-16h0m1 8h0m2 2h0m29 1h0m31 6h0m24-6h0m5 3h0m8 1h0m2-2h0m3-3h0m3 1h0m1-9h0m2 6h0m0 6h0m6-8h0m6 14h0m2-6h0m3-2h0m5-12h0m0 20h0m1-18h0m2 6h0m4 9h0m1-12h0m3 7h0m8 4h0m3 5h0m1-10h0m6-11h0m1 18h0m1 3h0m4-15h0m10 12h0m3 3h0m7-11h0m1 0h0m-3 12h0m-6 6h0m-2 11h0m-11-5h0m-2-11h0m0 13h0m-1-7h0m-5 13h0m0-6h0m-2 6h0m-3-20h0m0 11h0m-1 10h0m-1-20h0m-2 7h0m0 10h0m-1 3h0m-5-11h0m-1 13h0m-1-23h0m-1 10h0m-1 8h0m-1-7h0m0-1h0m-5 0h0m-2 0h0m-2-7h0m-4 8h0m-1 2h0m-1-11h0m-6 18h0m-4-13h0m-3-3h0m-9 9h0m-1 3h0m-2 3h0m-6-15h0m-13 1h0m-2 3h0m-8-2h0m-3 1h0m-1 9h0m-4 1h0m-5-1h0m-6 2h0m-6-8h0m-23 6h0m-19 1h0m-14-15h0m-8 13h0m-24 4h0m0-11h0m-31 5h0m-7 10h0m-8-22h0m-15 11h0m-74-5h0m-18 3h0m0 18h0m18-2h0m0 4h0m0 6h0m0 6h0m28-12h0m16 1h0m45 11h0m1-17h0m7 17h0m4-3h0m4-2h0m19-5h0m24 7h0m11 1h0m20-7h0m11 14h0m12-9h0m36-1h0m1-6h0m3 1h0m18 15h0m9-19h0m3-2h0m19 9h0m0 2h0m8 9h0m9-8h0m0 4h0m7-12h0m0 2h0m2-1h0m1-6h0m1 21h0m0-2h0m1-18h0m2-2h0m0 2h0m5 9h0m1-8h0m3 18h0m0-5h0m0 7h0m1-15h0m0 0h0m9-2h0m1 1h0m10-6h0m16 2h0m-16 37h0m-19-12h0m-4 19h0m-8-23h0m-9 1h0m-16 8h0m-4-8h0m0 10h0m-22 1h0m-15-2h0m-3-6h0m-7 6h0m-17 8h0m-3-2h0m-4-8h0m-12 4h0m-10-2h0m-3 5h0m-15-8h0m-1-4h0m-8 16h0m-18-9h0m0 12h0m-10-8h0m-37 0h0m-11-6h0m-24 0h0m-28 1h0m-62 8h0m0 15h0m0 2h0m18 4h0m0-2h0m0 10h0m44-1h0m21-8h0m87-6h0m1-7h0m6 16h0m2-6h0m6 5h0m9 5h0m10-2h0m10-10h0m7 6h0m13-10h0m9 0h0m7 18h0m38-6h0m4 4h0m-14 14h0m-23-9h0m-19 16h0m-13-10h0m-9-3h0m-6 15h0m-21 4h0m-10-2h0m-23-3h0m-57 2h0m-5-9h0m-18 11h0m-12 0h0m0-5h0m-44-14h0m0 2h0m0-3h0m56 44h0m99 0h0m32-19h0m20 18h0m139 12h0m-146 4h0m-3 5h0m-16 2h0m-16 2h0m-86-9h0m-21-5h0m-58-4h0m-18 12h0m0 1h0m187 12h0m123 7h0m-32 33h0m-4-6h0m-47-11h0m-181 7h0m90 36h0m145-5h0m-219 31h0m152 39h0"/><path d="M1706 2084h0m98 24h0m-183-6h0m28 17h0m74 15h0m24-22h0m27 5h0m7 10h0m21 7h0m27-9h0m29-3h0m46 1h0m23-3h0m48 8h0m12 9h0m-1 0h0m-12 10h0m-2 3h0m-1-12h0m-9 5h0m-15 9h0m-2-3h0m-5-12h0m-3 21h0m-3-2h0m-1-20h0m-4 15h0m-9 5h0m-2-6h0m-4-5h0m-4 12h0m-2-1h0m0-20h0m-10 2h0m-7 11h0m-1-11h0m-15-1h0m0 2h0m-2 0h0m-86 6h0m-14 4h0m-19 9h0m-54-4h0m-14-13h0m0 12h0m-65-11h0m-18 34h0m0 6h0m83-12h0m32-7h0m44 8h0m7 2h0m39-7h0m2 8h0m38-8h0m51 8h0m2-8h0m1-6h0m0 11h0m2 9h0m1-19h0m1 15h0m1-6h0m1 7h0m3 0h0m1-9h0m4 2h0m1-4h0m5 7h0m2 6h0m4 4h0m5-11h0m2 11h0m1-12h0m2-1h0m9 0h0m2 9h0m0-12h0m1 15h0m0-6h0m12-14h0m4 15h0m3 6h0m1-10h0m3 7h0m1-6h0m10 4h0m8 23h0m-13-17h0m-4 23h0m-9-19h0m-4 10h0m-1 4h0m-2-2h0m-1 5h0m-1-17h0m-2 15h0m-3-5h0m-4 5h0m-1-1h0m-1-3h0m-7-5h0m-2 0h0m-1 5h0m-1-4h0m-1 12h0m-11-11h0m-1 1h0m-1-4h0m-10-8h0m-1 6h0m-31-6h0m-9 5h0m-7 2h0m-58 6h0m-18-10h0m-2 18h0m-2-8h0m-4-9h0m-11 11h0m-36 5h0m-6-6h0m-6-12h0m-20 6h0m-9-3h0m-5 11h0m-37-4h0m-28 2h0m0-7h0m-18 1h0m0 38h0m0-13h0m18 10h0m0-6h0m28 8h0m0-19h0m62 9h0m9-11h0m10 19h0m26-6h0m26-4h0m15-5h0m23 5h0m0-5h0m4-1h0m30-4h0m1 6h0m5 14h0m14-16h0m17 5h0m7 3h0m4 10h0m3-2h0m2 2h0m4 1h0m3-16h0m4 8h0m2-2h0m0 2h0m4-4h0m4 0h0m0 12h0m7-10h0m0-4h0m3-7h0m1 14h0m1-16h0m3 8h0m3 0h0m1-6h0m5 17h0m1-14h0m3 5h0m10 2h0m5-9h0m1-3h0m5 10h0m3-5h0m9-5h0m22 22h0m-5 3h0m-33 15h0m-8 4h0m-4-8h0m-2 6h0m-6-6h0m-14 7h0m-4 4h0m-5-21h0m-1 12h0m-7-7h0m-12-3h0m0 12h0m-2-11h0m-5 15h0m-84-1h0m-14-3h0m-15-16h0m-3 15h0m-14-3h0m-5-11h0m-33 11h0m-2 11h0m-17-17h0m-5 12h0m-62-3h0m-28 1h0m-18-8h0m0-6h0m0 39h0m74 2h0m0-16h0m9 17h0m72-4h0m7-9h0m8 14h0m20-18h0m17 17h0m82-7h0m12 6h0m36-9h0m12-2h0m17 29h0m-43-5h0m-31-1h0m-55 16h0m-47-20h0m-8 13h0m-9 3h0m-3-11h0m-19-4h0m-44 17h0m-10 0h0m-79-5h0m-18 7h0m0-22h0m0 25h0m18 18h0m28-17h0m44-2h0m5 14h0m46-15h0m10 1h0m21 11h0m12 9h0m5-9h0m50-1h0m6 4h0m23-2h0m17-11h0m83 39h0m-238-3h0m-13-10h0m-99 1h0m-18-1h0m18 35h0m28 6h0m16-20h0m119 3h0m-11 28h0m-152 10h0m-18 27h0m196 15h0"/><path d="M1811 2047h0m-190 31h0m97-10h0m129 21h0m-107 16h0m-27-16h0m-8 13h0m-84 2h0m-18 20h0m140 3h0m37-3h0m25 2h0m14-1h0m22-7h0m2-2h0m74 12h0m8-12h0m14 13h0m28-4h0m12 17h0m-11 13h0m-5-6h0m-1-1h0m-2 10h0m-3-2h0m-9 2h0m-3-11h0m-2-4h0m-7-2h0m-7 2h0m-1 2h0m-5-7h0m-5 21h0m-8-18h0m-5-5h0m-10 17h0m-7-6h0m-3 5h0m-5-2h0m-7 0h0m-17 9h0m-15-19h0m-37 9h0m-8 9h0m-42-3h0m-9-17h0m-23 8h0m-73-6h0m28 33h0m32-2h0m6 0h0m23-9h0m29 14h0m8 4h0m4-20h0m2 15h0m2 1h0m1-4h0m30-2h0m27 9h0m26-18h0m23 1h0m1 8h0m5 12h0m3-1h0m2-3h0m0-6h0m2-8h0m8 18h0m1-18h0m1 15h0m2-19h0m6 22h0m8-13h0m3 3h0m0-12h0m1 5h0m4 16h0m1-20h0m0 6h0m2-7h0m0 2h0m2 12h0m1-5h0m1 3h0m5-8h0m5 4h0m1 6h0m4 7h0m3-13h0m9 6h0m3-12h0m1 14h0m1-11h0m0 9h0m2 6h0m5 1h0m22-3h0m-18 18h0m-1 9h0m-1 1h0m-4-11h0m-4-9h0m-5 8h0m-5 6h0m-4 0h0m-2-6h0m0 7h0m-1 0h0m-2-4h0m-1 4h0m0-11h0m-3 3h0m-3-2h0m-1-4h0m0 11h0m-1-1h0m-6 7h0m-4 3h0m-5-3h0m-1-10h0m-5 3h0m0 8h0m-2-13h0m-8-2h0m-2-2h0m-1 14h0m-11-12h0m-1 16h0m-16-4h0m0-5h0m-3-13h0m-1 20h0m-25-20h0m-34 12h0m-12-6h0m-12 7h0m-11-10h0m-1-2h0m-1 0h0m-1 9h0m-12-9h0m-5 12h0m-7 0h0m-16-10h0m-13 12h0m-3 0h0m-81-8h0m-46-7h0m0 30h0m0 6h0m62 3h0m21 3h0m10-17h0m33 1h0m18 17h0m2-3h0m22 1h0m17 1h0m18-7h0m10-3h0m8 5h0m4 0h0m18 10h0m10-6h0m7-13h0m20 12h0m3 1h0m2-7h0m5 2h0m10 4h0m2-2h0m7-6h0m1 10h0m2 2h0m0-14h0m1 4h0m5 1h0m3 9h0m0-14h0m6-3h0m3 8h0m2-10h0m1 22h0m0-20h0m0 18h0m1-20h0m0-1h0m9 6h0m4 0h0m3 1h0m1 1h0m2 12h0m5 0h0m3-20h0m16 16h0m0-10h0m6 13h0m13 13h0m-9 1h0m-3-9h0m-5 16h0m-17-8h0m-15 2h0m-17-2h0m-3-7h0m-36 7h0m-1-6h0m0 0h0m-8 0h0m-4-1h0m-11 17h0m-9-16h0m-1 19h0m-31-7h0m-4-8h0m-11 5h0m-12 1h0m-5 11h0m0-14h0m-7-3h0m-16 11h0m-26-16h0m-7 17h0m-2-18h0m-15 14h0m-6 3h0m-25-7h0m-16-4h0m-12 0h0m0-2h0m-44-2h0m-18 9h0m0-8h0m0 26h0m18 4h0m44-6h0m12 15h0m9-13h0m34 6h0m3 11h0m35-6h0m3-16h0m8 9h0m4 5h0m15-6h0m24 13h0m9-13h0m3 13h0m19-16h0m13 10h0m23 4h0m27-16h0m-12 27h0m-11-2h0m-3 15h0m-10-1h0m-20-13h0m-62 15h0m-1-12h0m-6 1h0m-3 6h0m-19-5h0m-15-6h0m-44 1h0m-23 13h0m-12-15h0m0 8h0m-16-3h0m-46-8h0m0 4h0m0 35h0m0-7h0m99-8h0m16 20h0m59-12h0m109 2h0m11-8h0m73 28h0m-11 14h0m-111 3h0m-30-22h0m-25 6h0m-2-2h0m-21 18h0m-70-9h0m-7 3h0m-28-16h0m-16 20h0m-46-8h0m0-11h0m0 38h0m18-11h0m152-4h0m107 21h0m27-14h0m-20 16h0m-162 0h0m-30 17h0m50 27h0"/><path d="M1712 2045h0m8 36h0m205 15h0m-51 5h0m-20-7h0m-28-2h0m-59 12h0m-41-1h0m-105 5h0m-18 25h0m62-7h0m56 6h0m19 3h0m110-4h0m16-6h0m64 6h0m33-6h0m35 25h0m-24 0h0m-1-9h0m-2 16h0m-13-2h0m-2-7h0m-18-11h0m-3 16h0m-2-3h0m-6-3h0m-7 2h0m-1-1h0m-3 11h0m-7-10h0m-22-2h0m-7-4h0m-16-7h0m-2 14h0m0-7h0m-2 6h0m-6 5h0m-5 2h0m-19-4h0m0-2h0m-28 5h0m-7-17h0m-37 3h0m-12 11h0m-6-10h0m-15-6h0m-1 22h0m-2 1h0m-119-13h0m0 21h0m0 0h0m74 3h0m0-7h0m0 2h0m59-4h0m24 13h0m3 6h0m22-6h0m5-5h0m3 4h0m13 7h0m18-16h0m7 19h0m3-14h0m19 7h0m10-10h0m1 0h0m13 8h0m6 6h0m4-18h0m5 15h0m4-12h0m0 14h0m2-10h0m10 10h0m2-6h0m3 7h0m0-2h0m12 0h0m2-9h0m1-7h0m1 18h0m2 2h0m0-5h0m1 5h0m0 1h0m5-11h0m1 8h0m5-8h0m5-3h0m1 7h0m9-3h0m1-12h0m5 18h0m1-17h0m4 1h0m5 4h0m15-5h0m7 21h0m2-2h0m-9 12h0m0-7h0m-15-1h0m-7 15h0m-1-7h0m0 6h0m-1-12h0m-6 20h0m-2-13h0m-1 12h0m-1-16h0m0-1h0m-3-4h0m-1 8h0m-6 3h0m-1 8h0m0-14h0m-2 13h0m-1-12h0m-1-6h0m-4 15h0m-2 6h0m-2-2h0m-4-2h0m-1-18h0m-4 20h0m-1-9h0m0 6h0m-2 3h0m-2-20h0m-1 15h0m-1 5h0m-9-9h0m-14-11h0m-9 5h0m-1-3h0m0 1h0m-2 14h0m-16 6h0m-21-3h0m-21-16h0m-24 14h0m-12 4h0m-54-4h0m-23-17h0m-25 10h0m-82-7h0m0 10h0m0 33h0m0-13h0m18 5h0m56-1h0m22 5h0m15 2h0m20-18h0m6 8h0m14-4h0m3 8h0m5 4h0m18-17h0m7 4h0m17 4h0m2 2h0m10 9h0m2-21h0m19 4h0m12 10h0m6-8h0m7 8h0m8 5h0m14-13h0m1 5h0m9 1h0m1-2h0m0 11h0m8-9h0m3-8h0m3 7h0m1 4h0m5-2h0m0 5h0m23-15h0m0 15h0m4-4h0m9-11h0m0 3h0m4-1h0m13-2h0m1 0h0m8 8h0m7 5h0m6 4h0m2-2h0m-24 15h0m-5 4h0m0-10h0m-17 5h0m-6 13h0m-11-7h0m-9-12h0m-3 13h0m-2-6h0m-21 5h0m-45-5h0m-6-4h0m-2 6h0m-1 12h0m-22-14h0m-2-5h0m-41-4h0m-17 17h0m-1 4h0m-36-2h0m-7-11h0m-28 3h0m-21-11h0m-44 17h0m0 5h0m-18-13h0m0 3h0m18 20h0m56 14h0m9-7h0m0-13h0m16 5h0m8-4h0m5 6h0m1-3h0m6-5h0m33 4h0m4 1h0m3 10h0m34 6h0m20-16h0m4-4h0m35 15h0m10-6h0m3-10h0m53 10h0m35 4h0m-89 17h0m-11 13h0m-13 0h0m-30 1h0m-3-15h0m-45-3h0m-12 19h0m-104-20h0m-28 0h0m0 11h0m28 12h0m0 0h0m28 5h0m9 12h0m7-17h0m16 13h0m1 6h0m60-14h0m57 9h0m63 3h0m45 2h0m-85 8h0m-39 10h0m-41-9h0m-15 8h0m-90-1h0m-44-7h0m0-4h0m0 0h0m-9 38h0m293 0h0m-56 16h0m-17-2h0m-64-6h0m-119 9h0m-46 5h0m196 27h0m-15 10h0"/><path d="M1794 2032h0m-74 55h0m98-3h0m105-5h0m-79 20h0m-26-11h0m-35 18h0m-106-18h0m-74 37h0m18 9h0m113-5h0m37 1h0m26 5h0m23-10h0m2 10h0m28 0h0m9-17h0m29 3h0m11 12h0m77-5h0m2 11h0m-3-2h0m-10 18h0m-1-3h0m-4 1h0m-2-1h0m-12 6h0m-3-3h0m-3-1h0m-4-6h0m-16 3h0m-3-8h0m-12 11h0m-3-3h0m-12-3h0m-23-7h0m-8 9h0m-3-1h0m-6 5h0m-43-13h0m-32 9h0m-35-11h0m-2 18h0m-4-11h0m0-7h0m-8 14h0m-24-14h0m-2-1h0m-14 17h0m-9 3h0m-28-1h0m-46-2h0m127 25h0m25-15h0m3-1h0m60 10h0m42-4h0m25 9h0m11-4h0m3-2h0m10-3h0m4-4h0m2 10h0m3 7h0m1-12h0m1-5h0m1-1h0m0 14h0m4-6h0m1 6h0m3-7h0m10-10h0m2 7h0m5 13h0m4-19h0m2 16h0m2-1h0m2-8h0m5 2h0m6-1h0m6 3h0m4 7h0m-4 17h0m-2 4h0m-6 1h0m-9-10h0m0 10h0m-4-14h0m0 6h0m-2 4h0m-4-4h0m-1 7h0m-9-9h0m-9 5h0m-1-6h0m-1-8h0m-2 8h0m-3-3h0m-1 13h0m-5-15h0m-2 14h0m-4-6h0m-3-4h0m0-1h0m-1 2h0m-6 8h0m-20-4h0m-8 9h0m-9-4h0m-32 4h0m-7 1h0m-10-3h0m-14 1h0m-17-10h0m-2 3h0m-1 7h0m-1-14h0m-1-2h0m-5 18h0m-47-15h0m-19 3h0m-102-4h0m0-3h0m0 42h0m0-2h0m0-11h0m18 15h0m84-2h0m5-17h0m10 11h0m31-2h0m7-8h0m4 1h0m12 8h0m3 8h0m1-5h0m15-9h0m19 15h0m9-8h0m0-14h0m5 4h0m5 17h0m21-18h0m10 1h0m6 6h0m2-1h0m7 11h0m2-12h0m4 6h0m4-12h0m4 15h0m6-11h0m8 2h0m12 13h0m8-13h0m0 5h0m0 2h0m7 0h0m2-1h0m5-4h0m5-6h0m2 10h0m9-9h0m2 0h0m13-4h0m2 20h0m2 0h0m14-8h0m3 19h0m-32 1h0m-11 12h0m-4 0h0m-5-15h0m-11-4h0m-2 10h0m-1-3h0m-24-7h0m-31 11h0m-5-8h0m-3-5h0m-7 8h0m0 4h0m-11-12h0m-29 16h0m-1-17h0m-29 19h0m-13-5h0m-20 2h0m-8-3h0m-11-5h0m-18-4h0m-5 10h0m-45 6h0m-62 3h0m0-4h0m0 15h0m18-2h0m28 10h0m0-8h0m16 7h0m0-16h0m12 14h0m38-4h0m22 4h0m7-9h0m4 9h0m2-1h0m7 0h0m11-4h0m13-8h0m38 11h0m7-9h0m30 13h0m16-13h0m1-4h0m0 10h0m15-8h0m6 21h0m32-22h0m42 29h0m-20 0h0m-17 6h0m-43-7h0m-2 14h0m-9-11h0m-46-4h0m-43 17h0m-8-7h0m-4-9h0m0 11h0m-83-16h0m-20 23h0m-24-20h0m-46 1h0m0 3h0m0 17h0m0 16h0m0-15h0m0 21h0m121-5h0m27-11h0m14-4h0m86 5h0m5 17h0m-179 7h0m-28 2h0m-46 13h0m74 16h0m205-6h0m-279 23h0m157 17h0m107 43h0m-218 34h0"/><path d="M1665 2058h0m199 26h0m68 24h0m-95-1h0m-88 2h0m-27-20h0m-119 18h0m126 14h0m29 3h0m57-7h0m5-3h0m5 16h0m14-17h0m18 20h0m41-5h0m13 3h0m13-1h0m10-2h0m4 2h0m2 0h0m4-2h0m14 24h0m-1-7h0m-15 11h0m-3-8h0m-1-6h0m-12 7h0m-3 10h0m-3 0h0m-5-18h0m-2 9h0m0 1h0m-10 2h0m-11 1h0m-9-14h0m-42 16h0m-19-1h0m-66-19h0m-3 17h0m-2 1h0m-5 0h0m-18-8h0m-19 12h0m0-10h0m-1 4h0m-4-10h0m-3 7h0m-52 6h0m-28-17h0m-18 21h0m18 20h0m0-1h0m56-7h0m0-11h0m28 9h0m3-6h0m12 1h0m7 5h0m21-1h0m5 12h0m6-10h0m39 8h0m10 0h0m5-5h0m22-13h0m22 10h0m5 13h0m3-16h0m2 10h0m28 6h0m4-19h0m6 11h0m1-10h0m1 16h0m5-20h0m4 21h0m0-2h0m3-5h0m1 6h0m12 0h0m4-9h0m2-11h0m1 19h0m5-7h0m2 6h0m1-14h0m3 14h0m2-9h0m8 2h0m2 11h0m0 0h0m8-5h0m7-18h0m4 2h0m0 20h0m7 16h0m-7-12h0m-8 19h0m-6-8h0m0-11h0m-2 1h0m-1 20h0m-5-18h0m-2 12h0m-1-16h0m-1 6h0m-6 2h0m-2 14h0m-1-3h0m-1 0h0m0-11h0m-4 7h0m0-9h0m-4-5h0m-3 9h0m-1-4h0m-2 11h0m-3-5h0m-4-12h0m-2 12h0m-3 3h0m-1-13h0m-1 0h0m-3 15h0m-3 3h0m-4-17h0m-1 15h0m-4-14h0m-1-4h0m-10 15h0m-4-2h0m-8-10h0m-24 11h0m-19-9h0m-17 9h0m-19-4h0m-1 11h0m-4-9h0m-21 7h0m-15-4h0m-7-5h0m-2 8h0m-23-19h0m-4 23h0m-4-13h0m-20 1h0m-22 5h0m-12 6h0m0-14h0m-44 8h0m0-9h0m-18 6h0m0-6h0m0 14h0m84 26h0m14-10h0m8 6h0m2-11h0m1 7h0m6-6h0m38-2h0m1 15h0m2-7h0m12-6h0m7 0h0m17 8h0m4-4h0m13-9h0m10 16h0m7-7h0m30 6h0m0-1h0m5-6h0m24 1h0m0 2h0m14 6h0m0-1h0m19-8h0m11-5h0m6-6h0m1 16h0m0-12h0m2-3h0m1-2h0m17 7h0m1 6h0m3-7h0m2 3h0m1 11h0m1-17h0m5 19h0m4-15h0m1 7h0m1-2h0m4 8h0m9 0h0m-30 26h0m-9-19h0m-11 15h0m-1-14h0m-4 1h0m-2 2h0m-7-5h0m-10 15h0m-8-1h0m-14-14h0m-51 18h0m-7-4h0m-1-3h0m-8 7h0m-2-16h0m-17 15h0m-49-16h0m-3 8h0m0-2h0m-4-9h0m-3 4h0m-3 4h0m-21 1h0m-5-9h0m-118 12h0m0 12h0m0 9h0m97 12h0m17-6h0m22 2h0m61-10h0m10 8h0m2 3h0m8-18h0m37 17h0m27-16h0m18 0h0m36 4h0m10 4h0m26 3h0m-13 30h0m-29 4h0m-70-17h0m-17 15h0m-58-16h0m-15-2h0m-3 19h0m-92-18h0m0 11h0m-11-3h0m-1 6h0m-16-11h0m0 10h0m-46-11h0m0 25h0m62 11h0m28-4h0m8 9h0m136-18h0m22 18h0m-256 16h0m156 18h0m41 9h0m2-9h0m83 10h0m107 22h0m-170-1h0m-145-9h0m-56 6h0m-18 7h0"/><path d="M1764 2056h0m173 51h0m-152-3h0m-83 24h0m186 6h0m20-9h0m3-2h0m2-11h0m6 10h0m4 12h0m18-7h0m13 6h0m8-20h0m36 34h0m-34 8h0m-13-17h0m-1 20h0m-2-6h0m0-5h0m-8 2h0m-1-4h0m-3 13h0m-5-2h0m-14-10h0m-4 9h0m-18-8h0m-28 10h0m-10-18h0m-8 3h0m-5 14h0m-4-16h0m0-3h0m-9 22h0m-3-19h0m-7 0h0m-10 9h0m-46 3h0m-5 6h0m-23-20h0m-12 12h0m-39 1h0m0 8h0m-83 16h0m46-3h0m0 5h0m44-1h0m7 6h0m19-6h0m9-11h0m18 17h0m15-21h0m18 19h0m25-2h0m47-1h0m16-1h0m12-9h0m8 3h0m4 8h0m20 5h0m2-3h0m1-8h0m6 4h0m2-6h0m3-6h0m3 14h0m4-7h0m1-9h0m6 7h0m3 14h0m2-6h0m0 5h0m3 1h0m2-15h0m2 5h0m3 4h0m4-14h0m2-1h0m5 12h0m2-4h0m2-7h0m55 0h0m-27 29h0m-20 15h0m-1-1h0m-1-17h0m-3 9h0m-3-12h0m0 19h0m-2-9h0m-5 8h0m-5-11h0m-2 12h0m-5-12h0m-1-5h0m-4 13h0m-2 4h0m-6-8h0m-3-2h0m-1 9h0m-5-11h0m0 3h0m-2-5h0m-1-5h0m-1 0h0m-1 20h0m-1-8h0m-1-8h0m-2 4h0m-1 5h0m-1-6h0m-1-9h0m-16 18h0m-1-10h0m-30 9h0m-3-12h0m-14-2h0m-19 15h0m-11-9h0m-2 9h0m-8 3h0m-2-20h0m-3 14h0m-25-10h0m-15-3h0m-5 6h0m-25-3h0m-4 0h0m-4 11h0m-24-16h0m-10 5h0m-46 9h0m0 1h0m-46 2h0m0 29h0m0-11h0m0 4h0m96 0h0m6 6h0m11-9h0m24 5h0m3-2h0m56-5h0m5-8h0m4 21h0m43-16h0m18 10h0m1-15h0m4-1h0m2 1h0m24-2h0m9 16h0m3-2h0m2-7h0m3-4h0m3 19h0m3-3h0m1-16h0m4 14h0m11-4h0m3 6h0m2-15h0m1-3h0m0 13h0m1 2h0m2-10h0m3 15h0m5-3h0m4-5h0m19-3h0m14-2h0m-19 34h0m-6-11h0m-13 0h0m-1 3h0m-37-4h0m-11-6h0m-50 17h0m-26-11h0m-68-5h0m-9 12h0m-25-7h0m-9 10h0m-42-14h0m-56 44h0m0-16h0m0 5h0m130-10h0m32 21h0m25-2h0m6-17h0m12 18h0m35-13h0m1-3h0m48 12h0m23-15h0m15 14h0m23-15h0m8 1h0m-61 44h0m-22-15h0m-22-1h0m-48 10h0m-3 1h0m-2-16h0m-9 10h0m-24 6h0m-4-13h0m-50 0h0m-5 10h0m-20 3h0m-106-9h0m0 23h0m0 4h0m18-5h0m28-3h0m0 18h0m134-17h0m91 5h0m38 11h0m106 11h0m-226-2h0m-127 15h0m-23 8h0m7 5h0m16 10h0m144-16h0m119-1h0m2 12h0m61 28h0m-110-11h0m-48 18h0m-70 30h0m83 27h0m0 27h0"/><path d="M1603 2083h0m210 28h0m-1-20h0m-41 16h0m-70-2h0m-8-2h0m-72 0h0m110 29h0m9-13h0m130 12h0m33-4h0m3 7h0m15-11h0m12-2h0m4 14h0m1-3h0m19-9h0m-4 33h0m0 0h0m0-4h0m-1 2h0m-8-2h0m-2-10h0m-1 12h0m0 2h0m0 1h0m-2-13h0m-5 1h0m-5 1h0m-1-6h0m-2 6h0m-29 8h0m-1 5h0m-6-11h0m-10 2h0m-1-5h0m-11-5h0m-26 19h0m-4-15h0m-44 13h0m-34-2h0m-20-12h0m-15 9h0m-32-5h0m-16-2h0m-12-5h0m0 10h0m-16 4h0m63 21h0m32-5h0m16 2h0m26-7h0m2 10h0m19 0h0m16-4h0m13 12h0m6-1h0m11-8h0m30-8h0m6 16h0m3-6h0m11 7h0m1-11h0m1-10h0m7 14h0m3 0h0m1-16h0m0 21h0m3 0h0m4-1h0m1-6h0m6-2h0m0 9h0m1-20h0m1 2h0m1 18h0m0-17h0m3 19h0m0-9h0m3-11h0m1-3h0m2 0h0m6 4h0m9-1h0m5 9h0m7 1h0m0 7h0m7-1h0m0-12h0m12 13h0m11 23h0m-8-13h0m-4 14h0m-8-11h0m-1-2h0m-2 7h0m-7-5h0m-4-3h0m0 14h0m-2-20h0m-5 3h0m-2 17h0m-2-17h0m-3 6h0m-2-2h0m-1-5h0m-1 19h0m0-11h0m-2 2h0m-2-11h0m0 7h0m-1 5h0m-1 8h0m-1-6h0m-1-3h0m-1 11h0m-1-2h0m-3-15h0m-1 12h0m-1-4h0m-1 7h0m-2-10h0m0-8h0m-2 14h0m-2-7h0m-1 5h0m0 6h0m-2-7h0m0-14h0m0 16h0m-2-15h0m-3 4h0m-2 7h0m-2-5h0m-2-1h0m-1 11h0m-1-10h0m-6-2h0m-5 3h0m-1-2h0m-19 7h0m-10 7h0m-34-10h0m-11 11h0m-18-17h0m-2 1h0m-1 16h0m-10-4h0m-27-8h0m-7 4h0m-1-5h0m-3 10h0m-5-14h0m-49 15h0m-7-12h0m-7-1h0m-21 15h0m-44-20h0m-18 18h0m0 8h0m0 0h0m81 17h0m16-2h0m0-3h0m11 7h0m20-17h0m4 3h0m4 14h0m8-13h0m7 13h0m5-5h0m18-10h0m1 15h0m5-14h0m38 15h0m30-5h0m6-11h0m5-7h0m2 17h0m1-3h0m6-1h0m21-11h0m6 13h0m3-13h0m6 0h0m6 21h0m2-17h0m6 13h0m10-13h0m8-6h0m1 15h0m1-14h0m0 19h0m2-19h0m0 10h0m1-2h0m14-7h0m0-1h0m4 9h0m6-10h0m0 0h0m12 2h0m9 11h0m4 5h0m3-16h0m-10 30h0m-17-6h0m-10 5h0m-4 1h0m-7-1h0m-20 3h0m0-5h0m-22 9h0m-6-9h0m0 13h0m-10-6h0m-19 3h0m-12-10h0m-25 12h0m-2-6h0m-3 6h0m-15-10h0m-15 12h0m-29-11h0m-34 3h0m-21-6h0m-5 4h0m-33-6h0m-56 8h0m-18 9h0m18 23h0m28-19h0m16 1h0m0 3h0m12 1h0m27 17h0m14-3h0m56 3h0m1-4h0m12-12h0m34 17h0m38-11h0m15 9h0m1-5h0m6-9h0m11 13h0m9 1h0m17-13h0m3 13h0m5-6h0m13-14h0m3 16h0m70 7h0m-125 0h0m-14 2h0m-5 12h0m-4-1h0m-49-7h0m-10 17h0m-6-16h0m-17 6h0m-50-4h0m-55 0h0m-56 4h0m0 7h0m0-20h0m0 8h0m-18-2h0m0 3h0m0 34h0m0-19h0m18 12h0m0 6h0m56 2h0m26-2h0m50-6h0m0 7h0m52-15h0m5 1h0m93 16h0m-177 21h0m-3-13h0m-102 4h0m-18 12h0m18 14h0m84-11h0m109 7h0m-128 32h0m-83-14h0m83 32h0m68-6h0m-151 92h0"/><path d="M1788 2078h0m91-9h0m55 36h0m-135 2h0m-150 0h0m-46-8h0m111 20h0m35 16h0m145-12h0m16-8h0m16 13h0m8-3h0m19 4h0m39 28h0m-9-18h0m-5 16h0m-14-1h0m0-13h0m-9 13h0m-3-8h0m-1 3h0m-5 9h0m-14-21h0m0 18h0m-1-9h0m-5 13h0m0-6h0m-21 5h0m-10-8h0m-10 7h0m-2-8h0m-61 9h0m-20-1h0m-15-20h0m-20 5h0m-7-1h0m-7 17h0m-86-15h0m-18 4h0m-46-4h0m18 27h0m28 1h0m0-2h0m26 4h0m2-12h0m42 12h0m51-5h0m4 12h0m0-16h0m1-2h0m13-2h0m22 9h0m31 5h0m15-3h0m22 12h0m19-7h0m1 0h0m1 4h0m5 2h0m1-3h0m7-9h0m6 2h0m1 8h0m0 1h0m0-5h0m1 6h0m16-8h0m1 1h0m2-6h0m5 9h0m2-6h0m1 10h0m2-3h0m3-8h0m2-2h0m2 13h0m3-4h0m3 2h0m11-19h0m1 20h0m2 1h0m1-6h0m1-6h0m12 34h0m-12-10h0m-9-4h0m-3 15h0m-1-18h0m-2-2h0m-10 9h0m-1 3h0m-1-6h0m-6-1h0m0 17h0m-3-17h0m0 5h0m-5-9h0m-2-2h0m0 15h0m-1 4h0m0-12h0m-1 5h0m-3 7h0m-1-15h0m-1 0h0m-1-1h0m-1 5h0m-2-4h0m0 15h0m-1 0h0m-3-15h0m-1 8h0m-2 5h0m-1-1h0m-8-9h0m-2 7h0m-12-12h0m-19 1h0m-17 20h0m-37-7h0m-8-16h0m-14 6h0m-24 7h0m-11 9h0m-20-8h0m-1-7h0m-9 14h0m-19-1h0m-10 2h0m-5-18h0m-97-4h0m0 42h0m0-12h0m0-5h0m0 10h0m18 12h0m28-23h0m0 14h0m37-10h0m8 14h0m46-12h0m67 14h0m4-13h0m5-1h0m6-4h0m5 13h0m10 5h0m11-6h0m2-5h0m16 13h0m31-13h0m5 6h0m0-4h0m1-3h0m10-2h0m2-2h0m2-1h0m0 0h0m10 6h0m5-8h0m3 22h0m4-13h0m13-1h0m7 1h0m5-4h0m5 3h0m1-7h0m5 18h0m2-10h0m4 6h0m16 19h0m-11-6h0m-16-1h0m-9 17h0m-10-14h0m-10 3h0m-9-9h0m-3 6h0m-18-3h0m-48 2h0m-30 4h0m-14-9h0m-2 1h0m-43 12h0m-18-5h0m0-6h0m-4 18h0m-30-7h0m-8-6h0m-49-3h0m-44 2h0m-18 21h0m62 14h0m98-4h0m2 1h0m9 7h0m3-22h0m14 5h0m7 12h0m4-5h0m8 3h0m6-3h0m6 3h0m0-6h0m52 5h0m54 1h0m6 6h0m12-20h0m-30 38h0m-24-15h0m-5 14h0m-34-2h0m-3-8h0m-6 0h0m-40-1h0m-12 9h0m-5-3h0m-6-2h0m-17-4h0m-10 7h0m-22 1h0m-16 5h0m-113-9h0m0 2h0m0 16h0m18 15h0m0-15h0m65 10h0m7 3h0m25-11h0m66 10h0m3-3h0m20-6h0m185 2h0m-83 31h0m-89-13h0m-21 8h0m-31 10h0m-27-16h0m-34 1h0m-14 14h0m-44 24h0m0-11h0m16-5h0m87 13h0m11 7h0m85 1h0m153-11h0m-73 23h0m-182-7h0m-125 14h0m116 12h0m217 7h0m-48 14h0m-285 19h0"/><path d="M1735 2071h0m125 12h0m130-9h0m-92 27h0m-127-11h0m-16 4h0m-18 12h0m-134 22h0m46 3h0m28-4h0m9-15h0m30 9h0m7 6h0m1 3h0m48-8h0m49 6h0m10-5h0m41 7h0m9-1h0m32-11h0m5 17h0m13-7h0m12 6h0m0-21h0m3 12h0m29-6h0m18 37h0m-16-16h0m-22-2h0m-9 21h0m-5-5h0m0 1h0m-1-4h0m-2 3h0m-2-1h0m-4-8h0m-4-2h0m-9 16h0m-8-6h0m-14-5h0m-14-2h0m-4 7h0m-5-14h0m-40 12h0m-6-8h0m-14 3h0m-3 6h0m-9-1h0m-23 0h0m-16 7h0m-51-15h0m-63 6h0m-28-9h0m-18 14h0m74 26h0m26-6h0m2-8h0m6 15h0m8-3h0m14-4h0m4 8h0m3 0h0m3-21h0m29 6h0m34-4h0m46 11h0m2 8h0m1-15h0m21-5h0m3 7h0m23 12h0m10-11h0m2 9h0m3-9h0m7 1h0m0 7h0m8-4h0m1 2h0m4-13h0m3 9h0m1 0h0m5-7h0m0 2h0m2 16h0m0-13h0m1 4h0m1 5h0m1-1h0m1-6h0m2 11h0m3-2h0m0 1h0m3-20h0m1 3h0m3 18h0m23 6h0m-5 17h0m-5-1h0m-4-17h0m-3 1h0m-1-3h0m-2 13h0m-12-8h0m-2 8h0m0-4h0m-1-2h0m-1 2h0m-2 4h0m-2 1h0m0 0h0m-2-10h0m-2-5h0m-7 6h0m-2-7h0m0 23h0m-2-3h0m-1-1h0m-2-5h0m-6 0h0m-2-8h0m-1 15h0m-3-6h0m-4-6h0m0 13h0m0-2h0m-1-20h0m-2 2h0m0-2h0m-1 19h0m0-5h0m0 5h0m-33-17h0m-9 21h0m-15-21h0m-22 5h0m-5-1h0m-5-6h0m-15 5h0m-2 4h0m-8-3h0m-11 16h0m-12-12h0m0-1h0m-12-5h0m-3-3h0m-12 13h0m-2-8h0m-6-3h0m-1 4h0m-26 4h0m-24 9h0m-65-18h0m0-2h0m-18 16h0m0 28h0m0 3h0m0-2h0m18-2h0m0-15h0m28 7h0m16 0h0m35 2h0m18-2h0m6-3h0m8 14h0m21-10h0m13-9h0m1 9h0m16-8h0m21 1h0m9-1h0m14 16h0m8-7h0m4-5h0m21 0h0m15 3h0m24 0h0m0 6h0m2 0h0m4-11h0m13 6h0m3-11h0m4 5h0m12 13h0m2-14h0m3 11h0m2-9h0m1-3h0m24-2h0m15 7h0m7 4h0m5 5h0m-10 7h0m-3 16h0m-2-3h0m-5 4h0m-12-8h0m-14 0h0m-6-8h0m-3 10h0m-5 1h0m-4-7h0m-4 7h0m-7-13h0m-6 10h0m-1-9h0m-16 0h0m-9 18h0m-1 0h0m-8-17h0m-9 15h0m-3-8h0m-40 4h0m0-7h0m-19 0h0m-1 11h0m0-16h0m-41 5h0m-19 2h0m-3 0h0m0 7h0m-15-2h0m-37-8h0m-28-3h0m0 15h0m-62-11h0m0 32h0m0-14h0m18 6h0m0 11h0m0-17h0m0 9h0m44 14h0m0-2h0m12-13h0m9 7h0m44-5h0m23 13h0m14-3h0m13-17h0m0 14h0m4-17h0m41 0h0m19 16h0m14-5h0m9-8h0m40 4h0m23 16h0m-22 9h0m-82 9h0m-30 1h0m-5-11h0m-12 12h0m-40-13h0m-53 4h0m0 11h0m-1 0h0m-36-17h0m-28-4h0m0 6h0m-18 38h0m0-11h0m74 3h0m68 7h0m31-10h0m2-2h0m16-6h0m130 7h0m-153 39h0m-6-23h0m-100 18h0m-44-17h0m0 13h0m-18-10h0m0 3h0m18 30h0m97 7h0m222-11h0m-80 23h0m-3 3h0m-157 9h0m-79 27h0m72-23h0"/><path d="M1837 2057h0m-121 29h0m95 7h0m-12 12h0m-13-4h0m-183 33h0m107-10h0m27-2h0m105 7h0m84 1h0m47-17h0m-2 28h0m-11 11h0m-1-1h0m0 0h0m0 7h0m-10-19h0m-11 15h0m-1 1h0m-3-9h0m-3 7h0m-3-8h0m-7-5h0m-5 0h0m-2 12h0m-33 6h0m-15-21h0m-15 5h0m-3-1h0m-28 1h0m-22 16h0m-70 0h0m-23-7h0m-56-3h0m0 8h0m-46 22h0m18 0h0m0-18h0m28 3h0m0 11h0m0 8h0m28-22h0m10 7h0m6 2h0m8-3h0m6-5h0m13 10h0m6 12h0m7-5h0m12-3h0m28 0h0m15 0h0m4 3h0m7-9h0m11 4h0m9-3h0m6-2h0m1 12h0m21-17h0m3 8h0m4 8h0m18-9h0m23 11h0m5-5h0m0 4h0m0-15h0m9 11h0m1-8h0m12 2h0m4-8h0m0 21h0m6-18h0m3 8h0m0 7h0m1-12h0m0 1h0m2 7h0m1 7h0m3-17h0m1 15h0m3-5h0m1-9h0m3-5h0m1 16h0m6 3h0m2-11h0m2 7h0m3-3h0m1 5h0m0-17h0m6 0h0m1 21h0m5-22h0m2 2h0m24 25h0m-18 18h0m-2-15h0m-5 11h0m-2-16h0m-9 18h0m-5-9h0m-1 1h0m-1 10h0m0-1h0m-3-11h0m-1 13h0m-1-16h0m-1-6h0m-1 6h0m-1 14h0m-5-8h0m0-3h0m-1 12h0m-1-10h0m-3 3h0m-7 2h0m-9-3h0m-4-6h0m-4 11h0m-27-19h0m-20 15h0m-17-15h0m-1 21h0m-2-5h0m-14-8h0m-4-5h0m-5 6h0m-4-8h0m-19 3h0m-21 4h0m-27-4h0m-2 0h0m-8 3h0m-10 12h0m-11-19h0m-1 0h0m-45 11h0m-31 8h0m-46 3h0m18 20h0m28-3h0m0-5h0m16-10h0m0 4h0m21 16h0m14-5h0m5 7h0m13-3h0m36-3h0m33 6h0m34-6h0m3-12h0m1-2h0m1 13h0m9-2h0m5-12h0m2 2h0m17 9h0m2 1h0m2 4h0m19-5h0m21 2h0m8 3h0m4-16h0m2 3h0m1-1h0m4 20h0m3-15h0m10 0h0m4 5h0m2 5h0m4 2h0m0-15h0m1 7h0m2-4h0m2 13h0m3-7h0m3-8h0m6 17h0m14-12h0m5-9h0m13 6h0m-7 16h0m-13 12h0m-5-1h0m-11-6h0m-2-2h0m-30 18h0m-8-7h0m-3-2h0m-12-12h0m-2 5h0m-6 17h0m-18-16h0m-2 4h0m-6 13h0m-12-19h0m-13 9h0m-18 0h0m-15-6h0m-8 16h0m-3-9h0m-2 6h0m-26 1h0m-9-8h0m-17-9h0m0-3h0m-1 14h0m-20 6h0m-5-14h0m-10-2h0m-1-5h0m-4 12h0m-5 2h0m-23 8h0m-74 0h0m0-4h0m46 27h0m0-6h0m44-3h0m12-3h0m25 3h0m6 8h0m7-7h0m49 7h0m10-12h0m1 3h0m3-9h0m15-1h0m2 8h0m4 1h0m38 4h0m4-6h0m4 1h0m19 4h0m14 6h0m9-18h0m14 0h0m28 15h0m-21 11h0m-64 4h0m-6 4h0m-5 1h0m-34 2h0m-23-8h0m-4-4h0m-26 8h0m-5-8h0m-40 15h0m-19-10h0m-7 6h0m-82 10h0m0-17h0m-18 25h0m0-1h0m0-3h0m0 10h0m136-6h0m26 0h0m14 7h0m15 0h0m55-13h0m-3 37h0m-23-13h0m-88 9h0m-58 10h0m-12-3h0m12 10h0m0-1h0m41-1h0m15 16h0m24-12h0m14 6h0m136-11h0m-304 62h0m151 6h0m38-19h0m26 21h0m27 23h0"/><path d="M1741 2053h0m-120-11h0m174 36h0m189 33h0m-118-3h0m-26-20h0m-88 11h0m-131-6h0m28 40h0m61-3h0m1-14h0m39 1h0m5 11h0m13-6h0m127 7h0m10 0h0m11-4h0m11 0h0m3 3h0m10 5h0m5-7h0m44 24h0m-12-4h0m-15-2h0m-31 3h0m0 1h0m-4-6h0m-1 6h0m-3-11h0m0-1h0m0 14h0m-30 8h0m-37-18h0m-17 12h0m-2 0h0m-19-1h0m-44-12h0m-34 20h0m-9-8h0m0-10h0m-7 12h0m-24 3h0m-2-14h0m-77 37h0m0 3h0m28-5h0m16-5h0m34-7h0m2-5h0m7 14h0m2-5h0m61-3h0m47 12h0m18-7h0m8 9h0m6-15h0m10 10h0m1-7h0m16 4h0m0 9h0m1-20h0m14 19h0m2-12h0m16 6h0m0-13h0m4 4h0m1 3h0m1-8h0m2 18h0m2-8h0m5-9h0m2 20h0m7 1h0m1-22h0m7 13h0m6 1h0m1 4h0m1-12h0m1 3h0m0 4h0m1-7h0m2 9h0m3-13h0m4 20h0m2-6h0m13-14h0m4 20h0m-2 6h0m-11 18h0m-2-10h0m0-4h0m-1 11h0m-5-12h0m-4 8h0m-2 1h0m-3-10h0m-4 6h0m0-3h0m-3-9h0m-4 2h0m-3 18h0m-1-13h0m-3 11h0m-2-13h0m-2 17h0m-1-2h0m-1 1h0m-2-1h0m-3 3h0m-1-12h0m-1-3h0m-2-4h0m-4 19h0m-3-14h0m-1 11h0m-1 0h0m-7-3h0m-16-9h0m-18-1h0m-23 14h0m-4-1h0m-25-6h0m-4-7h0m-17 7h0m-22-5h0m-16 11h0m-38-18h0m-18 14h0m-2-3h0m-12-11h0m-83 22h0m46 21h0m54-3h0m43-8h0m36-4h0m71 2h0m0-8h0m5 6h0m16 17h0m24-13h0m3 6h0m8-15h0m5 13h0m1 0h0m12-10h0m6-2h0m2 14h0m6 7h0m4-2h0m0-5h0m1-16h0m15 8h0m5 7h0m10-7h0m3-3h0m9 17h0m20-16h0m-16 24h0m-19 0h0m-13 7h0m-34-10h0m-3 11h0m-3-9h0m-6-1h0m-1-2h0m-8 3h0m-1-3h0m-1 9h0m-20-10h0m-24 4h0m-10-5h0m-3 10h0m-46 8h0m-7-12h0m-38 6h0m-12-4h0m-15 2h0m-4 7h0m-23-17h0m-24 21h0m-56-3h0m-18 4h0m0-19h0m0 22h0m0 16h0m18 3h0m56-15h0m12 14h0m22-13h0m4 4h0m13-4h0m16 1h0m45 2h0m6-3h0m56 16h0m44-16h0m8-5h0m45 6h0m1-7h0m11 0h0m7 4h0m-72 40h0m-30-1h0m-52-2h0m-4-10h0m-7 8h0m-8-1h0m-5-1h0m-4-4h0m-13 2h0m-1-10h0m-9 7h0m-11 1h0m-5 13h0m-14-6h0m-55-16h0m-12 2h0m-44 16h0m-18-11h0m0 4h0m0 24h0m0-5h0m0 17h0m0-17h0m46 6h0m28 0h0m37-12h0m43 23h0m13-10h0m42-7h0m49-1h0m-110 38h0m-9-10h0m-65-5h0m-12-2h0m-44 16h0m-18 1h0m87 13h0m132 12h0m5-19h0m5 4h0m78 9h0m-102 13h0m-5 18h0m-138-3h0"/><path d="M1621 2025h0m28 46h0m0 8h0m28 0h0m227-12h0m3 38h0m-1-1h0m-6-10h0m-118 7h0m-28 3h0m-5-10h0m-44 14h0m-12-8h0m-28-10h0m-44 38h0m64 3h0m44-16h0m20 7h0m14-3h0m14 13h0m64 1h0m33-14h0m33 15h0m2-1h0m12-16h0m14 14h0m3-2h0m28-5h0m34 30h0m-11 4h0m-4 1h0m-19-11h0m-2 10h0m-14-4h0m-11 0h0m-4 4h0m-1-13h0m0 9h0m-3-10h0m0 2h0m-6-9h0m0 20h0m-14-18h0m-14 18h0m-4-2h0m-12-11h0m-5 12h0m-1-6h0m-8 0h0m-3-5h0m0 10h0m-22-9h0m-48 4h0m-16 8h0m-31-20h0m-5 9h0m-7-7h0m-49-1h0m-21 4h0m-62 34h0m18-7h0m96 0h0m25 11h0m0-4h0m15-8h0m63 13h0m9-8h0m24 8h0m1-19h0m5-3h0m15 2h0m25 18h0m2-20h0m11 17h0m3-9h0m7 1h0m6 7h0m2-2h0m2 2h0m4 5h0m1 2h0m3-7h0m2 3h0m1-6h0m1-2h0m5-10h0m0 3h0m3 1h0m4-1h0m0 9h0m2 6h0m3-18h0m10 13h0m3-8h0m2-6h0m19 33h0m-12 0h0m-1 0h0m-6-8h0m-4 12h0m-1-12h0m-4 18h0m-4-17h0m-4 10h0m-3-7h0m-8 6h0m-13 1h0m-2-11h0m-3 4h0m-3 18h0m0 0h0m-3-13h0m-3-7h0m-1 10h0m-2-9h0m0-1h0m0 11h0m-8-12h0m-1 18h0m-6-17h0m-1-2h0m-1 9h0m-28-8h0m-4 10h0m-1-2h0m-5-6h0m-5-1h0m-14-2h0m-23 13h0m-3-8h0m-14-4h0m-23 3h0m-1 17h0m-2-12h0m-14 0h0m-8 1h0m-10 10h0m-17-21h0m-5 14h0m-20-9h0m-83 13h0m0 5h0m-18-23h0m0 46h0m29-8h0m45-1h0m39-3h0m7 7h0m0 4h0m8 1h0m0-10h0m20-11h0m78-1h0m17 13h0m15 7h0m1-15h0m3 13h0m35-1h0m1-11h0m7 5h0m10 2h0m6-6h0m3 16h0m2-4h0m11 4h0m1-7h0m1 5h0m2-20h0m1 11h0m2-5h0m4 2h0m1-7h0m2 5h0m7-4h0m9 38h0m-5-13h0m-11-4h0m-13 9h0m-13-5h0m-8 13h0m-12-4h0m-8 2h0m-5-9h0m-5 4h0m-6 5h0m-42-9h0m-37-2h0m-5 15h0m-23 1h0m-2-12h0m-3-5h0m-6 6h0m-7 10h0m-27-10h0m-14 2h0m-18-4h0m-35 7h0m0-13h0m0 3h0m0 5h0m-16 5h0m-28-4h0m-18 5h0m0-1h0m0 27h0m0-15h0m18 11h0m44 4h0m48-9h0m14 10h0m19-1h0m2-7h0m10 13h0m20-1h0m57-13h0m33-8h0m33 16h0m43-12h0m-69 39h0m-32-8h0m-16-2h0m-4-4h0m-2 6h0m-3-3h0m-15-2h0m-5 8h0m-2 3h0m-11-17h0m-10 13h0m-75-13h0m-34 7h0m-1 7h0m0-1h0m-44-6h0m0 15h0m-18 14h0m0-7h0m0 17h0m164-19h0m28-4h0m30 21h0m17-21h0m91 2h0m-93 23h0m-147 9h0m-16 12h0m-28-18h0m0 15h0m-46-16h0m0 14h0m0 16h0m107 5h0m109 1h0m7-4h0m51 3h0m-58 12h0m-133 4h0m-37 17h0m-46 9h0m207 34h0"/><path d="M1790 2036h0m-169 34h0m185-2h0m80 15h0m-129 25h0m-154 25h0m0-5h0m0 2h0m18 4h0m44-13h0m136 4h0m23 9h0m31-7h0m4-12h0m7 13h0m0-12h0m25 4h0m10-3h0m10 10h0m39-14h0m29 6h0m33 40h0m-22-20h0m-28 14h0m-3-13h0m-3 18h0m0-1h0m-4-1h0m-5-4h0m0-13h0m-14-2h0m-3 16h0m-4-10h0m-4 9h0m-6-8h0m-13 6h0m-7 4h0m-1-3h0m-1 3h0m-13-6h0m-7-6h0m-2 0h0m-9 9h0m-2 4h0m-24-10h0m-5 9h0m0-7h0m-29 8h0m-15 0h0m-3 0h0m-37-10h0m-29 0h0m-2 2h0m-8 8h0m-16 4h0m-90 20h0m46-2h0m105-7h0m60 4h0m27-11h0m6 7h0m5 1h0m8-8h0m8 8h0m2-10h0m5 15h0m1-11h0m2 14h0m9-15h0m2 6h0m4 7h0m0-9h0m8-5h0m6 4h0m5-3h0m1 19h0m3-11h0m1-7h0m0 14h0m5-17h0m1 13h0m2-15h0m0 9h0m5 0h0m4-8h0m3 6h0m2-2h0m2-2h0m1 10h0m2 7h0m2-3h0m4-8h0m7 14h0m8-1h0m6-4h0m0 3h0m10-15h0m-1 38h0m-1-19h0m-1 3h0m-2 8h0m-4-9h0m0 12h0m-2-7h0m-4 15h0m-2-22h0m-2 13h0m-1 2h0m0 6h0m-5-22h0m-1 19h0m-1-4h0m-4 7h0m-1 1h0m-2-13h0m-3-8h0m-2 16h0m0-13h0m0 1h0m-1 0h0m0 11h0m-2-13h0m-8-4h0m-1 19h0m0-11h0m-1 7h0m-1-13h0m-1 11h0m-1-3h0m-1 0h0m-6 11h0m0-7h0m0 4h0m0-7h0m-2 11h0m0-18h0m-5 2h0m-2 17h0m-20-14h0m0-6h0m-9 5h0m-6 12h0m-7-14h0m-38 4h0m0 9h0m0-3h0m-27-9h0m-25 6h0m-10 6h0m-10-12h0m-21-5h0m-10 12h0m-13-1h0m-26-5h0m-39-6h0m-46 7h0m18 18h0m44 15h0m59-16h0m0 6h0m16 8h0m36-12h0m12 5h0m20 3h0m8-2h0m49 1h0m6-6h0m32 4h0m3 11h0m7-9h0m3-9h0m2 17h0m18-6h0m1 9h0m1-7h0m3-15h0m1 23h0m2-11h0m1-3h0m1-8h0m3 9h0m3 7h0m9-16h0m8 5h0m2 7h0m27 21h0m-30 4h0m-23-8h0m-5 8h0m-1-3h0m-9-2h0m-9 5h0m-45-5h0m-25 7h0m-2-8h0m-13-8h0m-5 11h0m-16-6h0m-9 16h0m-7-2h0m-5-17h0m-19 12h0m-19 0h0m-51-12h0m-56 21h0m-28-12h0m-18 3h0m0 7h0m0-8h0m0-8h0m0 20h0m0 2h0m0 10h0m46-10h0m0 7h0m57-9h0m1 15h0m13 3h0m5-7h0m4 4h0m41-14h0m9 20h0m5-16h0m55-5h0m12 1h0m11 1h0m0 20h0m53-21h0m27 3h0m6-2h0m22 11h0m-55 13h0m-33 11h0m-60-11h0m-12-3h0m-61 12h0m-34 11h0m-1-13h0m-3-10h0m-34 13h0m-66-2h0m-8 9h0m46 11h0m16 12h0m0 2h0m81-21h0m15 15h0m2 4h0m112-15h0m47 32h0m-59-2h0m-1-7h0m-26 2h0m-31 12h0m-58-9h0m-47 0h0m-51 10h0m0 0h0m-46-8h0m0 15h0m46 9h0m37 11h0m198-8h0m-191 32h0m-28 12h0m21-1h0m-9 25h0m-28 2h0m-46 61h0"/><path d="M1695 2072h0m277 33h0m-23-12h0m-3-2h0m-152 16h0m-173 26h0m72-18h0m67 7h0m18 10h0m0-18h0m108 15h0m2 3h0m1 2h0m8-9h0m12 6h0m28-11h0m2 0h0m12 14h0m43 24h0m-23 0h0m-14-7h0m-1-8h0m-2 16h0m-1-10h0m-13 4h0m-3-4h0m-10 1h0m-3-6h0m-7-8h0m-14 14h0m-15-5h0m-7-8h0m-9 21h0m-42-8h0m-1-11h0m-11 11h0m-20-8h0m-14 15h0m-15-3h0m-7-12h0m-5 12h0m-10-4h0m-17-6h0m-37 6h0m-28-4h0m-16 10h0m-28-13h0m-18 29h0m118-3h0m3 11h0m19 2h0m10-14h0m6 7h0m2-7h0m62-7h0m5 3h0m12 13h0m23 2h0m15-15h0m8 2h0m1 14h0m8-1h0m8-12h0m1-6h0m3 3h0m0 3h0m2 15h0m7-8h0m0 7h0m1-20h0m1 8h0m1 12h0m3 1h0m11-17h0m0 8h0m2-7h0m3-3h0m4 15h0m6-15h0m0 19h0m0-21h0m5 9h0m1 2h0m1 10h0m0-7h0m1-7h0m8 1h0m5 14h0m2-8h0m2 7h0m7 0h0m10-15h0m0 4h0m5-3h0m18 21h0m-10 5h0m-14 3h0m-3-6h0m-9 2h0m-3 0h0m-10 14h0m-3-22h0m-1 9h0m-7 12h0m-2 1h0m-2-7h0m-1-15h0m0 0h0m-1 7h0m-2-6h0m-1 0h0m0-1h0m-1 4h0m-1-1h0m0-4h0m-2 17h0m-5-2h0m0-11h0m-1-1h0m-1 0h0m-1 10h0m-3-5h0m-7 1h0m0 4h0m-6-2h0m-6 12h0m-1-4h0m-2-8h0m-2 2h0m0 7h0m-12 3h0m-5-22h0m-23 13h0m-45 3h0m-17-5h0m-3 11h0m-30-9h0m-1-7h0m-11 14h0m-14-13h0m-9 2h0m-4 6h0m-12-15h0m-18 6h0m-80 9h0m0-4h0m0 3h0m-18 0h0m90 29h0m25-19h0m6 3h0m13 12h0m52-9h0m12 6h0m3 5h0m6-16h0m16 12h0m4 1h0m15-2h0m16-3h0m25 11h0m3-18h0m10 20h0m3-14h0m10-5h0m1 5h0m1-3h0m3-6h0m1 11h0m7-4h0m2 9h0m1-14h0m4 0h0m2 7h0m3 10h0m1-17h0m1 20h0m0-1h0m1-13h0m2 3h0m4-4h0m4 9h0m1-15h0m0 15h0m1-6h0m4-5h0m3 12h0m1 3h0m13-5h0m17-12h0m11 6h0m-31 28h0m-4 3h0m-10-14h0m-3 4h0m-6-2h0m-13 0h0m-8 2h0m-11 7h0m-3 7h0m-1-16h0m-5 5h0m-4 2h0m-7 11h0m-17-13h0m-15 1h0m-19-7h0m-12-3h0m-11 16h0m-2-14h0m-19 1h0m-18 4h0m-27 14h0m-16-2h0m-5-1h0m-29-2h0m-28-7h0m-12 6h0m-44 1h0m0 1h0m-18-8h0m0-5h0m0 27h0m0 3h0m62 13h0m32-7h0m89-5h0m38-3h0m2-5h0m29 17h0m4 3h0m8-10h0m67-3h0m12-6h0m5 2h0m-70 25h0m-5 5h0m-17 9h0m-39-1h0m-1-7h0m-25-4h0m-9-1h0m-4 7h0m-15-13h0m-7 17h0m-19-3h0m-30-15h0m-61 0h0m-28 6h0m0 3h0m-18-4h0m18 33h0m28-15h0m16 23h0m94-11h0m23-5h0m20-3h0m13 2h0m18-1h0m-61 23h0m-16 1h0m-28 10h0m-28-13h0m-79 1h0m0 22h0m44 17h0m28-6h0m17-11h0m128 1h0m-145 23h0m-72 40h0m132 1h0m-104 22h0m0-9h0m51 32h0m10-15h0"/><path d="M1603 2070h0m155-5h0m81 17h0m66-13h0m26 8h0m-133 13h0m-21 13h0m-4 7h0m-170 0h0m286 21h0m12-16h0m16 18h0m2 2h0m13-3h0m1-18h0m11 18h0m41-13h0m-13 35h0m-1-17h0m-10 9h0m-15-2h0m-8-3h0m-5 15h0m-5-1h0m-5 2h0m-1-15h0m-3-5h0m-3 5h0m-5 16h0m-3 0h0m-15-16h0m-2 5h0m-3 6h0m-12-1h0m-15 2h0m-11 1h0m-3 0h0m-28 3h0m-7 1h0m-14-23h0m-22 11h0m-53 1h0m-120 11h0m18 5h0m77-4h0m52 3h0m2 12h0m8-14h0m9 18h0m13-8h0m5-3h0m4 1h0m1 2h0m0-8h0m3 10h0m25-9h0m20 14h0m7-2h0m3 5h0m20-7h0m21-9h0m13 8h0m2-7h0m5 7h0m0-6h0m5 15h0m1-8h0m5-10h0m4-2h0m3 12h0m3 7h0m1-9h0m5-6h0m3 2h0m3 12h0m0-13h0m0 7h0m4-3h0m1 2h0m3 8h0m3-15h0m5 5h0m11 6h0m2-9h0m2 12h0m8-16h0m0 18h0m5-5h0m22 25h0m-26-4h0m-3-3h0m-11-8h0m-6 1h0m-3 7h0m0-6h0m-2 0h0m-4-2h0m-3 20h0m-1-8h0m-7-15h0m0 20h0m-1-8h0m-1-8h0m0 5h0m-1 4h0m0-3h0m-2 1h0m-1-10h0m-6 0h0m-2 22h0m-6-16h0m-2-2h0m-2 0h0m-2 15h0m-3 3h0m-4-11h0m-4 7h0m-3-1h0m-1-5h0m0 3h0m-1-2h0m-2 0h0m-36 9h0m-3-2h0m-17-19h0m-1 6h0m-15 7h0m-10-8h0m-15-5h0m-4 0h0m-2-2h0m-4 10h0m-16 6h0m-5 3h0m-30-10h0m-37-7h0m0 8h0m-102 7h0m0 15h0m0 0h0m114 8h0m1-3h0m4 4h0m23 6h0m5-1h0m20-15h0m44 2h0m2-7h0m2 6h0m9 1h0m2-6h0m5 5h0m2-8h0m3 5h0m1 5h0m33-8h0m33 0h0m5 9h0m1 2h0m6 5h0m3-11h0m4 6h0m2-11h0m0 6h0m2-4h0m2 11h0m0-5h0m1 5h0m0-9h0m14 3h0m0 11h0m6-14h0m2 0h0m1 3h0m2 12h0m16-2h0m0 6h0m-10 12h0m-21-12h0m-17-1h0m-1 13h0m-2-7h0m-8 7h0m-48 2h0m-14 0h0m-5-15h0m-18 8h0m-18 2h0m-2 0h0m-23-9h0m-8 8h0m-3 3h0m-14-3h0m-3-2h0m-8-4h0m-6 11h0m-10-14h0m-33 17h0m-80-17h0m-18 36h0m0-5h0m18 9h0m0-8h0m0 12h0m0-20h0m0 14h0m28 7h0m16-14h0m21 4h0m10-7h0m21-2h0m1 19h0m3 1h0m19-15h0m6-4h0m0 18h0m20-12h0m21 13h0m5-3h0m14 4h0m8-18h0m1 3h0m67-1h0m24 0h0m7-7h0m16 33h0m-2 5h0m-87-5h0m-2-7h0m-6 21h0m-4-9h0m-9-11h0m-7 4h0m-5 3h0m-1-9h0m-14 1h0m-9 7h0m-7-8h0m-2 21h0m-7-11h0m-13 1h0m-9 7h0m-5-5h0m-47-3h0m-7 6h0m-35-17h0m-30 14h0m-18-6h0m0 18h0m49 15h0m53-15h0m6 18h0m68-15h0m10-3h0m11 9h0m28 11h0m28-20h0m67 24h0m-89 17h0m-70 3h0m-46-13h0m-25-1h0m-28 9h0m0-11h0m-44 10h0m173 8h0m160 16h0m-96 28h0m-6 3h0m-41-20h0m-162 10h0m56 27h0m124 18h0m-164 50h0"/><path d="M1621 2045h0m84 37h0m199 6h0m-96 13h0m-85-1h0m-6 0h0m-114-10h0m62 44h0m21-17h0m9 18h0m60-6h0m65-1h0m0-3h0m18 8h0m55 0h0m19-12h0m27-5h0m6 15h0m3-18h0m53 43h0m-2-15h0m-16 11h0m-6 5h0m-5-12h0m-12 2h0m-4-2h0m-2 13h0m-7-11h0m-11 2h0m-2-13h0m-1 16h0m-1 0h0m-3 1h0m-13 3h0m-3-18h0m-6-1h0m-5 13h0m-9 7h0m-66-12h0m-4 9h0m-5-4h0m-35-6h0m-21 8h0m-141-4h0m-18-3h0m46 31h0m16 7h0m40-6h0m25-6h0m2 11h0m7-5h0m21 2h0m20-5h0m31-4h0m32 5h0m52-1h0m3 8h0m2-16h0m3 7h0m10 4h0m2-16h0m1 22h0m2-3h0m0-8h0m10 3h0m6-6h0m7-9h0m2 14h0m2-3h0m2-9h0m12 16h0m1-9h0m5 12h0m3 0h0m6-21h0m2 23h0m3 0h0m1-13h0m11 8h0m-9 21h0m-4-4h0m-17-3h0m-3 9h0m-1-1h0m-2-11h0m-2 8h0m-7 3h0m-1 2h0m-2-7h0m-1 9h0m-2-3h0m-4-9h0m-5 15h0m-7-6h0m-5 5h0m-2-15h0m0 6h0m-5-9h0m-2 13h0m0-5h0m-1 9h0m-3-15h0m-2 4h0m-1 1h0m-1 8h0m-2-4h0m-2-5h0m-3 8h0m-3-11h0m-4 10h0m-1 6h0m-1-15h0m-59 13h0m-3-6h0m-1-11h0m-10 2h0m-18 17h0m-1-7h0m-5-3h0m-12-1h0m-8-2h0m0-10h0m-1 9h0m-35-1h0m-1-7h0m-11 9h0m0-3h0m-4-1h0m-9-2h0m-2-1h0m-13 13h0m-7 6h0m-9-15h0m-12 1h0m-62 8h0m0 30h0m18-2h0m89-1h0m33 1h0m2-17h0m5 16h0m2-14h0m8 3h0m6 0h0m25 15h0m13-18h0m1 9h0m15 0h0m10-5h0m3-8h0m5 16h0m18-13h0m2 2h0m5 14h0m8-11h0m2 5h0m15 5h0m2-19h0m4 12h0m5 0h0m0 6h0m4-3h0m1-11h0m2 15h0m2-12h0m0 8h0m9 8h0m5-23h0m2 2h0m0 20h0m1-18h0m0 0h0m9 15h0m1 3h0m0-17h0m19-3h0m1 10h0m2-11h0m4 6h0m1-3h0m4 14h0m4-16h0m3 19h0m3-9h0m12-8h0m5 10h0m2-2h0m-1 14h0m-23 2h0m-23-4h0m-1 9h0m0-4h0m-12 4h0m-5-5h0m-5 8h0m-9 0h0m-18 1h0m-7-11h0m-38 8h0m-17 6h0m-5 0h0m-22-4h0m-4 4h0m-26 2h0m-38 1h0m-9-7h0m-23-3h0m-18-4h0m-5 14h0m-21-16h0m-16 4h0m-46 7h0m0 19h0m0 7h0m0-10h0m0 1h0m0-1h0m18-5h0m28 22h0m16-4h0m0-6h0m31-1h0m22-3h0m23 2h0m10 0h0m23 8h0m8-13h0m21 9h0m2 2h0m1 2h0m4-2h0m13-11h0m26 9h0m6-5h0m69 3h0m36-10h0m-54 37h0m-32-16h0m-62 9h0m-19 6h0m-18-7h0m-9-6h0m-6 4h0m-83-2h0m-12 5h0m0 14h0m-16-9h0m-28-10h0m-18 5h0m0 27h0m18-1h0m0-6h0m44 18h0m21-22h0m24 18h0m11 0h0m23-13h0m39 8h0m6-14h0m25 12h0m14 0h0m94 9h0m-71 22h0m-61-11h0m-88 0h0m-99 15h0m0 17h0m161-7h0m9 13h0m77-17h0m44 4h0m-3 21h0m-205 8h0m-37-3h0m-28 17h0m289 36h0m-107-14h0m-138 13h0"/><path d="M1603 2061h0m18 8h0m99 1h0m175 37h0m-10-4h0m-264 10h0m65 14h0m28-1h0m83 7h0m14-12h0m59-9h0m20 11h0m41 11h0m1-11h0m30-1h0m25 5h0m-4 22h0m-3-8h0m-2-2h0m-5 20h0m-1-6h0m-14 3h0m-7 0h0m-10-16h0m-4 12h0m-4-4h0m-4 4h0m-6-7h0m-2 2h0m-4-3h0m-25 3h0m-20-4h0m0 7h0m-28-4h0m-16-7h0m-54 4h0m-5-3h0m-2 8h0m-7 7h0m-22-8h0m-73-8h0m-44 18h0m28 24h0m28 2h0m28 0h0m15-8h0m5-8h0m2 1h0m2 15h0m1-9h0m26-11h0m3 13h0m9-1h0m0-5h0m3-4h0m10 1h0m37 6h0m57-12h0m2 9h0m8 1h0m6-8h0m9 20h0m8-3h0m7-8h0m0 6h0m5 5h0m3-16h0m6 16h0m0-15h0m1 9h0m1-3h0m2-1h0m5 0h0m2 7h0m0 0h0m0 0h0m4-1h0m4 4h0m5-15h0m1-4h0m1 6h0m0 7h0m0-11h0m0 10h0m1-12h0m1 19h0m7-21h0m4 4h0m6 11h0m2-12h0m4-3h0m11 9h0m5-4h0m9 31h0m-7-5h0m-4-5h0m0 4h0m-5-7h0m-13 21h0m-5-4h0m-2-14h0m-8 9h0m-6-4h0m-1 3h0m-10-2h0m-2-9h0m0 1h0m0 17h0m-2-17h0m-3 3h0m-5-2h0m-1 15h0m-6-2h0m-5 1h0m0-10h0m-1 16h0m-6-17h0m-2 9h0m-9-5h0m0 1h0m-1 6h0m-17-8h0m-21-7h0m-22 16h0m-12 4h0m0 1h0m-2-14h0m-2 4h0m-31-10h0m-2 4h0m-9 14h0m-18-1h0m-4-9h0m-38-9h0m-18-2h0m-2 2h0m-38-2h0m0 7h0m0 8h0m-16-6h0m-28 9h0m0-1h0m0-10h0m0 10h0m-18 5h0m0-7h0m0 32h0m46-20h0m16 1h0m28 9h0m6 3h0m20-4h0m5 3h0m19 2h0m7-1h0m15-8h0m23 11h0m1-6h0m1-3h0m13 9h0m2-8h0m50 2h0m3-4h0m6-8h0m8 7h0m24 13h0m6-20h0m1 6h0m8 9h0m0-4h0m1-10h0m6 16h0m4-1h0m16 2h0m2-10h0m2 12h0m1-7h0m3-7h0m3 8h0m1-8h0m1-4h0m1-2h0m2 4h0m0 7h0m3-4h0m2 8h0m14-16h0m3 18h0m10-4h0m2 29h0m-20-16h0m-9 12h0m-11-9h0m-13-3h0m-1 6h0m-6-1h0m-58 4h0m-2-2h0m-28-10h0m-37 13h0m0 3h0m-32-6h0m-57 6h0m-7-13h0m-7 10h0m-36 3h0m-15 7h0m-28-19h0m-18 36h0m0-6h0m18 6h0m0-6h0m28 2h0m37 4h0m9-16h0m10 8h0m24-6h0m3 15h0m2-7h0m4-2h0m8-6h0m7 21h0m11-22h0m19 19h0m6 2h0m3 0h0m10-19h0m1 6h0m5-7h0m12 8h0m4 12h0m11-6h0m5 2h0m31 3h0m26 0h0m11-17h0m32 7h0m6-9h0m23 5h0m-85 18h0m-20 14h0m-6-9h0m-12 9h0m-18-10h0m-36-1h0m-4 1h0m-10 3h0m-31 12h0m-2-15h0m-4 3h0m-92 15h0m-28-6h0m0-6h0m-18-6h0m0 30h0m18-6h0m44-2h0m12 14h0m51-5h0m49 2h0m29-5h0m0 1h0m-19 28h0m-110 1h0m-28 21h0m216 16h0m-172 1h0m-28 6h0m-62 17h0m304 11h0m-23 27h0"/><path d="M1677 2034h0m67 42h0m233 26h0m-53 1h0m-6 8h0m-58-3h0m-43-15h0m-11 12h0m-16-7h0m-18 7h0m-66 3h0m-57 15h0m142-8h0m36 8h0m11-1h0m64 11h0m8-1h0m30-8h0m4-8h0m5 13h0m43 3h0m-12 23h0m-1-16h0m-4 12h0m-22-10h0m-5 11h0m0 7h0m-11-2h0m-6-5h0m-1-13h0m-1 16h0m-1-7h0m-9-7h0m-15 7h0m-1 7h0m-9 3h0m-34-2h0m-5-11h0m-21 2h0m-24-7h0m-40-1h0m-33 3h0m-4 14h0m-9-17h0m-7 4h0m-12 2h0m0 2h0m-56 0h0m-28 36h0m55-4h0m17-19h0m43 19h0m1 0h0m25-2h0m24-8h0m7 12h0m27-1h0m5-4h0m36-8h0m24-3h0m3 15h0m0 1h0m14-16h0m1-1h0m4 17h0m7-11h0m12-9h0m0 5h0m1-1h0m8-2h0m4 18h0m9-20h0m2 22h0m1-10h0m5 1h0m2-14h0m1 12h0m8 1h0m3 2h0m2-1h0m2 3h0m2-3h0m1-3h0m11-4h0m9 28h0m-16-2h0m-3-9h0m-5 15h0m0 0h0m-4-1h0m-1 9h0m0-3h0m-4 1h0m-1-7h0m-6-1h0m-1-8h0m-1-2h0m0-1h0m-6 14h0m-2-3h0m0-13h0m-7 9h0m-2-4h0m-4 18h0m-11-17h0m-6 14h0m0-6h0m-7-7h0m-18 14h0m-2-6h0m-14 8h0m-8-19h0m-27 8h0m-39-2h0m-3-10h0m-14 1h0m-26 2h0m-4 9h0m-5 0h0m-5 4h0m-17-16h0m0 20h0m-5-17h0m-4-1h0m-16 1h0m-10 15h0m-28 5h0m0-4h0m-62 20h0m18 7h0m0-14h0m92-8h0m22 0h0m44 10h0m13 4h0m1-12h0m46 7h0m3-7h0m16 7h0m13 11h0m5-19h0m11 7h0m6-8h0m2 8h0m5-2h0m8 5h0m0-2h0m10-3h0m2 6h0m1-4h0m3 3h0m0-10h0m5 17h0m5-11h0m2 5h0m4-2h0m4-10h0m0 21h0m2-1h0m10-9h0m2 5h0m0-13h0m0 13h0m0-6h0m9-3h0m2-1h0m0-4h0m1 16h0m-4 28h0m-14-9h0m-11-6h0m-4 0h0m-14 8h0m-6-12h0m-10 2h0m-24 16h0m-10-6h0m-10-12h0m-60-3h0m-9 6h0m-1 11h0m-42-7h0m-58-7h0m-44 8h0m0 11h0m-28-8h0m-18-7h0m0 3h0m0-4h0m0 30h0m46-1h0m0-1h0m28-2h0m23 9h0m45-1h0m1-12h0m6 0h0m26 5h0m4-2h0m3 16h0m10-5h0m1-11h0m14 11h0m40 4h0m26-13h0m54 7h0m6 29h0m-24-17h0m-20 1h0m-3 10h0m-2-1h0m-8-3h0m-1 12h0m-27-18h0m-2 14h0m-13-15h0m-1-1h0m-7 3h0m-13-1h0m-25-3h0m-8 8h0m-12-7h0m-52 18h0m-8-10h0m-61-5h0m-28 15h0m28 12h0m16-5h0m12 1h0m9 11h0m19-15h0m31 4h0m9 6h0m9-9h0m12 11h0m8 3h0m18-12h0m6 1h0m10 3h0m24 4h0m27-7h0m10 3h0m-13 24h0m-82-8h0m-45 1h0m-8 4h0m-35 11h0m-37-8h0m-46 0h0m46 27h0m0-4h0m16 7h0m12 0h0m48-7h0m78 0h0m197 35h0m-222-8h0m-157 31h0"/><path d="M1870 2099h0m-82 11h0m-22-14h0m-63 12h0m-100 12h0m116 4h0m19 6h0m7-3h0m28 6h0m1-9h0m81-10h0m74 14h0m47 14h0m-13 17h0m-11-10h0m-5 8h0m-4-19h0m0 20h0m-5-9h0m-3-12h0m-8 22h0m-13-6h0m-13-13h0m-8 5h0m-22 0h0m-8 9h0m-3-7h0m-14-11h0m-1 1h0m-32 0h0m-27 0h0m-3 15h0m-6-13h0m-30 10h0m-15 6h0m-3-1h0m-35-13h0m-29 5h0m-16-4h0m-28 7h0m-18 32h0m18-20h0m44 7h0m21 8h0m14 7h0m11-22h0m18 12h0m4-12h0m1 16h0m31 0h0m5-5h0m26 10h0m6-5h0m1 2h0m8-8h0m55 2h0m8-7h0m2 17h0m5-18h0m7 9h0m9-8h0m0 15h0m3-7h0m13-5h0m1 1h0m1-4h0m1 13h0m3 1h0m2-12h0m6 2h0m7 13h0m4-18h0m1 12h0m2-13h0m0 9h0m2 3h0m2 1h0m2-10h0m1-1h0m3 3h0m11 1h0m0-3h0m3 6h0m0-13h0m0 21h0m0-5h0m1-14h0m0 9h0m12 9h0m7-13h0m-6 35h0m-4-13h0m-2 3h0m-4 4h0m-2 1h0m-3 7h0m-2 2h0m-5-15h0m-2 13h0m-1-4h0m-2 2h0m0-10h0m-1 14h0m0-20h0m-4 5h0m-6-6h0m-2 10h0m-1-4h0m-2 12h0m-4 0h0m-2-19h0m-2 23h0m0-10h0m-10 2h0m-5-13h0m-5 7h0m-3 9h0m-7 0h0m-2 4h0m-12-11h0m-19 6h0m-6-7h0m-14-10h0m-3 9h0m-15-4h0m-1 8h0m-10 0h0m-6 7h0m-9-13h0m-6 11h0m-42-4h0m-29-14h0m-11 9h0m-8-9h0m-12 12h0m-10 7h0m-6-14h0m0 8h0m-56 9h0m0-14h0m-18-1h0m18 19h0m86 7h0m27-6h0m10 7h0m3-1h0m2 3h0m29 6h0m5-7h0m19 12h0m32-16h0m1 3h0m3-2h0m1-1h0m29 10h0m7-16h0m4 17h0m13-13h0m8-4h0m5 7h0m4 8h0m9-16h0m6 7h0m5 5h0m3 2h0m1-10h0m2-2h0m3 3h0m4-1h0m11-4h0m1 11h0m2 5h0m0-14h0m7 4h0m9 12h0m6-10h0m15 17h0m-28 20h0m-10-15h0m-24 14h0m-5-12h0m-2-4h0m-6-2h0m-13 8h0m-13 10h0m-29 1h0m-14-6h0m-35 3h0m-4 2h0m-35 1h0m-12-19h0m-1 10h0m-33 10h0m-18-19h0m-25 14h0m-21-14h0m0 19h0m-62 16h0m0 0h0m62-1h0m0 10h0m0-13h0m35 11h0m0-5h0m89-1h0m11 0h0m1-2h0m12-10h0m11 15h0m4-14h0m41 14h0m13 2h0m21-9h0m42-8h0m8 16h0m19 3h0m-12 11h0m-37-9h0m-35 1h0m-13 13h0m-78 9h0m-47-10h0m-1 3h0m-49-14h0m-35 8h0m0-6h0m-16 0h0m0 12h0m-28-3h0m-18-9h0m46 21h0m0 13h0m28 8h0m102-5h0m1-16h0m18 15h0m28 3h0m26-11h0m22 1h0m-71 19h0m-13 0h0m-65-4h0m-11 4h0m-37 11h0m-74-12h0m90 25h0m7 7h0m53-9h0m172 19h0m-167 8h0m-26 7h0m-13 8h0m-116 20h0m171-10h0m-50 25h0"/><path d="M1941 2109h0m-12-3h0m-40-6h0m-13-3h0m-72-8h0m-52 46h0m24-3h0m32-8h0m86-10h0m1 8h0m24-10h0m19 18h0m5-9h0m6 2h0m37 20h0m-12 13h0m-8-8h0m-5-3h0m-5 2h0m-1-4h0m-9 10h0m-1-2h0m-1-2h0m-1-9h0m-6 18h0m-1-4h0m0-14h0m-1 17h0m0-11h0m-1 6h0m-2 0h0m-4-3h0m-16 6h0m-4 3h0m-6-3h0m-6-5h0m-14 3h0m-4-4h0m-1 4h0m-22-10h0m-55 9h0m-12 7h0m-56-3h0m-8-8h0m-75-10h0m-28 5h0m-18-5h0m0 5h0m46 37h0m16-8h0m65-12h0m1 6h0m30 4h0m6 11h0m4-20h0m2 9h0m3 5h0m0 6h0m9-13h0m8-2h0m16 7h0m48 1h0m6-10h0m17 3h0m13 0h0m7 12h0m14 0h0m0-14h0m0 12h0m4-3h0m1-1h0m4-8h0m8 13h0m2-2h0m1-4h0m2-1h0m5-6h0m0 14h0m5-3h0m4-9h0m0-6h0m2 18h0m2 1h0m1 1h0m2-21h0m1 4h0m1 12h0m2-10h0m6 17h0m4-7h0m3 7h0m52 20h0m-32-6h0m-5-11h0m-3 4h0m-12 0h0m0 9h0m-1 5h0m-2-17h0m-5 14h0m-1-12h0m0 4h0m0 1h0m0 10h0m-4-6h0m-3-12h0m-4 4h0m-2 4h0m-1 4h0m-4 9h0m-5-9h0m-1-10h0m0-4h0m-3 5h0m-1 5h0m0 4h0m-6-5h0m-2-8h0m-2 7h0m-1 4h0m-1 5h0m-3 2h0m0 0h0m-1-7h0m-6-5h0m-8 0h0m0-2h0m-2 6h0m-3-2h0m-17 12h0m-1-16h0m-9 16h0m-3-17h0m-2 9h0m-5 1h0m-68-13h0m-5 12h0m-10-13h0m-34 16h0m-6-14h0m-23 19h0m-1-10h0m-12 12h0m-1-9h0m-28 1h0m-12-6h0m-62 16h0m18 22h0m44-1h0m0-12h0m25 13h0m15-7h0m18-11h0m4 13h0m2-12h0m24-1h0m9-1h0m12-4h0m6 9h0m5-3h0m13 14h0m22-11h0m3 11h0m16-3h0m7-9h0m1-4h0m4 3h0m28 4h0m7-6h0m10 0h0m5 8h0m2-1h0m5 6h0m9 2h0m2 1h0m1-7h0m7-9h0m1 15h0m2-19h0m4 15h0m2-6h0m2-4h0m2 8h0m0-6h0m1 13h0m1-18h0m2 0h0m6 6h0m4 3h0m2-4h0m3-8h0m2 8h0m6 5h0m1 3h0m2-16h0m7 7h0m17-3h0m7 2h0m-34 25h0m-13 3h0m-9 4h0m-15 1h0m0-9h0m-19 16h0m-18 0h0m-18-21h0m-67 20h0m-7 0h0m-26-6h0m-32-5h0m-5-6h0m-61 13h0m0-7h0m-28 7h0m-46 16h0m46 3h0m0-12h0m0 14h0m67-14h0m2 9h0m10 4h0m12 3h0m18-8h0m26-6h0m24 15h0m51-15h0m7-2h0m1 1h0m32 11h0m14 4h0m17 25h0m-57 2h0m-3-15h0m-24 18h0m-6-12h0m-15 12h0m-9-20h0m-13-1h0m-6 8h0m-9 1h0m-12 7h0m-1-9h0m-6 9h0m-21-2h0m-9-13h0m-17 8h0m-57 5h0m0-6h0m-62 14h0m0-17h0m0-6h0m0 6h0m0 2h0m0 29h0m135 3h0m5 3h0m6-2h0m20-15h0m11 5h0m12 10h0m25-1h0m38-2h0m131 23h0m-325-8h0m-40 18h0m44 15h0m0-9h0m0-2h0m12 15h0m28-15h0m13 18h0m61-13h0m77-6h0m57 30h0m-25 1h0m-49 10h0m-218-14h0m-18 14h0"/><path d="M1926 2095h0m-142 10h0m-91 0h0m116 23h0m40 7h0m7-2h0m23-4h0m7 4h0m33-3h0m10-13h0m1 18h0m23-2h0m6-4h0m37 29h0m-9-10h0m-23 6h0m-3-4h0m-4 7h0m-12 2h0m-3-13h0m-2 7h0m-1-5h0m-3-11h0m-7 15h0m-9 5h0m0-12h0m-3-1h0m-20 0h0m-36 1h0m-12-9h0m-17 7h0m-5 11h0m-3-11h0m-60-3h0m-3 18h0m-11-14h0m-1-7h0m0 22h0m-1-20h0m0 14h0m-4-17h0m-4 7h0m0-2h0m-8 15h0m-16-19h0m-95 33h0m79-2h0m28 6h0m14-6h0m22 14h0m12-11h0m11 5h0m17-9h0m22-1h0m4 15h0m23-11h0m16 6h0m7-8h0m2 5h0m1-9h0m3 5h0m2-5h0m18 9h0m2 5h0m7-5h0m10 0h0m1-2h0m6-2h0m1-6h0m2 11h0m2 0h0m2-7h0m1 6h0m2 9h0m1-3h0m0-1h0m1 1h0m3 2h0m1-19h0m4 6h0m3-3h0m29-4h0m15 36h0m-7 1h0m-1-8h0m-16 13h0m-4-6h0m-7 5h0m0 2h0m-1-14h0m0 15h0m-7-21h0m-1 17h0m-7-9h0m0 11h0m0-11h0m-4 0h0m-1 11h0m-1-8h0m-1-5h0m-3-3h0m0 18h0m-3-17h0m-1 18h0m0-19h0m-2 5h0m-1 7h0m-1-7h0m-1 1h0m-16-7h0m-1 18h0m-2-19h0m-12 20h0m-2-20h0m-3-1h0m-1 0h0m-3 1h0m-17 18h0m-9-12h0m-1 14h0m0-15h0m0 5h0m-6 12h0m-4-12h0m-85-8h0m-9 15h0m-12-15h0m-1 12h0m-18-13h0m-3 9h0m-7 8h0m-110 2h0m0 0h0m0 14h0m0 11h0m0-15h0m0 8h0m0 4h0m18-14h0m0 0h0m44 13h0m26-6h0m8 9h0m1-3h0m14-4h0m7 5h0m7-10h0m38-3h0m8 14h0m25-13h0m5-5h0m24-2h0m11 4h0m2 6h0m19-6h0m0 18h0m15-16h0m7 7h0m1-8h0m12-3h0m3 2h0m12 7h0m0-6h0m8-4h0m1 3h0m5 1h0m3 2h0m1 9h0m0-16h0m4 10h0m3 13h0m2-19h0m5 6h0m6 7h0m1 2h0m1-19h0m6 20h0m1-20h0m5 14h0m8-1h0m4 7h0m0-9h0m-14 21h0m-15 13h0m-11-5h0m-10 2h0m0-1h0m-2-11h0m-7 15h0m-25 1h0m-10-16h0m-1 8h0m-32 0h0m-11-11h0m-16 1h0m-9 9h0m-34 5h0m-2 2h0m-3-6h0m-7 7h0m-6-11h0m-7-2h0m-4 7h0m-24-7h0m0-8h0m-18 16h0m-2-10h0m-83-6h0m-18 41h0m0-13h0m0 7h0m18 2h0m56 3h0m23 2h0m14 2h0m37-8h0m3 8h0m21-20h0m9 20h0m9-10h0m10-5h0m2 1h0m6 9h0m23-12h0m2 16h0m15-9h0m4-7h0m7 2h0m96-5h0m-72 43h0m-12-3h0m-11-14h0m-34 0h0m-27 18h0m-4-1h0m-5-14h0m-3-2h0m-1 11h0m-1 8h0m-10-15h0m-16-5h0m-1 6h0m-9 15h0m-1-22h0m-2 15h0m-31-11h0m-69 7h0m-28-3h0m0 21h0m44 7h0m21 0h0m98 10h0m6-15h0m41 5h0m66-8h0m8 2h0m44 6h0m-151 13h0m-6 0h0m-55 8h0m-44 3h0m-90 3h0m0-8h0m0 14h0m0 10h0m0 7h0m18-6h0m0-1h0m56 9h0m129 4h0m20-17h0m-176 26h0m50 55h0m39 49h0"/></g>
<use href="#idg" filter="url(#blur8)" opacity="0.45"/>
</g>
<line x1="1876.2" y1="2010" x2="1876.2" y2="2515.5" stroke="#555" stroke-width="2.6" stroke-dasharray="12 8"/>
<line x1="1601.7" y1="2254.3" x2="2106" y2="2254.3" stroke="#555" stroke-width="2.6" stroke-dasharray="12 8"/>
<line x1="1601.7" y1="2010.7" x2="1601.7" y2="2516.2" stroke="#333" stroke-width="1.4"/>
<line x1="1601" y1="2515.5" x2="2105.3" y2="2515.5" stroke="#333" stroke-width="1.4"/>
<line x1="1589" y1="2033.7" x2="1601.7" y2="2033.7" stroke="#333" stroke-width="1.4"/>
<text x="1546" y="2042.7" text-anchor="middle" font-size="25">1<tspan font-size="21" dx="3" dy="-1">×</tspan><tspan dx="3" dy="1">10</tspan><tspan font-size="16" dx="1" dy="-11">4</tspan></text>
<line x1="1589" y1="2218" x2="1601.7" y2="2218" stroke="#333" stroke-width="1.4"/>
<text x="1578" y="2227" text-anchor="end" font-size="25">100</text>
<line x1="1589" y1="2401.9" x2="1601.7" y2="2401.9" stroke="#333" stroke-width="1.4"/>
<text x="1578" y="2410.9" text-anchor="end" font-size="25">1</text>
<line x1="1677" y1="2515.5" x2="1677" y2="2527.5" stroke="#333" stroke-width="1.4"/>
<text x="1677" y="2557.5" text-anchor="middle" font-size="25">10</text>
<line x1="1770" y1="2515.5" x2="1770" y2="2527.5" stroke="#333" stroke-width="1.4"/>
<text x="1770" y="2557.5" text-anchor="middle" font-size="25">100</text>
<line x1="1862.5" y1="2515.5" x2="1862.5" y2="2527.5" stroke="#333" stroke-width="1.4"/>
<text x="1862.5" y="2557.5" text-anchor="middle" font-size="25">1,000</text>
<line x1="1955" y1="2515.5" x2="1955" y2="2527.5" stroke="#333" stroke-width="1.4"/>
<text x="1955" y="2557.5" text-anchor="middle" font-size="25">1<tspan font-size="21" dx="3" dy="-1">×</tspan><tspan dx="3" dy="1">10</tspan><tspan font-size="16" dx="1" dy="-11">4</tspan></text>
<line x1="2047.2" y1="2515.5" x2="2047.2" y2="2527.5" stroke="#333" stroke-width="1.4"/>
<text x="2047.2" y="2557.5" text-anchor="middle" font-size="25">1<tspan font-size="21" dx="3" dy="-1">×</tspan><tspan dx="3" dy="1">10</tspan><tspan font-size="16" dx="1" dy="-11">5</tspan></text>
<text x="1854" y="2597" text-anchor="middle" font-size="27.5" textLength="369" lengthAdjust="spacingAndGlyphs">DNA accessibility (ATAC-seq)</text>
<rect x="1655.6" y="1964.9" width="24" height="23" fill="#bdbdbd"/>
<text x="1692.3" y="1983.2" font-size="24" textLength="115.5" lengthAdjust="spacingAndGlyphs">No change</text>
<rect x="1841.5" y="1964.9" width="24.5" height="23" fill="#3aa748"/>
<text x="1878.5" y="1983.2" font-size="24" textLength="265" lengthAdjust="spacingAndGlyphs">Transcription dependent</text>
<text x="1612.8" y="2042.5" fill="#8f8f8f" font-size="27.5">19%</text>
<text x="1612.8" y="2073.8" fill="#23974a" font-size="27.5">28%</text>
<text x="2089" y="2042.5" text-anchor="end" fill="#8f8f8f" font-size="27.5">17%</text>
<text x="2095" y="2073.8" text-anchor="end" fill="#23974a" font-size="27.5">62%</text>
<text x="1612.8" y="2469.6" fill="#8f8f8f" font-size="27.5">52%</text>
<text x="1612.8" y="2501.3" fill="#23974a" font-size="27.5">9%</text>
<text x="2089" y="2469.6" text-anchor="end" fill="#8f8f8f" font-size="27.5">12%</text>
<text x="2087" y="2501.3" text-anchor="end" fill="#23974a" font-size="27.5">&lt;1%</text>
</svg>
</body></html>
